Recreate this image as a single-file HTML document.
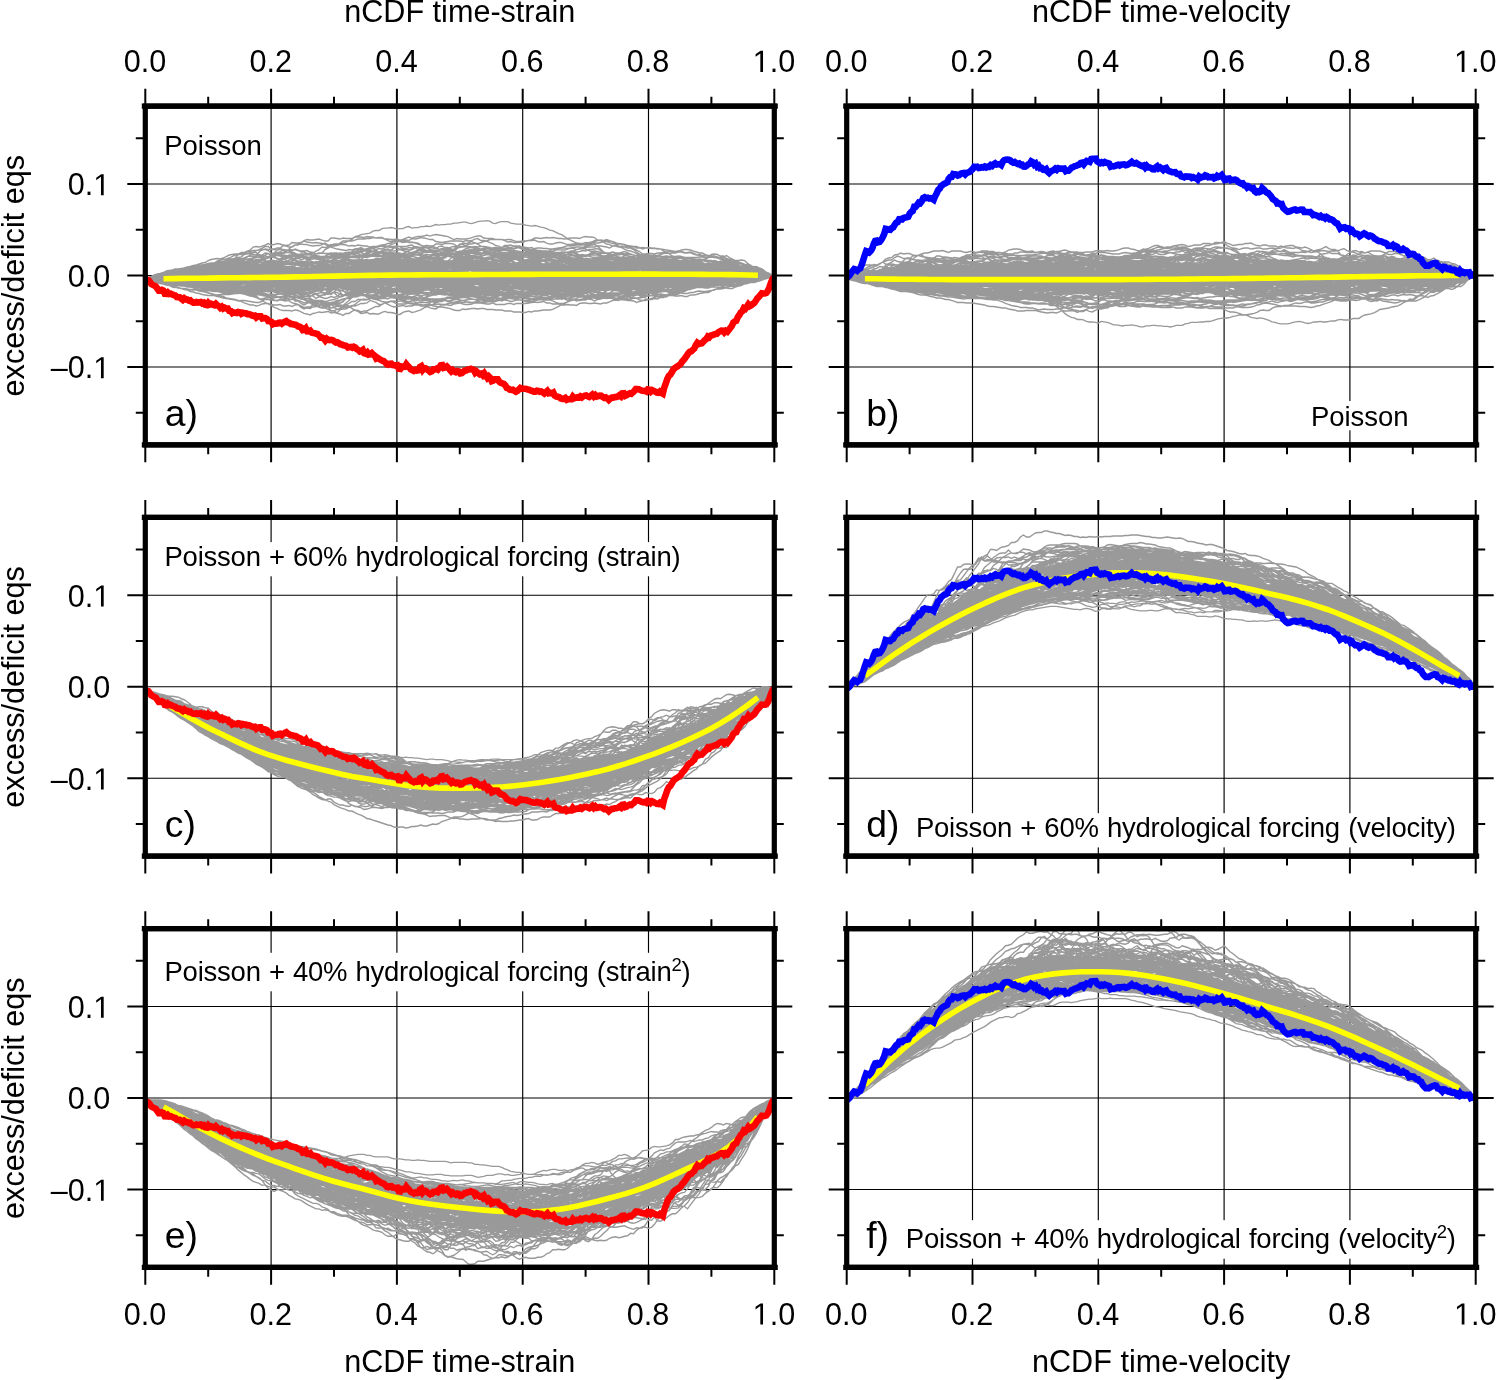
<!DOCTYPE html>
<html><head><meta charset="utf-8"><title>nCDF excess/deficit</title>
<style>html,body{margin:0;padding:0;background:#fff}body{width:1496px;height:1380px;overflow:hidden}svg{display:block;will-change:transform}text{font-family:"Liberation Sans",sans-serif;fill:#000}.a{font-size:30.6px}.t{font-size:27.5px}.l{font-size:37.3px}.g{fill:none;stroke:#999;stroke-miterlimit:3.3}.t2{font-size:27.5px;letter-spacing:-0.235px;word-spacing:0.8px}.t{letter-spacing:-0.05px}</style></head><body>
<svg width="1496" height="1380" viewBox="0 0 1496 1380">
<rect width="1496" height="1380" fill="#fff"/>
<g>
<clipPath id="c00"><rect x="145.3" y="106.15" width="629" height="338.7"/></clipPath>
<path d="M271.1 106.15V444.85M396.9 106.15V444.85M522.7 106.15V444.85M648.5 106.15V444.85M145.3 367H774.3M145.3 275.5H774.3M145.3 184H774.3" stroke="#000" stroke-width="1.15" fill="none"/>
<g clip-path="url(#c00)">
<g transform="translate(145.30 275.50) scale(0.49921)">
<path fill="#999" stroke="#999" stroke-width="1" d="M0 7L6 7L12 7L18 5L24 2L30 -1L36 -3L42 -4L48 -6L54 -9L60 -10L66 -11L72 -13L78 -13L84 -14L90 -15L96 -17L102 -18L108 -20L114 -21L120 -21L126 -21L132 -22L138 -24L144 -25L150 -25L156 -28L162 -28L168 -28L174 -33L180 -33L186 -33L192 -33L198 -33L204 -22L210 -22L216 -22L222 -22L228 -22L234 -23L240 -23L246 -29L252 -28L258 -28L264 -28L270 -18L276 -18L282 -18L288 -17L294 -15L300 -15L306 -15L312 -15L318 -15L324 -15L330 -15L336 -15L342 -15L348 -27L354 -28L360 -21L366 -21L372 -21L378 -21L384 -21L390 -17L396 -17L402 -17L408 -17L414 -17L420 -31L426 -31L432 -31L438 -31L444 -31L450 -31L456 -31L462 -31L468 -32L474 -34L480 -34L486 -40L492 -45L498 -45L504 -32L510 -32L516 -32L522 -32L528 -32L534 -33L540 -33L546 -33L552 -33L558 -29L564 -29L570 -29L576 -29L582 -29L588 -29L594 -29L600 -11L606 -11L612 -11L618 -11L624 -11L630 -45L636 -5L642 -5L648 -5L654 -5L660 -5L666 -30L672 -30L678 -28L684 -28L690 -28L696 -24L702 -24L708 -24L714 -24L720 -24L726 -24L732 -24L738 -24L744 -24L750 -25L756 -25L762 -31L768 -31L774 -31L780 -50L786 -23L792 -23L798 -23L804 -23L810 -23L816 -25L822 -25L828 -31L834 -20L840 -20L846 -20L852 -20L858 -20L864 -35L870 -34L876 -34L882 -33L888 -33L894 -33L900 -33L906 -33L912 -36L918 -37L924 -27L930 -27L936 -27L942 -27L948 -27L954 -36L960 -36L966 -36L972 -35L978 -7L984 -7L990 -7L996 -7L1002 -7L1008 -40L1014 -35L1020 -35L1026 -35L1032 -35L1038 -32L1044 -32L1050 -32L1056 -30L1062 -30L1068 -30L1074 -30L1080 -30L1086 -30L1092 -32L1098 -32L1104 -26L1110 -23L1116 -23L1122 -23L1128 -23L1134 -23L1140 -24L1146 -24L1152 -28L1158 -28L1164 -29L1170 -30L1176 -30L1182 -19L1188 -19L1194 -19L1200 -19L1206 -18L1212 -18L1218 -15L1224 -13L1230 -8L1236 -5L1242 -2L1248 2L1254 2L1260 2L1260 2L1254 2L1248 2L1242 4L1236 5L1230 7L1224 9L1218 11L1212 13L1206 14L1200 14L1194 13L1188 13L1182 13L1176 13L1170 13L1164 20L1158 19L1152 19L1146 19L1140 19L1134 19L1128 23L1122 23L1116 24L1110 24L1104 24L1098 24L1092 24L1086 26L1080 28L1074 28L1068 28L1062 24L1056 24L1050 24L1044 24L1038 24L1032 24L1026 32L1020 33L1014 36L1008 36L1002 36L996 36L990 28L984 28L978 28L972 28L966 28L960 37L954 30L948 30L942 29L936 29L930 29L924 29L918 29L912 30L906 30L900 30L894 34L888 34L882 34L876 34L870 36L864 42L858 42L852 33L846 33L840 33L834 33L828 33L822 37L816 37L810 37L804 37L798 37L792 38L786 38L780 38L774 29L768 29L762 28L756 27L750 27L744 17L738 17L732 17L726 17L720 17L714 28L708 28L702 28L696 40L690 40L684 40L678 18L672 18L666 18L660 18L654 18L648 18L642 42L636 44L630 44L624 44L618 39L612 39L606 24L600 24L594 24L588 24L582 24L576 24L570 24L564 29L558 29L552 29L546 36L540 36L534 37L528 37L522 33L516 32L510 21L504 21L498 21L492 19L486 19L480 19L474 19L468 19L462 24L456 24L450 34L444 34L438 34L432 34L426 30L420 28L414 28L408 28L402 25L396 25L390 25L384 25L378 25L372 22L366 22L360 22L354 22L348 22L342 31L336 30L330 30L324 30L318 30L312 30L306 32L300 37L294 37L288 38L282 37L276 37L270 23L264 23L258 23L252 23L246 23L240 32L234 32L228 32L222 39L216 39L210 17L204 17L198 17L192 17L186 17L180 36L174 36L168 36L162 33L156 32L150 32L144 31L138 30L132 30L126 30L120 30L114 29L108 25L102 23L96 23L90 21L84 21L78 20L72 20L66 20L60 20L54 19L48 17L42 16L36 15L30 13L24 12L18 9L12 7L6 7L0 7Z"/>
<path class="g" stroke-width="2.80" d="M0 7l6-1 6 1 6 1M264 -24l6 2 6-1 6-1 6 2 6-2 6-1 6 0 6 0 6 0 6 0 6 2 6-1 6-1 6 1 6 0 6 1 6-2 6 0 6 3 6 1 6 1 6 0 6-2 6 0 6 1 6-3M720 16l6 1 6-1M1224 -10l6 1 6 1 6 3 6 1 6 3 6 3M0 7l6-1 6 2 6 0M630 -3l6-2 6-3 6-1 6-2 6 0 6 1M1050 23l6 2 6 1 6-3M1236 4l6 1 6-2 6-1 6 0M0 7l6 2 6 1 6 1 6 1 6 1 6 2 6 1 6 1 6 0M72 19l6 1 6 0 6 2 6 0 6 1 6 1M180 28l6-1 6 0 6-3 6 0 6 0 6-3M630 -10l6-1 6-1 6 0 6 0 6 0 6-2M918 -28l6-3 6-2 6 0 6 0 6 0 6-2M972 -30l6 2 6 3 6 1 6 4 6 2 6 0M1080 -29l6-1 6 0 6-1 6-1 6 0 6 1 6 3 6 0 6 0 6-2 6 2 6 2M1236 -2l6-1 6 3 6 0 6 2M0 7l6 0 6-1 6 3 6 0M714 17l6 3 6 0 6-3 6-3M972 -9l6 0 6 0 6-2 6 0 6 2 6-3M1242 1l6 0 6 2 6-1M0 7l6-2 6-2 6-1 6-2 6-1 6 0 6-2 6-3 6-1M72 -11l6-2 6-2 6-1 6-2 6 0 6-2 6-1 6-1 6-2 6-1 6 0 6 0 6-1 6-1 6 0 6-2 6 0M186 -29l6-4 6-2 6-3 6-1 6 1 6 0 6 2 6-1 6-4 6-3 6 3 6 1 6 0 6 1 6 2 6-1 6-3 6 0 6-1 6 2 6 1 6 1 6 2 6 0 6 1 6-2 6-1 6 3 6-2 6 5 6-3 6-2 6 1 6 0 6 2 6 2 6 0 6 1 6 1M594 -27l6 0 6-2 6 2 6 2 6 2 6 1 6-3 6 2 6 1 6 3 6 1 6 2M984 27l6 1 6 0M1026 26l6 1 6-4M1242 1l6 0 6 0 6 1M0 7l6 0 6-2 6 1M1242 -1l6-1 6 2 6 2M0 7l6 1 6-1 6-3 6-1M120 -19l6-2 6-1 6-2 6-3 6-2 6 1 6-2 6-3 6 0 6-1 6-2 6 2 6 1 6 0 6 1 6 1 6 1 6-2 6-1 6-2 6-3 6-2 6-4 6 1 6 0 6 4 6 1 6-3 6 0 6 2 6 1 6 2 6-2 6 3 6-2 6-2 6 0 6 0 6 3 6-3 6-3 6-1 6 0 6 2 6-2 6-1 6 0 6 0 6-4 6-3 6-1 6-1 6 1 6-2 6 0 6-2 6-1 6-3 6-1 6 1 6 2 6 2 6 1 6-3 6 0 6 0 6 0 6-2 6-1 6 4 6 5 6 0 6 4 6 0 6-1 6 0 6-1 6-1 6 0 6 0 6-1 6-1 6 3 6 2 6 1 6-1 6 4 6 2 6 4 6 2 6 0 6 3 6-1 6 3 6 3 6 2 6 2 6 1M1224 6l6 1 6 0 6-1 6-2 6-1 6-1M0 7l6-1 6-1 6-2 6-1 6 0M210 -19l6-3 6-3 6-3 6-2 6-3 6-2 6-2 6 1 6 2 6 5 6 1 6 1 6 2 6 1 6 2 6 2 6 0 6 2 6-2 6-2 6 0 6 2 6 0M384 -19l6-2 6-1 6-2 6-4 6-3 6 0 6 0 6 0 6 0 6 0 6 1M630 -5l6 0 6 2M972 -16l6 0 6-2 6 1 6-2 6 0 6 2M1164 13l6 1 6-1 6 0 6 1 6-1 6 0M1218 10l6 0 6 0 6-1 6-3 6-1 6-1 6-2M0 7l6 2 6 1 6 1 6 1 6 1 6 3 6 1 6 0 6 0M72 19l6 1 6 0 6 1 6 1 6 1 6 1M120 28l6 2 6 1 6 1 6 0 6 0 6 0 6 1 6 1M180 35l6 0 6-1 6-1 6-1 6-2 6 0M240 29l6-1 6 2 6-1 6 0 6 4 6-1M300 34l6 1 6 1 6 2 6 0 6-2 6-6 6-1 6-1 6-1 6 0 6 2 6-1 6 0 6-1 6-4M714 19l6-2 6-1M1230 -4l6-2 6 2 6 3 6 0 6 3M0 7l6-2 6-2 6 0 6-2 6-1 6-2 6-2 6-1M618 -8l6-3 6-5 6-3 6-2 6-3 6-3 6-1 6-2 6-1 6 4M690 -26l6-2 6 1 6-4 6 0 6 2 6 3 6 2 6 1M1230 -5l6 0 6 1 6 1 6 2 6 3M0 7l6-1 6 0 6 1M180 21l6-4 6 1 6-1 6 0 6 2 6-3M594 -11l6-2 6 0 6-3 6-2 6-1 6-3 6-1 6 2 6 1 6-1 6 2 6-2M1164 13l6 0 6 0 6 0 6 0 6-1M1224 8l6-1 6-1 6 0 6-3 6-2 6 1M0 7l6 0 6-1 6 1M450 28l6 1 6-1 6 2 6 3 6-1 6 0 6 1 6-1 6-1 6 1 6 0 6-1M564 26l6 0 6 4 6 0 6 0 6-1 6 5 6 3 6 1 6 1 6 1M642 39l6-3 6 0 6-1 6-4 6-5 6-3 6-1M828 -22l6-3 6-3 6 0 6 1 6 1 6 0M996 -6l6-2 6-4M1242 0l6 1 6-1 6 2M0 7l6-1 6 0 6-2 6-1M594 -26l6-1 6-2 6 4 6 0 6-2 6-2 6 3 6-1 6-2 6 0 6-1 6-1 6-1 6-2 6-2 6-1 6-1 6-4 6 1 6-3 6 0 6 0 6-1 6 0 6 0 6 1 6 0 6-1 6-3 6 0 6 0 6-2 6 1 6 0 6 0 6 4 6 0 6-1 6 0 6 0 6 0 6 0 6-3 6 0 6-3 6-1 6-1 6 1 6 3 6 2 6-1 6 1 6 4 6-2 6 1 6 0 6-2 6 2 6 0 6 0 6 2 6 1 6 0 6 1 6 2 6 1 6 1 6-5 6 1 6 1 6 3 6 3 6 1 6 1 6 1M1230 -7l6 2 6 1 6 2 6 2 6 2M0 7l6-1 6-1 6-2 6-1 6 1M714 17l6 2 6 0 6-3 6 0 6 2 6-2M822 34l6-1 6-1M1236 -4l6 1 6 0 6 2 6 3M0 7l6 2 6 0 6 1 6 2 6 0M180 30l6 2 6 1 6 1 6 0 6 1 6 2 6-1 6-1 6 2 6 3 6 3 6-1 6 0 6 0 6 3 6 0 6-2 6-2 6 1 6 6 6 2 6 2 6 3 6-2 6 2 6 1 6-2 6 3 6-1 6 3 6 2 6 4 6-1 6 4 6-2 6-4 6-3 6-3 6-4 6 0 6-4 6 0 6 1 6-1 6-1 6-3 6-1 6 0 6-1 6 1 6-2 6 1 6 0 6 2 6 0 6 0 6 2 6 0 6-1 6 1 6 1 6-1 6 0 6-3 6-4 6-1 6 1 6-4 6-5 6-1 6-1 6-2M960 29l6 1 6 2 6 2 6 4 6 0 6-2 6-1 6 1 6 0 6-1 6-1 6-1 6-1 6 0 6-2 6-3 6-1 6-1M1080 25l6 3 6 0 6-3 6-1 6-2M1164 15l6 0 6-1 6-1 6 0 6 1 6-1 6 1 6-1 6-1 6-2 6-1 6-2 6-1 6-1 6-1 6-2M0 7l6 1 6-1 6-2 6-3 6-1M198 -28l6 0 6 3 6 5M288 -13l6-2 6 4M642 31l6 1 6-1 6 0 6-1 6 2 6-2 6-1M696 30l6 0 6 0 6-3 6 1 6-2 6 0 6-2 6-3 6-4M1230 -7l6 2 6 2 6 2 6 0 6 3M0 7l6 2 6 1 6 0 6 1M636 -3l6-2 6 1 6-2 6-2 6-1M972 -12l6 1 6-2 6-2 6 1 6 2 6 2M1230 -5l6-1 6 1 6 2 6 3 6 2M0 7l6 1 6 2 6 0 6 2 6 2 6 3 6-1 6 0M594 -25l6 1 6-2 6-1 6-1 6-1 6 2 6-2 6 0 6 3 6-1 6-1 6 0 6-1 6-3 6-3 6 0 6-3 6 1 6-1 6 0 6 2 6 0 6 2 6 2 6 0 6 3 6 2 6 0 6-3 6-2 6 0 6 1 6-1 6 1 6-2 6 1 6 1 6 2 6-2 6-2 6-2 6 2 6 1 6 0 6 0 6-2 6 1 6 2 6-2 6 0 6-1 6-2 6 0 6 1 6-1 6-3 6-2 6-2 6-1 6-2 6-2 6 2 6 3 6 2 6 2 6 2 6-4 6 0 6 2 6-1 6 0 6 0 6 1 6 2 6 3 6 2 6 1 6 1 6 1 6-1 6 1M1242 2l6-1 6 0 6 1M0 7l6 0 6 0 6-3 6-1M288 -13l6-3 6 2M318 -13l6-2 6 2M594 -20l6 1 6 0 6 1 6 1 6 0 6-1 6 0 6 1 6 0 6 2 6 2 6 0M1236 -4l6 0 6 2 6 1 6 3M0 7l6 2 6 1 6 0 6 1M384 -17l6-2 6-2 6 1 6-2 6-1 6 0M594 -18l6 0 6 1 6 0 6 0 6 2 6 0 6 0 6 1 6 2 6-1 6-2 6 2M972 -13l6 1 6-3 6-4 6-2 6-2 6-1M1236 -4l6-1 6 4 6 1 6 2M0 7l6-1 6-1 6-1 6-1M204 15l6 3 6 0M504 20l6 1 6 2M546 26l6 4 6 4 6 3 6 2 6 0 6 0 6-2 6 1 6 1 6-1 6 1 6-2M642 34l6-2 6-3 6-2 6-3 6-4 6 1 6-1M714 16l6 1 6-1 6 0 6 1 6-3M984 -5l6-2 6-1 6-2 6-2M1242 -1l6 2 6 2 6-1M0 7l6 0 6 0 6-1M552 -28l6-1 6-1 6 2 6-3 6-2 6-1 6-2 6-2 6-1 6 2 6 2 6-1 6 0 6 1 6 0 6 1 6-1 6 1 6-1 6-1 6 1 6 0 6 2 6 2 6 1 6 2 6 2 6 1 6 4M1242 3l6 0 6 0 6-1M0 7l6-1 6-1 6-1 6-2 6-1M264 -23l6-1 6 0 6-4 6-3 6-2 6-2 6-2 6-3 6-1 6 0 6-2 6-2 6-4 6-3 6-5 6 1 6-1 6-5 6 1 6 0 6-4 6-4 6 0 6 0 6 0 6-2 6-2 6 0 6 0 6-1 6 0 6-2 6 1 6 0 6 0 6 2 6 3 6 2 6-1 6-1 6 0 6-2 6-3 6-2 6 2 6-2 6-1 6 0 6-1 6-2 6 2 6-2 6-1 6 1 6 1 6 1 6 1 6 3 6 3 6-2 6 1 6 0 6 0 6-1 6-2 6-2 6-1 6 0 6 4 6 1 6 0 6 0 6 2 6 0 6 0 6 2 6 3 6-1 6 2 6 0 6-1 6 1 6-3 6-1 6-2 6-3 6 0 6 1 6-1 6-1 6 1 6-1 6 1 6 1 6 0 6 1 6-1 6-1 6 0 6 0 6 1 6-3 6-1 6 1 6 0 6 1 6 6 6 0 6 3 6 4 6 1 6 3 6-2 6 3 6 2 6 3 6 3 6 1 6 2 6 3 6 4 6 0 6 1 6 2 6 1 6 1 6 2M1242 1l6-1 6-1 6 3M0 7l6 0 6 0 6 0M294 -13l6-2 6 2M918 -36l6-1 6 2 6 4 6 4 6 1M972 -29l6 0 6-3 6 0 6 2 6 1 6 3M1230 6l6-1 6 0 6-1 6-1 6-1M0 7l6 1 6 2 6 1 6 0M132 28l6 2 6 2 6 1 6 2 6 1 6 1 6-2 6-2 6-1 6 1 6 1 6 2 6-1 6 3 6 0 6 1 6-2 6 1 6 1 6 3 6 1 6 1 6-2 6 1 6-3 6 1 6 2 6 2 6-2 6 2 6 4 6 2 6 1 6 2 6 3 6-5 6 0 6 2 6 2 6-1 6 4 6 1 6-1 6 1 6-5 6-5 6-6 6-2 6-4 6-1 6-4M450 28l6-3 6-2 6-2 6-5M498 18l6 3 6 0 6 3M564 27l6 3 6-1 6 4 6 1 6-2 6 1 6 0 6 0M642 35l6 0 6 1 6 1 6-1 6 0 6-2 6 0M696 32l6-1 6 0 6 2 6-4 6 2 6-2 6-2 6-1 6-4M960 26l6 3 6-3M984 27l6 1 6 1M1026 30l6-1 6-1 6 2 6-1 6-1 6-1 6 1 6-2M1128 18l6 1 6-2M1242 2l6 1 6-1 6 0M0 7l6-2 6-1 6 0 6 3M42 15l6 2 6 1M72 19l6 1 6 0 6 1 6 0M180 24l6 1 6 2 6 1 6 2 6 0 6 0M240 30l6-1 6 2 6 2 6 0 6-2 6-2M480 17l6 2 6 3 6-1 6-2M648 -3l6-4 6-4 6 0M1236 4l6 0 6-1 6 0 6-1M0 7l6-2 6-1 6 0 6-1M120 -20l6-1 6-1 6-1 6-1 6-2 6-1M198 -26l6 2 6 0 6-2 6-3 6-3 6-1 6 4 6 4M258 -27l6-4 6-3 6-2 6 0 6-2 6-2 6 0 6 1 6 2 6 2 6 4 6 1 6 3 6 1 6 1 6-3 6 0 6 0 6 2 6 2 6-1 6-2 6-3 6 0 6 0 6-1 6 3M438 -28l6-3 6 3 6-2 6-2 6 1M630 -8l6-4 6-4 6-2 6-3 6-1 6 0M1224 -7l6-1 6-1 6 2 6 3 6 3 6 3M0 7l6-2 6-2 6-1 6-1 6-2 6-1M198 -28l6 2 6 0 6-1 6 0 6 4 6 4M264 -22l6-3 6-1 6-1 6-3 6-3 6-1 6-3 6-5 6 0 6-1 6 0 6 3 6 0 6 2 6 1 6 2 6-1 6 0 6 2 6 0 6-1 6 0 6 2 6 0 6 4 6 3M594 -21l6-2 6 0 6 1 6-1 6-1 6-1 6-3 6 2 6 0 6-2 6 0 6 2M690 -24l6-3 6-2 6-1 6-3 6-3 6-2 6 0 6-1 6-1 6 1 6-1 6-1 6-1 6-1 6 1 6 2 6 1 6 0 6 0 6 2 6 0 6 0 6-1 6-1 6 2 6 1 6 1 6 0 6 1M918 -33l6-1 6-1 6 0 6 0 6-2 6 3M972 -34l6-3 6 2 6 2 6 2 6 2 6 0M1050 -31l6 0 6-1 6 2 6 0 6 0 6 0 6 1 6 2 6 0 6-1 6-2 6 1 6 2 6-1 6 2 6 2 6 3M1176 -21l6 2 6 1M1242 -1l6 0 6 1 6 2M0 7l6 1 6 1 6-1M78 19l6 2 6 0 6 2 6 2 6 2 6 1M180 30l6 0 6 0 6 0 6 0 6-1 6-1M594 -24l6-5 6 0 6 0 6-2 6-1 6 0 6-4 6-4 6 0 6 0 6-1 6-3 6 1 6-3 6 0 6 2 6-2 6 1 6 2 6-1 6 0 6 1 6-1 6 0 6-2 6 0 6 0 6-1 6-1 6-1 6-1 6 0 6 2 6 0 6 3 6 1 6 0 6 0 6 0 6-1 6 3 6 1 6 0 6 2 6 1 6 1 6 5M918 -28l6-1 6 3M972 -18l6 3 6-1 6 3 6 2 6-1 6 0M1236 -4l6-1 6 3 6 1 6 3M0 7l6 1 6 1 6 1 6-3M180 28l6 2 6 1 6 2 6 1 6 1 6-5M240 26l6 0 6-3 6-1 6 3 6 2 6-2M666 16l6 2 6-1M714 19l6 3 6 1 6-1 6 1 6 0 6 1M1230 -2l6-3 6 3 6 0 6 3 6 1M0 7l6 0 6 3 6-1 6-1M342 28l6 2 6 4 6 3 6-3 6 2 6-2 6 6 6 3 6-3 6 0 6-5 6-5 6 1 6 8 6 0 6 0 6 3 6-2 6-1 6-2 6 4 6 0 6-1 6 0 6 2 6 2 6 1 6 1 6 0 6 1 6 0 6 0 6 6 6 2 6-1 6 0 6 0 6 0 6-2 6-2 6-2 6 2 6-1 6 2 6-1 6-1 6-2 6 2 6 1 6-1 6-1 6-1 6 1 6 3 6 2 6 1 6-1 6-1 6-2 6-1 6 0 6-1 6-2 6-1 6 1 6 1 6 1 6 1 6 0 6 1 6 0 6-2 6 0 6 0 6 0 6 1 6 0 6 0 6 2 6 3 6 2 6 0 6 0 6-3 6-3 6-1 6 2 6-2 6-1 6-1 6 0 6 1 6 3 6-3 6-1 6-2 6-1 6-1 6-1 6-3 6-2 6-6 6-4M1110 21l6 3 6 1 6 0 6-2 6 0 6 0 6 1 6 0 6 1 6 1 6 0 6-3 6-2 6-1 6-3 6-1 6-2 6-2 6 0 6-2 6-3 6-1 6-1 6-2 6-1M0 7l6 0 6 1 6 2 6-2M588 22l6 2 6-3M642 28l6-2 6-1 6-2 6 2 6-2 6-4 6-2M708 25l6 3 6 1 6 0 6 2 6-1 6 5 6 1 6-1 6-1 6-3 6 0 6-1M822 36l6 1 6-1 6-3 6 1 6-1 6 0M894 31l6-1 6-3M1230 -2l6-3 6 1 6 1 6 1 6 4M0 7l6-1 6 2 6 0M336 -14l6-2 6-3 6-4 6-3 6-2 6-2 6-4 6 1 6-2 6-2 6 1 6-1 6 0 6 0 6 1 6-1 6-2 6-2 6-1 6 1 6 1 6 0 6 0 6-3 6 1 6 1 6 0 6-1 6 0 6-2 6-2 6-4 6-2 6-3 6-2 6 6 6-1 6 2 6 2 6-2 6 1 6 1 6 1 6 1 6-3 6 4 6 3 6 0 6 0 6 4 6 1 6 0 6 0 6 2 6 4 6-1 6 1 6 2 6 1 6-1 6-1 6 0 6 0 6 2 6-1 6-2 6-2 6-1 6 0 6 2 6 1 6-1 6 0 6 1 6-3 6 3 6 2 6 4 6 0 6 0 6-1 6-1 6 0 6 0 6 1 6 1 6 0 6-1M972 -22l6 0 6-2 6-1 6 0 6 0 6-1M1032 -30l6-2 6-1 6 1 6 0 6-1 6-1 6-1 6 1 6 0 6 0 6 1 6 1 6 2 6 0 6-1 6 1 6 0 6 2 6 1 6 0M1224 -12l6 2 6 2 6 2 6 5 6 1 6 2M0 7l6 0 6 0 6 1M594 -28l6 1 6 1 6 1 6 4 6 4 6 2 6-1 6 2 6 0 6 2 6 2 6 1M972 -28l6-4 6-2 6 0 6-1 6 2 6 2M1230 6l6-1 6-1 6 0 6 0 6-2M0 7l6 2 6 1 6-1 6-4M828 -20l6-1 6 0 6 1 6 3M1242 1l6 1 6 0 6 0M0 7l6 0 6 2 6-4 6 0M186 16l6 2 6-3M642 29l6 4 6 2 6-1 6-3 6 1 6 3 6 0M696 39l6 0 6-1 6 3 6 2 6 0 6 0 6 1 6 1 6 0 6 0 6 0 6 0 6 2 6-2 6 0 6 0 6 1 6 2 6 0 6-1 6 0 6-3 6 0 6-2 6-2 6-2 6-1M870 34l6 0 6 0 6 0 6 4 6 3 6-4 6-1 6 1 6 3 6 4 6 2 6 1 6-3 6 0 6-2 6 2 6-3 6-5 6-5 6-3 6-3M1236 0l6-2 6 0 6 5 6-1M0 7l6 0 6-2 6-1 6-2 6-1M198 -26l6-2 6-3 6 3 6-1 6-3 6 1 6-1 6-5 6-5 6-3 6-6 6-3 6-6 6 1 6 2 6 0 6-4 6-1 6-1 6 1 6 0 6 2 6 1 6-1 6 0 6-2 6-3 6 4 6 1 6-3 6 0 6 0 6-2 6-2 6-3 6-2 6-6 6-1 6-3 6-1 6-1 6-1 6-4 6-1 6 0 6-4 6-1 6 0 6-1 6 1 6 2 6-1 6 0 6-3 6-1 6 3 6-1 6 0 6-2 6 0 6-1 6 1 6-2 6-2 6 1 6-1 6 0 6-1 6 0 6-2 6 0 6-1 6-1 6 0 6 2 6 1 6-2 6-2 6-1 6 0 6-1 6 1 6 4 6 1 6-3 6-1 6 0 6 0 6 3 6 1 6 1 6 0 6 0 6 2 6 1 6 1 6-1 6 1 6 2 6 1 6 2 6 3 6 1 6 3 6 3 6 2 6 4 6 5 6 2 6 3 6 3 6 1 6 0 6-2 6 1 6-1 6 1 6 0 6-1 6-2 6 0 6 2 6 2 6 0 6 5 6 2 6 0 6-2 6 0 6 1 6 3 6 0 6-1 6 1 6-1 6 1 6 1 6 0 6 1 6 4 6 2 6 4 6 4 6 2 6-1 6 3 6 4 6 3M1104 -24l6 1 6 4M1242 0l6 3 6 0 6-1M0 7l6 1 6 1 6-2M1242 0l6 1 6 0 6 1M0 7l6 2 6 1 6 1 6 2 6 0 6 0M180 33l6 1 6 2 6 1 6 2 6 2 6 1 6 2 6 3 6 0 6-2 6-1 6-3 6 0 6-3 6-1 6-1 6 1 6-1 6-1 6 3 6-2 6-5 6-3M342 26l6-1 6-1 6-2 6-2M462 20l6 1 6-1 6-2M972 -15l6-1 6-2 6 0 6 2 6-3 6-2M1236 -3l6 1 6 1 6 0 6 3M0 7l6-1 6-1 6 2M258 22l6 2 6 2 6 3M300 32l6 3 6 1 6 5 6 1 6 0 6-3 6-2 6-2 6-1 6 1 6-2 6 5 6-5 6-5 6 1 6 1 6 5 6-1 6-5 6-2M564 27l6-1 6 1 6 1 6 1 6 0 6-1 6-2 6 1M642 29l6 2 6 1 6 1 6 0 6 0 6 0 6-1M714 23l6-1 6-3 6-4M936 -25l6-2 6 1M972 -30l6 1 6-1 6-3 6-1 6 0 6 0 6-1 6-2 6-3 6-2 6-2 6-1 6 1 6-1 6 0 6-2 6 0 6 2 6-1 6-1 6 2 6 3 6 2 6 2 6 1 6 1 6-1 6 1 6-1 6 2 6 4 6 5M1176 -23l6 1 6 1 6 5M1224 -9l6 0 6 1 6 5 6 3 6 0 6 2M0 7l6 2 6 0 6 0 6-1M240 25l6 3 6 2 6 0 6 1 6 0 6 0M300 33l6 1 6-3 6-3M462 22l6 2 6-1 6 0 6 2 6 3 6 1 6 2 6-1 6-1M546 31l6 1 6 2 6 2 6-1 6 3 6-1 6-2 6-1 6 0 6-2 6-1M642 23l6-2 6-3 6-3M972 -9l6-2 6-2 6 0 6 1 6 0 6-1M1242 3l6 0 6-1 6 0M0 7l6-1 6-2 6-1 6 0M528 -30l6-3 6 1 6-1 6 0 6 0 6-1 6-1 6 2 6 1 6 4 6 0 6 2 6 4 6 2 6-1 6 2 6 4 6 2 6 0 6-2 6 1 6-2 6 0M720 -23l6-2 6 2 6-1 6-1 6-2 6 0 6 3M780 -23l6-2 6 2 6 3M810 -22l6-3 6-3 6 1 6 0 6 1 6 2 6 1 6-2 6-1M888 -30l6-3 6-2 6 3 6-2 6-4 6-1 6 1 6 2 6-1 6 0 6 1 6-4 6 1 6 1 6 3 6 3 6 5 6 2 6 3 6-1M1230 -5l6 0 6 3 6 0 6 1 6 3M0 7l6-2 6-2 6-2 6-3 6-1 6-2 6-2 6-1 6-2 6 0 6-2 6-2 6-1 6-2 6-1 6-2 6-1 6-2 6-2 6-1 6-4 6-2 6-1 6-1 6 1 6-2 6-3 6-3 6-1 6-1 6 0 6-2 6 0 6-2 6-1 6-2 6 0 6-1 6-1 6 0 6 2 6 5 6 1 6-2 6-1 6-4 6 1 6-2 6 1 6-1 6 2 6 1 6 0 6-1 6 3 6 1 6 3 6-1 6-1 6 1 6 0 6 0 6-1 6 0 6 3 6 2 6 1 6-1 6 3 6 1 6 1 6 3 6 1 6-1 6 2M498 -40l6 0 6-1 6-2 6 1 6-2 6 0 6 2 6 1 6 2 6 0 6 0 6 4 6 2 6 0 6 0 6 3 6 1 6 1 6-1 6 2 6 1 6 0 6 3 6 0 6-2 6-2 6 2 6 0 6-4 6-3 6 0 6-1 6-2 6-2 6-2 6 0 6-1 6 1 6 3 6-1 6 4 6 2 6 1 6 0M780 -29l6 0 6 1 6-1 6 0 6 0 6-1 6 4 6 1 6 5 6 1M852 -19l6-2 6-2M972 -15l6 0 6-2 6-1 6 2 6 2 6 0M1224 -6l6-2 6 1 6 2 6 2 6 3 6 2M0 7l6-2 6 0 6-1 6 1M450 26l6-1 6 2 6 2 6-2 6-2 6-4 6-2 6-3M648 17l6 3 6 2 6 1 6 2 6 3 6 0M702 27l6 1 6-2 6-1 6 0 6 0 6 0 6 2 6 0 6 0 6-1M1242 3l6 1 6 0 6-2M0 7l6 2 6 1 6-1 6 0M228 -19l6-5 6-3 6 1 6-3 6 0 6 5 6 4 6 1 6 1 6 0 6-1 6 2 6 5M642 -4l6-1 6 0 6 3M972 -9l6-1 6-2 6 1 6 0 6-1 6 2M1242 -1l6 1 6-1 6 3M0 7l6-1 6-1 6-2 6 0M552 -30l6-3 6-1 6-4 6-2 6 0 6-1 6-1 6 1 6-2 6 0 6-2 6 1 6 2 6 1 6-2 6 0 6-2 6 0 6 0 6 1 6-2 6 0 6 3 6 2 6 2 6 2 6 0 6 0 6 0 6 0 6 1 6 0 6 1 6-2 6 0 6 1 6 1 6 1 6-4 6-3 6-2 6 2 6 1 6-1 6 0 6 1 6 3 6-2 6-3 6 1 6 0 6 2 6 2 6 3 6 2M972 -10l6 2 6 1 6 2 6-3 6-1 6 0M1122 -20l6-3 6 0 6 1M1236 -2l6 0 6 0 6 1 6 3M0 7l6 2 6 2 6 2 6 2 6 0 6 1 6 2 6 2 6 2 6 1 6 2 6 1 6 1 6 1 6 1 6-1 6 0 6 1 6 2 6 0 6 3 6 3 6 1 6 1 6-1 6 0 6 0 6 0 6-1 6-1 6 0 6-1 6 0 6-1 6-2 6 0M240 30l6 3 6-2 6 2 6 2 6 1 6 3 6 1 6-3 6 1 6 2 6 1 6 1 6 3 6 1 6 3 6 3 6 2 6 3 6 3 6 3 6-4 6-2 6-2 6-2 6-2 6-4 6-1 6 0 6-3 6-1 6-1 6-1 6 0 6 2 6 1 6 4 6 1 6 2 6 2 6 1 6 0 6-2 6 3 6 3 6 0 6 0 6 0 6-2 6 0 6 1 6 2 6 1 6 0 6-1 6-1 6 4 6 1 6 1 6-4 6 0 6-3 6-1 6 0 6-1 6 0 6 0 6-1 6 0 6 1 6-1 6-2 6-3 6 0 6-1 6-1 6-2 6-2 6-1 6-2 6 0 6-1 6 1 6-1 6-2 6 0 6 0 6-1 6 1 6 0 6 2 6 1 6-1 6-1 6 0 6 0 6 1 6 1 6 0 6 0 6-1 6 1 6 0 6 1 6 0 6-1 6-2 6-1 6 3 6 1 6 0 6 0 6-2 6-1 6-1 6-1 6-4 6-2 6-1M1236 -4l6 1 6 1 6 3 6 1M0 7l6 2 6 1 6 1 6 0M360 21l6 2 6-1 6 1M450 24l6 5 6 0 6-1 6-3 6 0 6 0 6-1 6-3 6-1 6 1 6-2M576 23l6 1 6 0 6-1M642 34l6 3 6 1 6 1 6 1 6 2 6 0 6-2 6 0 6 1 6-3 6-1 6 0 6 1 6 1 6-1 6-1 6 0 6 0 6-2 6-1 6-1 6 0 6-1M816 36l6 2 6-1 6 0 6 1 6-1 6 0 6-1M876 33l6 1 6 0 6 2 6 2 6 1 6-1 6 1 6 2 6 2 6 1 6 3 6-2 6 0 6 1 6 1 6 1 6-3 6 0 6 4 6 1 6 0 6-2 6 0 6-2 6 1 6-3 6-2 6 1 6-5 6-3 6-2 6-3 6 0 6-1 6-1 6-1 6-1 6-2 6-1M1140 18l6 1 6 0 6 0 6-2 6 1 6-1 6 0 6 0 6 0 6 0 6-2 6-1 6 0 6-1 6-3 6-3 6-2 6-1 6-1 6-1M0 7l6 1 6-2 6 0M180 20l6-2 6-3M576 -28l6-1 6 0 6-1 6 2 6 3 6-1 6 0 6-1 6 1 6 3 6-1 6 1 6 1 6 2 6-1M1230 -6l6 0 6 5 6 2 6 1 6 0M0 7l6-1 6-2 6-1 6-2 6-1M144 -22l6-3 6-3 6-2 6-2 6 0 6-1 6-3 6-1 6-5 6-2 6 1 6-3 6-4 6-2 6-3 6-3 6 0 6 5 6 0 6-2 6 0 6 4 6 4 6 1 6 2 6 0 6 2 6-1 6 0 6 0 6 1 6 1 6 1 6 2 6 0 6 0 6 0 6-1 6 0 6 1 6 0 6-1 6 2 6 1 6 0 6 0 6 0 6-1 6-1 6 0 6-1 6-5 6 0 6 0 6-4 6-1 6 0 6-1 6-5 6 0 6 2 6 1 6 0 6 1 6-2 6-3 6-1 6 1 6 0 6-4 6 1 6 0 6-4 6 0 6 1 6-2 6 0 6 0 6 1 6 4 6-2 6-4 6 1 6-2 6-2 6 3 6 2 6 4 6 2 6 1 6 1 6 4 6 2 6 0 6-1 6-1 6 1 6-1 6 1 6 1 6 1 6 1 6 2 6-1 6 0 6 1 6-1 6 0 6 1 6 1 6-2 6-1 6 1 6 1 6 6 6 0 6 2 6 1 6 2 6 1M1230 6l6-1 6-1 6 0 6-1 6-1M0 7l6 2 6 2 6 2 6 0 6 1 6-1M180 23l6 2 6-1 6 0 6 2 6-1 6-1M240 26l6 1 6 2 6 1 6 0 6 0 6 1M318 29l6 1 6 1 6 3 6 4 6 4 6 2 6 2 6-1 6-3 6 2 6-2 6-5 6 3 6-4 6 3 6 0 6 0 6 0 6-1 6 3 6-4 6-3 6-3 6-2 6 2 6 2 6-2 6 0 6 0 6-1 6-3 6-2 6-1M564 25l6 1 6-1 6-2M1164 13l6 1 6 0 6-3M1242 1l6-1 6 2 6 0M0 7l6 2 6 0 6 0 6 0M180 17l6 3 6 2 6 3 6 0 6 0 6 3 6 3 6 2 6 1 6-2 6 0 6-1 6 1 6-1 6-3 6 1M606 -9l6-2 6-2 6-1 6-2 6-3 6-1 6 0 6 4 6 0 6-2M918 -30l6 0 6-1 6 0 6 1 6 1 6 1M972 -33l6 0 6 1 6 1 6 2 6 2 6 3M1104 -25l6 2 6 1 6 0 6-1 6-1 6 0 6-2 6-3 6 1 6 0M1176 -26l6 2 6 1 6 0 6 1 6 1 6 2 6 1 6 2 6 3 6 3 6 4 6 2 6 2 6 4M0 7l6-2 6-1 6-1 6-1 6-2M342 20l6 5 6 2 6 0 6-2 6 1 6 0 6 2 6 2 6 1 6 2 6 3 6 0 6 2 6-1 6-1 6 2 6 0 6 1 6 0 6 1 6 4 6-1 6 2 6 2 6-3 6-1 6-3 6 2 6 1 6-2 6-3 6-1 6-1 6 0 6-5 6-1 6-2 6-3 6-3M642 21l6 2 6 0 6 0 6 1 6 1 6 4 6 0M702 25l6 3 6 0 6-1 6-4 6-1 6 0 6 1 6-1M1164 14l6 0 6-1 6 0 6-2M1218 10l6 1 6-2 6-2 6-1 6-2 6 0 6-2M0 7l6 1 6 1 6 0 6-2M180 23l6 0 6 2 6-2 6 0 6 0 6 0M240 30l6-3 6-1 6-3 6 1 6 4 6-3M342 28l6-1 6 2 6-1 6 5 6-5 6-4 6 3 6 4 6-3 6-2 6 0M450 32l6 2 6 0 6-2 6-2 6 0 6 0 6-3 6-1 6-2 6 0 6-1M972 -11l6-2 6 1 6-2 6-2 6-3 6-4M1224 -12l6 2 6 1 6 3 6 3 6 3 6 2M0 7l6-1 6-1 6 0 6-2M264 -23l6-1 6 2 6-2 6 0 6 2 6 0 6 0 6 2 6 1 6 0 6 0 6-1 6 3 6 0M384 -20l6 0 6-1 6-1 6-2 6 0 6-1M570 -28l6-2 6-1 6 0 6-3 6 6 6 4 6 1 6 1 6 1 6 2 6 1 6 0 6-2 6-2 6 0 6 3M972 -10l6-1 6-2 6-3 6 1 6-2 6 1M1104 -24l6 1 6-1 6 1 6 0 6 1M1242 3l6 0 6 0 6-1M0 7l6-1 6-1 6 2M642 27l6 1 6-1 6-1 6 2 6 2 6 2 6 1M696 34l6 0 6 0 6-2 6-2 6 0 6 0 6 1 6 3 6 2 6 0 6 0 6-1 6-1 6-1M930 28l6 1 6 0 6 2 6-1 6-1 6-1 6-3M1242 3l6 1 6-1 6-1M0 7l6-1 6-1 6-2 6-1 6-1M324 28l6 5 6 5 6-2 6 4 6 0 6-4 6 2 6-2 6-3 6 1 6 4 6 1 6 1 6 1 6-7 6 2 6-5 6 0M450 32l6-1 6 4 6 1 6 3 6 0 6-1 6 2 6 2 6 0 6-1 6-1 6-4 6-2M630 -6l6-1 6-4 6-1 6-1 6 1 6 0M972 -10l6-1 6 3 6 3M1242 -1l6 1 6 0 6 2M0 7l6 2 6 1 6 1 6 2 6 2 6 2 6 2 6 1 6 3 6 1 6 0 6 2 6 0 6 1 6 1 6 1 6 0 6 2 6 1 6 1 6 2 6 1 6 2 6 2 6 1 6 1 6 3 6 1 6 1 6 1 6 2 6 2 6 3 6 2 6 2 6 0 6 2 6-1 6-3 6-1 6 0 6 2 6 1 6 0 6-1 6 3 6 0 6-1 6 2 6-3 6-1 6 6 6 3 6-2 6 1 6-3 6-1 6-1 6-3 6 1 6-3 6-2 6-1 6-3 6-1 6-2 6-1 6-4 6-5 6-6 6-5M462 19l6 2 6-3 6-2 6 3 6 0 6 0M576 22l6 2 6 3 6 2 6-4 6-1 6 1M642 29l6-3 6 1 6 0 6-2 6-1 6-2 6 0M714 23l6 0 6 1 6 1 6-1 6 1 6 0M762 27l6 2 6 3 6 2M810 36l6 2 6 0 6-2 6-1 6 1 6-1 6-1 6 0M1026 26l6 0 6-1 6-1 6-2 6 1 6 2 6 0M1224 7l6 0 6-1 6 0 6-1 6-1 6-2M0 7l6 2 6 0 6-1M180 29l6 0 6-4 6 0 6 0 6 2 6 3M240 21l6 2 6-3M552 -29l6-3 6-2 6-5 6-2 6 0 6-1 6-5 6 0 6-2 6-1 6-3 6-3 6 0 6-2 6-2 6-3 6 0 6-2 6 1 6-2 6-2 6-1 6-3 6 0 6 0 6 0 6 0 6 1 6-1 6 0 6 2 6 2 6 0 6-1 6 0 6-1 6 0 6-1 6 3 6 1 6-1 6 3 6 2 6 0 6-2 6-1 6 0 6 2 6 2 6 0 6-1 6 0 6-1 6 2 6 1 6-1 6-2 6-4 6-2 6-1 6 1 6 0 6 1 6 1 6 2 6 3 6 0 6 1 6 2 6 1 6 1 6 0 6 2 6 3 6-2 6 0 6 1 6-1 6 2 6 0 6 1 6 1 6 1 6 1 6 1 6-1 6 1 6 2 6 1 6-1 6 3 6 2 6-1 6 2 6-1 6 1 6 1 6 0 6 2 6 2 6 1 6 3 6 5 6 3 6-1 6-1 6 1 6 2 6 0 6 1 6 5 6 4 6 3 6 4 6 2 6 0 6 2 6 3M0 7l6 0 6 0 6 2 6 1M312 29l6 3 6 5 6 11 6 3 6 1 6 1 6 1 6 3 6-3 6 3 6 6 6-1 6 0 6 2 6-1 6 1 6-2 6-4 6-5 6-4 6-2 6 2 6-4 6 0 6 0 6 2 6-1 6 0 6 0 6-2 6 1 6 1 6 2 6 5 6 1 6 2 6 1 6 0 6 1 6 3 6 0 6 1 6 3 6 1 6 1 6-4 6 0 6 1 6 1 6 2 6 2 6 1 6 0 6-3 6 1 6-1 6-1 6 0 6 1 6-1 6 0 6 2 6 0 6 0 6 1 6 0 6 0 6 2 6 0 6 0 6 2 6 0 6 0 6 1 6 0 6-2 6 1 6-2 6 0 6-1 6-1 6 0 6 0 6-1 6-3 6-3 6-4 6-3 6-2 6-2 6-2 6-3 6-3 6 0 6-1 6 0 6-2 6 0 6 1 6-1 6-1 6 0 6 3 6 1 6 4 6 2 6-1 6 1 6-1 6-2 6 0 6-1 6 0 6-1 6-1 6-3 6 0 6 1 6 1 6 2 6 0 6-3 6-1 6 0 6-2 6-1 6-3 6-2 6-5 6-4M1242 0l6 0 6 0 6 2M0 7l6 2 6 1 6 1 6 2 6 1 6 1 6 0M180 21l6 0 6 1 6 1 6 1 6-2 6-3M1230 5l6 0 6 0 6-1 6-1 6-1M0 7l6 0 6-1 6-2 6-1M198 -25l6 0 6-2 6-2 6 1 6-1 6 3 6-2 6 2M264 -27l6-1 6 0 6 2 6 1 6 0 6 0 6 0 6 3 6 2 6 1 6-2 6 2 6 0 6 1 6-5 6-3 6 0 6-3 6-3 6-1 6-4 6 2 6 0 6-2 6 0 6-3 6 0 6 1 6-1 6-2 6 0 6-1 6-2 6-2 6-3 6-2 6-1 6 2 6 2 6-1 6-2 6 2 6 2 6 1 6 2 6 3 6 0 6-1 6-3 6-1 6 0 6 2 6 3 6 1 6-2 6-2 6-1 6-2 6-1 6-4 6-5 6 1 6-1 6 1 6 1 6 0 6 2 6 1 6 0 6-2 6 0 6 0 6-1 6 1 6-1 6-4 6 0 6-1 6 2 6 0 6 0 6 4 6 4 6 1 6-2 6-2 6-1 6 0 6 1 6 0 6 1 6 0 6 0 6-1 6-1 6 0 6 1 6-1 6 1 6 2 6-2 6-2 6 0 6-1 6 0 6 0 6-2 6 0 6 1 6 1 6 2 6-4 6 0 6 2 6-2 6 2 6 2 6 0 6 3 6 5 6 4 6 4 6 3 6 1M1242 0l6 3 6 0 6-1M0 7l6-1 6-2 6-2 6-1 6-1M198 -23l6 0 6 3 6-1 6-2 6 1 6 0 6-3 6-2 6-1 6 2 6-2 6 2 6 0 6-4 6 3 6 3 6 2 6 1 6 1 6 1 6-1 6 1 6 1 6-3 6 1M384 -16l6-1 6 0 6 0 6 2M594 -11l6-2 6 2 6 1 6-1 6 2 6 1 6 1 6 0 6 3 6 0 6-1 6 0M1164 14l6 0 6-2M1236 3l6 1 6-1 6 0 6-1M0 7l6 0 6 1 6 0M714 18l6 2 6 2 6 0 6-2 6 1 6 1M948 28l6 2 6 1 6 2 6 0 6 0 6-3 6 0 6 1M1026 31l6 1 6-1 6 1 6 2 6 1 6-2 6-3 6-3M1086 24l6 0 6 0 6-1M1242 0l6-1 6 2 6 1M0 7l6-2 6-2 6-1 6-1 6-1M198 -26l6-1 6 4 6 4M594 -15l6-4 6 0 6 0 6-2 6-1 6-2 6 0 6-1 6-1 6 1 6-1 6-1M738 -21l6-4 6-2 6 1 6 0M780 -32l6-2 6 0 6-2 6 1 6-2 6-1 6 2 6 1 6 0 6-2 6 3 6 1 6 3 6 1M972 -16l6-3 6-2 6-3 6-1 6-2 6-3M1032 -31l6-1 6 0 6 1 6 1 6 0 6 1M1098 -30l6 1 6 1 6 2 6 3 6-2 6 1 6 0 6-2 6 0M1176 -28l6 2 6 2 6 1 6 2 6 2 6 0 6 2 6 5 6 4 6 2 6 2 6 2 6 1 6 3M0 7l6-2 6-1 6-1 6 0M306 -12l6-5 6-5 6-4 6 0 6 1 6-3 6 1 6 3 6 2 6 1 6 1M384 -18l6-1 6 0 6 2 6 0 6 1M540 -32l6-1 6 3 6 1 6 3M594 -21l6 1 6-3 6 0 6 2 6 0 6 3 6 1 6-2 6-2 6-1 6 0 6 0M1026 28l6 3 6 0 6-1 6 2 6 1 6-2 6-1 6-2 6 0 6 0 6-3 6-3M1236 -3l6-1 6 1 6 2 6 3M0 7l6 1 6-1 6 2 6 2M72 18l6 2 6 1 6 2 6 1 6 1 6 2 6 1 6 0 6 2 6 0 6-1M180 30l6-1 6-2 6 0 6-3 6-4 6-5M594 -19l6-2 6-3 6-2 6 0 6-2 6 2 6-2 6 0 6 0 6-1 6 3 6-1M690 -25l6-2 6-1 6-3 6-2 6-3 6-1 6-2 6-1 6 0 6-1 6-1 6 0 6-1 6 2 6 0 6 1 6-3 6 0 6 0 6 1 6 2 6-1 6 0 6 0 6 4 6 2 6 3 6 4 6 3M936 -26l6-2 6 0 6-2M972 -32l6-2 6 2 6-1 6 2 6 3 6 2M1050 -30l6 0 6-1 6 2M1230 5l6 0 6-1 6-1 6 0 6-1M0 7l6 1 6 0 6-2M978 -6l6-2 6-3 6-1 6-2 6-2M1242 -1l6 0 6 2 6 1M0 7l6 1 6 0 6-1M828 -19l6-2 6 1 6 1 6-2 6-3 6 1M1164 14l6 0 6 0 6-3M1230 6l6 0 6-1 6-1 6-1 6-1M0 7l6 2 6 1 6 1 6 1 6 0M612 -9l6-3 6-2 6-1 6 0 6-1 6 1 6 1 6 1 6-1M972 -13l6-1 6-1 6 0 6-1 6 2 6-1M1224 -11l6 3 6 4 6 1 6 1 6 1 6 3M0 7l6-1 6-2 6-1 6-1 6-2M186 -31l6-2 6-2 6-2 6-4 6-1 6 1 6 1 6 3 6 2 6 0 6-2 6 1 6-6 6-1 6-1 6-2 6-1 6-3 6-3 6 2 6 4 6 0 6 3 6 0 6 3 6-2 6-1 6-1 6 1 6 0 6 1 6 1 6-1 6 0 6-1 6-2 6 1 6-1 6-1 6-2 6 0 6-3 6-1 6-3 6 2 6 3 6 4 6 0 6 4 6 1 6-2 6-1 6 0 6 0 6 4 6 1 6 2 6 0 6 1 6 2 6-1 6 0 6-1 6-1 6 2 6 0 6-1 6 2 6 0 6-4 6-2 6-3 6 0 6 1 6-3 6-4 6 0 6 1 6 0 6 1 6-4 6 2 6 2 6-2 6 1 6 0 6 0 6 3 6 3 6 2 6-1 6 0 6 1 6 2 6 1 6 1 6 2 6 3 6-1 6 0 6-1 6-2 6 2 6 1 6 1 6 2 6 1 6 0 6 1 6 3 6 2 6 1 6-1M894 -32l6-1 6 2M918 -31l6 1 6 3 6 3M972 -17l6 3 6 1 6-2 6-3 6 0 6 0M1236 -4l6-1 6 0 6 3 6 4M0 7l6 0 6 1 6 2 6 1M180 25l6 3 6 1 6 2 6 2 6 2 6 0 6 2 6 1 6 2 6 1 6 1 6 3 6 0 6-3 6 3 6 0 6 1 6-1 6-3 6 1 6 2 6 2 6 1 6 2 6 5 6 4 6 3 6 0 6 2 6 1 6 3 6 3 6 0 6-3 6-1 6-4 6-3 6 1 6 5 6 4 6 2 6 4 6-1 6-1 6 3 6-1 6 1 6 0 6-3 6-2 6 2 6 0 6 1 6 3 6 0 6-4 6-2 6-1 6 3 6-1 6-2 6-2 6-4 6-2 6-3 6-2 6-3 6-2 6-2 6-5 6 0 6-2 6-2 6-3M642 40l6 2 6-1 6 0 6 2 6 1 6 1 6 2 6 1 6-2 6-1 6 1 6-1 6-2 6-1 6 2 6-1 6-1 6-2 6 3 6-1 6 0 6-1 6 1 6-3 6-2 6 0 6 2 6-2 6-3M1236 3l6 1 6-1 6-2 6 1M0 7l6 1 6 1 6 2 6-2M180 28l6 1 6 1 6-1 6 0 6-2 6-3M642 23l6 2 6 1 6-2 6-1 6 1 6 0 6 0M1032 23l6 1 6 0 6-1M1134 18l6 2 6-1 6 1 6 1 6-1 6 0 6 0 6-2 6-3 6-2 6-2M1236 3l6 1 6 0 6 0 6-2M0 7l6 0 6-1 6 0M240 21l6 5 6 2 6 3 6 0 6-1 6-1M300 34l6-1 6-4 6 1 6-2M450 22l6 2 6 1 6 4 6 2 6 1 6-1 6 1 6 1 6-1 6 1 6 0 6-1M546 31l6 2 6 1 6 0 6 1 6 0 6-3 6 1 6 3 6-1 6-3 6 1M642 37l6 1 6 0 6 1 6 0 6-1 6 0 6 0M696 38l6 0 6 1 6-1 6 0 6-1 6-1 6-1 6 0 6-2 6-3 6-2 6 2 6-1 6-1M1230 6l6-1 6-2 6-1 6 1 6-1M0 7l6-1 6-2 6 0 6 2M180 23l6 3 6 1 6 0 6-1 6-1 6 0M240 24l6 2 6 1 6 0 6 4 6 0 6 0M300 33l6 1 6 2 6 0 6 2 6 3 6 0 6 5 6-3 6-4 6 0 6-5 6-2 6-5 6-2 6-2M474 17l6 2 6 3 6 0 6-2M630 -13l6 0 6 1 6-1 6 1 6-1 6-1M690 -27l6 0 6-1 6 0 6-1 6-3 6-2 6 2 6-2 6-3 6-2 6-2 6-2 6 0 6 1 6-3 6 0 6 1 6-1 6 2 6 2 6 0 6 0 6 0 6 1 6 0 6-2 6 0 6 1 6-1 6 2 6 2 6 0 6-2 6-1 6 0 6 0 6 2 6 2 6 0 6 1 6 2 6 1 6 3 6 1M972 -24l6 0 6 0 6 1 6 0 6 2 6-1M1242 -1l6 1 6 1 6 1M0 7l6-2 6 0 6-2 6 1M84 20l6 1 6-1M180 26l6 2 6-1 6 2 6 2 6 0 6 0M240 28l6-2 6-4M498 -31l6-4 6 1 6-4 6-3 6 1 6-3 6-2 6-1 6 1 6-1 6 0 6-1 6 1 6 0 6 2 6-1 6 2 6 0 6 2 6-2 6-1 6-4 6-2 6-4 6-1 6-2 6-1 6 1 6-1 6 0 6 1 6 1 6 2 6 4 6 4 6 0 6 0 6 1 6-2 6 1 6 0 6-1 6 1 6-2 6 2 6 4 6-1 6 1 6 0 6 0 6-2 6 0 6 0 6 1 6 3 6 2 6 0 6 2 6 2 6-1 6 0 6-2 6 2 6 5M972 -16l6-4 6-1 6-2 6-3 6-1 6 3M1242 3l6 0 6 0 6-1M0 7l6 0 6 1 6-2M486 18l6 1 6 1 6 0 6 4 6 1M534 33l6 4 6 3 6 1 6-2 6 0 6 2 6-2 6-5 6-3 6-2 6 0 6-3 6-4M642 23l6 2 6 3 6 0 6 2 6 4 6 0 6 0M696 34l6-2 6-4 6-3 6-2 6 0 6 0 6 3 6-3 6-1M1242 0l6-2 6 1 6 3M0 7l6 2 6 3 6 1 6 0 6 1 6 1 6 0M66 19l6 1 6 1 6 2 6 0 6 2 6 1 6 1 6 1M126 29l6 2 6 0 6 1 6 1 6 0 6 0 6 1M180 34l6-1 6 1 6 1 6 0 6 2 6 1 6-1 6 1 6 1 6 2 6 3 6 1 6 4 6 2 6-2 6-1 6 1 6 2 6 4 6 1 6 2 6 3 6 3 6-1 6 0 6-4 6 0 6 5 6 1 6-1 6-1 6-4 6-2 6-2 6 0 6-2 6-7 6-4 6-2 6-5 6-2 6 3 6 3 6 2 6 2 6-1 6-4 6-2 6 0 6 2 6 1 6 2 6 2 6 0 6-2 6 1 6 1 6 4 6 0 6 1 6-3 6 2 6 1 6 1 6 2 6 2 6 1 6-4 6 0 6-1 6-5 6-1 6 1 6 0 6-2M642 40l6-1 6-1 6 3 6 1 6 1 6 0 6 1 6 1 6 0 6 1 6 2 6 3 6-2 6 1 6 2 6-1 6-2 6 0 6 1 6 2 6 0 6 0 6-2 6-1 6-1 6-1 6-1 6 2 6-2 6 1 6 0 6-1 6-1 6 1 6 1 6 0 6 2 6-1 6-1 6-2 6 0 6-1 6 0 6 1 6-2 6 0 6 2 6 0 6 1 6-1 6 2 6-1 6 2 6 2 6 0 6 1 6 3 6-2 6-1 6-4 6 1 6-2 6-2 6-2 6 0 6 0 6-3 6-3 6 0 6 0 6-1 6 0 6 1 6 0 6-2 6 0 6-2 6-1 6 1 6 0 6-1 6-1 6-1 6-3 6-2 6-2 6-2 6-3 6-2 6-2 6-1M1236 3l6 1 6 0 6-1 6-1M0 7l6-2 6-3 6-3 6-2 6-1 6-2 6-3 6-1 6-1 6-2 6 0 6-1 6 0 6-1 6 0 6 0M114 -19l6-2 6 0 6-3 6-1 6-4 6-3 6 0 6-1 6-2 6-3 6-3 6-1 6 0 6-1 6 0 6-2 6-1 6 0 6 4 6 2 6 1 6 2 6 0 6 0 6 2 6 3 6-3 6 0 6 0 6 0 6 5 6 1 6 1 6 0 6 0 6 2 6 0 6 2 6 2M384 -17l6-2 6 1 6 5M462 -30l6-3 6-2 6 0 6 2M498 -37l6 0 6-1 6-1 6-3 6-2 6-2 6-2 6-3 6 0 6-4 6-1 6-1 6 2 6 2 6-5 6-1 6 3 6 0 6 2 6 3 6 3 6 3 6 1 6 0 6 4 6 0 6 3 6 1 6 1 6 3 6 2 6 3 6 2 6 0 6 1 6-3 6-1 6 0 6 0 6 2 6 2 6 0M918 -34l6-2 6-1 6 0 6 1 6 1 6-1 6 0 6 1 6-1 6 0 6 1 6 2 6 1 6 0 6-1M1218 10l6-1 6 0 6-1 6-3 6 0 6-1 6-2M0 7l6 1 6 0 6 2 6-4M198 -22l6-3 6 0 6-3 6-4 6 0 6 1 6 2 6 0 6-2 6 1 6 3 6 0 6 3 6 1 6-2 6 1 6-2 6 0 6 3 6 1 6 4 6 4M642 16l6 2 6-1M1242 2l6 1 6 0 6-1M0 7l6 0 6-2 6 0 6 0M594 -14l6-1 6-4 6-3 6-3 6-3 6-1 6-2 6-2 6 1 6-1 6-1 6-2 6 2 6 0 6 0 6 0 6 0 6 3 6 2 6 1 6 0 6 4 6 2M1242 0l6 1 6-2 6 3M0 7l6 2 6-2 6-3 6-2 6 0M264 -18l6-1 6-2 6-1 6-2 6 1 6 1 6 1 6 0 6 1 6-1 6 0 6 0 6 3 6 1M372 -19l6-2 6-2 6-2 6 1 6 2 6 4 6 0 6-2M516 -31l6-7 6 0 6-1 6-4 6-7 6 1 6 2 6-3 6-2 6 1 6 2 6-3 6-2 6 1 6 0 6-4 6-1 6 1 6-6 6 1 6 2 6 2 6 1 6 3 6 1 6 1 6 3 6 4 6 1 6 1 6 4 6 1 6 3 6 1 6 0 6 1 6 1 6-2 6 0 6 1 6 3M780 -28l6 1 6 3 6 2 6-1 6-1 6-1 6 0 6-1 6-2 6 1 6 1 6 1 6-1 6 1M972 -22l6 2 6 2 6 2 6 0 6-1 6 1M1242 0l6 2 6 0 6 0M0 7l6 1 6 1 6-1M636 -4l6-3 6-3 6-2 6 1 6 0M990 -6l6-3 6 0 6 1M1242 2l6 0 6 1 6-1M0 7l6 0 6-2 6-1 6 0M198 15l6 4 6 5 6 3 6 4 6 2 6 0 6-1 6 0 6 0 6-1 6-2 6-1 6 2M594 -24l6-1 6-1 6 0 6-3 6-1 6 0 6 0 6 0 6 0 6 0 6 3 6 2M690 -23l6-2 6 1 6 0 6-1 6 1 6 2M972 -21l6-1 6-2 6 0 6 0 6 3 6 0M1242 1l6 0 6 2 6-1M0 7l6 2 6 0 6 1 6 1M324 -14l6-1 6-2 6-1 6 0M972 -15l6 2 6 0 6-2 6 4 6 4 6 1M1146 18l6 1 6 0 6 0 6 2 6 0 6-1 6-3 6-1 6-1 6-2 6-2 6 0 6-2 6 0 6-1 6-2 6-1 6-2 6-1M0 7l6 0 6-2 6-2 6-2 6 0M798 -22l6-3 6 2 6 2M828 -21l6-1 6-1 6-1 6 2 6 2 6 0M972 -13l6 0 6 1 6 0 6 2 6 0 6 1M1230 -4l6-1 6 2 6 0 6 2 6 3M0 7l6-1 6-1 6 1M36 14l6 2 6 2 6 2 6 2 6 2 6 2 6 2 6 1 6 3 6 1 6 2 6 1 6 2 6 1 6 1 6 0 6 0 6 2 6 1 6 2 6 1 6 1 6 1 6 1 6 2 6-1 6 0 6 1 6 1 6 1 6 1 6 0 6-2 6-5 6-5 6-1 6-1 6-3 6 0 6 0 6 0 6 4 6 4 6 6 6 0 6 5 6 3 6-3 6-3 6 3 6 3 6 1 6-7 6-1 6-1 6-2 6-1 6-2 6-3 6-1 6-6 6-8 6-4M462 21l6-1 6 0 6-2M642 35l6 1 6-2 6-2 6 1 6-1 6 0 6-3M696 32l6-1 6-2 6-2 6-2 6-1 6 1 6-1 6 2 6 1 6 1 6 1 6-2M1242 1l6-2 6 2 6 1M0 7l6 0 6 1 6 2 6-3M180 32l6 3 6 0 6 1 6 0 6 2 6 2 6 1 6 5 6 4 6 4 6 3 6 3 6 4 6 2 6 3 6 1 6 0 6 0 6 1 6-2 6 1 6 3 6 3 6 1 6 2 6-3 6-1 6-2 6 1 6-1 6-1 6 3 6-1 6 2 6 1 6 3 6-4 6 0 6-4 6-3 6 1 6 3 6-2 6 0 6-3 6-3 6-3 6 0 6-4 6-3 6-1 6-2 6-1 6 1 6-1 6 0 6 0 6 2 6-3 6-2 6-2 6 1 6-2 6-3 6-1 6-2 6-2 6-4 6 0 6-3 6 0 6-1M1242 -1l6 1 6 2 6 0M0 7l6-2 6 1 6 0M180 19l6-1 6-1 6 0 6-1M390 -15l6-2 6-5 6-3 6-3 6-2 6 0 6-2 6-5 6 1 6-2 6-1 6 1 6 0 6-1 6 0 6-1 6 4 6-2 6 1 6 1 6 0 6 4 6 2M594 -22l6 1 6 0 6-2 6 2 6 0 6-2 6 0 6 5 6 2 6 2 6-1 6-1M1164 15l6-2 6-1M1236 -2l6 0 6 1 6 2 6 1M0 7l6-2 6-1 6-1 6-1 6 0M264 -17l6-3 6-2 6-2 6-1 6 1 6 2 6 1 6-2 6 0 6 2 6-2 6-2 6-2 6-1 6-4 6-4 6 0 6-4 6-1 6-2 6-2 6 1 6-1 6-2 6 2 6 0 6 1 6 3 6-1 6-1 6-3 6-2 6 2 6 1 6 1 6 0 6 0 6 1 6 1 6 2 6 3 6 1 6-1 6 0 6 4 6 3M564 -27l6-2 6 2M594 -26l6 1 6 1 6-1 6 2 6 3 6 2 6 1 6-1 6 0 6-1 6 0 6-1M690 -27l6 0 6-1 6-2 6-4 6-4 6-1 6 1 6 0 6 0 6 1 6-3 6-3 6 0 6 4 6 1 6 1 6 1 6-1 6 2 6 4 6 5 6 2 6-1 6 3 6 3 6 0 6-1 6 0 6-2M918 -34l6-1 6 1 6-1 6 1 6 2 6-1M972 -29l6 2 6 4 6 3 6 1 6 0 6 1M1212 -17l6 0 6-1 6 3 6 2 6 5 6 3 6 4 6 3M0 7l6-1 6-1 6 2M162 -25l6-3 6-4 6-3 6-7 6-4 6 0 6-3 6-2 6-6 6-1 6 1 6-2 6-2 6-3 6 3 6-1 6-2 6 1 6 2 6 1 6-1 6-5 6 1 6 0 6-1 6-4 6-2 6 1 6 0 6-1 6-1 6 2 6 2 6 0 6-6 6 0 6 1 6 1 6-2 6 1 6 0 6 0 6-3 6 0 6 0 6 1 6-2 6 1 6 0 6 2 6-1 6 0 6 3 6 0 6 1 6 0 6-1 6 2 6 2 6 0 6 3 6-1 6 2 6 0 6 4 6 4 6 2 6 1 6 4 6 4 6 4 6-2 6 2 6 2 6 2 6 2 6 5 6 3 6 1 6 1 6 1 6 1 6 2 6 0M696 -23l6-1 6 2M732 -23l6-1 6 3M1242 2l6-3 6 0 6 3M0 7l6-2 6-2 6-2 6-1 6-1 6-2 6-1 6 0M162 -26l6-5 6-2 6 0 6 0 6 0 6 1 6 0 6-2 6 0 6-2 6-3 6-2 6-4 6 1 6 3 6 0 6-2 6-1 6-2 6-3 6-4 6-5 6-3 6 0 6-5 6-3 6 2 6 1 6 1 6-1 6 1 6 1 6 1 6 4 6 2 6 2 6 2 6 1 6 1 6 1 6-2 6 1 6-2 6-1 6-2 6 3 6 2 6 1 6 1 6 1 6 2 6 0 6 5 6 3M498 -36l6-2 6-2 6-3 6 0 6 2 6 1 6-1 6 0 6 0 6 0 6-1 6 1 6-1 6 0 6 1 6 1 6 0 6-1 6-1 6-1 6-4 6 0 6 0 6 0 6 0 6 0 6 0 6 0 6 3 6-2 6-3 6 1 6-2 6-3 6 0 6-1 6 2 6 1 6 2 6 3 6 2 6 0 6-1 6 2 6 1 6 3 6 1 6 5 6 1 6 1 6 0 6-3 6-2 6 1 6 0 6 3 6 0 6 0 6 1 6-1 6 2M918 -31l6 0 6 3 6 2 6-3 6-3 6 0M972 -28l6 1 6 2 6-2 6 0 6 3 6 0M1242 0l6 0 6 3 6-1M0 7l6 2 6 0 6-4 6 0M300 -12l6-3 6 2M642 26l6 0 6 2 6-1 6-1 6 0 6 0 6 0M732 16l6 3 6 4 6 1M960 30l6 3 6-3 6-3M1026 25l6-1 6-2M1224 7l6 0 6-1 6 0 6-2 6-1 6-1M0 7l6 0 6 0 6 2 6-1M396 24l6 1 6 2 6 0 6 1 6 2 6 5 6 3 6 6 6 0 6-1 6 1 6 2 6-2 6-1 6-2 6-1 6-1 6 0 6-1 6-1 6 0 6-1 6 0 6 1 6 0 6-1 6-1 6 0 6-1 6-3 6 2 6-3 6-2 6-3 6-3M1242 1l6 0 6 1 6 0M0 7l6 1 6-1 6-3 6 0M462 17l6 2 6-2M642 16l6 3 6 5 6 2 6 4 6 1 6 1 6 4M696 38l6-1 6-1 6 1 6-1 6 0 6 1 6 1 6-1 6 0 6 2 6-2 6 0 6 1 6-1M1230 -5l6 0 6 0 6 3 6 2 6 2M0 7l6 1 6-2 6 3 6 1M198 16l6 3 6-1 6 0M594 -16l6-3 6-3 6-4 6-6 6-1 6-7 6-3 6-3 6-2 6 2 6-2 6 0 6-2 6-2 6 3 6 0 6-2 6-2 6 2 6-2 6-1 6 0 6-1 6 2 6-2 6-1 6 2 6 0 6 1 6 2 6 0 6 1 6 2 6 1 6 1 6-1 6-2 6-2 6-1 6 1 6 0 6-2 6-2 6-1 6-1 6 0 6 1 6-3 6-1 6-1 6-1 6 3 6 6 6 6 6 2 6 7 6 1 6 5 6 1 6 2M972 -26l6 0 6 1 6-2 6 0 6-1 6 1M1236 4l6 0 6 0 6-1 6-1M0 7l6 1 6-1 6 2 6 0M72 18l6 2 6 1 6 1 6 0M186 15l6 2 6-1 6 1 6 0 6 1M330 -13l6-2 6-4 6 1M390 -15l6-4 6-2 6-2 6-2 6-3M444 -30l6-1 6-1 6 1 6 0M1212 -16l6 1 6 1 6 0 6 3 6 3 6 3 6 3 6 4M0 7l6 0 6 1 6-2M642 21l6 0 6-1 6-2 6 0 6-2 6 3 6-1M1242 -1l6-2 6 2 6 3M0 7l6 1 6 2 6 2 6 2 6 1 6 0 6 0 6 2 6 1M372 -19l6-2 6-5 6-2 6-3 6-5 6-4 6-4 6-1 6-1 6 0 6-3 6 0 6 0 6 0 6 0 6 2 6 1 6 0 6 1 6-2 6 2 6 2 6 5 6-1 6 1 6 4 6 3M630 -7l6-2 6-6 6-3 6-3 6-2 6-2 6-2 6-2 6 2 6 0 6-2 6-1 6-1 6-2 6 0 6-3 6-5 6 2 6 1 6-2 6-2 6-1 6-1 6-2 6 0 6 0 6 0 6 0 6 1 6 2 6 1 6-1 6-1 6 1 6-2 6-2 6 0 6 0 6 0 6-1 6-2 6 1 6-3 6 0 6-1 6-1 6 4 6 3 6 2 6 4 6 1 6 0 6 3 6 2M972 -28l6 2 6 3 6 2 6 2 6 2 6 1M1242 3l6 1 6 0 6-2M0 7l6 2 6 1 6 1 6-1M384 -20l6-1 6-2 6-1 6 0 6 1 6 1M558 -28l6-2 6-3 6-3 6-1 6-2 6-4 6-1 6 0 6 0 6 0 6-2 6-3 6 1 6-2 6-1 6 0 6 0 6 0 6-2 6-1 6 0 6 2 6 1 6-1 6-2 6-2 6-2 6 1 6 1 6-2 6 0 6 3 6 3 6 2 6 0 6-1 6 1 6 1 6 2 6-1 6 0 6-2 6-3 6-1 6-1 6-1 6-2 6-2 6 1 6-1 6-1 6 0 6 0 6-2 6-3 6-1 6-3 6-1 6 1 6 0 6-2 6 2 6 2 6 4 6 0 6 1 6 2 6 3 6 1 6 3 6 3 6 3 6 5 6 3 6-1 6 1 6 2 6-1 6 2 6 1 6-1 6 1 6 1 6 2 6-2 6 0 6 2 6 2 6 1 6 0 6 1 6 3 6 1 6 2 6 4M1230 -6l6 1 6 1 6 2 6 2 6 2M0 7l6-2 6-1 6 0 6 1M180 22l6 2 6-2 6-1 6-2 6-2 6 2M252 22l6 1 6 4 6-1 6 0M300 29l6 4 6 1 6 2 6 2 6 7 6 4 6 7 6 6 6 2 6-4 6 3 6 7 6 1 6 4 6-6 6-2 6 0 6-4 6-3 6 1 6-2 6-3 6 0 6-1 6-5 6 2 6 2 6 4 6 0 6-3 6 3 6 3 6 2 6-1 6-1 6-1 6 2 6-1 6 0 6-2 6 0 6-1 6 2 6 1 6-1 6-1 6-1 6-1 6 1 6 0 6 1 6 1 6-3 6-1 6-1 6 2 6 1 6 0 6-1 6-2 6-1 6 0 6-1 6 0 6-1 6 1 6-1 6-2 6 0 6-2 6-2 6-2 6-3 6 0 6 1 6-1 6 1 6 0 6 0 6 0 6 1 6 0 6 1 6 0 6 0 6-2 6 0 6 2 6 4 6-3 6-3 6-2 6-1 6-1 6 0 6 2 6 1 6-1 6 0 6 0 6 3 6 2 6 0 6 1 6-1 6-3 6-1 6 0 6 0 6-1 6-2 6 2 6 1 6-2 6-1 6-2 6-1M1014 35l6-1 6-3 6 2 6-1 6-2 6 0 6 0 6-3 6-4M1164 14l6 0 6 1 6-3M1242 3l6-2 6 0 6 1M0 7l6-1 6 1 6 0M972 -17l6-1 6-1 6 0 6-3 6 1 6 0M1236 3l6 1 6 0 6-2 6 0M0 7l6 2 6 1 6-4M84 20l6 1 6 0 6 2 6 1M180 31l6 1 6 1 6 0 6 0 6 0 6-1 6 0 6 2 6-1 6-2 6 0 6-1 6-3 6-2 6-2 6-1M450 26l6 1 6 0 6 1 6-2 6 3 6-1 6 0 6 1 6-1 6-2 6 1M714 21l6 2 6 3 6 1 6 3 6 1 6 1 6 1 6 0 6-1 6 1 6 2M792 36l6 3 6 1 6 2 6-1 6 0 6 1 6 0 6 3 6 1 6-2 6-1 6-1 6 0 6 1 6 1 6 0 6 1 6 0 6 2 6-2 6-1 6-2 6-1 6-2 6-1 6 0 6-1 6 0 6 0 6 0 6-2 6-1 6-2 6 0M1014 34l6-1 6-2 6-2 6-1 6 0 6 0 6 0 6-4 6 0M1164 15l6 0 6-1 6-1 6 0 6-1M1242 -1l6 0 6 1 6 2M0 7l6 2 6 1 6 0 6 0M288 -13l6-2 6 1 6-1 6-1 6 2M594 -17l6 1 6 0 6-2 6 1 6 0 6-2 6 0 6 1 6 3 6 1 6-1 6 1M1236 -1l6-2 6 3 6 0 6 2M0 7l6 2 6 1 6 0 6 1M372 21l6 6 6 1 6 5 6 7 6-2 6-2 6-2 6-2 6 2 6-1M450 29l6 0 6 0 6 0 6-1 6-2 6 2 6 2 6-1 6-1 6 3 6 3 6 0 6 0 6 1 6 2 6 3 6 5 6 1 6 2 6-1 6 2 6 2 6-1 6 0 6-4 6-3 6 1 6-1 6-2 6 0 6 3 6 0 6 2 6 1 6 1 6 0 6 1 6 2 6-1 6-1 6-2 6-2 6 1 6 2 6 0 6-2 6-1 6 0 6 1 6-1 6 0 6 1 6 1 6 1 6 0 6 0 6 0 6 0 6-2 6 0 6-2 6-1 6-2 6-1 6-2 6-2 6-2 6 0 6 1 6 1 6 0 6-1 6-1 6-4M1236 1l6 3 6-2 6-1 6 1M0 7l6-2 6-1 6-1 6 2M180 15l6 4 6 6 6 2 6-1 6 0 6 2M240 31l6 1 6-1 6 1 6 1 6 2 6 2 6 2 6 1 6-2 6-3 6 2 6 2 6 5 6 6 6 2 6-3 6 1 6 0 6 0 6 3 6 4 6 0 6-1 6 1 6-1 6-5 6-5 6-3 6-3 6 3 6-1 6-3 6-5 6-5 6 1 6 1 6 6 6-1 6-1 6-1 6 1 6 1 6-2 6-2 6 0 6 3 6 1 6 0 6 1 6-2 6-1 6 0 6 2 6 1 6 2 6-1 6-3 6-1 6 4 6 0 6-1 6-1M642 36l6 0 6 0 6 0 6-2 6-1 6 2 6 0M696 34l6 0 6 1 6 0 6-1 6-1 6-2 6 2 6 1 6 0 6 1 6 0 6-1 6 0 6 3 6 0 6 3 6 0 6-1 6-2 6 3 6 3 6 0 6 2 6 2 6 3 6-1 6 0 6 0 6 1 6-1 6 0 6-3 6-2 6-2 6-2 6-1 6-4 6-5 6-1 6-3M1164 13l6 0 6-1 6 0 6 1 6 0 6-2M1242 2l6 1 6 0 6-1M0 7l6-1 6 1 6 3 6-1M180 22l6 0 6-1 6 0 6 0 6 0 6-5M384 -17l6-2 6 2 6 0 6-1 6 0 6-1M630 -11l6-3 6 3 6-2 6-2 6-3 6-3M1242 0l6-1 6 1 6 2M0 7l6 1 6 2 6 0 6 1M384 22l6 3 6 1 6 3 6-1 6 1 6 3 6 0 6 1 6-1 6 2 6 1 6-2 6 0 6 0 6 1 6 2 6-1 6 2 6 5 6 2 6 1 6 4 6 3 6 0 6-1 6-2 6 1 6 1 6-1 6-3 6 1 6 1 6 1 6-1 6-3 6 0 6-1 6 1 6 1 6-1 6-1 6-1 6 0 6 0 6-3 6-1 6-1 6 0 6-1 6 0M696 35l6 1 6 3 6-1 6-1 6-2 6-1 6 1 6 0 6 0 6-2 6 2 6 0 6 1 6-1M1242 2l6 0 6 0 6 0M0 7l6-2 6 0 6 2M204 -20l6-3 6-4 6-2 6-3 6-2 6 0 6-3 6-1 6-3 6 0 6-1 6 1 6 1 6 1 6-1 6-2 6 0 6 1 6 0 6-1 6 1 6 0 6-2 6-2 6 0 6-7 6-3 6-4 6 0 6-1 6-2 6 0 6 1 6 2 6-1 6 1 6-2 6 1 6 1 6 0 6 2 6-1 6 0 6-1 6 1 6 0 6 1 6-1 6 0 6-1 6 1 6 4 6 0 6-2 6 1 6-3 6 1 6 2 6 5 6 0 6 0 6 2 6 5 6 2 6 1 6-1 6 0 6 2 6 1 6 1 6 3 6 0 6 3 6 1 6 2 6 1 6 0 6-1 6 0 6 2M1230 3l6 3 6 0 6-2 6-1 6-1M0 7l6-2 6-1 6 1 6-1M594 -17l6-1 6-2 6 1 6 0 6 3 6-1 6-1 6-2 6 1 6 2 6 2 6 0M780 -27l6-2 6-1 6-1 6-1 6 1 6-1 6 1 6 3 6 0 6-1 6 2 6 4 6-2 6-2M876 -30l6-4 6 0 6 2 6-2 6-1 6-3 6-1 6-1 6-1 6 3 6 3 6 0 6 2M972 -32l6 2 6 0 6 0 6-1 6-2 6 0M1230 -5l6-2 6 0 6 3 6 3 6 3M0 7l6 1 6 2 6 0 6 0M594 -25l6 0 6-4 6-5 6-5 6-2 6 4 6 0 6 1 6-3 6 0 6 1 6 0 6 0 6-3 6-2 6 0 6-2 6-2 6-1 6 3 6 5 6 0 6 0 6 0 6 1 6 0 6 0 6-1 6 0 6 0 6-1 6-1 6-3 6 2 6 0 6 3 6 2 6-1 6 4 6 3 6 3 6 1 6 3 6 1 6-1M1236 -1l6-2 6 4 6 2 6-1M0 7l6-2 6-2 6-1 6-1 6-1M264 -25l6 0 6-1 6 0 6-1 6 0 6 1 6-2 6 1 6 3 6 2 6 2 6 3 6-1 6 0M360 -20l6-2 6 1 6-4 6-3 6-3 6-2 6-1 6-3 6-2 6 0 6 0 6-1 6-1 6-1 6 2 6-3 6 0 6 1 6 4 6 0 6-2 6-1 6 0 6 0 6-1 6 1 6 3 6 4 6 2M546 -30l6-3 6 0 6-1 6 2 6-3 6-1 6 0 6 0 6-2 6-3 6-1 6-1 6-1 6-2 6-4 6 0 6-1 6-1 6 0 6 1 6-2 6-1 6 1 6-1 6 0 6 2 6 1 6 0 6 0 6 2 6 1 6 1 6 2 6 1 6 1 6 2 6 2 6 2 6 1 6 2 6-1 6-3 6 0 6 1 6 0 6 2 6 2 6-1 6-2 6-1 6 2 6 2 6 2M918 -26l6-2 6 0 6 1 6 1 6-1 6 1M972 -28l6 3 6 0 6-1 6 0 6 1 6 1M1230 -7l6 2 6 2 6 3 6 3 6-1M0 7l6 2 6-1 6-1M594 22l6 2 6 0 6 2M642 29l6-2 6-1 6 1 6-1 6-2 6-2 6 1M714 22l6 3 6 3 6 0 6-2 6-2 6 1M1242 2l6 0 6 0 6 0M0 7l6-1 6 0 6 0M264 -21l6-2 6-1 6 1 6-1 6-5 6-3 6-3 6-1 6-1 6 1 6-1 6 0 6 4 6-1 6-2 6-2 6-6 6-1 6 2 6 2 6-1 6-1 6-1 6 0 6 0 6-1 6-3 6-2 6-1 6-1 6-1 6-1 6-2 6-2 6-3 6-1 6-2 6-1 6-3 6-1 6 1 6 2 6-1 6 0 6 1 6 0 6 3 6 2 6 2 6-1 6 1 6 1 6 2 6 3 6 2 6 1 6 2 6 3 6 3 6 3 6-1 6 4 6 0 6 1 6 2 6-1 6-1 6 1 6 1 6 1 6-1 6-1 6 2 6 2 6 4 6-1 6 2 6 2M972 -20l6 4 6 2 6 1 6 1 6-2 6 0M1224 -11l6 2 6 3 6 3 6 0 6 2 6 3M0 7l6 2 6-1 6 2 6 1M156 31l6 3 6 0M180 34l6 1 6-1 6-1 6-2 6 0 6-3M342 21l6 3 6-2 6 0 6 2 6 0 6-3M564 21l6 5 6 2 6 1 6-1 6 4 6 2 6 5 6 1 6-1 6 0M636 42l6 1 6 0 6-1 6 1 6 2 6 1 6 0 6-3 6 1 6 0 6-4 6-3 6-2 6 1 6 1 6-2 6 2 6 0 6 1 6-1 6 0 6 1 6-2 6-1M894 30l6 0 6 2 6 2 6 2 6 0 6 1 6 1 6-2 6 2 6-2 6 1 6-2 6 1 6-1 6-1 6 1 6-3M1008 34l6 2 6 0 6 3 6-2 6 1 6 1 6 0 6 1 6 1 6 0 6-1 6 2 6 0 6-3 6 0 6-1 6-2 6-1 6-1 6 0 6-3 6-3 6-1 6 0 6-1 6-2 6-2 6-1 6 1 6-2 6-1 6-2 6-1 6-2 6 0 6-2 6-1 6-2 6-3 6-2 6-1 6-1M0 7l6 2 6 1 6 2 6 2 6 2 6 1 6 0 6 0 6 1M78 19l6 2 6 0 6 0M180 15l6 2 6-1 6 0 6 1 6-4M288 -15l6-2 6-3 6-3 6-2 6-1 6 1 6-2 6 0 6 1 6 1 6-1 6 0 6-2 6-1 6 0 6-1 6 2 6 2 6 2 6-1 6 2 6-2M450 -28l6-3 6-3 6 0 6 1M510 -30l6-2 6-3 6 1 6 0 6 3M552 -32l6-2 6 0 6 1 6 1 6-4 6-3 6-3 6-2 6 0 6-1 6 0 6 1 6-1 6 0 6 0 6 1 6-1 6 1 6-3 6 2 6 0 6 3 6 1 6 2 6 3 6 2 6 2 6 0 6 1 6 0 6 3 6 4 6 2M1164 14l6 2 6 0 6 2 6-1 6-1 6-2 6-1 6-2 6 0 6-1 6-1 6-2 6-1 6-1 6-2 6-1M0 7l6 2 6 0 6 1 6 1M180 29l6 0 6-1 6-2 6-2 6 0 6 1M240 29l6 1 6 2 6 0 6 0 6 0 6-3M594 -23l6 0 6 1 6 0 6 0 6 1 6 1 6 2 6 3 6 3 6 3 6 0 6 1M828 -22l6 0 6-1 6-1 6 3 6-3 6 1M918 -27l6 0 6 3M942 -26l6-1 6 1M972 -25l6-1 6 0 6 0 6 1 6-2 6 0M1110 -21l6-2 6 0 6 0 6-1 6-4 6 1 6 3M1242 3l6 1 6-1 6-1M0 7l6-2 6-1 6-1 6-1 6 1M732 14l6 5 6 1 6-1M894 32l6 2 6 0 6 2 6-2 6 1 6 5 6-1 6-4 6 0 6-1 6 0 6-2 6-2 6-2 6-1 6 1 6-3M1230 5l6 1 6 1 6-2 6-1 6-2M0 7l6 2 6 1 6 1 6 0M180 28l6 0 6-2 6-3 6 0 6 0 6-4M594 -14l6 0 6 0 6-1 6 1 6 2 6 0 6 0 6-3 6-1 6 1 6-1 6-1M780 -24l6 1 6-1 6 2M978 -6l6-1 6-4 6 0 6-3 6-1M1188 -16l6-3 6 0 6 1 6-2 6 3 6 2 6 4 6 0 6 3 6 3 6 3 6 4M0 7l6 2 6 1 6 1 6 0M1176 -21l6 2 6 0 6 0 6 3M1224 -10l6 2 6 3 6 3 6 0 6 1 6 3M0 7l6 2 6 3 6 0 6 1 6 1 6-2M306 -14l6-4 6-1 6 0 6 0 6 0 6-1 6 1M972 -29l6 0 6-1 6-3 6-1 6 0 6 3 6-1 6-3 6 0 6 2 6 0 6 1 6 1M1242 0l6 1 6-1 6 2M0 7l6 1 6 1 6 0 6 2M180 20l6 1 6 2 6-2 6-1 6-1 6-2M450 29l6 2 6 2 6 2 6 2 6 0 6 0 6 2 6 1 6 2 6 1 6-3 6 2 6 0 6 1 6-2 6-2 6 2 6 4 6 0 6 2 6 0 6 0 6 0 6 0 6 0 6-2 6 0 6-3 6-2M642 37l6 0 6-1 6-1 6-4 6-1 6-2 6-2M714 23l6-1 6 2 6 2 6 0 6 0 6 2 6-1 6 0M894 31l6 0 6 1 6-2 6-1 6-3M942 27l6 4 6 3 6 1 6 0 6 1 6 1 6 1 6 2 6-1 6 2 6 0 6-1 6-2 6-3 6-4 6-1 6 0 6 0 6-1 6-1 6-1M1086 25l6-1 6 1 6-1 6 0 6 0 6 0 6-2 6-1 6-3M1164 18l6 0 6 0 6-1 6 0 6-1 6-1 6-2M1218 10l6 0 6-1 6-2 6-1 6-1 6-2 6-1M0 7l6-2 6-1 6-1 6 0M594 -14l6-5 6-4 6-2 6 1 6-3 6-1 6-2 6 3 6 0 6 0 6-1 6 0M690 -24l6-1 6 1 6 3M1242 1l6 1 6 1 6-1M0 7l6 1 6 1 6 0 6-2M180 18l6 3 6 1 6 2 6-1 6 0 6 1M384 -20l6 0 6-4 6-2 6 0 6-1 6-2 6-1 6-2 6 3M642 20l6 1 6 4 6 0 6 1 6 0 6 1 6-1M714 18l6-1 6-1M990 -6l6-4 6-3 6-3M1242 1l6 2 6 1 6-2M0 7l6-1 6-1 6 0 6 0M180 23l6 1 6 0 6 2 6 2 6 0 6 0M240 29l6 0 6 0 6 0 6-3 6-1 6-1M642 19l6-1 6 1 6-2M972 -27l6-3 6-1 6-2 6 0 6-1 6 0M1032 -34l6-1 6-2 6-1 6 2 6 0 6 0 6 0 6 1 6 0 6 1 6 3 6-1 6-1 6 1 6-1 6-3 6-2 6 1 6 1 6 0 6-1 6-3 6 4 6 3 6 3 6 0 6-1 6 1 6 5 6 5 6 3 6 2 6 3 6 1 6 3 6 3 6 4 6 3M0 7l6-1 6-1 6 1M564 23l6 3 6 3 6 3 6-2 6 2 6-1 6 1 6 1M642 30l6-2 6-2 6 2 6 0 6-2 6 2 6 1M702 27l6 1 6-2 6 1 6-1 6 2 6-2 6-3 6 1 6 2 6 3 6 0 6-2M810 36l6 2 6-1 6 1 6 1 6-2 6-1 6 0 6 0 6-1 6 1 6 3 6 2 6 0 6 0 6 3 6-1 6-3 6 1 6 3 6-1 6 1 6-3 6 0 6 0 6 0 6 1 6 2 6 0 6 2 6-2 6-3 6-2 6 1 6 0 6-1 6 0 6-2 6 2 6 0 6 0 6-2 6-2 6-1 6-1 6-1 6-3 6-2 6-3 6-2M1128 20l6 0 6 0 6-2M1164 17l6 0 6-1 6 1 6-1 6-1 6-1 6 0 6-2 6-2 6 0 6-2 6-1 6-1 6-3 6-2 6 1M0 7l6-1 6 2 6 2 6 1 6 2 6 1M72 19l6 1 6 0 6 1 6 1 6 1 6 0M180 32l6 0 6 2 6 1 6 0 6 1 6-2 6 2 6 0 6 1 6-1 6 2 6-1 6 1 6 0 6-1 6-1M306 31l6 2 6-1 6 2 6-1 6 0 6-1 6-2 6-3 6-5 6-1 6 2 6-2M462 21l6-2 6 1 6 3 6 2 6 3 6 3 6 0 6 0 6-1M546 28l6 1 6-1M660 14l6 4 6 4 6 0 6 1M714 26l6-2 6-3 6 0 6-3 6-2M912 28l6 2 6 1 6-3 6 1 6 1 6 1 6-1 6 3 6 0 6 2 6-1 6-1 6 3 6-1M1014 31l6 2 6-2 6 1 6-2 6-2 6-4 6-2M1182 12l6 1 6-1M1242 1l6 0 6 1 6 0M0 7l6-1 6-2 6-1 6-1 6-1M198 -21l6-2 6-1 6-1 6-2 6 0 6 2 6 3M264 -19l6 0 6 1 6 2 6 1 6-1 6 0 6 1 6 2 6-2 6-2 6 3 6-1 6-1 6-1M360 -19l6-2 6 1 6 0 6-3 6 0 6 3 6-1 6-1 6 1 6 0M498 -34l6-1 6 1 6-2 6 2 6 2 6-1 6 0 6-1 6-3 6 1 6 0 6 1 6 2 6 0 6-1 6 3 6 3 6 1 6 1 6 3 6 1 6 3 6 3 6 2 6 2 6 2 6 3 6 2M780 -27l6 2 6 0 6 3M810 -22l6-4 6-5 6 2 6-2 6-1 6 1 6 2 6 2 6 2M918 -28l6 1 6 2M972 -31l6-1 6 0 6-1 6 2 6-3 6-1 6-2 6 0 6-2 6 2 6-1 6-1 6 1 6 0 6 0 6-1 6 1 6 2 6 0 6 0 6 0 6 0 6-1 6 0 6 1 6-2 6-4 6-1 6 1 6 3 6 0 6 5 6 2 6 1 6 2 6 2 6 2 6 2 6 6M1230 -7l6 0 6 2 6 3 6 4 6 0M0 7l6 1 6-1 6 3 6 0M198 -22l6-2 6-4 6 3 6 0 6-1 6 0 6-1 6 0M264 -27l6-2 6-3 6-1 6-3 6-2 6 0 6 3 6 4 6-3 6 0 6 2 6-2 6 1 6 1 6 1 6 0 6 1 6 4 6-1 6 3 6 0 6-3 6 0 6 2 6 0 6 0M456 -30l6-1 6-2 6-1 6-1 6 0M498 -37l6 4 6 1 6 2M594 -25l6 1 6 0 6 3 6-2 6 1 6 0 6 0 6-2 6 0 6-1 6 0 6-1M690 -24l6-1 6-1 6 2 6 0 6 2M828 -18l6-2 6-1 6 1 6-1 6-3 6-2M966 -32l6-5 6-1 6-2 6-2 6-1 6 0 6-1 6 0 6 1 6-2 6 0 6-1 6-1 6-1 6 0 6 0 6-1 6-2 6-1 6 0 6 1 6 2 6 2 6 2 6 0 6 3 6 3 6 1 6 2 6 1 6 2 6 2 6 0 6 1 6 4 6 0 6 2 6 1 6 4 6 1 6 2 6-2 6 2 6 2 6 2 6 4 6 5 6 3 6 2M0 7l6-2 6-1 6-1 6 0M498 17l6 4 6 3 6 1M546 28l6 1 6-1 6 1 6 0 6 0 6 2 6-1 6 1 6 1 6 1 6 0M642 35l6 0 6 2 6 0 6-1 6 1 6 2 6 0 6 1 6 1 6 2 6 2 6 1 6 0 6-1 6-2 6 0 6 0 6 0 6 0 6-2 6-2 6 2 6 1 6 1 6-1 6-2 6-3 6-2M1242 -1l6 2 6-2 6 3M0 7l6 0 6 0 6 1M450 29l6 1 6 3 6-1 6 3 6 2 6 1 6 3 6 0 6 1 6 3 6 2 6 1 6-4 6 0 6-1 6 2 6 2 6 2 6 1 6 1 6 2 6-1 6 0 6 0 6-2 6 2 6 1 6 1 6-2 6-1 6-1 6 2 6 2 6 0 6 1 6 0 6 0 6 1 6 1 6 0 6-2 6 3 6 0 6 0 6 0 6-2 6 0 6 2 6-2 6 0 6 0 6 0 6-1 6-1 6-1 6 1 6-1 6-1 6 3 6 0 6 2 6 0 6 0 6 2 6 0 6-1 6 1 6 0 6 1 6-4 6-1 6 0 6 1 6 0 6-1 6 1 6 1 6-2 6 0 6-2 6-3 6-1 6 1 6-4 6-2 6-3 6-1 6-1 6-2 6 0 6 0 6 0 6-3 6 0 6 2 6 1 6 3 6 1 6 1 6-5 6 1 6-2 6-4 6-5 6 0 6-1 6 0 6-2 6-1M1242 -1l6 1 6 1 6 1M0 7l6 2 6-2 6-2 6 2M972 -7l6-2 6-2 6 0 6-2 6 0 6 0M1230 3l6 2 6-1 6-1 6 0 6-1M0 7l6-1 6-1 6-1 6 1M972 -16l6 0 6-1 6 3 6 0 6 1 6 1M1224 -8l6 0 6 2 6 4 6-1 6 2 6 3M0 7l6 1 6-1 6 0M462 22l6 0 6 4 6 2 6 2 6-3 6-1 6 2 6 0 6 1M570 23l6 3 6-2 6-3 6 3 6 1 6-2M642 28l6 1 6 4 6 2 6-1 6 2 6 0 6-3M696 32l6 4 6 1 6 1 6 2 6 1 6 0 6 0 6 0 6-1 6-2 6 1 6-2 6 0 6 1 6-2M810 35l6 2 6 0 6 1 6 1 6 2 6-1 6 1 6 0 6 0 6-1 6 2 6 1 6 0 6-1 6-2 6 0 6 1 6 2 6-4 6-1 6-3 6 0 6 3 6-1 6-4 6-2 6-2 6-2M1236 -2l6-1 6 1 6 3 6 1M0 7l6 1 6 2 6 1 6 2 6 2 6 0 6 1 6 2 6 1 6 0 6 1 6 1 6 0 6 0 6 0 6 0M180 28l6 2 6 1 6 3 6 1 6 4 6 3 6 1 6 4 6 1 6 0 6 0 6 1 6 1 6 0 6-2 6 2 6 1 6-3 6 0 6-2 6-3 6-1 6-3 6-3 6 1 6-5 6-1 6 0 6 0 6-3 6-1 6-2 6-3M648 -3l6-2 6-3 6-1M942 -25l6-2 6-4M972 -26l6 2 6 2 6 2 6 3 6 2 6-3M1224 -9l6 0 6 2 6 0 6 3 6 3 6 3M0 7l6 2 6 0 6 0 6-3M264 20l6 3 6 4M594 -20l6-2 6 0 6 0 6-3 6-2 6-2 6-2 6-1 6 2 6 3 6 0 6-1M684 -25l6-3 6 1 6 1 6 3M780 -24l6 0 6 2 6-1 6 4M1044 23l6 1 6 0 6 0 6 0M1236 -2l6 0 6-1 6 3 6 2M0 7l6 1 6 2 6 2 6 0 6 0M198 -23l6-6 6-4 6-2 6-6 6-6 6-4 6-2 6 1 6 0 6 0 6 1 6-1 6 0 6 1 6 1 6 3 6 2 6 4 6 1 6 2 6 1 6 2 6 2 6-2 6 0 6 2 6-3 6-1 6 0 6-4 6 0 6 1 6-3 6 1 6-1 6 0 6 1 6-4 6 0 6 3 6-3 6-1 6-1 6-4 6-2 6 1 6-3 6-3 6-3 6-2 6-3 6-4 6-1 6 1 6 1 6-4 6 1 6-1 6-2 6 1 6 1 6 2 6 0 6 4 6 1 6 1 6-1 6-1 6-1 6 0 6 0 6 0 6 1 6-2 6 1 6-1 6-3 6-1 6 4 6 0 6 1 6 3 6 2 6 4 6 1 6 4 6 2 6-2 6 2 6-1 6-2 6 0 6-2 6 2 6 1 6-1 6 3 6 3 6 0 6 2 6 1 6 1 6 1 6 0 6 0 6-2 6 1 6-1 6 2 6 0 6 1 6 3 6-1 6 2 6 1 6 2 6 1 6-1 6 2 6-2 6 0 6-1 6-2 6-1 6-2 6 1 6-1 6-2 6 2 6 2 6 2 6 4 6 2 6 3 6 1M1176 -25l6-2 6 0 6 2 6 3 6 2 6 2 6 1 6 1 6 2 6 4 6 3 6 2 6 3 6 4M0 7l6-1 6-1 6-1 6 0M180 23l6 2 6 3 6 2 6 0 6 0 6 1 6 1 6 1 6-2 6-2 6-3 6-1 6-4M594 -22l6-2 6-2 6 2 6 0 6 2 6-2 6-3 6 3 6-3 6-5 6-2 6-3 6-1 6-2 6-2 6 1 6-1 6 0 6 0 6-1 6-1 6 1 6 2 6 1 6 0 6 1 6-2 6 1 6 0 6 0 6-1 6 0 6 2 6 1 6 0 6 0 6 1 6 2 6-1 6 0 6-1 6 0 6-3 6 1 6 1 6-2 6-1 6 0 6 0 6-2 6-2 6 1 6 2 6 4 6 0 6 1 6 0 6 3 6 2 6 2M972 -29l6 0 6 0 6 1 6-2 6 1 6-1M1104 -22l6-1 6 1M1224 -12l6 1 6 3 6 3 6 2 6 3 6 2M0 7l6 0 6 3 6 1 6 0M594 -13l6-2 6-3 6 0 6-1 6-2 6-1 6 2 6-1 6-2 6-3 6 0 6-1M690 -27l6 0 6-1 6-1 6-4 6-3 6-1 6-5 6-2 6 0 6-1 6-2 6 0 6-1 6-1 6 3 6 1 6 2 6 1 6 2 6 1 6-2 6-1 6-2 6-1 6-2 6 2 6 3 6 2 6 2 6-1 6 1 6-2 6-2 6-4 6-1 6-1 6 2 6 2 6-1 6 2 6 1 6-1 6 2 6-2 6 2 6 2 6 2 6 3 6 5 6 2 6-2 6 2 6 1M1236 4l6 0 6-2 6 0 6 0M0 7l6-1 6-1 6-1 6-1M264 -23l6-3 6 1 6-2 6-4 6-1 6-2 6 0 6-2 6-2 6 1 6 4 6-2 6 0 6 2 6 2 6-1 6 4 6 1 6 1 6 0 6 0 6-1 6 3 6 1 6-3 6 4M594 -27l6 0 6 2 6 0 6-3 6-2 6 0 6-4 6-2 6-2 6-1 6-2 6-1 6 1 6-4 6-2 6 1 6 2 6 1 6 1 6 1 6 0 6 0 6 0 6-2 6-1 6-2 6-1 6 3 6 2 6 1 6 2 6 2 6 5 6 3 6 3 6 2 6-1 6 0 6 1 6 3 6 0 6 4M972 -23l6-1 6 0 6 1 6 2 6 3 6-1M1242 2l6-1 6 2 6-1"/>
</g>
<polyline fill="none" stroke="#ff0" stroke-width="5.6" points="163.5,278.7 173,278.6 182.4,278.4 191.8,278.3 201.3,278.2 210.7,278.1 220.2,277.9 229.6,277.8 239,277.7 248.5,277.6 257.9,277.5 267.3,277.4 276.8,277.2 286.2,277.1 295.6,276.9 305.1,276.7 314.5,276.5 323.9,276.3 333.4,276.1 342.8,275.9 352.2,275.7 361.7,275.5 371.1,275.4 380.5,275.2 390,275.1 399.4,275 408.9,275 418.3,274.9 427.7,274.8 437.2,274.8 446.6,274.7 456,274.7 465.5,274.6 474.9,274.6 484.3,274.5 493.8,274.5 503.2,274.5 512.6,274.4 522.1,274.4 531.5,274.4 540.9,274.3 550.4,274.3 559.8,274.3 569.2,274.3 578.7,274.2 588.1,274.2 597.6,274.2 607,274.2 616.4,274.2 625.9,274.1 635.3,274.1 644.7,274.1 654.2,274.1 663.6,274.2 673,274.2 682.5,274.2 691.9,274.3 701.3,274.4 710.8,274.5 720.2,274.5 729.6,274.6 739.1,274.8 748.5,275 757.9,275.2"/>
<polyline fill="none" stroke="#f00" stroke-width="6.6" stroke-miterlimit="5" points="145.3,279.3 146.8,279.5 148.3,279.9 149.8,281.7 151.3,284.1 152.8,284.9 154.3,285.6 155.8,286.4 157.3,288.5 158.8,290.6 160.3,290.6 161.8,289.9 163.3,290.6 164.8,293.8 166.3,293.9 167.8,292.5 169.3,293.9 170.8,293.7 172.3,294.4 173.8,295.1 175.3,295.5 176.8,297.1 178.3,297.3 179.8,297.3 181.3,298.6 182.8,299.8 184.3,298.3 185.8,299.4 187.3,299.5 188.8,300.6 190.3,300.3 191.8,301.8 193.3,302.6 194.8,302.6 196.3,302 197.8,302.6 199.3,302.2 200.8,302 202.3,303.4 203.8,302.8 205.3,304.8 206.8,305.1 208.3,302.9 209.8,304.4 211.3,303.8 212.8,304.7 214.3,305.2 215.8,303.8 217.3,305.3 218.8,306.1 220.3,307.8 221.8,306.7 223.3,308.5 224.8,307.7 226.3,308.4 227.8,308.5 229.3,310.9 230.8,311.1 232.3,313.1 233.8,312.4 235.3,312.7 236.8,313 238.3,311.9 239.8,312.2 241.3,313.8 242.8,312.8 244.3,313.2 245.8,313.3 247.3,314.2 248.8,314 250.3,314.5 251.8,315.4 253.3,315.9 254.8,315.6 256.3,317.4 257.8,316.3 259.3,316.2 260.8,316.2 262.3,318.4 263.8,318 265.3,318.1 266.8,318.8 268.3,321.1 269.8,321.2 271.3,321.7 272.8,324.3 274.3,323.6 275.8,323.6 277.3,323.5 278.8,322.8 280.3,322.6 281.8,323.7 283.3,322.6 284.8,321.8 286.3,321.1 287.8,322.5 289.3,322.9 290.8,324 292.3,324.1 293.8,324.4 295.3,324.7 296.8,325.4 298.3,326.6 299.8,326.8 301.3,327.7 302.8,330.1 304.3,329.9 305.8,328.4 307.3,331.4 308.8,331.5 310.3,330.7 311.8,332.7 313.3,333.1 314.8,333.2 316.3,333.8 317.8,334.2 319.3,335.8 320.8,337.7 322.3,337.6 323.8,338.5 325.3,340.5 326.8,338.7 328.3,339.8 329.8,340.1 331.3,339.8 332.8,340.2 334.3,341.5 335.8,342.6 337.3,342.3 338.8,343.1 340.3,344.3 341.8,344.5 343.3,345.4 344.8,345.6 346.3,346 347.8,347.5 349.3,347.2 350.8,346.9 352.3,347.7 353.8,346.7 355.3,347.4 356.8,349.1 358.3,350 359.8,351.5 361.3,351 362.8,350 364.3,353.3 365.8,353.8 367.3,352.4 368.8,354.5 370.3,354.2 371.8,353.1 373.3,354.7 374.8,355.8 376.3,358.6 377.8,358 379.3,359 380.8,359.9 382.3,360.7 383.8,361.2 385.3,362.6 386.8,364.2 388.3,364.6 389.8,363.7 391.3,363.6 392.8,365.1 394.3,365.2 395.8,365.7 397.3,365.3 398.8,368.8 400.3,369 401.8,366.5 403.3,366.9 404.8,366.8 406.3,364.2 407.8,366 409.3,367.4 410.8,369.5 412.3,370.2 413.8,371 415.3,370 416.8,370.6 418.3,370.3 419.8,367.1 421.3,366.2 422.8,369.8 424.3,368.1 425.8,368.4 427.3,369.5 428.8,370.7 430.3,372 431.8,371.4 433.3,369.4 434.8,369.5 436.3,368.8 437.8,369.6 439.3,367.6 440.8,365.2 442.3,365 443.8,367.9 445.3,367.5 446.8,366.5 448.3,368.1 449.8,369.7 451.3,371.4 452.8,370.1 454.3,371.4 455.8,372.1 457.3,371.1 458.8,371.5 460.3,373.4 461.8,373.2 463.3,371.9 464.8,370.5 466.3,370.4 467.8,369.5 469.3,369.5 470.8,368.9 472.3,369.6 473.8,369.9 475.3,372.8 476.8,371.7 478.3,373.1 479.8,374.2 481.3,373.6 482.8,375.2 484.3,373.4 485.8,375.7 487.3,377.9 488.8,376.4 490.3,377.9 491.8,381.1 493.3,380.6 494.8,379.3 496.3,379.4 497.8,379.4 499.3,381.7 500.8,382.9 502.3,383.4 503.8,383.9 505.3,385.4 506.8,387.9 508.3,388.4 509.8,389.6 511.3,389.9 512.8,389.7 514.3,390.9 515.8,391.8 517.3,391.1 518.8,389.5 520.3,388 521.8,388.7 523.3,388.7 524.8,388.8 526.3,388.9 527.8,389.6 529.3,389.8 530.8,390.6 532.3,390.9 533.8,391.6 535.3,391.6 536.8,390.7 538.3,391 539.8,391.8 541.3,391.5 542.8,392.4 544.3,393.5 545.8,392.2 547.3,390.9 548.8,393.2 550.3,392.8 551.8,393.3 553.3,392.5 554.8,395.7 556.3,396.5 557.8,396.7 559.3,397.2 560.8,398.5 562.3,398.9 563.8,398.7 565.3,397.9 566.8,399.8 568.3,399.2 569.8,399.1 571.3,399.1 572.8,396.6 574.3,398.2 575.8,397.8 577.3,397.4 578.8,397.5 580.3,396.3 581.8,397.4 583.3,396.3 584.8,395.7 586.3,395.5 587.8,396.3 589.3,397 590.8,395.9 592.3,394.7 593.8,396.5 595.3,395.1 596.8,396.6 598.3,396.2 599.8,395.7 601.3,395.8 602.8,397 604.3,397.9 605.8,397.4 607.3,398.5 608.8,400 610.3,398.6 611.8,397.6 613.3,397.6 614.8,397.1 616.3,397 617.8,396.5 619.3,395.4 620.8,396.4 622.3,393.4 623.8,393.3 625.3,395.8 626.8,395.2 628.3,394.1 629.8,393.3 631.3,393.8 632.8,392.4 634.3,391.1 635.8,389.1 637.3,389.1 638.8,389.3 640.3,390 641.8,390.7 643.3,391 644.8,390.7 646.3,391.5 647.8,389.5 649.3,389.8 650.8,391.5 652.3,390.2 653.8,390.9 655.3,391.7 656.8,392.6 658.3,392.8 659.8,391.6 661.3,392.8 662.8,393.7 664.3,387.5 665.8,383.3 667.3,379 668.8,375.8 670.3,374.7 671.8,372.3 673.3,369.6 674.8,368.1 676.3,367.1 677.8,366.2 679.3,365 680.8,363.8 682.3,361.3 683.8,359.8 685.3,357.8 686.8,355.6 688.3,353.4 689.8,351.8 691.3,351.4 692.8,349.8 694.3,348.5 695.8,345 697.3,342.8 698.8,344 700.3,343.4 701.8,343.3 703.3,341.8 704.8,340.1 706.3,338.9 707.8,336.5 709.3,337.3 710.8,335.5 712.3,335.3 713.8,334.6 715.3,334 716.8,333.9 718.3,332.2 719.8,331.3 721.3,330.6 722.8,330.7 724.3,332.4 725.8,330.9 727.3,331.7 728.8,329.9 730.3,327.9 731.8,326.1 733.3,322.6 734.8,321.4 736.3,320.8 737.8,317.1 739.3,315.1 740.8,312.5 742.3,311.2 743.8,308.1 745.3,308.8 746.8,306.7 748.3,304.4 749.8,306.1 751.3,305.3 752.8,304 754.3,303 755.8,300.7 757.3,298.3 758.8,296.9 760.3,295.1 761.8,293.3 763.3,293.5 764.8,293.4 766.3,293 767.8,290.8 769.3,287.6 770.8,283.1 772.3,279.5 773.8,276.9"/>
</g>
<path d="M145.3 106.15v-17.5M145.3 444.85v17.5M208.2 106.15v-9.5M208.2 444.85v9.5M271.1 106.15v-17.5M271.1 444.85v17.5M334 106.15v-9.5M334 444.85v9.5M396.9 106.15v-17.5M396.9 444.85v17.5M459.8 106.15v-9.5M459.8 444.85v9.5M522.7 106.15v-17.5M522.7 444.85v17.5M585.6 106.15v-9.5M585.6 444.85v9.5M648.5 106.15v-17.5M648.5 444.85v17.5M711.4 106.15v-9.5M711.4 444.85v9.5M774.3 106.15v-17.5M774.3 444.85v17.5M145.3 412.75h-9.5M774.3 412.75h9.5M145.3 367h-18M774.3 367h18M145.3 321.25h-9.5M774.3 321.25h9.5M145.3 275.5h-18M774.3 275.5h18M145.3 229.75h-9.5M774.3 229.75h9.5M145.3 184h-18M774.3 184h18M145.3 138.25h-9.5M774.3 138.25h9.5" stroke="#000" stroke-width="2" fill="none"/>
<rect x="145.3" y="106.15" width="629" height="338.7" fill="none" stroke="#000" stroke-width="5.2"/>
<path d="M141.8 106.15H777.8M141.8 444.85H777.8" stroke="#000" stroke-width="5.2" fill="none"/>
<text class="a" x="123.63" y="71.9">0.0</text>
<text class="a" x="249.43" y="71.9">0.2</text>
<text class="a" x="375.23" y="71.9">0.4</text>
<text class="a" x="501.03" y="71.9">0.6</text>
<text class="a" x="626.83" y="71.9">0.8</text>
<path d="M760.33 71.9L760.33 53.42L755.57 56.81L755.57 54.27L760.55 50.85L763.03 50.85L763.03 71.9Z"/><text class="a" x="769.65" y="71.9">.0</text>
<text class="a" x="67.76" y="195.3">0.</text><path d="M100.98 195.3L100.98 176.82L96.23 180.21L96.23 177.67L101.2 174.25L103.68 174.25L103.68 195.3Z"/>
<text class="a" x="67.76" y="286.8">0.0</text>
<text class="a" x="50.74" y="378.3">–0.</text><path d="M100.98 378.3L100.98 359.82L96.23 363.21L96.23 360.67L101.2 357.25L103.68 357.25L103.68 378.3Z"/>
<text class="a" transform="translate(24.2 275.7) rotate(-90)" text-anchor="middle">excess/deficit eqs</text>
<text class="t" x="164.3" y="155" text-anchor="start">Poisson</text>
<text class="l" x="164.8" y="425.95">a)</text>
</g>
<g>
<clipPath id="c01"><rect x="846.7" y="106.15" width="629" height="338.7"/></clipPath>
<path d="M972.5 106.15V444.85M1098.3 106.15V444.85M1224.1 106.15V444.85M1349.9 106.15V444.85M846.7 367H1475.7M846.7 275.5H1475.7M846.7 184H1475.7" stroke="#000" stroke-width="1.15" fill="none"/>
<rect x="1308" y="401" width="104" height="29.3" fill="#fff"/>
<g clip-path="url(#c01)">
<g transform="translate(846.70 275.50) scale(0.49921)">
<path fill="#999" stroke="#999" stroke-width="1" d="M0 5L6 5L12 5L18 2L24 -1L30 -6L36 -6L42 -10L48 -9L54 -9L60 -9L66 -9L72 -9L78 -12L84 -15L90 -15L96 -15L102 -15L108 -17L114 -21L120 -25L126 -25L132 -25L138 -25L144 -23L150 -23L156 -23L162 -20L168 -20L174 -20L180 -20L186 -20L192 -21L198 -14L204 -14L210 -14L216 -14L222 -14L228 -21L234 -21L240 -21L246 -21L252 -27L258 -24L264 -24L270 -24L276 -24L282 -24L288 -27L294 -25L300 -25L306 -23L312 -23L318 -23L324 -23L330 -23L336 -24L342 -26L348 -26L354 -26L360 -26L366 -26L372 -26L378 -29L384 -29L390 -29L396 -29L402 -25L408 -25L414 -25L420 -25L426 -25L432 -29L438 -39L444 -39L450 -29L456 -29L462 -29L468 -15L474 -15L480 -15L486 -11L492 -11L498 -11L504 -11L510 -11L516 -28L522 -28L528 -37L534 -37L540 -37L546 -37L552 -37L558 -37L564 -30L570 -29L576 -29L582 -29L588 -29L594 -29L600 -30L606 -35L612 -35L618 -35L624 -13L630 -13L636 -13L642 -13L648 -13L654 -25L660 -24L666 -24L672 -24L678 -24L684 -24L690 -25L696 -23L702 -23L708 -23L714 -23L720 -23L726 -26L732 -26L738 -32L744 -35L750 -39L756 -38L762 -38L768 -29L774 -29L780 -29L786 -29L792 -29L798 -23L804 -23L810 -23L816 -23L822 -23L828 -30L834 -30L840 -30L846 -30L852 -31L858 -31L864 -30L870 -30L876 -30L882 -30L888 -30L894 -30L900 -30L906 -30L912 -28L918 -28L924 -27L930 -25L936 -25L942 -25L948 -25L954 -25L960 -33L966 -33L972 -33L978 -33L984 -27L990 -27L996 -27L1002 -27L1008 -27L1014 -27L1020 -27L1026 -27L1032 -27L1038 -29L1044 -29L1050 -29L1056 -39L1062 -39L1068 -29L1074 -29L1080 -29L1086 -29L1092 -29L1098 -33L1104 -31L1110 -31L1116 -31L1122 -31L1128 -31L1134 -29L1140 -29L1146 -23L1152 -23L1158 -23L1164 -23L1170 -23L1176 -29L1182 -21L1188 -21L1194 -21L1200 -21L1206 -19L1212 -16L1218 -15L1224 -12L1230 -9L1236 -5L1242 -3L1248 0L1254 0L1260 0L1260 0L1254 0L1248 0L1242 4L1236 7L1230 11L1224 14L1218 15L1212 15L1206 23L1200 23L1194 26L1188 26L1182 30L1176 31L1170 22L1164 22L1158 22L1152 22L1146 22L1140 25L1134 23L1128 23L1122 23L1116 23L1110 23L1104 34L1098 34L1092 22L1086 21L1080 21L1074 21L1068 21L1062 21L1056 31L1050 31L1044 31L1038 31L1032 19L1026 19L1020 19L1014 19L1008 19L1002 35L996 37L990 39L984 9L978 9L972 9L966 9L960 9L954 35L948 32L942 32L936 32L930 32L924 32L918 36L912 36L906 36L900 36L894 36L888 37L882 41L876 40L870 19L864 19L858 19L852 19L846 19L840 43L834 43L828 35L822 35L816 35L810 35L804 35L798 39L792 39L786 23L780 23L774 23L768 23L762 23L756 24L750 21L744 21L738 21L732 20L726 20L720 20L714 20L708 20L702 28L696 32L690 32L684 32L678 32L672 32L666 34L660 34L654 37L648 37L642 37L636 37L630 37L624 37L618 37L612 38L606 38L600 40L594 40L588 40L582 40L576 42L570 42L564 28L558 28L552 28L546 28L540 28L534 30L528 30L522 30L516 38L510 38L504 38L498 38L492 36L486 36L480 36L474 36L468 36L462 36L456 36L450 36L444 36L438 37L432 37L426 37L420 30L414 30L408 30L402 20L396 20L390 20L384 20L378 20L372 47L366 47L360 27L354 27L348 27L342 27L336 27L330 50L324 48L318 47L312 47L306 47L300 47L294 22L288 21L282 21L276 21L270 21L264 21L258 40L252 46L246 36L240 36L234 36L228 36L222 36L216 43L210 42L204 41L198 35L192 34L186 34L180 34L174 34L168 34L162 35L156 34L150 34L144 34L138 33L132 32L126 32L120 32L114 30L108 28L102 27L96 25L90 24L84 22L78 22L72 22L66 20L60 18L54 16L48 16L42 15L36 13L30 11L24 10L18 8L12 5L6 5L0 5Z"/>
<path class="g" stroke-width="2.80" d="M0 5l6-1 6-1 6 1M282 20l6 2 6 2 6 2M330 26l6 3 6 1 6 4 6 4 6 0 6 0 6 2 6 1 6 0 6 0 6 0 6-2 6-1 6-1 6 2 6-3M522 29l6 1 6 0 6 0 6-2 6-1 6-1 6 2 6-3M1062 19l6 2 6 0 6 1 6 2 6 1 6 4 6 1 6 0 6 0 6-1 6 3 6 2 6-3 6-3 6 0 6 0 6 2 6 1 6 2 6-4 6-1 6-3M1236 5l6-1 6 0 6-2 6-2M0 5l6 2 6 1 6-1M396 -25l6 0 6 0 6 0 6 3M462 -25l6 1 6 1 6 1 6-3 6-1 6-1 6-1 6 0 6-1 6-2 6 0M558 -36l6-3 6-2 6-3 6-2 6-4 6-3 6 1 6 1 6-2 6-2 6-2 6-1 6 2 6 2 6-1 6 0 6 0 6 0 6 1 6-1 6 3 6 1 6 1 6-3 6 1 6 1 6 3 6 3 6-3 6 1 6 1 6 2 6 2 6 2 6 2 6 1 6 1 6 1 6-2 6 2 6 3 6 3 6 1 6 2 6 1M1236 -4l6-1 6 2 6 3 6 0M0 5l6 2 6 2 6 2 6 1 6 1 6 0 6 1M234 35l6 3 6 1 6 1 6 2 6 1 6 2 6 1 6 0 6 1 6 0 6-1 6 1 6 1 6 0 6 0 6 1 6 1 6 1 6 2 6 0 6 0 6 1 6 2 6-1 6 1 6 1 6 0 6 0 6 1 6 0 6 4 6 4 6 5 6 6 6 4 6 3 6 1 6 3 6 0 6 1 6 3 6 1 6 0 6 1 6 1 6-3 6 1 6 1 6 2 6 3 6 0 6 1 6 1 6-1 6 0 6-1 6 1 6 1 6 2 6 0 6-2 6 0 6-1 6 0 6 1 6 0 6 1 6 0 6 1 6-1 6-2 6 0 6 0 6-3 6-1 6-2 6 0 6 0 6-1 6 0 6-1 6 0 6-1 6-2 6-2 6-1 6-1 6 0 6-1 6-2 6-1 6-2 6 0 6 0 6-1 6-1 6-1 6-2 6-4 6-1 6 1 6 0 6-4 6-3 6-1 6 0 6-2 6 0 6-1 6-2 6-2 6 1 6-1 6-2 6 0 6 2 6 0 6-1 6-1 6 0 6-2 6-2 6-1 6 1 6-1 6 0 6 0 6 0 6 0 6-1 6-1 6-1 6 1 6-2 6-3 6-3 6 0 6 0 6-3 6-1 6-3 6-2 6-1 6 0 6-1 6-2 6-2 6 0 6-2M1206 18l6 1 6-1 6-3 6-4 6 1 6-2 6-4 6-3 6-3M0 5l6 0 6 0 6-4 6 1M498 -10l6-2 6-1 6-3M636 -11l6-2 6 1M1152 20l6 2 6-2M1242 -1l6 3 6 0 6-2M0 5l6-2 6 3 6 2 6 1M618 -15l6-1 6-3 6-1 6-1 6-1 6 0M1002 -24l6-3 6 0 6 0 6 2M1086 -27l6-3 6 0 6 0 6-2 6-3 6 0 6-3 6 1 6 2 6 1 6 2 6 2 6 0 6 1 6-1 6 1 6 2 6 1 6 2 6 2 6 3 6 3 6 4 6 2 6 2 6 1 6 3 6 3 6 1M0 5l6 2 6 1 6 1 6-3M258 33l6-1 6-1 6-3 6 3 6-2 6-3 6-2M372 22l6 1 6 3 6 1 6 1 6 0 6-2M468 35l6 2 6-1 6-2M498 36l6 2 6-2 6 2 6 2 6-2 6 0 6 0 6-2 6-3 6-2 6 0 6 3M606 36l6 2 6 0 6 1 6-2 6 0 6 0 6 0 6-2 6-1 6-2M702 21l6-1 6-3M954 19l6 0 6-2 6 1 6 0 6-3 6-1M1056 23l6 2 6 3 6 0 6 0 6 1 6-1 6 1 6-2 6-2 6-1 6-1 6 0 6-1M1224 13l6 4 6-3 6-5 6-3 6-3 6-3M0 5l6 0 6-1 6-1M48 -8l6-3 6 3 6 0 6-1 6-2M258 24l6 2 6 1 6-1 6 1 6 0 6 1 6 0M840 22l6-3 6 0 6 0 6 0 6-2M1236 5l6 0 6-1 6-3 6-1M0 5l6 2 6 1 6 1 6 1 6-1M714 19l6 1 6 0 6 0 6-2M954 20l6 0 6 0 6-1 6-1 6 1 6-1M1242 0l6 0 6-1 6 1M0 5l6 2 6-2 6 1M768 21l6 2 6 5 6 0 6 0M840 34l6-3 6 1 6 1 6-1 6 0 6 1M894 35l6 1 6-2 6 2 6 0 6-1 6-5 6 0 6 2 6-1 6 0 6 2 6 2 6-1 6-2 6-1 6 0M1002 29l6-1 6 1 6-4 6 0 6-1 6-1M1152 -22l6-1 6 0 6 1M1230 -8l6 0 6 3 6 0 6 2 6 3M0 5l6 0 6 0 6 0M216 36l6 0 6-1 6 1 6 0 6 0 6 0 6 1 6 0 6-1 6-1 6 2 6 0 6 0 6 1M330 39l6 2 6 1 6 1 6 0 6-1 6-1 6 1 6 0 6-1 6 0 6 0 6-1 6-2 6-1 6 1 6-2 6 1 6 0 6-2M516 37l6 2 6-1 6 0 6-1 6 0 6-2 6-1 6-2 6 1M618 35l6 2 6-1M642 35l6 2 6 1 6-3 6-1 6-3M696 29l6 1 6 2 6 2 6 0 6-2 6-1 6-1 6 2 6 1 6 0 6 0 6 1 6 1 6 1 6 2 6 2 6 0 6-1 6 1 6 0 6-2 6-1 6-1 6 1 6-1 6-1 6 3 6-2 6 1 6 0 6-1 6 1 6-2M954 25l6-4 6 1 6-2 6-1 6-1 6 2M1002 21l6 0 6-1 6 5 6 4 6 4 6 1 6 4 6 2 6 2 6 2 6-4 6 0 6 2 6-1 6-2 6 0 6 2 6-2 6-1 6 1 6-1 6 1 6 2 6 0 6-1 6 2 6 2 6-3 6-1 6-3 6-3 6-4 6-4 6-4 6-1 6 2 6-2 6-6 6-6 6-3 6-1 6-3 6-2M0 5l6 2 6 0 6 2 6 0M192 -17l6-2 6-2 6-5 6-3 6-4 6-1 6-3 6 0 6-1 6 0 6-1 6-2 6 1 6 0 6 2 6 0 6 0 6 1 6 2 6-2 6-2 6-1 6-1 6-4 6 0 6-2 6 0 6 1 6 0 6 0 6 0 6-1 6-1 6 1 6 3 6 1 6 0 6-1 6 1 6 1 6-1 6 2 6 1 6 0 6-3 6 2 6 0 6 2 6 0 6-1 6-1 6 1 6-1 6 2 6 1 6 1 6 0 6 0 6 0 6 0 6 1 6-1 6 1 6-3 6-1 6 0 6 1 6 1 6 0 6 0 6-1 6 1 6 0 6 1 6 1 6 2 6 0 6 0 6-1 6 2 6-1 6 2 6 1 6 1 6-1 6 0 6-2 6 3 6 2 6 1 6 3M1032 -25l6-4 6 0 6 1M1128 -27l6-2 6-2 6 3 6 3 6 3M1176 -22l6 1 6 2M1206 -13l6-3 6 1 6 2 6 0 6 1 6 5 6 4 6 4 6-1M0 5l6-2 6-2 6-3 6-1 6 1M258 31l6 1 6 2 6 0 6 3 6 1 6 1 6 2M330 43l6 0 6 1 6 1 6 1 6 0 6 1 6 2 6 0 6 1 6-1 6 1 6 0 6 0 6 0 6 2 6 2 6 0 6 1 6 0 6 1 6 1 6-2 6-4 6-4 6-1 6 0 6-1 6 0 6 0 6 0 6 2 6-2 6 1 6-1 6 1 6-1 6 0 6 0 6-2 6-2M594 39l6 3 6-1 6 1 6 1 6 3 6 2 6 0 6 1 6-1 6 1 6 1 6-1 6 1 6 1 6 1 6-1 6 0 6 0 6-1 6 0 6 0 6-1 6 1 6 2 6 0 6 0 6 0 6-1 6-1 6-1 6 0 6 0 6-1 6-3 6-2 6-2 6 0 6 1 6-1 6 0 6-2 6-2 6-1 6 0 6 0 6 4 6 1 6 1 6 2 6 2 6-1 6 2 6 0 6 0 6 0 6 1 6-1 6-1 6-2 6-4 6-1 6-2 6 0 6 1 6-1 6 0 6 0 6-1 6 0 6-1 6-2 6-1 6-2 6 0 6 1 6-1 6 0 6-1 6-2 6 0 6 0 6 0 6-2 6-3M1242 2l6-1 6 2 6-3M0 5l6 1 6 2 6 1 6-1M840 23l6 2 6-1 6 2 6 4 6 0 6 0M918 32l6 2 6 0 6-2 6-2M954 30l6 1 6 1 6 2 6 0 6-2 6-1M1002 29l6 0 6 0 6-1 6-1 6 0 6 2M1236 6l6-2 6 0 6-1 6-3M0 5l6 0 6 1 6 0M642 -10l6-3 6-2M792 -22l6-1 6-2 6-3 6-1 6 3 6-3M840 -28l6-3 6 2M864 -29l6-1 6 2 6-2 6 3M1236 1l6 3 6-3 6 0 6-1M0 5l6 2 6 0 6-1M318 -20l6-4 6 0 6-1 6 0M1038 -27l6-5 6 2 6 3 6-3 6-6 6-5 6-3 6 2 6 0 6-2 6 0 6 2 6 3 6-3 6-1 6-1 6 1 6 2 6 3 6 3 6 3 6 1 6 7 6 2 6 1 6 0 6 1M1224 -9l6-1 6 3 6 2 6 1 6 2 6 2M0 5l6 0 6 1 6-1 6 4 6 2 6 1M924 -26l6-1 6 1 6 2 6-2 6-2 6 0M978 -29l6 1 6 4M1242 0l6 3 6-1 6-2M0 5l6 2 6 1 6 0 6-1M954 11l6 3 6-2 6 1 6 0 6 2 6 1M1140 -26l6 3 6-1 6 5M1242 1l6 0 6 1 6-2M0 5l6 2 6 1 6 1 6 0M342 25l6 2 6 0 6 0 6-1 6 2 6 1 6 1 6 1 6-1 6 0 6 0 6-1M660 33l6 4 6-4 6 0 6-1 6-3 6 2 6 2 6-2 6-3 6 0 6 0 6-2 6-2 6 1 6-1 6-3M774 21l6 2 6 2 6 3M1140 -16l6-7 6-3 6-2 6 2 6 4M1230 -6l6 0 6 1 6 2 6 2 6 1M0 5l6 1 6-1 6-1M48 -7l6-2 6 0 6 2 6-3 6 1M462 -19l6-2 6-1 6-3 6 0 6 0 6 1 6 1 6 1 6 0M948 -23l6-2 6-1M978 -32l6-1 6-1 6-2 6-6 6-4 6-3 6-1 6 3 6-1 6 3 6-2 6-2 6 0 6 0 6 0 6 2 6 2 6-3 6 0 6 0 6 4 6 1 6 4 6 3 6 3 6 1 6-2 6-1 6 2 6 6 6-2 6 2 6 0 6 1 6 4 6 3M1206 -18l6 2 6 4 6 2 6 1 6 1 6 1 6 3 6 2 6 2M0 5l6 2 6-1 6-2M528 28l6 2 6 2 6 1 6 3 6 0 6 2 6 1M588 38l6 2 6 4 6-2 6 1 6-1 6-1 6 0 6 1 6 0 6-1 6-3 6 0 6 1 6 2 6 2 6-3 6-4 6 0 6-1 6-1 6-2 6-2 6-1 6-2 6 2 6 2 6-4 6-2 6 0 6 3 6 2 6-1 6-3 6 0M840 20l6 2 6 3 6-1 6-3 6-2 6-2M954 22l6 1 6 1 6-1 6 0 6-4 6-6M1230 -6l6 1 6 2 6 2 6-1 6 2M0 5l6 0 6 2 6 2 6-1M1242 -2l6 2 6-1 6 1M0 5l6 2 6 0 6-1M48 14l6 3 6 0M396 18l6 2 6 2M1128 -29l6-1 6 0 6 1 6 2 6 5M1230 -6l6 0 6 3 6 0 6 2 6 1M0 5l6 0 6-2 6-5 6-3 6 1M618 -20l6-3 6-1 6-1 6 1 6 1 6 2M1236 -1l6-2 6-1 6 2 6 2M0 5l6 1 6 0 6 2 6 2 6 2 6 1 6 0 6 1 6 2 6 1M180 33l6 2 6 1 6 1 6 2M216 41l6 2 6 1 6-1 6 1 6 0 6 0 6 2 6 0 6 0 6 1 6 1 6 0 6 1 6 0 6 2 6 2 6 3 6 2 6 2 6 1 6 1 6 2 6 0 6 0 6 1 6 0 6 2 6 2 6-1 6-1 6 1 6 0 6 0 6-1 6 0 6-1 6-2 6-3 6-1 6-4 6-1 6 2 6 2 6 1 6 4 6 0 6-1 6 0 6-1 6 0 6 1 6-1 6-1 6-2 6 0 6-1 6-2 6-1 6 0 6-1 6-2 6-1 6 1 6 0 6 0 6-1 6 2 6 0 6 1 6 1 6-1 6 2 6-1 6 0 6 1 6 0 6 1 6 0 6 2 6-1 6 1 6 2 6 1 6 2 6 2 6 0 6 0 6 0 6 0 6 2 6 3 6 2 6 0 6 1 6 2 6 2 6 1 6 2 6 3 6 1 6 1 6-1 6 1 6 2 6 2 6 3 6 1 6 2 6 1 6 0 6 0 6-1 6-2 6-1 6-1 6 1 6 2 6 1 6-1 6-2 6 0 6-1 6 1 6 0 6-1 6-1 6 0 6-2 6-1 6 1 6 0 6 0 6-3 6 0 6 0 6-4 6-3 6-1 6-1 6-2 6-3 6-4 6-1 6-1 6-1 6-2 6-1 6-1 6-3 6-4 6-2 6-2 6-1 6-3 6-5 6-3 6-7 6-1 6-3 6-3M1242 3l6-4 6-1 6 2M0 5l6 1 6 0 6 3 6 1 6 0M1242 0l6-3 6 1 6 2M0 5l6-1 6 1 6 0M132 31l6 2 6 1 6 1 6 1 6 1 6 1 6 1 6 1 6 0 6-1 6 0 6 1M216 40l6-1 6-2 6-1 6-1M258 34l6 1 6 0 6 0 6-4 6-3 6-1 6-1M336 26l6 4 6 3 6 2 6 2 6 2 6-1 6-1 6-1 6 0 6 1 6 0 6 3 6 2 6 0 6-1 6-2 6-4M546 27l6 1 6 3 6 0 6 0M954 10l6-1 6 0 6-3M1242 2l6-1 6 0 6-1M0 5l6 2 6 2 6 1 6 2 6 2 6 1 6 1 6 0 6 2 6 1 6 1 6 0M258 32l6 0 6 0 6-2 6-1 6 1 6 4 6 2M330 41l6-1 6-1 6-1 6-1 6-1 6-2 6 0 6-1 6 0 6 2 6-3 6 0 6 3 6-1 6-4 6-3M1242 1l6 1 6-2 6 0M0 5l6-3 6-2 6-2 6-1 6-4 6-2 6-1 6 0 6 2M66 -8l6-5 6 0 6 0 6-6 6-2 6 0 6-3 6-6 6-5 6 0 6 3 6 1 6 0 6 1 6-1 6 0 6 2 6 4 6 3 6 5 6 2 6-1 6-1 6-2 6-2 6-2 6-2 6-1 6-2 6 1 6 2M618 -20l6 0 6-2 6 0 6 3 6 3 6-2M672 -21l6-3 6-2 6-1 6-2 6-4 6-2 6 0 6-2 6 0 6 2 6 2 6 3M1074 -26l6-3 6-2 6 5M1242 2l6 0 6 0 6-2M0 5l6-2 6-1 6 0 6 1M1242 1l6 3 6-3 6-1M0 5l6-1 6-2 6-2 6-1 6-1M60 -8l6-3 6 0 6-4 6-6 6-2 6 1 6 3 6 0 6-1M126 -21l6-4 6 4M636 -10l6-3 6-4 6-3M672 -23l6-1 6-1 6 4M1056 19l6 2 6 0 6 0 6-1M1236 1l6 3 6-1 6-1 6-2M0 5l6 0 6 3 6 1 6 0 6 2 6 0M258 27l6 2 6 3 6 3 6 0 6-3 6-1 6-2M330 31l6-1 6-2 6-1 6-2M954 25l6 1 6 1 6-1 6-1 6-5 6-2M1002 17l6 2 6 2 6 3 6 3 6 1 6 0M1056 27l6 3 6 1 6 0 6 1 6 0 6 0 6 2 6-1 6 0 6 2 6-1 6 0 6 0 6 0 6 0 6 2 6-3 6-4 6-4 6-4M1242 -1l6 0 6 0 6 1M0 5l6-2 6-4 6-5 6-7 6-7 6-1 6 0 6 0 6 1 6 1 6-4 6-4 6-2 6-2 6 0 6-5 6-3 6 2 6 3 6 0 6 1 6-6 6-1 6 0 6-2 6 6 6 2 6 2 6 1 6 1 6-2 6-3 6 0 6 0 6 1 6-2 6 1 6 2 6-1 6 0 6 1 6 0 6-1 6 0 6 1 6 0 6-1 6 2 6 4 6 3 6 1 6 0 6 1 6 2M954 25l6-3 6-2 6-2 6 2 6-1 6 0M1242 0l6-1 6-1 6 2M0 5l6 2 6 2 6 2 6 1 6 1 6 1 6 2 6 2 6 2 6 2 6 0 6 0 6 2 6 0 6 0 6 2 6 1 6 0M150 31l6 3 6 1 6 1 6 0 6 2 6 1 6 1 6-1 6 1M216 41l6-1 6 1 6 0 6 0 6-1 6-2 6 0 6 0 6 0 6-2 6 1 6 0 6 0 6 0M372 24l6-2 6 2 6 1 6 0 6 1 6-2M618 -25l6 4 6 3 6 1 6 3 6-3 6-2M1236 -4l6-1 6 0 6 2 6 3M0 5l6 0 6 0 6-2M198 -13l6-1 6-3 6 2 6-1 6-3M534 29l6-1 6 3 6 3 6 5 6 2 6 0 6 1 6 0 6-1 6-3M954 14l6 3 6-1 6-1 6 0 6 2 6 1M1242 1l6 0 6 1 6-2M0 5l6-2 6-2 6 1 6 1M96 -11l6-7 6-2 6-3 6-3 6 3M156 -22l6-3 6-2 6-1 6-1 6 0 6 0 6 1 6 0 6-1 6-2 6-2 6-3 6-2 6-3 6 0 6-2 6-2 6-1 6-3 6 0 6 0 6 3 6 1 6 2 6 1 6 0 6 4 6 3 6 0 6 2 6 2 6 0 6-1 6 1 6 0 6 1 6-2 6-1 6-1 6-3 6-3 6 0 6 0 6 3 6 0 6 0 6-2 6-1 6 0 6-3 6-2 6 2 6 3 6-1 6-1 6-2 6 0 6-2 6 0 6 0 6 1 6 1 6 1 6 0 6 0 6-2 6-1 6 1 6 1 6-1 6 0 6-2 6-2 6 0 6-1 6-1 6-4 6-2 6 2 6 1 6-1 6-2 6-2 6 0 6 3 6-1 6 0 6 3 6 2 6 3 6 0 6 0 6 2 6 1 6 0 6 2 6 2 6 2 6 4M762 -34l6 1 6-1 6-4 6 0 6-1 6 2 6 2 6 2 6 2 6 2 6-1 6 3M1242 1l6-1 6-1 6 1M0 5l6-1 6-2 6 0 6 0M60 -8l6-4 6 0 6 1M192 -19l6 0 6-1 6-3 6-3 6-3 6-1 6 0 6-3 6-2 6-1 6-2 6-2 6 0 6-3 6-5 6 0 6 0 6 3 6 3 6 0 6-2 6 1 6 0 6 2 6 1 6 0 6 0 6-1 6 0 6 0 6-1 6-1 6-1 6-1 6 1 6-2 6 0 6-2 6 0 6-2 6-1 6 2 6 2 6 2 6 2 6-1 6 2 6 3 6-1 6 1 6 3 6 1 6-2 6 0 6 0 6 1M558 -36l6-2 6-1 6 1 6 3 6 0 6 1 6 4 6 1M618 -29l6 1 6 0 6 0 6-2 6-4 6-3 6 0 6-1 6 1 6 2 6 2 6 0 6-3 6-2 6-2 6 0 6 1 6 1 6 3 6-4 6-5 6 0 6 1 6-2 6 2 6 1 6 0 6-1 6 0 6-1 6 5 6 4 6-1 6 0 6-4 6-5 6 0 6 1 6-1 6 1 6 2 6-2 6 0 6 1 6 1 6 1 6 1 6 0 6 0 6 1 6 0 6 0 6 1 6 3 6 4 6 2 6 2M1230 -7l6 1 6-1 6 2 6 3 6 2M0 5l6 2 6 2 6 2 6 1 6 0 6 2 6 1 6 1 6 1 6 1 6 1M228 35l6 1 6 1 6 0 6 0 6 0 6 0 6 1 6-1 6 1 6 0 6 2 6 1M330 48l6 2 6 2 6 2 6 0 6 0 6 1 6 0 6 0 6 1 6-1 6 0 6 2 6 3 6 0 6 0 6 2 6 2 6 1 6 0 6-1 6-2 6-1 6 1 6-1 6 1 6 1 6 3 6-2 6 1 6 1 6-1 6 0 6-3 6-4 6-1 6-1 6 1 6 2 6 0 6 1 6 0 6 0 6-3 6 2 6 0 6-1 6 0 6-1 6-3 6-1 6-1 6-1 6-2 6-1 6 0 6-1 6-1 6-2 6 0 6 1 6 1 6 0 6 2 6 1 6 0 6 1 6 0 6 1 6 0 6 0 6-1 6 0 6 2 6 2 6-1 6-1 6-1 6-1 6-1 6-1 6 0 6 1 6-1 6-2 6-1 6 0 6 0 6 0 6 0 6 3 6 2 6 0 6 0 6-3 6-2 6-4 6-1 6 1 6 1 6 0 6-1 6-3 6-3 6-1 6-1 6 0 6-3 6 0 6-1 6-1M1002 25l6 1 6 2 6-3 6-4 6-6M1242 0l6-3 6 0 6 3M0 5l6-2 6-2 6-5 6-2 6-3 6-1 6-3 6-2 6-2 6-4 6-3 6-3 6-6 6-2 6-1 6-5 6-1 6-3 6 2 6-1 6 0 6 3 6 1 6 0 6 2 6 1 6 1 6 1 6 0 6 1 6 1 6 0 6 2 6 0 6 0 6 0 6 0 6-4 6-2 6-1 6-1 6 2 6 1 6 1 6 2 6 1 6-2 6 4 6 3 6 2 6 0 6 2 6 2M696 28l6 2 6 1 6 0 6 1 6 2 6-1 6-1 6-1 6 2 6 1 6 3 6 0 6-3 6 0 6-1 6 0M840 29l6-2 6 1 6-1 6 1 6 0 6 0M918 34l6-1 6-2 6 1 6 0 6-2 6-2 6-3 6-3 6-2 6 0 6 1 6 1M1242 -2l6 1 6 1 6 0M0 5l6 0 6 3 6 0 6-3M1206 14l6 2 6-3 6-3 6 1 6 2 6-4 6-3 6-4 6-2M0 5l6 0 6-2 6 1M258 30l6 3 6 1 6 0 6 0 6 0 6 2 6-2M330 32l6 0 6 0 6 3 6-2 6 2 6 4 6 0 6 1 6 2 6 2 6 3 6 1 6 1 6 1 6-2 6 1 6 1 6 0 6-2 6 1 6 0 6 0 6 1 6 2 6 3 6 1 6 0 6 2 6-1 6 1 6-1 6-1 6-1 6-4 6-1 6 0 6-1 6-1 6-2 6-3 6-2M1242 -1l6-2 6 1 6 2M0 5l6-1 6 1 6 3 6 1M954 10l6-1 6-2M1230 9l6-1 6-3 6 0 6-3 6-2M0 5l6 2 6 1 6-1M258 38l6 0 6 0 6 2 6 0 6-1 6-1 6-2M330 36l6 1 6 1 6-2 6 3 6 3 6 3 6 1 6 0 6 1 6 2 6 2 6 1 6 3 6 0 6 2 6-1 6-2 6 1 6 3 6-2 6-2 6 1 6 0 6 2 6 1 6-1 6 1 6 0 6 1 6-1 6-2 6-2 6-1 6 0 6 0 6 0 6-2 6-1 6 0 6-1 6-3 6-1 6-1 6-4 6-3M738 20l6 3 6 2 6 0 6 2 6 4 6 3 6 0 6 0 6 1 6 2 6 1 6 1 6 0 6 1 6 1 6 1 6 0 6 0 6 1 6-1 6-2 6 1 6-1 6-1 6-2 6-2M918 31l6 2 6 1 6-4M954 22l6-5 6-2 6 3 6 1 6 1 6 1M1002 18l6 1 6 3 6 2 6-2 6-1 6-3M1242 -1l6 0 6 1 6 0M0 5l6 1 6 0 6 0M258 34l6 1 6-1 6 0 6-1 6 0 6 0 6 0M330 36l6 1 6-3 6 0 6 0 6-2 6-2 6-1 6 0 6 1 6-1 6 0 6-1 6 2 6-3M1116 -28l6-3 6 1M1218 -13l6 1 6 3 6 1 6 3 6 3 6 1 6 1M0 5l6 0 6 0 6-1M918 28l6 6 6 2 6 0 6 1 6 2 6 0 6-2 6-1 6 0 6 1 6 1 6 1 6 1 6 1 6 0 6 2 6 2 6-1 6 0 6 0 6 0 6-1 6-2 6 1 6-2 6-2 6-4 6-1 6-2 6 0 6 0 6 0 6 0 6-1 6 2 6-1 6-2 6 2 6-1 6-2 6 0 6 3 6-1 6-1 6 0 6 1 6-5 6-2 6 0 6-1 6 0 6-6 6-8 6-1 6-2 6-2 6-3M0 5l6-1 6-2 6 1M372 26l6 0 6 1 6 1 6 1 6 0 6 1 6-1M462 35l6 1 6-1M516 31l6 1 6-2 6-2M660 33l6 2 6 5 6-1 6-3 6-1 6-2 6-3 6-2 6-2 6-1 6 1 6-1 6 1 6 2 6 1 6 2 6 1 6 3 6 0 6-2 6-4 6-2M840 26l6-1 6 1 6-1 6 0 6-1 6 0M954 22l6-3 6 0 6-1 6-1 6-1 6-2M1176 -24l6-6 6 5 6 5M1206 -18l6 1 6 4 6 3 6 1 6 1 6 2 6 3 6 3 6 0M0 5l6-2 6-3 6-1 6 1M1230 -8l6 0 6 2 6 2 6 2 6 2M0 5l6-1 6 1 6 2M78 21l6 1 6 1M954 18l6-2 6 0 6 0 6 0 6 0 6 1M1026 18l6 1 6 0M1068 19l6 2 6-3M1104 21l6 2 6 1 6-2 6 1 6 1 6 1 6 2 6-1 6 1 6-2 6-1 6-1M1224 11l6 0 6 0 6-1 6-3 6-4 6-3M0 5l6 0 6 0 6-2M480 -13l6 1 6 1 6 3M1140 22l6 3 6 1 6 0 6 0 6-4 6-5M1242 2l6-3 6 1 6 0M0 5l6 0 6 0 6 2M258 24l6 1 6 3 6 3 6 2 6 3 6 0 6 0M330 40l6 1 6-1 6-1 6 1 6-2 6-4 6-2 6 1 6-3 6 0 6 1 6-4 6-2M696 26l6 3 6 4 6 0 6-2 6 1 6-1 6 2 6 2 6 0 6 1 6 2 6-2 6-1 6 0 6 1 6 1 6 1 6 1 6 0 6 0 6 0 6-3 6-3 6-1 6 1 6 3 6 0 6 2 6 1 6 0 6 0 6-1 6-3M918 34l6-2 6-1 6 1 6-1M954 23l6-3 6 0 6-1 6-1 6-1 6 1M1224 -10l6 1 6 1 6 3 6 3 6 0 6 2M0 5l6 2 6 2 6 2 6 2 6 2 6 1 6 0 6 1 6 0 6 1 6 0M954 26l6-1 6-1 6 1 6-1 6 1 6-1M1002 20l6-1 6-1M1236 6l6-1 6-4 6-1 6 0M0 5l6 2 6 1 6 2 6 0 6 0M462 -18l6-2 6 1 6-1 6 0 6-1 6-2 6 0 6-1 6-2 6-2 6-1M558 -33l6-1 6 0 6-1 6 1 6-1 6-2 6 1 6-1 6 1 6 3 6 4 6 2 6-1 6 1 6 3 6 1M678 -23l6-1 6 3M840 21l6-2 6-1M1236 -3l6-2 6 2 6 2 6 1M0 5l6 2 6 0 6-4M222 -13l6-8 6 2 6-2 6 0 6-4 6 0 6 0 6 3M480 -12l6-3 6-1 6-1 6 1 6 1 6-1M642 -11l6-3 6 0M708 -22l6-1 6 2M1104 20l6 3 6-2M1242 2l6-2 6 0 6 0M0 5l6 0 6-4 6-1 6 0M258 31l6 1 6 0 6-1 6 1 6 0 6 1 6 0M330 39l6 1 6 0 6 1 6 0 6 1 6 1 6-1 6 0 6-2 6-1 6-1 6-2 6-2 6 0 6-2 6-2M534 29l6-1 6-3M714 -22l6-2 6 2M1218 -14l6 0 6 2 6 2 6 3 6 3 6 3 6 1M0 5l6-2 6 2 6-1M132 -21l6-4 6 1 6-6 6-1 6 2 6-1 6-4 6-5 6 0 6 2 6 0 6 1 6 1 6 3 6 2 6 3 6 2 6 2 6 3M480 -12l6 1 6 2 6-2 6-3 6 0 6 2M996 -26l6-1 6-4 6-2 6 0 6 1 6 2 6 3M1242 -2l6 1 6 2 6-1M0 5l6 0 6 3 6 0 6-2M174 -17l6-3 6 2 6 3 6 1 6 1M462 -26l6-1 6-3 6-3 6 0 6 0 6 0 6 1 6-1 6-2 6 0 6 2M558 -30l6 0 6-1 6 1 6 1 6 3M840 27l6-6 6-4M1236 -4l6 0 6 1 6 3 6 0M0 5l6-2 6 1 6 3M258 20l6 1 6 3 6 2 6 0 6 0 6 2 6-4M792 -21l6-2 6-2 6-4 6-1 6 2 6-1M918 -25l6-2 6-1 6 2 6-3 6-2 6-2 6 4M984 -25l6-3 6-2 6-2 6 4 6 2 6-1 6 2M1224 -8l6-1 6 1 6 0 6 4 6 2 6 2M0 5l6 0 6 0 6-1M642 -12l6-3 6-2M954 14l6-4 6 0 6-3M1242 -1l6 1 6 1 6-1M0 5l6-3 6-3 6-2 6 0 6 1M42 -5l6-4 6-4 6-1 6-4 6 1 6 0 6 2 6 2M390 17l6 4 6 2 6 1M540 27l6 3 6 2 6 3 6 2 6 0 6 3 6 4 6 1 6 0 6 0 6 2 6 2 6 2 6-1 6-2 6 1 6 0 6 1 6 1 6 1 6 1 6 1 6 1 6 0 6 0 6-1 6-1 6 0 6 1 6 0 6 0 6 2 6-1 6 1 6 3 6 0 6 1 6 0 6 0 6 1 6 2 6 1 6 0 6 0 6-1 6-1 6-3 6-1 6-2 6-1 6 1 6 1 6 1 6 2 6 1 6 0 6 0 6 0 6 0 6 0 6 1 6 0 6 0 6 1 6 1 6-1 6-2 6-1 6-2 6-2 6-2 6-2 6-3 6 1 6 1 6 0 6 0 6-2 6 0 6 1 6-1 6-2 6 0 6-2 6-2 6-4 6-3 6-3 6-1 6 0 6 1 6 0 6-1 6 0 6 0 6-1 6-2 6-2 6-2 6 1 6-1 6-5M1236 4l6 1 6-2 6-1 6-2M0 5l6 2 6 2 6 0 6 1 6 0M372 20l6 3 6 5 6 1 6 2 6 4 6 0 6 2 6 1 6 0 6-1 6-1 6 1 6 1 6 2 6 0 6 4 6-1 6-2 6 1 6-3 6-2 6 0 6 2 6-1 6-3 6-6M684 31l6 1 6-1 6 1 6-1 6 2 6 0 6-2 6 0 6 3 6 3 6 0 6 1 6 1 6 3 6-1 6 0 6-2 6 2 6 0 6 0 6 1 6-1 6-1 6-1 6 1 6 0 6 1 6 0 6-2 6 1 6-3 6-1M954 28l6 0 6-1 6 0 6 0 6 1 6-1M1002 27l6 0 6-1 6-2 6-1 6-1 6-4M1236 -3l6 0 6 1 6-1 6 3M0 5l6 2 6 0 6 0M276 19l6 2 6-1M330 34l6 1 6-1 6-2 6 0 6 0 6-1 6-1 6-2 6 0 6-3 6-4 6-1 6-2M1242 1l6 1 6-1 6-1M0 5l6-1 6-1 6-1 6-1M66 -6l6-3 6 3M204 -13l6-1 6 0 6 1M354 -24l6-2 6 0 6 0 6 1M396 -28l6 2 6 2 6-1 6 1M702 25l6 1 6-1 6-1 6-1 6-2 6-3M762 22l6 2 6-1 6 3 6 0 6 3M816 34l6 3 6 2 6 1 6 3 6 0 6 2 6 3 6 1 6 0 6 0 6 0 6-1 6 0 6 0 6 0 6 1 6 0 6-3 6 0 6-1 6-3 6-1 6-2 6 0 6 0 6 0 6-2 6 1 6 0 6-1 6-1 6-5 6-1 6 0 6-3 6-1 6 0M1056 24l6-2 6 2 6 2 6 1 6 0 6-2 6-1M1242 0l6-1 6 1 6 0M0 5l6 1 6 0 6 2 6 2 6 1 6-1M336 -23l6-3 6-2 6 1 6 3 6-2 6-2 6 0 6 0 6-1 6 2 6 0 6 1 6 2M462 -17l6-1 6-2 6 0 6-1 6-1 6 1 6 3 6 1 6 4M624 -10l6-3 6 0 6 2M762 -29l6-1 6-3 6-3 6 2 6 0 6-5 6-2 6-1 6-1 6 0 6-4 6-1 6 1 6 1 6-2 6 1 6-1 6 0 6-4 6 3 6 3 6 0 6 0 6 0 6-1 6 1 6-2 6-3 6 2 6-2 6-1 6-3 6-3 6 4 6 2 6 0 6 3 6 8 6 1 6 5 6-1 6 3 6 1 6 0 6-1 6-2 6-1 6 0 6 1 6 1 6 1 6-1 6-1 6 3 6 0 6 2M1242 -1l6-3 6 1 6 3M0 5l6-2 6 1 6-2 6-2M486 -10l6-1 6 2M618 -11l6-3 6-2 6-1 6 0 6-2 6 0M678 -22l6-2 6 1 6 1 6-1 6 1 6 0 6-2 6 0M792 -25l6-1 6-1 6-3 6-1 6-1 6 1 6 1 6-1 6 0 6 2M876 -29l6-1 6 3M1242 0l6 3 6-1 6-2M0 5l6-2 6 0 6 0M192 -13l6-3 6-1 6-1 6-1 6 0 6 1M954 20l6-2 6-3 6-1 6 3 6 0 6 1M1056 25l6 0 6 1 6 1 6 0 6 1 6 2 6 1 6 0 6 1 6-1 6 0 6-3 6-3 6 2 6-2 6-4M1194 19l6 7 6 0 6 2 6-2 6-4 6 0 6-4 6-7 6-5 6-4 6-2M0 5l6 1 6-3 6-1 6-1M258 30l6 0 6 2 6 1 6 1 6-2 6 1 6-2M330 29l6-2 6-3M372 27l6 2 6-1 6 2 6 0 6 0 6-1 6 1 6 5 6-1M516 32l6 1 6 1 6 2 6 2 6 0 6 2 6 2 6-1 6-1M948 -24l6-1 6-3 6-5 6 1 6 2 6 0 6-6 6-1 6 2 6-1 6-2 6 2 6-1 6-3 6 0 6 0 6 1 6 2 6 0 6-2 6-1 6 1 6 3 6-2 6 1 6 7M1224 -9l6-1 6 0 6 2 6 3 6 2 6 3M0 5l6 0 6-3 6-3 6-1 6 1M1026 16l6 3 6 1M1074 20l6 1 6 0 6 1 6 1 6 3 6 1 6-1 6-3 6-1M1224 11l6 1 6-3 6-5 6 0 6-2 6-2M0 5l6 1 6-2 6-1M258 20l6 1 6-2M462 -21l6-1 6 2 6-1 6-2 6 1 6 1 6 0 6-2 6 0M618 -13l6 0 6 1M1020 -26l6-3 6-6 6 1 6 0 6 1 6-1 6-1 6 1 6 0 6 1 6-3 6 0 6 3 6 2 6-2 6-2 6 0 6-3 6-1 6-2 6 2 6 4 6 2 6 2 6 3 6 2 6 2 6 1 6 2 6 2M1218 -14l6 0 6 2 6 3 6 3 6 2 6 2 6 2M0 5l6-2 6-2 6-2 6-1 6-1M192 -18l6-6 6 1 6-3 6-4 6 0 6-1 6-1 6 2 6 3 6 1 6-2 6-1 6 0 6 2 6 2 6-1 6 0 6-1 6-2 6-1 6-1 6-2 6-2 6-1 6 1 6-1 6 1 6 0 6 2 6 1 6-2 6-2 6-1 6 1 6 0 6 1 6 0 6-3 6-2 6-2 6-1 6 1 6 1 6 1 6 2 6 1 6 1 6 1 6 3 6 3 6 1 6 2 6 0 6 1M618 -14l6 0 6-1 6 3M954 29l6-1 6 1 6 1 6 3 6 0 6-1M1002 33l6 2 6-2 6-3 6-3 6-4 6 1M1236 -4l6 1 6 2 6 0 6 1M0 5l6 3 6 1 6 1 6 0 6 2 6 0M258 27l6 0 6-1 6 3 6 4 6-1 6 3 6 1M330 30l6 1 6 0 6 1 6-2 6 0 6 0 6 0 6-1 6 1 6 2 6 0 6-2 6 0 6 1 6-1 6-1M480 35l6 3 6 0 6 0 6 1 6 1 6 2 6-1 6 1 6 0 6 0 6-1 6-3 6-1 6-3 6-4M666 29l6 3 6-1M696 29l6-1 6-2 6-4 6-2 6-2M840 26l6 1 6 0 6 1 6 0 6 0 6 2M954 26l6 0 6 1 6 0 6-2 6 1 6 2M1002 31l6 0 6 0 6 0 6 2 6 1 6-1 6 1 6-3 6-1 6-2 6 0 6 3 6-4 6 0 6 0 6 0 6-1 6 1 6 1 6 2 6 1 6-2 6 1 6-6 6-2 6-1 6 1 6-1M1206 18l6 4 6-3 6-5 6 1 6-4 6-4 6-1 6-2 6-4M0 5l6 1 6 2 6-1M258 24l6-2 6 0 6-1 6-1 6 1 6 5 6 3M330 36l6 2 6 1 6 0 6 1 6 1 6-1 6 1 6 1 6 1 6 3 6 0 6 0 6 0 6-1 6 0 6-1 6 0 6 0 6 1 6-1 6 0 6-2 6 0 6 4 6 2 6-1 6 1 6 3 6-1 6-3 6-1 6 0 6-1 6 0 6-1 6 2 6 2 6 0 6-1 6 0 6 0 6 0 6 0 6 1 6 1 6-1 6 0 6 0 6-1 6-1 6 1 6 0 6-2 6 0 6 1 6-1 6-2 6-3 6 1 6-2 6-3 6 0 6-2 6 1 6-3 6 0 6 2 6-2 6-1 6-1 6 1 6 3 6-1 6-1 6 0 6-1 6-1M1230 -8l6 1 6 2 6 2 6 3 6 0M0 5l6 2 6 1 6 1 6 0M96 -12l6-4 6 1M480 -12l6 1 6-1 6 2M978 8l6 1 6 0M1242 -1l6-1 6 0 6 2M0 5l6-1 6 2 6 0M636 -9l6-4 6-3 6-3M714 -21l6-5 6-3 6-3 6-3 6 1M762 -34l6 1 6-3 6 0 6 3 6-1 6-1 6 2 6 6 6 3 6 1 6 1M1230 -7l6 1 6 2 6 1 6 2 6 1M0 5l6-1 6-2 6-2 6-2 6-3M702 22l6 3 6 2 6 5 6 2 6 1 6 3 6 0 6 1 6 1 6-1 6-2 6 0 6 1 6-4 6-2M816 34l6 3 6 0 6 2 6 1 6-1 6-1 6 0 6-2 6-3 6-1M900 33l6 3 6 1 6-1 6 0 6 0 6 0 6 0 6-1 6 0 6-2 6-1 6 1 6 0 6 1 6 0 6 2 6 3 6 2 6 3 6 0 6 1 6 2 6-2 6 0 6 2 6 3 6 1 6-2 6 2 6 1 6 1 6 1 6 1 6-1 6-2 6-2 6 1 6 0 6 0 6 0 6-2 6-3 6-3 6-6 6-4 6 1 6-3 6 1 6-4 6-7 6 1 6-5 6-3M1242 3l6-2 6-2 6 1M0 5l6 2 6-1 6 0M210 -13l6-1 6 0 6-1M1224 7l6 4 6-4 6-1 6-2 6-1 6-3M0 5l6-2 6 0 6 1M186 32l6 2 6 2 6 1M216 37l6 1 6 2 6 1 6 0 6 1 6 1 6 0 6 0 6 1 6 1 6 0 6 1 6-1 6 0M330 43l6-1 6-1 6 2 6-1 6 1 6 1 6-1 6-2 6-1 6 0 6-2 6-2 6-1 6 1 6-2 6-3M480 35l6 2 6 0 6 1 6 1 6-2 6 0 6 1 6-2 6 2 6 0 6-2 6 0 6-1 6 0 6 2M600 38l6 1 6 1 6-3 6 0 6-1 6 1 6-1M654 36l6-2 6 0 6-2 6-3M696 31l6-3 6-3 6-2 6 1 6 2 6 2 6-3 6 2 6 0 6 0 6 0 6 1 6 2 6 1 6-1 6 0M954 15l6-3 6 3 6 2 6-2 6-2 6-2M1242 -2l6 4 6 0 6-2M0 5l6 2 6 1 6 1 6 0M48 14l6 2 6 1M258 30l6 1 6-1 6-2 6 0 6-1 6 0 6-1M372 19l6 2 6 4 6 1 6-3 6-1 6-1M1140 -23l6 0 6 0 6 1 6 1 6-2 6-2M1242 -1l6 1 6 0 6 0M0 5l6 0 6 1 6 3 6-1M1242 0l6 2 6-3 6 1M0 5l6 0 6 2 6 0M384 17l6 3 6 1 6 1 6-1M780 -27l6-3 6 0 6 1 6 0 6-1 6-2 6 2 6 2 6-1 6-2 6-2 6 1 6 1 6 3M918 -26l6-2 6 0 6 3 6 2M978 -31l6-2 6 2 6-1 6 0 6 1 6 2 6 2 6-2 6-1 6 2 6-1 6-4 6 3M1242 1l6 3 6-3 6-1M0 5l6 0 6-1 6 2M702 27l6 1 6-1 6-1 6-2 6-2 6-1 6-1M972 8l6 2 6 3 6 2M1242 -2l6 0 6 1 6 1M0 5l6 0 6 2 6 2 6 0M726 17l6 3 6 0 6 1 6-1M1242 -1l6-2 6 2 6 1M0 5l6 2 6 2 6 1 6 0 6 1 6 0M984 -26l6-2 6-2 6-2 6-5 6-4 6 1 6-3 6-3 6 1 6-2 6 4 6 3 6 1 6 0 6 0 6 1 6 3 6 1 6 4M1230 -7l6 0 6 1 6 2 6 2 6 2M0 5l6-2 6-2 6-5 6-1 6 0M216 -13l6-3 6-4M240 -19l6-2 6-2 6-3 6-2 6-1 6-2 6-4 6-1 6 0 6 0 6 1 6 2 6 1 6 0 6-2 6-2 6-2 6-1 6-1 6 1 6-1 6-1 6-1 6-1 6-2 6 0 6 2 6-1 6 3 6 4 6 3 6 1 6 1 6 1 6 0 6 0 6-2 6 0 6 1 6 2 6-1 6 1 6-2 6-1 6 1 6 0 6 1 6 2M558 -29l6-2 6-3 6-4 6-3 6-1 6 1 6 0 6 0 6-1 6-3 6-3 6 1 6-2 6 0 6-2 6-1 6 1 6-1 6 2 6 4 6-1 6 3 6 1 6 2 6-1 6-2 6 1 6 3 6 1 6 2 6-2 6 1 6 0 6 2 6 4 6 2 6 4M792 -27l6 1 6 5M1236 -4l6 0 6 2 6 0 6 2M0 5l6 0 6 0 6-1M60 -8l6-1 6-5 6-4 6 3 6 5M138 -19l6-5 6-4 6-3 6 0 6-1 6-1 6 2 6 3 6 1 6 2 6 3 6 1 6 3 6 2 6 0M702 25l6 0 6 2 6 1 6-1 6 0 6 1 6 2 6 1 6 1 6 1 6 0 6 0 6 1 6-1 6 1M840 29l6 2 6 1 6-2 6 5 6 0 6 3 6 2 6 1 6 0 6 1 6 2 6 0 6 0 6-1 6-1 6 2 6 0 6-2 6 2 6 1 6-1 6 2 6 1 6-2 6-1 6 1 6-1 6 2 6-3 6-1 6 0 6 2 6 2 6 4 6 2 6-1 6-3 6-2 6 1 6 1 6 1 6-1 6 1 6 0 6 1 6 1 6 0 6-4 6 1 6-5 6-3 6-2 6-3 6-3 6-4 6-3M1206 19l6 2 6-6 6-2 6-1 6-3 6-3 6-3 6-2 6-1M0 5l6 2 6 1 6 2 6 1 6 2 6 1 6 0 6 1 6 2 6 1 6 1M462 -18l6 1 6 1 6 4 6 2 6-1 6 0 6-3 6-4 6-3M552 -34l6-3 6-2 6-1 6 0 6-3 6-1 6-3 6-2 6 0 6 1 6-2 6-1 6-1 6-4 6-1 6 0 6-2 6-1 6-1 6-1 6 1 6 3 6-1 6-2 6 0 6 0 6-3 6 0 6 0 6 2 6-4 6 0 6 1 6 0 6 5 6 3 6 2 6 1 6 2 6-2 6-1 6 0 6 2 6-1 6-1 6 0 6 2 6 0 6-1 6-1 6 1 6 0 6-1 6-3 6-1 6-1 6 0 6 3 6 1 6 1 6-2 6 2 6 3 6 3 6 1 6 4 6 5 6 5 6 3M978 -31l6 1 6 5M1242 3l6 0 6-2 6-1M0 5l6-2 6 0 6-2 6 0M258 36l6 1 6 1 6 1 6 1 6 0 6 1 6-1M330 41l6-1 6 1 6 1 6 0 6 0 6-1 6 1 6 0 6 0 6 0 6 2 6 2 6 1 6 1 6 0 6 0 6-1 6-1 6-1 6-2 6-1 6 0 6-2 6 2 6 1 6 0 6-1 6-4 6-4M1236 4l6 1 6-1 6-2 6-2M0 5l6 0 6 0 6-5 6-1 6-2M372 25l6-1 6 0 6 0 6-1 6-1 6-1M720 18l6 3 6 0 6-2M846 17l6 2 6 0 6 1 6 2 6-1M954 10l6 2 6-2 6 2 6 2 6-1 6 0M1230 -8l6 0 6 2 6 2 6 2 6 2M0 5l6 2 6-1 6 1M228 35l6 1 6-1 6 1 6-1 6 1 6 1 6-1 6 1 6 0 6-1 6-2 6-2M780 22l6 2 6 1M840 24l6 2 6 0 6 2 6 1 6 0 6 0M918 31l6 2 6 0 6-1 6 0 6 0 6 1 6 0 6 3 6-3 6 0 6 0 6 0M1002 32l6 1 6-1 6 0 6-1 6-3 6-2 6 2 6 3 6 0 6 0 6-2 6 0 6-1 6-1 6 0 6-4M1242 3l6-2 6 1 6-2M0 5l6 2 6 0 6-1M258 34l6 1 6 2 6 2 6 1 6 2 6 2 6 1 6 2 6 1 6 2 6 0 6 1 6 1 6 1 6 1 6 2 6 1 6 0 6-1 6 0 6 1 6-1 6 1 6 0 6 0 6 2 6 1 6-2 6 3 6 4 6 2 6 0 6 2 6 1 6 2 6 0 6-3 6 3 6 1 6-3 6-3 6 0 6-1 6-3 6-2 6-4 6-4 6-1 6-3 6-4 6-4 6-2M618 36l6 1 6 0 6-4M690 30l6 2 6 1 6 2 6-2 6 1 6 0 6 0 6 1 6-1 6 0 6-2 6 1 6 0 6 2 6 1 6 0 6 0 6 0 6-1 6-1M840 29l6 2 6 2 6-1 6 1 6 2 6 1 6 2 6-1 6 0 6 0 6-1 6-1 6-2 6-1 6-1M954 28l6 0 6 0 6-1 6-2 6-1 6-1M1002 23l6 1 6-4 6-1 6 0 6-1M1242 3l6-2 6-2 6 1M0 5l6-2 6-1 6 0 6 1M366 -25l6-2 6-1 6 0 6-1 6 0 6-1 6 0 6-1 6 2 6 0 6 0 6-1M462 -25l6 2 6 1 6-1 6 1 6 1 6-1 6-1 6-1 6 0M564 -28l6-1 6 0 6 1 6-1 6-1 6 1M618 -31l6 2 6 0 6 3 6 2 6 3 6-1 6-2 6-2 6 3 6 1 6-2 6 2M1236 5l6 1 6-5 6-1 6 0M0 5l6 2 6 0 6-1M1020 -24l6-3 6 2M1230 -5l6-1 6 1 6 2 6 1 6 2M0 5l6-2 6-2 6-1 6 0M120 -24l6-6 6-3 6-4 6-4 6-2 6-2 6 0 6-2 6-2 6 0 6 0 6-1 6 2 6 2 6-3 6 0 6 0 6 0 6 2 6 1 6-2 6 0 6 2 6-1 6 1 6 0 6 1 6 2 6 1 6 0 6 4 6 0 6 0 6 2 6 0 6 1 6 2 6-1 6 1 6 1 6-1 6-1 6 1 6-2 6-2 6 2 6 1 6-1 6 0 6 1 6 3 6 1 6-1 6 0 6 1 6 2 6 1 6 4 6 1 6-1 6 0 6 1 6 0 6 4 6 0 6 3M762 -31l6 1 6 1 6 2M900 -29l6-1 6 3 6 0 6-1 6 1 6 0 6 2 6-3 6 0 6-2 6-3 6 0 6 0 6 1 6 0 6 2 6-1 6-2 6-1 6-1 6 3 6-1 6 0 6 1 6 0 6 0 6 2 6 0 6 2M1242 1l6-2 6-1 6 2M0 5l6 0 6-3 6-2 6 0M504 -10l6-2 6-1M942 -22l6-3 6 0 6 0M978 -29l6-1 6 1 6-5 6 1 6-1 6-4 6 1 6-1 6 1 6 1 6-1 6-1 6 1 6 2 6-1 6 0 6 8M1230 -7l6 2 6 1 6 1 6 1 6 2M0 5l6 2 6-1 6-2M378 18l6 3 6 3 6 1 6 0 6-1M1224 -10l6 0 6 1 6 2 6 2 6 3 6 2M0 5l6 1 6 1 6 2 6 1 6 0M330 30l6 4 6 2 6-2 6-1 6-2 6-3 6-1 6-2 6-3 6-2 6-1M954 14l6 0 6-4 6-1 6-1M1242 3l6 0 6 0 6-3M0 5l6 0 6-2 6-1 6-1M156 -14l6-6 6-5 6-1 6-1 6 0 6 1 6-1 6 0 6 0 6-1 6 0 6-1 6-3 6-3 6-2 6-1 6 1 6-1 6-2 6-1 6-1 6-2 6-2 6 0 6 0 6 1 6-2 6-4 6-1 6-1 6 0 6 1 6 2 6 2 6 0 6-1 6 3 6-1 6 0 6 1 6 0 6-2 6-1 6 2 6 1 6 2 6 0 6-3 6 0 6 0 6 1 6 0 6 0 6-1 6 0 6 0 6-2 6-1 6 1 6 0 6-1 6 1 6 0 6-1 6-2 6-2 6-1 6 0 6 2 6 1 6 2 6 1 6 0 6 3 6 0 6-1 6 0 6 4 6 1 6 0 6-2 6-2 6 2 6 1 6 2 6 2 6 0 6 3 6 0 6 2 6 5 6 0 6 1 6 3 6 3M1236 -4l6-1 6 1 6 4 6 0M0 5l6 2 6 1 6 2 6 1 6 1 6 1 6 2 6 1 6 1 6 1 6 1M258 24l6 0 6 0 6 2 6 3 6 5 6 2 6-1M330 42l6 1 6-1 6 0 6-2 6-2 6 2 6 2 6 2 6-1 6 0 6 0 6 1 6 1 6 0 6-1 6 2 6 2 6 0 6 0 6 1 6 4 6 0 6 0 6 0 6 1 6 3 6-1 6-1 6-1 6-5 6 0 6 2 6 0 6 1 6 0 6 0 6-2 6 0 6 1 6-1 6-1 6 0 6-1 6 0 6 1 6-2 6 0 6 0 6 0 6-1 6 0 6-1 6 0 6 0 6 1 6-2 6 1 6 0 6-1 6 0 6 1 6-1 6 2 6-1 6-1 6-1 6 0 6-1 6-1 6 1 6 0 6-1 6 0 6 1 6 1 6 2 6 0 6 0 6-1 6 1 6 1 6-3 6 0 6-2 6 1 6-1 6-2 6 0 6-1 6-4 6-5M954 10l6 1 6-1 6-2 6 2 6 2 6 0M1026 18l6 1 6 1M1062 19l6 2 6-1 6 1 6-1M1236 5l6 0 6-4 6 1 6-2M0 5l6 1 6 0 6-1M258 32l6-1 6 1 6-1 6-2 6 0 6-2 6-1M492 -10l6-1 6 0 6 2M618 -20l6 2 6-1 6-1 6-1 6-4 6-2 6-2 6-3 6-3 6-5 6 0 6-1 6-2 6 0 6-1 6 3 6-3 6 3 6 1 6 2 6 1 6 3M762 -32l6 1 6 4M792 -24l6 0 6 0 6 1 6 3M1110 -27l6-4 6-1 6 2 6-4 6-2 6 2 6-1 6-1 6 5 6-1 6-3 6 4 6 2 6 3 6 3 6 2 6 0 6 2 6 3 6 1 6 4 6 2 6 4 6 2 6 3M0 5l6 3 6 1 6 0 6 1 6 1 6 1M396 16l6 6 6 3M558 24l6 4 6-1M1242 -1l6 2 6-1 6 0M0 5l6 1 6 2 6 1 6 2 6 0 6 0M396 -25l6-2 6 1 6 2M618 -22l6 2 6 2 6 1 6-2 6-2 6 1M702 -20l6-3 6-1 6-1 6 0 6-1 6-3M1230 7l6 1 6 0 6-4 6-2 6-2M0 5l6 0 6 0 6 2M228 33l6 3 6 1 6 0 6 1 6 0 6 1 6 1 6 1 6 0 6 0 6 1 6 1M330 46l6 2 6 1 6 0 6-2 6 0 6 2 6-1 6-2 6-1 6 2 6 2 6 1 6 2 6 0 6 2 6 2 6 2 6 0 6 2 6 0 6 3 6 0 6 1 6-2 6 1 6 2 6-1 6-2 6 0 6 1 6 0 6-3 6-1 6-2 6-2 6 2 6-1 6-3 6 2 6 2 6 2 6 2 6 0 6-1 6 1 6 1 6 1 6 0 6 0 6 1 6 0 6 0 6 0 6-1 6 2 6 0 6 0 6-2 6 0 6 0 6 1 6 1 6 0 6 0 6-1 6-2 6 0 6 1 6 0 6 0 6 1 6 1 6 0 6 0 6-2 6-1 6-1 6-1 6-2 6-1 6-1 6-1 6-3 6-1 6-1 6-3 6-1 6-3 6-3 6-1 6 0M954 22l6-5 6-2 6 1 6-1 6-1 6-3M1242 -2l6-1 6 1 6 2M0 5l6 1 6-2 6-3 6-5 6 0M240 35l6 1 6 2 6 1 6 0 6 1 6 0 6-2 6 0 6 0 6 1M330 34l6-3 6-2 6-2 6 0 6 1 6 4 6 4 6 1 6 1 6 0 6 2 6 0 6-1 6-1 6-1 6-2M540 27l6 4 6 3 6 3 6-1 6 1 6 2 6 2 6 4 6 2 6 2 6 0 6 3 6 0 6 0 6 0 6 1 6 1 6 0 6 2 6 0 6 1 6 0 6 0 6 2 6 1 6 3 6 1 6 0 6 0 6-2 6 0 6-2 6-2 6-1 6 0 6-2 6-1 6-1 6-1 6-1 6-2 6-1 6 0 6-1 6-3 6-2 6 1 6-2 6-2 6 1 6-1 6 0 6 0 6-1 6 0 6-2 6 0 6 1 6-2M954 26l6-2 6-1 6-3 6-2 6-3 6-1M1230 -6l6 0 6 0 6 2 6 3 6 1M0 5l6-1 6 0 6-1M30 -2l6-4 6 0M60 -8l6-1 6-2 6-10 6-3 6-3 6-4 6 3 6 1 6 1 6 1 6 0 6 0 6 1 6-1 6 0 6-3 6 0 6 0 6 1 6 4 6 2 6-1 6-1 6-1 6-3 6 0 6-1 6 1 6-1 6 2 6 2 6-2 6 1 6 2 6-1 6-1 6-2 6 1 6-1 6 1 6 1 6-2 6-1 6 0 6 2 6-2 6 0 6 2 6 2M396 -26l6-1 6 0 6-3 6 3 6 1 6 0M462 -27l6 2 6 0 6 2 6 1 6 1 6 0 6-2 6-1 6 1M618 -17l6-1 6 0 6-3 6-1 6-1 6-2 6 0 6 0 6 1 6-3 6-3 6-2 6-3 6-5 6 1 6-3 6 1 6 1 6 1 6 0 6-1 6 1 6-1 6 3 6 1 6-3 6-2 6 0 6 1 6-1 6 1 6 1 6 3 6 3 6-2 6 0 6 0 6 3 6 3M864 -29l6-2 6 1 6 3M906 -26l6-3 6-1 6 4 6 0 6 1 6 4M1242 -1l6 0 6 2 6-1M0 5l6-3 6-2 6-4 6 1 6 0M258 35l6 0 6 1 6 1 6 0 6 0 6 2 6 1M330 40l6-2 6 0 6 0 6-1 6-2 6 2 6 0 6 0 6 3 6 1 6 0 6 1 6 1 6 1 6 1 6 0 6-2 6-2 6-3 6-2 6-1M516 34l6 1 6 3 6 2 6 2 6 0 6 0 6-4 6-3 6-2M768 22l6 1 6 1 6 0 6 1M840 30l6 4 6 2 6-2 6-1 6 0 6 1M1236 6l6-1 6-3 6-2 6 0M0 5l6 0 6-2 6 0M1242 3l6-3 6 0 6 0M0 5l6 3 6 1 6 1 6 2 6 1 6 0 6 0 6 2 6 2 6 0M84 21l6 3 6 2 6 2 6 1 6 0M126 30l6 2 6 0M150 33l6 2 6 1 6 1 6 1 6 2 6 1 6 0 6 1 6 1 6 0 6 1 6 1 6 1 6 1 6-1 6 0 6 0 6 0 6-2 6 1 6 0 6-1 6 1 6 0 6-1M330 45l6-1 6 1 6-1 6-1 6 1 6 0 6-2 6-2 6-3 6-2 6-2 6-7 6-2M840 23l6 4 6 1 6-1 6 2 6-1 6 0M954 25l6 0 6 3 6 2 6 0 6 1 6-1M1002 30l6-1 6-2 6-3 6 1 6 0 6-2M1140 20l6 2 6 0 6-1 6 1 6 3 6 2 6 0 6-1 6-3M1206 14l6 1 6 0 6-2M1242 2l6 0 6-1 6-1M0 5l6 2 6 1 6 1 6 1 6 1 6 1M48 15l6 1 6 1M288 20l6 2 6 0M372 26l6 0 6 3 6 4 6-2 6-1 6-2M702 22l6-1 6-1 6-2M954 14l6 3 6-2 6 1 6-2 6-3 6-2M1242 -1l6 2 6-1 6 0M0 5l6 2 6 1 6 1 6-1M840 18l6 4 6 1 6 1 6 1 6-1 6 2M954 15l6 1 6-4 6-3 6 1 6-4M1242 1l6-2 6-1 6 2M0 5l6 0 6 2 6 0M258 32l6-2 6 2 6 2 6 0 6 0 6-2 6-2M396 16l6 4 6 1M840 20l6 2 6 0 6-4 6 1 6 0 6 2M954 11l6-1 6-1 6 0 6-2M1110 -30l6-1 6 0 6-1 6 3 6 4 6 0 6-4 6-3 6 1 6 2 6 3 6 0 6-2 6 1 6 0 6 0 6 3 6 1 6 3 6 5 6 4 6 3 6 3 6 3 6 2M0 5l6-1 6 0 6 1M270 20l6 1 6 1 6 1 6-1 6 2M618 -12l6-3 6-1 6 4M936 -24l6-1 6-3 6-5 6 0 6-2 6 5M1242 2l6 1 6 0 6-3M0 5l6-1 6 0 6 0M84 -12l6-3 6-2 6-3 6-3 6-3 6-1 6-1 6 3 6-3 6-1 6 1 6-3 6 2 6 1 6-1 6 1 6-1 6-1 6 0 6 1 6-1 6 1 6-1 6 0 6 1 6 1 6 2 6 1 6 0 6 0 6 1 6 1 6-2 6-2 6-3 6 0 6-1 6 1 6-1 6-1 6 1 6-1 6 0 6-1 6 1 6 1 6 2 6 0 6-1 6 0 6 1 6-2 6 0 6 0 6 1 6 1 6 0 6 1M462 -23l6 2 6-2 6 0 6 0 6 0 6 1 6-1 6-1 6-1M618 -29l6 1 6-2 6 1 6 2 6 1 6 0 6 3M1080 -26l6-5 6-2 6 0 6 1 6 4M1242 0l6-1 6 1 6 0M0 5l6 0 6-1 6-2 6-1M90 -13l6-3 6-4 6 3 6 1M180 -19l6-1 6 0 6 2 6 0 6-1 6 0 6 0 6 0M462 -19l6 0 6 0 6-1 6 3 6 4 6-2 6 0 6-1 6-2M642 -9l6-4 6-1M1230 -3l6-2 6 0 6 3 6 1 6 1M0 5l6 2 6-1 6 2 6 2 6 1 6 1M486 -9l6-2 6 0 6 3M618 -21l6-2 6-2 6 2 6-1 6-1 6-3 6 4 6 2M684 -23l6-2 6 0 6 0 6-1 6-2 6-2 6-1 6 3 6-1M762 -32l6 0 6 1 6 2 6 2 6 2 6 0 6 2 6 2 6-2 6 0 6 0M972 7l6 4 6 6 6 5M1002 22l6-2 6-5M1236 3l6 1 6-2 6-2 6 0M0 5l6 2 6-1 6 2 6 2 6 2 6 1 6 0 6 2 6 1 6 1M72 20l6 3 6 2 6 2 6 1 6 2 6 2 6 0 6 0 6 1 6 1 6 2 6 2 6 1 6 0 6 1 6 2 6 1 6 2 6 0 6 1 6 2 6 0 6 2 6 2 6 2 6 0 6 0 6 1 6 0 6 0 6 1 6 1 6 1 6 1 6 2 6 1 6 0 6 1 6 1 6 1 6 0 6 2 6 1 6 1 6 2 6 0 6 0 6-1 6 0 6 0 6 0 6 2 6 1 6 1 6 1 6-1 6 0 6 1 6-2 6-3 6 1 6 0 6-1 6 1 6 3 6-3 6-1 6-2 6-3 6-3 6 2 6-3 6-2 6 1 6-2 6 2 6 0 6-1 6-2 6 0 6-1 6 0 6-1 6 2 6 0 6 0 6 0 6 1 6 2 6-1 6 1 6 1 6-1 6 0 6 0 6-1 6 0 6 0 6 0 6-1 6 0 6 2 6 0 6 0 6-1 6 0 6-1 6-1 6-2 6 0 6-3 6-1 6 0 6-1 6-1 6 0 6 0 6 1 6-2 6-1 6 0 6-2 6 0 6 2 6 1 6-1 6-2 6 1 6 1 6 1 6 0 6 0 6 1 6 1 6 0 6 2 6-1 6-2 6-2 6 0 6-3 6 0 6 1 6-2 6 0 6-1 6-1 6 0 6-1 6-2 6 0 6 0 6-2 6-2 6 2 6 0 6-1 6 0 6 1 6 2 6 2 6 1 6-1 6 0 6 1 6-4 6-4 6-4 6-2 6 0 6 2 6-3 6-2 6-1 6 0 6 0 6 1 6-1 6 0 6 2 6-5M1230 10l6-3 6-3 6-1 6-3 6 0M0 5l6-2 6-2 6 0 6 0M462 -27l6 1 6 1 6 0 6 0 6-1 6 4 6 4 6 0 6 4M1224 -11l6 2 6 2 6 0 6 2 6 2 6 3M0 5l6-2 6-2 6 0 6 0M618 -22l6 0 6 0 6-2 6-2 6 1 6-2 6-3 6 0 6 0 6-2 6 2 6 0 6-2 6 0 6 0 6 0 6-1 6 1 6 3 6-2M762 -32l6-4 6-3 6 1 6 0 6-4 6 0 6-1 6 5 6 0 6-2 6 2 6-1 6-4 6 2 6-1 6-1 6 1 6 1 6 1 6 0 6 1 6 2 6-2 6 0 6 0 6 1 6 1 6-1 6 0 6 1 6-1 6 2 6 0 6 3 6 3M990 -26l6-1 6 2 6-2 6 0 6 2M1236 -4l6 1 6 4 6 0 6-1M0 5l6 0 6-1 6-1 6-4 6-1M366 -25l6-3 6 1M390 -28l6-1 6 0 6-4 6-3 6 1 6-3 6-1 6-4 6-2 6-1 6-1 6 0 6 3 6 1 6 3 6 1 6-2 6 0 6 2 6-2 6 1 6 2 6 0 6 0 6 1 6 0 6-1 6-2 6 0 6-1 6-2 6-2 6-1 6-3 6-4 6-2 6-3 6-2 6 0 6 3 6 2 6 0 6 0 6 0 6 1 6-1 6 4 6 0 6 1 6 2 6 2 6 1 6 1 6 1 6-3 6-3 6 1 6-2 6 2 6 2 6 0 6 0 6 3 6 6 6 2 6 1 6 1 6 1 6 1 6-1 6 1 6 3 6 3M840 -29l6-1 6 0 6-1 6 3M924 -26l6 1 6 1M1242 2l6 0 6-2 6 0M0 5l6 2 6-2 6-1M738 17l6 4 6 2 6 0M840 30l6 1 6-1 6 0 6 1 6 1 6-1M954 22l6 2 6 0 6 2 6-1 6 1 6 1M1002 27l6 1 6 1 6 1 6-1 6 0 6 1M1056 28l6-1 6 0 6 0 6 1 6 0 6-1 6-3 6 1 6-1 6-3M1242 2l6-1 6 0 6-1M0 5l6 2 6 1 6 1 6 2 6 1 6 2 6 1 6 1 6 1 6 1 6 3 6 1 6 1 6 0 6 2 6 2 6 2 6 2 6 1 6 0 6 1 6 0 6 1 6-1M174 33l6 1 6 0 6-1M228 33l6 3 6 2 6-1 6 0 6 2 6 0 6 0 6 0 6 1 6 1 6 1 6 2 6 0 6 3 6 0 6-1 6 0 6 0 6 0 6-1 6 1 6 0 6-2 6 1 6 1 6 0 6-1 6 2 6-1 6-1 6 2 6 2 6 2 6 3 6 0 6 0 6-1 6 0 6-3 6 0 6-3 6-1 6-2 6 0 6 1 6-2 6 1 6 1 6 1 6-2 6-2 6-1 6-2 6 0 6 0 6-2 6-1M1242 0l6 0 6 0 6 0M0 5l6 2 6 1 6 1 6 1 6 0M186 -18l6-3 6 1 6-3 6-3 6-1 6-5 6-3 6-2 6 2 6 1 6-2 6 0 6-2 6-1 6-1 6-4 6 2 6 1 6-1 6 0 6 0 6 0 6 0 6 2 6-1 6 1 6 0 6 0 6 1 6 1 6-1 6 0 6 0 6 0 6 2 6 4 6 0 6-1 6 1 6 3 6 1 6-2 6-3 6 0 6 0 6 0 6-1 6 1 6 0 6-2 6 0 6-3 6 1 6 2 6 1 6 1 6 2M552 -36l6-1 6 1 6 0 6 0 6-1 6-1 6-3 6-3 6 0 6-3 6 0 6-1 6 1 6 1 6 0 6 0 6 1 6-2 6 0 6-2 6-2 6 2 6-2 6-3 6-1 6 0 6-2 6-3 6 0 6-3 6 0 6-1 6-2 6-2 6 3 6 2 6 3 6-1 6-1 6 0 6-2 6 0 6-1 6 3 6 2 6 1 6-2 6 0 6 2 6 0 6 0 6 2 6-2 6 2 6 2 6 0 6 1 6-2 6 2 6 4 6 1 6 1 6 2 6-1 6-1 6-1 6-1 6 1 6 1 6-1 6 0 6-1 6-2 6-2 6 4 6 2 6 1 6 2 6 3 6 1 6 2 6 6 6 3 6 0 6 1 6 0 6 3M1242 0l6-1 6 2 6-1M0 5l6 1 6-1 6 0M150 -22l6-1 6-1 6 1 6 3 6 1 6-1 6-2 6-4 6-4 6-1 6 0 6-2 6-2 6 0 6 0 6 0 6-4 6-3 6 3 6 1 6 4 6-1 6-1 6 2 6 3 6 1 6 1 6-2 6 1 6-1 6-1 6-1 6 0 6-2 6-1 6 1 6 0 6 0 6 1 6-1 6 0 6 2 6 0 6 0 6-1 6-2 6 1 6-2 6 1 6-1 6 1 6 2 6 3 6 2 6 2 6 2 6 1 6 2 6 1 6 2 6 3M636 -11l6-3 6-4 6-1M768 21l6 2 6 2 6-1 6-4M864 17l6 4 6 5M954 27l6 0 6-2 6-4 6-2 6-1 6 0M1236 -3l6 0 6 1 6 3 6-1M0 5l6-2 6 0 6 0M414 -24l6-1 6-2 6 0M462 -26l6-2 6-1 6 0 6-1 6 0 6 1 6 0 6 2 6-1 6 2M1242 3l6 1 6-2 6-2M0 5l6 2 6 1 6 1 6 2 6 1 6 1 6 1 6 1 6 1 6 1M498 -10l6-3 6 0 6-4M588 -27l6-2 6-3 6-1 6 0 6-2 6-1 6 1 6 2 6 1 6 0 6 1 6-1 6 6 6 4M1230 5l6 3 6-1 6-1 6-3 6-3M0 5l6 1 6 2 6 1 6 1 6 1 6 1M396 -25l6-2 6-3 6-2 6-1 6-3 6-1 6 1 6 0 6 0 6-1 6 2 6 0 6 2 6 2 6 2 6 0 6 1 6 2 6-1 6 0M618 -25l6-1 6-2 6-2 6-2 6-3 6 0 6 0 6-2 6 1 6-1 6-1 6 0 6-4 6-2 6 3 6 5 6 4 6 3 6 1 6 1M1242 2l6 1 6-1 6-2M0 5l6 1 6 2 6 1 6 2 6 3 6 1 6 1 6 0 6 1 6 0M258 36l6 0 6 1 6 0 6 0 6 1 6 2 6 2M330 46l6 1 6 1 6 0 6-1 6-1 6 0 6 1 6 0 6 0 6 0 6 0 6 1 6 0 6 1 6 0 6-1 6 1 6-1 6 1 6 1 6 2 6 1 6 1 6 4 6-1 6-1 6 2 6 0 6 1 6 0 6-2 6-2 6 3 6 1 6 1 6 2 6 0 6 0 6-2 6 1 6 1 6 1 6 0 6-2 6 1 6 0 6-1 6 0 6 1 6-1 6-1 6 1 6 0 6-2 6-2 6-1 6 0 6 0 6-1 6-1 6 0 6-2 6 0 6-1 6 2 6 0 6-1 6 0 6 2 6 0 6 2 6 2 6 1 6 0 6 1 6-1 6-2 6 1 6-1 6 0 6-2 6-1 6 0 6 1 6-1 6-1 6-2 6 2 6 1 6-2 6-1 6-2 6 0 6-1 6 0 6 0 6-2 6-2 6-1 6-2 6-3 6-2 6-2 6-1 6 0 6-4 6-4 6 1 6-4 6-2M1236 6l6-2 6-1 6-2 6-1M0 5l6 0 6 0 6-1M258 33l6 0 6 1 6 2 6 0 6 1 6-3 6-2M330 34l6 0 6 2 6 3 6 0 6 0 6 1 6 0 6 1 6 1 6 0 6 0 6-1 6 1 6 0 6 1 6 2 6 2 6 0 6 1 6 0 6-2 6-1 6 0 6 1 6-2 6 1 6-2 6-5 6 0 6 0 6-3 6 1 6-1 6 0 6 0 6 1 6 1 6 4 6-1 6-1M654 33l6 1 6 0 6 0 6 2 6 1 6-1 6 1 6 1 6-2 6 0 6-3 6-1 6 0 6 2 6 2 6 2 6 0 6 1 6 2 6 1 6 2 6 2 6 1 6 2 6 0 6 1 6-1 6 1 6-1 6-1 6-2 6 0 6 1 6 2 6-1 6-2 6-1 6 0 6 2 6-1 6-2 6 0 6 3 6 1 6-1 6-2 6-1 6-1 6-1 6 0 6 0 6-1 6-3 6 2 6-1 6 0 6 0 6-2 6-1 6-2 6-1 6-2 6-1 6-2M1062 20l6 1 6-4M1236 5l6-1 6-4 6 0 6 0M0 5l6 1 6-1 6-1M96 -12l6-3 6 1M954 18l6-2 6-3 6 1 6-1 6-3 6-3M1242 -1l6-1 6 0 6 2M0 5l6-2 6-1 6 0 6 3M372 19l6 5 6 1 6 2 6-1 6 0 6 2M954 26l6 5 6 1 6 3 6 1 6 0 6 1M1002 33l6 0 6-1 6-4 6 2 6-2 6-3M1242 3l6 1 6-2 6-2M0 5l6 3 6 2 6 1 6 1 6 2 6 1 6 0 6 2 6 0 6 0M288 18l6 5 6 3M330 30l6 1 6 2 6 2 6 2 6 0 6 0 6 0 6 1 6 0 6-1 6 0 6-1 6 0 6 1 6 0 6-2M450 34l6 2 6 0 6 0 6-1M516 34l6 1 6 0 6 2 6-2 6-2 6-1 6-1 6-1 6 1M954 22l6 0 6 0 6 0 6 0 6 2 6 0M1002 28l6 0 6 1 6 2 6 0 6 1 6 2 6 3 6 2 6 0 6-1 6 0 6-1 6-1 6 0 6-1 6 0 6 1 6-2 6-2 6-2 6 0 6 1 6-3 6-2 6-3 6-4M1242 2l6-3 6 0 6 1M0 5l6 1 6 2 6 1 6 1 6 1 6 1M192 -16l6-3 6 0 6 0 6 0 6-3 6 3M462 -20l6 1 6-2 6 1 6 2 6 0 6-3 6 1 6 1 6 2M708 -21l6-2 6-2 6-4 6 1 6-2M762 -29l6-1 6 1 6 1 6-1 6-2 6 2 6 0 6-5 6-6 6-1 6-1 6 3 6 1 6 0 6 2 6 3 6 2 6 3M882 -29l6-1 6-1 6 1 6 1 6-1 6 4 6 0 6 1 6 2M1236 1l6-4 6 0 6 1 6 2M0 5l6-1 6-3 6-3 6-3 6-6 6-2 6-4 6-2 6-3 6 1 6-2 6-4 6 4 6 2 6 0 6 0 6 0 6-3 6 1 6 1M138 -23l6 0 6 3 6-2 6 2 6-1 6 1 6 1M192 -15l6 0 6 2 6 0 6-2 6-1 6-1 6-4 6-3 6-1 6-1 6-2 6 4 6 2M402 -24l6-2 6-4 6-4 6-3 6 0 6 1 6-1 6 0 6 2 6 2 6 0 6 0 6 3 6 2 6 2 6-1 6 1 6 3 6 2M564 -26l6-3 6 2M594 -27l6-3 6-2M618 -33l6-1 6 2 6-3 6 0 6-2 6 0 6-4 6-1 6 1 6-2 6 0 6 1 6 2 6-3 6 0 6-2 6-5 6-3 6 2 6-2 6-2 6 0 6 0 6 0 6 2 6 3 6 3 6 3 6 3 6 3 6 4 6 3 6 5 6 1 6 3M1242 2l6 1 6-1 6-2M0 5l6 2 6 1 6-1 6 1 6 3 6 1M138 31l6 3 6 0 6-1M168 33l6 1 6 0 6 1 6-1 6 0M216 38l6 1 6 2 6 0 6 0 6 1 6 2 6 0 6 0 6 1 6 1 6 0 6 0 6-1 6 1M330 43l6 0 6 0 6 0 6-2 6-1 6-1 6-2 6-5 6 1 6 0 6 4 6 1 6-2 6-3 6-2 6-3M522 29l6 2 6-3M546 26l6 2 6 1 6 0 6-3M1236 -4l6-1 6 2 6 1 6 2M0 5l6 2 6 0 6 3 6 0 6-3M156 -16l6-4 6 1 6-1 6 0 6 4 6 0 6 1 6 1 6 3M360 -25l6-2 6 0 6 1M396 -27l6 0 6 1 6 1 6 0 6 0 6 0M444 -31l6 0 6-3 6 0 6 0 6-1 6 3 6 2 6 0 6 1 6 2 6 1 6 2M618 -25l6 3 6-2 6-3 6-2 6 0 6-2 6-1 6-1 6-4 6-2 6-4 6-5 6-2 6-1 6-2 6-1 6 0 6 1 6-2 6-2 6 0 6 1 6 1 6 1 6 1 6 1 6 1 6 6 6 4 6 0 6-2 6-2 6-1 6-3 6 1 6 0 6 1 6 1 6-4 6-2 6 3 6 1 6-1 6 4 6 0 6 1 6 3 6 1 6 1 6 2 6 0 6 1 6 2 6 0 6 0 6 1 6 3M1236 -3l6-1 6 3 6 1 6 0M0 5l6 1 6-1 6 0M324 -21l6-2 6 2M888 -29l6-2 6-1 6-1 6-2 6 1 6 1 6-2 6 1 6-3 6-5 6-1 6-1 6-2 6 2 6 0 6 0 6 3 6 2 6-1 6 1 6 3 6 2 6 5 6-4 6-4 6-4 6 2 6 3 6 3 6 3 6-2 6-1 6 0 6 3 6 0M1206 -16l6-1 6 4M1230 -8l6 0 6 3 6 3 6 0 6 2M0 5l6 2 6 1 6 1 6-1M1242 -2l6 1 6 1 6 0M0 5l6 1 6 1 6 2 6 0M552 25l6 4 6 3 6-3M696 31l6-2 6 0 6-3 6-1 6 4 6 1 6 1 6 1 6 4 6 0 6-2 6 0 6 1 6 1 6 1 6 1 6-1 6-1 6 0 6-4M840 32l6 1 6 0 6 2 6 0 6 0 6 0 6 1 6 2 6 0 6 4 6 3 6 3 6 1 6 2 6 2 6-1 6-1 6-2 6-1 6 0 6-1 6-2 6-1 6-3 6-4 6 0 6-1 6 1 6 2 6 1 6 1 6 4 6 1 6 1 6 1 6-1 6-2 6-3 6-2 6-2 6-2 6-1 6-4 6-2 6-2 6 0 6-4 6-1M1242 3l6-2 6-1 6 0M0 5l6-1 6-1 6-1 6 1M462 -21l6 0 6-2 6 0 6 0 6 0 6-2 6 0 6-2 6 0 6-2 6 1M576 -27l6-2 6-1 6-3 6-1 6 2M618 -32l6 1 6 0 6 0 6 0 6 1 6-1 6-3 6 0 6 2 6 1 6 1 6 0 6-1 6-1 6 1 6-1 6-1 6 2 6-1 6-5 6 0 6 0M762 -32l6 2 6 3M924 -26l6 0 6 4M1236 5l6 0 6-2 6-1 6-2M0 5l6 0 6 0 6-4 6 1M162 -18l6-2 6 0 6 0 6 1 6 1 6 0 6 0 6 0 6 0 6 0 6-4 6-3 6-2 6 0 6-1 6 1 6 3 6 1M462 -18l6 0 6 0 6 3 6 1 6 2 6 5M702 21l6 2 6 0 6 2 6 3 6 3 6 0 6 1 6 1 6 0 6 1 6 3 6 1 6 0 6-2 6 0 6-1 6 0 6 1 6-1 6-2M840 23l6 0 6 1 6 1 6-1 6-2 6-2M954 19l6-2 6 0 6 3 6 0 6-1 6-2M1002 21l6 0 6-3M1230 5l6 3 6-2 6 0 6-3 6-3M0 5l6-2 6-1 6 2M96 -13l6-2 6 1M744 19l6 2 6 0M978 -27l6-3 6-6 6-2 6 2 6-1 6 4 6 1 6 0 6 2 6 3 6-3 6-2 6-4 6 4 6 2 6-1 6 2 6 0 6-1 6-3 6-1 6 1 6 4M1134 -28l6-1 6 1 6 7M1242 2l6-3 6-2 6 3M0 5l6 0 6 0 6 1M300 -24l6 1 6-1 6 1 6 0 6 1 6-2 6 1M456 -26l6-3 6 0 6 1 6 0 6 3 6 0 6 1 6 2 6 0 6 2M618 -15l6 2 6 1M726 18l6 2 6-1 6 1 6 1 6-1M864 18l6 2 6 3M954 21l6 1 6 0 6 3 6 3 6-3 6 0M1002 24l6 3 6 0 6-1 6 2 6 1 6 2 6 0 6-1 6 0 6-2 6 0 6 1 6 1 6 1 6-1 6 1 6-2 6 0 6 0 6-2 6-3 6-1 6-2M1242 -2l6 0 6 1 6 1M0 5l6 1 6-1 6-2M396 -26l6-1 6 3M462 -17l6 0 6 0 6 2 6-2 6-2 6 0 6 1 6 1 6-3M1104 28l6-1 6 1 6 0 6-3 6-2 6-6M1242 0l6 0 6-1 6 1"/>
</g>
<polyline fill="none" stroke="#ff0" stroke-width="5.6" points="864.9,278.7 874.4,278.8 883.8,279 893.2,279.1 902.7,279.2 912.1,279.3 921.6,279.4 931,279.5 940.4,279.5 949.9,279.6 959.3,279.6 968.7,279.6 978.2,279.6 987.6,279.6 997,279.6 1006.5,279.6 1015.9,279.6 1025.3,279.6 1034.8,279.6 1044.2,279.6 1053.6,279.6 1063.1,279.6 1072.5,279.6 1081.9,279.6 1091.4,279.6 1100.8,279.6 1110.3,279.6 1119.7,279.6 1129.1,279.5 1138.6,279.5 1148,279.4 1157.4,279.3 1166.9,279.3 1176.3,279.2 1185.7,279.1 1195.2,279 1204.6,278.9 1214,278.8 1223.5,278.7 1232.9,278.6 1242.3,278.5 1251.8,278.4 1261.2,278.3 1270.6,278.1 1280.1,278 1289.5,277.8 1299,277.7 1308.4,277.5 1317.8,277.4 1327.3,277.2 1336.7,277.1 1346.1,276.9 1355.6,276.8 1365,276.6 1374.4,276.5 1383.9,276.3 1393.3,276.2 1402.7,276.1 1412.2,275.9 1421.6,275.8 1431,275.7 1440.5,275.6 1449.9,275.5 1459.3,275.5"/>
<polyline fill="none" stroke="#00f" stroke-width="6.6" stroke-miterlimit="5" points="846.7,276.5 848.2,276.6 849.7,275.1 851.2,272.7 852.7,270.9 854.2,269 855.7,269.5 857.2,270.7 858.7,269.2 860.2,268.4 861.7,264.8 863.2,260.2 864.7,255.3 866.2,251.1 867.7,251.6 869.2,252.4 870.7,250.9 872.2,248.5 873.7,243.9 875.2,240.8 876.7,240.5 878.2,242.2 879.7,241.8 881.2,240 882.7,237.2 884.2,234 885.7,228.8 887.2,229.1 888.7,229.7 890.2,229.8 891.7,228.2 893.2,227.4 894.7,224.9 896.2,222.7 897.7,222.1 899.2,219.1 900.7,219 902.2,219.4 903.7,217.9 905.2,217.5 906.7,217.2 908.2,216.7 909.7,213.5 911.2,211.9 912.7,211 914.2,206.7 915.7,206.7 917.2,204.9 918.7,202.7 920.2,203.3 921.7,201.4 923.2,198 924.7,197.3 926.2,198.1 927.7,197.7 929.2,198.5 930.7,198.2 932.2,198.8 933.7,199.8 935.2,196.1 936.7,193.4 938.2,189.9 939.7,188.6 941.2,186 942.7,184.8 944.2,183.7 945.7,183.3 947.2,182.3 948.7,178.8 950.2,177.1 951.7,176.9 953.2,174 954.7,174.4 956.2,174.5 957.7,175.5 959.2,175 960.7,173.8 962.2,173.3 963.7,173.1 965.2,174.5 966.7,173 968.2,172.5 969.7,171.9 971.2,170.4 972.7,169 974.2,166.8 975.7,167 977.2,166.7 978.7,168 980.2,167.8 981.7,167.1 983.2,167.4 984.7,166.5 986.2,167.4 987.7,166.7 989.2,166.8 990.7,165.1 992.2,165.9 993.7,164.3 995.2,163.3 996.7,164.5 998.2,164.2 999.7,164.1 1001.2,165.1 1002.7,161.8 1004.2,160.2 1005.7,159.7 1007.2,159.5 1008.7,159.8 1010.2,160.4 1011.7,161.9 1013.2,162.7 1014.7,162.1 1016.2,163.2 1017.7,163.9 1019.2,163.5 1020.7,164.9 1022.2,164.7 1023.7,166.6 1025.2,166.7 1026.7,165.7 1028.2,164.3 1029.7,163.8 1031.2,161.4 1032.7,162.3 1034.2,164.6 1035.7,163.6 1037.2,166.6 1038.7,165.7 1040.2,168.3 1041.7,168.1 1043.2,169.8 1044.7,170.1 1046.2,169.1 1047.7,171.7 1049.2,173.1 1050.7,171.7 1052.2,170.6 1053.7,170 1055.2,168.7 1056.7,169.8 1058.2,168.2 1059.7,168.7 1061.2,168.5 1062.7,168.8 1064.2,168.6 1065.7,171.1 1067.2,170.4 1068.7,170.5 1070.2,169.2 1071.7,167.6 1073.2,167 1074.7,166.1 1076.2,165.9 1077.7,165.1 1079.2,164.6 1080.7,163 1082.2,162.7 1083.7,164.4 1085.2,162.4 1086.7,160.9 1088.2,161.3 1089.7,161.9 1091.2,159 1092.7,158.8 1094.2,158.7 1095.7,158.6 1097.2,161.5 1098.7,162.4 1100.2,163.2 1101.7,162.3 1103.2,163 1104.7,162.1 1106.2,162.8 1107.7,162.9 1109.2,163.5 1110.7,166.6 1112.2,166.1 1113.7,166.3 1115.2,165.9 1116.7,165.2 1118.2,164.8 1119.7,165.5 1121.2,164.7 1122.7,164.5 1124.2,164.4 1125.7,165.2 1127.2,164.8 1128.7,164.2 1130.2,163 1131.7,161.8 1133.2,163.3 1134.7,163.6 1136.2,163 1137.7,164 1139.2,164.8 1140.7,165.5 1142.2,166.2 1143.7,165.5 1145.2,167.5 1146.7,165.8 1148.2,167.3 1149.7,167.5 1151.2,168.1 1152.7,169.3 1154.2,169.4 1155.7,167.3 1157.2,166.3 1158.7,168.4 1160.2,167.5 1161.7,168.6 1163.2,170 1164.7,168.5 1166.2,168 1167.7,170.3 1169.2,171.1 1170.7,171.5 1172.2,172.3 1173.7,172.3 1175.2,172.2 1176.7,173.8 1178.2,174.1 1179.7,174 1181.2,176.4 1182.7,176.7 1184.2,177.3 1185.7,176.4 1187.2,176.6 1188.7,176.5 1190.2,176.7 1191.7,177.9 1193.2,177.2 1194.7,177.9 1196.2,178 1197.7,179.4 1199.2,176.6 1200.7,177.7 1202.2,177 1203.7,176.8 1205.2,175.3 1206.7,175.9 1208.2,177.3 1209.7,177.1 1211.2,177.2 1212.7,177 1214.2,178.4 1215.7,177.8 1217.2,175.9 1218.7,176.9 1220.2,176.3 1221.7,175.1 1223.2,177.4 1224.7,180 1226.2,179.8 1227.7,178.6 1229.2,178.5 1230.7,180.3 1232.2,179.9 1233.7,179.7 1235.2,179.6 1236.7,180.2 1238.2,181.9 1239.7,182.8 1241.2,183.5 1242.7,183.3 1244.2,185.3 1245.7,185.5 1247.2,187.5 1248.7,186.5 1250.2,187.6 1251.7,188.5 1253.2,188.1 1254.7,191.2 1256.2,192.3 1257.7,191.4 1259.2,192.1 1260.7,191.4 1262.2,188.2 1263.7,189.5 1265.2,191.1 1266.7,192.6 1268.2,193 1269.7,194.8 1271.2,196.4 1272.7,199 1274.2,200 1275.7,200.9 1277.2,203.4 1278.7,203.2 1280.2,204.2 1281.7,204 1283.2,207.9 1284.7,209.4 1286.2,210.7 1287.7,211.8 1289.2,211.5 1290.7,211 1292.2,210.2 1293.7,209.7 1295.2,209.5 1296.7,210.5 1298.2,210.3 1299.7,209.9 1301.2,209.5 1302.7,209.6 1304.2,211.9 1305.7,211.8 1307.2,212 1308.7,212.2 1310.2,212 1311.7,213.4 1313.2,215.1 1314.7,214.8 1316.2,215.3 1317.7,215.9 1319.2,216.8 1320.7,215.9 1322.2,217.3 1323.7,217 1325.2,218.3 1326.7,217 1328.2,217.8 1329.7,219.4 1331.2,219.3 1332.7,219.9 1334.2,221.7 1335.7,222.9 1337.2,223.3 1338.7,225.6 1340.2,228.4 1341.7,227.4 1343.2,227.6 1344.7,227.3 1346.2,228.8 1347.7,228.3 1349.2,228.7 1350.7,231.4 1352.2,230.6 1353.7,232.6 1355.2,234 1356.7,233.7 1358.2,234.3 1359.7,236.2 1361.2,235.2 1362.7,234.3 1364.2,233.3 1365.7,234.1 1367.2,235.6 1368.7,236.4 1370.2,235.6 1371.7,236 1373.2,237.1 1374.7,238.8 1376.2,239.5 1377.7,240.5 1379.2,241.2 1380.7,241.2 1382.2,241.8 1383.7,242.6 1385.2,242.9 1386.7,243.8 1388.2,246 1389.7,246 1391.2,246 1392.7,245 1394.2,247 1395.7,246.1 1397.2,246.8 1398.7,249.3 1400.2,250.2 1401.7,250.1 1403.2,248.9 1404.7,250.1 1406.2,250.5 1407.7,252.1 1409.2,254.7 1410.7,254.3 1412.2,253.9 1413.7,254.1 1415.2,255.7 1416.7,256.8 1418.2,256.8 1419.7,258.9 1421.2,259.3 1422.7,262.4 1424.2,264.2 1425.7,265.6 1427.2,265.6 1428.7,265.8 1430.2,264.9 1431.7,264 1433.2,263.5 1434.7,262.9 1436.2,263.2 1437.7,265.9 1439.2,266.3 1440.7,267.4 1442.2,268.9 1443.7,266.9 1445.2,267.2 1446.7,268.3 1448.2,269 1449.7,268.6 1451.2,270 1452.7,270.4 1454.2,269.8 1455.7,270.4 1457.2,272.7 1458.7,273.3 1460.2,270.8 1461.7,272.6 1463.2,272.1 1464.7,273 1466.2,272.3 1467.7,272.5 1469.2,272.3 1470.7,275.4 1472.2,274.7 1473.7,275.5 1475.2,275.4"/>
</g>
<path d="M846.7 106.15v-17.5M846.7 444.85v17.5M909.6 106.15v-9.5M909.6 444.85v9.5M972.5 106.15v-17.5M972.5 444.85v17.5M1035.4 106.15v-9.5M1035.4 444.85v9.5M1098.3 106.15v-17.5M1098.3 444.85v17.5M1161.2 106.15v-9.5M1161.2 444.85v9.5M1224.1 106.15v-17.5M1224.1 444.85v17.5M1287 106.15v-9.5M1287 444.85v9.5M1349.9 106.15v-17.5M1349.9 444.85v17.5M1412.8 106.15v-9.5M1412.8 444.85v9.5M1475.7 106.15v-17.5M1475.7 444.85v17.5M846.7 412.75h-9.5M1475.7 412.75h9.5M846.7 367h-18M1475.7 367h18M846.7 321.25h-9.5M1475.7 321.25h9.5M846.7 275.5h-18M1475.7 275.5h18M846.7 229.75h-9.5M1475.7 229.75h9.5M846.7 184h-18M1475.7 184h18M846.7 138.25h-9.5M1475.7 138.25h9.5" stroke="#000" stroke-width="2" fill="none"/>
<rect x="846.7" y="106.15" width="629" height="338.7" fill="none" stroke="#000" stroke-width="5.2"/>
<path d="M843.2 106.15H1479.2M843.2 444.85H1479.2" stroke="#000" stroke-width="5.2" fill="none"/>
<text class="a" x="825.03" y="71.9">0.0</text>
<text class="a" x="950.83" y="71.9">0.2</text>
<text class="a" x="1076.63" y="71.9">0.4</text>
<text class="a" x="1202.43" y="71.9">0.6</text>
<text class="a" x="1328.23" y="71.9">0.8</text>
<path d="M1461.73 71.9L1461.73 53.42L1456.97 56.81L1456.97 54.27L1461.95 50.85L1464.43 50.85L1464.43 71.9Z"/><text class="a" x="1471.05" y="71.9">.0</text>
<text class="t" x="1408.5" y="425.8" text-anchor="end">Poisson</text>
<text class="l" x="866.2" y="425.95">b)</text>
</g>
<g>
<clipPath id="c10"><rect x="145.3" y="517.4" width="629" height="338.7"/></clipPath>
<path d="M271.1 517.4V856.1M396.9 517.4V856.1M522.7 517.4V856.1M648.5 517.4V856.1M145.3 778.25H774.3M145.3 686.75H774.3M145.3 595.25H774.3" stroke="#000" stroke-width="1.15" fill="none"/>
<rect x="161" y="542.1" width="523" height="34.2" fill="#fff"/>
<g clip-path="url(#c10)">
<g transform="translate(145.30 686.75) scale(0.49921)">
<path fill="#999" stroke="#999" stroke-width="1" d="M0 9L6 9L12 10L18 14L24 16L30 18L36 19L42 24L48 27L54 28L60 29L66 34L72 36L78 36L84 39L90 41L96 44L102 45L108 48L114 51L120 56L126 56L132 57L138 57L144 63L150 63L156 67L162 67L168 70L174 71L180 103L186 103L192 103L198 103L204 103L210 85L216 87L222 102L228 102L234 102L240 102L246 109L252 109L258 113L264 115L270 115L276 115L282 115L288 115L294 115L300 116L306 120L312 120L318 120L324 122L330 122L336 123L342 125L348 134L354 135L360 135L366 136L372 136L378 136L384 140L390 140L396 141L402 145L408 145L414 145L420 146L426 146L432 146L438 146L444 148L450 148L456 148L462 187L468 187L474 187L480 187L486 187L492 152L498 151L504 148L510 150L516 160L522 160L528 160L534 160L540 160L546 155L552 155L558 155L564 156L570 156L576 156L582 183L588 183L594 183L600 183L606 183L612 158L618 158L624 158L630 158L636 158L642 157L648 157L654 163L660 163L666 163L672 184L678 184L684 184L690 184L696 184L702 168L708 168L714 168L720 168L726 152L732 176L738 176L744 176L750 176L756 176L762 172L768 172L774 172L780 171L786 171L792 171L798 171L804 162L810 162L816 162L822 159L828 159L834 159L840 159L846 157L852 157L858 145L864 145L870 145L876 145L882 145L888 141L894 141L900 141L906 141L912 138L918 137L924 137L930 136L936 136L942 136L948 136L954 136L960 130L966 130L972 130L978 125L984 122L990 122L996 117L1002 117L1008 114L1014 110L1020 110L1026 101L1032 100L1038 100L1044 100L1050 100L1056 88L1062 88L1068 88L1074 88L1080 88L1086 84L1092 84L1098 84L1104 73L1110 73L1116 69L1122 66L1128 66L1134 66L1140 56L1146 41L1152 39L1158 39L1164 33L1170 33L1176 33L1182 26L1188 25L1194 23L1200 20L1206 20L1212 20L1218 11L1224 11L1230 10L1236 4L1242 3L1248 2L1254 2L1260 2L1260 2L1254 2L1248 2L1242 10L1236 18L1230 26L1224 31L1218 39L1212 39L1206 39L1200 63L1194 63L1188 63L1182 63L1176 63L1170 87L1164 87L1158 94L1152 98L1146 104L1140 113L1134 113L1128 113L1122 118L1116 119L1110 119L1104 119L1098 120L1092 126L1086 126L1080 126L1074 126L1068 126L1062 128L1056 131L1050 138L1044 138L1038 140L1032 162L1026 162L1020 162L1014 162L1008 162L1002 162L996 179L990 183L984 185L978 185L972 185L966 185L960 185L954 184L948 184L942 184L936 184L930 184L924 200L918 204L912 209L906 210L900 210L894 197L888 197L882 197L876 197L870 197L864 201L858 201L852 201L846 208L840 208L834 208L828 211L822 214L816 214L810 236L804 221L798 221L792 217L786 217L780 217L774 217L768 217L762 219L756 227L750 227L744 223L738 223L732 223L726 221L720 221L714 221L708 221L702 221L696 231L690 231L684 231L678 240L672 229L666 229L660 229L654 229L648 228L642 228L636 228L630 228L624 228L618 234L612 234L606 234L600 246L594 246L588 246L582 246L576 246L570 225L564 225L558 225L552 225L546 199L540 199L534 199L528 199L522 199L516 204L510 216L504 242L498 204L492 203L486 201L480 201L474 201L468 201L462 201L456 230L450 195L444 195L438 195L432 195L426 195L420 219L414 219L408 178L402 178L396 178L390 178L384 178L378 203L372 203L366 203L360 206L354 206L348 203L342 201L336 201L330 190L324 190L318 190L312 190L306 190L300 187L294 183L288 181L282 177L276 171L270 162L264 162L258 162L252 162L246 161L240 158L234 155L228 150L222 146L216 143L210 139L204 135L198 133L192 129L186 126L180 122L174 119L168 116L162 114L156 110L150 107L144 104L138 100L132 97L126 93L120 86L114 84L108 79L102 75L96 71L90 67L84 64L78 60L72 55L66 51L60 48L54 43L48 38L42 33L36 29L30 24L24 19L18 14L12 10L6 9L0 9Z"/>
<path class="g" stroke-width="2.80" d="M0 7l6 3 6 7 6 0 6 3 6 3 6 6 6 3M174 88l6 5 6 1 6 0 6 1 6 8 6 4M378 194l6 1 6 2 6 2 6 3 6 1 6 4 6 4 6 2 6 0 6 5 6 3 6 0 6 6 6 3 6 3 6-2 6 2 6 1 6 4 6 1 6 0 6 2 6-1 6-1 6-1 6-3 6 0 6 0 6-4 6-1 6 2 6 0 6-3M618 227l6 5 6 0 6 2 6 1 6 0 6-1 6 1 6 2 6 0 6 1 6 0 6 0 6 0 6-1 6 2 6 3 6 0 6 0 6-1 6-1 6 0 6-1 6-1 6-1 6-2 6-1 6-2 6 0 6 1 6-1 6-2 6-1 6 0 6-1 6-2 6-4 6-2 6-2 6-1 6-4 6-1 6 1 6 3 6 0 6-2 6 1 6 1 6-2 6-4 6-4 6-3 6-2 6-5 6-7 6-4 6-1 6-5M1068 125l6 1 6 0 6-1 6-2 6-3 6-4M1170 71l6-3 6-7M1236 14l6-3 6-3 6-5 6-1M0 7l6 4 6 4 6 3 6 4 6 2 6 4M342 133l6 1 6 2M396 145l6 0 6 1M456 151l6 2 6 0 6 1 6 2 6 1 6 3M1242 7l6-1 6-2 6-2M0 7l6 6 6 4 6 5 6 5 6 4 6 5 6 5 6 5 6 4 6 4 6 3 6 3 6 4 6 4 6 4 6 4 6 3 6 4 6 4 6 3 6 3 6 2M174 100l6 3 6 1M456 157l6 1 6 3 6 2 6 0 6 2 6 3M576 173l6 0 6-1 6 1 6 0 6 2 6 0M666 180l6-3 6 1 6 2 6 2 6 2 6 2M1170 81l6-7 6-1 6-4 6-3 6 0 6-4 6-7 6-3 6-4 6-8 6-4 6-10 6-9 6-7 6-8M0 7l6 4 6 6 6 3 6 3 6 1 6 3M162 112l6 4 6 4 6 4 6 4 6 3 6 4 6 4 6 3 6 5 6 2 6 3 6 2M252 159l6 3 6 1 6 3 6 3M312 188l6 2 6 1 6 2 6 3M360 205l6 1 6 1 6 5 6 0 6 2 6 2 6 1 6-2 6 2 6 2 6-1 6 1 6 0 6 1 6 2 6 0 6 0 6 0 6 0 6 1 6 1 6 0 6 2 6 3 6 1 6 3 6 0 6 4 6 2 6 2 6 1 6 2 6-1 6 2 6 2 6 0 6-1 6-1M600 242l6-2 6-1 6 1 6 1 6 0 6 1 6 1 6-4 6-1 6-2 6 2 6 2 6 0 6-1 6-3 6-1 6 0 6-4 6-3 6 0 6-4 6-3M1038 101l6-6 6-4 6-2 6-2 6-3 6-4 6-8 6-2 6-3 6-4 6-2 6-3 6 4 6-4 6-1 6 3 6-1M1242 6l6-1 6 0 6-3M0 7l6 2 6 3 6 2 6 2 6 3 6 2 6 1 6 3 6 4M390 174l6 4 6 2 6 3 6 4 6 8 6 3 6 4 6 2 6 6 6 5 6 0 6 0 6 3 6 5 6 0 6 0 6 2 6 4 6 0 6 1 6 1 6 0 6-2 6-3 6 0 6 1 6-2 6 0 6-1M642 227l6 1 6-3M696 226l6 0 6 3 6 4 6 1 6-1 6-1 6 0 6 1 6-2 6-2 6-2 6 0 6-1 6-2 6-4 6-2 6-1M810 217l6-3 6-4M924 194l6 0 6 1 6-1 6-1 6-2 6-3 6-2 6-1 6-1M996 172l6-6 6-3 6-3M1038 139l6 0 6-2 6-4 6-3 6-6M1200 43l6-1 6-1 6-3 6-6 6-5 6-3 6-8 6-8 6-3 6-3M0 7l6 5 6 1 6 4 6 3 6 1M42 25l6 2 6 2 6 3 6 2 6 3M174 79l6 3 6 5 6 2 6 5 6 5 6 3M456 179l6 0 6-2 6 1 6 2 6 2 6-1M894 144l6-3 6-1 6-3 6 0 6 3M1236 11l6-1 6-3 6-3 6-2M0 7l6 3 6 3 6 3 6 0 6 2 6 2 6 3 6 3 6 4M96 70l6 7 6 3 6 4 6 5 6 5 6 3 6 3 6 4 6 3 6 3 6 3 6 4 6 3 6 4 6 3 6 3 6 3 6 4 6 2 6 1M264 160l6 2 6 4M378 180l6-2 6-1M456 185l6 1 6 5M864 196l6 1 6 1 6-2M924 194l6-2 6-5 6-3 6-3M1242 8l6 0 6-2 6-4M0 7l6 4 6 4 6 2 6 1M174 86l6 3 6 3 6 3 6 4 6 3 6 1M240 107l6-1 6 1 6 2 6 3 6 1 6 4M342 133l6 1 6 1 6 1M456 159l6 1 6 2 6 2 6 2 6 1 6 2M576 172l6 0 6-1 6 2 6-1 6-1 6 0M666 165l6-3 6-2 6-2 6 1 6 0 6-2 6-1 6-2 6-1 6 0 6 0 6-1 6-2 6-1 6 0 6 1 6-2 6-3 6-3 6-2 6 0 6-2 6-1 6 0 6-3 6-2 6 0 6 1 6-1 6 1 6-1 6-1 6 1 6-1 6-2 6-2 6-2 6-3 6 0 6 0 6-3 6-1 6 0 6-1 6 0 6 2 6-4 6-4 6 0 6-1 6-5 6-2 6-3 6-5 6-5 6 1 6-4 6-3 6-2 6-4 6-5 6-2 6-2 6-8 6-5 6-4 6-6 6 3 6-1 6-3 6-5 6 1 6 3 6 3 6-2 6-1 6 0 6-2 6-3 6 2 6 2M1206 22l6-2 6-4M1242 4l6 0 6 0 6-2M0 7l6 3 6 2 6 4 6 1M174 74l6 2 6 2 6 6 6 2 6 3 6 3 6 3 6 4 6 1 6 2 6 2 6 2 6 1 6 3 6 2 6 2 6 2M342 134l6 0 6 0 6 2 6 0 6 2M456 165l6 0 6-2 6-1 6 0 6 4 6 2M576 173l6-1 6 1 6 0 6 0 6 2 6 3M666 171l6 0 6 1 6 1 6-2 6 1 6-1M726 170l6-2 6-2 6-1 6-1 6 1 6 0 6 0 6 1 6-1 6-2 6 2 6 1 6-2 6-1 6-2 6-2 6 1M894 143l6-5 6-2 6-3 6-2 6-9 6-2 6 0 6-4 6-5 6-4 6-2 6-2 6-3 6-4 6 3 6-2 6 2 6 5 6 0 6 3 6 5M1092 85l6-1 6-3M1122 72l6-6 6-3 6-1M1188 29l6-6 6-1 6-1 6-1 6-1M1242 7l6-2 6-1 6-2M0 7l6 3 6 3 6 2 6 1 6 1 6 2 6 2 6 2 6 2 6 2 6 3 6 4 6 3 6 2 6 4 6 0 6 4M174 79l6 5 6 5 6 3 6 3 6 2 6 1 6 3 6 1 6 1M342 133l6 1 6 1 6 0 6 1 6 3M456 167l6 1 6 2 6 2 6 3 6 4 6 4M534 198l6 2 6 0 6-2M1170 69l6-3 6-6M1200 48l6-6 6-1 6-4 6-3 6-2 6-7 6-8 6-6 6-5 6-4M0 7l6 3 6 4 6 3 6 4 6 6 6 6 6 5 6 4 6 5 6 5 6 5 6 4 6 5 6 4 6 5 6 4 6 5 6 6 6 3 6 4 6 3 6 4 6 3 6 3 6 4 6 2 6 3 6 3 6 4 6 3 6 4 6 2 6 2 6 1 6 3 6 2 6 2M258 160l6 3 6 3 6 2M378 197l6 1 6 2 6 1 6 1 6 0 6-2 6 1 6 0 6 2 6 2 6 2 6 2 6 1 6 5 6 2 6 1 6 2 6 3 6-1 6 0 6-1 6 2 6 1 6 1 6 3 6 2 6 0 6 3 6 2 6 1 6-1 6 1 6 2M780 174l6-3 6 1M1032 152l6-3 6-7 6-2 6-4 6-5 6-5 6-7M1200 44l6-5 6-8M1236 17l6-6 6-2 6-2 6-5M0 7l6 6 6 0 6 2 6 0 6 1 6 0 6 2 6 2 6 4 6 3 6 1 6 1 6 5 6 2 6 4 6 3 6 2 6 3 6 0 6 4 6 6M174 81l6 7 6 5 6 5 6 2 6 1 6 3M456 155l6 1 6 0 6 1 6 0 6 2 6-1M576 168l6-2 6-1 6 1 6-1 6 0 6-1M648 162l6 0 6 1 6 1 6 0 6-1 6 2 6-1 6 0 6 0 6 0 6-3 6-1 6-1 6-1 6-3 6-1 6-1 6 0 6-1 6-3 6-2 6-2 6-1 6-3 6-2 6 0 6 0 6-3 6-1 6-1 6-1 6 1 6-3 6-3 6-2 6-5 6-1 6-4 6-2 6 1 6-3 6-1 6-6 6 2 6 0 6-3 6-4 6-3 6 1 6-1 6-9 6-5 6-5 6 0 6 0 6 1 6 0 6 0 6 2 6 5 6 3 6-3 6-7 6-2 6-1 6-2 6-2 6-3 6-3 6-7 6-4 6-1 6 2 6 4 6-6 6 4 6 2 6-2 6 1 6-1 6-4 6-3 6-8 6-7 6 0 6 0M1206 23l6-3 6-1M1236 16l6-3 6-3 6-4 6-4M0 7l6 5 6 4 6 4 6 5 6 2 6 5 6 4 6 5 6 4 6 4 6 4 6 5 6 6 6 5 6 4 6 5 6 4 6 4 6 4 6 4 6 3 6 4 6 3 6 2 6 4 6 2 6 3 6 3 6 4 6 4 6 3 6 3 6 4 6 4 6 4 6 4 6 3 6 4 6 4 6 3 6 3 6 3 6 4 6 3 6 2 6 2 6 2 6 4 6 5 6 5 6 5 6 2 6 1 6 4 6 2 6 0 6-1 6 0 6 2 6 5 6 3 6 1 6 2 6 0 6 2 6 3 6 3 6 1 6-2 6 1 6-3 6 2 6 2 6 3 6 4 6 5 6 0 6 1 6 1 6-2 6 0 6-2 6 2 6 1 6 2 6 0 6 1 6-1 6 1 6 2 6 2 6 1 6 2 6 1 6-2 6-2 6-3 6-3M600 243l6 0 6 1 6 0 6 1 6-1 6 1 6 0 6-1 6 0 6-1 6-3 6-3 6-2 6-3 6-3 6-1 6 0 6 1 6 1 6-1 6-1 6-1 6 1 6 2 6 1 6 2 6 0 6-2 6-3 6-2 6 0 6 0 6-2 6-2 6-1 6-4 6-3 6-1 6-6M1092 85l6-1 6-3 6-5 6-8 6-6 6-5 6-1 6 0 6-2 6-11 6-6 6-4 6-7 6-4 6-4 6-1 6 2 6-4 6-3 6-1 6 0 6-2 6-3 6-1 6-1 6-2 6 0 6 0M0 7l6 2 6 3 6 3 6 4 6 0 6 7 6 8 6 0M174 98l6 0 6 3 6 3M378 195l6 3 6 2 6 2 6 1 6 1 6 0 6-1 6 1 6 2 6 0 6-1 6-2 6-3M468 200l6 1 6 1 6 2 6 3 6 3 6 1 6 1 6 2 6 1 6 1 6 0 6-1 6-3 6 0M618 226l6 5 6 1 6 2 6 3 6 0 6 1 6 2 6 1 6 2 6-2 6 1 6 2 6 2 6-1 6-1 6 2 6 1 6 1 6 2 6-2 6-2 6-1 6-2 6-2 6 1 6-3 6-2 6-4 6-3 6-1 6-3 6-4 6-2 6-2 6 2 6-3 6-2 6 2 6 1 6-1 6-1 6-1 6-1 6-3 6-2 6-1 6-1M918 202l6-2 6-3 6-5 6-4 6-2 6-3M996 170l6-1 6-4 6-3 6-4M1032 154l6-1 6-3 6-3 6-4 6 0 6-3 6-3 6-2 6-3 6-4 6-5 6-3 6-1 6-4M1146 103l6 0 6-5 6-14 6-6 6-6 6-3 6-8M1200 50l6-5 6-5 6-3M1230 24l6-6 6-5 6-3 6-5 6-3M0 7l6 5 6 0 6 3 6 2M114 54l6 1 6 3M174 92l6 1 6-2 6 0 6 3 6 3 6 5M456 167l6-4 6-2 6-1 6 1 6 0 6 3M576 170l6 1 6-1 6 2 6 1 6 0 6 1M666 177l6 1 6 0 6-2 6 2 6 1 6-2M1200 44l6-4 6-4M1224 29l6-2 6-6 6-4 6-7 6-6 6-2M0 7l6 6 6 5 6 4 6 4 6 4 6 3 6 4 6 3 6 3 6 2M174 82l6 3 6 3 6 2 6 2 6 4 6 3M456 171l6 0 6 1 6 3 6 3 6 3 6 0M576 175l6-1 6-2 6 2 6 0 6 0 6-2M666 166l6 1 6-2 6 0 6-3 6-1 6 0 6 0 6-1 6 0 6-2 6 0 6 0 6 1 6 0 6-2 6 0 6-1 6-1 6-3 6 0 6 0 6-1 6-2 6-2 6-4 6-4 6-4 6-1 6-4 6-3 6-3 6-6 6-6 6-2 6-3 6-2 6-1 6 0 6-4 6-2 6-3 6-5 6 1 6 0 6-4 6 0 6 3 6-1 6-1 6 4 6 2 6 2 6 4 6 5 6 1 6-3 6-3 6 3 6-1 6 1 6-3 6 0 6-5 6-2 6 3M1242 8l6-1 6-4 6-1M0 7l6 4 6 2 6 4 6 8 6 3 6 5 6 4 6 4 6 5 6 4 6 3 6 4 6 4 6 2 6 3 6 5 6 4 6 4 6 4 6 3 6 1M186 125l6 4 6 3 6 4 6 2M264 161l6 2 6-1M516 200l6 0 6-1 6 0 6 3 6 2 6 1M1056 129l6-1 6-3M1092 121l6-1 6-4M1152 97l6 1 6-9 6-4 6-3 6-1 6 0 6-10 6-10 6-4 6-12 6-8M1230 20l6-2 6-5 6-5 6-5 6-1M0 7l6 6 6 4 6 4 6 4 6 4 6 5 6 4 6 4 6 4 6 5 6 4 6 4 6 4 6 3 6 4 6 4 6 4 6 4 6 3 6 3 6 3M156 109l6 5 6 3 6 4 6 3 6 4 6 4 6 4 6 4 6 3 6 4 6 2 6 2 6 2M252 159l6 3 6 1 6 1 6 2M378 197l6 0 6 0 6 4 6 3 6 3 6 4 6 1 6 3 6 3 6 2 6 3 6 3 6 3 6 3 6 0 6 1 6 0 6-1 6-2 6 0 6 1 6 2 6-4 6-1 6-2 6-5 6 0 6-3 6 0M666 184l6-3 6-3 6-2 6-1 6-1 6 0M714 169l6-1 6 0 6-1 6 0 6-2 6 0 6 0 6-2 6-1 6 1 6 1 6 0 6-3 6-3 6 0 6 0 6-1 6-1 6-2 6-1 6-1 6-2 6 0 6 0M1038 138l6 0 6 0 6-1 6 1 6-3 6-3 6 0 6 1 6-4 6-2 6-3 6-5 6-5M1140 105l6 1 6-3 6-7 6-9 6-4 6-3 6-3 6-4 6-7 6-2 6-8 6-9 6-3 6-7 6-5 6-5 6-5 6-6 6-8 6-6M0 7l6 6 6 4 6 4 6 4 6 4 6 4 6 4 6 5 6 4 6 4 6 3 6 4 6 5 6 5 6 4 6 3 6 4 6 4 6 3 6 4 6 3M144 103l6 4 6 3 6 3 6 4 6 3 6 4 6 4 6 3 6 4 6 3 6 4 6 3 6 4 6 3 6 2 6 4 6 5 6 3 6 3 6 2 6 4 6 4 6 4 6 4 6 2 6 5 6 4 6 5 6 2 6 2 6 4 6 5 6 3 6 4 6 3 6 1 6-2 6 0 6 6 6 3 6 3 6 0 6 2 6 1 6-3 6 3 6 0 6-2 6 2 6 0 6-2 6 0 6-4 6 0 6 0 6 3 6 3 6 2 6 1 6 0 6 0 6 0 6-1 6 2 6 4 6 3 6 2 6 1 6 1 6 2 6 3 6-1 6 0 6-1 6 0 6 0 6 2 6 3 6 1 6-1 6 2 6 0 6 1 6 0 6-1 6 0 6 0 6-1 6 0 6 1 6 2 6 0 6 0 6-3 6-1 6-2 6-1 6-1 6-2 6 1 6-1 6-2 6 0 6-1 6-3 6 0 6 0 6-1 6 0 6 1 6-3 6 0 6-3 6-2 6-1 6-2 6 1 6 0 6-1 6-1 6-1 6-3 6-3 6-4 6-5 6-4 6-1 6-2 6-5 6-3 6-4 6-4 6-6 6-3 6-2 6-3 6-2 6 1 6-1M996 170l6-5 6-4M1200 53l6-4 6-8 6-6M1236 15l6-4 6-4 6-3 6-2M0 7l6 4 6 2 6 3 6 2M54 41l6 7 6 3 6 5 6 0M366 202l6 2 6 4 6 5 6 5 6 6 6 3 6-1 6 2 6 1 6 1 6-3 6-2 6 0 6 2 6-2 6 2 6 0 6 1 6-1 6 0 6-5 6 0 6 2 6-2 6 5 6-1 6 1 6 0 6 4 6 1 6 1 6 1 6 0 6 1 6 1M600 242l6 0 6 0 6-2 6 1 6 3 6 1 6 0 6 3 6 0 6 1 6-1 6 0 6 1 6 0 6 0 6-2 6-1 6-2 6-2 6-2 6 2 6 0 6-1 6-2 6-2 6-2 6-1 6 2 6-1 6-3 6-1 6-1 6-4 6-3 6-3 6-3 6-1 6-5 6-6M846 205l6 1 6 0 6 0 6-4 6-7M1230 21l6-3 6-5 6-4 6-3 6-4M0 7l6 6 6 4 6 0 6 2 6 3M54 42l6 6 6-1M516 203l6-3 6-2M828 207l6 3 6-2 6 0 6 0 6 1 6-3 6-3 6-1 6 1 6-3 6-1 6-1M924 189l6 1 6 1 6-3 6-2 6 0 6-4M996 169l6-1 6-3 6-6M1032 142l6 1 6-3 6-1 6-2 6-2 6-6 6-4M1170 73l6-5 6-5 6-7M1242 7l6-3 6-1 6-1M0 7l6 3 6 4 6 3 6 2 6 7 6 4 6 5 6 4 6 2M174 89l6 2 6 4 6 3 6 6M456 178l6 3 6 5 6 5M510 209l6 1 6 0 6 2 6-2 6 3 6 1 6 3M564 224l6 1 6 6M594 243l6 5 6-1 6-1 6 2 6 0 6 1 6-3 6 0 6 0 6 3 6 0 6-1 6-1 6 0 6-2 6-1 6 1 6-1 6-2 6 1 6-1 6-3 6-3 6-1 6-1 6-2 6-4 6-3 6-5 6-4M846 205l6-2 6 0 6-4 6 0 6-3 6 0 6 1 6-1M924 189l6-3 6-1 6-4M1032 147l6-2 6-4 6-1 6-2 6-4 6 0 6-6 6-4M1170 69l6-6 6-5M1224 30l6-4 6-1 6-2 6-7 6-9 6-5M0 7l6 4 6 3 6 6 6 2 6 3 6 4 6 2M174 95l6 3 6 7M378 185l6 4 6 1 6 6 6 1 6 2 6 0 6 1 6-1 6 0 6 2 6 5 6 3 6 3 6 5 6 1 6 5 6 3 6 2 6-3 6-1 6-2 6 2 6 1 6-1 6 1 6 0 6 1 6-1 6-1 6 0 6 3 6-1 6-3M1032 156l6-5 6-4 6-3 6 1 6-2 6-2 6-2 6-6 6-3 6 0 6-5 6-7M1236 12l6-2 6 0 6-6 6-2M0 7l6 3 6 3 6 4 6 6 6 4 6 3 6 1M162 70l6 0 6-2 6 2 6 1 6 2 6 4 6 3 6 3 6 2 6 4 6 2 6 2 6 2 6 3 6 2 6 1 6 1 6 3 6 1 6 3 6 2 6 2 6 4 6 1 6 4M456 176l6 2 6 5 6 5M1050 132l6 0 6-3 6-4M1242 8l6-4 6-1 6-1M0 7l6 3 6 2 6 2 6 6 6 6 6 6 6 6 6 4 6 4 6 5 6 4 6 3 6 3 6 3 6 4 6 4 6 3 6 3 6 5 6 3 6 3M456 152l6-1 6 0 6-1 6 3 6 1 6 0M576 167l6 0 6 0 6 0 6-2 6-1 6-1M666 166l6 0 6-2 6 0 6 0 6 1 6 0 6-1 6-1 6-1 6 0 6 0 6 1 6 0 6 1 6 2 6-1 6 0 6 1 6-2 6 1 6 1 6 0 6 3M1086 89l6-6 6-3 6-2 6-7 6-3 6-2 6-2 6-1 6 1M1224 15l6-5 6-2 6-1 6-3 6-1 6-1M0 7l6 3 6 3 6 7 6 5 6 5 6 5 6 5 6 4 6 5 6 5 6 4 6 4 6 4 6 3 6 4 6 4 6 2 6 4 6 4 6 3 6 4 6 3 6 3 6 4 6 4 6 3 6 3 6 3 6 4 6 3 6 3 6 4 6 3 6 4 6 4 6 2 6 3 6 3 6 4M246 160l6 4 6 3 6 1 6 3 6 3 6 4 6 4 6 4 6 5 6 4 6 1 6 3 6 5 6 4 6 3 6 4 6 5 6 3 6 3 6 3 6 2 6 5 6 3 6 3 6 2 6 2 6 3 6 0 6 3 6 3 6 2 6 3 6 4 6 1 6 2 6 2 6 2 6 2 6 2 6 2 6 1 6 3 6 1 6-1 6 0 6 2 6-1 6-2 6 0 6-1 6-2 6 2 6 0 6-2 6-2 6 1 6-2 6-4 6-2 6-2 6-2 6-3 6 0 6 0 6-2 6-3 6-3 6 0 6 0 6 1 6-3 6-1 6 0 6-1 6 2 6 0 6-2 6 1 6 0 6-2 6-1 6-2 6 2 6 0 6-2 6 1 6 0 6-1 6-2 6-3 6-1 6-4 6-1 6-1 6-2 6-1 6-4 6-1 6-4 6-3 6-4 6-4 6-5 6 2 6 1 6-2 6 0 6-1 6-1M924 198l6-1 6-2 6 0 6 4 6-1 6-2 6 1 6-1 6-3 6-5 6-2 6-3 6-1 6-4 6-3 6 0 6-3 6-5 6-4 6-2 6-6 6-3 6-3 6-6 6-2 6-4 6-2 6-6 6-3 6-8M1158 88l6-1 6 0 6-5 6-2 6-4 6-7 6-3 6-4 6-12 6-4 6-4 6-12 6-3 6-4 6-6 6-9 6-6M0 7l6 6 6 5 6 6 6 3 6 5 6 4 6 4 6 4 6 3 6 4 6 3 6 4 6 3 6 4 6 4 6 3 6 3 6 4 6 3 6 4 6 3M246 160l6 4 6 3 6 4 6 2 6 2 6 3 6 2 6 2 6 5 6 1 6 4 6 2 6 2 6 3 6 2 6 3 6 2 6 0 6 4 6 2 6 0 6 0 6-1 6 1 6 1 6 3 6-3 6-1 6-2 6 0 6 1 6 3 6 2 6 0 6 0 6-2 6 1 6 3 6 3 6 0 6 2 6 0 6 2 6-1 6 1 6 1 6 0 6 0 6-1 6 0 6-2M846 204l6 1 6 3 6 2 6-2 6-1 6 1 6 0 6-2 6-1M918 201l6-1 6-2 6 0 6-1 6-2 6-3 6-2 6 1 6 1 6-6 6-2 6-2 6 0 6-4 6-3 6-3 6-3 6-3 6-4 6 0 6 0 6-2 6-3 6-5 6-7 6-7 6-3 6-6 6-5 6-3 6-2 6-1 6-1 6 1 6-2 6-2 6-3 6-2 6 2 6-2 6-1 6 1 6-8 6-4 6-11 6-9 6-6 6-9 6-4 6-8 6-9 6-8 6-6 6-6 6-7 6-7 6-5M0 7l6 4 6 4 6 3 6 3 6 4 6 4 6 4 6 1M60 33l6 1 6 2 6 3M90 43l6 1 6 2 6 2 6 3 6 3 6 5M174 80l6 2 6 2 6 4 6 3 6 2 6 0 6 3 6 2 6 2 6 4M258 114l6 1 6 3M300 117l6-1 6 0 6 0 6 0 6 2 6-1 6 1 6 1 6 1 6 1 6 4 6 1 6 2 6 2 6 2 6 2 6 0 6 1 6 1 6 3 6 1 6 0 6 2 6 2 6-1 6-1 6 0 6-1 6 0 6-2 6 1 6-1 6 0 6 0 6 2 6 1 6-1 6 1 6 0 6 1 6 0 6 1 6 1 6 1 6-1 6 0 6 1 6 0 6 0 6 1 6 1 6 2 6 0 6 1 6 0 6 1 6-2 6 0 6 1 6 0 6-2 6-1 6-1 6-1 6 2 6 0 6 0 6-1 6 0 6 2 6 1 6 1 6 1 6 0 6 0 6-1 6 0 6 0 6-1 6-3 6-2 6 0 6-1 6 1 6-2 6-2 6 0 6-1 6 1 6 0 6-3 6-2 6 0 6-6 6-2 6 0 6-1 6-4 6-5 6-1 6-2 6-6 6-1 6-1 6-4 6-3 6-6 6-3 6-2 6-3 6-4 6-6 6-6 6 0 6 4 6 0 6-3 6-4 6-2 6 3 6-4 6-3 6-1 6-3 6 3 6 0 6-2 6 2 6-1 6-2 6 5 6 2 6 4 6 1 6 0 6-7 6-5 6-1 6-1 6-6 6-5 6-4 6-1 6-6 6-1 6 0 6-3 6-4 6-4 6-1 6-4 6-4 6-2 6-1 6-1 6-2 6-2 6 0 6-1 6-1M0 7l6 5 6 5 6 5 6 5 6 6 6 5 6 4 6 3 6 5 6 3 6 3 6 5 6 3 6 3 6 3 6 4 6 3 6 5 6 3 6 3 6 3M162 112l6 4 6 3 6 4 6 3 6 4 6 3 6 3 6 3 6 2M264 161l6 2 6 2M378 192l6 4 6 3 6 1 6 0 6 2 6 2 6 5 6 3 6 1 6 3 6 2 6-1 6 1 6-4 6 1 6 3 6-1 6 0 6 1 6-1 6-2 6-1 6-1 6 0 6 2 6-1 6 0 6 0 6 1M696 219l6 3 6 0 6-3M738 221l6 2 6 2 6-3 6-2 6-1 6 0 6-2 6-1M810 216l6 2 6 0 6 0 6-2 6 0 6-1 6-6 6-4 6 1 6 0 6 0 6 0 6 1 6-1 6 1M912 205l6-1 6-3 6-4 6-4 6-3 6-4 6-3M996 166l6-4 6-2M1032 145l6-3 6-1 6-5 6-3 6-2 6-2 6-2 6-2M1170 73l6-5 6-5 6-7M1200 44l6-5 6-5M1236 17l6-6 6-5 6-1 6-3M0 7l6 6 6 3 6 3 6 0 6 5 6 3M48 37l6 8 6 3 6 4 6 4 6 4 6 4 6 4 6 3 6 4 6 3 6 4 6 4 6 5M378 188l6 0 6 0 6 1 6 1 6-1 6 2M444 194l6 2 6 4 6 3 6-1 6 3 6 5 6 2 6 4 6 3 6-1 6 2 6 2 6 2 6 1 6 1 6 5 6 1 6 4 6 2 6 0 6 1 6-1M696 223l6 0 6-1 6-2M1170 70l6-1 6-6 6-7M1200 47l6-7 6-4M1236 14l6-1 6-1 6-5 6-5M0 7l6 6 6 5 6 6 6 4 6 3 6 3 6 4 6 4 6 3 6 4 6 4 6 4 6 3 6 4 6 5 6 4 6 4 6 4 6 4 6 2 6 3M264 159l6 4 6 2M378 196l6 0 6 2 6 4 6 3 6 3 6 4 6 2 6 2 6 0 6 5 6 4 6 4 6 1 6 0 6-2 6-1 6-2 6 1 6 0 6 0 6 0 6 1 6 1 6 1 6 1 6 4 6 1 6-2 6-2 6 2 6 2 6 2 6 1M600 235l6 2 6 2 6 1 6 2 6 1 6 1 6-1 6-1 6-1 6 0 6 0 6 2 6-1 6-2 6 0 6 0 6 0 6-1 6-1 6-3 6-4 6-4 6-2 6 0 6 2 6-1 6-1 6-1 6 0 6 0 6-4 6-4M1206 23l6-5 6-1M1242 7l6-1 6-1 6-3M0 7l6 3 6 3 6 2 6 3M378 182l6 3 6 0 6 1 6 2 6 1 6-2M456 182l6-4 6-2 6-2 6-1 6-2 6 3M576 180l6 1 6 1 6 2M840 161l6-4 6-2 6-1M870 147l6-4 6-4 6-2 6-5 6 1 6 1 6-1 6-1 6-5 6-5 6 1 6 0 6 0 6 0 6-2 6-2 6 2 6-5 6-7 6-8 6 1 6-3 6-1 6-8 6 2 6-10 6-5 6-6 6-1 6 2 6-3 6-2 6-4 6-1 6-1 6 4 6 4 6 5 6 6M1242 7l6-2 6-2 6-1M0 7l6 6 6 4 6 5 6 2 6 3 6 5 6 4 6 4 6 5 6 2 6 4 6 0M264 116l6-1 6 1M342 133l6 1 6 0 6 1 6 1 6 0 6 1 6 0 6 1 6 2 6 0 6 1 6-1 6 0 6 0 6 0 6 2 6 0 6 1 6-1 6 0 6 3 6-1 6 0 6 3 6 2 6 1 6 1 6 1 6 1 6 0 6 2 6 0 6 1 6 0M576 159l6 1 6 1 6-1 6-1 6 2 6 0M648 158l6-1 6 0 6 0 6 0 6-1 6-2 6 0 6 0 6 0 6-1 6-1 6 0 6-1 6 0 6 0 6-1 6-1 6-1 6 2 6 1 6 0 6-1 6 0 6 0 6-2 6-1 6-1 6-1 6-3 6-2 6-2 6-2 6-2 6-3 6-3 6-3 6-3 6-1 6 1 6-2 6-5 6 3 6 0 6 0 6-4 6-2 6-2 6 3 6-5 6-3 6 2 6-2 6-3 6 2 6 5 6 4 6 4 6 5M1092 122l6 2 6 1 6-6 6-3 6 0 6-3 6 1 6-4 6-4 6-2 6-1 6-6 6 5 6-2 6-8 6-2 6-4 6-12 6-8 6-5 6 0 6-13 6-12 6-6 6-6 6-8 6-9 6-5M0 7l6 7 6 4 6 4 6 4 6 4 6 4 6 4 6 4 6 5 6 5 6 4 6 4 6 4 6 4 6 4 6 4 6 3 6 3 6 3 6 3 6 4M150 105l6 6 6 5 6 4 6 4 6 4 6 3 6 2 6 2 6 3 6 5 6 3 6 2 6 3 6 3M246 160l6 3 6 4 6 3 6 4 6 2 6 3 6 4 6 3 6 2 6 3 6 1 6 3 6 0 6 0 6 4M372 202l6 1 6-1 6 2 6 2 6 1 6 0 6 2 6 2 6-1 6 0 6 2 6-2 6 0 6-3 6-1 6-2 6-3 6 2 6 5 6 3 6-1 6-1 6 0 6-2 6 2 6 2 6 3 6 2 6 5 6 3 6-1 6 2 6 1 6 4M600 235l6 0 6-3 6 2 6 2 6-1 6-1 6-1 6-2 6-1 6 3 6-1 6-1 6 3M1044 101l6-4 6 0M1068 91l6-5 6-2 6 1 6-1 6-3 6-1M1128 68l6-2 6-3M1206 25l6-6 6-4M1242 9l6-2 6-4 6-1M0 7l6 2 6 6 6 2 6 0 6 0 6 2 6 2 6 1 6 2 6 3 6 3 6 3 6 3 6 3 6 2 6 4M108 50l6 1 6 4 6 2M174 78l6 4 6 3 6 5 6 3 6 3 6 3M378 140l6 0 6 1 6 2 6 1 6 0 6 1 6 0 6 0 6 1 6 0 6 0 6 0 6 2 6 0 6 0 6-2 6 0 6 1 6 1 6 1 6 0 6 0 6 1 6 1 6 0 6-1 6 0 6 2 6 0 6 1 6 1 6 1 6 3 6 0 6 0 6 1 6 0 6 1 6-1 6-1 6 1 6-1 6-1 6 1 6-1 6 0 6-1 6 0 6 0 6 1 6 0 6 1 6 0 6 1 6 0 6-1 6 0 6-1 6-2 6-1 6 0 6 1 6-2 6 0 6-1 6-2 6-2 6 1 6-2 6 1 6-1 6-1 6 2 6 1 6 1 6 1 6 2 6 0 6-1 6 2M1170 65l6-2 6-7M1200 41l6-2 6-5M1236 17l6-2 6-5 6-3 6-5M0 7l6 5 6 1 6 3 6 4 6 3M456 180l6-2 6 0 6 0 6 2 6 2 6-4M576 174l6-1 6 0 6 1 6 1 6 5 6 3M1236 15l6-3 6-2 6-3 6-5M0 7l6 6 6 4 6 4 6 5 6 6 6 3 6 3 6 4 6 4 6 5 6 5 6 5 6 4 6 5 6 5 6 2 6 5 6 4 6 4 6 4 6 4 6 3 6 2 6 2 6 3 6 2 6 2 6 4 6 3 6 3 6 2M378 195l6 3 6 1 6 0 6 4 6 0 6 3 6 0 6-2 6 0 6-1 6-1 6-2 6-2M1170 74l6-7 6-3 6-5M1200 49l6-4 6-5 6-4 6-3 6-6 6-5 6-3 6-5 6-9 6-3M0 7l6 2 6 1 6 1 6 4 6 4 6 2 6 2 6 2 6 4 6 2 6 1 6 2 6 2 6 1 6 0 6 2 6 2 6 3 6 5 6 2 6 4 6 1 6 1 6 1 6 3 6 3 6 4M174 73l6-1 6-1 6-1 6 4 6 1 6 2 6 3 6 3 6 4 6 1 6 3 6 4 6 4 6 4 6 1 6 1 6 2 6 4 6 1 6 1 6 2 6 0 6 4 6 2 6 1 6 1M342 126l6 0 6 2 6 1 6 1 6 0 6 0 6 0 6 0 6 1 6 1 6 0 6 2 6 0 6 0 6 0 6 1 6 0 6-1 6 1 6 0 6 3 6 2 6 2 6 2 6 0 6 0 6 3 6 2 6 2 6 1 6 1 6 4 6 2 6 0M576 171l6 2 6 2 6 3 6 0 6 2 6 4M924 188l6-2 6 0 6-5M1032 146l6-4 6-4 6-5 6-2 6-2 6 0 6-5M1170 75l6-4 6-4 6-6M1200 52l6-5 6-6 6-7M1236 17l6-4 6-1 6-6 6-4M0 7l6 6 6 4 6 5 6 3 6 4 6 4 6 4 6 5 6 5 6 3 6 4 6 4 6 4 6 4 6 4 6 3 6 5 6 4 6 5 6 5 6 4 6 5 6 4 6 3 6 3 6 2 6 3 6 3 6 4 6 3 6 2 6 3 6 4 6 3 6 3 6 3 6 2 6 2M378 186l6 0 6 5 6 0 6-2 6-3 6-1M456 180l6 1 6-3 6-1 6-1 6-2 6 0M1200 46l6-6 6-5 6-5 6 1 6-4 6-6 6-4 6-7 6-3 6-5M0 7l6 5 6 3 6 2 6 3 6 6 6 7 6 4 6 5 6 4 6 4 6 4 6 3 6 4 6 4 6 3 6 4 6 3 6 5 6 4 6 4 6 3M150 106l6 4 6 4 6 3 6 2 6 3 6 4 6 3 6 2M378 184l6 4 6 0 6 4 6 5 6 3 6 4 6 2 6 0 6 2 6 2 6 0 6 1 6-2 6 0 6 0 6 2 6-1 6 1 6 2 6 1 6 0 6 0 6-2 6 0 6-2 6-3 6-1 6-1 6-3M666 175l6 0 6-1 6 1 6 0 6-1 6 0M726 171l6-1 6 1 6-1 6-1 6-1 6-1 6-1 6-1 6-1 6-1 6-2 6-1 6 2 6 1M1014 111l6-1 6 0M1080 90l6-10 6 4 6-1 6-2M1128 67l6-4 6-3M1200 24l6-5 6-4 6-2M1242 9l6-3 6-3 6-1M0 7l6 3 6 2 6 4 6 5 6 2 6 3 6 8 6 3M456 163l6-2 6-1 6 1 6 1 6 0 6 1M732 222l6 2 6 3 6 1 6-5 6 0 6-2 6-4 6-2M846 201l6 1 6-5M1032 152l6 0 6-2 6-3 6-2 6-3 6 0 6-4 6-5 6-7 6-6 6 0 6-6M1170 74l6-4 6-5 6-6M1200 51l6-6 6-7 6-4 6-2 6-5 6-4 6-5 6-6 6-4 6-6M0 7l6 4 6 1 6 1 6 0 6 2 6 2 6 3 6 2 6 2 6 3 6 4 6 5 6 3M174 85l6 2 6 3 6 4 6 5 6 6M396 174l6 4 6 3 6 4M438 193l6 2 6 1 6-1M510 208l6 3 6 3 6 0 6 2 6 1 6-2 6 1M618 232l6 2 6 0 6-1 6-1 6-2 6-2M756 223l6 0 6-3 6-1 6 5 6 1 6 0 6-3 6-3 6-1 6 1 6-3 6-2 6-4 6-5M996 164l6-1 6-2 6 0 6 1 6-3 6-1 6-2 6 2 6-3 6 0 6-3 6-1 6 2 6 0 6-8 6-2 6-1 6-1 6-1 6-5 6-7 6-2 6-4 6 0 6-5 6-3 6-4 6-5 6-4 6 0 6-4 6-7 6-12 6-8 6-6 6-7 6-8 6-10 6-8 6-8 6-6 6-4 6-5 6-6M0 7l6 3 6 5 6 4 6 6 6 4 6 1 6 0M360 205l6-1 6 2 6 1 6 1 6 1 6 0 6 5 6-1 6 3 6 0 6 1 6-1 6 0 6 0 6 2 6 1 6 2 6-2 6 4 6 1 6-2 6-1 6 2 6 0 6-4 6 2 6 0 6-2 6-1 6-2 6 1 6 0M1086 86l6-5 6-4 6-4 6-2 6-1M1128 67l6-4 6-1M1224 13l6-3 6 0 6-2 6-3 6-3 6 0M0 7l6 3 6 4 6 7 6 4 6 0 6 1M174 97l6 5 6 3M456 178l6 1 6-1 6 0 6 0 6 1 6 0M1014 114l6-4 6-1M1038 101l6-3 6-6 6-10 6-2 6-6 6-8 6-1 6-2 6-5 6 0 6-1 6-1 6-5 6-4 6 2 6-2 6-2 6 2M1206 21l6-3 6-3M1242 9l6-2 6-4 6-1M0 7l6 2 6 2 6 2 6 4M36 22l6 2 6 2 6 1 6 2 6 4 6 3 6 2M660 228l6 3 6-1 6-2M696 223l6-2 6 2 6-2 6-2M1200 51l6-3 6-5 6-5 6-2 6-5 6 0 6-7 6-6 6-9 6-7M0 7l6 6 6 5 6 4 6 4 6 4 6 5 6 3 6 4 6 4 6 4 6 4 6 4 6 4 6 6 6 4 6 4 6 4 6 3 6 3 6 5 6 3 6 4 6 4 6 3 6 3 6 4 6 3 6 3 6 3 6 4 6 3 6 4 6 4 6 3 6 4 6 3 6 3 6 1 6 3M264 161l6 4 6 1M396 176l6 2 6 3 6 3M438 193l6 5 6 2 6 3 6 6 6 3 6 1 6 1 6 1 6 2 6 1 6 1 6 1 6 1 6-1 6 2 6-1 6-2 6-5 6-5M1032 145l6-3 6-6 6-4 6-1 6 0 6 0 6-3 6-5M1170 69l6-5 6-1 6-4M1200 51l6-5 6-4 6-6M1230 23l6-4 6-6 6-5 6-3 6-3M0 7l6 4 6 5 6 5 6 4 6 3 6 4 6 2 6 1M174 90l6 7 6 5 6 1 6 3M456 159l6 1 6 0 6 1 6 0 6 1 6 3M1200 48l6-4 6-4 6-3 6-6 6-6 6-2 6-6 6-4 6-6 6-5M0 7l6 6 6 4 6 6 6 4 6 4 6 3 6 3 6 0M66 49l6 6 6 3M174 88l6 2 6 2 6 6 6 2 6 1 6 3M378 187l6 3 6 4 6 4 6 1 6 2 6 3 6 4 6 7 6 1 6 3 6 1 6 2 6 3 6 2 6 2 6 4 6 1 6 1 6 1 6 3 6 2 6 1 6 3 6 3 6 0 6 1 6 1 6-3 6 1 6-2 6 0 6-1 6-2M600 238l6-2 6 1 6 1 6 0 6-2 6-1 6-2 6 1 6 0 6 0 6-1 6-1 6-4M696 228l6-4 6-2 6-1 6-1 6 1 6-1M810 214l6 4 6 4 6 2 6 2 6 3 6-3 6-3 6-2 6-1 6-1 6 0 6-2 6 1 6-1 6-1 6 1 6-3 6-1 6 0 6-3 6-3 6-3 6 1 6 1 6-2 6-2 6-1 6-2 6-5 6-7 6-5 6-3 6-1 6-7 6-5 6-3 6-4 6-3 6-1 6-4 6-3 6-2 6-4 6-5 6-6 6-2 6-3 6-2 6-6M1158 90l6 1 6-1 6-7 6-15 6-5 6-7 6-3 6-5 6-7 6-5 6-5 6-7 6-4 6-5 6-6 6-5 6-2M0 7l6 2 6 2 6 0 6 2 6 4 6 2 6 4 6 4 6 2 6 1 6 3 6 3 6 3M174 97l6 4 6 4M378 185l6 2 6-2 6-1 6 0 6-2 6-2M456 172l6 1 6-1 6 0 6 3 6 4 6 1M618 227l6 3 6 3 6 1 6 1 6 0 6 2 6 1 6 1 6 1 6-2 6-2 6-4 6-4 6 1 6-1 6 0 6 0 6-3 6-2 6-2M756 222l6-2 6-4 6 2 6-1 6-2M810 215l6-1 6-2 6-3 6-1 6-3M1014 115l6-5 6-3 6-4 6-9 6-4 6-1 6-6 6-7 6 2 6-3 6-3 6 5 6-5 6-3 6-8 6-3 6-4 6 0 6-1 6-4 6 1 6-4 6-10 6-6 6-2 6-1 6-1 6-3 6-2 6-1 6-5 6 1 6-2 6-4 6-3 6-4 6-3 6 0 6 0 6 2 6 0M0 7l6 4 6 3 6 1 6 4 6 3M174 91l6 5 6 6 6 6M402 175l6 3 6-1M480 200l6 3 6 1 6 4 6 4 6 2 6 0 6 1 6-1 6 1 6-3 6-2 6-5M672 186l6-4 6-2 6-3 6 3 6 2M834 162l6-3 6-3 6-1 6 0M978 126l6-4 6-1 6-3 6-1 6-2 6-2 6-3 6-6 6-9 6-4 6-2 6-2 6-7 6-5 6-4 6-5 6-2 6-3 6 1 6-2 6 4 6 0 6-4 6 2 6 0 6-3 6 1M1242 7l6-2 6-2 6-1M0 7l6 3 6 1 6 2 6 4M36 22l6 2 6 2 6 4M174 100l6 2 6 7M456 172l6 0 6-1 6 2 6 0 6 0 6-1M576 179l6-3 6-2 6 0 6-1 6-2 6-1M666 169l6 0 6-1 6 0 6 0 6 1 6-1 6 0 6-2 6 1 6 1 6 0 6-1 6-3 6-1 6-2 6-1 6-1 6-2 6-1 6-1 6 0 6-2 6 0 6 1 6-1 6-1 6 1 6 1 6-3 6-4 6-4 6-3 6-2 6-3 6-3 6 2 6-5 6-6 6-2 6-3 6 0 6-1 6-7 6-6 6-4 6-2 6 2 6-6 6-2 6-5 6-2 6 0 6 3 6-2 6-1 6-3 6 0 6 1 6 5 6-1 6-2 6 1 6 0 6-4 6 6 6 5M1086 86l6-8 6-1 6-3 6-6 6-2 6-8 6 0 6-4 6 1 6 2M1224 12l6-2 6-2 6-3 6 1 6-2 6-2M0 7l6 2 6 3 6 2 6 6 6 3M60 44l6 8 6 5 6 4 6 5 6 4 6 4 6 4 6 4 6 3 6 4 6 4 6 3M378 182l6 2 6 2 6 1 6 0 6 4 6 5 6 3 6 3 6 3 6 3 6 4 6 4 6 3 6 2 6-1 6 4 6 4 6 2 6-1 6 0 6 1 6 0 6 3 6 3 6 3 6 1 6 3 6-1 6-1 6 2 6 3 6 1 6-2 6 1 6 2 6-2 6-1 6-1 6-1 6 2 6 0 6-1 6 0 6-1 6-1 6-1 6 0 6-1 6 0 6-2 6-1 6 0 6-1 6 1 6-1 6 1 6-2 6-3 6 1 6-1 6-2 6-4 6-1 6-3 6 0 6 1 6 0 6-1 6-1 6 0 6 4 6 0 6-2 6-1 6-1 6 2 6 1 6-2 6-1 6 1 6-1 6 0 6 0 6 1 6-2 6-1 6-2 6 0 6 0 6-1 6 2 6-1 6-2 6 0 6-3 6-1 6-1 6-1 6-1 6-6 6-6 6-4 6-6 6-3 6 0 6 0 6-2 6-3 6-7 6-2 6-2 6-5 6 0 6-1 6-4 6 0 6-3 6-3 6-1 6-5 6-4 6-7 6-9 6-4 6 0 6-6 6-5 6-1 6-9 6-6 6 0 6-8 6-4 6-5 6-10 6-6 6-8 6-8 6-5 6-8M1236 17l6-4 6-2 6-6 6-3M0 7l6 4 6 2 6 2 6 5 6 4 6 6 6 3 6 4M60 47l6 6 6 4 6 4 6 4 6 5 6 4 6 3 6 3 6 4 6 5 6 4 6 3M396 174l6 5 6 3 6 1M456 183l6 1 6 1 6-2 6 2 6-2 6 5M666 181l6-4 6 1 6-1 6-3 6-1 6-2M714 169l6-2 6-1 6-2 6-3 6-3 6 0 6 1 6 1 6 0 6-1 6 0 6 0 6-2 6-2 6-1 6-2 6-3 6-3 6-1 6-1 6 1 6-1 6-2 6 1 6-1 6 4M1170 68l6-1 6-3 6-2M1200 52l6-3 6-5 6-6 6-4 6-2 6-5 6-8 6-6 6-6 6-5M0 7l6 6 6 5 6 3 6 5 6 4 6 3 6 4 6 3 6 4 6 2 6 7 6 2 6 5 6 2 6 5 6 3 6 4 6 5 6 4 6 3 6 4M378 185l6 4 6 1 6 4 6 2 6 1 6-1 6 0 6 1 6 0 6-2 6-3 6 3 6-2M474 196l6 6 6 2 6 3 6 1 6 2 6 2 6 7 6 4 6 0 6 2 6 4 6 0 6 0 6 0 6-2 6-2 6 0M618 229l6 1 6-1 6-1 6 0 6 0 6-3 6 1 6 4 6-2 6 3 6 1 6 2 6 2 6-1 6 3 6 1 6 2 6 0 6-3 6-3 6 1 6-2 6 0 6-1 6-1 6 0 6 0 6-1 6-2 6 0 6 1 6 0 6-1 6-2 6-4 6-4 6-3 6 1 6-1 6 0 6-2 6-2 6-1 6-1 6-1 6-1 6 1 6 1 6-1 6-1 6 1 6 1 6-1 6-2 6-3 6-3 6-3 6-4 6-2 6-3 6-3 6-4 6-3 6-7 6-5 6-5 6-6M1032 146l6-3 6-4 6-5 6 0 6-2 6-5 6-4M1170 76l6-3 6-6 6-7M1200 44l6-5 6-7M1236 16l6-3 6-4 6-4 6-3M0 7l6 6 6 4 6 5 6 5 6 3 6 3 6 2 6-1M114 82l6 4 6 4M378 189l6 2 6 1 6 0 6-1 6-2 6 0M426 194l6 1 6-2M588 187l6-4 6 1M666 177l6-1 6 0 6 2 6 1 6-1 6 0M726 171l6 0 6-2 6 0 6-2 6 0 6-1 6 2 6 0 6-2 6 1 6-3 6-1 6 3M1236 14l6-3 6-3 6-3 6-3M0 7l6 3 6 3 6 4 6 7 6 5 6 4 6 3 6 1M66 50l6 5 6 4M384 175l6 5 6 3 6 3 6 4 6 2M426 194l6 1 6 0 6 5 6 2 6 1 6 7 6 1 6 3 6 1 6 3 6 2 6 4 6 1 6 5 6 2 6-1 6 1 6 1 6 1 6 1 6 1 6 4 6-1 6-1 6 0M600 243l6-2 6 2 6 0 6 1 6 2 6 3 6 1 6 3 6 2 6 2 6 4 6 2 6 2 6 2 6 0 6 1 6 2 6-1 6 1 6 0 6 0 6-1 6 0 6-1 6-1 6 0 6-2 6-1 6 3 6 0 6-1 6-4 6-1 6 0 6 0 6-4 6-3 6 0 6-1 6-1 6 0 6-2 6-1 6-1 6-2 6-3 6 0 6-1 6 0 6-1 6-3 6 3 6-4 6-2 6 1 6-4 6-2 6-4 6-3 6-3 6 0 6-3 6-1 6-4 6-1 6-3 6-5 6-5 6-3 6-3 6-3 6-5 6-7 6-8 6-8 6-3 6-2 6-3 6-2 6-3 6-4 6-4 6-2 6-3 6-2 6 0 6-4 6 0 6-4 6-5 6 2 6 1 6-5 6-5 6-7 6-9 6-5 6-4 6-1 6-6 6-8 6-8 6-15 6-8 6-10 6-8 6-5 6-7 6-4 6-6M0 7l6 3 6 4 6 4 6 4 6 5 6 4 6 4 6 3 6 5 6 6 6 5 6 4 6 5 6 4 6 4 6 3 6 4 6 2 6 3 6 3 6 4M402 177l6 1 6 0M510 203l6 1 6 3 6 1 6 5 6 4 6 0 6-2M1170 70l6-4 6-5M1236 16l6-5 6-5 6-1 6-3M0 7l6 2 6 2 6 1 6 2 6 1 6 1 6 2 6 1 6 0 6 1 6 1 6 3 6 2 6 4 6 5 6 5 6 2 6 2 6 1 6 3 6 3 6 1 6 2 6 3 6 4 6 7M174 82l6 5 6 5 6 4 6 3 6 2 6 1M240 108l6 1 6 1 6 2 6 1 6 2 6 0 6 1M300 119l6 0 6 1 6 0 6 0 6 2 6 0 6 0 6 1 6 2 6 2 6 2 6 1 6 1 6 0 6 0 6 1 6 2 6 3 6 0 6 1 6 1 6 1 6 1 6 1 6 0 6 1 6 1 6 1 6-1 6 1 6 1 6 1 6 1 6 5 6 4 6 0 6 1 6 2 6 0 6 0 6 0M576 165l6-2 6-1 6 1 6 1 6 2 6 1M666 168l6 0 6-1 6-1 6-1 6-2 6 0 6 0 6 0 6 1 6-1 6-1 6-1 6-1 6-3 6-1 6-2 6-1 6-1 6 0 6-1 6-1 6-1 6-1 6 0 6-2 6-4 6 0 6-4 6-3 6-4 6-6 6-3 6 0 6-4 6 0 6-1 6-1 6-2 6-1 6-1 6-2 6-3 6-3 6-1 6-8 6-3 6 0 6 0 6 1 6-2 6-13 6-1 6-2 6-1 6 0 6-3 6-7 6-4 6-7 6-3 6-3 6-1 6 1 6 2 6-3 6 0 6 2 6-1 6 1 6 0 6-2 6 2 6 0 6 0 6-7 6-3 6-5 6-4 6-4 6-2 6 1 6-4 6-4 6-1 6 1 6 2 6 0 6-2 6-1 6 0 6 0 6-3 6-4 6-3 6-1 6 0 6-1 6-1 6 0M0 7l6 5 6 2 6 5 6 6 6 3 6 4 6 5 6 4 6 5 6 4 6 4 6 4 6 3 6 4 6 4 6 4 6 4 6 5 6 4 6 4 6 3 6 4 6 3 6 4 6 3 6 3 6 3M186 124l6 5 6 3 6 3 6 3M258 161l6 3 6 2 6 2M378 201l6 1 6 6 6 3 6 2 6-1 6-1 6 1 6 1 6 2 6-1 6 3 6 2 6-2 6 5 6 1 6 2 6 0 6 1 6-2 6 1 6 3 6 1 6 0 6-2 6-3 6 2 6-1 6-3 6 2M1092 121l6-1 6-2M1140 106l6-2 6-3 6-1 6-3 6-7 6-4 6-2 6-2 6-6 6-6 6-8 6-9 6-8 6-7 6-3 6-9 6-5 6-8 6-8 6-3M0 7l6 2 6 3 6 3 6 3M174 83l6-1 6 0 6-1 6 1 6 3 6 2 6 5 6 4 6 2 6 5M576 172l6-2 6 0 6 0 6-1 6-1 6-2M654 164l6-1 6 2 6 0 6-1 6 0 6 1 6-3 6-1 6 1 6 0 6 0 6-1 6-1 6 1 6 0 6 0 6 2 6 2 6 1 6-1 6-1 6 3 6 0 6-1 6 1M906 143l6-5 6-3 6 0 6 1 6 0 6 3 6-3 6-2 6 1 6 0 6-5 6-7 6-6 6-7 6-4 6-4 6 2 6 2 6 0 6-4 6-4 6-2 6-1 6 1 6-7 6-8 6-10 6-10 6-4 6-2 6-3 6-5 6-2 6 6 6 6 6-3 6-2 6 1 6-3 6-3M1170 36l6-6 6-4 6-2 6-2 6-2 6 1M1224 14l6-5 6 0 6 1 6-3 6-2 6-3M0 7l6 6 6 6 6 4 6 4 6 5 6 4 6 4 6 3 6 3 6 4 6 4 6 4 6 5 6 5 6 3 6 4 6 4 6 4 6 3 6 3 6 1M186 125l6 4 6 4 6 3 6 4 6 4 6 3 6 2M252 158l6 4 6 3 6 0 6 2M378 181l6 1 6-3 6-2M456 181l6 1 6 3 6 3 6 0 6-3 6 1M948 139l6-5 6-3 6-3 6-2 6-2 6-1M1002 121l6-7 6-4 6 3M1236 13l6-3 6-2 6-3 6-3M0 7l6 4 6 4 6 4 6 5 6 4 6 5 6 5 6 4 6 4 6 3 6 4 6 3 6 5 6 5 6 3 6 2 6 2M456 157l6 2 6 0 6 1 6 1 6 1 6 0M576 170l6-1 6 0 6-2 6-1 6-1 6-1M666 171l6 0 6-1 6 0 6 0 6 3 6 1M726 172l6 3 6 2 6 1 6-3 6-2 6 0M1170 68l6-4 6-6M1242 7l6-3 6 1 6-3M0 7l6 2 6 3 6 4 6 2M102 47l6 0 6 3 6 2 6 1 6 4 6 2 6 2 6 1 6 3 6 1 6 3 6 4 6 4 6 3 6 3 6 3 6 3 6 2 6 3 6 6 6 4M456 160l6 0 6-1 6-1 6 1 6-2 6-1M510 154l6 0 6 0 6 0 6 2 6 1 6 0M576 161l6 2 6 1 6 2 6-2 6 1 6 2M666 171l6-1 6 1 6 1 6 0 6 3 6 2M1170 75l6-2 6 0 6-2 6-3 6-3 6 2 6-10 6-13 6-9 6-6 6-9 6-9 6-4 6-3 6-2M0 7l6 5 6 3 6 4 6 5 6 4 6 5 6 4 6 4 6 4 6 4 6 5 6 4 6 3 6 4 6 4 6 3 6 4 6 3 6 4 6 4 6 3M174 118l6 4 6 4 6 4 6 3 6 4 6 4 6 4 6 3 6 1M246 159l6 5 6 4 6 3 6 3 6 3 6 3 6 2 6 5 6 2 6 3 6 2 6 3 6 4 6 3 6 4 6 2 6 2 6-1 6 1 6 3 6 1 6-2 6 3 6 2 6-2 6 0 6 6 6 1 6 0 6 2 6 3 6 1 6-2 6-2 6-3 6 1 6 0 6 2 6-1 6-3 6 1 6 0 6 3 6 4 6 1 6 1 6 1 6 0 6 1 6-1 6-1 6 2 6-1 6-4 6 1M642 226l6 3 6 2 6-2 6 2 6 3 6 0 6 2 6 0 6 0 6 1 6-1 6 3 6 2 6-2 6 0 6-4 6-2 6-2 6-2 6-2 6-4 6-4 6-4M924 194l6-4 6-1 6 0 6-2 6-4M1050 136l6 0 6-2 6 1 6 0 6-2 6-2 6-4 6-3 6-2 6-9M1170 74l6-5 6-2 6-4 6-5 6-6 6-7 6-8M1236 15l6-3 6-2 6-8 6 0M0 7l6 3 6 5 6 4 6 0 6 2 6 1 6 2 6 4M378 202l6 3 6 0 6 1 6 4 6 1 6-1 6-1 6 0 6-1 6 2 6 4 6 2 6-1 6 0 6 2 6 0 6 2 6-1 6 0 6 0 6 2 6 0 6 3 6 2 6 3 6 0 6 1 6 2 6-2 6-4 6 0 6-2M1128 70l6-4 6-4M1200 24l6-4 6-3 6-1M1242 9l6-3 6-4 6 0M0 7l6 6 6 4 6 5 6 3 6 4 6 1 6 2M174 95l6 3 6 2 6 6M390 176l6 2 6 1 6 5 6 0M1236 15l6-5 6-2 6-4 6-2M0 7l6 2 6 5 6 3 6 5 6 4 6 2M54 42l6 7 6 4 6 3 6 4 6 4 6 3 6 4 6 4 6 3M456 184l6-2 6 0 6 5 6 6M516 198l6 2 6 1 6 2 6-2 6 2 6-3M948 141l6-6 6 1M1242 8l6 0 6-3 6-3M0 7l6 4 6 3 6 3 6 3 6 0M84 62l6 5 6 5 6 3 6 4 6 4 6 3 6 4M174 118l6 5 6 4 6 4 6 4 6 6 6 3 6 3 6 2 6 3 6 3 6 3 6 3 6 3 6 3 6 2 6 2 6 1 6-1M378 195l6 3 6 3 6-1 6 1 6 2 6 0 6-1 6 0 6 2 6-2 6-2 6-1 6 1 6 2 6-1 6-1 6 1 6 0 6 3 6 3 6-2M516 202l6 3 6 2 6 1 6 1 6 0 6 2M696 229l6 0 6-3 6-1 6-2 6-4M1032 161l6 0 6-5 6-4 6-3 6-4 6-6 6-5 6-4 6-4 6-7M1236 16l6-4 6-4 6-3 6-3M0 7l6 5 6 4 6 5 6 5 6 4 6 4 6 5 6 4 6 3 6 4 6 5 6 4 6 4 6 4 6 3 6 4 6 3 6 4 6 4 6 5 6 4 6 4 6 4 6 4 6 3 6 4 6 4 6 3 6 3 6 3 6 1 6 3 6 0M378 189l6 0 6 2 6-1 6 1 6 1 6 1 6 2 6 1 6 0 6-2 6 1 6-2M480 200l6 2 6 0 6 4 6-1 6-3 6 2 6 2 6 2 6 0 6 2 6 2 6 2M618 233l6 2 6 1 6 1 6 0 6 3 6 2 6 0 6 1 6 2 6 1 6 3 6 0 6 1 6 0 6 2 6 1 6-1 6-1 6-3 6-2 6-1 6-2 6 0 6 3 6 0 6-3 6-1 6-1 6 0 6-2 6 0 6-2 6-2 6-3 6 0 6-2 6-2 6-2 6-2 6-3 6-2 6-2 6-4 6-2 6-2 6-2 6-2M924 190l6-2 6-3 6-5M1032 145l6-1 6-3 6-7 6-5 6-1 6-2 6-4M1170 71l6-3 6-5 6-5M1200 47l6-4 6-6M1242 9l6-4 6-2 6-1M0 7l6 3 6 2 6 3 6 3M54 40l6 8 6 4 6 4 6 4 6 4 6 3 6 4 6 4 6 2M174 94l6 5 6 6M378 196l6-2 6 3 6 3 6 4 6 1 6 3 6 2 6 2 6 2 6-2 6 1 6 2 6 0 6 0 6 1 6 0 6-2 6-2 6-1 6-1 6-2 6-2 6 1 6 4 6 2 6-2 6-3 6 2 6 1M864 200l6 3 6-1 6 0 6 4 6-1 6-1M924 188l6-1 6-3 6-2M1038 139l6 0 6-2 6-1 6-5 6-3 6-1 6-5M1236 14l6-1 6-3 6-6 6-2M0 7l6 5 6 5 6 4 6 2 6 2 6 3 6 5 6 2M174 90l6 2 6 5 6 6 6 3M456 172l6 1 6 3 6 3 6 2 6 1 6 1M666 176l6 2 6 1 6 1 6 2 6-2 6-1M1242 7l6-3 6-1 6-1M0 7l6 3 6 3 6 6 6 4 6 6 6 5 6 4 6 4 6 4 6 3 6 4 6 5 6 3 6 3 6 3 6 4 6 1M174 100l6 0 6 3 6 4M456 157l6 1 6 0 6 0 6-1 6 0 6 2M510 161l6-1 6 1M576 172l6-2 6 2 6 1 6 0 6 1 6 1M666 185l6-2 6-2 6-1 6-2 6 0 6 4M726 176l6 0 6 2 6-2 6-3 6-1 6 0 6 1 6-3 6-2 6-2 6-1 6-1 6 0 6-3 6-2 6-2 6-3 6-5 6-2 6 2 6-1 6 0M876 146l6-6 6 1 6 1 6 1 6-3 6 0 6-1 6-2 6-3 6-5 6 0 6-7 6 0 6-3 6-1 6-2 6 1 6 1 6 1 6-1 6-4 6-4 6-7 6-4 6 1 6-2 6-2 6-4 6 0 6 1M1074 90l6-3 6 1 6-2 6-6 6-4M1230 25l6 0 6-6 6-7 6-4 6-6M0 7l6 6 6 3 6 3 6 3 6 6 6 5 6 4 6 4 6 3 6 4 6 3 6 5 6 4 6 4 6 4 6 4 6 4 6 1 6 5 6 5 6 3M258 158l6 4 6 2 6 3M324 189l6 4 6 4M354 204l6 2 6 0 6 5 6 4 6 0 6 0 6 0 6 3 6 1 6 4 6 5 6 2 6 1 6-2 6 3 6-2 6 0 6 1 6 0 6-1 6 3 6 0 6 0 6 1 6 1 6 1 6 1 6 1 6 1 6 2 6 0 6 0 6-1 6-1 6 2 6 3 6-1M600 245l6-3 6 2 6-1 6-4 6 0 6-1 6-1 6 0 6 1 6-1 6-2 6 2 6-1 6-2 6-4 6-1 6 2 6 5 6 1 6 1 6 0 6 1 6 1 6-2 6 0 6 3 6-1 6 1 6 1 6 3 6-1 6 1 6 1 6 1 6-1 6-2 6-3 6-3 6-2 6-1 6-3 6-3 6-3 6-1 6-2 6 0 6 0 6-3 6 0 6 0 6-2 6-1 6-3 6-2 6 3 6-1 6-1 6 1 6-1 6-2 6 0 6-1 6-3 6 0 6-2 6-7 6-1 6-5 6-6 6-1 6-2 6-2 6-2 6-4 6-9 6-5 6-7 6-4 6-4 6-5 6-1 6-1 6-5 6 1 6-4 6-5 6-3 6 1 6-2 6-5 6-6 6-4 6-4 6-5 6-9 6-12 6-7 6 0 6-8 6-8 6-7 6-5 6-5 6-7 6-4 6-8 6-8 6-5 6-1 6-2M0 7l6 4 6 5 6 3 6 6 6 4 6 4 6 4 6 4 6 4 6 4 6 4 6 3 6 1 6 7 6 3 6 4 6 4 6 2M180 121l6 5 6 4 6 4 6 4 6 5 6 4 6 3 6 2 6 3 6 3 6 3 6 3 6 3 6 3 6 5 6 4 6 2 6 3 6 4 6 5 6 4 6 2 6 1 6 3 6 2 6 2 6 1 6 1 6 2 6 1 6 0 6 0 6 2 6 0 6 0 6 1 6 0 6 1 6 4 6 2 6 1 6 0 6-1 6 1 6-1 6 1 6 1 6 1 6 3 6 2 6 0 6 3 6 1 6-1 6 1 6-1 6 0 6 0 6-2 6 2 6 0 6 1 6-3 6-1 6 1 6-2M1032 105l6-5 6 1 6-4 6-2 6-4 6-3 6-3 6-10 6-10 6-8 6-2 6 2 6-6 6-5 6-2 6 5 6 1 6-4 6 1M1206 24l6-4 6-2M1242 9l6-3 6-3 6-1M0 7l6 4 6 2 6 4 6 4 6 3 6 3M378 191l6-2 6 2 6 3 6-1 6 2 6 2M438 193l6 2 6 0 6 0M540 197l6 4 6 0M1230 22l6-3 6-4 6-4 6-3 6-6M0 7l6 2 6 2 6 3 6 3M174 76l6 4 6 6 6 1 6 3 6 3 6 3M468 189l6-2 6 1M1002 119l6-5 6-3 6-5 6-1M1038 103l6-4 6-3 6-2M1092 85l6-5 6-1M1206 24l6-5 6-4 6-4 6 1M1242 8l6-4 6-1 6-1M0 7l6 4 6 3 6 4 6 3 6 5 6 7 6 4 6 4 6 3 6 1 6 5 6 5 6 2M378 182l6 2 6 2 6-1 6 4 6 3 6 3 6 5 6 3 6-1 6 0 6 0 6 4 6 1 6-1 6 0 6 2 6 2 6 2 6 0 6 5 6 2 6 4 6-1 6 1 6 4 6-2 6 2 6 0 6 2 6 1 6 1 6-2 6-1M696 223l6-1 6 0 6-2M846 200l6 3 6 3 6 0 6 2 6 0 6 0 6 0 6-1 6 0M924 198l6-2 6-2 6-3 6-1 6-2 6-1 6 0 6-3M996 175l6 0 6 0 6-4 6-2 6-2 6-3 6-2 6-6 6-7 6-5 6-4 6 0 6-3 6-4 6-3 6-5 6-3 6-2 6-2M1146 103l6-4 6-7 6-2 6 0 6-5 6-6 6-7 6-6 6-9 6-7 6-9 6-9 6-4 6-1 6-3 6-6 6-6 6-5 6-5M0 7l6 6 6 4 6 3 6 6 6 4 6 4 6 4 6 4 6 3 6 4 6 4 6 3 6 0M456 159l6 0 6 1 6 1 6-1 6 2 6 1M576 179l6-1 6 0 6 1 6 2 6-3 6 2M666 185l6-1 6 1 6-1 6-2 6 1 6-1M732 178l6-3 6-4 6 0 6-2 6-1 6-3 6 0 6-3 6-2 6-3 6-4 6-2 6-2 6-2 6-2 6-5 6-2 6-1 6 0 6-2 6-4 6-4 6 1 6-4 6-1 6 0 6 2 6 1 6-1 6-1 6 0 6-4 6 3 6 1 6-1 6 3 6-9 6 2 6 1 6 2 6 0 6 2M1236 13l6-2 6-4 6-1 6-4M0 7l6 5 6 5 6 4 6 4 6 5 6 3 6 4 6 4 6 5 6 4 6 4 6 4 6 4 6 3 6 4 6 3 6 3 6 3 6 4 6 4 6 3M264 160l6 3 6 2M456 175l6 3 6 1 6 0 6 2 6 0 6 0M594 184l6-3 6 0 6-3M666 170l6-1 6-3 6-3 6 0 6-2 6-1 6-2 6 0 6-2 6 0 6-2 6-1 6-2 6-2 6-1 6 0 6 0 6 0 6 0 6-1 6-1 6 0 6-1 6-3 6 0 6 0 6 2 6-1 6 3 6 3 6 0 6-3M948 137l6-3 6 0M1002 118l6-5 6-2 6-1 6-5 6-8 6-3 6-4 6-6 6-2 6-5 6-3 6 1 6-3 6 3 6-1 6-1 6 5M1236 15l6-2 6-3 6-4 6-4M0 7l6 5 6 4 6 2 6 6 6 5 6 4 6 1 6 2M174 93l6 2 6 0 6 4 6 2 6 2 6 1M240 108l6 1 6 1 6 0 6 0 6 3 6 2 6 1M342 126l6 1 6 2 6 1 6 2 6 2 6 3 6 1 6 1 6 2 6 1 6 2 6 1 6 1 6 2M456 151l6 3 6 2 6 4 6 3 6 2 6 3M576 178l6 4 6 5M1032 148l6-1 6 0 6 0 6-1 6-3 6-2 6-4 6-2 6-3 6-2 6-2 6-1 6 0 6-2 6-5 6-6 6-8M1152 94l6 0 6-10 6-6 6-6 6-5 6-4 6-7 6-6 6-3 6-5 6-6 6-5 6-6 6-3 6-5 6-6 6-5 6-4M0 7l6 6 6 5 6 4 6 3 6 4 6 4 6 5 6 3 6 4 6 4 6 4 6 3 6 4 6 4 6 5 6 3 6 3 6 3M396 173l6 5 6 5 6 1M432 193l6 2 6 3 6 4 6 3 6 3 6 1 6-1 6 1 6 2 6 1 6 0 6 1 6 3 6 1 6-1 6 1 6-1 6 1 6 3 6-1M1170 70l6-4 6-5M1200 49l6-4 6-5 6-4M1236 17l6-4 6-6 6-4 6-1M0 7l6 3 6 2 6 2 6 1 6 1 6 4 6 3 6 1 6 3 6 1 6 2 6 1 6 3 6 2 6 1 6 5 6 3 6 3 6 2 6 5 6 6M174 75l6 2 6 4 6 2 6 2 6 2 6 1 6 3 6 2 6 2 6 1 6 1 6 2 6 3 6 2 6 3 6 2 6 0 6 3 6 2 6 1 6 3M456 163l6 3 6 2 6 1 6 0 6 5 6 5M534 198l6 1 6-3M846 207l6-1 6-3 6 1 6-1 6-4 6-2 6 1 6-3M1032 147l6-1 6-1 6 2 6 0 6 0 6-2 6-2 6-3 6-5 6 0 6-3 6-1 6-3 6-2 6-2 6-4 6-2 6-5 6 0 6-5 6-6 6-4 6-8 6-5 6-9 6-7 6-6 6-8 6-2 6-3 6-7 6-8 6-10 6-4 6-5 6-4 6-5 6-5M0 7l6 6 6 5 6 5 6 3 6 4 6 5 6 4 6 4 6 5 6 3 6 3 6 5 6 3 6 5 6 4 6 2 6 4 6 3 6 4 6 3 6 4 6 4 6 5 6 4 6 4 6 3 6 4 6 3 6 2 6 3 6 3 6 3 6 3M264 158l6 4 6 1M378 179l6 2 6 1 6 2 6-2 6-2 6 4M456 183l6 1 6 0 6 3 6 3M690 186l6-5 6-1M744 177l6-1 6-2 6-1M1242 6l6 0 6-2 6-2M0 7l6 6 6 4 6 5 6 4 6 4 6 4 6 5 6 5 6 4 6 3 6 5 6 4 6 3 6 3 6 4 6 5 6 3 6 3 6 5 6 3 6 3 6 5 6 4 6 3 6 3 6 4 6 3 6 4 6 4 6 5 6 3 6 4 6 2 6 3 6 2 6 3 6 3 6 4 6 2M246 159l6 3 6 4 6 4 6 3 6 4 6 2 6 3 6 2 6 1M312 188l6 2 6 1 6 2 6 0M378 202l6 1 6 0 6 3 6 1 6 1 6 2 6-1 6 0 6-3 6 1 6 1 6-1 6 2 6 0 6 1 6 1 6 1 6 2 6 2 6 2 6 3 6 0 6 2 6 1 6-1 6 0 6-1 6-1 6-2M1242 6l6-2 6-2 6 0M0 7l6 4 6 3 6 4 6 3 6 2M174 85l6 1 6 1 6 3 6 2 6 0 6 3 6 2 6 4 6 1 6 0 6 1 6 1 6 2 6 0 6 0 6 3 6 1 6 1 6 4 6 2 6 1 6 0 6 1 6 3M342 128l6 3 6 1 6 2 6 1 6 2 6 1 6 1 6 1 6 0 6-2 6-1 6-1 6-1 6 0 6-1 6 0 6-1 6 1 6 1 6-1 6 2 6 1 6-1 6 1 6 2 6 2 6 0 6 2 6 2 6 5 6 5 6 2 6 2 6 1M576 163l6-1 6 0 6-2 6-1 6 0 6 1M648 159l6 0 6 0 6-1 6-1 6 0 6 0 6 0 6-2 6 2 6 2 6 0 6 0 6-2 6 0 6-1 6-2 6-2 6-1 6-2 6 0 6-2 6-1 6-1 6-3 6-2 6-4 6-4 6-2 6-1 6-2 6-1 6-3 6-1 6-1 6-1 6-3 6-2 6-2 6-2 6-4 6 1 6 2 6-4 6 0 6-2 6 0 6 0 6-1 6-2 6 3 6-4 6-1 6-1 6-1 6 0 6 4 6 9 6 4 6-2 6 1 6-1M1206 27l6-7 6-3M1242 6l6-1 6-1 6-2M0 7l6 3 6 2 6 2 6 3 6 0 6 3 6 3 6 4 6 4M174 73l6 0 6 2 6 3 6 5 6 3 6 2 6 1 6 2 6 4 6 1 6 1 6 4 6 3 6 1 6 1 6-1 6 1 6 2 6 4 6 2 6 1 6 2 6 2 6 3M342 127l6 3 6 3 6 3M456 154l6 0 6 0 6-1 6-1 6-1 6-3 6 1 6 3 6 2 6-1 6 0 6 0 6 1 6 1 6 0 6 0 6 1 6 0 6 2 6 2 6-1 6 2 6 1 6-1 6 1 6 1M648 164l6-1 6 0 6 0 6 0 6 1 6-1 6 0 6 0 6 0 6-1 6-2 6 0 6-1 6 1 6 3 6-2 6 0 6-1 6-1 6 0 6 0 6-2 6-3 6 0 6-1 6-1 6-2 6-2 6-2 6-1 6-1 6-2 6 0 6-1 6-2 6-1 6 1 6 0 6 3 6 1M936 141l6-5 6-2 6-4 6 2 6-4 6-2 6-4 6-4 6-5 6-7 6-6 6-3 6-3 6-1 6-2 6-5 6-1 6-3 6 2 6-1 6 0 6 1 6-1 6 6M1236 17l6-5 6-3 6-6 6-1M0 7l6 2 6 1 6 1 6 3 6 3 6-1 6 3 6 3 6 3 6 4 6 5 6 1 6 5M174 84l6 3 6 4 6 4 6 6 6 1 6 2M378 185l6-3 6-1 6 2 6 0 6 1 6 1M474 199l6 3 6-1 6 0M510 204l6 1 6-1 6-1 6 1 6 3 6 4 6-1M1242 8l6-2 6-3 6-1M0 7l6 3 6 5 6 4 6 4 6 5 6 2 6 1M174 85l6 3 6 4 6 3 6 4 6 5M378 187l6 2 6 5 6 4 6 3 6 2 6-1 6 1 6 2 6 4 6 3 6 0 6 0 6 2 6 2 6 1 6 0 6 3 6-1 6 0 6 3 6 0 6-2 6 5 6 1 6-2 6 1 6 1 6-2 6-1M1170 68l6-4 6-4M1200 45l6-6 6-4M1236 15l6-3 6-4 6-2 6-4M0 7l6 6 6 4 6 5 6 4 6 5 6 5 6 4 6 5 6 5 6 4 6 4 6 4 6 4 6 3 6 4 6 4 6 2 6 3 6 3 6 4 6 3M174 118l6 4 6 4 6 5 6 4 6 3 6 2 6 4 6 3 6 2M258 161l6 3 6 3 6 1M312 189l6 1 6 2 6 1 6-1M378 198l6 4 6 3 6 2 6 4 6-2 6 2 6 2 6 4 6 1 6 2 6 0 6 2 6 0 6 1 6 4 6 2 6 2 6 0 6 3 6 3 6 0 6 1 6 0 6 0 6 1 6 2 6 1 6 3 6 2 6-2 6 1 6-3 6-1M600 243l6 3 6-2 6 0 6-1 6 2 6 3 6-1 6 1 6 1 6 0 6 1 6 0 6 0 6-1 6 2 6 0 6-3 6 1 6 1 6 0 6 2 6 0 6-1 6 0 6 0 6-1 6 0 6-4 6-1 6 0 6-3 6-1 6-2 6 0 6-1 6-1 6-1 6-1 6-2 6-2 6-3 6-1 6-4 6-1 6-5 6-1 6-2 6-2 6-2 6 0 6-1 6-1 6-3 6 1 6-3 6-4 6-4 6-4 6-3 6-5 6 2 6-2M996 174l6-3 6 0 6 1 6-1 6-1 6-3 6-2 6-1 6-7 6-3 6-2 6-2 6-4 6-3 6-2 6-2 6-5 6-3 6-6 6-2 6 1 6-2 6-1 6-1 6-6 6-3 6-8 6-6 6-10 6-1 6-1 6-1 6-7 6-9 6-8 6-7 6-5 6-6 6-7 6-6 6-10 6-8 6-3 6-6M0 7l6 4 6 2 6 5 6 4 6 3 6 0M60 43l6 8 6 5 6 5 6 3 6 4 6 3 6 4 6 4 6 2M456 154l6-1 6 1 6 0 6 2 6 2 6 1M576 169l6 1 6 0 6-1 6 1 6 1 6-2M666 173l6-2 6 0 6 0 6-1 6-3 6-1 6-2 6-2 6-1 6-2 6-2 6-1 6-1 6 0 6 1 6 1 6 1 6 1 6 1 6 0 6 0 6-1 6-2 6 0 6-1 6-4 6-2 6 0 6-2 6-2 6 1 6-3 6 0 6 2 6-3 6-2 6 1 6-1 6-1 6 1 6 0M924 138l6-3 6 0 6-4 6 1 6 2 6 1M1236 16l6-3 6-3 6-5 6-3M0 7l6 5 6 5 6 4 6 4 6 5 6 4 6 4 6 5 6 4 6 4 6 4 6 4 6 5 6 4 6 4 6 5 6 4 6 4 6 5 6 3 6 4 6 3 6 3 6 4 6 2 6 3 6 4 6 4 6 4 6 4 6 4 6 3 6 4 6 4 6 3 6 4 6 5 6 3 6 3 6 4 6 5 6 2 6 4 6 3 6 2 6 0 6 2 6 3 6 2 6 3 6 1 6 1 6 1 6 2 6 2 6 1 6 3 6 2 6 1 6 2 6 2 6 1 6 5 6 3 6 4 6 4 6 2 6 6 6 3 6 2 6 2 6 1 6 4 6-1 6-2 6-2 6 1 6 1 6-1 6 0 6-2 6 0 6 0 6 0 6 1 6 1 6 2 6 0 6 3 6 2 6 2 6 2 6-1 6 0 6 0 6 1 6 0 6 0 6 1 6-1 6-2 6 0 6 0 6-3 6 1 6 1 6 0 6-1 6 1 6 2 6 1 6-2 6-1 6 0 6 1 6-4 6 1 6-1 6-1 6-1 6-4 6-1 6 0 6 0 6-4 6 0 6-2 6-6 6-3 6-2 6-5 6-3M864 200l6 0 6 0 6 1 6 0 6 0 6 0M924 189l6-5 6-5M1032 148l6-3 6-3 6-3 6-1 6 0 6-3 6-3 6 0 6-1 6-2 6-4 6-5 6 0 6-2 6-5 6 0 6 0 6-6M1152 96l6 0 6-2 6-8 6 1 6-7 6-2 6-8 6-9 6-8 6-5 6-9 6-7 6-7 6-4 6-3 6-5 6-8 6-3M0 7l6 2 6 3 6 1 6 2 6 2 6 2 6 3 6 3 6 3 6 3 6 2 6 3 6 2M174 79l6 2 6 3 6 4 6 2 6 0 6-1 6 1 6 2 6 3 6 2 6 3 6 4 6 2 6 5 6 2 6 3M456 170l6 1 6 0 6 0 6 1 6 3 6 3M666 186l6-3 6-3 6-2 6-1 6 1 6-3M726 175l6-1 6 1 6-3 6-2 6 3 6 0M786 173l6-3 6-2 6 0M828 162l6-3 6 0 6-3 6 0 6 1M966 131l6-6 6-2 6-2 6-2 6-2 6-4 6-9 6-3 6 4 6-4 6 1 6 1 6-3 6-2 6-2M1200 53l6-4 6-2 6-9 6-6 6-3 6-4 6-8 6-5 6-4 6-6M0 7l6 3 6 4 6 4 6 1 6 1M174 86l6 1 6 1 6 4 6 6 6 5 6 2M378 178l6 4 6 5 6 3 6 3 6 3 6 2 6 0 6 2 6 1 6-1 6 3 6 3 6 2 6 3 6 2 6 3 6 6 6 2 6 0 6 1 6-1 6-1 6 4 6 3 6 3 6 0 6 1 6 0 6 1 6 1 6 0 6-2 6-4M864 198l6 0 6-2M924 186l6-1 6-2M1032 147l6-4 6-4 6-3 6-3 6-3 6-3 6-4M1242 6l6-2 6-1 6-1M0 7l6 6 6 5 6 5 6 5 6 4 6 4 6 5 6 4 6 4 6 5 6 4 6 3 6 4 6 3 6 3 6 4 6 3 6 3 6 4 6 3 6 3M174 100l6-1 6 5M198 104l6-1 6-1M258 114l6 1 6 2M456 168l6 0 6-2 6 3 6 3 6 3 6 0M576 165l6 2 6 3 6 2 6 2 6-1 6 0M1242 7l6-2 6-1 6-2M0 7l6 2 6 1 6 3 6 2 6 3 6 4M174 89l6 3 6 4 6 2 6 1 6 4 6-1 6-2 6 2 6 3M456 170l6-2 6 0 6 2 6 2 6 0 6 1M678 189l6-5 6-2 6 1 6-2M726 178l6-3 6 1 6 2M780 175l6-4 6-2 6-2 6-4 6-2 6 0 6 0 6-2 6-2 6-4 6-4 6-2 6 0 6-3 6 1 6 1M1230 24l6-5 6-3 6-5 6-6 6-3M0 7l6 4 6 4 6 0 6 2M174 91l6 2 6 2 6 2 6 0 6 6 6 3M456 155l6 3 6 1 6 1 6 2 6 2 6 4M726 176l6-1 6-4 6-2 6-2 6-4 6-2 6 0 6 0 6-2 6-3 6-2 6-4 6-2 6 1 6 0 6-1 6 2 6-3 6-2 6-6 6-2 6 1 6-5 6-2 6-2 6-5 6-3 6-2 6-1 6-3 6-2 6 1 6-1 6-1 6 4 6-1 6-1 6-2 6-1 6-2 6-8 6-10 6-3 6-1 6-4 6-2 6-4 6-2 6-3 6-3 6-1 6 0 6 2 6 2 6-3 6-1 6 3 6 2 6 9 6 2 6 4M1206 25l6-5 6-4 6-2 6-5 6-1 6 0 6-1 6-4 6-1M0 7l6 4 6 3 6 4 6 6 6 3 6 3 6 4 6 3M174 93l6 5 6 3 6 2 6 2M456 153l6 1 6 0 6 1 6-1 6-2 6-1 6-1 6 0 6 1 6 0 6 1 6-2 6 0 6 1 6 0 6 1 6 0 6 1 6 2 6 1 6 0 6 1 6 1 6 0 6-2 6-1 6 0 6-1 6-1 6-1 6-2 6-1 6 0 6 0 6 0 6 1 6-1 6-1 6 0 6 1 6 2 6 0 6 2 6 1 6-1 6 0 6 0 6-1 6-3 6-1 6 0 6-1 6-1 6 0 6 0 6-1 6-2 6-2 6 0 6-2 6 1 6-1 6-1 6 0 6-4 6 3 6-2 6-4 6-1 6-5 6 0 6-4 6-2 6 0 6-2 6-3 6-3 6-4 6-1 6-1 6-2 6 1 6 0 6-6 6 1 6 2 6 3 6 1 6 0 6 2 6-3 6-4 6-3 6-1 6-1 6 0 6 0 6-4 6 7 6-2M1170 67l6-4 6-6M1200 45l6-4 6-7M1236 17l6-3 6-5 6-2 6-5M0 7l6 2 6 3 6 2 6 3M456 160l6 1 6-1 6 1 6 2 6 2 6 1M576 168l6 1 6 1 6 0 6-1 6-2 6 1M648 163l6 0 6 1 6 0 6 1 6-3 6-2 6 1 6 1 6 1 6 1 6-1 6-1 6-1 6-1 6-1 6 1 6-2 6-2 6-1 6-1 6 1 6 0 6-2 6-2 6-1 6 0 6 2 6 2 6-1 6-1 6-2 6 1 6 1 6 2 6 2M1170 68l6-3 6-4M1200 49l6-2 6-6 6-6M1242 7l6-2 6 0 6-3M0 7l6 4 6 6 6 5 6 3 6 5 6 3 6 4 6 4 6 5 6 5 6 4 6 3 6 4 6 3 6 4 6 4 6 4 6 3 6 3 6 3 6 2M396 176l6 2 6 4 6 3M456 198l6 5 6 5 6-1 6 1 6 0 6 2 6 0 6 1 6-1 6 1 6 1 6 1 6 5 6 1 6 0 6 0M1236 15l6-2 6-3 6-4 6-4M0 7l6 4 6 4 6 6 6 5 6 4 6 4 6 5 6 4 6 4 6 3 6 5 6 3 6 2 6 5 6 4 6 4 6 3 6 4 6 4 6 3 6 2M378 195l6 5 6 1 6 4 6 0 6 3 6 3 6 3 6 0 6 1 6-1 6-2 6 1 6 2 6 2 6 1 6-1 6-2 6-4 6-4 6 2 6-3M516 202l6 1 6-4 6-1M750 178l6-3 6 0 6-5 6-2 6 0 6 3 6-2 6-1 6 2M1032 148l6-3 6-4 6-5 6-2 6-5 6-3 6-7M1242 8l6-2 6-1 6-3M0 7l6 6 6 5 6 6 6 4 6 5 6 5 6 5 6 5 6 3 6 4 6 4 6 3 6 4 6 4 6 3 6 3 6 3 6 4 6 3 6 3 6 3M216 142l6 4 6 3M246 159l6 4 6 3 6 3 6 2 6 3 6 2M324 187l6 4 6 2M354 202l6 5 6 2 6 3 6 5 6 0 6 3 6 1 6 3 6-1 6 2 6 1 6-1 6 2 6 2 6 2 6 1 6 3 6 1 6 2 6 2 6-3 6-1 6 2 6-2 6 1 6 0 6 1 6-1 6 1 6 0 6 0 6-1 6 0 6-1 6 0 6-1 6-2M750 224l6 6 6 2 6 0 6-2 6 0 6-4 6-1 6-3 6-1 6-3 6 0 6-1 6-7M966 132l6-2 6-1M1242 7l6-1 6-2 6-2M0 7l6 6 6 5 6 4 6 4 6 4 6 3 6 5 6 3 6 3 6 1M174 101l6 1 6 2M1056 130l6-1 6-2 6-1 6-1M1200 46l6-5 6-5M1236 15l6-2 6-5 6-2 6-4M0 7l6 3 6 5 6 6 6 3 6 3 6 0M252 159l6 3 6 2 6 3 6 4 6 4M324 189l6 4 6 3M354 204l6 4 6 1 6 3 6 2 6 1 6 2 6 2 6 0 6 1 6 4 6 1 6 7 6 3 6 0 6-2 6-2 6-2 6 2 6 0 6 2 6 3 6 1 6 0 6-2 6 3 6-3 6-3 6 0 6-1 6 1 6-1 6-3 6-3 6-2M1170 75l6-3 6-7 6-7M1200 45l6-3 6-4 6-3 6-2 6-6 6-7 6-6 6-4 6-2 6-6M0 7l6 3 6 2 6 4 6 0 6 2 6 3 6 3 6 3 6 4M174 87l6 2 6 1 6 1 6 2 6 2 6 3M246 110l6-1 6 1 6 3 6 2 6 0 6 2M300 121l6-1 6 1M342 133l6 1 6 0 6 1 6 2M378 139l6 1 6 1M426 147l6-1 6 1M456 150l6 0 6 2 6 1 6 1 6 0 6-1M510 156l6 2 6 2 6 0 6 1M576 172l6 1 6 0 6 0 6-1 6 0 6 1M666 180l6 4 6 3M1236 12l6-1 6-2 6-4 6-3M0 7l6 3 6 2 6 2 6 2 6 2 6 4M60 32l6 2 6 4M174 97l6 1 6 3 6 5M456 159l6 0 6 1 6-1 6-1 6-1 6 0M576 167l6-1 6 0 6 0 6-2 6-2 6-4 6 0 6 0 6-1 6 0 6 0 6 0 6 0 6-1 6-1 6 3 6 2 6-1 6 0 6 0 6 0 6 0 6 1 6 0 6 0 6-1 6-1 6-2 6-1 6-1 6 0 6 0 6 1 6 0 6 0 6 1 6 0 6-2 6-1 6-3 6-1 6 0 6 0 6-1 6 0 6-2 6 2M870 146l6-3 6-4 6-3 6-2 6-1 6-3 6-2 6-1 6-4 6-3 6 0 6-4 6-2 6-7 6-4 6 2 6-5 6-4 6-3 6 2 6-1 6-3 6-3 6-6 6-3 6-1 6-2 6-3 6 1 6-4 6-1 6-5 6-4 6-6 6 2 6-2 6 0 6-2 6-3 6-2 6 0 6 0 6 0 6-2 6 2 6 1M1170 38l6-5 6-4 6-7 6-5 6-5 6-3 6-3 6-4 6 2 6 0 6-1 6 0 6 1 6 2 6-4M0 7l6 2 6 3 6 3 6 2M42 25l6 0 6 1 6 2 6 3 6 4 6 4M114 55l6 0 6 1 6 2 6 2 6 1 6 0 6 2 6 3 6 3 6 6 6 4 6 1 6 2 6 0 6 4 6 5 6 4 6 4 6 2 6 1 6 2 6 3 6 2 6 3 6 3 6 4M342 132l6 2 6 0 6 1 6 1 6 1 6 2 6 1 6 2M456 159l6 2 6 1 6 1 6 2 6 1 6 2M576 180l6 0 6-2 6-1 6-3 6-2 6 0M666 165l6-1 6-2 6 0 6-1 6 1 6 0 6 0 6 1 6 0 6 2 6-2 6 1 6 1 6 0 6-1 6 0 6 0 6 1 6-1 6-1 6 0 6-2 6 1 6 0 6 1M996 175l6 0 6-4 6-1 6 0 6 0 6 0 6-3 6 1 6 0 6-1 6 0 6 1 6 0 6 1 6-3 6-1 6-3 6-1 6-2 6-4 6-2 6-6 6-6 6-5 6-4 6-4 6-7 6 1 6-7 6-11 6-10 6-5 6-8 6-7 6-6 6-10 6-5 6-7 6-7 6-12 6-8 6-8 6-7 6-2M0 7l6 6 6 5 6 5 6 4 6 3 6 4 6 4 6 4 6 4 6 5 6 4 6 4 6 4 6 4 6 2 6 3 6 3 6 2M456 186l6-4 6-1 6 0 6-4 6-2 6 1M576 179l6 0 6 2 6 3M1044 105l6-5 6-2M1068 89l6-6 6-3 6 0 6-3 6-3 6-5 6-2 6 0 6 3 6-3 6-6 6-7 6-3M1164 35l6-7 6-3 6-6 6-3 6-1 6-1 6 1 6 0 6-3 6-3 6-3 6 0 6-1 6-3 6 0 6 0M0 7l6 4 6 1 6 4 6 3 6 7 6 4 6 3 6 5 6 3M456 181l6 3 6-1 6-3 6 0 6-1 6 0M714 220l6 2 6 1 6-1M768 216l6 1 6-3M1200 47l6-8 6-6M1230 25l6-3 6-6 6-3 6-5 6-6M0 7l6 6 6 4 6 4 6 5 6 4 6 4 6 4 6 4 6 4 6 3 6 3 6 4 6 2M174 103l6-1 6 4M372 201l6 2 6 3 6 0 6 0 6 3 6-1 6 0 6-2 6 2 6-3 6-1 6 1 6-2 6 0 6-2 6-1 6 0 6 1 6 2 6 0 6-1M510 204l6 3 6 1 6 3 6 1 6 1 6 0 6 5M1236 14l6-3 6-5 6-3 6-1M0 7l6 6 6 5 6 5 6 6 6 4 6 3 6 6 6 4 6 4 6 5 6 5 6 4 6 3 6 4 6 4 6 3 6 3 6 4 6 4 6 4 6 3 6 4 6 2 6 4 6 3 6 3 6 4 6 3 6 3 6 4 6 4 6 4 6 5 6 4 6 3 6 3 6 3 6 5 6 4 6 4 6 3 6 3 6 3 6 2 6 1 6 3 6 3 6 2 6 3 6 1 6 1 6 3 6 1 6 4 6 3 6 2 6 4 6 2 6 2 6 2 6 2 6 0 6 2 6 1 6 1 6 0 6-1 6 1 6-3 6 0 6-1 6 4 6 1 6 2 6 3 6 0 6 2 6 1 6-1 6 2 6 0 6 0 6 0 6-1 6-3 6 2 6-1 6-1 6-3 6 2 6 0 6-2M696 221l6 0 6 6 6 2 6 0 6 2 6 2 6 0 6-1 6-2 6-1 6-2 6 2 6 0 6 0 6 0 6 0 6 1 6 1 6-1 6 1 6 1 6 1 6-1 6 0 6-1 6-1 6 2 6-1 6-1 6 0 6 2 6 0 6-2 6-2 6 0 6-1 6-1 6 2 6-3 6-4 6-3 6-3 6 1 6 1 6 1 6-3 6-1 6-1 6-5 6-4 6-6 6-5 6-5 6-7 6-3 6-3 6-6 6-2 6-3 6-7 6-4 6-4 6 1 6-4 6-4 6-3 6-5 6-3 6-5 6-7 6-4 6 1 6-5 6-1 6-4 6-9 6 2 6-3 6-6 6-8 6-6 6-1 6-5 6-8 6-5 6-5 6-7 6-1 6-12 6-11 6-7 6-7 6-1 6-4M0 7l6 4 6 2 6 4 6 2 6 6 6 4 6 3M96 70l6 5 6 4 6 3 6 4 6 4M198 132l6 3 6 2M258 160l6 3 6 1 6 3M318 189l6 1 6-1M360 202l6 2 6 1 6 2 6 5 6 4 6 0 6 1 6 2 6 1 6-3 6 1 6 1 6-1 6-1 6 0 6 3 6 3 6-3 6-4 6-3 6-1 6 1 6-2 6-2 6 0 6 1 6 1 6 2 6 0 6 2 6 4 6 1 6 3 6 3 6-1 6-3M762 173l6-3 6-3 6-1 6-3 6-3 6 0 6-2 6 0 6 2 6-1 6 0 6 0 6-2 6-1 6-1 6-2M948 137l6-2 6-2M1236 14l6-2 6-4 6-2 6-4M0 7l6 6 6 5 6 3 6 5 6 3 6 3 6 5 6 4 6 4 6 4 6 5 6 4 6 4 6 4 6 4 6 3 6 3 6 5 6 3 6 3 6 4M456 184l6-1 6-2 6-1 6 0 6 2 6-1M576 178l6 2 6-1 6-2 6 0 6-1 6-3M666 166l6 0 6 0 6-4 6 0 6 0 6 0 6-1 6 0 6 0 6 0 6-1 6 0 6-2 6-1 6 1 6 0 6-2 6-2 6-2 6-2 6-1 6-4 6-2 6 1 6-2 6-2 6-1 6-3 6 0 6 1 6-1 6-2 6-1 6-5 6 2 6 2 6-2 6 0 6-1 6 1 6 1 6 1 6-1 6-1 6-3 6 0 6 2 6 3 6-2 6-1 6-2 6-2 6-4 6-1 6-2 6-3 6-4 6-6 6-3 6-5 6-3 6-1 6-3 6-1 6-2 6 2M1074 89l6-5 6-4 6 1 6 0 6-5M1116 70l6-8 6-2 6-4 6-3 6-3M1194 24l6-4 6-4 6-3 6-2 6-3 6-3 6-1 6-1 6-1 6 0 6 0M0 7l6 5 6 4 6 0 6 2M174 117l6 5 6 4 6 3 6 4 6 3 6 3 6 4 6 4 6 4 6 2M252 161l6 1 6 2 6 4 6 3 6 4M378 198l6 1 6 3 6 3 6-1 6 1 6 2 6 0 6 1 6-1 6-1 6 2 6 3 6 2 6 0 6 3 6 3 6 3 6 0 6 3 6-2 6 2 6 3 6 1 6 0 6 0 6 0 6 2 6 1 6 1 6 3 6 1 6 1 6 1M600 239l6-1 6 2 6 2 6 3 6 2 6 1 6 1 6-1 6 2 6 2 6-1 6-1 6-2 6 0 6 1 6 1 6-1 6-1 6 1 6 1 6 0 6 1 6-1 6-1 6-2 6-2 6 0 6-6 6 0 6-3 6-1 6-2 6-1 6-2 6 0 6-1 6-3 6-3 6-1 6-1 6-3 6-1 6 1 6 3 6 0 6 1 6-2 6-4 6-4 6-1 6 0 6-1 6-2 6-4 6-1 6-3 6-6 6-5 6-7M996 171l6-5 6-5M1050 133l6-2 6-1 6 0 6-3 6-6M1170 67l6-3 6-4M1200 44l6-5 6-3M1230 22l6-4 6-4 6-3 6-4 6-5M0 7l6 3 6 2 6 4 6 5 6 4 6 2M192 105l6-2 6 0 6 3M378 187l6 0 6 5 6 2 6 4 6 4 6 2 6 0 6 1 6-4 6-1 6 3 6 3 6 2 6 2 6 3 6 0 6 2 6 0 6 5 6 1 6 1 6 1 6 0 6 0 6 0 6 2 6 1 6 2 6-1 6 4 6 0 6 2 6 0M600 236l6 0 6 3 6 1 6-1 6 0 6-1 6-1 6 1 6 1 6 2 6-1 6 1 6 2 6 1 6 0 6 2 6 1 6-1 6 0 6 2 6-3 6-1 6 0 6-1 6-1 6-2 6-1 6 0 6 0 6-1 6 0 6-1 6-1 6 2 6-3 6-1 6 0 6-1 6 1 6 0 6-2 6-1 6 0 6-1 6-3 6 0 6-2 6-2 6-1 6 1 6 1 6 3 6-2 6-2 6 2 6 0 6 1 6 0 6-1 6-2 6-1 6 1 6-6 6-3 6 2 6 0 6-4 6 1 6 1 6-3 6-7 6-2 6-5 6-7 6 3 6-2 6-3 6-4 6 1 6-3 6-5 6-4 6-5 6-3 6-7 6-3 6-10 6-3 6-9 6-3 6-9 6-11 6-9 6-3 6-12 6-8 6-3 6-2 6-4 6-7 6-6 6-3 6-9 6-8 6-6 6-4 6-6 6-6 6-8 6-4M0 7l6 6 6 5 6 4 6 4 6 3 6 2 6 3 6 1M174 95l6 4 6 7M378 190l6 2 6 2 6 5 6 2 6 4 6 2 6 2 6 5 6 1 6 2 6 0 6 2 6-1 6 0 6 1 6 1 6-1 6-3 6 1 6 3 6 3 6 0 6 2 6 2 6 2 6 3 6 1 6 3 6-1 6-1 6-2 6 1 6 1M618 233l6 2 6 1 6-1 6-4 6 2 6 1 6 3 6-1 6 1 6-1 6-1 6-2 6-2 6 1 6-1 6 0 6 0 6-1 6-1 6 1 6-1 6-2 6-1 6 0 6 1 6 1 6 0 6 0 6 1 6 1 6-1 6-2 6-2 6-1 6-1 6-2 6-2 6-2 6-1 6 0 6-1 6-1 6-2 6-1 6-3 6-2 6-3M918 203l6-2 6 0 6-1 6-1 6-4 6-4 6 1 6-3 6-5M996 171l6-3 6-2 6-5M1032 156l6 1 6-2 6-2 6 2 6-6 6-5 6-1 6-4 6-6 6-1 6-1 6-2 6-2 6-2 6-2 6-5 6-9M1158 91l6-2 6-6 6-6 6 1 6 0 6-10 6-4 6-6 6-5 6-7 6-6 6-6 6-4 6-9 6-8 6-6 6-5M0 7l6 2 6 3 6 3 6 2M174 97l6 3 6 4M456 171l6 2 6 6 6-1 6 0 6 0 6-4M828 207l6 2 6 0 6 3 6 0 6 0 6-3 6-4 6-1 6-2 6-3 6-1 6-1M924 190l6-5 6-5M996 167l6-2 6-2 6-5M1032 156l6 1 6 0 6 0 6-3 6-3 6-1 6 0 6-2 6-2 6-4 6 1 6-4 6-2 6-5 6-2 6-5 6-4 6-3 6-7 6-3 6-4 6-2 6-12 6-6 6-11 6-3 6-5 6-7 6-9 6-5 6-6 6-6 6-6 6-3 6-5 6-5 6-5 6-6M0 7l6 6 6 5 6 4 6 3 6 4 6 5 6 4 6 3 6 5 6 4 6 3 6 3 6 3 6 5 6 3 6 4 6 4 6 3 6 4 6 4 6 4M456 168l6 1 6 3 6 5 6 2 6 4 6 1M930 141l6-6 6-6 6-3 6-2 6-5 6 1 6-2 6-1 6-1 6-5 6-2 6 1 6-4 6 0 6 3 6 0M1044 102l6-3 6 2M1224 29l6-2 6-6 6-6 6-4 6-5 6-4M0 7l6 6 6 3 6 4 6 4 6 4 6 2 6 4 6 3M60 46l6 7 6 4 6 4 6 4 6 4 6 3 6 4 6 3 6 5 6 3 6 5M456 181l6 2 6 3 6 3M516 201l6-1 6-3M576 184l6-3 6-2 6 0 6 1 6 1 6 0M666 175l6 1 6 0 6 1 6 1 6 0 6 2M774 216l6 1 6 3 6 1 6-1M828 209l6 2 6 0 6-3 6-5 6-1 6-1 6-4 6 1 6-3M1170 73l6-9 6-6M1200 41l6-1 6-4M1242 7l6-2 6-3 6 0M0 7l6 6 6 4 6 3 6 4 6 5 6 4 6 4 6 2 6 4 6 5 6 5 6 4 6 4 6 5 6 4 6 5 6 4 6 5 6 4 6 3 6 4 6 4 6 4 6 4 6 5 6 3 6 2 6 3 6 4 6 3 6 4 6 3 6 4 6 2 6 3 6 2 6 2 6 2M258 160l6 2 6 2 6 3M324 189l6 2 6 5M354 205l6 5 6 0 6 3 6 0 6 1 6 0 6 1 6-1 6 0 6 2 6 1 6 2 6 0 6 0 6 0 6 3 6 1 6 2 6 0 6-1 6-2 6 4 6-1 6 2 6 3 6 3 6 0 6 1 6 1 6 1 6 1 6 3 6 3 6 0 6 0 6-2 6 2M600 238l6-3 6-3 6 2 6 1 6 1 6 3 6 2 6-2 6 0 6-1 6-1 6 0 6-4M696 228l6-1 6-4 6-3M1200 43l6-3 6-5M1236 15l6-4 6-3 6-4 6-2M0 7l6 3 6 3 6 5 6 2 6 1M114 80l6 6 6 4M456 183l6 4 6 1M1170 69l6-1 6-2 6-3 6-7 6-5 6-7 6-5 6-4 6-1 6-4 6-7 6-3 6-7 6-8 6-3M0 7l6 3 6 5 6 6 6 5 6 4 6 3 6 4 6 5 6 3 6 3 6 1 6 6 6 5 6 3M432 193l6 7 6 3 6 3 6 2 6 4 6 4 6 3 6-1 6 4 6 0 6 2 6 2 6 5 6 2 6 1 6 1 6-1 6 2 6-1 6 0 6 0 6 1 6 1 6 3M600 245l6 1 6 0 6-2 6 1 6-2 6 1 6 0 6-2 6-3 6 0 6 0 6-1 6-1 6 2 6 1 6 0 6 1 6 2 6 1 6 0 6 1 6 0 6-1 6-1 6-1 6-2 6 0 6-1 6-1 6-2 6 1 6 0 6 0 6-2 6-3 6 0 6-1 6-1 6-3 6-1 6-2 6-4 6-4 6-3 6-1 6-2 6-3 6-2 6-2 6-1M924 196l6-2 6-4 6-2 6-5M990 182l6 0 6-1 6-2 6-1 6-4 6-8 6-5 6-6 6-3 6-2 6-5 6-5 6-3 6-3 6-4 6-6 6-1 6-2 6-3M1170 76l6-5 6 1 6-3 6-9 6-5 6-9 6-3 6-6 6-4 6-3 6-7 6-8 6-7 6-2 6-4M0 7l6 6 6 5 6 4 6 4 6 3 6 1 6 0M174 96l6 2 6 1 6 5M456 182l6 4 6 5M522 198l6 3 6 3 6 1 6 2 6-1M1236 15l6-4 6-3 6-1 6-5M0 7l6 3 6 7 6 3 6 3 6 2 6 1M114 53l6 3 6 3M456 180l6 2 6 1 6-1 6 1 6 3 6 0M984 127l6-5 6-5 6-1 6-3 6-3 6-6 6-1 6-4 6-4 6-1 6-3 6-4 6-2 6-4 6 0 6-1 6-4 6-4 6 4 6 3M1242 5l6-2 6-1 6 0M0 7l6 3 6 4 6 5 6 5 6 5 6 4 6 4 6 4 6 4 6 5 6 5 6 4 6 4 6 4 6 4 6 4 6 4 6 3 6 3 6 4 6 3 6 4 6 4 6 4 6 3 6 3 6 3 6 3 6 2M198 131l6 5 6 3 6 3M258 158l6 4 6 2 6 2M378 188l6 4 6 1 6-1 6-4 6 0 6 2M492 199l6 6 6 3 6 1 6 0 6 2 6 0 6-3 6-1 6-1 6 0M666 185l6-1 6 2 6 0 6-3 6-4 6-1M1200 51l6-4 6-7 6-4 6-4 6-6 6-4 6-5 6-7 6-4 6-4M0 7l6 6 6 4 6 4 6 2 6 1 6 3 6 0 6 0 6 2M174 97l6 4 6 1 6 5M396 175l6 3 6-1M456 181l6-1 6-1 6 1 6 2 6 2 6 2M516 196l6 3 6 2 6 3 6-1 6 0 6 0M822 213l6-1 6 1 6 4 6-2 6 0 6 0 6 1 6 0 6-3 6-4 6-3 6-3 6 2M918 200l6 0 6-2 6-3 6 0 6 1 6-5 6-6 6-4M996 171l6-3 6-5 6-5M1032 149l6-4 6-5 6-5 6-1 6-1 6-5 6-6M1236 14l6-3 6-4 6-3 6-2M0 7l6 3 6 5 6 5 6 3 6 2 6 5 6 3 6 2M174 91l6-1 6 2 6 2 6 3 6 3 6 2M456 157l6 1 6 2 6 1 6 2 6 2 6-1M576 180l6 1 6 1 6 5M1200 42l6-3 6-3M1230 20l6-1 6-6 6-5 6-3 6-3M0 7l6 6 6 5 6 5 6 5 6 4 6 4 6 5 6 4 6 4 6 4 6 3 6 4 6 2 6 3 6 3 6 3 6 1M174 100l6 3 6 2M456 176l6 1 6 0 6 0 6 2 6 1 6 2M666 174l6 0 6 0 6 0 6 2 6 0 6 0M726 172l6-1 6-1 6 0 6 3 6 0 6 2M1206 21l6-2 6-5 6-4 6-2 6-2 6-1 6-1 6-1 6-1M0 7l6 3 6 2 6 2 6 2 6 3 6 2 6 1 6 3 6 2 6 3 6 3 6 0 6 2 6 5M138 62l6-1 6 1 6 4 6 2 6 1 6 0 6 2 6 1 6 1 6 4 6 0 6 1 6 3 6 4 6 4 6 2 6 0 6 0 6 0 6 3 6 2 6 2 6 4 6 2 6 0 6 1 6 2 6 2 6 3 6 3 6 3 6 2 6 2 6 2 6 2 6 2 6 2 6 1 6 3 6 2 6 0 6 0 6-1 6 0 6-1 6 1 6 2 6 0 6 1 6-1 6 0 6-1 6 3 6 2 6 0 6 0 6 0 6-1 6 1 6 2 6 1 6 2 6 2 6 4 6 0 6 2 6 2 6 0M558 156l6-1 6 1 6 1 6 0 6-1 6-1 6-1 6 0 6-2 6-3 6-2 6-1 6 1 6 0 6 1 6 0 6 0 6-1 6-1 6 0 6 1 6-1 6-1 6 0 6 0 6 1 6 0 6 0 6 0 6 0 6 0 6-1 6 0 6 0 6 0 6-1 6-3 6-4 6-5 6-2 6-2 6-1 6 1 6-5 6 0 6-4 6-4 6-3 6 0 6 3 6 2 6-3 6 1 6-3 6 4 6 2 6 1 6-1 6-1 6 1 6 3 6 1 6 1 6 3 6-2 6 0 6 0 6 1 6 1 6 2M1086 87l6-3 6-1 6 0M1122 68l6-3 6-4 6-5 6-2M1224 14l6-5 6-4 6-1 6 0 6-2 6 0M0 7l6 6 6 5 6 4 6 4 6 5 6 4 6 5 6 4 6 4 6 4 6 3 6 3 6 4 6 5 6 4 6 3 6 4 6 3 6 4 6 4 6 2M378 190l6 4 6 5 6 5 6 3 6-1 6 0 6 0 6 1 6 0 6 2 6 4 6 2 6 4 6 3 6 2 6 2 6 1 6 0 6 0 6 2 6 2 6 1 6-2 6-1 6 2 6 2 6 1 6-4 6 0 6 1 6 3 6 2 6-1M600 235l6-1 6-4 6-3 6 1 6-2M1056 129l6 0 6-4M1200 51l6-7 6-5 6-5M1236 16l6-4 6-3 6-3 6-4M0 7l6 5 6 5 6 3 6 4 6 2 6 7 6 5 6 4 6 3 6 4 6 4 6 2 6 3M102 74l6 5 6 3 6 4 6 4M456 170l6 1 6-1 6 1 6 1 6 0 6 4M786 174l6-4 6-3 6 1M1002 119l6-5 6-1M1038 102l6-7 6-5 6-4 6-10 6-7 6-5 6-5 6-8 6-2 6 1 6 2 6 2 6 3 6-1 6-5 6 1 6-3 6-6 6-6 6-2 6-1M1200 22l6-3 6-1 6-3M1236 14l6-2 6-1 6-4 6-5M0 7l6 2 6 3 6 2 6 3M174 93l6 1 6 3 6 6 6 3M378 201l6 4 6 3 6-1 6-2 6 2 6 1 6-2 6-1 6 0 6 1 6-1 6-1 6-1M510 206l6 3 6 1 6 6 6 3 6 0 6 2 6 2 6 2 6 2 6 2 6 1M600 238l6 0 6 0 6 1 6 1 6-2 6 0 6 1 6-1 6-1 6 0 6-2 6-1 6 4 6-1 6 1 6 0 6 1 6-1 6-2 6-4 6 0 6 1 6-2 6 1 6 1 6 0 6 1 6 1 6-1 6 1 6-3 6-1 6 0 6-3 6 0 6-1 6-1 6-3 6-2 6 0 6-1 6 1 6-3 6-3 6-1 6-2 6-1 6-1 6-2 6-2M924 198l6-2 6-3 6-4 6-2 6-1 6-4M1032 145l6 0 6-4 6-5 6-3 6-3 6-3 6-3M1236 17l6-7 6-2 6-1 6-5M0 7l6 6 6 4 6 5 6 4 6 3 6 4 6 4 6 4 6 4 6 3 6 3 6 0M174 90l6-1 6 1 6 2 6 0 6 3 6 2M456 166l6 1 6 3 6 0 6-2 6 1 6-2M576 168l6 0 6 0 6 0 6 1 6 0 6 0M666 172l6-2 6-1 6 0 6-1 6-1 6 1 6 1M726 169l6 2 6 2 6 4 6-2 6 1 6-1M792 172l6-2 6 1M834 162l6-5 6 2 6-2 6 1M1230 24l6-6 6-3 6-2 6-6 6-5M0 7l6 4 6 2 6 4 6 1M114 53l6 0 6 1 6 3 6 1 6 2 6-1 6-1 6 3 6 2 6 3 6 4 6 3 6-1 6 1 6 5 6 6 6 5 6 4 6 5 6 5 6 2 6 4 6 2M342 134l6 0 6 3M456 180l6-1 6 0 6 2 6 4 6 1 6 3M516 199l6 3 6 2 6-2 6 2 6 0 6-1M1050 133l6 1 6-1 6-4 6-1 6-3M1146 102l6 3 6-6 6-6 6 1 6-2 6-5 6-7 6-4 6-5 6-4 6-5 6-9 6-9 6-12 6-11 6-8 6-4 6-4 6-3M0 7l6 6 6 5 6 4 6 5 6 3 6 3 6 4 6 4 6 4 6 3 6 1M90 66l6 5 6 3M456 159l6 0 6 0 6 2 6 2 6 1 6-1M576 172l6-1 6 2 6 1 6 0 6 2 6 1M1200 43l6-3 6-7M1242 7l6 0 6-2 6-3M0 7l6 4 6 5 6 5 6 5 6 3 6 4 6 5 6 4 6 4 6 5 6 4 6 4 6 4 6 3 6 4 6 3 6 5 6 5 6 4 6 4 6 3 6 3 6 4 6 3 6 4 6 4 6 2 6 4 6 4 6 5 6 4 6 4 6 4 6 3 6 3 6 3 6 3 6 2 6 3 6 3 6 2 6 3 6 3 6 3 6 2 6 3 6 2 6 3 6 4 6 3 6 2 6 1 6-2M378 184l6 1 6 3 6 2 6 2 6 5 6 0 6 1 6 6 6 3 6 3 6 4 6 2 6 3 6-1 6 1 6 4 6 2 6 2 6 4 6 4 6-1 6 2 6 0 6 2 6 0 6 0 6 1 6 1 6 0 6 1 6-1 6 1 6-1M600 241l6 1 6 0 6 0 6 2 6 1 6 0 6-3 6-1 6 0 6-2 6-3 6-3 6-5M822 210l6 1 6-3 6-3 6-1 6 1 6-2 6 1 6-1 6 0 6-1 6-2 6-2 6-4M924 197l6-1 6-1 6-2 6-2 6-2 6-3 6-2M996 169l6-4 6-4M1236 12l6-1 6-3 6-3 6-3M0 7l6 6 6 4 6 2 6 1 6 0M84 40l6 0 6 0 6 1 6-1 6 0 6 2 6 1 6 5 6 4 6-1 6 5 6 2 6 4 6 5 6 4 6 2 6 3 6 0 6 0 6 3 6 2 6 2 6 4 6 3 6 0 6 1 6 3 6 2 6 0 6 3 6 3 6 3 6 3 6 1 6 0 6 1 6 3 6 5 6 3M342 131l6 3 6 2M456 154l6-1 6-1 6 1 6-1 6 1 6 1M510 158l6 2 6 0 6 1 6-2 6 2M576 158l6-1 6 1 6-2 6 0 6 3 6 0 6-1 6 1M648 162l6 1 6 0 6 1 6-1 6 0 6-1 6-1 6-1 6-1 6-3 6-2 6-1 6-1 6-4 6-2 6-1 6-1 6 0 6-2 6-1 6-2 6-3 6 0 6 1 6-1 6-3 6-2 6 0 6-1 6-1 6-2 6-3 6-1 6 0 6-1 6-1 6-1 6-3 6 1 6 1 6-1 6-1 6-5 6 1 6-2 6 0 6-2 6 2 6-2 6 1 6 1 6 1 6-3 6-2 6-4 6-6 6-7 6-7 6-5 6-3 6-3 6-7 6-3 6 0 6 5 6 1 6 3 6-1 6-8 6-9 6-1 6-7 6-4 6 3 6-1 6-2 6 5 6-3 6-1 6 0 6-1 6 0 6-2 6 0 6-3 6 1M1236 14l6-2 6-2 6-3 6-5M0 7l6 3 6 3 6 0 6 1 6 3 6 3 6 4 6 3 6 3M456 160l6 0 6 3 6-1 6 4 6 0 6 2M576 179l6 4 6 3M768 176l6-5 6 0 6 0 6-1 6 0 6-1M834 161l6-2 6 0M870 147l6-2 6-1 6 1 6-2 6-2 6-2 6-6 6-4 6-2 6-4 6 0 6-3 6 3 6-2 6-4 6 1 6 5 6-1 6-2 6 0 6-3 6-2 6-2 6 0M1224 28l6-2 6-5 6-5 6-3 6-5 6-6M0 7l6 3 6 5 6 5 6 2 6 3 6 3M456 179l6-2 6-3 6-3 6-1 6-2 6-1M576 165l6 1 6-1 6 0 6-1 6-1 6-1M660 164l6-1 6-1 6 2 6 0 6-3 6-1 6 0 6-1 6 0 6-1 6-3 6 1 6-2 6 0 6 0 6-2 6-1 6 0 6-1 6-1 6-3 6-2 6-3 6-1 6-2 6-4 6 0 6-4 6-7 6-5 6-4 6-2 6-4 6-2 6 2 6 2 6 3 6 1 6-3 6-3 6-4 6-8 6-8 6-5 6-2 6-1 6 1 6 2 6 0 6 3 6-2 6-2 6-3 6 1 6 7 6 3 6 5 6 0 6-4 6-1 6-1 6 0 6 1 6 1 6 4 6 2M1092 85l6-4 6-2M1128 69l6-8 6-2M1206 21l6-1 6-1M1242 7l6 1 6-4 6-2M0 7l6 5 6 3 6 3 6 5 6 2 6 6 6 6 6 5 6 3 6 5 6 3 6 5 6 4 6 5 6 4 6 4 6 4 6 3 6 2 6 4 6 3M258 161l6 3 6 4 6 1M378 197l6 4 6 3 6 3 6 2 6 1 6-1 6 1 6-3 6-3 6-1 6-2 6 2 6 2 6 1 6 2 6 3 6 0 6 1 6 0 6-2 6 0 6 1 6 2 6-1 6 4 6 3 6 0 6-1 6 2M606 233l6 2 6-3 6-1 6-5M1038 103l6-7 6-9 6-3 6-5 6-9 6-9 6-5 6-1 6-3 6-3 6-4 6-5 6-1 6-3 6-1 6 0 6-3 6 0 6 1 6 0 6 2M1236 15l6-3 6-5 6-2 6-3M0 7l6 4 6 6 6 4 6 4 6 4 6 4 6 6 6 3 6 3 6 3 6 4 6 3 6 4M90 65l6 6 6 4 6 0M378 183l6 2 6 3 6 2 6-3 6 0 6 2M456 180l6-4 6 1 6-1 6 4 6 0 6 4M600 184l6-3 6 1M1170 78l6 2 6-4 6-5 6-6 6-7 6-4 6-6 6-3 6-9 6-4 6-7 6-7 6-7 6-5 6-4"/>
</g>
<polyline fill="none" stroke="#ff0" stroke-width="5.6" points="163.5,702.1 173,707.8 182.4,713.4 191.8,718.8 201.3,724 210.7,728.9 220.2,733.6 229.6,738.1 239,742.6 248.5,746.9 257.9,750.9 267.3,754.3 276.8,757.4 286.2,760.2 295.6,762.8 305.1,765.3 314.5,767.7 323.9,770 333.4,772.3 342.8,774.5 352.2,776.4 361.7,778.1 371.1,779.6 380.5,781.3 390,782.8 399.4,784.3 408.9,785.7 418.3,786.7 427.7,787.4 437.2,787.9 446.6,788.1 456,788.2 465.5,788.2 474.9,788 484.3,787.8 493.8,787.3 503.2,786.8 512.6,786 522.1,785 531.5,783.8 540.9,782.5 550.4,781 559.8,779.5 569.2,777.7 578.7,775.8 588.1,773.8 597.6,771.6 607,769.2 616.4,766.5 625.9,763.6 635.3,760.5 644.7,757.2 654.2,753.8 663.6,750.2 673,746.3 682.5,742.3 691.9,738 701.3,733.5 710.8,728.7 720.2,723.4 729.6,717.6 739.1,711.3 748.5,704.6 757.9,697.6"/>
<polyline fill="none" stroke="#f00" stroke-width="6.6" stroke-miterlimit="5" points="145.3,690.5 146.8,690.7 148.3,691.2 149.8,692.9 151.3,695.3 152.8,696.2 154.3,696.9 155.8,697.6 157.3,699.8 158.8,701.9 160.3,701.9 161.8,701.2 163.3,701.9 164.8,705 166.3,705.2 167.8,703.7 169.3,705.1 170.8,704.9 172.3,705.7 173.8,706.4 175.3,706.7 176.8,708.3 178.3,708.6 179.8,708.6 181.3,709.9 182.8,711 184.3,709.5 185.8,710.7 187.3,710.8 188.8,711.9 190.3,711.6 191.8,713.1 193.3,713.8 194.8,713.9 196.3,713.3 197.8,713.8 199.3,713.5 200.8,713.2 202.3,714.7 203.8,714 205.3,716 206.8,716.4 208.3,714.1 209.8,715.7 211.3,715 212.8,716 214.3,716.4 215.8,715 217.3,716.6 218.8,717.4 220.3,719 221.8,718 223.3,719.7 224.8,718.9 226.3,719.7 227.8,719.7 229.3,722.1 230.8,722.3 232.3,724.4 233.8,723.7 235.3,723.9 236.8,724.2 238.3,723.2 239.8,723.5 241.3,725 242.8,724.1 244.3,724.5 245.8,724.6 247.3,725.4 248.8,725.2 250.3,725.7 251.8,726.6 253.3,727.1 254.8,726.8 256.3,728.7 257.8,727.6 259.3,727.4 260.8,727.4 262.3,729.6 263.8,729.2 265.3,729.4 266.8,730.1 268.3,732.4 269.8,732.4 271.3,733 272.8,735.6 274.3,734.8 275.8,734.8 277.3,734.8 278.8,734 280.3,733.8 281.8,735 283.3,733.9 284.8,733 286.3,732.3 287.8,733.7 289.3,734.2 290.8,735.2 292.3,735.3 293.8,735.7 295.3,736 296.8,736.6 298.3,737.8 299.8,738.1 301.3,739 302.8,741.3 304.3,741.2 305.8,739.7 307.3,742.6 308.8,742.7 310.3,742 311.8,743.9 313.3,744.3 314.8,744.4 316.3,745 317.8,745.4 319.3,747 320.8,749 322.3,748.8 323.8,749.7 325.3,751.7 326.8,749.9 328.3,751.1 329.8,751.3 331.3,751.1 332.8,751.4 334.3,752.7 335.8,753.8 337.3,753.6 338.8,754.4 340.3,755.5 341.8,755.8 343.3,756.7 344.8,756.9 346.3,757.2 347.8,758.8 349.3,758.5 350.8,758.2 352.3,758.9 353.8,757.9 355.3,758.7 356.8,760.4 358.3,761.2 359.8,762.8 361.3,762.3 362.8,761.3 364.3,764.5 365.8,765 367.3,763.6 368.8,765.7 370.3,765.5 371.8,764.3 373.3,766 374.8,767 376.3,769.9 377.8,769.3 379.3,770.2 380.8,771.2 382.3,772 383.8,772.4 385.3,773.9 386.8,775.4 388.3,775.8 389.8,775 391.3,774.9 392.8,776.3 394.3,776.4 395.8,776.9 397.3,776.5 398.8,780.1 400.3,780.2 401.8,777.7 403.3,778.1 404.8,778.1 406.3,775.5 407.8,777.3 409.3,778.7 410.8,780.7 412.3,781.4 413.8,782.2 415.3,781.2 416.8,781.9 418.3,781.6 419.8,778.3 421.3,777.5 422.8,781.1 424.3,779.3 425.8,779.6 427.3,780.7 428.8,781.9 430.3,783.2 431.8,782.7 433.3,780.7 434.8,780.8 436.3,780.1 437.8,780.8 439.3,778.8 440.8,776.5 442.3,776.2 443.8,779.2 445.3,778.8 446.8,777.8 448.3,779.4 449.8,780.9 451.3,782.6 452.8,781.3 454.3,782.6 455.8,783.3 457.3,782.4 458.8,782.7 460.3,784.6 461.8,784.4 463.3,783.1 464.8,781.8 466.3,781.6 467.8,780.8 469.3,780.7 470.8,780.1 472.3,780.9 473.8,781.2 475.3,784.1 476.8,782.9 478.3,784.4 479.8,785.4 481.3,784.9 482.8,786.4 484.3,784.6 485.8,787 487.3,789.2 488.8,787.7 490.3,789.2 491.8,792.4 493.3,791.8 494.8,790.6 496.3,790.6 497.8,790.7 499.3,792.9 500.8,794.1 502.3,794.6 503.8,795.2 505.3,796.7 506.8,799.1 508.3,799.7 509.8,800.8 511.3,801.2 512.8,801 514.3,802.1 515.8,803 517.3,802.3 518.8,800.8 520.3,799.2 521.8,799.9 523.3,799.9 524.8,800 526.3,800.1 527.8,800.8 529.3,801.1 530.8,801.9 532.3,802.1 533.8,802.8 535.3,802.8 536.8,802 538.3,802.2 539.8,803 541.3,802.8 542.8,803.7 544.3,804.7 545.8,803.5 547.3,802.1 548.8,804.4 550.3,804 551.8,804.5 553.3,803.7 554.8,807 556.3,807.8 557.8,807.9 559.3,808.5 560.8,809.7 562.3,810.1 563.8,810 565.3,809.2 566.8,811.1 568.3,810.5 569.8,810.4 571.3,810.4 572.8,807.9 574.3,809.5 575.8,809 577.3,808.7 578.8,808.7 580.3,807.6 581.8,808.7 583.3,807.6 584.8,807 586.3,806.8 587.8,807.5 589.3,808.2 590.8,807.1 592.3,805.9 593.8,807.8 595.3,806.4 596.8,807.9 598.3,807.5 599.8,807 601.3,807.1 602.8,808.3 604.3,809.2 605.8,808.7 607.3,809.7 608.8,811.2 610.3,809.8 611.8,808.8 613.3,808.9 614.8,808.3 616.3,808.3 617.8,807.8 619.3,806.7 620.8,807.6 622.3,804.7 623.8,804.5 625.3,807 626.8,806.5 628.3,805.4 629.8,804.6 631.3,805.1 632.8,803.7 634.3,802.4 635.8,800.4 637.3,800.4 638.8,800.5 640.3,801.2 641.8,801.9 643.3,802.3 644.8,801.9 646.3,802.7 647.8,800.8 649.3,801 650.8,802.8 652.3,801.4 653.8,802.2 655.3,803 656.8,803.9 658.3,804.1 659.8,802.8 661.3,804.1 662.8,805 664.3,798.7 665.8,794.6 667.3,790.2 668.8,787.1 670.3,786 671.8,783.5 673.3,780.9 674.8,779.3 676.3,778.4 677.8,777.4 679.3,776.3 680.8,775.1 682.3,772.6 683.8,771 685.3,769.1 686.8,766.8 688.3,764.6 689.8,763.1 691.3,762.6 692.8,761 694.3,759.7 695.8,756.2 697.3,754.1 698.8,755.3 700.3,754.7 701.8,754.6 703.3,753 704.8,751.4 706.3,750.1 707.8,747.8 709.3,748.5 710.8,746.7 712.3,746.5 713.8,745.8 715.3,745.2 716.8,745.2 718.3,743.5 719.8,742.6 721.3,741.9 722.8,741.9 724.3,743.6 725.8,742.2 727.3,743 728.8,741.2 730.3,739.2 731.8,737.3 733.3,733.8 734.8,732.7 736.3,732.1 737.8,728.4 739.3,726.4 740.8,723.8 742.3,722.5 743.8,719.4 745.3,720 746.8,718 748.3,715.7 749.8,717.4 751.3,716.5 752.8,715.2 754.3,714.2 755.8,711.9 757.3,709.6 758.8,708.1 760.3,706.3 761.8,704.6 763.3,704.7 764.8,704.7 766.3,704.3 767.8,702 769.3,698.9 770.8,694.4 772.3,690.8 773.8,688.1"/>
</g>
<path d="M145.3 517.4v-17.5M145.3 856.1v17.5M208.2 517.4v-9.5M208.2 856.1v9.5M271.1 517.4v-17.5M271.1 856.1v17.5M334 517.4v-9.5M334 856.1v9.5M396.9 517.4v-17.5M396.9 856.1v17.5M459.8 517.4v-9.5M459.8 856.1v9.5M522.7 517.4v-17.5M522.7 856.1v17.5M585.6 517.4v-9.5M585.6 856.1v9.5M648.5 517.4v-17.5M648.5 856.1v17.5M711.4 517.4v-9.5M711.4 856.1v9.5M774.3 517.4v-17.5M774.3 856.1v17.5M145.3 824h-9.5M774.3 824h9.5M145.3 778.25h-18M774.3 778.25h18M145.3 732.5h-9.5M774.3 732.5h9.5M145.3 686.75h-18M774.3 686.75h18M145.3 641h-9.5M774.3 641h9.5M145.3 595.25h-18M774.3 595.25h18M145.3 549.5h-9.5M774.3 549.5h9.5" stroke="#000" stroke-width="2" fill="none"/>
<rect x="145.3" y="517.4" width="629" height="338.7" fill="none" stroke="#000" stroke-width="5.2"/>
<path d="M141.8 517.4H777.8M141.8 856.1H777.8" stroke="#000" stroke-width="5.2" fill="none"/>
<text class="a" x="67.76" y="606.55">0.</text><path d="M100.98 606.55L100.98 588.07L96.23 591.46L96.23 588.92L101.2 585.5L103.68 585.5L103.68 606.55Z"/>
<text class="a" x="67.76" y="698.05">0.0</text>
<text class="a" x="50.74" y="789.55">–0.</text><path d="M100.98 789.55L100.98 771.07L96.23 774.46L96.23 771.92L101.2 768.5L103.68 768.5L103.68 789.55Z"/>
<text class="a" transform="translate(24.2 686.95) rotate(-90)" text-anchor="middle">excess/deficit eqs</text>
<text class="t2" x="164.5" y="566" text-anchor="start">Poisson + 60% hydrological forcing (strain)</text>
<text class="l" x="164.8" y="837.2">c)</text>
</g>
<g>
<clipPath id="c11"><rect x="846.7" y="517.4" width="629" height="338.7"/></clipPath>
<path d="M972.5 517.4V856.1M1098.3 517.4V856.1M1224.1 517.4V856.1M1349.9 517.4V856.1M846.7 778.25H1475.7M846.7 686.75H1475.7M846.7 595.25H1475.7" stroke="#000" stroke-width="1.15" fill="none"/>
<rect x="912" y="813.2" width="547" height="34.2" fill="#fff"/>
<g clip-path="url(#c11)">
<g transform="translate(846.70 686.75) scale(0.49921)">
<path fill="#999" stroke="#999" stroke-width="1" d="M0 1L6 0L12 -1L18 -6L24 -11L30 -20L36 -27L42 -33L48 -40L54 -46L60 -51L66 -58L72 -60L78 -67L84 -77L90 -80L96 -91L102 -95L108 -96L114 -106L120 -108L126 -108L132 -115L138 -118L144 -122L150 -133L156 -138L162 -139L168 -139L174 -139L180 -139L186 -145L192 -146L198 -163L204 -159L210 -159L216 -159L222 -159L228 -159L234 -173L240 -178L246 -187L252 -189L258 -194L264 -194L270 -189L276 -189L282 -189L288 -189L294 -189L300 -191L306 -214L312 -217L318 -219L324 -223L330 -223L336 -224L342 -224L348 -211L354 -211L360 -211L366 -211L372 -211L378 -221L384 -221L390 -221L396 -221L402 -221L408 -242L414 -242L420 -242L426 -244L432 -248L438 -248L444 -250L450 -250L456 -252L462 -252L468 -256L474 -263L480 -263L486 -263L492 -263L498 -257L504 -257L510 -257L516 -253L522 -253L528 -253L534 -253L540 -252L546 -252L552 -252L558 -252L564 -252L570 -275L576 -254L582 -254L588 -254L594 -254L600 -254L606 -266L612 -266L618 -266L624 -275L630 -274L636 -274L642 -274L648 -272L654 -270L660 -252L666 -252L672 -252L678 -252L684 -252L690 -251L696 -250L702 -249L708 -249L714 -249L720 -249L726 -249L732 -253L738 -250L744 -250L750 -250L756 -250L762 -250L768 -240L774 -237L780 -236L786 -236L792 -236L798 -236L804 -236L810 -237L816 -217L822 -217L828 -217L834 -204L840 -204L846 -204L852 -204L858 -204L864 -213L870 -213L876 -213L882 -213L888 -216L894 -205L900 -205L906 -202L912 -202L918 -195L924 -192L930 -192L936 -192L942 -192L948 -192L954 -187L960 -185L966 -185L972 -185L978 -178L984 -175L990 -175L996 -175L1002 -170L1008 -167L1014 -167L1020 -159L1026 -150L1032 -150L1038 -148L1044 -148L1050 -140L1056 -140L1062 -122L1068 -122L1074 -122L1080 -122L1086 -122L1092 -129L1098 -124L1104 -118L1110 -118L1116 -112L1122 -102L1128 -99L1134 -99L1140 -96L1146 -92L1152 -86L1158 -81L1164 -77L1170 -73L1176 -68L1182 -62L1188 -57L1194 -52L1200 -46L1206 -42L1212 -37L1218 -33L1224 -28L1230 -21L1236 -15L1242 -10L1248 -5L1254 -4L1260 -3L1260 -3L1254 -4L1248 -5L1242 -10L1236 -15L1230 -16L1224 -18L1218 -20L1212 -23L1206 -25L1200 -27L1194 -29L1188 -37L1182 -40L1176 -40L1170 -40L1164 -47L1158 -50L1152 -50L1146 -52L1140 -55L1134 -57L1128 -59L1122 -61L1116 -67L1110 -68L1104 -71L1098 -73L1092 -77L1086 -82L1080 -82L1074 -85L1068 -85L1062 -85L1056 -93L1050 -95L1044 -97L1038 -99L1032 -99L1026 -102L1020 -105L1014 -105L1008 -105L1002 -108L996 -109L990 -111L984 -112L978 -115L972 -117L966 -123L960 -123L954 -123L948 -127L942 -130L936 -131L930 -132L924 -132L918 -133L912 -137L906 -137L900 -143L894 -143L888 -143L882 -144L876 -145L870 -145L864 -145L858 -145L852 -146L846 -164L840 -164L834 -164L828 -164L822 -164L816 -168L810 -168L804 -168L798 -168L792 -168L786 -176L780 -176L774 -176L768 -180L762 -180L756 -184L750 -184L744 -184L738 -184L732 -184L726 -182L720 -182L714 -185L708 -186L702 -186L696 -186L690 -186L684 -186L678 -185L672 -186L666 -186L660 -186L654 -186L648 -186L642 -183L636 -207L630 -207L624 -207L618 -214L612 -214L606 -227L600 -227L594 -227L588 -227L582 -227L576 -201L570 -201L564 -201L558 -201L552 -205L546 -205L540 -205L534 -205L528 -205L522 -197L516 -197L510 -197L504 -197L498 -194L492 -194L486 -195L480 -195L474 -195L468 -195L462 -195L456 -195L450 -195L444 -195L438 -194L432 -203L426 -203L420 -203L414 -203L408 -203L402 -200L396 -196L390 -196L384 -196L378 -196L372 -196L366 -168L360 -166L354 -165L348 -155L342 -155L336 -153L330 -151L324 -149L318 -147L312 -145L306 -145L300 -140L294 -138L288 -135L282 -133L276 -130L270 -123L264 -122L258 -122L252 -122L246 -122L240 -121L234 -117L228 -114L222 -113L216 -112L210 -109L204 -99L198 -99L192 -99L186 -90L180 -89L174 -88L168 -86L162 -85L156 -82L150 -78L144 -76L138 -72L132 -69L126 -67L120 -64L114 -61L108 -58L102 -55L96 -52L90 -48L84 -44L78 -41L72 -38L66 -36L60 -32L54 -30L48 -27L42 -24L36 -19L30 -14L24 -11L18 -6L12 -1L6 0L0 1Z"/>
<path class="g" stroke-width="2.80" d="M0 4l6-4 6-3 6-3 6-3 6-3 6-3 6-4 6-3 6-3 6-3 6-3 6-4 6-2 6-2 6-2 6-3 6-4 6-4 6-4 6-3 6-5 6-4 6-3 6-2 6-4 6-4 6-3 6-2 6-3M186 -96l6-3 6-2 6-3 6-3 6-4 6-4M576 -223l6 0 6 0 6 1 6-1 6-1 6 2M798 -173l6 5 6 3 6 2 6 2 6 0 6 2 6 1 6 0 6 0M1152 -52l6 2 6 2M1176 -42l6 2 6 1M1230 -19l6 2 6 4 6 2 6 6 6 5M0 4l6-3 6-3 6-5 6-3 6-4 6-5 6-6M576 -208l6-1 6 0 6 0 6-2 6 4 6 1 6-3 6-4M1152 -52l6 3 6 4 6 3 6 3 6 4 6 3 6 3 6 2 6 2 6 3 6 2 6 3 6 2 6 2 6 3 6 2 6 4 6 4M0 4l6-3 6-4 6-4 6-3 6-3 6-3 6-4 6-4 6-4 6-5M204 -106l6-2 6-3 6-2 6-2 6-2 6-1 6-1 6-4M348 -162l6-3 6-1 6-2 6-1 6-1 6-2 6-1 6-1 6 0 6-1 6-2 6 0 6 0 6-2 6 1 6 0 6-1 6-1 6-2 6-2 6-2 6-1 6-1 6-2 6-2 6-2 6 0 6 3 6 0 6 1 6 0 6 2 6 1 6 2 6 1 6 0 6 0 6 2 6 1 6-1 6-1 6 1 6-3 6-1 6 0 6 1 6-1 6-1 6 0M654 -187l6 1 6 1 6-3 6-1 6 3 6 2 6 2 6-3 6 0 6-1 6 2 6 3 6 1 6-1 6-3 6-4M810 -169l6 4 6 0M936 -132l6 4 6 3 6 2 6 3 6 1 6 2 6 1M996 -111l6 3 6 1 6 0 6 4 6 2 6 1 6 3 6 3 6 1 6 2 6 1M1182 -60l6 3 6 5 6 5 6 4 6 4 6 4 6 6 6 3 6 4 6 4 6 6 6 5 6 7M0 4l6-3 6-6 6-6 6-6 6-3 6-3M366 -172l6-2 6-1 6-2 6-2 6 0 6 0 6-1 6-1 6 0 6 0 6 0 6-1 6-3 6-2 6-2 6-1 6-3 6-5M1212 -36l6 2 6 6 6 4 6 3 6 4 6 7 6 5 6 5M0 4l6-5 6-5 6-5 6-10 6-4 6-6 6-8 6-6 6-7 6-8 6-6 6-4 6-3 6-3M120 -107l6-6 6-4 6-4 6-7 6-6 6-7 6-3 6 1 6 0 6-1 6-3 6-2 6-3M372 -198l6 4 6 2 6 4 6 2 6 0 6 1 6 0 6 2 6-1 6 0 6 1 6 0 6 1 6 2 6 1 6 2 6 1 6 0 6-1 6 1 6 1 6-1 6 2 6 0 6-2 6-3 6 0 6 0 6-1 6-2 6-1 6-1 6-3 6 0 6-2 6 0 6-1 6-1 6 1 6 1 6 0 6-2 6 0 6-2 6 0M1158 -51l6 4 6 3 6 2 6 2 6 1M1224 -24l6 3 6 4 6 4 6 3 6 7 6 3M0 4l6-5 6-3 6-6 6-9 6-9 6-5 6-4 6-5 6-4 6-6 6-8 6-5 6-5 6-3M216 -157l6-4 6-3 6-4M576 -207l6 1 6 3 6-2 6 2 6 2 6 2 6 0 6-1 6 2 6 0 6 1M702 -190l6 4 6 0 6 4 6 4 6 1 6 3 6 4 6 0 6 1 6 1 6 2 6 1 6 3 6 2 6 1 6 2 6 0 6-1 6 0 6-1 6-1 6 2 6 0 6 1 6 1M1152 -51l6 3 6 3 6 3 6 3 6 3 6 2 6 2M1230 -17l6 3 6 4 6 3 6 4 6 3M0 4l6-7 6-4 6-5 6-6 6-3 6-4M810 -219l6-1 6 0 6 4 6 2 6 3 6 2 6 3 6 4M1050 -96l6 3 6 2M1152 -53l6 3 6 2M1176 -42l6 2 6 3 6 3M1230 -18l6 3 6 0 6 3 6 7 6 5M0 4l6-6 6-3 6-4 6-4 6-3M342 -213l6-6 6-3 6-3 6 0 6-5 6-5 6-5 6-3 6-1 6 2 6 1 6-2 6 1 6 0M504 -255l6-2 6 1 6-2 6-2 6-1 6-1 6 0 6-4 6 0 6-1 6-1 6 1 6 0 6 1 6 4 6 0 6 0M948 -189l6 2 6 3M1020 -152l6 2 6 0 6 3 6 4 6 2 6 2 6 2 6 5 6 3 6 2 6 2 6 2M1116 -107l6 5 6 6M1224 -26l6 3 6 3 6 5 6 4 6 6 6 5M0 4l6-4 6-4 6-5 6-8 6-7 6-5 6-9 6-5 6-5 6-4 6-4 6-4 6-1M360 -208l6-4 6-6 6-3 6-4 6-5 6-2 6 1 6-1M810 -224l6 2 6 3 6 3 6 2 6 1 6 4 6 1 6 2 6 3M1152 -51l6 3 6 3 6 2 6 3 6 3 6 4 6 2 6 4 6 3 6 3 6 3 6 2 6 1 6 3 6 2 6 1 6 5 6 4M0 4l6-5 6-7 6-4 6 0 6-3 6-2 6-3 6-4 6-3 6-3 6-4 6-3 6-4 6-2 6-4 6-3 6-4 6-4 6-4M204 -106l6-2 6-4 6-3M348 -162l6-2 6-2 6-2 6-2 6 0 6-2 6-1 6-1 6 0 6-1 6-2 6 0 6-1 6-1 6-2 6 0 6-1 6-1 6-1 6 0 6-1 6-3 6-3 6-3 6 0 6-3 6-3M654 -250l6-2 6 3M1056 -130l6 2 6 6 6 8M1218 -31l6 3 6 2 6 2 6 4 6 7 6 5 6 8M0 4l6-7 6-8 6-9 6-5 6-3 6-8 6-4 6-5 6-6 6-3 6-3 6-4 6-6 6-5M900 -203l6-1 6-1 6 3 6 1 6-1 6 3 6 1 6 2 6 1 6 3 6 5 6 4M1176 -66l6 2 6 4 6 5 6 3 6 4 6 5 6 5 6 4 6 6 6 7 6 4 6 5 6 7 6 5M0 4l6-3 6-4 6-4 6-3 6-3 6-4 6-4 6-4 6-5 6-5M366 -179l6-3 6-1 6-3 6-3 6-8 6-1 6-4 6-2M1056 -126l6 1 6 1 6-1 6 0 6 3 6 3M1116 -105l6 2 6 3 6 4 6 1 6 3 6 7M1176 -67l6 5 6 8M1206 -40l6 2 6 6 6 5 6 3 6 6 6 5 6 5 6 2 6 6M0 4l6-4 6-7 6-8 6-2 6-6 6-7 6-5 6-9 6-8 6-4 6-5 6-6 6-5 6-5 6-1M366 -178l6-1 6-1 6 0 6-1 6-1 6-1 6-2 6 0 6-2 6 0 6-3 6 0 6 1 6 1 6 1 6 0 6-2 6-1 6-3 6 0 6-6M744 -185l6 2 6 3 6 6 6 3 6 1 6-1 6 2 6 1 6-4M1116 -103l6 1 6 5M1158 -80l6 3 6 4 6 3 6 5 6 5 6 5 6 5 6 4 6 5 6 5 6 5 6 5 6 3 6 4 6 6 6 6 6 7M0 4l6-3 6-5 6-8 6-6 6-5 6-7 6-6 6-5 6-5 6-5 6-4 6-6 6-2M1224 -25l6 4 6 3 6 2 6 4 6 6 6 6M0 4l6-2 6-4 6-5 6-5 6-5M594 -229l6 2 6-2M1068 -120l6-2 6 2M1116 -107l6 1 6 3 6 4 6 4 6 5 6 2 6 1 6 5 6 4 6 3 6 5 6 6 6 5 6 5 6 5 6 6 6 4 6 5 6 4 6 5 6 6 6 5 6 7 6 7M0 4l6-5 6-4 6-4 6-2 6-9 6-8 6-6 6-3M540 -208l6 3 6 2 6 4 6 5 6-1 6 4 6 4 6 0 6-1 6-1 6 0 6 0 6 1 6-2 6-1 6-1 6-1M834 -167l6 7 6 0 6 1M1218 -32l6 1 6 5 6 3 6 6 6 5 6 7 6 5M0 4l6-6 6-5 6-7 6-3 6-3 6-5 6-9 6-6 6-8 6-6 6-3 6-4 6-9 6-7 6-7 6-7 6-4 6-6 6-2 6-1 6-6 6-6 6-1M294 -187l6-7 6-2M354 -208l6-3 6-2 6 1 6-2M396 -220l6-3 6-4M576 -220l6 1 6 1 6 0 6 2 6-3 6 1M1152 -53l6 4 6 3 6 3 6 3 6 2 6 3 6 2M1230 -19l6 4 6 4 6 4 6 4 6 3M0 4l6-6 6-7 6-6 6-7 6-7 6-6 6-3 6-4 6-3M72 -58l6-10 6-6M168 -137l6-4 6-4 6-6 6-5 6-2 6-4 6-5 6 1 6-7 6-3 6 2 6-4 6-5M264 -191l6-3 6-2 6-3 6-5 6-3 6-3 6-4 6-5 6-2 6 0M336 -222l6-3 6-1 6-1 6 1 6 1 6 2 6 0 6 1 6 3M576 -221l6 2 6 2 6 2 6 1 6-1 6-5M1152 -53l6 4 6 3 6 3 6 3 6 3 6 2 6 4 6 3 6 3 6 2 6 4 6 3 6 2 6 2 6 2 6 1 6 5 6 4M0 4l6-7 6-6 6-8 6-5 6-5 6-3 6-4 6-1M486 -259l6-4 6-2 6 1 6 0 6-2 6-1 6 0 6 3 6 1 6 1 6 2 6 0 6 3 6 2 6 0 6-1 6-2 6 1 6-1 6 3M810 -220l6 3 6 5 6 4 6 3 6 2M1224 -26l6 1 6 7 6 4 6 3 6 4 6 7M0 4l6-4 6-4 6-4 6-4 6-4 6-2 6-3 6-3 6-4 6-4 6-5M90 -49l6-3 6-3 6-4 6-2 6-3 6-3 6-3 6-4 6-2 6-1 6-2 6-3 6-3 6-3 6-3 6-3 6-3 6-3 6-1 6-1 6-1 6 0 6-1 6 0 6-1 6-1 6-4 6-3 6-3 6-4 6-2 6-1 6-2 6-3 6-2 6-2 6-3 6-3 6-2 6-2 6-1 6-3 6-3 6-2 6-2 6-1 6 0 6-2 6-1 6-1 6-1 6-1 6-1 6 0 6 0 6 1 6 1 6 1 6 1 6 1 6 1 6 0 6 1 6-2 6-1 6 1 6 2 6 3 6-1 6-4 6-1 6 2 6-2 6-3 6-3 6-2 6 0 6-1 6-2 6-2 6 1 6-1 6-1 6-1 6 1 6 1 6 0 6 0 6-1 6 2 6 1 6 0 6-2 6-2 6-1 6 0 6 0 6-3 6 3 6 2 6-1 6 2 6 0 6 0 6 2 6 1 6 2 6 2 6 3 6 0 6 1 6 2 6 1 6 1 6 1 6-1 6 0 6-2 6-1 6 0 6 0 6 3 6 0 6 1 6 2 6 2 6 2 6 2 6 1 6 1 6 1 6 0 6-1 6 2 6 3 6 1 6 1 6-2M1194 -48l6 1 6 2 6 4 6 5 6 2 6 5 6 5 6 6 6 5 6 5 6 8M0 4l6-5 6-7 6-4 6-3 6-1M234 -120l6-1 6-2M366 -173l6-2 6 0 6-2 6-2 6-2 6-1 6-1 6-1 6-1 6-2 6-4 6-3 6-1 6-1M576 -208l6 1 6 3 6 0 6 1 6 1 6 0 6 1 6 3 6 5 6 0 6 0M936 -133l6 3 6 3 6 2 6 1 6 4 6 4 6 2 6 3 6 2 6 2 6 3 6 4 6 3 6 2 6 3 6 3 6 1 6 0 6 1 6 1 6 1 6 2 6 0 6 1 6 1 6 1M1152 -52l6 3 6 3 6 3 6 3 6 3 6 3 6 3 6 3 6 3 6 4 6 2 6 2 6 2 6 3 6 2 6 4 6 2 6 4M0 4l6-3 6-3 6-4 6-2 6-3 6-3 6-4 6-3 6-3 6-3 6-3 6-2 6-4 6-2 6-4 6-4 6-4 6-4 6-4 6-3 6-3 6-2 6-3 6-3 6-3 6-3 6-4 6-2 6-4 6-3 6-2 6-3 6-4 6-3 6-3 6-2 6-5 6-3 6-2 6-3 6-2M348 -163l6-2 6-2 6-3 6-2 6-2 6-1 6 0 6-2 6-2 6-2 6 0 6-1 6-1 6 0 6 0 6-1 6 0 6 0 6 1 6-1 6 0 6 0 6-1 6-1 6 0 6 2 6 2 6-1 6 1 6 1 6-1 6-1 6 3 6 3 6 4 6-1 6-1 6 1 6 0 6-2 6 0 6 0 6-1 6-3 6-3 6-2 6-2 6-3 6 0M696 -189l6 3 6 5 6 4 6 1 6 3 6 2 6 1 6 0 6 0 6 2 6 1 6-1 6 0 6 1 6-2 6 0M1020 -157l6 4 6 3 6 2 6 0 6 4 6 4 6 4 6 4 6 1 6 1 6 3 6 3 6 1 6 3 6 3 6 3 6 3 6 4 6 5 6 4 6 6 6 6 6 6M1188 -55l6 3 6 5 6 5 6 3 6 7 6 7 6 4 6 7 6 3 6 4 6 4 6 3M0 4l6-7 6-7 6-8 6-8 6-6 6-4 6-3 6-5 6-4 6-5 6-7 6-7 6-6 6-4 6-7 6-4M120 -103l6-5 6-2M174 -137l6-2 6-2M216 -157l6-2 6-5 6-3M264 -189l6-3 6-9 6-10 6-9 6-7 6-3 6-6 6-10 6-3 6-1 6 1 6 0 6 2 6 0 6-2 6-3 6-4 6-3 6-2 6 1 6-3 6-2 6-3 6-1 6 2 6 2 6 1 6 0 6-1 6 0 6 2 6-2 6 0 6 2 6 1 6-1 6 0 6 0 6 1 6 1 6 1 6-2 6-3 6-2 6 1 6 0 6-1 6-1 6 0 6 3 6-2 6-3 6-2 6 1 6-2 6 0 6 0 6 1 6 0 6 1M654 -266l6 0 6 0 6 0 6 0 6-3 6 1 6 0 6-1 6 0 6 0 6 1 6-2 6 3 6 0 6 0 6 0 6 0 6 2 6 2 6 0 6 2 6 2 6 3 6 5 6 6 6 5 6 3 6 2 6 5 6 6 6 3 6 0 6 2 6 5 6 5M1020 -156l6 4 6 6M1056 -131l6 6 6 5M1230 -19l6 4 6 4 6 3 6 4 6 4M0 4l6-5 6-5 6-3 6-5 6-3M222 -157l6-3 6-4M264 -189l6-5 6-3 6 1 6-2 6-2 6-4 6-1M342 -215l6-1 6-1 6 0 6-5 6 1 6 4M390 -220l6-2 6-5 6 0M918 -194l6 0 6 3M948 -189l6 1 6 1 6 1 6 1 6 2 6 8 6 4M1020 -154l6 0 6 5M1056 -134l6 8 6 4 6 1M1176 -44l6 4 6 1M1230 -20l6 2 6 2 6 4 6 5 6 7M0 4l6-4 6-3 6-4 6-4 6-4 6-3 6-3 6-4 6-5 6-5M204 -106l6-2 6-3 6-3 6-1 6-2 6-3 6-3M366 -176l6-2 6-2 6 0 6-3 6-3 6-3 6-3 6-2 6-1 6-3 6 0 6 0M456 -200l6 6 6 1 6-2 6 0 6-1M522 -200l6 2 6 0 6 2 6 0 6 1 6 3 6-4 6-3 6 0 6-1 6 0 6-5 6 3 6-1 6 2 6 0 6 0 6-2 6 0 6 0M1056 -126l6 1 6 2 6 1 6 3M1200 -43l6-1 6 4 6 3 6 4 6 4 6 5 6 5 6 7 6 7 6 5M0 4l6-4 6-4 6-3 6-6 6-5 6-1 6-3 6-5 6-5M204 -153l6-6 6-4 6-5 6-3 6-3 6-2M270 -186l6-3 6 1 6-1 6 0 6-1M342 -216l6-4 6-2 6-2 6-4 6-4 6-4 6-3 6-2 6-1 6 0 6 1 6-2 6-2 6 2M570 -252l6-3 6-3 6-2 6-2 6-3 6-1 6-1 6-2 6-1M654 -269l6 2 6 1 6 1 6 1 6 3 6 0 6 1 6 2 6 3 6-1 6 1 6 0 6 3 6-2 6 1 6-2 6-1 6-1 6 1 6 4 6 2 6 0 6 2 6 2 6 1 6 1 6 3 6 3 6 4 6 3 6 4 6 2 6 7 6 3 6 3M1176 -41l6 2 6 1M1224 -19l6 3 6 3 6 4 6 3 6 2 6 4M0 4l6-6 6-4 6-4 6-4 6-3M366 -174l6-2 6-2 6-2 6-1 6-1 6-1 6 0 6-3 6-1 6-3 6-2 6 1 6 1 6 1 6 2 6 2 6-1 6-2 6-5 6-4M522 -204l6 0 6 0 6-2M576 -205l6-2 6-1 6 1 6 4 6 4 6-1 6 1 6 3 6 1 6 1 6-5M810 -222l6 0 6-1 6 0 6 5 6 2 6 4 6 1 6 3 6 4M1218 -21l6 3 6 2 6 3 6 2 6 3 6 4 6 4M0 4l6-3 6-3 6-4 6-4 6-4 6-3 6-3 6-3 6-3 6-3 6-3 6-5 6-4 6-4M216 -158l6-4 6-3 6-5M264 -191l6-6 6-3 6-6 6 0 6 3 6-2 6-2M342 -219l6-4 6-5 6-4 6 0 6-1 6-2 6-5 6-3 6-2 6-4 6-3 6 1 6 0 6-3 6 0 6-1 6 1 6-3 6 1 6 0 6-5 6 2M654 -250l6-4 6 1 6 1 6-1 6 3 6 0 6 0 6 1 6 3M960 -125l6 3 6 2M1152 -52l6 3 6 3 6 3 6 2 6 2 6 3 6 2M1224 -19l6 3 6 2 6 3 6 2 6 4 6 5M0 4l6-6 6-5 6-4 6-4 6-4 6-3 6-1 6-4 6-4M354 -210l6-1 6-1 6-4 6-4 6-6 6-4 6-4 6-2 6-3M456 -251l6-4 6-3 6-5 6-4 6-2 6-1 6-3 6-1 6 0 6-1 6-3 6-1 6-2 6 0 6-1 6-1 6-2 6-1 6-1 6 0 6 0 6-2 6 1 6 2 6 0 6 1 6 1 6 3 6 1 6 1 6 1 6 0 6 3 6 3 6 2 6 3 6 1 6 2 6 0 6 1 6 1 6 3 6 2 6 1 6 1 6 0 6 1 6 2 6 2 6 3M828 -208l6 0 6 5 6-1 6 0 6-5 6-2 6 0 6-2 6 2 6 1 6 1 6 4 6 2 6 3 6 5 6 3 6 3M1056 -124l6 1 6 3 6-2 6-1 6 3M1122 -101l6 1 6 0 6 4 6 3 6 3 6 4 6 5 6 5 6 3 6 6 6 4 6 7 6 5 6 4 6 4 6 5 6 4 6 4 6 6 6 6 6 5 6 6 6 7M0 4l6-4 6-3 6-4 6-4 6-7M366 -190l6 1 6-1 6 0 6-4 6-5M408 -204l6 1 6-2M498 -199l6 4 6 1 6 2 6 1 6 1 6 2 6 1 6 2 6 3 6 2 6 1 6 0 6 1 6 1 6-1 6-1 6 0 6-2 6-2 6 1 6-3 6-1 6 1 6 0 6-1 6 2 6 3 6 0 6 0 6 1 6 2 6-1 6 1 6 2 6 3 6 2 6 2 6 0 6-2 6 0 6 1 6-3 6-2 6-1 6-3 6 0M804 -172l6 4 6 2 6 4 6 2 6 3 6-1 6-1 6 1M1224 -25l6 4 6 4 6 3 6 4 6 6 6 4M0 4l6-2 6-3 6-3 6-2 6-2 6-2 6-4 6-5 6-5 6-4 6-4 6-4 6-4 6-4 6-4 6-2 6-4 6-3 6-3 6-2 6-3 6-4 6-4 6-2 6-3 6-3 6-3 6-3M186 -97l6-2 6-2 6-3 6-2 6-2 6-4 6-3M348 -162l6-1 6-1 6-2 6-2 6-3 6-1 6 1 6-1 6-1 6 1 6-1 6-1 6 0 6-1 6-1 6-1 6 0 6 1 6 1 6 0 6 0 6-2 6-2 6-1 6-1 6 0 6-2 6-2 6-2 6-1 6-1 6 0 6-1 6 1 6 1 6-2 6-1 6 1 6 0 6 3 6-1 6 0 6 0 6-1 6-6 6-1 6-2 6 1 6 0M672 -188l6 3 6 2 6 1 6 2 6 3 6 2 6 3 6 0 6 3 6 1 6 2 6-1 6 2 6 0 6 3 6 0 6 1 6 1 6 0 6 1 6-1 6-1 6 1 6 2 6-1 6 0 6 1 6 3 6 1 6 2M888 -144l6 1 6 1 6 1M924 -134l6 3 6 2 6 0 6 1M1074 -86l6 4 6 2 6 3 6 3 6 3 6 2 6 2 6 3M1152 -51l6 3 6 2 6 2 6 3 6 2 6 3 6 2M1230 -17l6-1 6 4 6 4 6 5 6 5M0 4l6-7 6-7 6-8 6-9 6-6 6-6 6-7 6-5 6-7 6-7 6-7 6-5 6-8 6-6 6-4 6-6 6-5 6-5 6-8 6-8 6-5 6-3 6-2 6-1 6-4 6-3 6-8 6-4 6-5 6-5 6-5 6-9 6-6 6-2 6-5 6-7 6-12 6-1 6-8 6-8 6-8 6-5 6-2 6-9 6-1 6 3 6-3 6 1 6-5 6-4 6-4 6-1 6 0 6-6 6 6 6 1 6 0 6-5 6-4 6 1 6 1 6 3 6 1 6-2 6-3 6-5 6-3 6-1 6 0 6 0 6 0 6-2 6-1 6 0 6 0 6 0 6 1 6 4 6 3 6 2 6 1 6-2 6 1 6 1 6 1 6-1 6 0 6-1 6 0 6-1 6-1 6 0 6 0 6 0 6-1 6-1 6 2 6-1 6 1 6 0 6 0 6 2 6 2 6-1 6 0 6 1 6 2 6 1 6 3 6 2 6 2 6 2 6 2 6 2 6 2 6 1 6 0 6-1 6 1 6 2 6 0 6 1 6 0 6 2 6 1 6 0 6 3 6 1 6 2 6-1 6 0 6 0 6 1 6 1 6 3 6 2 6 0 6 0 6 5 6 2 6 0 6 3 6 4 6 1 6 0 6 2 6 3 6 3 6 7 6 3 6 0 6 1 6 4 6 6 6 5M1188 -53l6 0 6 2 6 4 6 5 6 5 6 6 6 8 6 6 6 5 6 5 6 1 6 6M0 4l6-6 6-6 6-3 6-1 6-3M342 -215l6-3 6-4 6 0 6-4 6-6 6-1 6-4 6-1 6 1 6-2 6-3 6 0 6 1 6-3 6-5 6-5 6-5 6-4 6-4 6-1 6-3 6-2 6 0 6-1 6 2 6 1 6 0 6 0 6 1 6 0 6-1 6-1 6 1 6 0 6 0 6 2 6-2 6 0 6-1 6-2 6 3 6 1 6-1 6 1 6 0 6-1 6 1M654 -268l6 0 6 0 6-1 6-2 6 1 6 1 6 1 6 2 6 1 6 1 6 0 6-3 6-1 6-1 6 2 6 3 6 0 6 2 6 5 6 0 6 2 6 0 6-3 6 2 6 5 6 2 6 1 6 0 6 0 6 1 6 0 6-1 6 1 6 0 6 4 6 4 6 4 6 5 6 3 6 4 6 2 6 1 6 1 6 0 6-1 6 1 6 3 6 1 6 2 6 1 6 4 6 1 6 0 6 4 6 4 6 3 6 4 6 2 6 5 6 3 6 3 6 4 6 3 6 5 6 1 6 2 6 6 6 4 6 7 6 5 6 3 6 5 6 5 6 4 6 5 6 5 6 4 6 3 6 5 6 6M1218 -21l6 4 6 3 6 2 6 2 6 3 6 2 6 5M0 4l6-5 6-5 6-2 6-3 6-4M216 -155l6-4 6-5 6-6M282 -188l6-3 6-4 6-5 6-6M336 -223l6-4 6-4 6-5 6-4 6-4 6-8 6-2 6-2 6-2 6-5 6-6 6-4 6 0 6-1 6 0 6-1 6 0 6-3 6 1 6 1 6 4 6 1 6 1 6-1 6 0 6 3 6 0 6-1 6 1 6-1 6 0 6 0 6 2 6 4 6-1 6-1 6 0 6-1 6 1 6 3 6 1 6-1 6 1 6 1 6 1M1158 -79l6 2 6 3 6 5 6 3 6 3 6 3 6 3 6 5 6 6 6 5 6 6 6 5 6 6 6 6 6 5 6 5 6 8M0 4l6-3 6-4 6-2 6-3 6-4 6-3 6-3 6-5 6-3 6-4 6-3 6-5 6-4 6-2 6-4 6-4 6-4M366 -176l6-1 6-2 6-1 6-1 6-1 6-1 6-2 6-2 6-4 6-1 6-2 6-5M564 -202l6 3 6 2 6 0 6 0 6 3 6 3 6 3 6 0 6-1 6 3 6 1 6 3 6 4 6 6 6 4 6 0 6 1 6 2 6 1 6 2 6-2 6-2 6-1 6 0 6 0 6 2 6 1 6 3 6 1 6-1 6-1 6-2 6 1 6-1 6 2 6 2 6 2 6 2 6 1 6 0 6 3 6 0 6-2 6 1 6 1 6 1 6-1 6 2M870 -147l6 2 6 2 6-1 6 1 6 0 6 2M984 -114l6 4 6 1 6 2 6 0 6 3 6 2 6 2 6 2 6 1 6 0 6 1M1230 -18l6 4 6 1 6 3 6 6 6 4M0 4l6-3 6-4 6-4 6-4 6-3 6-5 6-7M828 -210l6 4 6 2 6 2M1206 -40l6 1 6 5 6 7 6 5 6 4 6 4 6 5 6 3 6 6M0 4l6-3 6-2 6-3 6-3 6-4 6-5 6-3 6-3 6-4 6-4 6-5 6-4M366 -207l6-4 6-4M546 -206l6 1 6-2M576 -209l6 0 6-4 6 0 6 2 6 2 6-1 6 0 6 2 6 0 6 2 6 1M978 -176l6 1 6 2 6-1 6 1 6 2 6 2 6 2 6 2 6 2 6 3 6 5 6 3 6 3 6 3 6 2 6 4 6 4 6 4 6 6M1116 -107l6 4 6 6M1218 -31l6 3 6 3 6 3 6 4 6 8 6 5 6 5M0 4l6-6 6-4 6-4 6-5 6-3M366 -172l6-2 6 0 6 1 6 0 6 0 6-1 6-1 6-1 6 0 6 0 6 0 6 1 6-1 6 0 6 0 6 1 6 0 6 1 6-1 6 1 6 2 6-1 6 2 6-2 6 0 6-1 6-2 6-1 6-1 6-1 6 1 6 0 6-1 6 3 6 1 6 0 6 2 6 0 6 3 6-1 6 2 6 3 6 2 6 3 6 2 6 1 6 0 6 2 6 0 6 2 6 0 6 2 6 2 6 0 6 2 6-1 6-1 6 2 6-2 6 0 6 0 6-3 6 0 6 1 6 0 6 0 6-1 6-2 6-1 6-1 6 0 6 2 6 1 6-1 6-2 6-1 6 0 6 0 6 2 6 0 6-1M1230 -18l6 5 6 2 6 3 6 4 6 4M0 4l6-7 6-6 6-3 6-1 6-6M102 -92l6-7 6-5 6-6 6-6 6-5 6-5 6-7 6-8 6-3 6-2 6-9 6-4 6-3 6-1 6 0 6-3 6-6 6-5 6-3 6-6 6-3 6-3 6-14 6-5 6-5 6-2 6-5 6-5 6-11 6-5 6-5 6-4 6-5 6-1 6 0 6 0 6-1 6 3 6-3 6 3 6-1 6-4 6-4 6-3 6 3 6 0 6-1 6 1 6 0 6-2 6-1 6 1 6-2 6 1 6 1 6 0 6 0 6 4 6 3 6-1 6 0 6-2 6-3 6-1 6 0 6 0 6-1 6 0 6-2 6-1 6 1 6 1 6-1 6 2 6 0 6-2 6 2 6 0 6 0 6 0 6 0 6-1 6 4 6 3M1080 -85l6 4 6 4 6 3 6 3 6 2 6 3 6 2M1134 -58l6 3 6 2 6 3 6 3 6 2 6 3 6 3 6 2 6 2 6 3M1224 -19l6 3 6 3 6 3 6 3 6 4 6 3M0 4l6-3 6-4 6-3 6-2 6-4 6-4 6-4 6-4 6-4 6-4 6-3 6-5M360 -208l6-5 6-2 6-1M534 -207l6 2 6 3 6 2 6 0 6-3M576 -208l6-1 6 0 6 1 6 0 6 0 6-1 6-4 6-2M726 -185l6 2 6 3 6 2 6 3 6 4 6 1 6 2 6 1 6 0 6 1 6 0 6 1 6 2 6-1 6-2 6-1M1050 -97l6 4 6 3 6 2 6 3 6 4 6 3 6 4 6 3 6 4 6 3 6 2 6 4 6 2 6 3 6 4 6 3 6 3 6 2 6 2 6 4 6 2 6 3 6 2 6 3 6 2 6 3 6 2 6 2 6 2 6 1 6 2 6 3 6 2 6 3 6 3M0 4l6-3 6-3 6-3 6-3 6-4 6-3 6-3 6-4 6-2 6-3 6-3 6-4 6-4 6-2 6-4 6-4 6-2 6-3 6-2 6-3 6-3 6-3 6-3 6-2 6-3 6-4 6-3 6-3 6-4 6-4 6-3 6-3 6-2 6-2 6-3 6-4 6-3 6-2 6-1 6-3 6-3 6-2 6-1 6-4M282 -134l6-1 6-3 6-3 6-2 6-3M348 -160l6-1 6-2 6-4 6-3 6-2 6-2 6-3 6-3 6-4 6-3 6-4 6-5 6-4 6-4M1194 -50l6 3 6 4 6 5 6 3 6 3 6 4 6 4 6 5 6 5 6 7 6 7M0 4l6-7 6-3 6-1 6-3 6-4 6-4 6-4 6-4 6-3 6-4 6-3 6-3M84 -45l6-3 6-4 6-4M150 -79l6-2 6-2 6-2 6-2 6-2 6-2 6-2 6-1 6-1 6-4 6-2 6-2 6-3 6-2 6-1 6-1 6-1 6-4 6-3 6-4 6-2 6-3 6-3 6-3 6-2 6-3 6-2 6-1 6-3 6-3 6-2 6-2 6-2 6-2 6-1 6-1 6-2 6-1 6-2 6-1 6-2 6-1 6-2 6 0 6 1 6 1 6 0 6 1 6-2 6 1 6-2 6-1 6 1 6 3 6 3 6 1 6 2 6-1 6-2 6-3 6 0 6 1 6 4 6-1 6 1 6 1 6 1 6-2 6 3 6 2 6 1 6 1 6 1 6 0 6 0 6-1 6 0 6 1 6 0 6-2 6-2 6 0 6 0 6 0 6 1 6 0 6-1 6-1 6 1 6-1 6-1 6 0 6 0 6 1 6-1 6-3 6 1 6 0 6 1 6 2 6-2 6-1 6 1 6 1 6 1 6 0 6-1 6 1 6-1 6-1 6 2 6-1 6-2 6 1 6 0 6 0 6-1M1158 -51l6 4 6 3 6 3 6 4 6 2 6 4 6 3 6 3 6 3 6 4 6 2 6 3 6 3 6 2 6 2 6 3 6 3M0 4l6-7 6-6 6-4 6-3 6-3M48 -36l6-10 6-8 6-6 6-4 6-5 6-5M174 -138l6-5 6-9 6-12 6-8 6-4 6-4 6-8 6-5 6-11 6-7 6-7 6 4 6-5 6-3 6 1 6-4 6-4 6-2 6-3 6-9 6-4 6-3 6 0 6 0 6 6 6 0 6-1 6 0 6-1 6-1 6-6 6-2 6 0 6-4 6-2 6-1 6 1 6 1 6 0 6-1 6-1 6 1 6 1 6-2 6-1 6 1 6 1 6-2 6 0 6 2 6-2 6 2 6 2 6 1 6-5 6-1 6 1 6-1 6-2 6 0 6-3 6-1 6-1 6 1 6-1 6 0 6 1 6 1 6 1 6 1 6 2 6 2M1056 -127l6 1 6 7M1230 -18l6 1 6 4 6 1 6 6 6 6M0 4l6-4 6-5 6-3 6-4 6-5M360 -206l6-8 6-1 6-4 6-6 6-7 6-1 6-4 6-1 6-3 6-2 6-2 6-2 6-3 6-2 6 0 6-2 6 0 6-2 6 1M576 -227l6 3 6 2 6 3 6 0 6-1 6 4 6 2 6 1M1206 -39l6 0 6 3 6 5 6 5 6 5 6 5 6 7 6 5 6 4M0 4l6-3 6-4 6-5 6-5 6-3 6-3 6-3 6-3 6-5 6-3M360 -209l6-4 6-1 6-2M396 -220l6-2 6-2M594 -230l6 3 6 3 6 1M798 -171l6 3 6 4 6 5 6 1 6 2 6 0 6 2 6 3 6 0M1080 -84l6 4 6 2M1110 -69l6 2 6 2M1134 -58l6 3 6 2 6 3 6 3 6 3 6 2 6 3 6 2 6 3 6 4M1224 -25l6 0 6 3 6 3 6 5 6 6 6 8M0 4l6-3 6-5 6-5 6-4 6-4M360 -210l6-2 6-6 6-8 6-4 6-3 6-5 6-1 6-6 6-4 6-7 6-6 6-4 6-3 6-1 6 0 6-1 6 0 6 1 6 0 6-1 6-2 6-1 6-1 6 0 6 1 6-1 6 0 6-1 6 1 6 2 6 1 6 0 6 0 6 0 6 0 6 0 6 2 6 0 6 2 6 0 6 2 6 1M654 -256l6-1 6 0 6 0 6-1 6 2 6 1 6-2 6-1 6 1 6 1 6 2 6 2 6 1 6 1 6 2M762 -243l6 2 6-1 6 2 6 3 6 4M828 -206l6 1 6 1 6 2M900 -202l6-1 6 1 6 1 6-2 6-1 6 0 6 2 6 2 6 0 6 1 6 1 6 4 6 3 6 3 6 2 6 3 6 1 6 5 6 4 6 2 6 3 6 4 6 3 6 6 6 3 6 3 6 3 6 2 6 2 6 4 6 5 6 4 6 2 6 4 6 5 6 4 6 5 6 6 6 5M1146 -91l6 4 6 5 6 6M1176 -67l6 3 6 4 6 6 6 4 6 4 6 4 6 5 6 5 6 2 6 4 6 6 6 6 6 7 6 7M0 4l6-6 6-3 6-7 6-8 6-4 6-4 6-3M348 -209l6-3 6 2 6-4 6-2 6 0M576 -222l6 0 6 2 6-2 6-1 6-1 6-2M1200 -45l6 2 6 3 6 4 6 3 6 5 6 5 6 4 6 6 6 6 6 7M0 4l6-6 6-6 6-5 6-5 6-7 6-4 6-4 6-4M510 -253l6-4 6-1 6-4 6-3 6-1 6-1 6 1 6 4 6 1 6 2 6 2 6-4 6-2 6-1 6 1 6 0M1200 -44l6 0 6 4 6 4 6 5 6 4 6 4 6 5 6 5 6 7 6 6M0 4l6-8 6-6 6-7 6-5 6-6 6-5 6-3 6-4 6-7 6-3M366 -183l6-2 6-1 6-3 6-3 6-5 6-3 6-4M576 -205l6 4 6-1 6 2 6-2 6-5 6-2 6-3 6 0M978 -174l6-2 6 2 6 1 6 1 6 4 6 4 6 4 6 2 6 4 6 5 6 1 6 4 6 4 6 1 6 4 6 4 6 4 6 6M1128 -98l6-1 6 5M1152 -85l6 3 6 5 6 4 6 6 6 3 6 4 6 4 6 5 6 4 6 4 6 5 6 4 6 3 6 5 6 6 6 6 6 8 6 6M0 4l6-3 6-4 6-5 6-4 6-4M390 -216l6-5 6-2 6-2M492 -259l6 0 6-2 6-2 6-2 6-1 6-1 6 1 6 0 6 3 6-1 6 0 6-2 6 0 6 0 6-2 6 1 6 3 6 4 6 3M654 -264l6-2 6 1 6-1 6 1 6 3 6 1 6 1 6 1 6 1 6 1 6 1 6 1 6 1 6 2 6 1 6 2 6 0 6-1 6 1 6 1 6-2 6 2 6-1 6-2 6 2 6 4 6 1 6 3 6 2 6 1 6 1 6 3 6 0 6 0 6 4 6-1 6 2 6 1 6 2 6 2 6-1 6 1 6 4 6 0 6 1 6 1 6 2 6 1 6 1 6 5 6 5 6 5 6 2 6 3 6 3 6 3 6 3 6 4 6 3 6 2 6 3 6 2 6 0 6 3 6 3 6 2 6 5 6 5 6 3 6 4 6 3 6 5 6 4 6 5 6 5 6 4 6 6 6 6 6 4 6 6M1218 -31l6 2 6 5 6 5 6 3 6 7 6 4 6 5M0 4l6-5 6-4 6-4 6-2 6-4 6-2 6-3 6-4 6-4 6-3 6-4 6-2 6-3 6-4 6-3 6-3 6-3 6-4 6-2 6-2 6-2 6-3 6-3 6-3 6-4 6-3 6-3 6-2 6-3 6-3 6 0 6-1 6-1 6-1 6-2 6-2 6-2 6-2 6-4 6-1 6-3 6-4 6-2 6-2 6-4 6-4 6-2 6-3 6-4 6-3 6-4 6-2 6-2 6-2 6-2 6-2 6-2 6-1 6-1 6-2 6-2 6-2 6-3 6-3 6-1 6-1 6-2 6 0 6-2 6-1 6-1 6-1 6-2 6-1 6 0 6 0 6 1 6 0 6-2 6-2 6 0 6-3 6-3 6-1 6-2 6-3 6 1 6 0 6 0 6 0 6 0 6 0 6-2 6 1 6 0 6 1 6 1 6-3 6 1 6-2 6-3 6-1 6 0 6-3 6-3 6 0 6-2M1218 -31l6 3 6 2 6 3 6 5 6 5 6 8 6 5M0 4l6-6 6-3 6-4 6-5 6-7 6-8 6-3 6-6 6-9 6-3M222 -155l6-4 6-5M264 -183l6-9 6-3 6-7 6-3 6-3 6-6 6-2 6-2 6-3 6-1 6-3 6 1 6-3 6 2 6-1 6-4 6-1 6-5 6-2 6-4 6-2 6-2 6-4 6-6 6-1 6-5 6-4 6-4 6-1 6 1 6 0 6 0 6 0 6 0 6 0 6-1 6 0 6-1 6 0 6 2 6 2 6 1 6 1 6 3 6 4 6 2 6 3 6 3M588 -229l6 2 6 1 6 1 6 0M1056 -123l6 0 6 4M1206 -39l6 0 6 3 6 5 6 5 6 4 6 5 6 5 6 5 6 7M0 4l6-6 6-7 6-7 6-5 6-6 6-5 6-5 6-6 6-7 6-4 6-5 6-7 6-7 6-4 6-8 6-8 6-6 6-4 6-5 6-6 6-2 6-6 6-5 6-5 6-5 6-7 6-6 6 2 6 5 6-3 6-2 6-2 6-4 6-5 6-1 6-3 6-6 6-5 6-7 6-5 6-5 6 2 6-4 6-10 6-3 6-3 6-1 6-1 6-3 6-3 6-2 6-4 6-6 6 1 6-4 6-3 6 2 6-6 6-8 6-2 6-4 6-6 6-5 6-5 6-4 6-5 6 0 6 0 6 1 6-5 6 2 6 0 6 0 6-3 6 2 6 2 6-3 6 0 6 0 6 0 6 1 6 2 6 1 6 1 6-2 6 0 6 0 6 0 6 1 6 1 6 1 6 1 6-1 6 1 6-1 6 1 6 0 6-2 6 1 6 2 6 2 6 0 6 2 6 1M654 -269l6 1 6 1 6 1 6 0 6 2 6 2 6-1 6 3 6 2 6 2 6 4 6 2 6 2M1188 -55l6 3 6 4 6 2 6 4 6 5 6 4 6 5 6 4 6 5 6 5 6 6 6 8M0 4l6-7 6-5 6-4 6-3 6 0 6-3 6-4 6-4 6-5M120 -104l6-6 6-4M156 -133l6-6 6-7 6-15 6-7 6-7 6-5 6-10 6-7 6-5 6-5 6-2 6 0 6 4 6 1 6-1 6 3 6 2 6-6 6-5 6 2 6-1 6 3 6-2 6 0 6-2M342 -213l6 2 6 1 6-1 6 1 6-3 6 3M522 -202l6 3 6 3 6 3 6 2 6 3 6 2 6 4 6 5 6 0 6 0 6-1 6-2 6-2 6 0 6 0 6-1 6 1 6 1 6 3 6 7 6 1 6 1 6 3 6 2 6 1 6 1 6 1 6 1 6 1 6 2 6 2 6 3 6 2 6 0 6 0 6 0 6 0 6-1 6-2 6-2 6-1 6-1 6 2 6 2 6-2 6-1 6-1 6-2 6-1 6 0 6 0 6-1 6 1 6 3 6 0M1002 -109l6 4 6 3 6 4 6 3 6 3 6 2 6 1 6 3 6 2 6 3 6 1 6 2 6 1 6 2 6 2 6 2 6 3 6 2 6 3 6 3 6 2 6 3 6 2 6 2 6 2 6 3 6 2 6 3 6 4 6 3 6 3 6 4 6 2 6 3 6 3 6 2 6 2 6 3 6 2 6 2 6 2 6 2 6 4M0 4l6-7 6-3 6-2 6-4 6-2 6-4 6-3 6-4 6-3 6-3 6-4 6-5M366 -181l6 0 6-3 6-4 6 3 6-1 6 0 6 0 6-2 6 1 6-1 6-1 6-3 6-1 6-4M522 -199l6-3 6-2 6 3 6-2 6-1 6-4M576 -216l6 2 6 3 6 3 6 3 6 0 6 1 6 1 6 5 6 2 6 2 6 5 6 2 6 3 6 3 6 2 6 2 6 3 6 1 6-1 6 3 6 2 6 1 6 2 6-1 6 1 6 1 6 4 6 0 6 2 6 2 6-1 6-1 6 0 6 0 6 3 6 3 6 1 6 1 6 1 6 0 6-1 6 1 6 1 6-1 6 1 6 1M1218 -32l6 3 6 6 6 2 6 5 6 5 6 4 6 7M0 4l6-7 6-7 6-7 6-9 6-7 6-7 6-5 6-5 6-8 6-8 6-7 6-9 6-6 6-10 6-8 6-6 6-6 6-6 6-5 6-3 6-3 6-8 6-8 6-9 6-8 6-9 6-7 6 0 6-2 6-8 6 1 6-1 6-5 6-5 6-4 6 0 6 12 6 0 6-1 6 4 6-2 6 4 6 3M270 -188l6-1 6 1M810 -233l6 0 6 2 6 4 6 5 6 4 6 3 6 4 6 0 6 3M1182 -42l6 6 6 3M1224 -25l6 3 6 5 6 7 6 3 6 3 6 4M0 4l6-5 6-5 6-2 6-4 6-5 6-3 6-3 6-4 6-4 6-2 6-3 6-4M204 -104l6-2 6-2 6-1 6-4 6-4 6-1 6-3 6-5M366 -193l6-3 6-4M516 -252l6-5 6-5 6-3 6-1 6-2 6-2 6-2 6 0 6-2 6 0 6 0 6 1 6 0 6 1 6 1 6 1 6 1 6 1M654 -260l6 1 6 3 6-1 6 1 6 1 6 1 6 2 6 4M828 -213l6 5 6 0 6-2 6 1 6-1 6-2M1194 -46l6-1 6 4 6 4 6 4 6 4 6 3 6 4 6 4 6 6 6 6 6 8M0 4l6-6 6-8 6-6 6-7 6-7 6-7 6-6 6-5 6-7 6-4 6-3 6-5 6-5 6-5 6-2M222 -156l6-5 6-4M552 -251l6-2 6-1 6 1 6-2 6 0 6 1 6 1M1152 -53l6 3 6 3 6 3 6 3 6 4 6 2 6 4M1230 -17l6 3 6 1 6 4 6 5 6 4M0 4l6-4 6-3 6-6 6-2 6-3 6-5 6-4 6-4 6-5M360 -209l6-3 6-4 6-1 6-2 6-2 6 2 6-3 6 0M594 -228l6 1 6 1 6 0M1230 -19l6 6 6 3 6 3 6 3 6 4M0 4l6-3 6-3 6-4 6-3 6-3 6-4 6-4 6-4 6-5 6-5M366 -177l6 0 6 0 6-2 6-1 6-2 6-2 6-1 6-1 6-1 6 1 6 0 6-1 6 0 6 1 6 1 6-2 6 2 6-1 6-3 6-4 6-3M546 -207l6 2 6-1M576 -204l6 1 6 1 6-2 6 1 6 1 6 1 6 2 6 0 6 0 6 5 6-1M726 -185l6 2 6 0 6-1 6 0 6 2 6 1M1176 -46l6 6 6 4 6 3M1206 -27l6 4 6 3 6 2 6 2 6 3 6 3 6 3 6 3 6 4M0 4l6-3 6-4 6-4 6-5 6-4M366 -185l6 0 6 0 6 1 6-2 6-1 6 0 6-1 6 1 6 0 6 0 6 1 6 0 6 1 6 0 6 0 6 1 6 1 6 0 6 2 6-3 6-2 6-2 6 2 6 0 6 2 6-1 6-1 6-1 6 0 6-1 6-3 6-4 6-1 6-2 6-2 6-1 6-3 6-1 6-3 6-2 6-2 6 2 6 1M1152 -51l6 3 6 4 6 2 6 2 6 4 6 3 6 3M1218 -21l6 3 6 3 6 3 6 2 6 4 6 3 6 3M0 4l6-2 6-4 6-5 6-4 6-3 6-5 6-3 6-3 6-4 6-3 6-3 6-3 6-5M366 -175l6-1 6-2 6-2 6-2 6-2 6 0 6-1 6-1 6 0 6 0 6-1 6 1 6-1 6 1 6 1 6 2 6 2 6 1 6 0 6 0 6 0 6 0 6 1 6-2 6 1 6 1 6 0 6 0 6 2 6-1 6 1 6-2 6 2 6 1 6-2 6 1 6 2 6 0 6 1 6-1 6-2 6-2 6 0 6 2 6 0 6 1 6-2 6-1 6 2 6 0 6-2 6 2 6-2 6 1 6 2 6 1 6-1 6 0 6 2 6 1 6 3 6 1 6-1 6-1 6 3 6-1 6 0 6 1 6 1 6 1 6 2 6 1 6 0 6 0 6 2 6-1 6 1 6 0 6-3 6-2M1176 -42l6 2 6 3 6 4M1224 -27l6 2 6 4 6 4 6 3 6 6 6 8M0 4l6-3 6-2 6-3 6-3 6-3 6-4 6-3 6-4 6-4 6-4 6-4 6-2 6-3 6-4 6-5 6-4 6-5M366 -188l6-3 6-1 6 0 6-1 6-1 6-2 6 0 6 0 6-3 6-2 6-5M810 -225l6 2 6-1 6 2 6 4 6 0 6 4 6 0 6 1 6-1 6 1 6 1M888 -207l6 1 6 3M912 -201l6 6 6 1 6-1 6 4M1200 -45l6 1 6 2 6 5 6 5 6 4 6 4 6 5 6 6 6 6 6 7M0 4l6-3 6-3 6-4 6-3 6-4 6-4 6-4 6-4 6-4 6-4M90 -49l6-3 6-3 6-3 6-3 6-3 6-3 6-4 6-3 6-2 6-3 6-2 6-4 6-3M204 -105l6-2 6-2 6-2 6-2 6-4 6-3 6-3M366 -174l6-3 6-3 6-2 6-2 6 0 6-1 6-1 6 1 6-1 6-1 6 0 6 1 6 1 6 3 6 2 6 2 6-1 6-1 6 1 6-2 6-3 6-2 6-1 6-2 6-3 6-1 6-2 6 0 6-2 6-1 6 5 6 3 6 2 6 0 6-2 6-1 6 0 6 2 6-1 6 1 6-1 6 1 6-1 6 1 6 1 6-1 6 2 6 1 6-1 6 3 6-1 6-2 6 2 6-1 6 3 6 4 6 0 6 1 6 1 6-2 6 0 6-2 6 2 6-2 6-3 6 1M1110 -69l6 2 6 2M1152 -52l6 3 6 3 6 3 6 4 6 3 6 2 6 3 6 4 6 3 6 2 6 2 6 2 6 2 6 3 6 4 6 3 6 3 6 3M0 4l6-6 6-7 6-8 6-5 6-6 6-7 6-5 6-5 6-7 6-6 6-4 6-3 6-3 6-3M222 -154l6-7 6-6M366 -193l6-2 6-5M414 -204l6 1 6-1M774 -235l6-2 6 2M810 -230l6 2 6 1 6 2 6 4 6 0 6-1 6-1 6 1 6 1 6 2 6 2 6 6 6 2 6 2 6 0 6 4 6 3 6 3 6 3 6 2 6 3M954 -185l6 0 6 5M1056 -129l6-1 6 3 6 0 6 1 6 3 6 4M1116 -110l6 4 6 3 6 5 6 3 6 2 6 5 6 2 6 6 6 6 6 3 6 3 6 4 6 6 6 4 6 4 6 4 6 5 6 4 6 4 6 5 6 7 6 5 6 8 6 8M0 4l6-5 6-4 6-5 6-1 6-3 6-3 6-3 6-3 6-4 6-4 6-3 6-3 6-4 6-4M204 -107l6-2 6-3 6-3M234 -118l6-1 6-3 6-2M366 -175l6-2 6-2 6-1 6-1 6-2 6-1 6-2 6-5 6-6 6-2 6-4 6-1M600 -229l6 4 6 0M1044 -142l6 0 6 4 6 4 6 6 6 1 6 2 6 1 6 2M1116 -105l6 2 6 3 6 4M1164 -76l6 3 6 6 6 5 6 6 6 5 6 3 6 4 6 5 6 3 6 3 6 6 6 4 6 5 6 5 6 6 6 7M0 4l6-6 6-5 6-2 6-2 6-4 6-2 6-5 6-5 6-10M204 -105l6-1 6-1 6-3 6-2 6-1 6-1 6-3 6-4 6-1 6-2 6-2 6-2 6-3 6-2 6-2 6-3 6-3 6-2 6-3 6-2 6-3 6-4M348 -160l6-2 6-1 6-2 6-1 6-2 6-2 6-1 6-1 6-1 6-2 6 0 6 0 6 0 6-1 6 0 6-1 6 0 6 0 6 1 6 1 6-1 6-2 6-1 6-2 6 0 6 1 6 1 6-1 6-2 6-1 6-1 6-1 6 0 6 1 6-1 6 0 6 0 6-3 6 0 6 1 6 1 6 2 6 2 6 1 6-1 6-1 6-3 6 1 6 2 6 0 6 1 6 2 6 4 6 2 6 0 6 0 6-1 6-1 6 0 6 0 6 1 6 0 6 1 6 0 6 2 6 1 6 0 6 0 6 4 6 0 6 1 6 1 6-1 6 2 6 2 6 2 6-1 6 3 6 3 6 2 6-1 6 0 6 0 6 0M882 -146l6 3 6 4 6 2 6 2 6 3 6 0 6 1 6 1 6 3 6 4 6 2 6 3 6 1 6 2 6 3 6 1 6 2 6 1 6 1 6 0 6 2 6 2 6 1 6 2 6 1 6 3 6 3 6 2 6 3 6 1 6 3 6 2 6 2 6 2 6 3 6 2 6 4 6 1 6 3 6 2M1134 -58l6 3 6 4 6 2 6 2 6 4 6 2 6 3 6 2 6 3 6 3 6 4 6 3 6 2 6 2 6 3 6 2 6 2 6 2 6 2 6 2 6 6M0 4l6-4 6-3 6-6 6-5 6-7 6-5 6-6 6-8 6-8 6-7 6-4 6-4 6-6 6-6 6-5 6-3M120 -103l6-5 6-1M162 -135l6-8 6-1 6-1 6 0 6-3 6-2M216 -158l6-6 6-5 6-3M264 -190l6-2 6 0 6 0 6 1 6-2 6 0 6-3M390 -219l6-3 6 1 6-2M576 -226l6 3 6-1 6 5 6 2 6-1 6 1M972 -181l6-1 6 1 6 3 6 3 6 2 6 2 6 5 6 2 6 2 6 4 6 1 6 1 6 2 6 5 6 5 6 4 6 1 6 4 6 3 6 6 6 3 6 4 6 3 6 5 6 6 6 3 6 6M1188 -52l6 0 6 3 6 4 6 3 6 5 6 4 6 5 6 4 6 7 6 4 6 6 6 7M0 4l6-6 6-7 6-5 6-4 6-6 6-8 6-5 6-5 6-6 6-4 6-3 6-6 6-5M366 -195l6 0 6-3M576 -217l6 3 6 1 6 0 6 1 6 2 6 3 6-2 6-1 6 4 6-1 6-5M744 -187l6 5 6 7 6 5 6 5 6 3 6 3 6 2 6 1 6 2 6 3 6 1 6 1 6 0 6 2 6 1 6 0 6 0 6 0 6-1M1152 -51l6 3 6 3 6 3 6 2 6 3 6 3 6 1M1230 -18l6-1 6 3 6 4 6 5 6 7M0 4l6-6 6-4 6-4 6-6 6-7 6-5 6-6 6-2M366 -191l6-1 6-4 6-4 6 3 6 2 6 1 6 1 6-1 6-1 6-1 6-1 6 0M756 -185l6 5 6 2 6 2 6 5 6 0 6 5 6 1 6 2 6 0 6-2 6-2 6 2 6 4 6 4 6 3 6 1M1230 -18l6 4 6 2 6 5 6 3 6 4M0 4l6-7 6-5 6-1 6-2 6-6M126 -107l6-8 6-3 6-4 6-5 6-6 6-6 6-7 6-5 6-2 6 0 6 0 6-9 6 0 6-3 6-3 6-4 6-2 6-7 6-8 6 0 6-1 6-3 6-8 6-4 6 0 6 4 6 2 6-3 6-4 6-1M570 -203l6 3 6-1 6 2 6 1 6-1 6 1 6 0 6 1 6 1 6-1 6 1 6-1M708 -187l6 5 6 2 6 1 6 3 6 1 6 0 6 1 6 4 6 3 6 1 6 2 6 4 6 2 6 2 6 0 6 0 6 1 6 0 6 4 6 1 6 1 6 2 6 2 6 1 6 3 6 3 6 1 6 0 6 1 6 1 6 1 6 1 6 0 6-1 6 0 6 0 6 2 6 0 6 2 6 3 6 2M1080 -83l6 3 6 3 6 1M1152 -52l6 3 6 3 6 4 6 2 6 3 6 4 6 2M1224 -19l6 3 6 2 6 1 6 3 6 3 6 7M0 4l6-7 6-3 6-3 6-2 6-3 6-7M174 -137l6-4 6-3 6-2 6-4 6-8 6-7 6-1 6-1 6-6 6-6 6-5 6-2 6-7 6-8 6-7 6 3 6-5 6-4 6-6 6-6 6 1 6-6 6-5 6 3 6-2 6-6 6 0 6-2 6-3 6-3 6-5 6-2 6-2 6 2 6-1 6 0 6 2 6 3 6 1 6-3 6 0 6 0 6 2 6 2 6 0 6 2M828 -213l6 0 6 0 6 3 6 4 6 2 6 0M1176 -42l6 4 6 4 6 3M1218 -21l6 3 6 3 6 3 6 2 6 3 6 3 6 4M0 4l6-3 6-3 6-3 6-3 6-2 6-3 6-4 6-3 6-4 6-4 6-4 6-3 6-4 6-4 6-4 6-3 6-4 6-4 6-3 6-3 6-3 6-2 6-3 6-2 6-2 6-4 6-3 6-4M186 -96l6-3 6-4 6-3 6-3 6-3 6-2M366 -179l6-6 6-2 6-4 6-4 6-3 6-1 6-3 6-3M522 -198l6 2 6 0 6 0 6 2 6 4 6 2 6 1 6 0 6 0 6 2 6 3 6 1 6 1 6 0 6-1 6-1 6 0 6-3 6-2 6-1M666 -189l6 3 6 1 6-2M1176 -65l6 3 6 5 6 3 6 5 6 4 6 3 6 4 6 5 6 5 6 5 6 4 6 5 6 7 6 7M0 4l6-6 6-5 6-7 6-8 6-4 6-5 6-9 6-5 6-6 6-6 6-6 6-6 6-6 6-2 6 0M366 -179l6-4 6-1 6-3 6-4 6-3 6-3 6-5 6-1 6-1M522 -200l6-2 6-2 6-3M576 -215l6 0 6-2 6-1 6 2 6 0 6-1M1176 -44l6 5 6 4 6 3M1230 -17l6 3 6 2 6 4 6 4 6 4M0 4l6-7 6-4 6-2 6-2 6-5 6-3 6-6M66 -53l6-7 6-4M120 -99l6-9 6-6 6-7 6-4 6-4M216 -158l6-7 6-6 6-3 6-6 6-6 6-3 6-1 6-1 6 0 6 1 6-4 6-3 6-5 6-2 6-3M330 -222l6-2 6-1 6 1 6 2 6-1 6 0 6 0 6 1 6 2M510 -250l6-3 6-2 6-2 6-1 6-2 6-5 6-1 6 4 6-1 6-3 6 0 6 3 6 2 6 3 6-3 6 4M654 -260l6 0 6 0 6 2 6 1 6 1 6 5 6 0 6 1 6 1 6 0 6 4M810 -220l6 3 6 2 6 3 6 4 6 5M1020 -155l6 5 6 3M1044 -143l6 2 6 2 6 0 6 4 6 2 6 3 6 1 6 3 6 3 6 5 6 4 6 5 6 4 6 2 6 2 6 2 6 3 6 6 6 4 6 3 6 6 6 4 6 7 6 5 6 4 6 5 6 4 6 4 6 7 6 4 6 4 6 5 6 5 6 6 6 5 6 8M0 4l6-3 6-5 6-4 6-6 6-9 6-9 6-3 6-4 6-7 6-2M222 -158l6-5 6-2M366 -193l6-3 6 1 6-3M516 -249l6-5 6 1 6-3 6 0 6 0 6-1 6 1 6-2 6-3 6-1 6 1 6 0 6 1 6-1 6-1M654 -264l6 2 6 3 6 3 6 4 6 1M1176 -42l6 3 6 3 6 3M1230 -19l6 3 6 1 6 4 6 6 6 5M0 4l6-4 6-3 6-4 6-4 6-4 6-4 6-3 6-4 6-4 6-5M366 -210l6-5 6-4M390 -220l6-3 6-2 6-2M492 -262l6 1 6-1 6-1 6-2 6-1 6-1 6 0 6 0 6-1 6 0 6-2 6 2 6 0 6 1 6 1 6 0 6 4 6 1 6 5M1230 -18l6 1 6 2 6 8 6 4 6 3M0 4l6-3 6-6 6-7 6-6 6-4 6-4M366 -187l6 0 6 0 6-2 6-2 6-3 6-2 6-2 6-4 6-2M474 -196l6 4 6-2 6-2M522 -200l6-1 6 0 6 1 6-1 6 2 6-1 6-1 6 1 6 1 6 2 6 3 6 3 6 3 6 3 6 0 6-1 6 0 6 0 6-1 6 0 6 1 6 0 6-1M1230 -19l6 5 6 3 6 4 6 3 6 4M0 4l6-3 6-8 6-7 6-5 6-3 6-7 6-4 6-5M66 -53l6-7 6-6M174 -136l6-3 6-5 6-4 6-2M210 -154l6-5 6-2 6-2 6-3M282 -188l6-2 6-2 6-3 6-5M336 -220l6-4 6-5 6-6 6-2 6-1 6 0 6 2 6-1 6 1 6-1 6 3 6 1M576 -220l6 1 6-1 6 2 6 0 6 2 6-1 6 6 6 3 6 2 6 2 6 1M1020 -158l6 3 6 5 6 4 6 1 6 2 6 1 6 4 6 1 6 4 6 6 6 2 6 3 6-1 6 0 6 4 6 7 6 3 6 4 6 4 6 6 6 3 6 3 6 4 6 5 6 5 6 5 6 5 6 7 6 4 6 5 6 3 6 6 6 5 6 7 6 1 6 5 6 6 6 4 6 6 6 6M0 4l6-7 6-4 6-5 6-1 6-3 6-3 6-6M366 -189l6 2 6 0 6-4 6 4 6 1 6-4 6-3 6-2 6-2 6 1 6 1 6-1M600 -229l6 3 6 1M732 -186l6 3 6 4 6 3 6 0 6 0 6 1 6-1 6 5 6 4 6 3 6 1 6 0 6 1 6 1 6 1 6 2 6-1 6 0 6 1 6 0M960 -126l6 3 6 3M1014 -106l6 1 6 2 6 2 6 2 6 3 6 2 6 2 6 3 6 2 6 2 6 2 6 2 6 2M1152 -52l6 3 6 3 6 2 6 4 6 3 6 2 6 2M1230 -17l6 1 6 2 6 4 6 3 6 7M0 4l6-4 6-5 6-5 6-1 6-4 6-4 6-5 6-3 6-4 6-2 6-3 6-4M186 -95l6-1 6-1 6-2 6-1 6-2 6-2 6 0 6-2 6-3 6-2 6-3 6-4 6-2 6-4 6-3 6-3 6-2 6-2 6-3 6-5 6-2 6-4 6-2 6-1 6-2 6-2 6-1 6-1 6-2 6-2 6 0 6-1 6-2 6 0 6-2 6-1 6-1 6-2 6-1 6-2 6 0 6-1 6 0 6 0 6-1 6-1 6 3 6 0 6 0 6-1 6-2 6 0 6-2 6-1 6 0 6 1 6 1 6-2 6-2 6-1 6-2 6-4 6 1 6-1 6 0 6 1 6 0 6 0 6 2 6 0 6-1 6 0 6 2 6 1 6 0 6-1 6 1 6 4 6 3 6 0 6-1 6 0 6 2 6 2 6 0 6 1 6 0 6 1 6 1 6 1 6 2 6 3 6 2 6 2 6-1 6 1 6 3 6-2 6 2 6 0 6 0 6-1 6 1 6 2 6 1 6 1 6 1 6 0 6 0 6 0 6 0M1152 -51l6 3 6 3 6 3 6 4 6 4 6 4 6 3 6 3 6 3 6 2 6 2 6 1 6 2 6 3 6 2 6 2 6 4 6 3M0 4l6-7 6-5 6-2 6-4 6-5M42 -26l6-1 6-3 6-4M204 -105l6-4 6-4M1224 -23l6 2 6 0 6 3 6 5 6 5 6 8M0 4l6-3 6-6 6-2 6-5 6-8 6-5M342 -210l6-4 6-7 6-5 6-2 6-4 6-3 6-5 6-3 6-3 6 0 6-2 6 0 6 0 6 0 6 2M1224 -24l6-1 6 3 6 5 6 5 6 5 6 7M0 4l6-5 6-2 6-3 6-3 6-3 6-4 6-3 6-4 6-3 6-4 6-4 6-4 6-5M288 -185l6-6 6-5 6-3M342 -211l6-2 6-2 6-1 6-2 6-1 6-1 6 1 6-2 6 0 6-1 6-2M576 -221l6-3 6 3 6 0 6 1 6-1 6-4M768 -238l6 1 6 0 6 3M810 -231l6 2 6 2 6 3 6 1 6 0 6 0 6 2 6 1 6 1 6-1 6 2 6 3 6 2 6 1 6 0 6-1 6 1 6 1 6 0 6 3 6 0 6 1 6 0 6 2 6 4 6 0 6 3 6 1 6 3 6 5 6 4 6 5 6 5 6 5 6 3 6 2 6 2 6 3 6 1 6 3 6-2 6 3 6 4 6 1 6 4 6 3 6 4 6 5 6 5 6 5 6 1 6 4 6 4 6 4 6 6 6 6 6 5 6 3 6 6 6 4 6 4 6 4 6 5 6 6 6 7 6 6 6 4 6 6 6 5 6 5 6 5 6 4 6 6 6 8 6 6M0 4l6-4 6-5 6-3 6-4 6-4M366 -183l6 1 6-1 6-3 6 0 6-2 6 2 6-1 6-3 6-4 6 1 6-1 6 1 6-2 6-3M522 -206l6 1 6 0 6-4M576 -215l6-1 6 0 6 0 6 0 6 1 6-1M726 -186l6 2 6 1 6-1 6-1 6 1 6 1 6 4 6 0M792 -172l6 4 6 0 6-2M822 -166l6 4 6-2 6 1 6-1 6 4M1200 -44l6-1 6 4 6 3 6 3 6 4 6 4 6 7 6 7 6 7 6 6M0 4l6-4 6-6 6-9 6-7 6-6 6-3 6-4 6-4M546 -249l6-3 6-3 6-2 6 0 6 2 6 0 6 3M810 -220l6 0 6 4 6 1 6 3 6 8 6 5M1176 -41l6 2 6 3 6 1M1230 -18l6 4 6 4 6 4 6 2 6 4M0 4l6-5 6-5 6-4 6-4 6-2 6-3 6-9M342 -208l6-5 6-2 6-3 6-4 6-1 6-1 6 1 6-5 6-4 6-2 6-1M444 -249l6-2 6 0 6-1 6 0M510 -256l6-2 6 1 6 4 6 1M810 -227l6 3 6-1 6 1 6 2 6 1 6 2 6 0 6-1 6 2 6-1 6 2 6 1 6 3 6 2 6 3 6 8M1230 -19l6 4 6 3 6 2 6 5 6 5M0 4l6-6 6-3 6-4 6-3 6-4 6-3 6-5 6-6M120 -105l6-3 6-2M174 -137l6-6 6-4 6-6 6-5 6-10 6-3 6-5 6-2 6-5 6 4 6 0 6-5M264 -191l6-3 6-3 6-4 6-6 6-5 6 0 6-1 6-5 6-2 6 0M342 -217l6-1 6-1 6 2 6-1 6 0 6 0M396 -219l6-2 6-2M576 -224l6 0 6 1 6 0 6 4 6 3 6 0 6 3 6-2M1230 -19l6 0 6 5 6 6 6 4 6 4M0 4l6-6 6-2 6-5 6-2 6-4 6-3 6-3 6-5 6-4 6-3M576 -203l6 3 6 1 6 0 6 2 6 2 6 4 6 1 6 0 6-1 6-4 6-5M1194 -51l6 5 6 3 6 3 6 4 6 3 6 5 6 5 6 6 6 6 6 5 6 6M0 4l6-3 6-4 6-3 6-3 6-4 6-5 6-5 6-4 6-4M204 -105l6-3 6-2 6-3 6-3M366 -177l6-1 6 0 6 0 6-1 6 0 6-1 6-1 6 0 6 1 6 0 6 1 6-3 6-2 6-2 6-1 6 1 6-1 6-4 6-2 6-4M582 -229l6 3 6 3 6 5 6 4 6 4 6 2 6-1 6-1 6 4 6-1M750 -185l6 1 6-3M1050 -97l6 4 6 2M1080 -83l6 3 6 2M1152 -53l6 4 6 4 6 2 6 2 6 4 6 2 6 3M1224 -19l6 3 6 3 6 3 6 3 6 2 6 5M0 4l6-7 6-4 6-4 6-5 6-6 6-6 6-5 6-4M138 -117l6-6 6-4M168 -138l6-7 6-9 6-4 6-2 6 1 6-3 6-4 6 0 6 1 6-2 6-5 6-6 6-5M264 -190l6-3 6-3 6 0 6-1 6-3 6 1 6-5M342 -217l6 1 6 0 6 1 6 0 6 3 6 0M1200 -44l6 1 6 3 6 3 6 4 6 5 6 5 6 6 6 5 6 6 6 6M0 4l6-7 6-5 6-3 6-5 6-6 6-1M402 -202l6 0 6 2 6 2 6 1 6-1 6 0 6 2 6 2 6-1 6-5M576 -211l6 3 6 1 6-1 6-1 6 2 6-2 6-1 6-1 6 3 6 3 6 0M1014 -106l6 2 6 3 6 1 6 2 6 2 6 2 6 2 6 1M1200 -44l6 2 6 4 6 5 6 5 6 2 6 3 6 6 6 5 6 5 6 7M0 4l6-3 6-3 6-4 6-4 6-5M210 -158l6-1 6-4 6-3 6-6 6-6 6-4M264 -189l6 0 6-2 6-4 6-5 6-2 6 0 6-1M336 -219l6-6 6-4 6-3 6-4 6-1 6-6 6 0 6-2 6-4 6-2 6-1 6-2 6-1 6-1 6-1 6-2 6-2 6-1 6-2 6 0 6 2 6 2 6 0M492 -262l6-2 6-1 6 1 6 1 6 0 6 1 6 2 6-1 6 1 6-1 6-1 6 1 6 0 6-2 6 1 6-3 6-1 6-1 6 1 6 0 6 0 6-1M654 -266l6 1 6 2 6 0 6 1 6 0 6 1 6 1 6 2 6 1 6 2 6 1 6 2 6 2M762 -245l6 0 6-1 6-1 6 1 6 1 6-1 6 1 6 2 6 2 6 1 6 2 6 1 6 3 6-1 6 0 6 3 6 1 6 4 6 5 6 2 6 2 6-2 6 1 6 1 6 3 6 2 6 0 6 2 6 3 6 3 6 4 6 7 6 5 6 4 6 3 6 3 6 5M1224 -20l6 4 6 2 6 4 6 3 6 3 6 4M0 4l6-6 6-7 6-5 6-5 6-6 6-7 6-6 6-5 6-4 6-5 6-1M366 -169l6-1 6-2 6-2 6-2 6-1 6-1 6-1 6-2 6-1 6 1 6 0 6-1 6 0 6 0 6 1 6-1 6-2 6-1 6 0 6-3 6-3 6-5M522 -204l6 0 6 1 6-2 6 1 6-1 6-1M576 -206l6 1 6 3 6 0 6-2 6 2 6 2 6 0 6-1 6 0 6 1 6 2M690 -187l6 1 6 0 6 0 6 3 6 0 6-1 6 0 6-2 6-2 6 4 6-2M1224 -25l6 3 6 2 6 5 6 4 6 6 6 5M0 4l6-6 6-6 6-6 6-3 6-2M366 -195l6 0 6-2M402 -202l6 0 6-3M768 -238l6-2 6 2 6 1 6 1 6 0 6-1 6 0 6 0 6 1 6 1 6 2 6 2 6 4 6 2 6 2 6 2 6 2 6 3 6 2 6 3 6 3 6 4 6 2 6 6M972 -179l6 1 6 5M1020 -155l6 4 6 3M1044 -144l6 0 6 2 6 3 6-1 6 1 6 1 6 1 6 3 6 4 6 3 6 6 6 3 6 3 6 3 6 4 6 3 6 4 6 5 6 4 6 6 6 5 6 7 6 6 6 5 6 5 6 4 6 5 6 3 6 4 6 5 6 6 6 6 6 5 6 6 6 7 6 7M0 4l6-7 6-4 6-5 6-5 6-4 6-9 6-6 6-3M294 -187l6-4 6-2M342 -217l6-1 6-1 6-1 6-2 6-7 6-2 6 1 6 0 6-4 6-3 6-3M1056 -125l6 3 6 2M1200 -43l6 1 6 3 6 4 6 5 6 8 6 6 6 1 6 6 6 4 6 5M0 4l6-3 6-3 6-3 6-4 6-3 6-3 6-3 6-3 6-5 6-5 6-4 6-3 6-4M762 -182l6 3 6 0 6 2 6 2 6 5 6 2 6-2 6 0 6 2 6 3 6 4 6 2 6 2 6 4 6 2M1224 -25l6 3 6 4 6 5 6 4 6 5 6 4M0 4l6-7 6-7 6-5 6-4 6-6 6-8 6-3 6-6 6-4 6-5 6 1M366 -176l6-1 6-2 6-1 6-2 6-2 6-2 6 0 6-4 6-7 6-3 6-1 6-3M576 -210l6 2 6 0 6-2 6 0 6 1 6 2 6 0 6 0 6-2M936 -133l6 3 6 2M960 -124l6 1 6 1M1182 -60l6 2 6 5 6 5 6 4 6 4 6 4 6 4 6 4 6 4 6 5 6 6 6 7 6 6M0 4l6-4 6-4 6-3 6-6 6-5M132 -113l6-8 6-9 6-4 6-6 6-11 6-5 6-5 6-8 6-2 6-7 6-9 6 0 6-5 6-5 6-8 6-1 6-2 6-5 6-10 6-7 6-8 6-8 6-11 6-5 6-3 6-10 6 0 6 2 6-4 6-3 6-1 6-2 6-6 6 0 6-3 6-8 6-4 6 4 6 0 6-4 6-4 6-1 6 0 6-3 6 0 6 2 6 1 6 2 6 0 6 2 6 2 6-1 6 1 6 2 6 0 6 2 6-1 6 1 6-2 6 1 6 0 6-1 6 1 6-1 6 0 6 0 6-1 6 0 6 0 6 0 6-1 6 0 6-1 6 0 6 0 6 1 6 1 6 1 6 0 6 2 6 0 6 1 6 0 6-1 6-1 6 1 6 1 6 1 6-1 6 1 6 3 6 3 6 0 6 1 6 2 6 1 6 1 6 2 6-1 6 0 6 2 6 2 6 2 6 3 6 3 6 1 6 1 6 2 6 2 6 1 6-1 6 3 6 1 6 0 6 1 6 2 6 3 6 2 6 2 6 4 6 2 6 1 6 0 6 1 6 2 6 1 6 1 6 1 6 3 6 3 6 3 6 5 6 3 6 3 6 4 6 4 6 7 6 3 6 2 6 4 6 5 6 6 6 7 6 3 6 1 6 3 6 3 6 4 6 3 6 2 6 3 6 5 6 3 6 2 6 2 6 3 6 3 6 1 6 4 6 4 6 5 6 3 6 4 6 4 6 5 6 6 6 1 6 5 6 6M1170 -71l6 3 6 3 6 6 6 4 6 4 6 5 6 6 6 6 6 3 6 5 6 8 6 4 6 6 6 4 6 4M0 4l6-8 6-8 6-6 6-6 6-8 6-5 6-5 6-5 6-5 6-6 6-5 6-6 6-6 6-5 6-8 6-5 6-7 6-6 6-7 6-2 6 0 6-2 6-7 6-9 6-5 6-9 6-4 6-4 6-5 6 2 6-3 6 3 6-3 6 0 6-1 6-4 6-5 6-4 6 0 6-3 6-4M264 -191l6-3 6-3 6 1 6-4 6-5 6 1 6-6 6-5 6-6 6-2 6-3 6-5 6 0 6-4 6-2 6-2 6 1 6-2 6-1 6-2 6-3 6-2 6-4 6 1 6-1 6-2 6-2 6-2 6-5 6 1 6-3 6-3 6 0 6 1 6 2 6-2 6 2 6 0 6 1 6 1 6 0 6 0 6 3 6 0 6 6 6 1 6 3M576 -251l6-3 6 3M1152 -53l6 3 6 3 6 2 6 3 6 4 6 2 6 4 6 5 6 2 6 2 6 2 6 2 6 3 6 3 6 2 6 1 6 4 6 6M0 4l6-3 6-4 6-3 6-3 6-3 6-3 6-4 6-4 6-4 6-3 6-2 6-4 6-4 6-5M282 -187l6-2 6-5 6-4 6-4M342 -218l6-3 6-1 6-1 6-2 6-2 6-4 6-3 6-6 6-4 6-3 6 1 6-3 6 2 6 2 6 0M456 -249l6-6 6-2 6-4 6-1 6-1 6-2 6 0 6-2 6 1 6 0 6 0 6 0 6 0 6 2 6 2 6 0 6 2 6 2 6 2 6 0 6-1 6-4 6-1 6 3 6 0M654 -253l6 1 6 3M1230 -17l6 3 6 0 6 2 6 5 6 7M0 4l6-3 6-9 6-8 6-5 6-6 6-7 6-7 6-9 6-6 6-4 6-7 6-7 6-6 6-7 6-6 6-7 6-3 6-5 6-7 6-5 6-5 6-3 6-4 6-4 6-2 6-5 6-7 6-2 6-4 6-3 6-4 6-2 6 1 6-1 6 5 6 1 6-1 6-2 6-2M366 -178l6-1 6-2 6-2 6 0 6-3 6-3 6 1 6 2 6-2 6-3 6 1 6-5M540 -208l6 5 6-1 6-3M576 -209l6-2 6 0 6-3 6 0 6-1 6-2 6 4 6-1M738 -189l6 5 6 2 6 0 6 1 6 5 6 0 6-1M1176 -41l6 3 6 4 6 4 6 3 6 3 6 3 6 2 6 2 6 3 6 2 6 3 6 2 6 3 6 4M0 4l6-4 6-6 6-9 6-3 6-4 6-3M54 -42l6-10 6-7 6-6 6-7 6-6 6-6 6-5 6-7 6 0 6-1 6-5 6-7 6-6 6-5 6-2 6-3M168 -137l6-2 6-2 6 1M576 -221l6-1 6 1 6 2 6 1 6 3 6 2 6 2 6-1M1176 -67l6 5 6 5 6 5 6 7M1230 -17l6 3 6 3 6 4 6 3 6 4M0 4l6-2 6-3 6-3 6-3 6-4 6-4 6-3 6-4 6-4 6-4 6-5 6-4M156 -84l6-1 6-2M186 -92l6-2 6 0 6 0 6-2 6-1 6 0 6-2 6-3 6-2 6-4 6-2 6-4 6-4 6-3 6-3 6-4 6-2 6-4 6-4 6-4 6-5M366 -171l6-3 6-2 6-3 6-3 6-3 6-1 6-2 6-2 6-1 6-4 6 1 6 0 6-3M576 -226l6-1 6-2M660 -250l6-3 6-3 6-2 6 0 6 1 6 1 6-3 6 1 6 1 6 1 6 1 6 3M762 -242l6 2 6 2 6-2 6-1 6 0 6 2 6 2 6 1 6 1 6 4 6 5 6 3 6 0 6 3 6 3 6 3 6 3M1176 -43l6 3 6 3 6 1M1230 -20l6 6 6 2 6 4 6 4 6 4M0 4l6-3 6-2 6-4 6-2 6-4 6-4 6-3 6-4 6-4 6-3 6-3 6-4 6-3 6-4 6-4 6-3 6-4 6-4 6-4M276 -187l6-2 6 0 6-4 6-6 6-2M342 -222l6 3 6-3 6-1 6-2 6-1 6-2 6 0 6 0 6 0 6-3 6-1M600 -229l6 2 6 0M726 -187l6 3 6 3 6 1 6-2 6 2 6 1 6 2 6 0 6 3 6 2 6 1M804 -170l6 3 6-1 6 0M1176 -43l6 3 6-2M1200 -42l6 0 6 3 6 4 6 4 6 3 6 4 6 5 6 6 6 6 6 7M0 4l6-4 6-3 6-3 6-3 6-5 6-4 6-4 6-5 6-4M216 -155l6-4 6-5 6-6M282 -185l6-5 6 0 6 0M342 -214l6-1 6-4 6-1 6-3 6 2 6 2M534 -252l6-1 6-2 6-3 6 0 6-2 6 2 6-2 6-3 6-1 6 2 6 3 6 1M1224 -24l6 3 6 2 6 3 6 4 6 5 6 7M0 4l6-7 6-7 6-4 6-2 6-4 6-4M186 -141l6-6 6-5M216 -156l6-6 6-5 6-5 6-8 6-14 6-3 6 2 6 2 6-2 6-4 6-3 6-4 6-1 6-3 6-3M342 -221l6-1 6-1 6-5 6-2 6-2 6 2 6 2 6 0 6-1 6 1 6-3M1128 -61l6 4 6 3 6 3 6 3 6 2 6 3 6 3 6 3 6 2 6 3 6 3 6 3 6 3 6 2 6 3 6 2 6 2 6 2 6 3 6 3 6 3 6 3M0 4l6-3 6-3 6-3 6-4 6-3 6-4 6-5 6-3 6-4 6-4 6-5M222 -152l6-7 6-4M282 -188l6-2 6 0 6 0M576 -216l6-2 6 0 6 0 6 3 6 0 6 0M1032 -102l6 3 6 2 6 2 6 0M1080 -84l6 2 6 3M1218 -32l6 3 6 2 6 5 6 5 6 8 6 5 6 4M0 4l6-3 6-5 6-6 6-4 6-2M288 -188l6-1 6-3 6-3M348 -207l6-5 6-3 6-1 6 1 6 3M396 -220l6-3 6-3M456 -250l6-2 6-2M510 -254l6 1 6 0 6 2M828 -204l6 0 6 2M1038 -101l6 4 6 3 6 4 6 3 6 3 6 2 6 2 6 2 6 2 6 2M1176 -42l6 2 6 3 6 3M1224 -21l6 0 6 5 6 5 6 3 6 4 6 4M0 4l6-3 6-3 6-4 6-3 6-2 6-4 6-3 6-4 6-4 6-3 6-3 6-4 6-4 6-4 6-3 6-3 6-4 6-4 6-4M210 -110l6-2 6-4M366 -174l6-2 6-2 6-2 6-2 6-2 6-2 6-7 6-2 6-1 6 1 6-2 6-3M576 -220l6 2 6 4 6 1 6-2 6 1 6 2 6 1 6 2M1176 -45l6 5 6 1M1224 -23l6 7 6 3 6 3 6 3 6 3 6 4M0 4l6-7 6-7 6-4 6-4 6-3 6-5M342 -212l6-6 6-2 6-1 6-7 6-1 6-1 6 2 6 1 6-1 6 2 6-2M576 -223l6-3 6-2M762 -237l6-3 6 5M810 -225l6 1 6 2 6 1 6-1 6 4 6 2 6 2 6 3 6 7M1020 -158l6 4 6 4 6 5M1056 -135l6 5 6 5 6 5M1218 -29l6 0 6 4 6 4 6 3 6 6 6 6 6 6M0 4l6-3 6-4 6-3 6-5 6-4 6-4 6-3 6-5 6-3 6-3 6-3 6-3M84 -45l6-3 6-3 6-3 6-4 6-4M204 -106l6-2 6-2 6-3 6-2 6-2 6-2 6-4M366 -177l6-2 6 1 6-1 6-1 6-1 6-1 6-2 6 0 6-1 6-1 6-1 6 0 6-3 6-4 6-4M516 -198l6 1 6 1 6 0 6 0 6 4 6-2 6 2 6 0 6-4 6-1 6 1 6 0 6 2 6 1 6 0 6-1 6 0 6 0 6-3 6-2 6 2M780 -178l6 3 6 0M834 -165l6 5 6 3 6 2M1176 -42l6 4 6 2 6 2M1224 -27l6 1 6 4 6 5 6 6 6 5 6 6M0 4l6-2 6-3 6-3 6-3 6-3 6-4 6-4 6-4 6-4 6-3 6-4 6-4 6-3 6-4 6-2 6-3 6-3 6-4 6-5 6-4M366 -169l6-1 6 0 6 0 6-1 6 1 6 0 6 1 6 0 6 0 6-2 6 2 6 2 6 0 6-1 6 0 6-2 6-1 6-1 6 1 6 2 6-1 6-2 6 1 6 2 6 2 6-1 6 1 6 0 6 1 6-3 6-1 6 0 6 3 6 3 6-1 6-1 6 0 6-1 6-1 6 2 6 1 6-2 6 2 6 0 6 3 6 2 6 4 6 4 6 4 6-1 6 1 6 1 6 0 6 2 6 1 6 3 6 0 6 0 6 0 6 1 6 0 6-2 6 1 6 2 6 2 6 1 6 0 6 1 6 0 6 1 6 0 6 2 6 1 6 0 6-1 6 1 6-1 6 0 6 1 6-1 6-1 6-1 6 1 6 1 6 2 6 1 6 2 6 1 6 1 6 2 6 1 6 0 6 3 6 2 6-1 6 2 6 2 6 2 6 2 6 2 6 1 6 1 6 3 6 2 6 3 6 2 6 3 6 2 6 3 6 1 6 2 6 1 6 1 6 1 6 2 6 2 6 2 6 2 6 2 6 3 6 3 6 1 6 2 6 2 6 2 6 2 6 2 6 3 6 5 6 2 6 2 6 4 6 3 6 4 6 1 6 2 6 2 6 2 6 2 6 2 6 3 6 1 6 2 6 2 6 1 6 2 6 3 6 4 6 3M0 4l6-3 6-4 6-4 6-5 6-6M54 -43l6-9 6-6 6-7 6-6 6-5 6-7 6-6 6-8 6-4 6-5 6-6 6-5 6-8 6-6 6-7 6-7 6-1 6-4 6-4 6 0 6-1 6-1 6 2 6-3 6 1 6-5 6-2 6-2 6-3 6-2M264 -185l6-4 6-4 6-4 6-1 6-3 6-1 6-1M396 -201l6 2 6 1 6-2 6 1 6-1 6 0 6-1M576 -222l6-4 6 0 6-2M732 -186l6 5 6 4 6-1 6 3 6 1 6 1 6 1 6 1 6-4 6-2M1230 -17l6 4 6 2 6 3 6 2 6 6M0 4l6-5 6-2 6-3 6-4 6-6M120 -99l6-9 6-5 6-6 6-2M168 -138l6-2 6-4 6-4 6-4 6-4 6-4 6-6 6-14 6-6 6-2 6 1 6-1 6-5 6-2 6-4 6-5 6-4 6-6 6 4 6-1 6 1 6-1 6-1M342 -219l6-4 6 0 6 3 6-1 6-6 6-2 6-3 6 1 6 0 6 0 6 1M828 -207l6 1 6 2 6 1M1056 -132l6 4 6 6 6 3M1182 -61l6 4 6 6 6 6 6 3 6 4 6 3 6 4 6 5 6 4 6 4 6 5 6 6 6 7M0 4l6-6 6-8 6-4 6-3 6-7 6 0 6-2 6-1 6-3 6-4M594 -253l6-3 6-2M654 -252l6-4 6-1 6-1 6 3 6 0 6 0 6 4 6 2 6 1M762 -248l6 1 6-1 6 0 6 3 6 2 6 1 6 1 6 0 6 2 6 0 6-1 6 1 6 1 6 2 6 3 6 1 6 0 6-1 6 4 6 4 6-3 6 0 6 4 6 4 6 4 6 5 6 2 6 0 6 3 6 2 6 2 6 2 6 2 6 6 6 3 6 4 6 7 6 3 6 4M1020 -157l6 4 6 5M1056 -128l6 6 6 5M1218 -31l6 2 6 4 6 4 6 5 6 4 6 6 6 6M0 4l6-6 6-9 6-6 6-4 6-2 6-4 6-6 6-4M66 -56l6-5 6-5M234 -119l6-1 6-1 6-2M366 -172l6-1 6-1 6-1 6 0 6 0 6 0 6-1 6-1 6 1 6 0 6-1 6-2 6-2 6-1 6-1 6-2 6-1 6-4 6-3 6-4M576 -207l6-2 6 0 6 1 6 1 6-1 6-3 6 1 6 1 6 3 6-1 6 5M930 -133l6 3 6 4 6 2 6 1 6 2 6 2 6 3 6 1 6 2 6 4 6 4 6 2 6 3 6 2 6 3 6 3 6 1 6 3 6 1 6 3 6 2 6 1 6 3 6 3 6 2 6 0 6 2 6 3 6 1 6 2 6 2 6 3 6 2 6 3 6 3 6 2 6 3 6 2 6 3 6 2 6 1 6 2 6 4 6 2 6 3 6 3 6 2 6 2 6 3 6 3 6 2 6 3 6 3 6 5 6 2M0 4l6-6 6-7 6-4 6-5 6-7 6-6 6-6 6-4 6-1M186 -142l6-8 6-6 6-5 6-14 6-8 6-9 6-10 6 1 6-2 6-2 6 0 6-5 6-1 6 4 6 6 6-8 6-8 6-5 6-6 6-5 6-7 6-6 6-5 6 0 6-3 6-1 6-1 6-3 6-1 6-3 6-1 6-3 6 1 6-4 6 0 6 0 6 2 6 1 6 2 6 2 6-1 6-1 6 3 6 1 6 1 6 1 6-1 6 2M492 -261l6 1 6 0 6-1 6 1 6-1 6-1 6-1 6 0 6-1 6 0 6 0 6 1 6 1 6 5 6 0 6-4 6 0 6 0 6 1M654 -259l6 0 6-1 6 1 6 0 6 2 6 2 6 3 6 1 6 1 6 1 6 0 6 3M810 -216l6-1 6 5 6 3 6-4 6-1 6 2 6 2 6 3 6 2M918 -194l6 2 6 2M972 -181l6 2 6 2 6 3M1014 -163l6 1 6 3 6 5 6 4 6 1 6 3 6 3 6 4 6 5 6 2 6 1 6 4 6 5M1116 -109l6 5 6 4 6 3M1224 -21l6 5 6 3 6 4 6 3 6 3 6 3M0 4l6-3 6-3 6-4 6-3 6-4 6-5 6-5 6-4 6-4M288 -188l6-4 6-4 6-8M336 -223l6-1 6-5 6-1 6 2 6 1 6-1 6 0 6-1 6 1 6 2 6 2 6-2M552 -251l6-2 6 1 6 3M810 -227l6 2 6 5 6 3 6 3 6 3 6 0 6 2 6 3 6 5M912 -196l6 1 6 2 6 4M1014 -164l6 2 6 4 6 3 6 5 6 3 6 3 6 3 6 6 6 2 6 3 6 2 6 5 6 2M1110 -114l6 2 6 3 6 3 6 4 6 4 6 2 6 4 6 4 6 4 6 3 6 6 6 5 6 6 6 7 6 4 6 4 6 4 6 6 6 6 6 5 6 4 6 5 6 6 6 6 6 7M0 4l6-5 6-6 6-1 6-5 6-4M48 -37l6-10 6-8 6-8 6-7 6-2 6-4 6-4 6-1M174 -138l6-6 6-5 6-2 6 0M216 -158l6-2 6 2M366 -189l6-2 6 2 6 0 6-1 6 0 6-1 6 2 6-4 6-3 6-4 6-1 6 1M576 -222l6-3 6 1 6 1 6 1 6 0 6-1M912 -198l6 1 6 0 6 3 6 2 6 0 6 1 6 3 6 3 6 4M1014 -161l6 2 6 3 6 2 6 4 6 3 6 3 6 2 6 2 6 2 6 1 6 3 6 5 6 7M1116 -109l6 6 6 4 6 5M1230 -17l6 3 6 3 6 1 6 5 6 5M0 4l6-7 6-5 6-3 6-5 6-5 6-5 6-6 6-9 6-4 6-6 6-6 6-5 6-5 6-5M342 -210l6-4 6 2 6-3 6-6 6-4 6 0 6-2 6 1 6 0 6-3 6-1M504 -256l6-7 6-5 6 0 6-2 6-1 6-2 6-2 6-1 6-1 6-2 6 1 6 2 6 1 6-1 6 0 6 1 6-1 6 0 6 0 6 1 6 1 6 0 6 2 6 0 6 1 6 4 6 2 6-1 6 0 6 0 6 1 6 0 6 1 6 0 6 0 6 0 6 0 6-1 6-1 6 1 6 1 6 0 6-1 6-1 6 1 6 1 6 2 6 3 6 2 6 4 6 2 6 3 6 4 6-1 6 3 6 3 6 5 6 0 6 4 6 4 6 4 6 2 6 2 6 2 6 3 6 2 6 2 6 1 6 1 6 1 6 2 6 3 6 6 6 3 6 4 6 3 6 4M1044 -139l6-2 6 3 6 4 6 4 6 4 6 1 6 2 6 4 6-1 6 2 6 2 6 1 6 1 6 4 6 2 6 2 6 5 6 5 6 5 6 6 6 4 6 6 6 5 6 7 6 4 6 7 6 5 6 4 6 6 6 6 6 4 6 4 6 5 6 6 6 6 6 6M0 4l6-3 6-3 6-3 6-2 6-3 6-5 6-4 6-4 6-3 6-4 6-4 6-5M366 -179l6 0 6-1 6-1 6-2 6-1 6 0 6 1 6 0 6-1 6-2 6-1 6 0 6 0 6 3 6 1 6 0 6 0 6 1 6-3 6-2 6-3 6-3 6-1 6-3 6 0 6-1 6 0 6 0 6-1 6-3 6 0 6-2M576 -214l6-3 6 1 6-1 6 0 6-2 6 1M1182 -41l6 5 6 3M1206 -26l6 4 6 2 6 3 6 2 6 2 6 3 6 3 6 4 6 3M0 4l6-7 6-5 6-6 6-3 6-9 6-8 6-5 6-5 6-7 6-5 6-8 6-6 6-6 6-4 6-2 6-3M210 -155l6-8 6-5 6 0 6-5 6-3M264 -185l6-4 6 0 6-3 6-3 6-1 6-4 6-3M336 -223l6-5 6-1 6-4 6-6 6-6 6-5 6 0 6 0 6 0 6 1 6 0 6 2 6 3 6 2 6 0M1056 -128l6 5 6 3M1116 -106l6 3 6 3 6 6M1176 -67l6 2 6 3 6 3 6 4 6 5 6 4 6 6 6 5 6 5 6 6 6 6 6 5 6 5 6 8M0 4l6-3 6-3 6-3 6-4 6-3 6-3 6-4 6-3 6-3 6-4 6-3 6-5 6-3 6-4 6-2 6-3 6-4 6-4 6-2 6-4 6-3 6-3 6-3 6-2 6-2 6-2 6 0 6-4 6-3 6-1 6-2 6-1 6-1 6-2 6-2 6-4 6-2 6-2 6-2 6-4 6-3 6-3 6-4 6-3 6-4 6-2 6-4 6-4 6-2 6-4 6-4 6-4M366 -174l6-1 6-1 6-2 6-1 6-1 6 1 6 0 6-1 6 0 6 2 6 1 6 1 6 2 6 2 6 1 6 2 6-2 6-3 6 2 6 2 6 1 6 3 6 4 6 4 6 0 6 1 6 2 6-2 6 1 6 0 6-3 6-3 6 0 6 0 6 2 6-2 6 0 6-4 6 0 6-1 6-3 6-1 6-1 6-1 6 2 6 0 6-2 6-1 6 1 6-1 6 1 6 1 6 1 6 1 6 2 6 0 6 2 6 2 6-3 6 0 6 0 6-1 6 2 6-2 6 2 6 2 6 1 6 0 6 1 6 0 6 1 6 1 6 0 6 1 6 2 6 1 6 1 6 2 6 2 6 2 6 4 6 1 6 3 6 2 6 1 6 1 6 1 6-1 6-1 6 1 6 1 6 1M960 -124l6 3 6 1M1080 -85l6 3 6 4M1140 -56l6 4 6 4 6 3 6 3 6 2 6 3 6 3 6 3 6 4 6 2 6 2 6 2 6 2 6 1 6 2 6 3 6 1 6 0 6 5 6 7M0 4l6-4 6-6 6-2 6-3 6-4 6-2 6-4 6-4 6-3 6-3 6-3 6-4 6-4M366 -188l6-8 6-4M576 -206l6 0 6 1 6-1 6-2 6 3 6 3 6 2 6 2 6 1 6 0 6-2M696 -187l6 1 6 0 6-1M726 -183l6 1 6 1 6 3 6 2 6 4 6 3 6 3 6 1 6-1 6 0 6 1 6 3 6-1 6 0 6 1 6 2 6 1 6-2 6-2 6 2 6 0M1224 -26l6 3 6 1 6 5 6 5 6 6 6 6M0 4l6-8 6-7 6-5 6-6 6-4 6-3 6-2M282 -186l6-5 6-3 6-2 6-2M342 -220l6-5 6-3 6-3 6-3 6 0 6 0 6 0 6 0 6 0 6-4 6 2M558 -248l6-4 6 2M1056 -134l6 2 6 1 6 2 6 5 6 1 6 2M1116 -107l6 3 6 4 6 2M1146 -89l6 2 6 3 6 6 6 6M1182 -60l6 3 6 3 6 2 6 3 6 5 6 5 6 5 6 5 6 5 6 4 6 7 6 6 6 7M0 4l6-6 6-3 6-7 6-7 6-7 6-5 6-5 6-3M66 -57l6-3 6-7 6-4M120 -101l6-8 6-7 6-6 6-7 6-7 6-6 6-6 6-6 6-6 6-5 6-9 6-9 6-12 6-4 6-2 6-6 6-1 6 0 6 1 6 4 6 1 6 0 6 4 6 4 6-1 6-3 6-1 6-4 6-1 6 0 6-4M342 -216l6-2 6-3 6-3 6-5 6-1 6-1 6-4 6-4 6-1 6-5 6-5 6-4 6-3 6-5 6-1 6-1 6-2 6-2 6-1 6-1 6-1 6 0 6-1 6 2 6 0 6 1 6 3 6 0 6-2 6 0 6-1 6 0 6 0 6 1 6-1 6 1 6 2 6 2 6 3 6-1 6-1 6 0 6 0 6 0M660 -251l6-2 6 3M828 -211l6 1 6 5 6 3M1218 -31l6 3 6 5 6 6 6 1 6 7 6 5 6 4M0 4l6-7 6-3 6-1 6-4 6-4 6-3 6-3 6-5 6-3 6-3 6-3 6-4M366 -188l6-4 6-3 6-4M402 -201l6 2 6-2 6-4 6 0 6 2 6 3M690 -250l6 0 6-1 6 2 6 1M828 -216l6 3 6 1 6 1 6 1 6 2 6 0M918 -194l6 1 6 3M1056 -130l6 5 6 6M1218 -32l6 4 6 2 6 3 6 6 6 5 6 5 6 7M0 4l6-2 6-4 6-5 6-4 6-4 6-3 6-4 6-5 6-4M1044 -142l6 1 6 4 6 5 6 5 6 6M1182 -41l6 4 6 1M1224 -26l6 4 6 3 6 2 6 5 6 6 6 6M0 4l6-5 6-4 6-6 6-5 6-5 6-5M366 -177l6-1 6-2 6-1 6-1 6-1 6 0 6-2 6 0 6 0 6-1 6 0 6-1 6-1 6-2 6-6 6 1 6 1 6-3M576 -218l6-3 6 0 6 1 6 0 6 3 6 4 6 1 6 3 6 4 6-1 6 4M996 -111l6 3 6 3 6 1 6 2 6 3 6 2 6 2 6 1 6 1 6 1 6 2M1224 -25l6 4 6 6 6 2 6 1 6 5 6 7M0 4l6-8 6-7 6-5 6-3 6-5 6-5 6-6 6-6 6-6 6-7 6-3 6-3 6-5M120 -107l6-6 6-6 6-6 6-7 6-1 6-6 6-8 6-2 6-9 6-10 6-2 6-9 6-7 6-3 6-11 6-9 6-3 6 5 6-5 6-2 6 1 6-2 6-4 6-8 6-1 6-4 6-2 6 1 6-4 6 2 6 4 6 1 6 2 6-2 6-1 6 1 6 1 6 1 6-6 6-2 6 4 6 1 6 0 6-3 6 0 6-1 6-1 6 1M588 -252l6-4 6-5 6-4M654 -261l6 2 6 7 6 5M1020 -157l6 4 6 2 6 2 6 2 6 1 6 3 6 3 6 5 6 2 6 4 6 6 6 5M1218 -32l6 2 6 5 6 5 6 6 6 3 6 6 6 5M0 4l6-4 6-3 6-4 6-4 6-4 6-4 6-3 6-5 6-4M282 -186l6-4 6-8 6-1 6-4M342 -211l6-1 6-2 6-3 6-2 6-2 6-2 6 0 6-2 6-1 6-2 6-1M450 -249l6-3 6 0 6-3M522 -251l6-2 6-2 6-2 6-1 6 1 6 2 6 1 6-1 6 0 6 4M810 -227l6-3 6 1 6 1 6 1 6 3 6 3 6 1 6-1 6 4 6 1 6-1 6 0 6 1 6 0 6 1 6 0 6 2 6 2 6 1 6 2 6-1 6-1 6 1 6 1 6 1 6 4 6 5 6 4 6 4 6 5 6 2 6 6 6 5 6 3 6 3 6 6 6 7 6 3 6 3 6 5 6 7 6 0 6 5 6 2 6 2 6 2 6 1M1116 -109l6 5 6 6M1146 -88l6 1 6 3 6 4 6 4 6 5 6 2 6 4 6 4 6 5 6 5 6 6 6 5 6 4 6 5 6 6 6 6 6 6 6 5 6 8M0 4l6-6 6-8 6-7 6-7 6-3 6-7 6-6 6-6 6-6 6-8 6-5 6-6 6-5 6-7 6-5 6-4 6-5 6-5 6-5 6-7 6-4 6-1 6-5 6-2 6-5M162 -137l6-2 6-2 6-1 6-4 6-1 6-5 6-5 6-5 6-7 6-4 6-5 6-7 6 4 6-1M264 -192l6-2 6 0 6-4 6-7 6-6 6-4 6-4 6-5 6-7 6-7 6 1 6 3 6-2 6-2 6 2 6 1 6-1 6 1 6 1 6 3 6 1 6-1 6-1 6-1M1194 -51l6 3 6 5 6 6 6 5 6 3 6 3 6 5 6 7 6 7 6 4 6 3M0 4l6-6 6-4 6-4 6-5 6-5 6-6 6-8 6-5M66 -56l6-8 6-4 6-8 6-5 6-5M828 -210l6-2 6-1 6 1 6 1 6 0 6-1M888 -209l6 2 6 2 6 1 6 4 6 1 6 0 6 0 6 3 6 5M972 -182l6 3 6 1 6 4M1014 -161l6 1 6 3 6 4 6 10M1056 -125l6 2 6 4M1152 -53l6 4 6 3 6 4 6 3 6 3 6 2 6 2M1230 -20l6 3 6 2 6 5 6 3 6 7M0 4l6-5 6-2 6-6 6-6 6-5 6-4M138 -116l6-6 6-8 6-6 6-7 6-11 6-14 6-14 6-11 6-4 6-5 6-9 6-4 6-12 6-13 6 0 6-5 6-1 6 0 6 2 6-2 6-7 6-7 6 8 6 0 6-1 6 3 6 0 6-3 6-6 6-3 6-4 6-2 6 1 6-2 6-1 6 1 6 3 6 0 6 0 6-3 6-3 6 3 6 0 6 0 6-1 6-2 6 0 6 1 6-3 6-1 6 0 6 0 6 0 6 0 6 0 6 1 6 1 6 2 6 1 6 0 6 1 6 0 6-1 6-2 6-3 6 0 6 1 6-1 6 0 6 0 6 1 6-1 6 0 6 0 6-1 6 0 6 1 6 0 6-2 6-1 6 2 6 1 6 0 6 1 6 0 6 1 6 1 6 2 6 2 6 1 6 0 6 1 6 0 6 0 6 0 6 1 6-1 6 0 6 2 6 1 6 3 6 1 6 3 6 3 6 4 6 3 6 0 6-1 6-2 6 0 6 1 6 1 6 1 6 1 6 4 6 2 6 0 6 2 6-1 6 0 6 0 6 1 6 5 6 7 6 0 6 2 6 2 6 6 6 4 6 3 6 2 6 4 6 3 6 1 6 3 6 4 6 4 6 4M1020 -157l6 3 6 3 6 3 6 3 6 4 6 3 6 2 6 1 6 4 6 3 6 4 6 4M1194 -50l6 3 6 3 6 5 6 6 6 3 6 3 6 5 6 4 6 5 6 6 6 7M0 4l6-6 6-4 6-4 6-1 6-3 6-3 6-5 6-5 6-5M102 -91l6-5 6-2 6-2 6-8 6-4 6-4 6-7 6 2M588 -253l6-2 6 2M654 -251l6-4 6-3 6 0 6 1 6 0 6-2 6 0 6-1 6-1 6 0 6-3 6-1 6-1 6 1 6 1 6 1 6 4 6 2 6 5 6 3 6 1 6 1 6-2 6 2 6 4 6 1 6-1 6 0 6 2 6 3 6 3 6 3 6 0 6 2 6 1 6 3 6 0 6 2 6 2 6 1 6 3 6 3 6 2 6 3 6 4 6 3 6 4 6 0 6 0 6 1 6 2 6 1 6 3 6 4 6 5 6 5 6 3 6 4 6 3 6 3 6 5 6 3 6 4 6 3 6 0 6 2 6 0 6 2 6 5 6 1 6 1 6 3 6 4 6 6 6 3 6 5 6 5 6 5 6 5 6 5M1188 -55l6 3 6 3 6 4 6 6 6 7 6 5 6 3 6 3 6 3 6 5 6 6 6 7M0 4l6-7 6-6 6-6 6-5 6-6 6-8 6-5 6-5 6-6 6-7 6-8 6-8 6-6 6-7 6-5 6-5 6-6 6-6 6-7 6-5 6-4 6-5 6-4 6-4 6-4 6-6 6-5 6-2 6-3 6-12 6-14 6-5 6-7 6-2 6-4 6 3 6-7 6-2 6 5 6-6 6-1 6-4 6-3 6 1 6 3 6-1 6-7 6-3 6-2 6 1 6 5 6-2 6-2 6-2 6 3 6 0 6-4 6-4 6 1 6 0 6 0 6 0 6 1 6-4 6 0 6 5 6-1 6-1M1152 -53l6 4 6 3 6 4 6 5 6 3 6 2 6 2 6 3 6 2 6 4 6 2 6 2 6 2 6 3 6 2 6 3 6 1 6 6M0 4l6-7 6-5 6-8 6-4 6-6 6-6 6-5 6-3 6-2M396 -218l6-3 6-1M828 -214l6 1 6 1 6 2 6 5 6 2M1230 -20l6 4 6 2 6 6 6 3 6 5M0 4l6-3 6-6 6-6 6-7 6-9 6-4 6-6 6-6 6-5 6-6 6-4 6-6 6-4 6-4M162 -135l6-8 6-7 6-9 6-11 6-10 6-11 6-6 6-8 6-3 6-11 6-9 6-7 6-1 6 1 6-2 6-11 6-10 6 1 6 0 6-5 6 5 6 4 6 0 6 4 6 1 6-1 6-3 6 0 6-1 6 0 6 0 6-3 6 2 6-2 6-6 6-4 6-3 6-1 6-3 6-2 6 1 6-4 6-1 6-1 6-3 6 1 6 0 6 3 6 1 6-1 6 2 6-2 6 0 6 0 6-2 6 2 6 1 6-1 6-1 6-4 6-1 6 1 6 1 6 1 6 0 6-1 6 0 6 1 6 0 6 1 6 1 6 1 6 0 6 1 6 2 6 1 6 1 6-1 6 3M654 -267l6 3 6 2 6 5 6 5 6-1 6 2 6 1 6 3M810 -219l6-2 6-3 6 0 6 0 6 0 6 3 6 3 6 3 6 3M1056 -127l6 3 6 5M1116 -104l6 1 6 3 6 3M1230 -20l6 4 6 5 6 3 6 4 6 4M0 4l6-3 6-3 6-2 6-4 6-3 6-3 6-4 6-4 6-5 6-3 6-3 6-5 6-3 6-4M366 -188l6-3 6-4 6-1 6-4M576 -219l6 0 6 3 6 2 6 2 6 5 6-1 6-4 6 1 6 1 6 3 6 1M1176 -41l6 4 6 3 6 3 6 3 6 3 6 3 6 1M1230 -17l6 3 6 1 6 2 6 5 6 6"/>
</g>
<polyline fill="none" stroke="#ff0" stroke-width="5.6" points="864.9,675.8 874.4,668.9 883.8,662 893.2,655.3 902.7,648.9 912.1,642.7 921.6,636.8 931,631.2 940.4,625.8 949.9,620.5 959.3,615.5 968.7,610.7 978.2,606.2 987.6,601.9 997,597.7 1006.5,593.8 1015.9,590.3 1025.3,587.2 1034.8,584.5 1044.2,582.2 1053.6,580.1 1063.1,578.3 1072.5,576.8 1081.9,575.6 1091.4,574.6 1100.8,573.7 1110.3,573.1 1119.7,572.8 1129.1,572.8 1138.6,572.9 1148,573.3 1157.4,574 1166.9,574.9 1176.3,576 1185.7,577.3 1195.2,578.7 1204.6,580.2 1214,581.8 1223.5,583.6 1232.9,585.5 1242.3,587.5 1251.8,589.6 1261.2,591.7 1270.6,593.9 1280.1,596.1 1289.5,598.3 1299,600.8 1308.4,603.4 1317.8,606.3 1327.3,609.5 1336.7,613 1346.1,616.9 1355.6,620.9 1365,625 1374.4,629.1 1383.9,633.5 1393.3,638.2 1402.7,643.2 1412.2,648.5 1421.6,653.9 1431,659.4 1440.5,665 1449.9,670.4 1459.3,675.6"/>
<polyline fill="none" stroke="#00f" stroke-width="6.6" stroke-miterlimit="5" points="846.7,687.8 848.2,687.8 849.7,686.3 851.2,684 852.7,682.1 854.2,680.2 855.7,680.8 857.2,681.9 858.7,680.4 860.2,679.7 861.7,676.1 863.2,671.5 864.7,666.5 866.2,662.4 867.7,662.9 869.2,663.7 870.7,662.1 872.2,659.7 873.7,655.2 875.2,652 876.7,651.7 878.2,653.4 879.7,653 881.2,651.2 882.7,648.5 884.2,645.2 885.7,640 887.2,640.4 888.7,640.9 890.2,641.1 891.7,639.5 893.2,638.7 894.7,636.1 896.2,633.9 897.7,633.4 899.2,630.4 900.7,630.2 902.2,630.7 903.7,629.1 905.2,628.7 906.7,628.5 908.2,628 909.7,624.7 911.2,623.2 912.7,622.2 914.2,617.9 915.7,617.9 917.2,616.2 918.7,613.9 920.2,614.6 921.7,612.6 923.2,609.2 924.7,608.5 926.2,609.3 927.7,609 929.2,609.7 930.7,609.4 932.2,610.1 933.7,611.1 935.2,607.3 936.7,604.6 938.2,601.2 939.7,599.9 941.2,597.3 942.7,596 944.2,594.9 945.7,594.5 947.2,593.6 948.7,590 950.2,588.4 951.7,588.1 953.2,585.3 954.7,585.6 956.2,585.8 957.7,586.8 959.2,586.2 960.7,585 962.2,584.5 963.7,584.3 965.2,585.7 966.7,584.3 968.2,583.8 969.7,583.1 971.2,581.6 972.7,580.2 974.2,578.1 975.7,578.3 977.2,578 978.7,579.2 980.2,579.1 981.7,578.3 983.2,578.7 984.7,577.8 986.2,578.7 987.7,577.9 989.2,578.1 990.7,576.4 992.2,577.2 993.7,575.5 995.2,574.6 996.7,575.8 998.2,575.5 999.7,575.3 1001.2,576.3 1002.7,573.1 1004.2,571.5 1005.7,571 1007.2,570.8 1008.7,571.1 1010.2,571.7 1011.7,573.2 1013.2,574 1014.7,573.4 1016.2,574.4 1017.7,575.2 1019.2,574.8 1020.7,576.2 1022.2,575.9 1023.7,577.9 1025.2,577.9 1026.7,577 1028.2,575.6 1029.7,575.1 1031.2,572.7 1032.7,573.6 1034.2,575.8 1035.7,574.9 1037.2,577.8 1038.7,577 1040.2,579.5 1041.7,579.3 1043.2,581.1 1044.7,581.4 1046.2,580.4 1047.7,583 1049.2,584.3 1050.7,582.9 1052.2,581.9 1053.7,581.2 1055.2,579.9 1056.7,581 1058.2,579.5 1059.7,580 1061.2,579.7 1062.7,580.1 1064.2,579.8 1065.7,582.3 1067.2,581.7 1068.7,581.8 1070.2,580.4 1071.7,578.9 1073.2,578.2 1074.7,577.3 1076.2,577.1 1077.7,576.4 1079.2,575.8 1080.7,574.3 1082.2,573.9 1083.7,575.7 1085.2,573.6 1086.7,572.2 1088.2,572.5 1089.7,573.1 1091.2,570.3 1092.7,570 1094.2,569.9 1095.7,569.8 1097.2,572.8 1098.7,573.7 1100.2,574.5 1101.7,573.6 1103.2,574.2 1104.7,573.4 1106.2,574.1 1107.7,574.2 1109.2,574.7 1110.7,577.8 1112.2,577.3 1113.7,577.5 1115.2,577.1 1116.7,576.5 1118.2,576 1119.7,576.8 1121.2,576 1122.7,575.7 1124.2,575.6 1125.7,576.4 1127.2,576.1 1128.7,575.5 1130.2,574.3 1131.7,573 1133.2,574.5 1134.7,574.8 1136.2,574.3 1137.7,575.2 1139.2,576.1 1140.7,576.8 1142.2,577.4 1143.7,576.8 1145.2,578.7 1146.7,577 1148.2,578.5 1149.7,578.8 1151.2,579.3 1152.7,580.5 1154.2,580.7 1155.7,578.5 1157.2,577.5 1158.7,579.6 1160.2,578.8 1161.7,579.8 1163.2,581.2 1164.7,579.8 1166.2,579.2 1167.7,581.5 1169.2,582.4 1170.7,582.7 1172.2,583.6 1173.7,583.5 1175.2,583.4 1176.7,585.1 1178.2,585.3 1179.7,585.3 1181.2,587.7 1182.7,588 1184.2,588.6 1185.7,587.7 1187.2,587.8 1188.7,587.7 1190.2,587.9 1191.7,589.1 1193.2,588.5 1194.7,589.1 1196.2,589.2 1197.7,590.6 1199.2,587.8 1200.7,588.9 1202.2,588.3 1203.7,588 1205.2,586.6 1206.7,587.2 1208.2,588.6 1209.7,588.3 1211.2,588.5 1212.7,588.3 1214.2,589.6 1215.7,589 1217.2,587.2 1218.7,588.2 1220.2,587.5 1221.7,586.4 1223.2,588.7 1224.7,591.3 1226.2,591.1 1227.7,589.9 1229.2,589.7 1230.7,591.5 1232.2,591.2 1233.7,591 1235.2,590.8 1236.7,591.4 1238.2,593.1 1239.7,594.1 1241.2,594.8 1242.7,594.5 1244.2,596.5 1245.7,596.7 1247.2,598.8 1248.7,597.7 1250.2,598.9 1251.7,599.8 1253.2,599.3 1254.7,602.4 1256.2,603.6 1257.7,602.6 1259.2,603.3 1260.7,602.7 1262.2,599.4 1263.7,600.7 1265.2,602.3 1266.7,603.9 1268.2,604.3 1269.7,606.1 1271.2,607.6 1272.7,610.3 1274.2,611.3 1275.7,612.2 1277.2,614.7 1278.7,614.5 1280.2,615.4 1281.7,615.3 1283.2,619.2 1284.7,620.7 1286.2,622 1287.7,623 1289.2,622.7 1290.7,622.2 1292.2,621.4 1293.7,620.9 1295.2,620.8 1296.7,621.8 1298.2,621.5 1299.7,621.2 1301.2,620.8 1302.7,620.9 1304.2,623.1 1305.7,623.1 1307.2,623.3 1308.7,623.4 1310.2,623.3 1311.7,624.7 1313.2,626.3 1314.7,626.1 1316.2,626.6 1317.7,627.2 1319.2,628 1320.7,627.2 1322.2,628.6 1323.7,628.3 1325.2,629.5 1326.7,628.3 1328.2,629 1329.7,630.6 1331.2,630.6 1332.7,631.2 1334.2,632.9 1335.7,634.2 1337.2,634.6 1338.7,636.9 1340.2,639.6 1341.7,638.7 1343.2,638.8 1344.7,638.5 1346.2,640.1 1347.7,639.6 1349.2,639.9 1350.7,642.6 1352.2,641.9 1353.7,643.9 1355.2,645.3 1356.7,645 1358.2,645.6 1359.7,647.5 1361.2,646.5 1362.7,645.5 1364.2,644.5 1365.7,645.4 1367.2,646.9 1368.7,647.6 1370.2,646.8 1371.7,647.3 1373.2,648.4 1374.7,650 1376.2,650.7 1377.7,651.8 1379.2,652.5 1380.7,652.5 1382.2,653.1 1383.7,653.8 1385.2,654.1 1386.7,655.1 1388.2,657.2 1389.7,657.2 1391.2,657.3 1392.7,656.2 1394.2,658.3 1395.7,657.3 1397.2,658.1 1398.7,660.6 1400.2,661.5 1401.7,661.3 1403.2,660.2 1404.7,661.3 1406.2,661.7 1407.7,663.3 1409.2,665.9 1410.7,665.5 1412.2,665.2 1413.7,665.3 1415.2,667 1416.7,668 1418.2,668.1 1419.7,670.1 1421.2,670.5 1422.7,673.6 1424.2,675.4 1425.7,676.9 1427.2,676.8 1428.7,677.1 1430.2,676.1 1431.7,675.3 1433.2,674.7 1434.7,674.1 1436.2,674.5 1437.7,677.1 1439.2,677.6 1440.7,678.6 1442.2,680.1 1443.7,678.1 1445.2,678.5 1446.7,679.6 1448.2,680.2 1449.7,679.9 1451.2,681.3 1452.7,681.6 1454.2,681 1455.7,681.6 1457.2,683.9 1458.7,684.6 1460.2,682 1461.7,683.8 1463.2,683.4 1464.7,684.3 1466.2,683.5 1467.7,683.8 1469.2,683.5 1470.7,686.7 1472.2,686 1473.7,686.7 1475.2,686.6"/>
</g>
<path d="M846.7 517.4v-17.5M846.7 856.1v17.5M909.6 517.4v-9.5M909.6 856.1v9.5M972.5 517.4v-17.5M972.5 856.1v17.5M1035.4 517.4v-9.5M1035.4 856.1v9.5M1098.3 517.4v-17.5M1098.3 856.1v17.5M1161.2 517.4v-9.5M1161.2 856.1v9.5M1224.1 517.4v-17.5M1224.1 856.1v17.5M1287 517.4v-9.5M1287 856.1v9.5M1349.9 517.4v-17.5M1349.9 856.1v17.5M1412.8 517.4v-9.5M1412.8 856.1v9.5M1475.7 517.4v-17.5M1475.7 856.1v17.5M846.7 824h-9.5M1475.7 824h9.5M846.7 778.25h-18M1475.7 778.25h18M846.7 732.5h-9.5M1475.7 732.5h9.5M846.7 686.75h-18M1475.7 686.75h18M846.7 641h-9.5M1475.7 641h9.5M846.7 595.25h-18M1475.7 595.25h18M846.7 549.5h-9.5M1475.7 549.5h9.5" stroke="#000" stroke-width="2" fill="none"/>
<rect x="846.7" y="517.4" width="629" height="338.7" fill="none" stroke="#000" stroke-width="5.2"/>
<path d="M843.2 517.4H1479.2M843.2 856.1H1479.2" stroke="#000" stroke-width="5.2" fill="none"/>
<text class="t2" x="1455.8" y="837" text-anchor="end">Poisson + 60% hydrological forcing (velocity)</text>
<text class="l" x="866.2" y="837.2">d)</text>
</g>
<g>
<clipPath id="c20"><rect x="145.3" y="928.65" width="629" height="338.7"/></clipPath>
<path d="M271.1 928.65V1267.35M396.9 928.65V1267.35M522.7 928.65V1267.35M648.5 928.65V1267.35M145.3 1189.5H774.3M145.3 1098H774.3M145.3 1006.5H774.3" stroke="#000" stroke-width="1.15" fill="none"/>
<rect x="161" y="952.8" width="535" height="38.5" fill="#fff"/>
<g clip-path="url(#c20)">
<g transform="translate(145.30 1098.00) scale(0.49921)">
<path fill="#999" stroke="#999" stroke-width="1" d="M0 7L6 7L12 7L18 4L24 5L30 6L36 8L42 10L48 12L54 15L60 16L66 18L72 20L78 22L84 29L90 32L96 32L102 32L108 33L114 36L120 40L126 43L132 44L138 46L144 56L150 56L156 56L162 62L168 62L174 65L180 84L186 84L192 84L198 84L204 84L210 83L216 85L222 85L228 85L234 86L240 88L246 90L252 92L258 95L264 98L270 100L276 101L282 103L288 104L294 107L300 109L306 110L312 111L318 113L324 113L330 114L336 114L342 115L348 116L354 118L360 120L366 167L372 167L378 167L384 167L390 167L396 137L402 137L408 142L414 144L420 146L426 171L432 171L438 171L444 171L450 171L456 170L462 153L468 155L474 155L480 159L486 159L492 159L498 160L504 162L510 163L516 164L522 166L528 172L534 173L540 174L546 174L552 174L558 202L564 202L570 202L576 202L582 202L588 186L594 171L600 201L606 201L612 201L618 201L624 207L630 207L636 207L642 207L648 207L654 207L660 207L666 207L672 207L678 207L684 195L690 195L696 195L702 195L708 177L714 177L720 179L726 212L732 229L738 229L744 229L750 232L756 232L762 232L768 232L774 232L780 231L786 231L792 229L798 229L804 229L810 199L816 199L822 199L828 199L834 199L840 216L846 223L852 223L858 223L864 223L870 223L876 201L882 201L888 201L894 187L900 187L906 175L912 174L918 171L924 174L930 174L936 174L942 174L948 174L954 172L960 172L966 172L972 171L978 170L984 170L990 170L996 155L1002 155L1008 155L1014 155L1020 155L1026 134L1032 134L1038 123L1044 130L1050 130L1056 130L1062 130L1068 130L1074 113L1080 113L1086 110L1092 107L1098 105L1104 105L1110 105L1116 105L1122 105L1128 91L1134 91L1140 91L1146 91L1152 91L1158 83L1164 83L1170 75L1176 73L1182 70L1188 63L1194 51L1200 50L1206 45L1212 38L1218 33L1224 26L1230 21L1236 18L1242 13L1248 7L1254 5L1260 4L1260 4L1254 5L1248 7L1242 13L1236 24L1230 33L1224 42L1218 58L1212 58L1206 67L1200 76L1194 86L1188 98L1182 101L1176 108L1170 109L1164 119L1158 119L1152 126L1146 133L1140 133L1134 137L1128 137L1122 145L1116 151L1110 151L1104 156L1098 156L1092 159L1086 164L1080 174L1074 175L1068 175L1062 175L1056 184L1050 184L1044 184L1038 193L1032 193L1026 198L1020 204L1014 204L1008 206L1002 192L996 192L990 192L984 192L978 192L972 194L966 222L960 222L954 222L948 231L942 231L936 220L930 220L924 220L918 220L912 220L906 245L900 251L894 236L888 236L882 236L876 236L870 236L864 253L858 238L852 238L846 238L840 238L834 230L828 230L822 230L816 230L810 230L804 244L798 245L792 270L786 270L780 270L774 276L768 278L762 278L756 258L750 258L744 258L738 258L732 258L726 263L720 263L714 263L708 263L702 267L696 253L690 253L684 253L678 253L672 253L666 261L660 261L654 261L648 262L642 262L636 234L630 233L624 231L618 231L612 231L606 231L600 231L594 245L588 245L582 229L576 229L570 229L564 229L558 229L552 238L546 238L540 238L534 226L528 198L522 198L516 198L510 198L504 198L498 206L492 233L486 233L480 233L474 233L468 234L462 234L456 218L450 218L444 218L438 218L432 218L426 175L420 175L414 175L408 175L402 175L396 187L390 187L384 187L378 187L372 187L366 175L360 175L354 175L348 175L342 175L336 194L330 194L324 187L318 184L312 184L306 184L300 173L294 173L288 173L282 173L276 171L270 161L264 159L258 159L252 153L246 152L240 152L234 151L228 143L222 142L216 141L210 138L204 136L198 135L192 132L186 130L180 128L174 124L168 115L162 110L156 110L150 108L144 99L138 99L132 95L126 91L120 86L114 82L108 76L102 72L96 63L90 63L84 57L78 52L72 47L66 43L60 38L54 33L48 29L42 24L36 21L30 17L24 14L18 11L12 7L6 7L0 7Z"/>
<path class="g" stroke-width="2.80" d="M0 7l6 0 6 0 6 1M36 9l6 1 6 4M174 80l6-2 6 3 6 4M360 142l6 5 6 3 6 2 6 8 6 7 6 4 6 4 6 5 6 0 6 4 6 5 6 7M492 227l6 3 6 5 6 4 6 3 6 1 6 5 6 3 6 5 6 3 6 1 6-1 6 3 6-4 6 0 6 3 6 7 6 5 6 1 6 7 6-3 6 2 6-1 6-5 6 3 6 2 6 4 6 3 6 2 6-1 6 2 6-1 6-1 6-1 6 4 6 7 6 8 6 1 6 3 6-2 6 4 6 1 6-1 6 2 6-3 6-2 6-5 6-3 6-7 6-7 6-4 6-3 6 1 6-4 6-2 6-3 6-7 6-2 6-4 6 1 6-1 6-3 6-1 6 1 6-1 6-1 6-1 6-1 6-2 6-5 6-6 6-4 6-3 6-3 6-1 6-4M966 213l6-1 6-2 6 3 6 0 6 1 6-2 6-2 6-5 6 1 6-2 6-3 6-3 6-5 6-1 6-9 6-1 6-3 6-6 6 2 6-3 6-4 6-8 6-8M1230 30l6-6 6-4 6-5 6-7 6-6M0 7l6-1 6 1 6 0M78 25l6 3 6 4 6 3M246 151l6 5 6 5 6 3 6 3 6 2 6 5 6 3 6 1 6 2 6 1M336 189l6 3 6 3 6 4 6 5 6 4 6 4 6 2 6 4 6 0 6 0 6 2 6 1 6-1 6 0 6 0 6 4 6 0 6 0 6 0 6 2 6 3 6 4 6 3 6 4 6 2 6 2 6 3 6 4 6 1 6 0 6 2 6 3 6 5 6-1 6-3 6 2 6 2 6 3 6 1 6 4 6-6 6-8 6 0 6-2 6 0 6 1 6 0 6 0 6 0 6-1 6 0M726 256l6 3 6 1 6 1 6 1 6-2 6-1M804 239l6-1 6-1 6 1 6 1 6 3 6 1 6 0 6 1 6 2 6 1 6-2 6-5 6 4 6-1 6 1 6 0 6 0 6 1 6 4 6-1 6-4 6-2 6 0 6-2 6-2 6-3 6-3 6-5 6-3 6-5 6-3 6-3 6 0 6 0 6 0 6 1 6 3 6-5 6-2 6-5 6-1 6-5 6-8 6-8 6-11M1188 93l6-5 6-8 6-9 6-9 6-8 6-9 6-7 6-9 6-5 6-9 6-6 6-7M0 7l6 3 6-1 6 5 6 1 6 0 6 5 6 4 6-2M294 167l6 6 6 4M336 186l6 3 6 2 6 0 6-2 6 4 6 5 6 2 6 3 6 1 6 0 6 5 6 3 6 2 6 2 6 2 6 3 6 3 6 2 6 3 6 2 6-2M492 229l6 1 6 2 6 2 6 2 6 7 6 3 6 2 6 7 6 5 6 5 6 6 6 6 6 8 6 2 6 5 6-1 6 1 6-6 6-1 6 2 6-2 6-3 6-3 6-1 6-3 6-1 6-2 6 4 6-1 6-2 6-2 6-3 6 0 6 5 6-2 6-4 6 0 6 3 6 6 6 1 6 4 6-1 6-3 6-1 6-2M792 264l6-5 6-4 6 2 6-2 6-2 6 1 6-1 6 0 6 0 6 0 6 3 6 0 6 2 6-6 6 0 6 1 6-3 6 0 6-1 6-4 6-5 6-4 6-3 6 1 6-3 6-1 6-4 6-2 6-4 6-3 6-10 6-7 6-3 6-1 6-2 6-5M1200 75l6-4 6-5 6-7 6-10 6-10 6-5 6-8 6-5 6-11 6-8M0 7l6 1 6 0 6 2M174 69l6 3 6 4 6 2 6 3 6 2 6 4M360 142l6-2 6 0 6 1 6 3 6 4 6 6M420 170l6 1 6 2M492 211l6-2 6 4 6 1 6 4 6 3 6 0 6 4M552 235l6 1 6 4 6 2 6 0 6 2 6 1 6 4 6 4 6 2 6 2 6-1 6 1 6-1 6 2 6-2M666 254l6-1 6-4M804 238l6 0 6-3 6 1 6-3 6-2 6-1M966 207l6-1 6-2 6-5 6-3 6-4 6-2M1206 64l6-5 6-6 6-8 6-11 6-7 6-7 6-3 6-6 6-9M0 7l6 0 6 1 6-1M174 84l6-1 6 4M360 142l6 2 6 4 6 3 6-3 6 2 6 4M420 164l6 3 6 3 6 1 6 2M726 217l6 1 6 2 6 5 6 0 6 4 6 3 6 0 6-1 6 1M804 238l6 6 6-1 6 3 6-2 6 0 6-3 6-5M912 218l6 3 6-2M966 202l6-3 6-5 6-5M1122 139l6-2 6-1 6 0 6-2 6-2 6-4 6-6 6-7 6-7 6-7 6-6M1200 75l6-6 6-11 6-11M1236 22l6-6 6-6 6-4 6-4M0 7l6 3 6 3 6 4 6 4 6 3 6 5 6 3 6 5 6 6 6 4 6 5 6 5 6 6 6 4 6 5 6 4 6 6 6 4 6 5 6 4 6 5 6 5 6 3 6 4 6 4 6 4 6 3 6 5 6 5 6 5 6 6 6 5 6 5 6 4 6 5 6 4 6 2 6 2 6 4 6-1 6 3 6 2 6-1 6 4 6 3 6 2 6 3 6 5 6 3 6 4 6 1 6 2 6 4 6 4 6 3 6 3 6 3 6 0 6 3 6-1 6 1 6 3 6 0 6 3 6 2 6 2 6 0 6 1 6 1 6 3 6 2 6 2 6 1 6 4 6 0 6 3 6 8 6 1 6-2 6 2 6 3 6 2 6 0 6 1 6 4 6 2 6 2 6 6 6 2 6 2 6 3 6 2 6 8 6 6 6-2 6-1 6-5 6-2 6 2 6 1 6-2 6-4 6-10 6-10 6-1 6-2 6 1 6 1 6 6 6 2 6-1 6-1 6 2 6 1 6 0 6 0 6-2 6-7 6-3 6 3 6-2 6 0 6-1 6-2 6 4 6-2 6-3M792 269l6-5 6-3 6 1 6-4 6 1 6 0 6 2 6-2 6 1 6-2 6-2 6-7 6-2 6 0 6-3 6-2 6-5 6-2 6-4 6 2 6-2 6-5 6-5 6 0 6-2M966 206l6-5 6-5 6-2 6-2 6-6M1230 22l6-5 6-2 6-4 6-6 6-3M0 7l6-1 6 0 6 1M360 137l6 4 6 5 6 6 6 4 6 4 6 2M420 165l6 4 6 2 6 4M522 170l6 0 6 1 6 1 6 1 6 1 6 1 6 1 6 1 6 2 6 0 6 1 6 1 6 1 6 0 6 0 6 1 6 1 6 0 6 0 6 0 6 0 6 0 6 1 6 0 6 0 6 1 6 2 6 0 6 2 6-1 6-1M720 188l6-1 6 1 6 2 6 0 6 2 6 4 6 1 6 4 6-1 6 1 6 4 6 1 6 0 6 3 6 5M834 219l6-4 6-3 6-1 6-2 6-1 6-5 6-1 6-1 6-2 6-4M966 211l6-1 6-2 6-3 6 1 6 3 6 1 6-4 6-4 6-1 6-3 6-2 6-2 6-3 6 1 6-10 6-2 6-4 6-4M1194 85l6-5 6-10 6-7 6-7 6-7 6-8 6-8 6-7 6-7 6-9 6-8M0 7l6 3 6 2 6 3 6 3 6 3 6 4 6 4 6 4 6 4 6 5 6 4 6 4 6 3 6 4 6 4 6 6 6 5 6 4 6 4M138 95l6 5 6 4 6 5 6 5 6 3 6 2M198 134l6 6 6-1 6 3 6 3 6 4 6 3 6 6 6 2 6 3 6 4 6 0 6 2 6 5 6 3 6 0 6 3 6-3 6 1M342 173l6 4 6-2 6 1 6 2 6 0M396 179l6 2 6 2 6 2 6 5 6 3 6 3M492 213l6 9 6 9 6 5 6 1 6 4 6 9 6 0 6 4 6 4 6 4 6-2 6 5 6 0 6-4 6-1 6 1 6-1 6 4 6 3 6-3 6 0 6 0 6-2 6-1 6 1 6-1 6 0 6 2 6-5 6-2 6 4 6 0 6 2 6 1 6-3M804 240l6 1 6 0 6 0 6-1 6-2 6 1 6-2 6-2 6 3 6 0M906 233l6-1 6-2 6 1 6 2 6-1 6-4 6 0 6 0 6-4 6-3 6-3 6-1 6-5 6-2 6-3 6 1 6-3M1038 190l6-2 6-1 6-3 6-6 6-4M1080 171l6-2 6 1 6-1 6-1 6-3 6-10 6-8 6-3 6-1 6-8 6-7 6-1 6-3 6-4 6-4 6-10M1188 91l6-4 6-5 6-8 6-6 6-8 6-8 6-10 6-10 6-7 6-10 6-6 6-7M0 7l6 1 6 2 6 0M360 160l6 2 6 2 6-2 6-1 6 4 6 5M414 174l6 1 6 1 6 1M726 219l6 1 6 2 6 0 6 5 6 0 6 1 6 3 6 2M804 232l6 0 6 0 6 4 6 0 6 1 6 1 6-1 6-1 6 5 6 3 6 0 6-1 6 2 6 3 6-1 6 2 6 1 6 2 6-2 6-3 6-1 6-1 6 0 6-4 6-3 6-1 6-4 6-3 6-4 6-6 6-6 6-1 6-3 6 0 6-7M1194 83l6-5 6-9 6-9 6-6 6-9 6-5 6-8 6-10 6-8 6-7 6-5M0 7l6 2 6 0 6 3 6 0M156 58l6 1 6 1 6 4 6 3 6 2 6 2 6 2 6 2 6 2 6 3 6 3 6 2 6 2M360 131l6 3 6 1 6 1 6 1 6 1 6 4M420 149l6 3 6 1 6 5 6 0 6 1 6 3 6 3M552 195l6 2 6 6M618 211l6-5 6 0 6-5 6-1 6-4 6-2 6 0 6-2 6 1 6-1 6-1 6-1 6-1 6 0 6 1M720 187l6 1 6 0 6 0 6 0 6 1 6 1 6-1 6-1 6 0 6-1 6 0 6-1 6 0 6 1 6-1 6 2 6 0 6-1 6-2 6-4 6-1 6-5 6-1 6 1 6-1 6-5 6 0 6-4 6-5 6-4 6 0 6-2 6-8 6-3 6-1 6-3 6-5 6 0 6-3 6 1 6 1 6 3 6 2 6-1 6-6 6-2 6-3 6-4 6-1 6 0 6-2 6 1 6 0 6-2 6-2 6-2 6-2 6 1 6-3 6-3 6-1 6-1 6 0 6 1M1116 106l6-1 6 1M1200 75l6-8 6-7 6-9M1230 32l6-7 6-7 6-8 6-4 6-4M0 7l6 3 6 2 6 2 6 1 6 1M174 85l6-1 6 0 6 2M360 130l6 2 6-1 6 0 6 1 6 3 6 2 6 2M420 148l6 1 6 1 6 3 6 0 6 1 6 1 6 2M522 170l6 2 6 2M552 177l6 0 6-1 6 1 6 0 6 1 6 1 6-1 6 1 6 1 6 3 6 0 6 1 6 3 6 0 6 1 6-1 6 0 6 0 6 0 6 1 6 0 6 1 6 0 6 1 6 0 6 0M720 191l6-1 6-1 6-1 6-1 6 1 6 0 6 0 6 2 6 2 6-1 6 1 6 3 6 2 6 2 6-2 6 2 6 1M834 202l6-1 6 2 6 1 6 0 6 0 6 3 6-1 6-1 6-4 6 1M972 190l6 2 6-1M1080 165l6-1 6-5 6-5M1236 23l6-9 6-4 6-3 6-5M0 7l6 1 6 1 6 0M78 26l6 2 6 2 6 3M138 49l6 1 6 2 6 4 6 4 6 3 6 5 6 3 6 4 6 3 6 3 6 4M360 151l6 0 6 4 6-2 6-1 6 2 6 2M420 164l6 5 6 6M504 197l6 1 6-1 6 1 6-1M738 255l6 9 6 2 6 4 6 5 6 2 6 1 6 0 6 4 6 1 6 2 6-4 6 0 6 6 6 2 6-1 6 4 6 2 6 2 6-5 6-8 6-3 6-7 6-9 6-1 6 0 6-8 6-8 6-5 6-4 6-2 6-1 6-1 6 0 6-3 6 0 6-2 6-5 6-5 6-3 6-3 6-1 6-3 6-2 6-4 6-1M1038 187l6-2 6-3 6-4 6-3 6-3M1224 39l6-3 6-5 6-5 6-13 6-5 6-6M0 7l6-1 6 0 6 0M336 178l6 2 6 3 6 2 6 1 6 3 6 4 6 2 6-1 6-1 6-2 6 2 6 0 6 2 6 1 6 0 6 0M552 188l6-1 6 3 6 4 6 0 6-1 6 0 6-5 6-1 6 0 6 1 6 3 6 0 6-3 6 0 6 0 6 2 6 0 6-1 6 1 6 5 6 6 6 2M726 216l6 2 6 2 6-3 6 1 6 0 6 2 6 3 6-1 6 2 6-1 6-1 6-2 6-4 6-4M834 215l6-1 6-2 6-1 6-3 6-3 6 1 6-1 6-2 6-2 6-3M936 178l6-4 6-2 6 2 6-2 6-1 6-5 6-4 6-7 6-4 6-3 6-3 6 1 6 0 6-7 6-5 6-5 6-3 6-4 6-6 6-3 6 2 6 1 6 1M1110 106l6-2 6-1 6-4M1236 21l6-6 6-4 6-6 6-3M0 7l6 3 6 2 6 3 6 3 6 3 6 3 6 2 6 3 6 5 6 2M72 46l6 6 6 4 6 5 6 4 6 4M138 96l6 3 6 4 6 4 6 3 6 2M294 170l6 9 6 3 6 2 6 2 6 1 6 4 6 3 6 6 6 3 6 2 6 2 6 3 6 3 6 0 6 2 6 2 6 3 6 3 6 5 6 3 6 4 6 1 6 4 6 3 6 3 6-1 6 1 6 3 6-1 6 4 6 3 6-2 6 1 6-2 6 3 6 1 6 0 6 4 6 1 6-2 6-2 6-3 6 0 6 0 6 1 6-4 6-1 6-1 6 0 6 4 6 8 6 1 6 4 6 4 6-1 6 4 6-2 6 3 6 1 6 5 6-2 6 1 6 0 6-4 6-1 6-1 6-6 6-5M792 258l6-2 6 2 6 2 6 0 6-3 6 1 6-1 6-1 6 1 6 2 6-3 6 2 6-3 6-1 6-4 6-5 6-3 6-1 6-3 6-2 6-6 6-1 6-2 6-3 6-3M966 209l6-5 6-1 6 1 6 0 6 0 6-3 6-3M1164 112l6-2 6-3 6-4 6-9 6-9 6-8 6-6 6-6 6-6 6-9 6-8 6-7 6-9 6-9 6-8 6-7M0 7l6 0 6 0 6 3 6 6 6 4 6 3 6 3 6 5 6 4 6 4 6 0M390 186l6 4 6 5 6 1 6 3 6 5 6 3 6 1M492 221l6 4 6 2 6 0 6 5 6 0 6 3 6 1 6-1 6 4 6-2 6-2 6 1 6 1 6-2 6-2 6-1 6-1 6 3 6 0 6 3 6 3 6 1 6 1 6 0 6 2M792 247l6 4 6-1 6 0 6 3 6-1 6-2 6-2 6 1 6-1 6 1 6-2 6-5 6-2 6-4 6-2M906 228l6 1 6 1 6-2 6-2 6-1 6-2M966 215l6-3 6-2 6-4 6-5 6-5 6-5M1146 95l6-5 6-3 6-5 6-4M1230 32l6-6 6-6 6-6 6-7 6-5M0 7l6-1 6 0 6 0M36 9l6 1 6 3M174 69l6 2 6 3 6 1 6 2 6 3 6 2 6 2 6 3M360 143l6 6 6 2 6 1 6 3 6 4 6 1M420 160l6 0 6 2 6 1 6 1 6 2 6-2 6 2M552 185l6 4 6-2 6-2 6 4 6 5 6 2 6 2 6 1 6 2 6 4M726 229l6-1 6 0 6 4M834 217l6-5 6 2 6-3 6-2 6-1 6-5 6 1M1116 106l6-2 6-3M1218 48l6-4 6-10 6-5 6-2 6-7 6-10 6-8M0 7l6 0 6 0 6 3M84 30l6 2 6 2M138 50l6 3 6 3 6 2 6 2 6 3 6 2 6 3 6 4 6 2 6 2 6 2 6 4 6 3 6 2M360 123l6 0 6 2 6 0 6 0 6 1 6-1 6 0 6 0 6 1 6 2 6 2 6 2 6 0 6 4 6 0 6 1 6 3 6 1 6 3 6 1 6 0 6 1 6 2 6 1 6 2 6 2 6 3 6 2 6 2 6 0 6-1 6-1 6 2 6 0 6 2 6 1 6 0 6 1 6 2 6 0 6 1 6-1 6-1 6 1 6-1 6-1 6 2 6 0 6 2 6 1 6 1 6 0 6 0 6 1 6 1 6-1 6 1 6-2 6-4 6 0 6-1 6 0 6-2 6-1 6-1 6 0 6 0 6-2 6 0 6-2 6 0 6 0 6-3 6 0 6 0 6-3 6 1 6 0 6-3 6-1 6 1 6 0 6-5 6-4 6-1 6-5 6-3 6 0 6-2 6 1 6 3 6-2 6-3 6 2 6 3 6 1 6 3 6 2 6-3 6 0 6-1 6 0 6 0 6-2 6-4 6-3 6-4 6-1 6-4 6-7 6-3 6-3 6 1 6-3 6-1 6-6 6-5 6-2 6 0 6 0 6-1 6-2 6 2 6-1 6-2 6 0 6-3 6-1 6-4 6-2 6-1 6-3 6-3 6-3 6-3 6-2 6-4 6-5 6-4 6-4 6-1 6-8 6-4 6-6 6-5 6-3 6-7 6-3 6-1 6-2M0 7l6 2 6 3 6 2 6-1 6 5 6 3 6 2M60 37l6 6 6 4 6 1M174 70l6 2 6 3 6 5 6 6M294 171l6 2 6 4M336 190l6 2 6 1 6 2 6 3 6 1 6 1 6 1 6 1 6 1 6 0 6 1 6-2 6 3 6 2 6 0 6 4 6 2 6 5 6 2 6 0 6 2M474 232l6 3 6 5 6 8 6 6 6 5 6-2 6 3 6 4 6 6 6 3 6-3 6 3 6 2 6 2 6 4 6 1 6 9 6-1 6 0 6-2 6-4 6-8 6-8 6-1 6-2 6 0 6 0 6 0 6 6 6 5 6-2 6 3 6 2 6 5 6 2 6 5 6 4 6 3 6 5 6 2 6 5 6 0 6 2 6 4 6 5 6 2 6-3 6-1 6 2 6 0 6 0 6-2 6 0 6-2 6-5 6-2 6-6 6 0 6-1 6 1 6 0 6-3 6-6 6-4 6-2 6-7 6-6 6-5 6-4 6-3 6-1 6-4 6-4 6-5 6-3 6-4 6-1 6-2 6-3 6-7 6-3 6-7 6 1 6 3 6-4 6 0 6-5 6-2 6 0 6 0 6 2 6-7 6-7 6-5 6-5 6-5 6-3 6-8 6-6M1092 158l6-2 6-2 6 1 6 5 6 1 6-7 6 1 6-4 6-5 6-8 6-7 6-5 6 2 6-4 6-8 6-11 6-6 6-6 6-10 6-7 6-9 6-9 6-11 6-11 6-12 6-9 6-6 6-7M0 7l6-1 6 1 6 1M360 162l6 5 6 3M396 183l6 4 6 4 6 4 6 5 6 5 6 3M444 215l6 3 6 2 6 4M480 228l6 5 6 2 6 4 6-2 6-2 6-1 6 0 6 0 6-3 6-1M552 231l6 0 6-4M600 228l6 3 6-2M792 262l6-4 6-2 6 4 6 5 6 0 6 0 6 4 6 5 6 2 6 2 6 0 6-8 6-5 6-4 6-9 6-2 6 0 6-1 6-1 6-3 6-5 6-2 6-4 6 0 6-2 6-6 6-1 6-3 6-5 6-5 6-3 6-2 6-4 6-1 6 2 6-3M1038 190l6-4 6-1 6-4 6-3 6-3 6-3 6-2 6 2 6 2 6 1 6-5 6-6 6-9 6-5 6-4 6-6 6-5 6-8M1236 23l6-6 6-5 6-3 6-7M0 7l6 3 6 2 6 0 6 0M336 181l6 3 6 4 6 3 6 2 6 1 6 0 6 4 6 4 6 2 6-1 6 2 6 1 6 1 6-3 6-5 6 1M492 208l6 2 6 4 6 6 6 1 6 1 6 5 6 4 6 4M552 235l6 3 6 2 6 3 6 3 6 1 6 2 6 2 6 2 6 0 6-1 6 1 6 2 6 2 6 2 6-1M666 253l6 1 6 1 6 3 6 0 6 3 6 3 6 1 6-2 6 4 6 5 6 0 6 4 6 2 6 1 6 1 6-3M774 275l6-3 6-2 6-1 6-5 6-2 6 0 6-2 6-3 6-4 6 1 6-2 6-4 6-1 6-2 6-1 6-2 6-1 6 3 6-4 6-3 6-3 6-3 6-2 6-2 6 5 6 4 6-1 6-3 6-5 6-3 6-4 6 0 6-1 6 1 6-5 6-4 6-2 6-4 6-5M1236 20l6-5 6-4 6-4 6-5M0 7l6 1 6 2 6 0M138 51l6 3 6 0 6 2 6 3 6 3 6 2 6 3 6 4 6 3 6 3 6 3 6 3 6 3M360 143l6-1 6-2 6 0 6 1 6 1 6 5M420 157l6 2 6-2 6 2 6 0 6 0 6 0 6 1M516 194l6 6 6 1 6 1M618 228l6 3 6 3 6 5 6 1M684 252l6 1 6 1 6 4 6 2 6 5 6 9 6-3 6 2 6 2 6-4 6 2 6 6 6 2 6 0 6 5 6 0 6-3 6-3 6 0 6 1 6-1 6 3 6 3 6 5 6 4 6-4 6-3 6 1 6-2 6-6 6 2 6-3 6-5 6-10 6-6 6-4 6-6 6-5 6-8 6-9 6-5 6-2 6-4M966 197l6-3 6-3M1224 32l6-13 6-6 6-3 6-2 6-3 6-3M0 7l6 0 6 0 6 0M360 132l6 2 6 1 6 3 6 3 6 5 6 6M504 196l6 6 6 4 6 0 6 1 6-2M576 203l6-1 6 0M618 207l6 0 6-2 6-4 6 0 6-2 6-3 6-1 6 1 6 1 6 0 6 0 6-2 6 7M726 214l6 0 6 2 6 2 6 1 6 1 6 0 6 3 6 1 6 0 6-2 6 2 6 3 6 1 6-1M828 229l6 2 6-1M864 225l6-2 6 0M906 231l6-1 6-2 6-2 6-1 6-1 6-4M966 209l6-1 6-2 6-2 6-1 6 1 6 2 6-4M1032 190l6 3 6 5 6 3 6-3 6-6 6 8 6 2 6-6 6-1 6-2 6-5 6-9 6 1 6 4 6 1 6 2 6-6 6-2 6 1 6-6 6-8 6-11 6-7 6-6 6-10 6-15 6-10 6-12 6-15 6-10 6-8 6-9 6-9 6-7 6-8 6-11 6-9 6-7M0 7l6 2 6 0 6 3 6 2 6 0M360 170l6 5 6 6M384 186l6 2 6 4 6-1 6 4 6 6 6 1 6 0 6-2M498 205l6 0 6 0 6 3 6 3 6 4 6-1M804 238l6-5 6-3 6-2M840 225l6-4 6-3 6-3 6-4 6-3 6-5 6-4 6 0 6-5M966 189l6 5 6 0 6-1 6-3M1038 187l6 0 6 0 6 1 6-2 6-1 6-3 6-3 6-10 6-7 6-4 6-7M1200 71l6-4 6-8 6-9 6-7 6-7 6-9 6-6 6-9 6-7 6-3M0 7l6 1 6-1 6 1M36 9l6 1 6 2 6 5M360 146l6 0 6-1 6 0 6-2 6 1 6 0M420 150l6 2 6 1 6 3 6 3 6 3 6 3 6-3M552 178l6 1 6 3 6 4 6 2 6 3 6 7M792 268l6 0 6 2 6 2 6-2 6 0 6-2 6 0 6-2 6 1 6 0 6-3 6-7 6-5 6-6 6-3 6 2 6 2 6 0 6-2 6-4 6-7 6-2 6-5 6-6 6-2M966 213l6-5 6-2 6-1 6-4 6-7 6-5M1218 50l6-8 6-7 6-8 6-5 6-6 6-9 6-5M0 7l6 3 6 2 6 2 6 3 6 3 6-1M336 175l6 2 6 4 6 4 6 5 6 2 6 4 6-4 6 2 6 5 6 1 6 2 6-1 6 1 6 2 6 2 6 4M492 220l6 4 6 3 6 8 6 6 6-1 6 7 6 2 6 4 6 7 6 0 6 4 6 4 6-4 6-2 6 4 6 3 6 1 6-3 6 3 6-4 6 0 6-6 6 0 6 2 6 5 6-5 6-4M666 260l6-1 6 1 6 3 6 3 6 5 6 0 6 2 6 5 6 6 6-4 6-4 6 0 6 4 6-3 6 0 6 3 6-2 6-1 6 2 6-3 6 1 6-2 6 0 6 7 6 5 6 1 6 0 6 0 6 0 6-3 6 3 6-2 6 3 6-1 6-6 6-4 6 2 6 3 6 2 6 1 6-1 6 1 6-1 6-4 6-2 6-1 6 2 6-1 6-2 6-1 6-5 6 1 6-7 6-4 6-1 6-6 6-10 6 1 6-6 6-5 6-4 6-8 6-3 6-2 6-11 6-8 6-5 6-3 6-1 6-7 6-10 6-8 6-6 6-6 6-7 6-4 6-3 6-4M1146 132l6-6 6-7 6-7M1206 65l6-5 6-6 6-10 6-7 6-8 6-6 6-9 6-7 6-5M0 7l6 0 6 3 6 0 6 4 6 3 6 3M54 32l6 7 6 2M360 170l6-3 6-2 6-2 6 1 6 3 6 3M414 174l6 2 6 1 6-1M576 205l6-3 6-3 6-1 6-5 6-3 6-3 6 1 6-1 6-1 6 1 6 0 6 0 6-1 6 2 6 1 6 1 6 0 6 0 6 1 6 0 6 0 6 2M720 194l6 4 6 5 6 3 6 4 6-2 6 0 6 3 6-2 6-3 6 0 6-2 6 0 6-2 6-1 6-5 6-4 6 0 6-1 6-2 6-3 6-3 6 1 6-1 6-3 6 4 6 3 6-7 6-4 6 1 6-1 6 1 6-5 6-1 6-3 6 0 6-5 6-2 6-2 6-2 6-3 6-2 6-3 6-3 6-2 6-1 6-2 6 0 6-2 6-7 6-3 6-3 6-2 6-2 6-4 6 0 6-2 6-2 6 1 6 1 6-2 6-5 6-3 6-2 6-2 6-6 6-1 6-2 6-1 6-2 6 2 6-1 6 1M1236 20l6-8 6-3 6-4 6-3M0 7l6-1 6 1 6 5 6 5 6 2 6 5 6 4 6 5 6 4 6 5 6 5 6 6 6 6 6 4 6 5 6 5 6 5 6 6 6 5 6 5 6 4 6 5 6 3 6 4 6 5 6 5 6 3 6 3 6 3 6 3 6 3 6 5 6 3 6 5 6 1 6 0 6 2 6 1 6 5 6 5 6 3 6 1 6 2 6 1 6 1 6 3 6-1 6 1 6 1 6 5 6 3 6 2 6 0 6 1M336 187l6 0 6-1 6 1 6 3 6 0 6 1 6 3 6 4 6 1 6 3 6 1 6 2 6 2 6 3 6 1 6-1M492 224l6 1 6 4 6-1 6 0 6 4 6 2 6 2 6-1M552 235l6 2 6 1 6 1 6 1 6 1 6-1 6-1 6-7 6-1 6-1M792 248l6 1 6 4 6 3 6-1 6 0 6-3 6-5 6-3 6 1 6-2 6-2 6-3M966 197l6-3 6-5M1230 32l6-2 6-6 6-7 6-9 6-6M0 7l6 3 6 3 6 3 6 2 6 3 6 3 6 3 6 4 6 2 6 6 6 5 6 5 6 5 6 5 6 6 6 6 6 5 6 5 6 6 6 3 6 4 6 4 6 4 6 5 6 3 6 3 6 4 6 2 6 3M186 129l6 3 6 1M360 144l6-6 6 0 6 1 6-1 6 1 6 1M420 149l6 5 6 4 6 4 6-1 6 4 6 4 6 2M528 173l6 0 6 1 6 0 6 1 6 1 6 1 6 1 6 0 6 0 6 0 6-1 6 0 6-1 6 1 6 1 6-1 6 1 6 0 6 1 6 1 6 1 6 2 6 0 6 0 6 1 6-2 6 0 6 2 6-1 6 1M720 184l6 0 6 0 6 0 6 0 6 0 6 0 6-2 6-3 6 2 6 1 6 0 6-1 6-1 6-2 6-1 6-3 6-1 6-1 6-2 6-2 6-3 6-1 6 0 6-6 6-4 6-5 6-3 6-2 6-3 6 0 6-2 6 0 6 1 6-1 6 1 6 1 6-1 6 1 6 2 6 4 6-1 6 2 6-1 6 3 6 5 6 0 6 2 6-1 6-2 6-4 6-1M1056 131l6-3 6-6 6-6 6-5 6-4 6-2 6-2 6-3 6-2 6-2 6-2 6-1 6-5 6-8 6-7 6-7 6-2 6-1 6-7 6-4 6-5 6-4 6-4 6-1 6-1 6-7 6 5M1230 26l6-2 6-5 6-2 6-6 6-9M0 7l6 1 6 2 6 5 6 2 6 1 6 1M378 181l6 6 6 3 6 7 6 7 6 4 6 5 6 0 6 0 6 0M486 227l6 6 6 1 6 2 6 2 6 1 6 6 6 1 6-6 6 2 6 0 6 1 6 1 6 2 6 3 6 4 6-2 6 4 6 4 6 4 6-1 6 6 6 1 6 3 6-2 6 1 6 0 6-1 6 0 6 1 6 1 6-5 6-3 6 4 6 0 6 4 6 5 6 2 6 0 6 0 6 1 6-1 6 2 6 0 6-3 6-2 6-1 6 2 6 1 6-1 6-7 6-5 6-1 6-1 6-2 6-3 6-5 6-7 6-3 6-5 6-4M966 209l6-6 6-2 6 0 6 2 6-1 6-4 6-1M1218 47l6-1 6-3 6-8 6-8 6-8 6-7 6-10M0 7l6 2 6 0 6 3 6 1M210 137l6 6 6 4 6 1 6 0 6 2 6 4 6 1 6 2 6 1 6 5 6 0M312 180l6 6 6 3 6 4 6 5 6 1 6 1 6 2 6 1 6 2 6 3 6 1 6 3 6 4 6 3 6 2 6 1 6 0 6-1 6-1 6-2 6-4M492 212l6 1 6 0 6-1 6 1 6-3 6-1 6 3M738 231l6-2 6 2 6-3 6-2 6-1 6-3 6-4 6 1 6 2 6 2 6-1 6-1M840 218l6 1 6 1 6-2 6-1 6-1 6-4M1218 54l6-4 6-7 6-9 6-8 6-8 6-7 6-9M0 7l6 1 6 4 6 3 6 3 6 1 6-1M174 71l6 3 6 2 6 3 6 3 6 3M306 111l6 0 6 1 6 2M348 118l6 0 6 0 6 1 6 1 6 1 6 1 6 0 6 3 6 2 6 4 6 2 6 3 6 3 6 2 6 1 6 4 6 1 6 2 6 4 6 4M552 179l6 1 6 1 6 2 6 3 6 1 6 1 6-2 6-1 6 3 6 2 6 2 6 3 6 0 6 0 6 6 6 0 6 2 6 4 6 1 6-2 6 0 6 2M720 204l6-5 6-1 6 3 6 2 6 3 6-2 6-7 6 1 6 0 6 0 6-2 6 2 6 3 6-1 6-2 6-3 6-4 6-2 6-3 6-4 6 0 6-2 6-1 6 2 6-2 6-2 6 0 6-1 6 0 6-1 6-4 6-6 6-2 6-1 6 0 6 2 6 0 6-2 6 0 6 4 6-2 6 2 6-1 6-1 6 0 6-3 6-5 6-5 6-7 6-4 6-2M1056 131l6-6 6-1 6-2M1104 109l6-4 6-3 6-3 6-3 6-7 6-3 6-2 6-1 6-1 6-2 6-3 6-6 6-6 6-5 6-7 6-4 6-9 6-5 6-5 6-6 6-5 6 0 6-3 6-4 6-7 6-3M0 7l6-1 6-1 6 0 6 0 6 1 6 1 6 1 6 1 6 3 6 3 6 2 6 3 6 3 6 4 6 3 6 2 6 2M120 41l6 2 6 4 6 3 6 3 6 3 6 3M174 69l6 2 6 2 6 3 6 3 6 2 6 4M360 142l6 0 6 5 6 3 6 5 6 6 6-1M420 171l6 5 6 3M498 204l6 1 6 1 6 3 6 4 6 2 6 5M576 228l6 3 6 5 6 0 6 0 6 3 6-2 6-4 6-1 6 1 6-1M678 252l6 1 6 4 6 2 6-3M726 260l6 1 6-6M792 250l6-2 6-2 6-1 6-1 6-2 6-4 6-4 6-2M858 225l6-4 6-2 6-2M978 171l6-4 6 0 6-2M1008 156l6-6 6 0 6-3M1230 27l6-3 6-2 6-3 6-8 6-9M0 7l6-1 6-1 6 0 6 0 6 0 6 2 6 1 6 1 6 2 6 2 6 2 6 2 6 2 6 3 6 2 6 1 6 2 6 3 6 3 6 2 6 3 6 3 6 3 6 0 6 2 6 3 6 2 6 3 6 1 6 2 6 2 6 3 6 2 6 3 6 2 6 3 6 1 6 2 6 2 6 2 6 2 6 2 6 1 6 1 6 2 6 0 6 1 6 2 6 2 6 3 6 2 6 1 6 2 6 0 6 2 6 1 6 1 6 1 6 2 6 1 6 2 6 4 6 1 6 1 6 2 6 3 6 1 6 0 6 1 6 0 6 2 6 2 6 2 6 2 6 2 6 4 6 3 6 4 6 4 6 3 6 3 6 1 6 1 6 2 6 2 6 2 6 2 6 2 6 1 6 1 6 1 6 0 6 0 6 1 6 0 6 0 6 0 6 0 6 1 6 0 6 0 6 1 6 1 6 1 6-1 6 0 6-1 6-1 6-1 6-1 6 1 6 0 6 0 6 1 6 0 6 0 6 2 6 0 6 0 6-1 6-1 6-1 6-1 6 4 6 0 6 0 6-1 6 1 6 1 6 1 6 2 6 2 6-1 6 2 6-1 6-1 6-1 6 0 6 0 6-2 6 2 6-3 6-4 6 4 6 3 6 6 6-1 6-2 6-2 6-1 6-2 6 2M1134 135l6-2 6-4 6-5 6-3 6-6 6-2 6-6M1200 75l6-3 6-7 6-7 6-6 6-9 6-5 6-9 6-9 6-9 6-9M0 7l6 2 6 1 6 4 6 5 6 3 6 3 6 4 6 4 6 4 6 5 6 4 6 4 6 4 6 5 6 5 6 5 6 4 6 4 6 4M336 180l6 2 6 0 6-1 6 1 6 4 6 1 6 2 6 2 6-3 6 2 6 0 6-2 6 2 6 0 6 3 6 5M552 191l6-1 6-3 6-1 6 1 6 5 6-1 6 1 6 3 6 6 6 2 6-2 6 1 6 0 6 5 6 2 6 0 6-3 6 1 6 2M726 221l6-1 6 2 6 2 6 0 6-1 6-1 6-1 6-2 6-1 6 1 6 1 6 1 6-3 6 1M1224 41l6-5 6-6 6-5 6-6 6-8 6-9M0 7l6 3 6 2 6 3 6 4 6 4 6 4 6 3 6 4 6 4 6 5 6 2 6 4 6 3 6 2M336 173l6 2 6 3 6 1 6 3 6 4 6 3 6 1 6-3 6 2 6 1 6 0 6-1 6-3 6 4 6 2 6 4M492 211l6-2 6 3 6 2 6 0 6-3 6 6 6 0M792 249l6 1 6-1 6 2 6 1 6-2 6 1 6 1 6-1 6-2 6-8 6-6 6-5 6-7 6-4M966 174l6-4 6-7 6-3 6-1 6 0M1008 156l6-4 6-4 6-2M1236 22l6-6 6-3 6-5 6-6M0 7l6 3 6 2 6 2 6 2 6 3 6 3 6 2 6 4M246 146l6 7 6 3 6 5 6 2 6-1M294 170l6 4 6 7 6 2 6 3 6 2 6 0 6 2 6 1 6 4 6 3 6 2 6 3 6 0 6 3 6 2 6 3 6-1 6-2 6-2 6 4 6 2 6 1 6 0M492 225l6 2 6-1 6-2 6 3 6 3 6 1 6-1 6-2M666 212l6-5 6-5 6 1M720 203l6 0 6 0 6-2 6-1 6-2 6-4 6-3 6 1 6-3 6-1 6-2 6-1 6 2 6 0 6-1 6 0 6-2 6 1 6-1 6-3 6 0 6-5 6-3 6-4 6-4 6-2 6-7 6-5 6-1 6-3 6-3 6-4 6 2 6-1 6-4 6 3 6 2 6 2 6 3 6 2 6 1 6 2 6 4 6 1 6 0 6-1 6-2 6 1 6-5 6-5 6-3M1038 133l6-3 6-6 6-2 6 2 6-6 6-6 6-3 6-3 6-2 6-3 6-3 6-1 6-1 6-6 6-4 6-3 6-6 6-3 6-2 6-4 6-1 6-1 6-3 6-5 6-6 6-2 6-7 6-7 6-6 6-6 6-4 6 0 6-5 6-5 6-2 6-3 6-3M0 7l6 1 6 5 6 3 6 4 6 4 6 5 6 4 6 4 6 5 6 4 6 4 6 4 6 4 6 5 6 4 6 4 6 4 6 5 6 4 6 5 6 4 6 4 6 4 6 2 6 5 6 2 6 4 6 5 6 3M186 127l6 5 6 3 6 3 6 4 6 0 6 2 6 1 6 1M360 173l6 3 6 1M396 185l6-1 6-1 6 4 6 2 6 2 6 0M492 219l6 5 6 7 6 1 6 1 6 3 6 0 6 2 6 5 6 0 6 0 6 8 6 9 6-1 6-2 6 8 6 6 6 3 6-4 6 6 6 4 6 1 6-4 6 0 6 0 6-2 6 1 6-1 6 2 6 4 6 4 6 3 6 7 6 5 6 3 6 3 6 0 6-3 6 1 6-3 6-4 6 3 6-4 6-1 6 3 6-7 6-1 6-3 6-2 6 2 6-1 6-2 6-5 6 0 6 2 6-1 6 2 6-2 6-4 6-6 6 0 6-2 6 3 6 3 6 6 6 6 6 2 6-5 6-9 6-4 6-6 6-5 6-2 6-3 6-4 6 1 6-1 6-1 6-1 6-2 6-4 6-3 6 1 6 1 6 1 6-4 6-2 6 0 6-3 6 2 6-1 6-5 6-1 6-4 6-7 6 0 6-1 6-5 6-7 6-7 6-7 6-10 6-3 6-8 6-4 6-4 6-3 6-13 6-10 6-7M1188 96l6-10 6-9 6-7 6-9 6-13 6-7 6-8 6-7 6-9 6-2 6-4 6-9M0 7l6-1 6 3 6 3 6 4 6 4 6 4 6 3 6 5 6 5 6 5 6 5 6 4 6 5 6 4 6 5 6 5 6 5 6 4 6 3 6 3M138 98l6 6 6 3 6 4 6 3 6 5 6 4 6 4 6 3 6 3 6 3 6 2 6 1 6-1M360 165l6-1 6 2 6 1 6-1 6 3M408 170l6 5 6 4 6 2 6 1M498 204l6 3 6-3 6 0 6 0 6-2 6-1M726 217l6-1 6-3 6-2 6 1 6-2 6 0 6 2 6 2 6 2 6-1 6 1 6 0 6 0 6-3M834 202l6-3 6-4 6 2 6 1 6 1 6-3 6-1 6 1 6 0 6 1M1236 23l6-6 6-5 6-4 6-6M0 7l6-1 6 0 6 0M138 53l6 2 6 3M174 68l6 2 6 2 6 2 6 0 6 2 6 4 6 3 6 2 6 3M360 133l6-1 6 2 6 0 6 0 6 1 6 2 6 1 6-2 6 1 6 0 6 0 6 3 6 2 6 0 6 2 6 2 6 2 6 2 6 3 6 2 6 2 6 2 6 0 6 1 6 1 6 2 6 2 6 1 6 0 6 1 6 2 6 0 6 1 6 1 6 0 6 1 6 1 6 1 6 2 6 1 6 0 6 0 6 1 6 2 6-1 6 2 6 2 6 2 6 0 6-2 6-2 6 0 6-1 6 0 6-1 6 0 6-1 6-1 6 0 6-2 6 0 6-1 6-1 6-2 6-3 6-1 6 1 6 1 6 0 6 1 6 2 6 1 6 0 6 1 6-2 6-1 6 3 6-1 6 2 6-1 6 0 6 0 6 0 6-1 6-1 6-1 6-1 6-4 6-1 6-4 6-2 6 0 6 3 6-2 6 1 6 0 6 2 6 1 6-2 6 0 6 0 6 0 6-3 6-1 6-6 6-4 6-2 6-1 6-2 6-1 6-3M1230 23l6-8 6-3 6-3 6-2 6-5M0 7l6 3 6 3 6 3 6 3 6 3 6 4 6 4 6 5 6 4 6 5 6 4 6 5 6 4 6 5 6 4 6 4 6 5 6 4 6 2M360 153l6-2 6-1 6-2 6-3 6-1 6 0M414 145l6 1 6 1 6 2 6 2 6 0 6 1 6 0 6 1 6 2 6 2 6 1 6 2 6-1 6 3M522 167l6 1 6 1 6 3 6 2 6 1 6 1 6 0 6 2 6 0 6 1 6 1 6 1 6-1 6-1 6-1 6 1 6 0 6 1 6 2 6 1 6-1 6 0 6 0 6 1 6-1 6 0 6 1 6 1 6 1 6 0 6 1M720 190l6 0 6 2 6 1 6 0 6 4 6 4 6 2 6 1 6-2 6 2 6 0 6-1 6-3 6 0 6-2 6-4 6-1 6 1 6 2 6 0 6 0 6 3 6 3 6 1 6 1 6 2M1014 162l6-8 6-4M1050 137l6-7 6 1 6-1 6-1M1224 36l6-1 6-7 6-8 6-6 6-4 6-8M0 7l6 1 6 4 6 3 6 2 6 4 6 3 6 0 6 1M84 31l6 1 6 2M138 50l6 2 6 3 6 2 6 3 6 3 6 2 6 2 6 3 6 4 6 4 6 3 6 2 6 1 6 3M360 154l6 3 6 2 6 3 6 4 6 2M414 173l6 3 6 7 6 3M492 220l6 3 6 3 6-1 6 4 6 2 6 4 6 2 6 4 6 5 6-4 6-1 6 0 6-2 6-2 6 0 6 0 6 0 6 0 6-3 6-4M726 218l6-2 6 1 6 0 6 0 6 0 6 0 6-3 6-1 6-1 6-1 6 1 6-1 6-2 6-3M840 221l6-2 6-3 6-1 6-4 6-7 6-3 6-7 6-1 6-2M984 171l6-3 6-2M1014 156l6-6 6-3M1062 132l6-2 6-1M1224 41l6-5 6-7 6-6 6-6 6-8 6-7M0 7l6 2 6-2 6 0 6 0 6-1 6 1 6 1 6 0 6 2 6 2 6 4 6 4 6 3 6 3 6 4 6 3M138 50l6 2 6 2 6 3 6 3 6 2 6 2 6 1 6 1 6 1 6 3 6 2 6 3 6 1 6 2 6 2 6 1 6 3 6 2 6 2 6 2 6 4 6 3 6 3 6 3 6 2 6 1 6 3 6 2M360 132l6 3 6 2 6 3 6 6 6 1 6 4M420 151l6 0 6 0 6 2 6 4 6 5 6 4 6 3M552 180l6 5 6 4 6 3 6-1 6 1 6 1 6 1 6 2 6 1 6 0 6 2 6 3 6 5 6 3M726 232l6-3 6 2 6-1 6-1 6 1 6 6M798 234l6-5 6-5M834 212l6-5 6-5 6 1 6 1 6 4 6 1 6 1M1230 25l6-7 6-4 6-4 6-4 6-4M0 7l6 3 6-1 6 0M360 174l6 3 6 2M396 182l6 3 6 6 6 2 6 2 6 4 6 4M492 216l6 4 6 1 6 0 6-1 6-1 6 2 6-1M798 244l6 1 6-1 6-5 6 1 6-2 6-3 6-1M942 176l6-7 6-4 6-5 6-2 6-2 6-3 6-1 6-3 6-4 6 0 6 0 6-1 6-2 6-1M1038 134l6-4 6-4 6 0 6 0 6 0 6-6M1224 38l6-4 6-5 6-8 6-10 6-4 6-5M0 7l6 3 6 2 6 2 6 3 6 4 6 4 6 3 6 4 6 4 6 4 6 4 6 3 6 4M90 60l6 4 6 1M360 157l6 6 6 0 6 0 6 0 6 1 6 0M420 161l6 0 6 2 6 1 6 0 6 0 6-3 6 0M528 173l6 0 6 1 6-1 6 1 6 1 6 2 6 2 6 1 6 0 6 1 6-1 6 1 6 1 6-1 6-1 6 1 6 0 6 1 6 0 6 1 6 1 6 0 6 0 6 0 6-1 6 0 6-1 6-1 6-1 6 2M720 183l6 0 6 1 6 0 6 1 6-1 6-1 6 1 6-1 6 0 6-1 6-1 6 0 6 0 6-2 6 0 6 3 6-1 6-1 6-1 6 1 6 0 6 1 6 3 6-1 6 2 6-1 6-3 6 0 6-1 6 0 6-2M918 177l6-3 6-2 6-3 6-1 6-3 6-2 6-2 6-4 6 0 6-4 6-3 6-1 6-1 6-1 6-4 6-2 6-4 6-3 6 0 6-1 6-2 6-1 6-5 6 0 6-2 6-2M1224 38l6-5 6-9 6-6 6-5 6-5 6-6M0 7l6 3 6 3 6 3 6 3 6 3 6 4 6 4 6 4 6 3 6 4 6 3 6 4 6 3M174 80l6 0 6 3 6 5M360 156l6 5 6 4 6 5M396 179l6 1 6 2 6 1 6 3 6 3 6 3M492 218l6 2 6 6 6 4 6 4 6 4 6 1 6 0 6 3 6 1 6 2 6 3 6-1 6 3 6 3 6 3 6 3 6 0 6-7 6-1 6 0 6 3 6 0 6-2 6 0 6 2M666 258l6 1 6-1 6 0 6-1 6-1 6 0M744 256l6 2 6-2M792 249l6-3 6-2 6-2 6-2 6 2 6-1 6-3 6-4M906 226l6 2 6 1 6-2 6-2 6-5 6-3M966 216l6-4 6-5 6-4 6-3 6-6 6 0 6 1M1194 85l6-5 6-8 6-7 6-10 6-7 6-5 6-9 6-7 6-10 6-7 6-8M0 7l6 3 6 3 6 3 6 4 6 2 6 2 6 4 6 4 6 5 6 3 6 4 6 4 6 4 6 4 6 5 6 4 6 4M126 89l6 6 6 4 6 3 6 4 6 4 6 6 6 4 6 5 6 3 6 3 6 4 6 2 6 4 6 0 6 1 6 0 6 0M288 168l6 6 6 5 6 2 6 6 6 4 6 2 6 1 6 2 6 4 6 3 6 1 6 3 6 3 6 4 6 3 6 3 6 2 6 0 6 5 6 1 6 2 6 1 6 0 6 0 6 1 6 1 6-2 6-2 6 4M474 229l6 5 6-3 6-2 6-3 6-2 6 0 6 0 6 2 6-2 6 0M552 229l6 2 6 0 6-2 6 1 6 1 6-1 6 1 6 0 6-1 6 1 6 1 6-3M720 212l6-2 6-1 6-3 6-2 6 2 6 0 6-3 6 5 6 1 6 4 6 3 6-1 6-1 6-1 6-1M834 209l6-2 6 3 6-1 6-3 6-1 6-1 6-2 6-2 6-1 6 0M972 174l6-4 6-4 6-1 6 1M1158 84l6-5 6-3 6-6 6-4 6-2 6-4 6-13 6-7 6-6 6-7 6-2 6-2 6-5 6-3 6-2 6-4 6-7M0 7l6 0 6-1 6 0M30 7l6 1 6 3M78 25l6 2 6 4 6 3M138 54l6 2 6 3M174 69l6 3 6 3 6 5 6 6M360 159l6 3 6 3 6-2 6 1 6 3 6 1M516 194l6 4 6 2 6 0M630 230l6 4 6 3M666 250l6 3 6 2 6 4 6 0 6-2 6 3 6 8 6 2 6 2 6-3 6-6 6-2 6 0 6 4 6 0 6 1M792 267l6 4 6 1 6 4 6-3 6 0 6 2 6-1 6-4 6-2 6-4 6-5 6 1 6 2 6-4 6-4 6-5 6-5 6-1 6-2 6 1 6 1 6 1 6-1 6-4 6-1 6 2 6 2 6 1 6 0 6-5 6-4 6-5 6-5 6-4 6-3 6-6 6-5 6 2 6 1 6 0 6-5 6 0 6 5 6-1 6-5 6 0 6 1 6 0 6-2 6-3 6-2 6-8 6-3 6-2 6-1 6-6 6-12 6-7 6-6 6-5 6-6 6-8 6-9 6-8 6-9 6-11 6-8 6-7 6-10 6-10 6-5 6-6 6-4 6-7 6-11 6-8 6-10 6-8M0 7l6 2 6 3 6 1 6-1 6 7 6 1M78 25l6 3 6 2 6 3M360 150l6 2 6 1 6 3 6 0 6 3 6 1M420 161l6 1 6 0 6 3 6 0 6 1 6 4 6 1M552 191l6 1 6 0 6-2 6 1 6 0 6 3 6-3 6-1 6-3 6-2 6 0 6-2 6-1 6-1 6 1 6 0 6 0 6 0 6 0 6 1 6 0 6 1 6-1 6 2 6 1 6 0M720 187l6 1 6 1 6 0 6 0 6 2 6 5 6 2 6-1 6 4 6 3 6-1 6-1 6 1 6 0 6 1M828 200l6-3 6-2 6-1 6 0 6 0 6 1 6 1 6-4 6-4 6-1 6-3 6 2 6-2M1014 156l6-4 6-7M1164 117l6-4 6-5 6-8M1194 84l6-7 6-9 6-6 6-12 6-5 6-8 6-6 6-4 6-9 6-7 6-9M0 7l6 3 6 0 6 0 6 3 6 5 6 2 6 4 6 4 6 3 6 8 6 5 6 6 6 5 6 4 6 4 6 3 6 3M336 186l6 4 6 2 6 2 6 2 6 3 6 3 6 4 6 5 6 1 6 2 6 2 6 4 6 3 6 4 6 4 6 3 6 4 6 5 6 4 6 1 6-2 6-1 6 4 6 0 6-4 6 0 6 0 6 4 6 7 6 3 6 5 6 8 6 4 6 7 6 8 6 9 6 0 6-3 6 3 6-5 6-4 6 3 6-9 6-2 6 2 6 0 6 2 6 1 6 0 6-3 6-3 6 1 6 4 6 1 6 2 6 7 6 2 6-3 6 1 6-2 6-1 6 1 6-5 6-1 6-7 6-7 6-2 6-7 6-1 6 2 6-1M792 258l6 0 6-1 6 0 6 1 6 3 6-3 6 1 6 3 6 1 6-3 6-1 6-3 6-3 6-1 6-2 6-5 6-3 6-5 6-1 6 5 6-2 6-1 6 3 6 2 6-4 6-5 6-5 6 0 6-3 6-3 6-3 6-9 6-2 6-3 6 0 6-1M1086 163l6-4 6-3 6-1 6 1 6-4 6-1 6-6 6-4 6-4 6 2 6-6 6-5 6-4 6-1 6-6 6-8 6-8 6-5 6-8 6-9 6-9 6-10 6-11 6-8 6-6 6-9 6-6 6-10 6-8M0 7l6 1 6 2 6 2 6 1M354 174l6 3 6 1 6 4 6 4 6 1 6 0 6 2 6-2 6 1 6 2 6 5 6 0 6 4M492 222l6 4 6 7 6 6 6 3 6 1 6 3 6-1 6 4 6 1 6-1 6 3 6 3 6-5 6 8 6 1 6 0 6-4 6-1 6 2 6 6 6 2 6 1 6-3 6-2 6 1M666 260l6-3 6-1 6-4 6 2 6 3 6-2M804 243l6 1 6-3 6 1 6 2 6-1 6-1 6 3 6 3 6 2 6-1 6-1 6-1 6-1 6-2 6-2 6 1 6-1 6-1 6-1 6-4 6-1 6 1 6 0 6-5 6-2 6-2 6-1 6-3 6-3 6-2 6-4 6 0 6-3 6-5 6-4M1056 179l6-2 6-6M1122 142l6-1 6-3 6-1 6-1 6-6 6-4 6-4 6-9 6-6M1194 81l6-5 6-4 6-6 6-9 6-9 6-9 6-10 6-7 6-6 6-7 6-7M0 7l6-1 6 3 6 5 6 2 6 3 6 4 6 5 6 5 6 5 6 4 6 4 6 5 6 4 6 5 6 5 6 3 6 4 6 3M384 171l6-4 6-4M420 165l6-1 6-2 6-4 6-2 6 2 6 3 6 0M552 191l6 5 6 3 6 4M750 256l6 2 6 0M792 265l6-4 6-1 6 1 6 1 6-1 6 0 6-1 6-5 6-3 6-1 6-4 6-5 6-3 6-4M966 198l6-2 6-1 6-3 6-2M1194 78l6-2 6-4 6-6 6-8 6-9 6-10 6-8 6-7 6-7 6-8 6-7M0 7l6-1 6 1 6 3M48 13l6 2 6 2M336 181l6 6 6 4 6 0 6 5 6 3 6 0 6 1 6 1 6 1 6-2 6-3 6-2 6 0 6-2 6 1 6 1M492 205l6 2 6 2 6 1 6 1 6 3 6 3 6 0M594 203l6-4 6 2 6 1 6 0 6 1 6 1 6-3 6 1 6 3 6 0 6 2 6 1M720 207l6-1 6 1 6-1 6 1 6 3 6 2 6-3 6 0 6-2 6 0 6-1 6-3 6 0 6-1 6-2 6-3 6-2 6-4 6-3 6-3 6 1 6-1 6-2 6-2 6 2 6 2 6 2 6 2 6-2 6-6 6-2 6-8 6-1 6-2 6 0 6 0 6 0 6 0 6-1 6-2 6-4 6-4 6-2 6-2 6 0 6-3 6-5 6-1 6 0 6 2 6-2M1056 132l6-3 6-1 6-3M1224 40l6-6 6-10 6-4 6-9 6-6 6-3M0 7l6 1 6 2 6 1 6 4 6 2 6 4 6 4 6 3 6 7 6 5 6 4 6 5 6 4 6 4 6 4 6 4 6 4M336 176l6 0 6 1 6 5 6 3 6 1 6 4 6 3 6 2 6 1 6 7 6-1 6 3 6 1 6 4 6 2 6 4 6 2 6 0 6-1 6 3 6 1M492 227l6 1 6-1 6 0 6 0 6 3 6 1 6 0 6 1M552 233l6 0 6-1 6-3 6-2 6 2 6 2 6-1 6 3 6 6 6 5 6 4 6 4 6 4 6-2 6 1M660 257l6 4 6 3 6 2 6-2 6-1 6 4 6 0 6-3 6-3 6-1 6 5 6 4 6 8 6 1 6-3 6-1 6-3M792 265l6-2 6 0 6-4 6-4 6-2 6 2 6 1 6-2 6 1 6-3 6-3 6-4 6-4 6-3 6-2 6-3M906 223l6-1 6-6M966 201l6 0 6-2 6 0 6 1 6-1 6-5 6-4M1224 38l6-4 6-3 6-5 6-10 6-8 6-6M0 7l6 1 6 1 6-1M174 73l6 1 6 2 6 3 6 2 6 2 6 3M360 165l6 1 6 4M396 180l6 4 6 1 6 5 6 0 6 2 6 3M492 222l6 3 6 2 6 5 6 1 6 2 6 0 6 0 6 1M552 234l6 2 6 0 6 1 6 6 6 4 6 5 6 2 6 0 6 3 6-1 6 2 6-3 6-1 6 1 6 2M804 243l6-1 6-2 6-3 6-1 6-5 6-4 6-7 6-3 6-3 6-4 6 0 6-1M1062 136l6-7 6 0M1110 107l6-3 6 1 6-1M1224 38l6-2 6-10 6-7 6-4 6-6 6-7M0 7l6-1 6 0 6 1M36 20l6 6 6 3 6-1M258 153l6 6 6 5 6 5 6 3 6 1 6 0 6 2 6 4M336 180l6 4 6 4 6 0 6 0 6-1 6-3M384 185l6 4 6 1 6 0 6 2 6-2 6 0 6 1 6-1M552 178l6 2 6 2 6 1 6-2 6 1 6 1 6 0 6 1 6 0 6-1 6 1 6 1 6 0 6 0 6 0 6 2 6 2 6 2 6 0 6 1 6-3 6 0 6 0 6 0 6 1 6 2M720 191l6 0 6 5 6 3 6 3 6 3 6 4 6 3 6 3 6 0 6 4 6-1 6 0 6-1 6-1 6-2M834 214l6-1 6 1 6 2 6 1 6-4 6-6 6-6 6-8 6-2 6 1M954 175l6-4 6-5 6 0 6-4 6-2 6-2 6-6 6-4 6-8 6-7 6-3 6-1 6-3 6-3 6-5 6-4 6-1 6-6 6-1 6-3 6-3 6-5 6-6 6-5 6-4 6-5 6-3 6-1 6-2 6-2 6 1 6 0 6 3 6 4 6 1 6-2 6-4 6-3 6-5 6-3 6-9 6-6 6-3M1230 25l6-7 6-5 6-2 6-4 6-5M0 7l6-1 6 1 6-1M78 25l6 2 6 3 6 3M138 49l6 3 6 3 6 4 6 3 6 2 6 2 6 2 6 2 6 1 6 3 6 2 6 1 6 3 6 3 6 3M360 129l6 0 6 2 6 2 6 2 6 1 6 2M420 149l6 3 6 1 6-1 6 2 6 0 6 3 6 2M552 191l6-4 6-3 6-1 6-1 6 4 6-1 6-1 6 1 6 1 6 1 6 3 6 2 6-1 6-3 6 1 6 0 6 1 6 0 6 2 6 3 6 0 6 1 6-5 6 2 6 2 6 4M720 203l6 0 6 1 6 3 6-1 6 0 6-3 6-4 6-3 6-6 6-1 6-1 6-1 6 0 6-3 6 1 6 1 6 1 6 0 6 1 6-2 6 1 6-1 6 1 6 0 6-5 6 0 6-3 6-7 6-2 6-2 6-3 6-1 6 0 6 0 6 1 6 1 6 0 6-2 6-1 6 1 6 0 6 1 6-1 6-2 6-3 6 1M1014 156l6-2 6-2M1218 50l6-5 6-8 6-9 6-5 6-6 6-9 6-6M0 7l6 3 6 3 6 3 6 3 6 4 6 3 6 3 6 3 6 3 6 5 6 2M258 155l6 6 6 3 6 2M288 171l6 5 6 0 6 2 6 5 6 1 6-1M336 183l6 2 6-2 6 1 6 2 6 3 6 3 6 3 6-4 6 2 6 1 6 1 6-5 6-2 6 4 6 3 6 6M492 211l6 3 6 5 6 3 6 6 6 2 6 3 6-1 6-1M570 226l6 7 6 2 6 0 6 5 6 1 6 0 6 1 6 0 6 1 6-1 6 2 6 0M792 248l6 2 6 3 6-1 6-2 6-2 6 2 6 1 6-5 6-1 6-2 6-4 6-6M1230 25l6-7 6-5 6-4 6-4 6-3M0 7l6 2 6 0 6 3 6 1M360 174l6 3 6 1M396 183l6 1 6 6 6 1 6 2 6 1 6 3M498 202l6 1 6 1 6 0 6-3 6 4 6 0M726 219l6-2 6 1 6 4 6 3 6 1 6-1 6 7 6 4M798 244l6 2 6-1 6-1 6 0 6-1 6 0 6 2 6 1 6-6 6 1 6 5 6-3 6 0 6-2 6 0 6-2 6 0 6 0 6-2 6 0 6 0 6-1 6 0 6 1 6-2 6-4 6-4 6-1 6-5 6-4 6-5 6-2 6-5 6-1 6 0M1038 188l6-4 6-7M1152 122l6-3 6-3 6-5 6-5M1188 93l6-4 6-8 6-8 6-9 6-10 6-8 6-8 6-7 6-6 6-5 6-8 6-10M0 7l6 1 6-1 6 3M36 9l6 1 6 2 6 4M174 68l6 2 6 3 6 2 6 2 6 3 6 3 6 4M360 137l6 4 6 4 6 2 6 2 6 2 6 6M420 166l6 3 6 5M522 195l6 3 6-2M552 198l6-4 6-1 6-5 6 1 6 3 6 2 6 1 6 2 6 5M726 229l6-1 6 3 6 0 6 0 6 1 6 2M804 235l6-2 6 2 6 5 6-1 6 0 6 0 6-3M1230 30l6-6 6-7 6-5 6-6 6-4M0 7l6 2 6 3 6 2 6 3 6 3 6 2 6 0M360 133l6 1 6 1 6 2 6 0 6 2 6 3M420 152l6 2 6-1 6 0 6 2 6 4 6 3 6 2M516 193l6 6 6 3 6 3M726 222l6 1 6-2 6-1 6-3 6 1 6 1 6 0 6 2 6 2 6 2 6 1 6-3 6 2 6 0M828 228l6 4 6 0 6 2 6 4 6 0 6 2 6-2 6-3M1236 19l6-7 6-3 6-4 6-3M0 7l6 3 6 1 6 3 6 1 6 1M138 94l6 5 6 3 6 4 6 4 6 5 6 5M186 128l6 8 6 6 6 5 6 2 6 3 6 5 6 4 6 4 6 9 6 7 6 3 6 3 6-3 6 0 6 0 6-5 6 1 6-2 6 1 6 0M336 176l6-1 6 5 6 1 6 4 6 1 6 1 6 5 6 2 6 3 6 2 6 1 6-1 6 4 6 0 6 1 6 0M492 208l6-2 6 0 6 3 6 1 6 4 6 3 6 5M552 229l6 4 6 3 6-1 6 3 6 7 6 4 6 3 6 1 6 3 6 6 6 6 6 4 6-2 6-4 6 2 6-1 6-2 6 2 6 0 6 3 6-1 6-6 6-2 6-2 6 0M780 236l6-5 6 0 6-4 6-2 6 1M834 208l6 0 6-2 6-4 6-5 6 0 6-2 6-4 6-4 6-4 6-2 6-1 6 3M1230 28l6-4 6-4 6-5 6-6 6-7M0 7l6 1 6 0 6 2M360 155l6-1 6 0 6 1 6 3 6 2 6 1M414 172l6 5 6 3 6 5M492 216l6 3 6 6 6 6 6 7 6 7 6 7 6 6 6 4 6 1 6 13 6 8 6 6 6 4 6 5 6 5 6 3 6 3 6 6 6 3 6-1 6 2 6 2 6 1 6 0 6 5 6 5 6 0 6-1 6-5 6 0 6 0 6-2 6-2 6-2 6-1 6 0 6-2 6 2 6-1 6-4 6-1 6-3 6-2 6 2 6 0 6-4 6-5 6 0 6-3 6-10 6-6 6 0 6-2 6 1 6 0 6 0 6 0 6 5 6-3 6 2 6 5 6 0 6-5 6-3 6-1 6 2 6-1 6-2 6 0 6-4 6-6 6-5 6-7 6-1 6-6 6-6 6-7 6-6 6-4 6-3 6-1 6-3 6-6 6-1 6 2 6-3 6 2 6 3 6 0 6-1 6-4 6-7 6-6 6-3 6 0 6 3 6 2 6 2 6-5 6 0 6-1 6 1 6-1 6-2 6-6 6-5 6-3 6-8 6-8 6 2 6-7 6-4 6-9 6-9 6-7 6-10 6-8 6-11 6-9 6-9 6-13 6-15 6-10 6-8 6-12 6-9 6-7 6-10M0 7l6 1 6 1 6 0M360 138l6 2 6 1 6-1 6 5 6 4 6-3M420 153l6 2 6 2 6 2 6 4 6-1 6-1 6 0M552 178l6 1 6 6 6 3 6 2 6 3 6 2 6 0 6 0 6-1 6 0 6-2 6-3 6-2 6 1 6 0 6 1 6 1 6 3 6 1 6 0 6 3 6 2M696 198l6-3 6 2M720 196l6 0 6-2 6 1 6 1 6 0 6-4 6-1 6-2 6 1 6 1 6 2 6 3 6 0 6 2 6 2M834 206l6-1 6 0 6-2 6-1 6-5 6-1 6 0 6 3 6 0 6-3M960 173l6-2 6-7 6-4 6 0 6-4 6 2M1236 20l6-2 6-7 6-3 6-6M0 7l6 0 6 0 6 1M360 158l6 4 6-3 6 0 6 1 6 1 6 0M408 170l6 5 6 3 6 2 6 6M492 204l6 3 6 3 6-1 6-2 6-2 6-4 6-2M792 253l6-2 6-1 6 1 6-1 6 0 6 1 6 1 6-2 6-2 6-1 6 2 6 3 6-5 6 0 6 1 6 5 6-1 6 0 6-1 6-2 6 1 6 0 6 1 6 0 6-2 6 2 6-3 6-1 6 0 6 3 6 1 6-2 6-3 6-3 6 0 6-5 6-3 6 3 6 8 6 1 6-4 6-3 6-5 6-3 6 0 6-5 6-7 6-4 6-6 6-9 6-3 6-7 6-7 6-10 6-9 6-1 6 4 6 1 6-3 6-6 6-3 6-4 6-4 6-5 6-8 6-3 6-10 6-9 6-11 6-14 6-10 6-13 6-10 6-10 6-14 6-11 6-9 6-10M0 7l6 3 6 3 6 4 6 3 6 3 6 4 6 4 6 4 6 5 6 4 6 4 6 3 6 4 6 6 6 4 6 5 6 4 6 4 6 4 6 4 6 2M138 95l6 4 6 4 6 5 6 3 6 3M240 147l6 5 6 3 6 1M336 174l6 3 6 2 6 3 6-2 6-2 6 2M396 180l6 1 6 0 6-1 6 1 6 2 6 1M516 197l6 3 6 3 6 2M606 227l6 4 6 2 6-1 6 2 6 3 6-1M726 261l6 1 6 3 6 1 6 0 6 0 6-3M792 257l6 1 6-1 6-2 6-2 6-1 6 1 6 0 6 1 6-5 6-1 6-1 6-4 6-1 6-1 6-5 6 2 6 3 6 2 6-2 6-3 6-1 6-2 6-4 6 1 6-3 6-4 6 0 6-4 6-2 6-2 6-4 6-1 6-2 6 0 6-2 6 0 6-2 6-4 6-2 6-4 6-5 6-6 6-3 6-5 6-1 6-4M1116 149l6-2 6 1 6 5 6 1 6-6 6-3 6-3 6-4 6-6 6-8 6-7 6-12 6-9 6-2 6-3 6-5 6-10 6-12 6-11 6-12 6-11 6-9 6-12 6-7M0 7l6 3 6 3 6 1 6 3 6 3 6 3 6 4 6 4 6 4 6 5 6 3 6 3M384 186l6 2 6 1 6 2 6 3 6 4 6 4 6 2 6 0M444 213l6 5 6 3 6 2M474 231l6 3 6 4 6 6 6 4 6 3 6 2 6 2 6 1 6 0 6-1 6-7 6-6 6 1 6-4 6 0 6 3 6 2 6 0 6 0 6 0 6-1 6-3 6-4 6 4 6 2 6 1 6 4 6 5M666 260l6 0 6-3 6-5M792 244l6 1 6 0 6-2 6-4 6-2 6 0 6 0 6-3M966 216l6 5 6 3 6 0 6-5 6-4 6-5 6-3 6-2 6-3 6 0 6-2 6-5 6-3 6-4 6-5 6 0 6 3 6-1 6-4 6-6 6-10 6-1 6-5 6-5 6-6 6-7 6-1 6-7M1224 41l6-7 6-5 6-7 6-10 6-5 6-5M0 7l6-2 6 0 6 0M138 52l6 1 6 2 6 1 6 1 6 4 6 3 6 3 6 2 6 3 6 2 6 3 6 3 6 3 6 2 6 2M258 97l6 1 6 3M360 145l6 2 6 4 6 3 6 4 6 3 6 5M414 172l6 5 6 0 6-1M552 195l6 1 6-1 6 1 6 0 6 1 6 3 6 2 6-1 6-1 6 3 6-3 6 0 6 3 6 4 6 2M726 214l6 2 6-1 6 1 6-1 6 2 6-2 6 0 6 3 6 5 6-2 6 1 6-1 6-2 6 1M840 223l6-1 6-2 6-4 6-3 6-4 6-6 6-1 6-2 6-5M1122 143l6-1 6-3 6-4 6-6M1164 111l6-2 6-2 6-2 6-1 6-3 6-3 6-2 6-9 6-6 6-10 6-12 6-13 6-13 6-12 6-11 6-8M0 7l6 0 6 1 6 2M36 9l6 0 6 1 6 4 6 3M78 26l6 0 6 2 6 2 6 2 6 1 6 2 6 2 6 4 6 2 6 2 6 3 6 2 6 2 6 3 6 5 6 3 6 2 6 3 6 3 6 5 6 4 6 2 6 3 6 2M360 145l6 6 6 5 6 4 6 8M396 178l6 1 6 0 6 3 6 2 6 1 6 0M552 180l6 0 6 4 6 2 6-3 6 0 6 4 6 4 6-2 6-2 6 1 6 1 6 4 6 3 6 3 6 4 6 4 6 4M726 222l6 1 6-2 6 1 6 3 6 0 6 0 6 0 6 1 6 0 6-3 6-3 6-2 6-2 6-5M834 205l6 0 6-1 6 0 6 0 6-3 6-1 6-4 6-3 6-6 6-3 6-1 6-2M918 173l6-1 6-1 6-1 6 2 6 2 6-2 6 1M1014 156l6-2 6-2M1044 132l6-6 6-9 6-8 6-4 6-2 6-3 6-1 6 0 6-1 6 0 6-1 6 2 6-4 6-2 6-5 6-4 6 0 6 1 6 1M1176 74l6-5 6-4M1224 31l6-12 6-4 6-3 6-4 6-3 6-3M0 7l6 2 6 3 6 4 6 3 6 3 6 4 6 4 6 3 6 4 6 3 6 3 6 4 6 6 6 3 6 4 6 5 6 4M156 106l6 4 6 2M216 140l6 5 6 1 6 4 6 3 6 3 6-1 6 3 6 5 6 3 6 2M288 171l6 4 6 2 6-2M336 181l6 0 6-1 6 4 6-1 6 2 6 3 6 4 6 8 6 5 6 0 6 5 6 2 6 1 6-2 6-1 6 3M444 216l6 4 6 0 6 4M492 226l6 3 6-1 6 3 6 1 6-1 6-3 6 3 6 1M552 232l6 1 6 1 6 3 6 4 6 1 6 1 6 2 6-2 6 1 6-2 6-1 6 0 6-3 6 1 6-2M690 250l6 6 6 4 6 6 6 4 6 2 6-2 6 2 6-4 6 0 6-2 6-2 6 2M792 264l6-3 6 0 6 0 6-4 6-7 6-5 6-4 6-3 6-5M1206 62l6-4 6-6 6-6 6-4 6-8 6-11 6-8 6-6 6-7M0 7l6-1 6 0 6 0M174 78l6 2 6 2 6 2 6 3M396 178l6 3 6 4 6 4 6 2 6 4 6 6M492 225l6 5 6 1 6 1 6 2 6 2 6-2 6 0 6-4M552 234l6-2 6 1 6 2 6 2 6 1 6 1 6 3 6 2 6 2 6 0 6 2 6 1 6 0 6 0 6-2M792 252l6 1 6 0 6 1 6 2 6-5 6-2 6 1 6 2 6 0 6 1 6 0 6-3 6-3 6 2 6-2 6-2 6 0 6 4 6-1 6-2 6-3 6-2 6 0 6 0 6 0 6 0 6 0 6 0 6 0 6-5 6-8 6 0 6-2 6-3 6-4 6-4 6-4 6 1 6 0 6-5 6-3 6-4 6-5 6-3 6-6 6-8 6-8M1086 162l6-3 6-2 6-3M1116 145l6 0 6 5 6 8 6-3 6-5 6 0 6-3 6-9 6-9 6-3 6-7 6-11 6-10 6-12 6-7 6-6 6-8 6-9 6-10 6-8 6-8 6-10 6-9 6-9M0 7l6-1 6 1 6 0M36 9l6 1 6 1 6 2 6 1 6 1 6 1 6 2 6 2 6 2 6 2 6 1 6 3 6 2 6 3 6 3 6 4 6 3 6 4 6 2 6 1 6 3 6 2 6 2 6 3 6 1 6 3 6 3 6 2 6 1 6 1 6 2 6 1 6 3 6 2 6 3 6 0 6 2 6 1 6 1 6 1 6 1 6 2 6 3 6 2 6 1 6 1 6 1 6 1 6 1 6 1 6 1 6 2 6 2 6 1 6 2 6 2 6 2 6 2 6 1 6 2 6 1 6 2 6 1 6 3 6 0 6 2 6 2 6 2 6 2 6 3 6 1 6 1 6 4 6 2 6 1 6 2 6 3 6 3 6 2 6 2 6 2 6 1 6 2 6 1 6 2 6 2 6 1 6 0 6 1 6 2 6 0 6 1 6 1 6 1 6 1 6 1 6 1 6 2 6 2 6 1 6 0 6 0 6 0 6 0 6-1 6 0 6 0 6 0 6-1 6 0 6 0 6 1M720 183l6 0 6 1 6-1 6 2 6 3 6 0 6 0 6-1 6-1 6-2 6-1 6 0 6-1 6 1 6-2 6 2 6 3 6 1 6 4 6 3 6 3 6 1 6 3 6 6 6 5 6 7M966 206l6-4 6-1 6-3 6-2 6 0 6-3 6-3M1230 30l6-4 6-3 6-4 6-7 6-10M0 7l6 2 6-2 6 4 6 4 6 1M174 76l6 6 6 4M360 151l6-1 6 0 6 3 6 1 6 1 6 3M420 165l6 5 6 1 6 3M552 188l6 1 6 1 6 1 6 8 6 4M744 235l6-3 6 1 6-1 6-1 6 2M804 242l6 1 6 1 6 0 6 2 6-1 6 1 6-3 6-1 6-2 6-3 6-3 6 2 6-2M906 235l6-1 6-4 6-2 6-1 6-1 6 0M966 209l6-2 6-1 6 0 6-4 6-3 6-4 6-3M1200 75l6-7 6-9 6-4 6-4 6-10 6-6 6-5 6-8 6-11 6-9M0 7l6 3 6 2 6 3 6 3 6 3 6 2 6 5 6 3 6 4 6 1M174 77l6 2 6 4 6 4M360 155l6 6 6 4 6 2 6 0 6-2 6 0M420 171l6-1 6 0 6 1 6-1 6-2 6 0 6 2M552 183l6-1 6 0 6 0 6-1 6 0 6 0 6 2 6 1 6-1 6 0 6-1 6 1 6 1 6 1 6 2 6 1 6 1 6 0 6 3 6 3 6 1 6 1M720 198l6 0 6-1 6 6 6 4 6-3 6 1 6 1 6 0 6 0 6 0 6 0 6-2 6-1 6 1 6 1M834 211l6-3 6 2 6 2 6 1 6-1 6 1 6-1M1164 114l6-1 6-4 6-7 6-8 6-4 6-5 6-7 6-3 6-10 6-8 6-6 6-11 6-11 6-8 6-10 6-9M0 7l6 1 6 3 6-1M360 162l6 1 6 2 6 4M396 174l6 3 6 1 6 3 6 5 6-1 6 5M492 207l6 5 6-3 6 1 6 3 6-3 6 1 6-3M744 235l6-3 6 1 6 1 6-2 6 3M792 249l6 1 6 1 6 0 6 3 6 5 6-1 6 0 6-1 6-5 6-3 6 0 6-3 6-5 6-7M906 222l6 2 6-2 6-2 6-3M966 198l6-4 6-3M1230 29l6-3 6-4 6-3 6-8 6-9M0 7l6 0 6-1 6 1 6-2 6 1 6 1 6 2 6 2 6 3 6 3 6 1 6 3 6 3 6 4 6 2 6 4M174 77l6 3 6 3 6 5M360 160l6-1 6 0 6 2 6-2 6 2 6 0M420 167l6-1 6-2 6-4 6-2 6-1 6 0 6 2M552 183l6-3 6 0 6 0 6 0 6 2 6 0 6 1 6 0 6 0 6 0 6 1 6 1 6 2 6 3 6 0 6 5 6 1 6 2 6-3 6 0 6 1 6 3M720 205l6-3 6-2 6 0 6-1 6 0 6 4 6 4 6 3 6-4 6-3 6 0 6-5 6-2 6-3 6-2 6 0 6-4 6-3 6 0 6-5 6-4 6-4 6-5 6-1 6-1 6 0 6-1 6 1 6 2 6-1 6 1 6 2 6 3 6 1 6-1 6 0 6-1 6-1 6-1 6 0 6 0 6-4 6-2 6-3 6-1 6-1 6-5 6-5 6-3 6-3 6 0M1038 131l6-1 6-8 6-2 6-4 6-1 6-3 6-3 6-5 6-1 6 0 6-3 6-3 6-4 6-3 6 2 6-5 6-4 6-2 6-5 6-5 6-6 6-3 6 2 6-3 6-3 6-2M1236 23l6-4 6-9 6-5 6-3M0 7l6 1 6 0 6-2M360 173l6 4 6 1M390 185l6 3 6 3 6 0 6-1 6 0 6-3 6 2M498 196l6 4 6 4 6-1 6 3 6 2 6 3M570 228l6 6 6 3 6 0 6 4 6 3 6 5 6 4 6 1 6 2 6-3 6 1 6 3 6 4 6 0 6-2 6 0 6-1 6-3 6-3M834 215l6-1 6 3 6-1 6-1 6 0 6-1 6-3M942 176l6-3 6-5 6-3 6-3 6-2 6-4 6-4 6 0 6-4 6-1 6-6 6-2 6-1 6-4 6 1M1056 131l6-1 6 1M1206 65l6-2 6-9 6-11 6-10 6-4 6-7 6-8 6-6 6-6M0 7l6 4 6 2 6 0 6-2M42 22l6 9 6 5 6 5 6 5 6 3 6 5 6 3 6 4 6 4 6 4M138 95l6 5 6 5M360 145l6 4 6 2 6-1 6-1 6 3 6 0M420 151l6 2 6 3 6 4 6 2 6 2 6 5 6 0M804 240l6-1 6 0 6 2 6-4 6 4 6-4 6-1 6 5 6 3 6 2 6-3 6-4 6-3 6 2 6 1 6-1 6-2 6-3 6 0 6 2 6-5 6-2 6-2 6-1 6-2 6-1 6-1 6-3 6-4 6-4 6-4 6-1 6 0 6-1 6 0 6 2 6 6 6 4 6 4 6 0 6 0 6 1 6 0 6-1 6-6 6-8 6-4 6-6 6-2 6-8 6-1 6-1 6-13 6-6 6-11 6-8 6-11 6-7 6-5 6-8M1218 48l6-3 6-6 6-8 6-6 6-5 6-8 6-10M0 7l6-1 6 2 6 4 6 4 6 2 6 2 6 4 6 4 6 5 6 5 6 5 6 5 6 5 6 5 6 4 6 4 6 5M126 89l6 6 6 4 6 5 6 5 6 3 6 2 6 3 6 5M198 133l6 4 6 0M360 155l6 5 6 1 6-3 6-1 6 3 6 7M414 173l6 2 6 3 6 0M552 190l6-2 6 2 6 3 6 1 6-1 6 1 6 1 6 3 6-2 6 2 6 2 6 3 6 2 6-5 6 1 6 4 6 3M672 209l6-4 6-2M720 196l6-3 6-3 6 0 6-1 6-1 6-1 6 0 6-3 6-2 6 0 6-3 6-1 6-1 6 1 6-1 6-1 6-1 6 0 6-2 6-1 6-1 6 0 6-5 6-5 6-3 6-4 6-1 6 0 6-1 6-2 6-2 6-1 6-1 6-2 6 2 6 9 6 5 6 2 6-2 6-1 6-3 6-1 6-3 6-1 6 0 6 0 6 2 6-4 6 0 6-2 6-4M1044 131l6-6 6 0 6-1 6 0 6-4M1116 107l6-3 6-5M1140 92l6-2 6-2 6-5 6-7 6-4 6-5 6-7 6-4 6-7 6-5 6-1 6-3 6-9 6-8 6-9 6-2 6-1 6-3 6-3 6-3M0 7l6-1 6-1 6 1M36 9l6 0 6 2 6 2 6 1 6 1 6 2 6 3 6 4 6 4 6 3 6 4M174 73l6 7 6 8M360 154l6-4 6-3 6-1 6-1 6 0 6-1M420 149l6 1 6 2 6 6 6 3 6 0 6 4 6 3M510 197l6 7 6 5 6 1 6-1M720 211l6-1 6 0 6 2 6-6 6 3 6-1 6 3 6 0 6-1 6 5 6 2 6 0 6 2 6 0 6 0M840 224l6-1 6-7 6-5 6-5 6 0 6 1 6-3 6-3 6-1M1230 30l6-3 6-5 6-7 6-6 6-7M0 7l6-1 6 2 6-1M174 71l6 2 6 1 6 1 6 1 6 3 6 2 6 3 6 2M360 150l6 1 6-2 6-2 6-2 6-1 6 0M420 148l6 0 6 1 6 3 6 2 6 1 6 2 6 1M552 194l6 3 6-1 6-1 6-1 6 1 6 4 6 1 6-2 6-1 6-3 6 0 6-2 6 2 6-1 6-3 6 1 6-2 6 2 6 0 6 1 6 1 6 3M696 199l6-5 6 1M720 193l6 1 6-1 6 4 6 0 6 0 6 2 6 5 6 5 6 1 6 4 6 2 6 6 6 6 6 6 6 2 6 0 6-2 6-1 6-2 6-2M864 226l6-3 6-1M1200 75l6-3 6-10 6-10 6-8 6-9 6-7 6-8 6-6 6-7 6-5M0 7l6 3 6 2 6 4 6 4 6 2 6 3 6 4 6 4 6 4 6 3 6 5 6 4 6 4 6 3 6 4 6 4 6 3M174 73l6 4 6 0 6 2 6 3 6 3M360 145l6 4 6-1 6 1 6 3 6 5 6 2M420 173l6 5 6 4M492 220l6-1 6 1 6 4 6 5 6 3 6 3 6 3 6 0 6 2 6-2 6 1 6 2 6-1 6 4 6 0 6 2 6-2 6-3 6 0 6 3 6 2 6 3 6 1 6 0 6 1M804 231l6 0 6-1 6 0 6-3 6 3 6 3M966 219l6-2 6-1 6 0 6 0 6 0 6 1 6-5 6 0 6 0 6 0 6-3 6 0 6-2 6-3 6-8 6-12 6-5 6-5M1218 50l6-6 6-7 6-5 6-6 6-7 6-8 6-9M0 7l6 1 6-1 6 1M174 68l6 2 6 2 6 3 6 2 6 4 6 2 6 4M360 131l6 1 6 1 6 2 6 2 6 2 6 1M420 147l6 2 6 1 6 1 6 2 6 1 6 3 6 3M552 179l6 0 6 1 6 1 6 0 6 0 6 0 6-1 6-1 6 0 6-1 6 0 6 2 6 1 6 1 6-2 6 1 6 0 6 2 6-1 6 0 6-1 6 2 6-1 6 0 6 0 6 1M720 183l6 2 6 2 6-1 6 1 6 0 6 0 6 1 6 0 6 1 6 1 6 2 6 3 6 4 6-1 6 0 6 1 6 0 6-2 6-1 6-1 6-3 6 1 6-2 6-3 6-2 6-1 6 0 6-3 6 4 6-2 6 0M978 171l6-4 6-4 6-2M1230 30l6-5 6-8 6-4 6-7 6-4M0 7l6 4 6 2 6 4 6 3 6 3 6 4 6 4 6 5 6 4 6 4 6 4 6 4 6 5 6 4 6 4 6 5 6 4 6 6 6 4 6 3 6 4 6 2M396 172l6 3 6 4 6 3 6 2 6 1 6 1M492 208l6-1 6 1 6 1 6 2 6-2 6 1 6 3M558 228l6 2 6 4 6 0 6-1 6 0 6 0 6 3 6 2 6 0 6 0 6 2 6 3 6 4 6 1M726 257l6 1 6 0 6-2M804 239l6-3 6-5 6-4M858 227l6-5 6-4 6-1M966 216l6-3 6-2 6-6 6-4 6-2 6-5 6-5M1074 173l6 1 6 2 6-5 6-8 6-5 6-7 6-4 6-3 6-3 6-7M1218 52l6-8 6-6 6-5 6-10 6-9 6-8 6-4M0 7l6 3 6 2 6 2 6 0 6 3 6 1M336 185l6 6 6 2 6 1 6 2 6 2 6 1 6 4 6-1 6 1 6 3 6 2 6 3 6 5 6 2 6 3 6 4 6 3 6 2 6 1 6 0 6 3 6 0 6-3M492 227l6-1 6 0 6 0 6-5 6-4 6 1 6 3M594 236l6 4 6 0 6 2 6 2 6 0 6 2 6-1 6-2M678 251l6 2 6 5 6 1 6 1M726 261l6-1 6 1 6 2 6 0 6 4 6 2M774 270l6 1 6-1 6-6 6-1 6 0 6-2 6-4 6-3 6-2 6-4 6 4 6-1 6-5 6-5 6-6M906 228l6 0 6-1 6-1 6-2 6-3 6-3M966 211l6 1 6-2 6-2 6-2 6-2 6-3 6-4M1224 40l6-7 6-9 6-8 6-4 6-3 6-7M0 7l6-1 6 0 6 1M174 75l6 1 6 1 6 2 6 2 6 2 6 1M360 138l6 5 6 1 6 2 6 2 6 1 6 6M420 161l6-1 6 1 6 4 6 0 6-2 6 2 6 1M516 197l6 8 6 4 6 3M750 234l6-4 6-2 6-3 6-4 6-6 6-3 6-2 6-5 6 0 6-3 6-8 6-3 6-2 6-1 6 1 6 0 6-2 6 1 6 0 6 1 6-4 6-6 6 1 6-2 6-1 6 3M1200 72l6-3 6-7 6-8 6-8 6-7 6-4 6-9 6-9 6-7 6-8M0 7l6-1 6 3 6 3 6 3 6 3 6 3 6 3 6 4 6 7 6 4 6 4 6 5 6 4 6 4 6 4 6 5 6 3M360 165l6 0 6 2 6 3M396 177l6 4 6 2 6 1 6 1 6 1 6 5M498 201l6-1 6 4 6 2 6 2 6 1 6-1M726 216l6 1 6 1 6 1 6 0 6-4 6 1 6 0 6-1 6-3 6-4 6-4 6 2 6 0 6 4M834 207l6-5 6-1 6 4 6 2 6-1 6 2 6 2M1206 65l6-5 6-5 6-7 6-8 6-8 6-7 6-9 6-8 6-6M0 7l6-3 6 0 6 0 6 0 6 0 6 1 6 1 6 3 6 2 6 2 6 3 6 2 6 3 6 2 6 2 6 4 6 3 6 3 6 2 6 3 6 2 6 2 6 3 6 2 6 1 6 1 6 2 6 2 6 1 6 3 6 2 6 3 6 3 6 3 6 2 6 3 6 1 6 4 6 2 6 3 6 2 6 1 6 2 6 2 6 3 6 3 6 2 6 1 6 2 6 1 6 3 6 2 6 1 6 2 6 2 6 2M360 122l6 1 6 2 6 2 6 2 6 2 6 1 6 1 6 1 6 1 6 1 6 2 6 2 6 2 6 2 6 1 6 3 6 2 6 2 6 2 6 4 6 4M552 178l6-1 6 0 6 0 6 0 6 0 6 1 6 0 6 0 6 0 6 1 6 2 6 2 6 1 6 1 6 0 6 0 6 2 6 0 6 0 6 1 6 0 6-2 6 1 6-1 6-1 6 0M720 183l6-2 6 0 6-2 6 0 6-1 6 0 6 1 6 0 6 0 6 1 6 1 6 2 6 1 6 2 6 3 6 2 6-1 6 1 6 2 6 1 6 6 6 2 6 2 6 2 6 0 6 0M966 201l6-4 6 1 6 2 6-1 6-4 6-2 6-1M1086 163l6-1 6-4 6-2 6-2 6-2 6 4 6 2 6-4 6 2 6-4 6-10 6-8 6-4 6-7 6-3 6-11 6-2 6-11 6-7 6-6 6-7 6-11 6-8 6-9 6-6 6-9 6-9 6-11 6-11M0 7l6-1 6 0 6 1M36 19l6 5 6 4 6 5 6 2M174 70l6 0 6 2 6 2 6 2 6 2 6 1 6 3 6 2 6 2M276 102l6 1 6 1 6 1 6 2 6 2 6 1 6 1 6 1 6 2 6 3M360 125l6 1 6 0 6 0 6 1 6 0 6 1 6 0 6 1 6 1 6 2 6 2 6 3 6 3 6 3 6 3 6 2 6 2 6 0 6 3 6 2 6 2 6 3M522 167l6 1 6 2 6 2 6 1 6 1 6 1 6 2 6 2 6 0 6 1 6-1 6 0 6 1 6-1 6-1 6 1 6 0 6 0 6 2 6 1 6-1 6 2 6 0 6 1 6 0 6 0 6 0 6 1 6 1 6 1 6-1M720 187l6 1 6 0 6 0 6-1 6 1 6 1 6-1 6-1 6 1 6 3 6 2 6 0 6 0 6 1 6 3 6 5M834 204l6 2 6 5 6 0 6 1 6-2 6-4 6-1M1146 94l6-5 6-6 6-3 6-6 6-4 6-6 6-5 6-6 6-5 6-4 6-2M1236 20l6-6 6-5 6-4 6-3M0 7l6 3 6 2 6 3 6 3 6 3 6 3 6 3 6 6 6 7 6 5 6 5 6 5 6 5 6 3 6 6 6 6 6 3 6 3 6 5 6 4 6 4 6 5 6 6 6 5 6 6 6 4 6 4 6 2 6 4 6 6 6 3 6 4 6 3 6 2 6 3 6 4 6 2 6 3 6 5 6 1 6 5 6 4 6 0 6 2 6 0 6 0 6 1 6 1 6 0 6-1 6 0 6 1 6 5 6 0M336 184l6 0 6-1 6 1 6 3 6 1 6-1 6 2 6 2 6 2 6 0 6 4 6 4 6 7 6 6 6 2 6 4 6 3 6 2 6 1 6 1 6 0 6 3 6 3 6 5 6 4 6-1 6 2 6 4 6 2 6 8 6 6 6 5 6 2 6 1 6 7 6 7 6 0 6-1 6-1 6 4 6 1 6 7 6 2 6 3 6-2 6 3 6 0 6 4 6-2 6 0 6-4 6-1 6-2 6-1 6-7 6-2 6-3 6-1 6-5 6 0 6 2 6 4 6-5 6 0 6-1 6-4 6-2 6 5 6 2 6 1 6-1 6-9M792 263l6-3 6-2 6-2 6-3 6 1 6-3 6-4 6-1 6-4 6-3 6-6M1176 74l6-4 6-2 6-8 6-10 6-4M1230 23l6-6 6-3 6-3 6-5 6-4M0 7l6 2 6 1 6 4 6 2 6 4 6 2 6 2 6 7 6 1M336 176l6 4 6 4 6 2 6 1 6 2 6 5 6 1 6 1 6 1 6 1 6 5 6 3 6-5 6 1 6-1 6 2M492 231l6 3 6 4 6 5 6 8 6 4 6 1 6-1 6 0 6-7 6-6 6-3 6 1 6 0 6 0 6-1 6 1 6 0 6 0 6 1 6 2 6 2 6 0 6 1 6 6 6 2M804 241l6-1 6-2 6-1 6 5 6 5 6 0 6-1 6-2 6-3 6-4 6-1 6-3M966 209l6-1 6 0 6 0 6-4 6-10 6-7M1230 31l6-5 6-8 6-4 6-4 6-8M0 7l6-2 6 0 6 0 6 0 6 3M360 160l6 5 6 1 6 2 6-1 6 0 6-1M420 163l6-1 6 2 6 1 6-1 6 1 6 2 6 1M552 186l6 0 6 0 6-1 6-3 6 0 6-1 6 1 6 0 6-1 6-1 6 0 6 0 6 0 6 0 6 0 6-1 6 1 6 0 6-1 6 0 6 0 6 0 6 0 6 1 6 0 6 0M720 180l6-1 6 2 6 0 6-2 6 1 6 1 6 2 6 1 6 2 6 0 6-1 6-1 6-1 6 0 6 1 6 0 6 0 6-1 6 0 6 0 6-1 6 1 6 1 6 1 6 2 6-1 6 2 6 0 6 3M966 196l6-2 6-1 6-1 6-1M1230 23l6-6 6-4 6-4 6 0 6-7M0 7l6-1 6 1 6 1M312 182l6 4 6 3 6 0 6 3 6 2 6 2 6 4 6 2 6 1 6 2 6 0 6 3 6 2 6 1 6 0 6 0 6 4 6 1 6 2 6 3 6 2 6 6 6 1 6 1 6 1 6 3 6 3 6 2 6 6 6 7 6 7 6 4 6 3 6 2 6 1 6 2 6-4 6 5 6-3 6 2 6 4 6 8 6 5 6 9 6 3 6-1 6 5 6 10 6 3 6-1 6-2 6-4 6-5 6-5 6 4 6-3 6 1 6 3 6 1 6 2 6-1 6-1 6 4 6 3 6-3 6-6 6-7 6-4 6-6 6-7 6-6 6-7 6 3 6-3 6-3M792 259l6 2 6 0 6 1 6 2 6 0 6 4 6-2 6-1 6 2 6-1 6-6 6-2 6 2 6-9 6-2 6-1 6-3 6 1 6-3 6-2 6-4 6-1 6-2 6-2 6-2 6-1 6-4 6-1 6-2 6-7 6-5 6-6 6-2 6-4 6-7M1200 74l6-5 6-7 6-5 6-7 6-9 6-8 6-9 6-5 6-9 6-8M0 7l6-2 6 1 6 1M36 18l6 6 6 5 6 5 6 2M90 56l6 8 6 5M396 179l6 2 6 3 6 1 6 0 6-1 6 0M492 209l6 4 6 3 6 0 6 4 6 5 6 2 6-1 6 2M678 246l6 7 6 7 6-2 6-1M726 259l6 4 6 4 6 0 6 0 6 2 6 1M774 271l6 0 6 1 6 2 6-1 6 2 6-2 6-5 6-3 6 0 6 0 6 2 6 0 6 4 6-2 6-2 6 1 6-2 6-1 6-6 6-3 6-1 6 4 6 0 6-3 6-1 6 1 6 3 6 0 6-1 6-1 6-1 6 3 6 2 6 2 6-3 6 1 6-3 6 1 6 2 6-2 6-6 6-9 6-7 6-4 6-5 6-3 6-10 6-7 6 0 6-5 6-4 6 0 6-7 6-8 6-10 6-6 6-11 6-8 6-6 6-7M1188 92l6-5 6-10 6-8 6-10 6-6 6-8 6-8 6-8 6-6 6-6 6-8 6-7M0 7l6 2 6 0 6 4 6 4 6 4 6 3 6 3 6 4 6 5 6 3 6 1M264 154l6 8 6 6 6 4 6 5 6 4 6 4 6-1 6 1 6 5 6 4 6 0 6 4 6 3 6 3 6 3 6 5 6 1 6 2 6 2 6 0 6 3 6 1 6 1 6 0 6-2 6-1 6 0 6 0 6 3 6 3 6-2 6-1 6 0M492 230l6 4 6 0 6 0 6 3 6 1 6 1 6 4 6 0 6 4 6 3 6 3 6-4 6-1 6-3 6-7 6-2 6 1 6-2 6-4 6-2M726 223l6 1 6-1 6-1 6 2 6-1 6-1 6 2 6 1 6 2 6 4 6 1 6-4 6-3 6-1M858 225l6-3 6-2 6-5M960 176l6-4 6-5 6-6 6 0 6-1 6-2 6-1 6-2 6 0 6-2 6-4M1062 132l6-3 6-1M1236 21l6-9 6-4 6-3 6-3M0 7l6 3 6 0 6 1 6 2M360 161l6 4 6 5M396 176l6 4 6 2 6 2 6 3 6 2 6 3M492 213l6-2 6 2 6-1 6 0 6 0 6 1 6 1M576 227l6 2 6 2 6-1 6 3 6 4 6 2 6 1 6-1 6 2 6 1 6 3M666 252l6 3 6 2 6 4 6 2 6 4 6 7 6 4 6-3 6 0 6 8 6 1 6 0 6 4 6 3 6 4 6-1 6-3 6-1 6-5 6-1 6 1 6-2 6-2 6 0 6 5 6 2 6 5 6 2 6-3 6 1 6-1 6-5 6-3 6-7 6-9 6-3 6-3 6-5 6-7 6-3 6-7 6-5 6-7 6-4 6-2 6-5M966 203l6-3 6-3 6 1 6 0 6-4 6-4M1056 173l6 3 6-1 6-8M1176 80l6-10 6-10 6-8 6-6 6-7 6-6 6-3 6-6 6-4 6-1 6-4 6-6 6-4 6-3M0 7l6 2 6 2 6 1 6 2 6 4 6 2 6 2 6 7 6 2M222 140l6 5 6 3 6 4 6 6 6 6 6 4 6 3 6 6 6 3 6 3 6 1 6 1 6 3 6 3 6 1 6 3 6 2 6 3 6-1 6 4 6 4 6 2 6 3 6 2 6 2 6 3 6 2 6 1 6 4 6 1 6 7 6 6 6 3 6 4 6 5 6 3 6 2 6 3 6 4 6 2 6 1 6 2 6 5 6 3 6 0 6 0 6-5 6 0 6 1 6 0 6-4 6 0 6 0 6 4 6-4 6-1 6-1 6-8 6-12 6-1 6-1 6-3 6 0 6-1 6-2 6-2 6-3 6 1 6 3 6 2M690 251l6 3 6 2M792 246l6 2 6 1 6 2 6 0 6 2 6-3 6 0 6-2 6-2 6-4 6-6M1158 89l6-6 6-7 6-5 6-5 6 0M1218 47l6-3 6-9 6-6 6-8 6-7 6-5 6-7M0 7l6 0 6 1 6-1M360 136l6 0 6 1 6 2 6 1 6 1 6 0M420 148l6 2 6 0 6 2 6 4 6 1 6 1 6 2M534 174l6 0 6 2 6 1 6 0 6 1 6-1 6 1 6 0 6 2 6 2 6 1 6 1 6 2 6 1 6 3 6 4 6 1 6-1 6 1 6 1 6 0 6 2 6-1 6-1 6 0 6-1 6 6M720 204l6 0 6 2 6 1 6 0 6 0 6 1 6 2 6 2 6 0 6 3 6 1 6 2 6-1 6 3 6 3M840 223l6-2 6 1 6 1 6-4 6-4 6-5M1152 120l6 2 6 0 6-3 6-7 6-6 6-5 6-6 6-6 6-3 6-11 6-9 6-10 6-9 6-11 6-9 6-6 6-9 6-10M0 7l6 1 6 2 6 2 6 5 6 1 6 1 6 4 6 6 6 6 6 4 6 2M240 145l6 7 6 2 6 6 6 1 6 3 6 5 6 2 6 2 6-1M354 172l6 3 6 2 6 0M396 186l6 0 6-1 6-1 6 2 6-1 6 3M522 197l6 1 6-2M570 204l6-3 6 0 6-3 6 0 6 1 6 0 6 4 6 0 6-2 6-4 6-2 6 1 6-1 6 4 6 2 6 0 6 2 6-2 6-1M720 197l6 1 6-2 6-4 6 0 6-1 6-1 6 1 6 0 6-2 6 0 6 0 6-1 6 0 6 1 6 1 6-1 6 2 6-1 6-1 6 3 6-2 6-3 6 1 6 2 6-2 6-2 6-1 6-2 6-4 6 0 6 3M1206 64l6-6 6-10 6-4 6-6 6-6 6-9 6-10 6-6 6-5M0 7l6 0 6 0 6 0M294 108l6 1 6 1 6 1 6 1 6 2M360 125l6 2 6 1 6 3 6 1 6 2 6 2 6 1 6 1 6 1 6 3 6 2 6 2 6 2 6 1 6 3 6 3 6 4M552 176l6 1 6 1 6 2 6 0 6 0 6 2 6 0 6-1 6 1 6 0 6-1 6-1 6 1 6-1 6 1 6-1 6 1 6 1 6 2 6 1 6 2 6 1 6 3 6 5M720 206l6 0 6-4 6 0 6 1 6-2 6-3 6-1 6-1 6-3 6-1 6 3 6 0 6 2 6-1 6 0 6-3 6 0 6-2 6 0 6 0 6 1 6 2 6-2 6-3 6-2 6 1 6 0 6 1 6-1 6-2 6-1M1194 81l6-3 6-6 6-7 6-6 6-7 6-10 6-8 6-10 6-9 6-9 6-4M0 7l6 1 6 3 6 2 6 4 6 4 6 2 6 6 6 4 6 4 6 4 6 3 6 3 6 4M90 58l6 5 6 4M336 181l6 1 6 3 6 0 6-1 6-3 6 2M384 186l6 3 6 1 6 2 6 0 6 2 6 1 6 3 6 5M492 230l6-1 6 0 6 3 6 2 6 4 6 4 6-2 6 4 6 10 6 8 6 4 6 1 6 6 6-1 6 2 6 4 6 3 6 3 6-4 6 4 6-2 6 6 6 0 6-2 6 3 6 3 6 0 6 2 6 8 6-2 6-1 6 2 6 0 6-3 6 3 6-3 6-3 6 1 6 1 6-8 6 0 6-6 6-4 6-1 6-1 6-1 6 2 6 1 6 2 6 6 6 0 6-2 6 2 6-1 6-1 6-3 6-2 6-2 6-5 6-4 6-1 6 1 6 1 6-4 6-2 6-3 6-3 6 1 6-4 6-7 6-3 6 0 6-4 6 0 6-2 6-4 6-4 6-2 6-2 6-1 6 0 6 1 6 1 6 1 6-4 6 0 6-6 6-2 6-3 6-9 6-9 6-8 6-8M1188 94l6-5 6-3 6-10 6-9 6-8 6-10 6-9 6-11 6-10 6-6 6-3 6-8M0 7l6 1 6 0 6 4 6 2 6 0M78 25l6 0 6 2 6 2 6 3 6 3 6 2 6 2 6 1 6 3 6 2 6 1 6 3 6 3 6 2 6 4 6 4 6 2 6 1 6 3 6 2 6 3 6 1 6 2 6 2 6 3 6 4 6 1 6 3 6 2 6 2 6 3 6 2 6 2 6 2 6 2 6 3 6 1 6 1 6 2 6 2 6 2M354 119l6 1 6 1 6 2 6 1 6-1 6-3 6-1 6-1 6-2 6-1 6-1 6-1 6 0 6 0 6 2 6 0 6 2 6 1 6 0 6 0 6 0 6 0 6 2 6 2 6 0 6 0 6 1 6 1 6 0 6 1 6 0 6-1 6 1 6 0 6 1 6 1 6 0 6 0 6 0 6 0 6 0 6 1 6 2 6-1 6 0 6 0 6 0 6 0 6 1 6 0 6 3 6 0 6 1 6 0 6 1 6 1 6 1 6 0 6 0 6 2 6 3 6 2 6 3 6 1 6 1 6 0 6 1 6 2 6 1 6 0 6 0 6 1 6-1 6 1 6 1 6-1 6-1 6 0 6 1 6-1 6-3 6-2 6 1 6-4 6-2 6-2 6-1 6 4 6 0 6 0 6-1 6-4 6-3 6-6 6-3 6-1 6-3 6-3 6-5 6 0 6-2 6 2 6 4 6 2 6-1 6 0 6 1 6 0 6 1 6 1 6 1 6-1 6-3 6-3 6-3 6-2 6-4 6-3 6-3 6-3 6 0 6-2 6-1 6-1 6-3 6-2 6 0 6-1 6 0 6-2 6-5 6-3 6-5 6-3 6-8 6-3 6-2 6-7 6-5 6-1 6-2 6-5 6-3 6-2 6-4M1236 19l6-5 6-4 6-4 6-4M0 7l6-2 6 0 6 1M30 7l6 1 6 2 6 2 6 1 6 4M78 23l6 3 6 2 6 3 6 2M114 38l6 2 6 3 6 3 6 3 6 4 6 3 6 3 6 2 6 2 6 3 6 3 6 2 6 3 6 2 6 3 6 0 6 2 6 2 6 4M360 130l6 1 6 1 6 1 6 1 6 1 6 2 6 1 6 2 6 3 6 3 6 3 6 2 6 2 6 2 6 1 6 3 6 3M552 185l6 1 6 0 6 3 6-1 6 2 6 1 6 2 6 3 6 2 6 3 6 6M726 213l6 1 6-1 6-2 6 2 6 3 6 4 6-2 6 1 6 0 6 1 6 4 6 4 6 2 6 0 6-1 6-1 6 2 6-2 6-4 6-3 6-2 6 0 6-1 6-4 6 1M966 209l6-1 6 3 6 2 6 2 6-4 6 0 6-4 6-7M1176 104l6-3 6-1 6-7 6-9 6-8 6-9 6-7 6-6 6-7 6-9 6-9 6-7 6-10 6-10M0 7l6 1 6 1 6 4 6 3 6 1 6 1M174 79l6 4 6 5M396 182l6 2 6-1 6 3 6 2 6-2 6 5M552 196l6 5 6 5M726 219l6 0 6 0 6-2 6-2 6-6 6-3 6-2 6-4 6-6 6-6 6-2 6 0 6-2 6 1 6-1 6 0 6 4 6 1 6-2 6-1 6 0 6-2 6-1 6 0 6 1 6 0 6-1 6 0 6 1 6-1M1146 93l6-8 6-6 6 1 6-4M1230 31l6-5 6-5 6-7 6-7 6-5M0 7l6 4 6 2 6 3 6 4 6 3 6 4 6 5 6 4 6 4 6 5 6 4 6 5 6 4 6 3 6 4 6 4 6 3 6 4 6 5M138 97l6 5 6 3 6 3 6 3 6 3M216 140l6 3 6 4 6 2 6 2 6 4 6 1 6 4 6 7 6 2 6 3 6-3M336 183l6 0 6 1 6 4 6 0 6 4 6 3 6 2 6 4 6-1 6 5 6 0 6-1 6-1 6 3 6 2 6 3M492 213l6 3 6 2 6 0 6 4 6-2 6 0 6 2M750 236l6-4 6-4 6-2 6-5 6-8 6-1 6 0 6-2 6-6 6-1M834 208l6-3 6-2 6-1 6-2 6-6 6 0 6-1 6 0 6-4 6-4 6-3 6-2M918 176l6-6 6-3 6-1 6-2 6-5 6 0 6-3 6-2 6-3 6-6 6 0 6-3 6-1 6-3 6-5 6-5 6-5 6-5 6-6 6-1 6-3 6 0 6-2 6-3 6-2 6-4 6-5 6 1 6 4 6 0 6-1 6-1 6 2 6-1 6-1M1140 93l6-4 6-2 6-1 6-4 6-2M1224 38l6-4 6-4 6-8 6-10 6-4 6-6M0 7l6 0 6 4 6 5 6 2 6 3 6 4 6 4 6 5 6 4 6 4 6 4 6 5 6 5 6 5 6 5 6 4 6 4 6 3 6 3M336 177l6 4 6 4 6 4 6 0 6 2 6 1 6 1 6 5 6 5 6 4 6 4 6 5 6 4 6 0 6-3 6 1 6 0 6-1M492 228l6-2 6 2 6 4 6-3 6 1 6 6 6 0 6-2 6 3 6 1 6-1 6 0 6 2 6 3 6 5 6-1 6-1 6 0 6-4 6-1 6 1 6-1 6-3 6 0 6-2M720 212l6-4 6-6 6-1 6-2 6-1 6-1 6 0 6-2 6-1 6 0 6 1 6 1 6-2 6-2 6-2 6 1 6-4 6-4 6 0 6-2 6-2 6-1 6 0 6-1 6-3 6-3 6 1 6 4 6 6 6 0 6-1M918 174l6-1 6-3 6-2 6-4 6-2 6 0 6-1 6-1 6 1 6 2 6 3 6 4 6-3M1230 31l6-4 6-7 6-5 6-6 6-7M0 7l6 3 6 3 6 2 6 0 6 1M336 182l6 2 6 3 6 2 6 3 6 4 6 2 6 4 6 3 6 3 6 5 6 1 6 4 6 1 6 3 6 3 6 1 6 3 6 1 6-2 6 2 6 2 6 3 6 2 6 1 6 3 6 1 6 7 6 6 6 8 6 3 6 4 6 11 6 6 6 3 6 7 6 2 6 5 6 4 6 1 6 3 6-4 6-8 6-8 6-3 6 4 6-1 6 3 6 0 6-4 6 1 6 10 6 1 6 1 6 0 6 3 6 2 6 5 6 1 6 4 6 3 6-3 6-5 6 0 6 1 6 2 6-2 6-7 6 0 6 6 6-6 6-6 6-3 6-1 6-1 6-2 6-3 6-2 6-3 6 0 6 2 6-3 6-5 6-4 6 2 6 1 6-5 6-3 6-7 6-3 6-4 6-2 6 3 6-2 6-1 6-6 6-5 6-8 6-2 6-2 6 2 6-3 6-4 6-6 6-3 6 1 6-3 6 0 6-3 6-1 6-3 6-4 6-4M1038 191l6-5 6-4M1218 50l6-7 6-8 6-7 6-8 6-8 6-6 6-4M0 7l6-1 6-1 6 0M42 12l6 0 6 2 6 2 6 2 6 4 6 3 6 3 6 3 6 3M174 74l6 6 6 5M360 152l6 1 6 4 6 0 6 0 6-1 6-2M420 158l6-1 6 0 6 3 6 2 6 3 6 4 6 3M594 235l6 4 6 5 6 2 6 1 6 1 6 2 6 3 6 2M666 260l6 1 6 2 6 10 6 2 6 6 6 6 6-1 6-3 6-1 6-4 6 0 6-4 6 1 6 0 6 0 6-2M774 273l6-1 6-3 6-6 6-4 6-4 6-2 6-1 6 0 6-2 6 1 6 0 6 0 6-1 6-1 6-2 6 0 6 1 6-2 6-5 6-2 6-1 6-1 6-2 6-3 6-3 6-2 6 2 6 0 6-1 6 0 6-1 6 0 6-4 6-5 6-3 6-8 6-4 6-2 6-4M1080 164l6 1 6 0 6-7 6-7M1200 73l6-5 6-7 6-8 6-11 6-8 6-8 6-5 6-7 6-7 6-5M0 7l6-2 6 1 6 0M174 77l6 0 6 1 6 2 6 2 6 2 6 3M360 130l6 1 6 1 6 0 6 1 6 1 6 2 6 2 6 2 6 4 6 2 6 3 6 2 6 4 6 7 6 4 6 6M516 196l6 5 6 0 6 1M552 198l6 3 6 0 6 2M726 217l6 1 6 2 6 2 6 2 6-1 6-2 6 0 6 3 6-1 6-2 6 3 6 1 6-1 6-1M840 220l6-1 6 0 6-2 6-4 6-5 6-4M984 174l6-4 6-2M1008 158l6-5 6-4 6-3M1056 132l6-2 6-1 6-2M1224 34l6-13 6-6 6-3 6-3 6-2 6-5M0 7l6 2 6-2 6 0M174 70l6 2 6 4 6 2 6 2 6 2 6 2M360 127l6 2 6 1 6 1 6 2 6 1 6 1 6 3 6 3 6 3 6 3 6 2 6 1 6 3 6 3 6 1 6 2 6 3M552 201l6 1 6 0 6 0 6 2M804 238l6-3 6 0 6 2 6 0 6 0 6 4 6 1 6 0 6 2 6-4 6-2 6-5M966 173l6-2 6 0 6 0 6-4 6 2M1236 22l6-7 6-2 6-5 6-6M0 7l6 3 6 0 6 3 6 0M90 60l6 4 6 5M132 94l6 5 6 6 6 4 6 6 6 5 6 3 6 4 6 3 6 2 6 3 6 3 6 2 6 0 6 2 6 2 6 1 6 3 6 5 6 3 6 1 6 3 6 7 6 3 6 4 6 2 6 4 6 2 6 0 6 2 6 2 6 2 6 4 6 1 6 1 6 1 6 0 6 1 6 3 6 2 6 0 6 1 6 2 6 1 6-4 6 0 6 0 6 3 6 2 6 0 6-1M552 188l6 2 6 2 6-1 6-2 6-3 6 1 6 3 6 2 6-5 6-1 6-1 6-1 6 1 6-1 6 0 6 0 6 0 6 1 6 1 6 0 6 1 6 0 6 1 6 1 6 2 6 0M720 194l6 5 6 2 6-1 6-3 6-1 6-1 6 0 6-2 6-3 6-1 6 1 6 1 6 5 6 2 6 4M834 202l6 1 6-4 6-3 6-1 6-3 6 1 6 0 6-2 6-2 6 1M930 175l6-1 6 1 6-1 6-7 6-5 6-2 6-3 6-4 6-1 6-1 6-3 6 0 6-6 6-6 6-2 6-3 6-1 6-3 6-2 6 2 6-3 6-3 6-3 6-5 6-6 6-5 6-5 6 0 6-3 6-2 6-4 6-1 6-2 6 2 6-2 6 1 6-1 6-4 6 3M1236 22l6-4 6-7 6-3 6-6M0 7l6 3 6-2 6 2M360 162l6 3 6 1 6 5M552 195l6-1 6 2 6 2 6-1 6 1 6 0M738 255l6 3 6-2M792 258l6 1 6 1 6-2 6-4 6-2 6-6 6-1 6-3 6 0 6-4 6-4M876 235l6 1 6-1M906 225l6-4 6-2M966 202l6-4 6 0 6-5 6-5M1170 78l6-5 6-6 6-10 6-7 6-5 6-3 6-6 6-5 6-7 6-9 6-4 6 0 6-2 6-3 6-4M0 7l6 3 6 4 6 3 6 3 6 4 6 4 6 5 6 5 6 4 6 4 6 4 6 2 6 4 6 4 6 3 6 3 6 4M174 83l6 1 6 0 6 2M336 183l6 5 6 3 6 1 6 1 6 0 6 1 6 1 6 1 6 0 6-2 6 1 6-1 6 1 6 2 6-1 6 0M492 214l6 3 6 0 6 1 6 2 6-1 6-2 6 4M732 230l6-4 6-1 6-3 6 5 6-1 6 0 6-1 6-1 6-2 6-3 6-3 6 1 6 1M834 212l6 0 6-3 6 0 6 2 6 2 6 3 6-3M906 223l6 0 6 2 6 1 6 0 6 0 6-2M966 207l6-1 6-2 6-3 6 1 6 1 6 0 6-2M1020 198l6 1 6 1 6-5 6 1 6-3 6-1 6-5 6-7 6 1 6-3 6-8 6-5 6-6 6-6M1218 50l6-7 6-7 6-4 6-4 6-9 6-8 6-9M0 7l6-1 6-1 6-1 6 1 6 2 6 1 6 1 6 2 6 2 6 2 6 4M78 24l6 3 6 3 6 4M174 69l6 3 6 3 6 3 6 3 6 2 6 2 6 0 6 2M360 133l6 2 6 2 6 4 6 1 6 5 6 1M420 153l6 2 6-1 6-2 6 0 6 1 6 2 6 1 6-1 6 0 6 1 6 3 6 2M510 164l6 0 6 2 6 1 6 0 6 1 6 0 6 0 6 0 6-1 6 0 6 0 6 2 6 1 6 1 6 0 6 1 6 1 6 3 6 3 6 2 6 1 6 0 6 2 6 1 6 0 6 2 6 3 6 8 6 3M720 201l6 1 6-1 6-1 6 1 6-4 6 2 6 2 6-3 6 5 6 2 6 1 6 2 6 2 6 1 6 0M834 204l6-4 6-1 6-1 6-5 6-4 6-3 6-4 6-6 6 1 6 0 6-3 6-1 6 2 6-1 6-3 6 0 6-4 6-1 6 0 6-5 6-7 6 0 6-7 6-4 6-1 6-1 6 1 6 0 6 1 6-2 6-1 6-1M1044 133l6-4 6-3 6-1 6-1 6 0M1116 107l6-3 6-4 6-6 6-3 6-1 6-4 6-5 6-4 6-6 6-8 6-3 6-5 6-6 6-6 6-5 6-5 6-3 6-3 6-2 6-7 6-3 6-5 6-3 6-5M0 7l6 1 6 0 6 0M342 173l6 3 6 4 6 0 6 3 6 4 6 7 6 5 6 2 6-1 6 1 6 6 6 3 6 0 6 5 6 1 6 3 6 7 6 4 6 2 6 3 6 2 6 7 6 4 6 3 6 4 6 4 6 5 6 1 6 1 6 3 6 1 6 7 6 2 6 2 6 3 6 1 6-6 6-3 6-4 6-3 6 3 6 1 6-1 6 4 6-4 6 3 6 0 6 0 6-2 6 1 6-8 6 4 6 2 6-4 6 2 6-1 6-4 6-4 6-2 6-3M804 239l6-4 6-2 6 2 6 1 6-1 6-1M906 229l6-3 6-4 6-3M966 203l6 2 6 0 6-1 6-3 6-2 6-3 6-2M1038 186l6-2 6-5M1236 23l6-6 6-3 6-7 6-5M0 7l6 0 6 2 6-1M84 30l6 2 6 2M174 71l6 2 6 2 6 2 6 3 6 2 6 2M360 142l6 2 6 7 6 5 6 1 6 5 6 4 6 3 6 6 6 4 6 4 6 3 6 2M498 203l6 4 6 3 6 1 6 2 6 0 6 3M564 226l6 3 6 2 6-3M774 233l6-4 6-4 6-3 6 3 6 5M816 229l6 1 6 1 6-3M978 191l6 2 6-4M1224 41l6-4 6-8 6-5 6-6 6-9 6-7M0 7l6 3 6 2 6 0 6 2 6 6 6 3 6 2 6 1M174 81l6 1 6 2 6 4M360 135l6 1 6 2 6 0 6 0 6 1 6 1 6 1 6 1 6 1 6 2 6 2 6 2 6 1 6 2 6 0 6 1 6 1 6 1 6 3 6 1 6 1M522 167l6 0 6 1 6 0 6 1 6 1 6 2 6 1 6 1 6 0 6 2 6 0 6 0 6 2 6 1 6 1 6 1 6 1 6 2 6 3 6 3 6 0 6 0 6 6 6 2 6 0 6 0 6-1M720 198l6-4 6 1 6 0 6 3 6 1 6-3 6-3 6-1 6-3 6 0 6 1 6 0 6-2 6 1 6-1 6-1 6 2 6-1 6-2 6-2 6 1 6 2 6-1 6 1 6-2 6-1 6-3 6-3 6 1 6 0 6 2M954 175l6-3 6-2 6-1 6-4 6-4 6-3 6-4 6-2 6-4 6 0 6-2 6-7M1044 133l6-3 6-6 6-2 6-2 6-4 6-5 6-4 6 0 6 0M1110 106l6-4 6 0 6-2M1206 66l6-1 6-6 6-7 6-7 6-7 6-11 6-7 6-9 6-9M0 7l6 0 6 1 6 2M360 161l6 6 6 4M396 182l6 2 6 1 6 3 6 3 6 4 6-1M510 197l6 1 6 1 6 0 6 2M570 204l6-2 6 1M726 221l6-1 6-5 6-2 6-1 6 1 6 0 6-1 6 0 6 2 6-4 6 0 6 5 6 2 6-1M834 214l6-1 6 2 6 2 6 1 6 2 6-1 6-3M966 195l6-1 6 0 6-2 6 0 6-3M1146 98l6-7 6-8 6-8 6-5 6-4 6-5 6-8 6-8 6-4 6-8 6-7 6-5 6-3 6-3 6-4 6-1 6-3 6 0 6-5M0 7l6 2 6 0 6 2 6 2M36 16l6 8 6 5 6 6 6 5 6 4 6 5 6 4 6 5 6 4 6 5 6 4M288 166l6 7 6 6 6 4 6 3 6 0 6 0M336 187l6 3 6 2 6 2 6 3 6 0 6 1 6 2 6 4 6 3 6 6 6 0 6 1 6 3 6 3 6 0 6 2 6 1 6 2 6 0 6-1 6 4M492 230l6-2 6 3 6 3 6 1 6 0 6 2 6 1 6 3 6-1 6 4 6 3 6 2 6 5 6 0 6 0 6 7 6 4 6 2 6 8 6 3 6-1 6-4 6 0 6 0 6 0 6 1 6-1 6 2 6 3 6 0 6-2 6 1 6-4 6-1 6-1 6-6 6-3 6 1 6-1 6-3 6 3 6 1 6-3 6-1 6-3M792 251l6 0 6 1 6-1 6 0 6-1 6 0 6-1 6 0 6-5 6-4 6 0 6 1 6 1 6 0 6 1 6-4 6-1 6 1 6-3 6-2 6-4 6 0 6-1 6-5 6-2M966 218l6-2 6-3 6-3 6-6 6-3 6-4 6-3M1086 161l6 1 6 1 6 5 6 1 6-5 6-2 6-9 6-11 6-13M1188 90l6-3 6-8 6-9 6-4 6-9 6-8 6-6 6-11 6-7 6-6 6-8 6-9M0 7l6 1 6-1 6 3 6 4 6 2 6 6 6 3 6 3M360 151l6 3 6 3 6-1 6 1 6 1 6 1M420 159l6 5 6 5 6 3 6 1 6-4 6-3 6 6M552 182l6-1 6 3 6 2 6 1 6 2 6-2 6 0 6-1 6 3 6 3 6 0 6 2 6 0 6-1 6 0 6 2 6 1 6 2 6 0 6 0 6 2 6 5M726 216l6 0 6 1 6 2 6 1 6-1 6 1 6-2 6 0 6 2 6 1 6 0 6 2 6 1 6-4M834 214l6-2 6-3 6-5 6-3 6-3 6-3 6-1 6-1 6-1 6-4 6-3 6-4M918 174l6-2 6-2 6-4 6-2 6-1 6-1 6 2 6-2 6-2 6 0 6-4 6-1 6-2 6 0 6-5 6-2 6 1 6-2M1062 131l6-1 6-4M1104 106l6-6 6-6 6-3 6-1 6-2 6-3 6 3 6-3 6-5 6-3 6-1 6-1 6-6 6-5M1212 42l6-9 6-9 6-1 6-5 6-4 6-1 6-6 6-5M0 7l6 3 6 3 6 2 6 4 6 3 6 3 6 4 6 4 6 5 6 3 6 3 6 3 6 4M360 174l6 3 6 3M384 185l6 8 6 3 6 3 6 2 6 2 6 3 6 0 6 7 6 5 6 5 6 3 6 0 6 3 6 3 6 2 6 0 6-1 6 3 6 1 6 4 6 0 6 2 6 5 6 1 6-4 6-5 6-2 6-1 6-2 6-1 6 0 6 2 6 4 6 0 6 0 6 2 6-3 6 1 6 0 6 0 6-1 6-4 6-3M732 230l6-2 6-5 6-2 6-1 6-1 6-4 6-4 6-1 6 0 6-1 6 0 6 1 6-3M834 205l6-1 6-1 6 1 6 1 6 0 6 0 6 0 6-2 6-4 6-6M1224 41l6-3 6-7 6-8 6-7 6-7 6-7M0 7l6-2 6-1 6 2M36 9l6 1 6 4M174 70l6 2 6 2 6 4 6 2 6 2 6 4M360 148l6 6 6 1 6 1 6 3 6 0 6 0M420 164l6 2 6 1 6-1 6-2 6-3 6 5 6 0M726 226l6-1 6-4 6-1 6-3 6-1 6-1 6 0 6-2 6-2 6-4 6 1 6 3 6 0 6 0M834 201l6-2 6-3 6-1 6-4 6-2 6-1 6-3 6-3 6-2 6-5 6-6 6-4 6-1 6-2 6-3 6 2 6 1 6 1 6-1 6-1 6-2 6-2 6-1 6 2 6 3 6-1 6-5 6-1 6-3 6-3 6-5 6-3M1044 132l6-3 6-3 6-2 6-1 6-3M1098 106l6-2 6-3 6-1 6 0 6-2M1230 29l6-5 6-9 6-3 6-5 6-5M0 7l6 2 6 3 6 2 6 3 6 3 6 3 6 2 6 0M360 139l6 3 6 0 6 5 6 1 6-1 6-1M414 145l6-1 6 0 6 2 6 2 6 2 6 2 6 3 6 3M552 182l6 4 6 1 6 0 6 0 6 1 6-2 6-1 6 0 6 1 6-1 6-1 6 1 6 0 6 0 6 0 6 1 6 3 6 3 6 5 6 1 6-2 6-1 6 2 6 1 6-3 6 0M720 196l6 0 6 1 6 1 6-2 6-2 6-3 6 0 6-1 6 1 6-5 6-2 6 0 6 0 6-2 6-3 6-3 6 0 6-1 6-1 6-2 6-6 6-5 6-2 6-2 6-5 6-3 6 2 6-3 6 1 6-3 6 0 6-1 6 0 6 2 6-3 6 0 6-2 6-3 6 0 6 0 6 0 6 1 6 1 6-2 6-2 6-3 6-3 6-2 6-1 6 1 6 2 6 0 6-4 6-6 6-2 6-1 6 0 6 2 6 1M1218 51l6-5 6-10 6-10 6-6 6-8 6-4 6-6M0 7l6-1 6 0 6 1M174 80l6 1 6 2 6 2M360 153l6 3 6 3 6 0 6-3 6 4 6 2M420 172l6-2 6 4M552 188l6-4 6 0 6-2 6 0 6 1 6 3 6 0 6-1 6 0 6 1 6 1 6 0 6 0 6 1 6 3 6 3 6 1 6 3 6 2 6 1 6 1 6 2M726 218l6 2 6-2 6 1 6 2 6 1 6 4 6 1 6-1 6 0 6 3 6 5M804 234l6 2 6 0 6 3 6-1 6-1 6 0M966 202l6 1 6 0 6 0 6-3 6 0 6-4 6-6M1236 23l6-6 6-3 6-7 6-5M0 7l6 3 6 0 6 2 6 3 6 5 6 3 6 1 6 4 6 5 6 2M72 46l6 6 6 4 6 4 6 5 6 4M294 170l6 3 6 2M336 181l6 1 6 4 6 1 6 1 6 5 6 1 6 3 6 4 6 4 6 4 6 4 6 5 6 2 6 3 6 3 6 3 6 2 6 1 6 2 6 0 6 1 6 2 6-2 6 1 6 2 6 1 6 2 6-1 6 2 6-1 6-4 6-3 6-2 6 2M552 237l6 5 6 0 6 2 6 1 6 1 6 1 6 2 6 0 6-2 6 1 6 0 6 0 6-1 6 0 6-1M792 251l6 4 6 0 6 0 6 1 6 4 6 2 6 5 6 1 6 4 6 5 6 1 6 0 6-4 6 0 6-7 6-5 6-3 6 0 6 1 6-3 6-4 6-3 6-2 6-3 6-4 6-4 6 1 6-2 6 2 6-2 6 1 6-1 6-3 6-5 6-3 6 1 6-4 6 0 6 0 6-3 6-5 6-8 6-7 6-5 6-4 6-8 6-7 6-4 6-4 6-2 6-6 6-5 6-3 6-4 6-3 6-2 6-4 6-4 6-2 6-4 6-5 6-6 6-6 6-3 6-8M1194 84l6-8 6-7 6-5 6-7 6-8 6-4 6-7 6-9 6-9 6-8 6-10M0 7l6 3 6 3 6 3 6 3 6 3 6 3 6 4 6 5 6 4 6 4 6 5 6 5 6 4 6 4 6 4 6 5 6 5 6 5 6 5 6 6 6 5 6 3 6 5 6 1 6 3 6 4 6 5 6 0 6 2M222 140l6 4 6 4 6 2 6 2 6-1 6 5 6 4 6 0M288 171l6 7 6 2 6 4 6 7 6 1 6-1 6 2 6 2 6 4 6 2 6 0 6 0 6 4 6 3 6 6 6 1 6 1 6 2 6 2 6 3 6-1 6 2 6-4 6-1 6 5 6 3 6 3 6 4 6 3 6 3 6 2 6 3 6 1 6 4 6 4 6 2 6 7 6 6 6 3 6 0 6-1 6-1 6 0 6-2 6 1 6 0 6 0 6 1 6-3 6-4 6-4 6 3 6-3 6 0 6 1 6-3 6-3 6-4 6-2M822 227l6 5 6-1 6 1M852 228l6-5 6-4 6-2 6-2M966 204l6 3 6-1 6-2 6 1 6 1 6-5 6-4M1200 71l6-2 6-2 6-5 6-9 6-11 6-8 6-9 6-7 6-7 6-9M0 7l6-1 6 0 6 0M174 77l6-2 6 1 6 3 6 3 6 2 6 3M360 142l6-3 6 1 6 2 6 3 6-1 6 4M420 149l6 0 6 1 6 1 6 2 6 2 6 1 6-1 6 0 6 2 6 1 6 1 6 1 6 0 6 2 6 0 6 0 6 1 6 1 6 2 6 1 6 1 6 1 6-1 6 0 6 0 6 2 6 2 6 0 6 1 6 0 6 2 6 0 6 0 6-1 6 0 6 0 6 2 6 0 6 1 6 0 6 0 6-1 6-1 6-1 6 1 6 1 6 1 6 1 6 0 6 0 6 0 6 1 6 0 6 2 6 1 6 2 6-2 6 3 6 4 6 2 6 3 6 3 6 0 6-3 6 3 6 2 6 2 6-1 6-1 6-1 6 3 6-3 6-3 6 1 6 1 6-2 6 2 6 5M966 200l6 2 6 1 6-3 6 2 6 2 6 1 6-6M1026 193l6 1 6 1 6 12 6-1 6 4 6 1 6 4 6 2 6 0 6 5 6-8 6-8 6-8 6-7 6-11 6-7 6-1 6-6 6-3 6-12 6-8 6-11 6-2 6-6 6-6 6-11 6-8 6-7 6-7 6-7 6-10 6-10 6-7 6-9 6-8 6-9 6-7 6-9 6-7M0 7l6-1 6 0 6 0M360 143l6 0 6 1 6 4 6 3 6 1 6 5M420 163l6 2 6 3 6 3 6 4M552 192l6-3 6-3 6 0 6 2 6-1 6-1 6 1 6 3 6 0 6 3 6 2 6 1 6 0 6-1 6 3 6 0 6 3 6 1 6 0 6-3 6 0 6-2M696 196l6-1 6-3M720 194l6 1 6 0 6 2 6 1 6-2 6 1 6 1 6 1 6 0 6 1 6 1 6 2 6 2 6-3 6-1M834 206l6 2 6 0 6 3 6 0 6 1 6-3 6 4M966 215l6-3 6-3 6 0 6-3 6-4 6-1 6-1 6 4 6-2 6-4 6-3 6-7M1122 140l6-1 6-2 6-6M1164 111l6-2 6-4 6-3 6-4 6-7 6-6 6-8 6-7 6-9 6-7 6-9 6-8 6-7 6-10 6-9 6-9M0 7l6-2 6 0 6-1 6 0 6 1 6 0 6 2 6 4 6 2 6 2 6 3 6 4 6 3 6 3 6 4 6 1M138 52l6 3 6 3M174 68l6 3 6 3 6 2 6 2 6 2 6 3 6 4M276 103l6 0 6 1 6 1 6 2 6 1 6 1 6 1 6 1 6 2 6 0 6 1 6 0 6 1 6 1 6 2 6 2 6 1 6 0 6 1 6 2 6 1 6-1 6 2 6 1 6 2 6 0 6 0 6 2 6 2 6 1 6 0 6 3 6 1 6 1 6 0 6 1 6 2 6 2 6 0 6 2 6 2 6 0 6 1 6 2 6 0 6 1 6 1 6 1 6 0 6 0 6-1 6 0 6 0 6 2 6 0 6 1 6 0 6 0 6 0 6 0 6-1 6 0 6 0 6 2 6 2 6-1 6-1 6-2 6 0 6 0 6-2 6-1 6 0 6 2 6-1 6 2 6 0 6-1 6-1 6-2 6 1 6 1 6 0 6-1 6-3 6-2 6-2 6 1 6-2 6-1 6 0 6 2 6 0 6-1 6 2 6-2 6-1 6 0 6-5 6-3 6 1 6 0 6 1 6 1 6 0 6-3 6 0 6 0 6-3 6-5 6-1 6-4 6 0 6-1 6-1 6 2 6 1 6-2 6-2 6 1 6 3 6 1 6 1 6 1 6 1 6-1 6-3 6 3 6-1 6-2 6-2 6-1 6-5 6-3 6-6 6-3 6 0 6-2 6 1 6 1 6-2 6 1M1176 76l6-7 6-7 6-8 6-6 6-3 6-8 6-4 6-6 6-6 6-3 6-4 6-5 6-4 6-3M0 7l6-1 6-2 6 0 6 1 6 2 6 1 6 2 6 2 6 4M78 24l6 1 6 2 6 4 6 4M174 72l6 3 6 7 6 7M360 129l6 1 6 1 6 2 6 1 6 1 6 1 6 2 6 3 6 1 6 2 6 3 6 1 6 1 6 3 6 2 6 3 6 3M522 169l6 0 6 2 6 2 6 1 6 2 6 1 6 0 6 1 6 2 6 1 6 2 6 1 6 2 6 0 6 2 6 1 6 2 6 3 6 3 6 2 6 5 6 2 6 4M792 246l6-1 6 0 6-1 6-2 6 0 6-2 6-4 6 3 6-3M966 205l6-3 6 0 6-3 6-1 6-6 6-4M1206 65l6-5 6-12M1230 31l6-7 6-9 6-4 6-4 6-5M0 7l6 4 6 1 6 1 6-2M360 128l6 2 6 1 6 0 6 1 6 4 6 1 6 2 6 3 6 1 6 0 6 2 6 1 6 1 6 2 6 3 6 2 6 3M552 189l6-1 6-1 6-1 6 4 6 4 6 3 6-2 6 0 6 3 6 0 6 3 6-1 6 0 6-1 6 1 6 1 6 3 6 3 6 0 6 2M726 219l6 4 6 4 6 3 6 0 6-1 6 6M780 232l6-1 6-2 6 0 6-1 6-2M858 226l6-5 6-3 6-1M1230 29l6-5 6-6 6-5 6-6 6-5M0 7l6-1 6 1 6 0M174 73l6 2 6 3 6 2 6 4 6 2M360 128l6 1 6 1 6 2 6 2 6 3 6 2M420 147l6 2 6 2 6 0 6 2 6 2 6 2 6 2M552 179l6 0 6 0 6 1 6 0 6 0 6 1 6 1 6 0 6 1 6 0 6 2 6 2 6 0 6 1 6 4 6 3 6 1 6-2 6 3 6 5 6 4 6 1M726 223l6 0 6-2 6-3 6-4 6-4 6-2 6-5 6-1 6 0 6 0 6 1 6-1 6 1 6 1M834 208l6 1 6 3 6 0 6 0 6 1 6-2 6-2M996 189l6 4 6 3M1038 191l6 0 6-1 6-6 6-8 6-7M1086 163l6-2 6-4 6-4 6-2 6-3 6-6 6-5 6-3M1176 105l6-4 6-6 6-4 6-9 6-9 6-6 6-5 6-9 6-10 6-8 6-6 6-7 6-10 6-10M0 7l6-1 6 2 6 1 6 3 6 6 6 4 6 0M72 45l6 7 6 5 6 4 6 5 6 4M360 146l6 0 6-1 6 4 6 2 6 0 6 3M420 163l6 2 6 4 6 4M504 197l6 8 6 1 6 3 6 3 6 3M618 230l6 1 6 2 6 0M726 219l6-1 6 5 6 0 6-1 6-1 6-2 6-3 6 0 6-1 6 1 6-3 6 1 6 1 6 3M834 209l6-3 6-1 6-3 6-1 6-3 6-3 6-5 6-4 6-4 6-7 6-6 6-5 6-5 6-3 6 1 6 1 6-4 6-6 6-3 6-9 6-7 6-4 6-2 6-3 6-3 6-5 6-6 6-1 6-1 6-5 6-2 6 1 6 0 6-1 6-1 6-2 6-4 6-7 6 0 6-3 6-2 6-1 6-1 6 0 6-2 6-1 6-4 6-4 6-2 6-4 6-5 6-3 6 1 6 2 6-3 6 1 6 2 6-1 6 1 6-3 6-4 6-1M1236 21l6-7 6-4 6-5 6-3M0 7l6 0 6 2 6 2 6 5 6 4 6 3 6 4 6 5 6 4 6 3 6 1M222 139l6 5 6 2 6 4 6 4 6 5 6 7 6 3 6 4 6 1 6 4 6 7 6 0 6 7 6 4 6 3 6 3 6 3 6 3 6 3 6 0 6 2 6 5 6 2 6 3 6 6 6 2 6 3 6 2 6 1 6 0 6 2 6 3 6 3 6 2 6 2 6 1 6 4 6 0 6-1 6 1 6 2 6 3 6 3 6-1 6 3 6 2 6 1 6-4 6-1 6-4 6-6 6 3 6 2 6 2 6-1 6-2 6-4 6-3 6 1 6-1 6 0 6 2 6-1 6 0 6 2 6 0 6 0 6-2 6 0 6 0M744 254l6 4 6 1 6 2M792 255l6-5 6 0 6 0 6-1 6 0 6-3 6 0 6-1 6-3 6 0 6-4 6 0 6-1 6-3M906 233l6 0 6-1 6-2 6-2 6 2 6-3 6-3 6-1 6-1 6-2 6-7 6-7 6-4 6 1 6 0 6 0 6 0M1020 198l6 0 6 0 6-3 6-8 6-3 6-3M1122 143l6-2 6-4 6-2 6-5 6-5 6 0 6-2 6-5 6-4 6-5 6-5 6-6 6-8 6-10 6-10 6-5 6-11 6-6 6-7 6-12 6-8 6-9 6-10M0 7l6 3 6 2 6 2 6 3 6 2 6 4 6 4 6 5 6 5 6 4 6 4 6 4 6 5 6 2 6 4 6 4 6 5M360 133l6 2 6 1 6 2 6 2 6 0 6 0M414 145l6-1 6 2 6 0 6 2 6 2 6 2 6 0 6 2 6 0 6 4M552 179l6 1 6 1 6 6 6 2 6 2 6 1 6-1 6 2 6 2 6 1 6 0 6 2 6 1 6 4 6 2 6 5M726 230l6-1 6-1 6 1 6 0 6-5 6-2 6 1 6 0 6-2 6-1 6 1 6 2 6 2 6 1 6 1 6 3 6-1 6 5 6-1M864 238l6 4 6 0 6 3 6 2 6 1 6 1 6 1 6-5 6-1 6-3 6-1 6-6 6 0 6-3 6-3 6-2 6 1 6-6 6-3 6-4 6 3 6-2 6-8 6-6M1200 73l6-5 6-7 6-6 6-8 6-5 6-12 6-6 6-11 6-7 6-4M0 7l6 1 6 1 6 3 6 4 6 5 6 4 6 3 6 5 6 4 6 3 6 3 6 4 6 5 6 3M396 175l6 1 6 0 6-1 6 3 6 1 6 1M552 186l6-1 6 2 6 5 6-3 6 2 6 1 6 1 6 2 6-2 6 0 6-3 6 0 6 1 6 0 6 0 6 2 6 5 6 2 6 8M792 246l6 0 6 0 6 3 6 1 6-6 6-1 6 0 6-4 6-3M966 207l6 0 6 0 6-4 6-3 6-2 6-1 6-1M1206 66l6-6 6-8 6-7 6-9 6-7 6-5 6-8 6-6 6-8M0 7l6-1 6 0 6 1M360 133l6 1 6 2 6 2 6 2 6 3 6 4M420 153l6 2 6 5 6 0 6-1 6-2 6 0 6 2M594 231l6 5 6 4 6 4 6 4 6 1 6 4 6 3 6 3 6 0 6 2 6 0 6-3 6 0 6 1 6 0 6-2 6-1 6 2M720 262l6 2 6-1 6 3 6 0 6 3 6 3 6 3 6 0 6 1 6-3 6 0 6-3 6-1 6-1 6 0 6-3 6 1 6-1 6-4 6-4 6-2 6-2 6-1 6 0 6-2 6-1 6 1 6-7 6-6 6-2 6-3 6-3 6-4 6-6M972 193l6-1 6-4M1224 28l6-7 6-4 6-3 6-2 6-7 6-3M0 7l6-1 6 1 6 0M360 141l6-2 6-1 6 0 6 2 6 3 6 1M420 149l6 2 6 2 6 2 6 1 6 1 6 2 6 1M552 189l6 0 6 3 6 0 6 4 6 0 6 0M744 231l6-1 6 3 6-1 6 2M804 241l6 3 6 0 6 0 6-4 6 2 6-1 6-3 6-1M864 238l6-2 6-4M984 174l6-4 6-1M1008 158l6-4 6-1 6-2M1206 66l6-6 6-10 6-9 6-5 6-6 6-10 6-6 6-8 6-4M0 7l6 4 6 2 6 1 6 3 6 3 6 2 6 0M336 183l6 2 6 3 6 4 6 3 6 5 6 3 6 4 6 4 6 4 6 3 6 1 6 1 6 0 6 2 6 3 6 3 6 4 6 6 6 3 6 4 6 3 6 5 6 8 6 5 6 3 6 5 6 5 6 4 6 1 6 2 6 1 6 0 6-5 6 1 6 3 6 1 6-2 6 2 6 5 6 9 6-1 6 0 6 0 6 4 6 0 6-9 6-3 6-3 6 3 6 2 6-6 6-2 6 0 6-4 6-2 6 0 6 3 6 0 6-3 6-2 6-1 6 0 6-1 6-7 6-2 6-1 6-2 6-1 6 1 6 1 6 2M774 272l6 2 6-3 6-4 6 1 6-2 6-1 6 3 6 2 6 2 6-2 6 2 6 0 6 4 6 2 6-7 6-3 6-4 6-6 6-4 6-1 6-9 6-5 6 2 6-3 6-6 6-3 6-3 6-5M966 201l6-6 6-3 6-2M1200 74l6-5 6-5 6-9 6-7 6-8 6-9 6-8 6-10 6-5 6-6M0 7l6 4 6 3 6 3 6 2 6 2 6 4 6 4 6 4 6 3 6 4 6 3 6 3M174 79l6 1 6 3 6 4M336 180l6 4 6 5 6 2 6 3 6 2 6 2 6 3 6 1 6 2 6 3 6 4 6 0 6-1 6 2 6 3 6-2M492 211l6 3 6 0 6 3 6 3 6 3 6 6 6 1 6-2M600 230l6 1 6 0 6-1M726 224l6-2 6-1 6-3 6 0 6-2 6-4 6-3 6-3 6 0 6 0 6-1 6-1 6-1 6-1M834 202l6 0 6 0 6-4 6-5 6 1 6-4 6-5 6-4 6 0 6 2 6-5 6 1M936 176l6-3 6 1 6 2 6-2 6-2 6-1 6 0 6-1 6-4 6-3M1008 158l6-7 6-6 6-5 6-6 6-3 6-4 6-5 6-4 6-7 6-5 6-5 6-3 6-4 6 2 6 0 6-3 6-2 6 1 6-2 6-1 6 1 6-2 6-4 6 2 6-1M1224 41l6-5 6-8 6-7 6-10 6-5 6-4M0 7l6 0 6 1 6 0M336 174l6 5 6-1 6 2 6 3 6-3 6 1M396 181l6 2 6 0 6 3 6 5 6 2 6 3M498 202l6 0 6 2 6 3 6 0 6 2 6 0M630 231l6 4 6 1M666 252l6 3 6 4 6-1 6 1 6 5 6 1M720 261l6 3 6-1 6 1 6 0 6 0 6-1 6-3M792 248l6-3 6-1 6-3 6-4 6-2 6-4 6 0 6-2M1062 133l6-6 6-5 6-5 6-7 6-5 6-1 6-5 6-4 6-2 6 0 6-2 6-4 6-3 6-4 6-1 6-2 6-4 6-1 6-4 6-6 6 1 6-4M1224 40l6-6 6-8 6-6 6-7 6-4 6-7"/>
</g>
<polyline fill="none" stroke="#ff0" stroke-width="5.6" points="163.5,1107.1 173,1112.1 182.4,1117.6 191.8,1123.2 201.3,1128.6 210.7,1133.6 220.2,1138.2 229.6,1142.6 239,1146.9 248.5,1151 257.9,1154.9 267.3,1158.6 276.8,1162.1 286.2,1165.4 295.6,1168.8 305.1,1172.1 314.5,1175.3 323.9,1178.4 333.4,1181.2 342.8,1183.8 352.2,1186.2 361.7,1188.5 371.1,1191 380.5,1193.6 390,1196.2 399.4,1198.5 408.9,1200.6 418.3,1202.3 427.7,1203.7 437.2,1205 446.6,1206.2 456,1207.2 465.5,1208.2 474.9,1209.2 484.3,1210.1 493.8,1210.9 503.2,1211.5 512.6,1211.9 522.1,1212 531.5,1211.7 540.9,1211.2 550.4,1210.4 559.8,1209.3 569.2,1207.7 578.7,1205.8 588.1,1203.5 597.6,1201.2 607,1198.7 616.4,1196.3 625.9,1193.6 635.3,1190.6 644.7,1187.3 654.2,1183.6 663.6,1179.5 673,1175.2 682.5,1170.9 691.9,1166.5 701.3,1162.2 710.8,1157.7 720.2,1152.6 729.6,1146.2 739.1,1137.9 748.5,1128 757.9,1116.8"/>
<polyline fill="none" stroke="#f00" stroke-width="6.6" stroke-miterlimit="5" points="145.3,1101.8 146.8,1102 148.3,1102.4 149.8,1104.2 151.3,1106.6 152.8,1107.4 154.3,1108.1 155.8,1108.9 157.3,1111 158.8,1113.1 160.3,1113.1 161.8,1112.4 163.3,1113.1 164.8,1116.3 166.3,1116.4 167.8,1115 169.3,1116.4 170.8,1116.2 172.3,1116.9 173.8,1117.6 175.3,1118 176.8,1119.6 178.3,1119.8 179.8,1119.8 181.3,1121.1 182.8,1122.3 184.3,1120.8 185.8,1121.9 187.3,1122 188.8,1123.1 190.3,1122.8 191.8,1124.3 193.3,1125.1 194.8,1125.1 196.3,1124.5 197.8,1125.1 199.3,1124.7 200.8,1124.5 202.3,1125.9 203.8,1125.3 205.3,1127.3 206.8,1127.6 208.3,1125.4 209.8,1126.9 211.3,1126.3 212.8,1127.2 214.3,1127.7 215.8,1126.3 217.3,1127.8 218.8,1128.6 220.3,1130.3 221.8,1129.2 223.3,1131 224.8,1130.2 226.3,1130.9 227.8,1131 229.3,1133.4 230.8,1133.6 232.3,1135.6 233.8,1134.9 235.3,1135.2 236.8,1135.5 238.3,1134.4 239.8,1134.7 241.3,1136.3 242.8,1135.3 244.3,1135.7 245.8,1135.8 247.3,1136.7 248.8,1136.5 250.3,1137 251.8,1137.9 253.3,1138.4 254.8,1138.1 256.3,1139.9 257.8,1138.8 259.3,1138.7 260.8,1138.7 262.3,1140.9 263.8,1140.5 265.3,1140.6 266.8,1141.3 268.3,1143.6 269.8,1143.7 271.3,1144.2 272.8,1146.8 274.3,1146.1 275.8,1146.1 277.3,1146 278.8,1145.3 280.3,1145.1 281.8,1146.2 283.3,1145.1 284.8,1144.3 286.3,1143.6 287.8,1145 289.3,1145.4 290.8,1146.5 292.3,1146.6 293.8,1146.9 295.3,1147.2 296.8,1147.9 298.3,1149.1 299.8,1149.3 301.3,1150.2 302.8,1152.6 304.3,1152.4 305.8,1150.9 307.3,1153.9 308.8,1154 310.3,1153.2 311.8,1155.2 313.3,1155.6 314.8,1155.7 316.3,1156.3 317.8,1156.7 319.3,1158.3 320.8,1160.2 322.3,1160.1 323.8,1161 325.3,1163 326.8,1161.2 328.3,1162.3 329.8,1162.6 331.3,1162.3 332.8,1162.7 334.3,1164 335.8,1165.1 337.3,1164.8 338.8,1165.6 340.3,1166.8 341.8,1167 343.3,1167.9 344.8,1168.1 346.3,1168.5 347.8,1170 349.3,1169.7 350.8,1169.4 352.3,1170.2 353.8,1169.2 355.3,1169.9 356.8,1171.6 358.3,1172.5 359.8,1174 361.3,1173.5 362.8,1172.5 364.3,1175.8 365.8,1176.3 367.3,1174.9 368.8,1177 370.3,1176.7 371.8,1175.6 373.3,1177.2 374.8,1178.3 376.3,1181.1 377.8,1180.5 379.3,1181.5 380.8,1182.4 382.3,1183.2 383.8,1183.7 385.3,1185.1 386.8,1186.7 388.3,1187.1 389.8,1186.2 391.3,1186.1 392.8,1187.6 394.3,1187.7 395.8,1188.2 397.3,1187.8 398.8,1191.3 400.3,1191.5 401.8,1189 403.3,1189.4 404.8,1189.3 406.3,1186.7 407.8,1188.5 409.3,1189.9 410.8,1192 412.3,1192.7 413.8,1193.5 415.3,1192.5 416.8,1193.1 418.3,1192.8 419.8,1189.6 421.3,1188.7 422.8,1192.3 424.3,1190.6 425.8,1190.9 427.3,1192 428.8,1193.2 430.3,1194.5 431.8,1193.9 433.3,1191.9 434.8,1192 436.3,1191.3 437.8,1192.1 439.3,1190.1 440.8,1187.7 442.3,1187.5 443.8,1190.4 445.3,1190 446.8,1189 448.3,1190.6 449.8,1192.2 451.3,1193.9 452.8,1192.6 454.3,1193.9 455.8,1194.6 457.3,1193.6 458.8,1194 460.3,1195.9 461.8,1195.7 463.3,1194.4 464.8,1193 466.3,1192.9 467.8,1192 469.3,1192 470.8,1191.4 472.3,1192.1 473.8,1192.4 475.3,1195.3 476.8,1194.2 478.3,1195.6 479.8,1196.7 481.3,1196.1 482.8,1197.7 484.3,1195.9 485.8,1198.2 487.3,1200.4 488.8,1198.9 490.3,1200.4 491.8,1203.6 493.3,1203.1 494.8,1201.8 496.3,1201.9 497.8,1201.9 499.3,1204.2 500.8,1205.4 502.3,1205.9 503.8,1206.4 505.3,1207.9 506.8,1210.4 508.3,1210.9 509.8,1212.1 511.3,1212.4 512.8,1212.2 514.3,1213.4 515.8,1214.3 517.3,1213.6 518.8,1212 520.3,1210.5 521.8,1211.2 523.3,1211.2 524.8,1211.3 526.3,1211.4 527.8,1212.1 529.3,1212.3 530.8,1213.1 532.3,1213.4 533.8,1214.1 535.3,1214.1 536.8,1213.2 538.3,1213.5 539.8,1214.3 541.3,1214 542.8,1214.9 544.3,1216 545.8,1214.7 547.3,1213.4 548.8,1215.7 550.3,1215.3 551.8,1215.8 553.3,1215 554.8,1218.2 556.3,1219 557.8,1219.2 559.3,1219.7 560.8,1221 562.3,1221.4 563.8,1221.2 565.3,1220.4 566.8,1222.3 568.3,1221.7 569.8,1221.6 571.3,1221.6 572.8,1219.1 574.3,1220.7 575.8,1220.3 577.3,1219.9 578.8,1220 580.3,1218.8 581.8,1219.9 583.3,1218.8 584.8,1218.2 586.3,1218 587.8,1218.8 589.3,1219.5 590.8,1218.4 592.3,1217.2 593.8,1219 595.3,1217.6 596.8,1219.1 598.3,1218.7 599.8,1218.2 601.3,1218.3 602.8,1219.5 604.3,1220.4 605.8,1219.9 607.3,1221 608.8,1222.5 610.3,1221.1 611.8,1220.1 613.3,1220.1 614.8,1219.6 616.3,1219.5 617.8,1219 619.3,1217.9 620.8,1218.9 622.3,1215.9 623.8,1215.8 625.3,1218.3 626.8,1217.7 628.3,1216.6 629.8,1215.8 631.3,1216.3 632.8,1214.9 634.3,1213.6 635.8,1211.6 637.3,1211.6 638.8,1211.8 640.3,1212.5 641.8,1213.2 643.3,1213.5 644.8,1213.2 646.3,1214 647.8,1212 649.3,1212.3 650.8,1214 652.3,1212.7 653.8,1213.4 655.3,1214.2 656.8,1215.1 658.3,1215.3 659.8,1214.1 661.3,1215.3 662.8,1216.2 664.3,1210 665.8,1205.8 667.3,1201.5 668.8,1198.3 670.3,1197.2 671.8,1194.8 673.3,1192.1 674.8,1190.6 676.3,1189.6 677.8,1188.7 679.3,1187.5 680.8,1186.3 682.3,1183.8 683.8,1182.3 685.3,1180.3 686.8,1178.1 688.3,1175.9 689.8,1174.3 691.3,1173.9 692.8,1172.3 694.3,1171 695.8,1167.5 697.3,1165.3 698.8,1166.5 700.3,1165.9 701.8,1165.8 703.3,1164.3 704.8,1162.6 706.3,1161.4 707.8,1159 709.3,1159.8 710.8,1158 712.3,1157.8 713.8,1157.1 715.3,1156.5 716.8,1156.4 718.3,1154.7 719.8,1153.8 721.3,1153.1 722.8,1153.2 724.3,1154.9 725.8,1153.4 727.3,1154.2 728.8,1152.4 730.3,1150.4 731.8,1148.6 733.3,1145.1 734.8,1143.9 736.3,1143.3 737.8,1139.6 739.3,1137.6 740.8,1135 742.3,1133.7 743.8,1130.6 745.3,1131.3 746.8,1129.2 748.3,1126.9 749.8,1128.6 751.3,1127.8 752.8,1126.5 754.3,1125.5 755.8,1123.2 757.3,1120.8 758.8,1119.4 760.3,1117.6 761.8,1115.8 763.3,1116 764.8,1115.9 766.3,1115.5 767.8,1113.3 769.3,1110.1 770.8,1105.6 772.3,1102 773.8,1099.4"/>
</g>
<path d="M145.3 928.65v-17.5M145.3 1267.35v17.5M208.2 928.65v-9.5M208.2 1267.35v9.5M271.1 928.65v-17.5M271.1 1267.35v17.5M334 928.65v-9.5M334 1267.35v9.5M396.9 928.65v-17.5M396.9 1267.35v17.5M459.8 928.65v-9.5M459.8 1267.35v9.5M522.7 928.65v-17.5M522.7 1267.35v17.5M585.6 928.65v-9.5M585.6 1267.35v9.5M648.5 928.65v-17.5M648.5 1267.35v17.5M711.4 928.65v-9.5M711.4 1267.35v9.5M774.3 928.65v-17.5M774.3 1267.35v17.5M145.3 1235.25h-9.5M774.3 1235.25h9.5M145.3 1189.5h-18M774.3 1189.5h18M145.3 1143.75h-9.5M774.3 1143.75h9.5M145.3 1098h-18M774.3 1098h18M145.3 1052.25h-9.5M774.3 1052.25h9.5M145.3 1006.5h-18M774.3 1006.5h18M145.3 960.75h-9.5M774.3 960.75h9.5" stroke="#000" stroke-width="2" fill="none"/>
<rect x="145.3" y="928.65" width="629" height="338.7" fill="none" stroke="#000" stroke-width="5.2"/>
<path d="M141.8 928.65H777.8M141.8 1267.35H777.8" stroke="#000" stroke-width="5.2" fill="none"/>
<text class="a" x="123.63" y="1324.5">0.0</text>
<text class="a" x="249.43" y="1324.5">0.2</text>
<text class="a" x="375.23" y="1324.5">0.4</text>
<text class="a" x="501.03" y="1324.5">0.6</text>
<text class="a" x="626.83" y="1324.5">0.8</text>
<path d="M760.33 1324.5L760.33 1306.02L755.57 1309.41L755.57 1306.87L760.55 1303.45L763.03 1303.45L763.03 1324.5Z"/><text class="a" x="769.65" y="1324.5">.0</text>
<text class="a" x="67.76" y="1017.8">0.</text><path d="M100.98 1017.8L100.98 999.32L96.23 1002.71L96.23 1000.17L101.2 996.75L103.68 996.75L103.68 1017.8Z"/>
<text class="a" x="67.76" y="1109.3">0.0</text>
<text class="a" x="50.74" y="1200.8">–0.</text><path d="M100.98 1200.8L100.98 1182.32L96.23 1185.71L96.23 1183.17L101.2 1179.75L103.68 1179.75L103.68 1200.8Z"/>
<text class="a" transform="translate(24.2 1098.2) rotate(-90)" text-anchor="middle">excess/deficit eqs</text>
<text class="t2" x="164.5" y="980.9" text-anchor="start">Poisson + 40% hydrological forcing (strain<tspan dy="-9.9" font-size="18.5">2</tspan><tspan dy="9.9">)</tspan></text>
<text class="l" x="164.8" y="1248.45">e)</text>
</g>
<g>
<clipPath id="c21"><rect x="846.7" y="928.65" width="629" height="338.7"/></clipPath>
<path d="M972.5 928.65V1267.35M1098.3 928.65V1267.35M1224.1 928.65V1267.35M1349.9 928.65V1267.35M846.7 1189.5H1475.7M846.7 1098H1475.7M846.7 1006.5H1475.7" stroke="#000" stroke-width="1.15" fill="none"/>
<rect x="900" y="1220.2" width="559" height="38.5" fill="#fff"/>
<g clip-path="url(#c21)">
<g transform="translate(846.70 1098.00) scale(0.49921)">
<path fill="#999" stroke="#999" stroke-width="1" d="M0 2L6 1L12 -1L18 -7L24 -12L30 -17L36 -25L42 -31L48 -38L54 -44L60 -51L66 -58L72 -67L78 -74L84 -80L90 -87L96 -94L102 -102L108 -107L114 -115L120 -118L126 -129L132 -133L138 -139L144 -145L150 -151L156 -156L162 -163L168 -171L174 -172L180 -179L186 -179L192 -184L198 -187L204 -195L210 -195L216 -197L222 -197L228 -197L234 -197L240 -197L246 -219L252 -219L258 -219L264 -219L270 -231L276 -233L282 -233L288 -247L294 -247L300 -257L306 -257L312 -257L318 -257L324 -263L330 -263L336 -263L342 -263L348 -263L354 -275L360 -275L366 -275L372 -275L378 -275L384 -251L390 -251L396 -251L402 -251L408 -251L414 -285L420 -285L426 -285L432 -284L438 -284L444 -283L450 -273L456 -273L462 -273L468 -273L474 -273L480 -284L486 -284L492 -284L498 -284L504 -282L510 -282L516 -282L522 -282L528 -282L534 -288L540 -276L546 -276L552 -276L558 -276L564 -251L570 -251L576 -251L582 -251L588 -251L594 -275L600 -275L606 -247L612 -247L618 -247L624 -247L630 -247L636 -278L642 -278L648 -263L654 -263L660 -263L666 -263L672 -263L678 -269L684 -269L690 -269L696 -253L702 -253L708 -251L714 -250L720 -250L726 -240L732 -239L738 -235L744 -214L750 -214L756 -214L762 -214L768 -214L774 -229L780 -229L786 -229L792 -227L798 -223L804 -223L810 -223L816 -223L822 -220L828 -220L834 -217L840 -217L846 -217L852 -217L858 -217L864 -205L870 -205L876 -205L882 -205L888 -205L894 -177L900 -177L906 -177L912 -177L918 -177L924 -192L930 -191L936 -191L942 -191L948 -182L954 -182L960 -159L966 -159L972 -159L978 -157L984 -157L990 -157L996 -149L1002 -145L1008 -145L1014 -145L1020 -145L1026 -136L1032 -136L1038 -136L1044 -134L1050 -134L1056 -134L1062 -134L1068 -134L1074 -132L1080 -127L1086 -123L1092 -97L1098 -97L1104 -97L1110 -97L1116 -97L1122 -97L1128 -93L1134 -91L1140 -85L1146 -82L1152 -79L1158 -75L1164 -72L1170 -67L1176 -65L1182 -61L1188 -57L1194 -47L1200 -42L1206 -41L1212 -37L1218 -32L1224 -26L1230 -20L1236 -14L1242 -8L1248 -3L1254 -2L1260 -1L1260 -1L1254 -2L1248 -3L1242 -8L1236 -9L1230 -11L1224 -13L1218 -14L1212 -15L1206 -17L1200 -17L1194 -19L1188 -21L1182 -23L1176 -26L1170 -27L1164 -29L1158 -30L1152 -35L1146 -35L1140 -41L1134 -44L1128 -47L1122 -48L1116 -50L1110 -56L1104 -56L1098 -56L1092 -59L1086 -63L1080 -69L1074 -69L1068 -69L1062 -77L1056 -78L1050 -83L1044 -86L1038 -86L1032 -88L1026 -104L1020 -104L1014 -104L1008 -104L1002 -104L996 -97L990 -97L984 -99L978 -101L972 -104L966 -113L960 -117L954 -120L948 -121L942 -121L936 -121L930 -121L924 -121L918 -139L912 -139L906 -139L900 -139L894 -139L888 -128L882 -128L876 -136L870 -139L864 -154L858 -157L852 -157L846 -157L840 -157L834 -157L828 -174L822 -174L816 -174L810 -174L804 -174L798 -161L792 -183L786 -183L780 -188L774 -188L768 -188L762 -202L756 -202L750 -202L744 -202L738 -202L732 -206L726 -208L720 -208L714 -208L708 -208L702 -208L696 -187L690 -193L684 -193L678 -193L672 -193L666 -194L660 -200L654 -201L648 -202L642 -203L636 -205L630 -206L624 -207L618 -208L612 -208L606 -235L600 -235L594 -235L588 -235L582 -235L576 -211L570 -212L564 -212L558 -213L552 -213L546 -213L540 -213L534 -213L528 -213L522 -213L516 -213L510 -213L504 -214L498 -252L492 -252L486 -252L480 -252L474 -252L468 -256L462 -256L456 -256L450 -256L444 -256L438 -236L432 -236L426 -236L420 -236L414 -212L408 -210L402 -210L396 -210L390 -210L384 -199L378 -199L372 -195L366 -195L360 -197L354 -214L348 -214L342 -214L336 -214L330 -214L324 -204L318 -204L312 -204L306 -204L300 -179L294 -179L288 -176L282 -175L276 -175L270 -175L264 -170L258 -169L252 -163L246 -162L240 -158L234 -152L228 -152L222 -144L216 -143L210 -143L204 -143L198 -143L192 -143L186 -125L180 -125L174 -125L168 -121L162 -111L156 -109L150 -105L144 -101L138 -97L132 -94L126 -90L120 -79L114 -79L108 -77L102 -73L96 -67L90 -63L84 -58L78 -55L72 -52L66 -47L60 -40L54 -35L48 -31L42 -31L36 -25L30 -17L24 -12L18 -7L12 -1L6 1L0 2Z"/>
<path class="g" stroke-width="2.80" d="M0 4l6-3 6-6 6-5 6-7 6-7 6-4 6-4 6-6 6-4 6-6 6-10 6-6M228 -195l6-3 6-2 6-1M402 -248l6-3 6-3M558 -265l6 1 6 1 6 5 6 1 6 2 6 2 6 2 6-2 6 4 6 6M1224 -24l6 3 6 5 6 5 6 6 6 2 6 3M0 4l6-4 6-5 6-7 6-4 6-6 6-5 6-5 6-7 6-6 6-8 6-7 6-6M186 -135l6-5 6-5M378 -259l6 0 6-1 6-2 6-4 6-3 6-2M444 -273l6-1 6-2 6 0 6-1 6 2 6 0M558 -272l6 2 6 0 6-1 6-3 6 0 6 1 6-2 6 2 6 3 6 1 6-1 6 1 6 3M720 -243l6 0 6-3 6-3 6-2 6 1 6 4 6 6 6 3 6 4 6 5 6-1 6 3M1224 -25l6 4 6 5 6 4 6 5 6 4 6 3M0 4l6-7 6-5 6-6 6-6 6-5 6-5 6-2 6-7 6-5 6-4M228 -196l6-2 6-5 6-5M426 -237l6 1 6 4 6-1 6-5 6-1 6 1 6-1 6-2 6-2 6 1 6-1 6-2 6-3M576 -237l6 3 6 0 6 4 6 2 6 3 6 5M720 -210l6 2 6 0M1236 -12l6 4 6 1 6 4 6 3M0 4l6-3 6-6 6-6 6-6 6-5 6-5 6-8 6-6 6-8 6-8 6-5 6-7 6-8 6-8 6-7 6-4 6-6 6-4M180 -177l6-6 6-4 6-6 6-4 6-3 6-4 6-4 6-4 6-3 6-6 6-5 6-4 6-5 6-5 6-6 6-4 6-3 6-4 6-5 6-3 6-2 6-4 6-4 6-2 6-1 6 3 6-1 6-2 6 2 6-1 6 2 6 2 6 1 6 2 6-1 6 1 6 0 6 1 6-1M558 -261l6-1 6 3 6-2 6 6 6 0 6 3 6 1 6-1 6-2 6 0 6 0 6-3 6-1M660 -260l6-5 6-1 6-1M690 -268l6-1 6-2 6 1 6 3 6-5 6 3 6 3 6 8 6 6 6 5 6 4 6 4 6 6 6-1 6 5 6 5 6 1 6-1 6 1 6 1M888 -200l6 1 6 3 6 2 6-2 6 2 6 2 6 1 6 0 6 2 6 4 6 1 6 2 6 5 6 3 6 5 6 2 6 5 6 6 6 4 6 3 6 7M1230 -17l6 2 6 4 6 3 6 3 6 5M0 4l6-4 6-3 6-3 6-3 6-5 6-5 6-5 6-6 6-4 6-6 6-9M324 -212l6-1 6-1 6 0 6 1 6 0 6-2M396 -211l6 1 6-1 6-2 6-4 6-1 6-1 6 0 6 0 6-2 6-3 6-2 6-1 6-1 6-1 6-1 6-1 6 1 6-3M576 -230l6 3 6-2 6 1 6 3 6 0 6 3M678 -197l6 4 6 2 6 3 6 2 6 2 6 2 6 2 6 2 6 3 6 2 6 1 6 2 6 1 6 2 6 4 6 3 6 1 6 3 6 2 6 2 6 4 6 3 6 3 6 3 6 2 6 2 6 2 6 5 6 4 6 2 6 1 6 4 6 3 6 3 6 4 6 3 6 1 6-1 6 1 6 1 6-1 6 4 6 3 6 2 6 2 6 1 6 2 6 2 6 2 6 3 6 1 6 3 6 2 6 2 6 3 6 2 6 0 6 2 6 2 6 2 6 0 6 1 6 0 6 3 6 2 6 0 6 3 6 0 6 3 6 2 6 4 6 1 6 3 6 2 6 2 6 1 6 1 6 2 6 2 6 2 6 3 6 3 6 2 6 2 6 2 6 0 6 1 6 1 6 2 6 2 6 2 6 1 6 2 6 1 6 1 6 1 6 3M0 4l6-3 6-3 6-4 6-5 6-4 6-6 6-6 6-3 6-6 6-6 6-4 6-3 6-4 6-4 6-5 6-5 6-4 6-5 6-5 6-4 6-2 6-6 6-5M324 -212l6-1 6 1 6-2 6-5M438 -241l6-1 6 1 6-1 6-3 6 2 6-2 6 0 6 2 6 0 6-1 6 0M606 -246l6-6 6-2 6 0 6-2 6-2M666 -262l6-4 6-1M690 -267l6-3 6 0 6 4 6-2 6 1 6 3 6 3 6 3 6 7 6-1 6-4 6 2 6 3 6 0 6-3 6 2 6 0 6-3 6 3 6 3 6 1 6 0 6 3 6 7 6 7 6 4 6 0 6 6 6 5 6 2 6 3 6 1 6 3 6 3 6 4 6 5 6 4 6 3 6 3M954 -166l6-3 6 2 6 2 6 1 6 3 6 6 6 6 6 4 6 2M1224 -24l6 4 6 2 6 4 6 6 6 5 6 3M0 4l6-3 6-3 6-4 6-4 6-4 6-5 6-5 6-5 6-6 6-4 6-5 6-5 6-6 6-4M96 -68l6-4 6-3 6-5 6-4 6-4 6-3 6-4 6-4 6-3 6-4 6-3 6-5 6-4 6-3 6-4 6-4 6-4 6-4 6-3 6-5 6-2 6-5 6-5 6-5 6 0 6-4M300 -194l6-3 6 0 6 2 6 1 6-1 6 0 6-1 6-3 6 0 6-3M384 -204l6 0 6-2 6 1 6-3 6 0 6 0 6 0 6-1 6-3 6-2 6 0 6 0 6 0 6 0 6-1 6-1 6-1 6 0 6 1 6 1M576 -214l6 1 6 2 6-1 6 1 6 1 6 1 6 1 6 2 6 1 6 1 6 1 6 1 6 0 6 2 6 2M678 -195l6 2 6 1 6 1 6 3 6 1 6 2 6 2 6 2 6 1 6 2 6 0 6 2 6 2 6 1 6 1 6 1 6 1 6 1 6 1 6-1 6-2 6 0 6 3 6 1 6 1 6 1M846 -160l6 3 6 2 6 6 6 1M1230 -19l6 5 6 2 6 4 6 5 6 3M0 4l6-6 6-7 6-6 6-6 6-6 6-7 6-7 6-8 6-7 6-6 6-8 6-7 6-6 6-8 6-7 6-5 6-7 6-6 6-5 6-5 6-5 6-6 6-6 6-5 6-4 6-5 6-4 6-7 6-4 6-4 6-3 6-6 6-4 6-4 6-3 6-3 6-4 6-1 6-2 6-8 6-1 6-4 6-5 6-4 6-3 6-2 6-3 6-3M306 -256l6-3 6-3 6-3 6-5 6 0 6-5 6-4 6 1 6-2 6-2 6-6 6-3 6-1 6-2 6-8 6-3 6 2 6-4 6 1 6-6 6-5 6 0 6 3 6 7 6-3 6 0 6 5 6-1 6 7 6 3 6-2 6 0 6-5 6-1 6 1 6 1 6-4 6-2 6 2 6 0 6 3 6 5 6 2 6 4 6 3 6 3 6 2 6 2 6 3 6 3 6 0 6-4 6 1 6 2 6 2 6 2 6 1 6-1 6-2 6-3 6 0 6 4 6 3 6 3 6-3 6 4 6 7 6-3 6 4 6 1 6 0 6 4 6-3 6 0 6 3 6-4 6 1 6 2 6 5 6 1 6 5 6-1 6 1 6 0 6-1 6 1 6 3 6 4 6 1 6 2 6 0 6 6 6 1 6 2 6 1 6 3 6 6 6 3 6 2 6-1 6-1 6 2 6 0 6 2 6 4 6 0 6 5 6 1 6 1 6 3 6 4 6 4 6 5 6 5 6 6 6 5 6 3 6 6 6 4 6 4 6 2 6 6 6 4 6 5M1086 -111l6 6 6 3 6 5 6 5M1236 -12l6 4 6 2 6 1 6 5M0 4l6-5 6-7 6-5 6-6 6-7 6-7 6-7 6-8 6-7 6-6 6-7 6-6 6-7 6-7 6-5 6-5 6-5 6-5 6-9 6-7 6-7 6-7 6-7 6-9 6-8 6-6 6-8 6-6 6-6 6-3 6-4 6-4 6-5 6-4 6-4 6-4 6-3 6-2 6-3 6-3 6-4 6-5 6-4 6-3 6-6 6-2 6-3 6-4 6-3 6-4 6-5 6-1 6 1 6 0 6-1 6 2 6 0 6 3 6 0M378 -261l6 3 6 0 6 1 6-5 6 1 6-1M444 -272l6-3 6-8 6-1 6-1 6-6 6-2 6-3 6-2 6 1 6-1 6-3 6 2 6 1 6 3 6 5 6 4 6 1 6 2 6 1 6-2 6 0 6-2 6 1 6 0 6-1 6 3 6 0 6-1 6-3 6 5 6 0 6-1 6 1 6-2 6 4 6 0 6-1 6 0 6-1 6 1 6-1 6 0 6 1 6 3 6 2 6 5 6-1 6 1 6 4 6 1 6 3 6 2 6-1 6-2 6 2 6 6 6 5 6 2 6 1 6 0 6 2 6 3 6 4 6 1 6 4 6 0 6 3 6 4 6 5 6 4 6 4 6 2 6 2 6 6 6 5 6 0 6 2 6 1 6 4 6 2M942 -183l6 0 6 2 6 0 6 3 6 4 6 2 6 5 6 5 6 6 6 6 6 5 6 6M1218 -31l6 2 6 3 6 4 6 5 6 6 6 6 6 5M0 4l6-7 6-4 6-2 6-4 6-3 6-4 6-4 6-5 6-5 6-6 6-6 6-8M300 -192l6 1 6 3 6 1 6-1 6-3 6-5 6-3 6-1 6-2 6-2M414 -222l6-4 6-1 6-1 6 0 6-1 6 1 6 3 6 1 6 0 6 1 6-1 6-1 6-1 6 1 6-4M576 -224l6-3 6 3 6 1 6 1 6 0 6 2M696 -205l6 0 6 3 6 1 6 1 6 2 6 3 6 3 6 5 6 5 6 3 6 2 6 3 6 2 6 2 6 1 6 0 6 1 6-2 6 0 6 2 6 0 6 0 6 0M1236 -11l6 3 6 3 6 3 6 2M0 4l6-4 6-4 6-4 6-5 6-6 6-1 6-8 6-8 6-7 6-8 6-7 6-8M84 -78l6-11 6-8 6-7 6-7 6-5 6-4 6-6M144 -143l6-8 6-6 6-6 6-5 6-7 6-5 6-5 6-5 6-3 6-5 6-4 6-4 6-5 6-3 6-4 6-6 6-3 6-5 6-6 6-8 6-4 6-4 6-3 6-6 6-9 6-6 6-4 6-5 6-7 6-2 6-3 6-1 6-3 6-3 6-2 6 0 6 1 6 0 6-4 6-2 6-8 6-3 6 7 6 2 6 2 6 1 6 4 6 0 6-1 6-2 6-2 6 1 6 4 6 7 6 3 6 5 6 2 6 2 6-1 6 0 6 2 6-4 6 0 6 2 6-2 6 4 6 1 6-1 6 1 6 2 6 1 6-1 6 0 6-1 6 0 6 2 6 3 6 8 6 1 6-1 6 2 6 3 6 2 6 0 6 3 6 1M732 -235l6-2 6 7 6 2 6 4 6 4 6 1 6 3M888 -177l6 0 6-2 6 2 6 1M954 -170l6 0 6-3 6-1 6-1 6 2 6 5 6 5 6 6 6 2 6 2 6 4 6 7 6 6 6 4M1086 -114l6 4 6 1 6 3 6 4 6 3 6 4M1134 -89l6 1 6 2 6 3 6 2 6 5 6 5 6 2 6 5 6 5 6 4 6 6 6 5 6 4 6 6 6 5 6 4 6 4 6 7 6 5 6 5 6 4M0 4l6-5 6-4 6-7 6-7 6-5 6-7 6-6 6-9 6-6 6-6 6-4 6-6 6-6 6-6 6-3M186 -137l6-6 6-7M378 -260l6-1 6-2 6 1 6 0 6 2 6 1M558 -257l6-1 6 1 6 1 6-1 6 2 6 0 6-2 6 1 6 2 6 0 6 2 6 0 6 0M738 -225l6 3 6 0 6 0 6-1 6 1 6 3M888 -190l6-1 6 1 6-1 6 2 6 0 6 2M954 -179l6 7 6 3 6 2 6 5 6 6M1086 -100l6 1 6 2 6 3M1152 -78l6 3 6 4 6 2 6 3 6 5 6 5 6 3 6 4 6 4 6 4 6 5 6 6 6 5 6 6 6 8 6 4 6 2 6 5M0 4l6-6 6-6 6-6 6-6 6-6 6-7 6-6 6-6 6-7 6-6 6-8 6-7 6-6 6-5 6-5 6-3M324 -206l6 1 6-1 6 0 6-6 6 0 6 0M414 -221l6-2 6 3 6-1 6 0 6-1 6-4 6-2 6-1 6 0 6-2 6-2 6-1 6-4 6-3 6 0M576 -233l6 1 6 0 6-3 6-2M714 -209l6 2 6 6 6 2 6-1 6 0 6 3 6 4 6 5 6-1 6-1 6 4 6 2M1194 -42l6 0 6 4 6 1 6 4 6 4 6 3 6 4 6 5 6 4 6 6 6 7M0 4l6-3 6-4 6-5 6-4 6-3 6-5 6-5 6-6 6-8M186 -135l6-4 6-7M324 -210l6 1 6 1 6 0 6 2 6 0 6 1M384 -205l6-5 6-2M414 -218l6-3 6-3 6-3 6-1 6-1 6-1 6-3 6-2 6 1 6-1 6 3 6 0 6 0 6 3 6 0M576 -221l6 0 6 1 6-1 6 0 6-1 6 6M696 -198l6 3 6 1 6-1 6 1 6 0 6 2 6 4 6 4 6 3 6 4 6 2 6 2 6 4 6 4 6 3 6 4 6 3 6 2 6 3 6 2 6 1 6 1 6 2 6 3 6 3 6 1 6 2 6 3 6 0 6 0 6 4 6 2 6 2 6 3 6 2 6 2 6 2 6 3 6 2 6 0 6 2 6 0 6 1 6 2 6 2 6 3 6 4 6 3 6 6 6 3 6 3 6 3 6 1 6 2 6 1 6 2 6 0 6 2 6 4 6 2 6 2 6 2 6 1 6 0 6 0 6 2 6 1 6 2 6 3 6 1 6 1M1236 -10l6 3 6 2 6 3 6 2M0 4l6-4 6-6 6-3 6-6 6-4 6-5 6-6 6-7M216 -194l6-4 6-4 6-1 6-3 6-2M378 -253l6 0 6-7 6 1 6-2 6 4 6 3M456 -260l6 4 6-1M558 -256l6 1 6 0 6 4 6 2M600 -240l6 6 6 1M738 -215l6-1 6 0 6 3 6-1 6 3M1020 -106l6 4 6 4M1236 -12l6 4 6 2 6 2 6 4M0 4l6-6 6-4 6-3 6-6 6-5 6-6 6-5 6-6M60 -45l6-1 6-8M414 -228l6-2 6 2 6-1 6-1 6-1 6 0 6 0 6-3 6 1 6 1 6 3 6 0 6 0 6-3 6 0M576 -221l6 1 6 1 6 1 6 1 6 1 6 0M696 -205l6 1 6 1 6-1 6-2 6 2 6 2 6-1 6 0 6 1 6 1 6 1 6 3M822 -176l6 2 6 3M1218 -30l6 4 6 5 6 4 6 3 6 3 6 6 6 5M0 4l6-3 6-4 6-6 6-7 6-7 6-7 6-5 6-6 6-6 6-3M438 -243l6 5 6 4 6 3 6 2 6 4 6 2 6 1 6 1 6 0 6 2 6 0M576 -219l6 2 6 1 6 1 6 1 6 1 6 0M738 -216l6 1 6 1 6 2M906 -176l6-3 6 1 6 3M954 -173l6-2 6 1 6 1 6 1 6 1 6 1 6 1 6 3 6 5 6 2 6 5 6 4 6 4 6 3 6 4 6 4 6 1 6 3M1086 -117l6 3 6 5 6 3 6 3 6 3 6 3 6 4 6 2 6 1 6 5 6 4 6 4 6 5 6 5 6 5M1230 -17l6 2 6 3 6 5 6 1 6 6M0 4l6-5 6-4 6-6 6-7 6-5 6-9 6-8 6-7 6-7 6-7 6-7 6-6 6-8 6-6 6-5 6-7 6-7 6-8 6-7 6-5 6-4 6-4 6-4 6-4M234 -195l6-3 6 0M378 -256l6 3 6 2 6 3M438 -246l6 1 6 0 6 2 6 1 6 2 6-1 6 0 6-1 6 3 6 1 6-2M576 -228l6 2 6 1 6 3 6 1 6 3 6 0M696 -200l6 3 6 2 6 4 6 3 6 1 6 2 6 2 6-1 6 2 6 3 6 0 6 1 6 3 6 3 6 0 6 4 6 1 6 3 6 3 6 2 6 3 6 3 6 3 6 3 6 2 6 2 6 1 6 1 6 1M906 -140l6 2 6 3 6 1M1020 -106l6 4 6 4M1200 -19l6 2 6 1 6 1 6 2 6 2 6 2 6 2 6 3 6 2 6 2M0 4l6-7 6-5 6-3 6-8 6-4 6-7 6-8 6-8 6-8 6-5 6-7 6-7 6-3 6-5 6-7 6-7 6-4M228 -194l6-6 6-5 6-3 6-7 6-5 6-3 6-1M342 -260l6-4 6-4M366 -274l6-6 6 2 6-9 6-6 6-3 6-8 6 2 6-4 6-6 6-4 6-1 6 1 6 5 6 5 6-5 6-6 6-4 6-3 6-1 6-3 6-1 6-3 6-2 6 3 6 2 6 2 6 1 6 7 6-1 6 0 6 1 6 3 6-3 6-4 6-2 6-2 6 0 6-1 6 1 6-1 6 1 6 1 6 0 6-1 6-1 6 0 6-3 6-3 6 2 6 6 6 1 6 5 6-2 6 0 6 1 6 4 6 9 6 6 6 5 6 4 6 4 6-1 6 2 6-2 6 6 6 5 6 5 6 7 6 4 6 7 6 5 6 2 6 1 6 2 6 3 6 3 6 5 6 7 6 5 6 2 6 1 6 0 6 5 6 3 6 0 6 2 6 3 6 0 6-1 6 2 6 1 6 4 6-2 6 2 6 3 6 4 6 5 6 0 6 2 6-1 6 0 6 1 6 1 6 2 6 4 6 6 6 2 6 5 6 3 6 3 6 5 6 6 6 2 6 3 6 5 6 5 6 4M1086 -121l6 5 6 2 6 3 6 1 6 4 6 3 6 3 6 5 6 4 6 5 6 4 6 4 6 5 6 4 6 4 6 5 6 4 6 3 6 4 6 4 6 7 6 4 6 4 6 4 6 3 6 4 6 6 6 7 6 6M0 4l6-5 6-7 6-6 6-7 6-7 6-7 6-8 6-7 6-7 6-7 6-7 6-9 6-7 6-7 6-8 6-5 6-8 6-7 6-7 6-4 6-4 6-4 6-6 6-6 6-5 6-5 6-4 6-5 6-6 6-6 6-7 6-6 6-6 6-6 6-5 6-7 6-4 6-5 6-3 6-5 6-5 6-4 6-2 6-5 6-8 6-2 6-2 6-2 6-1 6 0 6-2 6-4 6-4 6-1 6-2 6 5 6-1 6 2 6-1 6 1 6-3 6-2 6-1 6 1 6 1 6 1 6-6 6-3 6-3 6 1 6-1 6-2 6 2 6-3 6-3 6-12 6-3 6 4 6 6 6-2 6-5 6-3 6-1 6-2 6-3 6 3 6 8 6 6 6 2 6 0 6 4 6 0 6 1 6-4 6 0 6-4 6-3 6 6 6 3 6 0 6 4 6 0 6 1 6 2 6 2 6-2 6 1 6-2 6 2 6-2 6 3 6 0 6 2 6 3 6 2 6 0 6 8 6 6 6-1 6-1 6 2 6 6 6 3 6 3 6 3 6 0 6-1 6-1 6 3 6 1 6 3 6-1 6 0 6 6 6 5 6 4 6 4 6 2 6 6 6 1 6 3M858 -210l6 4 6 1 6 1M888 -198l6 6 6 3 6 2 6 1 6-2 6 1M954 -179l6 5 6 1 6 1 6-1 6 1 6 3 6 3 6 6 6 4 6 7 6 6 6 2 6 4 6 3 6 0 6 3M1086 -115l6 2 6 3 6 4 6 4 6 5 6 3M1188 -56l6 3 6 5 6 4 6 2 6 5 6 5 6 7 6 3 6 5 6 5 6 5 6 7M0 4l6-4 6-4 6-8 6-5 6-6 6-4 6-5 6-3M414 -232l6 1 6 1 6 3 6 1 6 2 6 1 6 2 6 0 6 1 6-2 6-2 6-2 6 0 6-1 6-3M576 -223l6-1 6 1 6 3 6 1 6 1 6 1M696 -193l6 1 6 2 6 1 6 2 6 1 6 2 6 2 6 3 6 2 6 2 6 1 6 1 6 0 6 2 6 1 6 3 6 2 6 2 6 2 6 1 6-2 6 2 6-1M1230 -14l6 0 6 4 6 3 6 2 6 5M0 4l6-7 6-5 6-6 6-6 6-6 6-6 6-6 6-6 6-6 6-4 6-6 6-8 6-5 6-7 6-6M102 -101l6-7 6-5M402 -247l6-6 6-2M738 -206l6 4 6 4 6 1 6 3 6 0M822 -177l6 3 6-1M1236 -10l6 2 6 3 6 3 6 2M0 4l6-4 6-6 6-8 6-5 6-6 6-6 6-4 6-9 6-7 6-5 6-4 6-5M378 -268l6 0 6-1 6 1 6-4 6 1 6 3M558 -267l6-4 6-1 6-3 6-5 6-4 6 0 6 0 6-3 6-3 6-2 6 0 6-1 6-2 6-1 6 1 6 3 6 2 6-1 6-4 6 0 6 1 6 9 6 3 6 6 6 0 6 0 6 4 6 2 6 4 6 2 6 1 6-2 6 5 6 2 6 1 6-1 6-1 6 0 6-1 6-2 6-5 6-2 6 3 6 2 6 1 6 6 6 5 6 5 6 6 6 4 6 3 6 4 6 0 6-2 6 1 6 6 6 7 6 1 6 3 6 6 6 3 6 4 6 3 6 1 6 0 6 3 6 3 6 1 6 1 6-2 6 3 6 1 6 0 6 1 6 3 6 5 6 5 6 4 6 4 6 4 6 3 6 3 6 4 6 3 6 4 6 3 6 4 6 5 6 5 6 5 6 6 6 3 6 5 6 3 6 4 6 3 6 5 6 4 6 4 6 5 6 5 6 3 6 5 6 5 6 4 6 3 6 4 6 5 6 6 6 4 6 6 6 4 6 5 6 7 6 7 6 2 6 5M0 4l6-7 6-5 6-4 6-6 6-5 6-8 6-4 6-7 6-6 6-8 6-5 6-7 6-5M150 -107l6-2 6-4 6-3 6-3 6-5 6-3 6-5 6-5 6-6 6-4M438 -242l6-1 6 0 6-3 6-1 6 1 6 1 6 1 6 2 6-3 6 0 6 1M576 -228l6 3 6 1 6 1 6-1 6-1 6 2M756 -203l6 5 6 1M816 -175l6 5 6 2 6-1M954 -163l6 3 6-1 6 3M990 -150l6 0 6 3 6 3M1086 -112l6 2 6 3 6 5 6 1 6 4 6 4M1230 -17l6 3 6 2 6 4 6 3 6 5M0 4l6-7 6-6 6-3 6-3 6-7 6-4 6-4 6-8 6-8 6-6 6-6 6-5M108 -105l6-11 6-6 6-5M210 -191l6-6 6-4 6-2 6-4 6-3 6-6 6-2 6-4 6-4 6-3M378 -260l6-1 6 0 6 1 6 1 6 0 6 0M558 -260l6 2 6 0 6-1 6 1 6 2 6 0 6 2 6 1 6-1 6 0 6 3 6-1 6 2M744 -205l6 3 6 1 6 5 6 4 6 5 6 4 6 1 6 1 6-1M1086 -108l6 5 6 1 6 5 6 2M1134 -88l6 3 6 3 6 2 6 3 6 4 6 6 6 6M1188 -52l6 5 6 6 6 0 6 6 6 2 6 5 6 7 6 3 6 5 6 3 6 6 6 4M0 4l6-2 6-4 6-4 6-4 6-5 6-5 6-5 6-5 6-5 6-5 6-7 6-6M438 -242l6 1 6 1 6 1 6 1 6 0 6-1 6 2 6 4 6 2 6-2 6 1M696 -204l6 2 6 2 6 3 6 4 6-1 6-3 6 1 6 2 6 1 6 0 6 1 6 1 6 1 6 5 6 3 6 3 6 5 6 1 6 2 6 4 6 2 6 3 6 0M1188 -48l6 1 6 1 6 3 6 1 6 3 6 5 6 5 6 5 6 7 6 5 6 5 6 7M0 4l6-7 6-6 6-7 6-6 6-6 6-7 6-7 6-8 6-7 6-7 6-5 6-6 6-8 6-6 6-6 6-5 6-8 6-6 6-6 6-5 6-6 6-6 6-8 6-7 6-6 6-6 6-6 6-4 6-5 6-3 6-5 6-4 6-3 6-2 6-3 6-3 6-5 6-5 6-6 6-1 6-4 6-1 6-6 6-1 6-1 6-1 6-2 6-4M378 -264l6-4 6-4 6-2 6-7 6-6 6-7 6-6 6-4 6-8 6-1 6-2 6 1 6 5 6-1 6 0 6 1 6-2 6 1 6 1 6 4 6-2 6 3 6 6 6 1 6-1 6 4 6 4 6 4 6 1 6-2 6 1 6 3 6 1 6 2 6-1 6 2 6 3 6 6 6 3 6 2 6-1 6 0 6 1M750 -203l6 6 6 3 6 1M810 -175l6 1 6 5 6 3 6 4M846 -159l6 3 6 2 6 3 6 6M1224 -15l6 4 6 3 6 3 6 2 6 2 6 1M0 4l6-5 6-7 6-6 6-2 6-5 6-6 6-3 6-5M66 -48l6-2 6-5 6-3 6-3 6-5 6-6 6-6M378 -255l6 2 6-4 6-2 6-1 6 0 6 1M576 -222l6 0 6 2 6 1 6 1 6 1 6 1M714 -210l6 3 6 3 6 0 6-1 6 1 6 2 6 2 6 4 6 4 6 3 6 5 6 4 6 3 6 2 6 5 6 2 6 0 6 4 6-2 6-1M852 -159l6 2 6 6 6 0M888 -141l6 4 6 5 6 2 6 0 6 5 6 2 6 2 6-1 6 2 6 2 6 4 6 1 6 2 6 4M996 -99l6 3 6 2 6 2 6 2 6-1 6 2 6 0 6 5 6 3 6 1M1224 -14l6 3 6 2 6 2 6 2 6 3 6 2M0 4l6-6 6-4 6-2 6-3 6-4 6-4 6-5 6-5 6-6 6-4 6-5 6-6 6-8M234 -190l6-7 6-9M258 -218l6-5 6-8 6-8 6-8 6-5 6-8 6-1 6-1 6 0 6-2 6-6 6-5 6-1 6-3 6 1 6 0 6 1 6-3 6 5 6-2 6-1 6-5 6 3 6 2 6 0 6-4M432 -283l6-3 6 3 6 0 6 1 6-1 6 2 6 3 6 3M498 -282l6-2 6-4 6-5 6-4 6-4 6 0 6 3 6-1 6 0 6 3 6 7 6-3 6-2 6-1 6 3 6 2 6 5 6-4 6 1 6 2 6 4 6 6 6 0 6 2 6 4 6 1 6 3 6 3 6 2M690 -260l6 2 6 3 6 2 6 2 6 2 6-1 6 5 6-1 6 2 6 2 6 3 6 3 6 2 6 1 6 3 6 1 6 2 6 1 6 2 6 1 6 2 6 1 6 1 6 1 6-1 6 4M858 -207l6 2 6 1 6-1 6 0 6 0 6 2 6 4 6 2 6 4 6 2 6 4M942 -184l6 1 6 2 6 3 6 4 6 3 6 2 6 1 6 0 6 1 6 0 6 1 6 0 6 2 6 4 6 5 6 4 6 4 6 3 6 3 6 5 6 6M1086 -118l6 2 6 3 6 3 6 3 6 4 6 6 6 3 6 4 6 4 6 3 6 3 6 3 6 2 6 5 6 5 6 3 6 4 6 5 6 4 6 5 6 6 6 4 6 5 6 6 6 4 6 5 6 3 6 5 6 6M0 4l6-7 6-6 6-6 6-5 6-4 6-6 6-5 6-9 6-6 6-8 6-6 6-7 6-3 6-6 6-6M300 -190l6-2 6 0 6-1 6-2 6-3 6-5 6-4 6-4 6-4M438 -245l6 0 6 2 6-1 6 0 6 2 6 3 6 0 6 0 6-3 6-2 6 0M576 -227l6 3 6 0 6 0 6 2 6 1 6 0M750 -205l6 3 6 2 6 3M816 -179l6 8 6 3 6 2M996 -102l6 2 6 3 6 4 6 4 6 4 6 3 6 2 6 1 6 2 6 2 6 3 6 2 6 3 6 2 6 3 6 2 6 1 6 4 6 3 6 3 6 2 6 0 6 1M1236 -10l6 2 6 3 6 3 6 2M0 4l6-5 6-5 6-6 6-5 6-6 6-4 6-4 6-7 6-5M114 -111l6-8 6-6M180 -174l6-5 6-3M204 -191l6-6 6-6 6-3 6-3 6-3 6-5 6-2 6-6 6-2 6-5 6-5 6-1 6-2 6-5 6-3 6 0M378 -267l6 0 6 0 6-1 6-3 6 2 6 2M600 -236l6 4 6 0M756 -204l6 2 6 0M888 -177l6 0 6 3M954 -173l6-1 6 1 6 3 6 2 6 0 6 1 6 3 6 3 6 2 6 2 6 3 6 3 6 5 6 6 6 2 6 1 6 4M1086 -122l6 3 6 4 6 3 6 4 6 2 6 3 6 4 6 4 6 2 6 4 6 4 6 6 6 5 6 3 6 3 6 6 6 4 6 5 6 5 6 4 6 6 6 4 6 4 6 6 6 3 6 6 6 2 6 7 6 6M0 4l6-3 6-3 6-5 6-6 6-9 6-8 6-6 6-6 6-5 6-9 6-7 6-6 6-4M438 -252l6-2 6-1 6-1 6 1 6 1 6 3 6 4 6 0 6 2 6 2 6-1M576 -230l6 3 6-1 6 1 6 1 6 7 6 3M654 -203l6 3 6 2M678 -195l6 3 6 2 6 2 6 3 6 2 6 3 6 2 6 2 6 3 6 3 6 1 6 2 6 2 6 2 6 1 6 1 6 3 6 1 6-1 6 2 6 0 6 0 6 0 6-1 6 4 6 2 6 0 6 1 6 2 6-1 6 3 6 4M894 -140l6 2 6-1 6 1 6 1 6 3M936 -124l6 3 6 3 6 3 6 1 6 1 6 5M1002 -106l6 4 6 3 6 6 6 3 6 2 6 2 6 1 6 0M1212 -17l6 3 6 2 6 2 6 1 6 3 6 1 6 1 6 4M0 4l6-7 6-6 6-6 6-6 6-7 6-7 6-7 6-7 6-7 6-7 6-7 6-7 6-7 6-8 6-8 6-6 6-7 6-4 6-8 6-7 6-3 6-7 6-5 6-4 6-4 6-4 6-4 6-5 6-5 6-4 6-4 6-6 6-4 6-5 6-4 6-5 6-7 6-5 6-2 6-4 6-3 6-8 6-2 6-3 6-4 6-3 6-1 6 0 6-3 6-9 6-7 6-2 6-2 6-5 6-2 6 1 6-2 6-3 6 1 6 0 6-3 6-2 6 3 6-3 6 1 6-4 6 1 6 4 6 4M426 -281l6-3 6 1 6 1 6 0 6 0 6-2 6 1 6 2 6-2 6-3 6 2 6 1M558 -258l6 2 6 4 6 2M888 -190l6 0 6 3 6 5 6 4 6 3M1236 -10l6 1 6 0 6 5 6 4M0 4l6-4 6-3 6-7 6-5 6-5 6-4 6-3 6-7M330 -215l6 3 6 2 6 3 6 0 6 0M402 -212l6 2 6 2 6-1 6 1 6 1 6 0 6-1 6-1 6 0 6-2 6-1 6-2 6-1 6 0 6 1 6 1 6 1 6 1 6 2 6 0 6 2 6 0 6 0 6 2 6 0 6 1 6 0 6 0 6 0 6 1 6 0 6 1 6 1 6 1 6 1 6 2 6 1 6 0 6 0 6 1 6 0 6 1 6 0 6 1 6 2 6 2 6 2 6 1 6 2 6 3 6 2 6 3 6 3 6 2 6 1 6 3 6 2 6 1 6 1 6 0 6 0 6 1 6 2 6 2 6 2 6 1 6 2 6 1 6 3 6 1 6 2 6 1 6 1 6 1 6 1 6 0 6 4 6 3 6 0 6 3 6 2 6 0 6-1 6 1 6 3 6 1 6 2 6 1 6 2 6 1 6 3 6 4 6 5 6 2 6 0M996 -105l6 1 6 1 6-1 6 3 6-2 6 2M1200 -20l6 3 6 2 6 2 6 2 6 1 6 3 6 1 6 1 6 2 6 3M0 4l6-7 6-6 6-6 6-7 6-6 6-6 6-7 6-7 6-7 6-7 6-6 6-8 6-6 6-7 6-6 6-7 6-6 6-4 6-5 6-5 6-5M438 -248l6-4 6-1 6 1 6-2 6-2 6 0M492 -253l6 2 6-4M558 -267l6-1 6-1 6 0 6 1 6 0 6-3 6 2 6 3 6 1 6-1 6 0 6 4 6 1M720 -247l6 2 6 3 6 4 6 4 6 2 6 3 6 4 6 3 6 1M888 -178l6-1 6 1 6 2M1236 -10l6 2 6 3 6 1 6 4M0 4l6-5 6-5 6-8 6-7 6-6 6-7 6-6 6-8 6-7 6-7 6-6 6-8 6-7 6-7 6-7 6-6 6-8 6-7 6-7 6-7 6-7 6-6 6-6 6-5 6-6 6-3 6-7 6-6 6-7 6-5 6-2 6-4 6-4 6-3 6-5 6-3 6-3 6-2 6-1 6-2 6-4 6-1 6-2 6 2 6 2M414 -229l6 1 6-1 6-3 6-1 6-1 6 0 6 2 6 1 6 2 6-4 6-4 6-1 6 0 6 0 6-1M600 -237l6 2 6 2M696 -205l6 2 6 1 6 1 6 0 6 0 6 0 6 3 6 1 6 0 6-1 6 1 6 0M888 -189l6 2 6 0 6 1 6 3 6 3 6 3M954 -171l6 0 6 0 6 2 6 2 6 1 6 1 6 3 6 4 6 3 6 5 6 6 6 7 6 4M1086 -105l6 5 6 7M1218 -15l6 2 6 0 6 1 6 4 6-1 6 5 6 4M0 4l6-7 6-5 6-6 6-7 6-7 6-6 6-8 6-7 6-9 6-9 6-6 6-6 6-6 6-7 6-7 6-6 6-6 6-6 6-6 6-7 6-6 6-4 6-9 6-7 6-7 6-8 6-5 6-5 6-4 6-6 6-5 6-7 6-6 6-5 6-6 6-5 6-4 6-4 6-3 6-5 6-4 6-5 6-3 6-1 6 0 6-2 6-2 6-3 6-2 6-1 6-5 6 0 6-5 6 0 6 2 6-3 6 0 6-1 6-3 6-2 6-4 6-2 6-4 6-1 6 1 6-3 6 0 6 0 6-1 6-3 6 10 6 6M444 -279l6 1 6 1 6 1 6 1 6 3M600 -249l6 1 6 3M708 -250l6-2 6-2 6-1 6 4 6 0 6-1 6-4 6-4 6-3 6 0 6-2 6-2 6 1 6 3 6 3 6 2 6 0 6-2 6 3 6-3 6 0 6 4 6 4 6 3 6 4 6 2 6 3 6 0 6 1 6 3 6 4 6 4 6 3 6 3 6 0 6 3 6-1 6 1 6 6 6 3 6 5 6 2 6 4 6 4 6 2 6 4 6 1 6 4 6 5 6 4 6 5 6 3 6 5 6 3 6 3 6 4 6 4 6 5 6 2 6 3 6 4 6 6 6 3 6 4 6 3 6 4 6 4 6 5 6 4 6 6 6 5 6 5 6 4M1224 -25l6 4 6 3 6 4 6 6 6 5 6 3M0 4l6-3 6-8 6-8 6-5 6-7 6-6 6-7 6-6 6-6 6-6 6-7 6-7 6-8 6-7 6-6 6-7 6-5 6-5 6-4 6-7 6-4M360 -272l6-8 6-6 6-9 6-3 6-4 6-2 6 0 6-5 6-5 6 1 6 4 6 8 6 2 6 0 6 3 6-2 6-2 6 5 6 4 6-2 6-3 6 4 6 6 6-1 6 0 6 1 6 1 6-2 6 2 6 0 6 3 6 2 6 3 6 1 6 0 6 2 6-1 6 0 6 3 6 2 6 4 6 3 6 3 6 1 6 1 6-2M666 -261l6-2 6 2M690 -258l6 0 6-1 6 1 6 1 6-5 6-2 6 0 6 3 6-3 6 0 6 3 6 1 6 5 6 4 6 5 6-2 6 1 6 0 6 4 6 9 6 5 6 4 6 3 6 2 6 4M888 -187l6 3 6 1 6 2 6 1 6 2 6 2M1020 -107l6 5 6 5M1056 -82l6 5 6 4 6 3 6 1 6 1M1218 -15l6 3 6 1 6 2 6 2 6 2 6 3 6 2M0 4l6-3 6-6 6-5 6-5 6-1 6-6 6-6 6-7M60 -44l6-2 6-3 6-4 6-4 6-4 6-5 6-4 6-5 6-5 6-4 6-5 6-3 6-4 6-4 6-5 6-5M186 -134l6-6 6-8M378 -254l6-2 6-1 6-1 6-1 6-4 6-5M444 -275l6-2 6-3 6 1 6-3 6-1 6-3 6 0 6 4 6 0 6-3 6-1 6 1 6 0 6-1 6 1 6 2 6-2 6-3 6 2 6 5 6 2 6 3 6 4 6 7 6 4 6 5 6 2 6-2 6 0 6 3 6 0 6 2M738 -231l6-3 6-1 6 1 6-2 6-3 6 0 6 3 6 2 6 3 6-2 6 1 6 5 6 4 6 2 6-1 6-3 6-2 6 3 6 7 6 5 6 4 6 2 6 1 6 2 6 3 6 6 6 4 6 3 6 3 6 4 6 2M1224 -14l6 3 6 1 6 3 6 2 6 3 6 2M0 4l6-4 6-6 6-8 6-6 6-4 6-4 6-4 6-5 6-9 6-4M378 -256l6-2 6 0 6 1 6-1 6-1 6 0M450 -269l6-6 6-4 6-4 6 2 6 1M558 -272l6 6 6 1 6 2 6 3 6 2 6 1 6 1 6-1 6 2 6 0 6 3 6 4 6 0M738 -227l6 5 6 5 6 3 6 3M1236 -12l6 2 6 1 6 4 6 5M0 4l6-7 6 0 6-4 6-6 6-5 6-5 6-6 6-8M414 -215l6 0 6 1 6 0 6 1 6-1 6 0 6-1 6-1 6 1 6 0 6 0 6 0 6 0 6-1 6 1M576 -216l6 1 6 1 6 1 6 0 6 1 6 2M696 -196l6 2 6 3 6 2 6 1 6 3 6 0 6 1 6 1 6-4 6-2 6 0 6 0 6 2 6-1 6-1M888 -194l6-3 6 2 6-1 6-2 6 1 6 2 6 3 6 3 6 1 6 1 6 0 6-1 6 4 6 2 6 0 6 2 6 0 6 5 6 5 6 1 6 4 6 6 6 5 6 6 6 4 6 4 6 4 6 5M1086 -105l6 7 6 8M1236 -11l6 3 6 2 6 2 6 4M0 4l6-8 6-5 6-6 6-7 6-6 6-6 6-7 6-6 6-5 6-6 6-6 6-7 6-7 6-7 6-7 6-7 6-6 6-7 6-7 6-8 6-7 6-7 6-6 6-7 6-6 6-6 6-4 6-4 6-4 6-5 6-4 6-5 6-3 6-2 6-1 6-2 6-3 6-3 6-4 6 0 6-2M258 -218l6-6 6-4M372 -272l6-3 6-7 6-2 6-2 6-8 6 4 6 7M444 -277l6 0 6 0 6 1 6 0 6 0 6-1M504 -281l6-1 6 2M558 -275l6 1 6-1 6-2 6 4 6 2 6 0 6 3 6 3 6 0 6 3 6 0 6 4 6 6M750 -204l6 4 6 2 6 1M1230 -19l6 5 6 3 6 3 6 4 6 4M0 4l6-7 6-1 6-6 6-4 6-4 6-6 6-7 6-7 6-4M300 -191l6-5 6-6 6-4 6-2 6-4 6-1 6-1 6-3M414 -217l6-1 6-3 6 0 6 1 6 0 6-1 6 1 6-2 6 1 6-1 6 0 6 1 6-1 6 0 6 0M576 -219l6 0 6 0 6 0 6 1 6 0 6 1M696 -205l6 1 6 5 6 2 6 5 6 2 6 2 6 5 6 0 6-1 6 4 6 2 6 1 6 2 6 3 6 3 6 1 6 1 6 3 6 3 6 4 6 3 6 1 6-1 6 1 6 3 6 1 6 2 6-2 6 3M888 -138l6 1 6 1 6 3 6-1 6-1 6 0M996 -107l6 7 6 2 6 2 6 2 6 3 6-1 6 3 6 3 6 1M1230 -16l6 1 6 4 6 3 6 4 6 4M0 4l6-4 6-7 6-5 6-6 6-6 6-6 6-8 6-8 6-7 6-7 6-6 6-5 6-6 6-7 6-4 6-4M210 -189l6-9 6-4 6-3 6-6 6-4 6-4 6-6 6-6 6-4 6-6 6-6 6-5 6-3 6-2 6-1 6 1 6-1 6 0 6 3M378 -257l6 0 6 0 6-3 6-5 6-3 6-2M600 -237l6 2 6 4M696 -197l6 2 6-2 6 1 6 4 6 2 6 1 6 2 6 3 6 2 6-1 6 1 6 2 6 3 6 6 6 2 6-2 6 5 6 5 6 1 6 0 6 2 6 2 6 3 6 4 6 3 6 2 6 2 6 1 6 2 6 2M888 -135l6 1 6 3 6 3 6-1 6-1 6 1M942 -123l6 2 6 3 6 3 6-1M1020 -107l6 6 6 6M1224 -23l6 3 6 4 6 2 6 5 6 6 6 3M0 4l6-5 6-6 6-7 6-5 6-5 6-6 6-4 6-6 6-5 6-5 6-8 6-4M378 -255l6-3 6 0 6 1 6 1 6 0 6 3M438 -248l6 4 6 1 6 0 6 0 6 0 6 0 6 2 6 2 6 2 6 0 6-1M582 -249l6-3 6-4 6-3 6 2 6 2 6-1 6 6 6 2 6 2M738 -216l6 2 6 3 6 6 6 3 6 0M954 -168l6 1 6 4 6 0 6 2 6 0 6 4 6-1 6 2 6 2 6 4 6 3 6 2 6 2 6 1 6 4 6 5M1086 -113l6 5 6 2 6 3 6 4 6 2 6 3M1236 -12l6 3 6 3 6 2 6 4M0 4l6-4 6-3 6-4 6-6 6-6 6-4 6-7 6-6M72 -64l6-10 6-8 6-7 6-7 6-8 6-9 6-6 6-5 6-7 6-4 6-5 6-6 6-7 6-6 6-6 6-5 6-4 6-3 6-6 6-4 6-4 6-6 6-4 6-5 6-4 6-5 6-5 6-4 6-6 6-4 6-3 6-1 6-2 6-3 6-4 6-3 6-4 6-2M312 -253l6-4 6-2 6-4 6 0 6 1M378 -270l6 1 6 3 6-3 6 1 6-2 6-3M444 -274l6-3 6-3 6 3 6 0 6-1 6 1M558 -273l6 0 6-2 6 1 6 0 6-1 6-2 6 0 6 1 6 1 6 5 6 3 6 1 6-2 6 2 6 2 6 4M738 -223l6 2 6 1 6 1 6-1 6-1 6 2M888 -188l6 0 6 0 6 5 6 3 6-1 6 2M954 -160l6 1 6 2M1086 -114l6 5 6 7 6 7M1224 -23l6 3 6 6 6 2 6 3 6 3 6 6M0 4l6-4 6-3 6-4 6-4 6-3 6-4 6-6 6-5 6-6 6-5 6-6 6-4 6-6M234 -194l6-3 6-7M258 -214l6-5 6-4M342 -261l6-5 6-4 6-3 6-2 6-6 6-1 6-1 6-6 6-4 6-2 6-4 6-2 6 0 6-2 6 5 6 2 6-2 6-1 6 4 6 1 6-6 6 1 6 2 6 1 6 0 6-3 6 2 6 4 6 2 6 4 6 2 6-2 6 3 6 2 6 2 6 4 6 5 6 3 6-1 6-1 6 2 6 5 6 2 6 2 6 4 6 2 6 3 6 2 6-1M738 -206l6 4 6 4 6 7 6 8 6 4 6-1 6 2 6 3 6 0 6-1 6 0 6 6 6 2 6 3 6-1 6 2M1020 -108l6 4 6 4M1230 -17l6-1 6 3 6 4 6 4 6 7M0 4l6-6 6-6 6-5 6-3 6-6 6-5 6-8 6-4 6-5 6-5M438 -250l6 2 6 0 6-2 6 1 6-1 6 1 6-3 6-1 6 0 6 3 6 3M696 -207l6 6 6 5 6 2 6 2 6-2 6 2 6 2 6-1 6 1 6 3 6-2 6-1M888 -182l6 3 6 1 6 3M1230 -19l6 3 6 5 6 5 6 2 6 4M0 4l6-3 6-4 6-5 6-6 6-5 6-6 6-3 6-3 6-4 6-4 6-5 6-5 6-6 6-5M396 -248l6-4 6-3 6-2M558 -252l6 1 6 2M888 -194l6 3 6 2 6 2 6 5 6 2 6 4M954 -165l6 4 6 3M1188 -52l6 5 6 6M1224 -24l6 3 6 5 6 2 6 6 6 4 6 4M0 4l6-3 6-7 6-2 6-6 6-3 6-6 6-8 6-6M324 -218l6 4 6-3M438 -243l6-3 6 4 6 0 6-4 6 3 6-2 6-4 6 1 6-4 6 0 6 0M558 -262l6-1 6 3 6 1 6 4 6 1 6-4 6 1 6 0 6-2 6 0 6 2 6-1 6-2M690 -254l6 1 6 3M720 -242l6 1 6 0 6 2 6 2 6 4 6 2 6 3 6 0 6 2M888 -196l6 2 6 3 6 2 6 4 6 0 6 3M954 -169l6 6 6 4 6 5M1224 -23l6 1 6 2 6 4 6 5 6 5 6 6M0 4l6-5 6-3 6-7 6-4 6-1 6-5 6-4 6-5 6-6M192 -182l6-6 6-6 6-3 6-4 6-2 6-2 6-2 6 0 6-4M258 -218l6-5 6 3M378 -254l6-1 6-1 6-4 6-6 6-1 6-1M444 -274l6-3 6 0 6-5 6 3 6 4 6 1M510 -281l6-1 6-3 6-2 6 0 6-2 6 1 6 0 6 3 6 1 6 1 6 1 6-1 6 0 6-3 6 2 6-4 6-9 6-6 6-3 6-1 6 0 6 1 6 3 6 6 6 2 6 1 6 3 6 3 6-2 6-2 6 6 6-4 6 0 6 6 6 7 6 4 6-3 6-2 6 2 6 2 6 3 6 3 6 6 6 4 6 5 6 4 6 8 6 3 6 4 6 3 6 3 6 2 6 5 6 4 6 2M858 -216l6 6 6 6M888 -195l6 3 6 4 6 1 6 2 6 1 6-1M942 -184l6 1 6 1 6 2 6 4 6 4 6 1 6 0 6 2 6 3 6 5 6 5 6 3 6 5 6 6 6 3 6 3 6 6M1236 -13l6 2 6 4 6 4 6 3M0 4l6-6 6-7 6-5 6-6 6-4 6-2 6-5 6-6M378 -274l6-3 6 0 6-4 6-1 6 2 6 2M702 -210l6 3 6 3 6 4 6 7 6 4 6 0 6 6 6 3 6 3 6 2 6 1 6 2 6 3 6 3 6 2 6-1 6 2 6-2 6-1 6 5 6 1 6 4 6 3 6 3 6 2 6 2 6 2 6 0M906 -140l6 1 6 1 6 3M1008 -106l6 6 6 3 6 1 6 4M1218 -27l6-1 6 4 6 5 6 6 6 4 6 4 6 5M0 4l6-7 6-1 6-2 6-4 6-4 6-5 6-5 6-4 6-4 6-5 6-5 6-4 6-5 6-5 6-3 6-4 6-4 6-5 6-3 6-4 6-4 6-3 6-4 6-4 6-3 6-5 6-5 6-5 6-5 6-6 6-3 6-4 6-5 6-3 6-5 6-7M534 -278l6 2 6 0 6 0 6 2 6 1 6 1 6-1 6-1 6 4 6 3 6-2 6 1 6 0 6 0 6-1 6-2 6-1 6 1 6 3 6 2 6 3 6-1 6 2M690 -258l6 2 6 3 6 2 6 5M726 -239l6 0 6 4 6 7 6 5 6 3 6 3 6 5M996 -99l6 1 6 2 6 2 6 2 6 1 6 2M1236 -13l6 3 6 1 6 6 6 3M0 4l6-4 6-3 6-4 6-4 6-4 6-5 6-9 6-4M186 -128l6-2 6-3 6-3 6-4 6-3 6-5 6-4 6 0 6-2 6-3 6-3 6-5 6-7 6-2 6-2M300 -190l6-1 6-2 6-3 6-1 6-1 6-2 6 1 6-1 6-1 6-2M384 -204l6 2 6-2 6-1 6-3 6-2 6-3 6 0 6-1 6 1 6 1 6-1 6 0 6-2 6-3 6-1 6-1 6-2 6-1 6-1 6 0M588 -236l6 1 6 3 6 1 6 2M738 -225l6 4 6 4 6-1 6 3 6 4M1188 -49l6 1 6 3 6 3 6 2 6 3 6 4 6 5 6 5 6 6 6 5 6 6 6 6M0 4l6-3 6-4 6-6 6-4 6-3 6-4 6-5 6-5 6-6 6-3 6-4 6-4 6-5 6-5 6-5 6-5 6-5 6-4 6-5 6-4 6-3 6-6 6-4M234 -191l6-7 6-2M438 -249l6 1 6 2 6 1 6 1 6 3 6-1 6-1 6 1 6 1 6 1 6 1M732 -238l6 0 6 1 6 3 6 1 6 1 6 4 6 2M888 -189l6 2 6-1 6 5 6 5 6 2M1212 -34l6 2 6 6 6 5 6 3 6 1 6 6 6 8 6 3M0 4l6-6 6-3 6-6 6-7 6-7 6-7 6-7 6-7 6-8 6-6 6-7 6-6 6-6 6-6 6-5 6-5 6-2M396 -250l6-2 6 1 6-3M534 -281l6 1 6 0 6 5 6 2 6 2 6-1 6 1 6 1 6 0 6 0 6-2 6 1 6 1 6 1 6-1 6 0 6 1 6 0 6 5 6 0 6 3M738 -233l6 0 6 3 6 2 6 4 6 5 6 4M888 -192l6 3 6-1 6 2 6 3 6 7 6 4M954 -165l6 0 6 2 6 5M1206 -39l6 2 6 4 6 4 6 5 6 7 6 4 6 5 6 5 6 3M0 4l6-7 6-5 6-4 6-8 6-5 6-3 6-7 6-5 6-5 6-3M288 -180l6 1 6-2 6-2 6-2 6 0 6-2 6-4 6 0 6-1 6-1 6 0 6-1 6-3M384 -205l6-2 6-2 6-1 6-1 6-4 6-6 6-2 6-2 6-4 6-3 6-3 6 0 6 1 6 1 6-1 6 1 6 0 6-1 6-2 6-3M888 -186l6 2 6 2 6 1 6 1 6 4M954 -166l6 0 6 1 6 0 6 3 6 3 6 2 6 5 6 4 6 4M1020 -139l6 1 6 5M1188 -55l6 4 6 6 6 4 6 5M1236 -10l6 3 6 3 6 3 6 1M0 4l6-4 6-8 6-3 6-5 6-6 6-7 6-8 6-8 6-7 6-7 6-7 6-6 6-5 6-4 6-4M378 -261l6 1 6 0 6 1 6 1 6-2 6 2M444 -259l6 3 6-2 6 1 6 3 6 1M582 -249l6-2 6 0 6 2 6 2 6-1 6 1 6-2 6 0 6-2M738 -219l6 3 6 3M816 -218l6-2 6 1 6 2 6 1 6 0 6-2 6-1 6-1 6 3 6 6 6 3 6 4 6 1 6 0 6 9 6 6 6 3 6 4M972 -157l6 0 6 2M1188 -52l6 4 6 4 6 4M1224 -25l6 4 6 7 6 3 6 2 6 4 6 5M0 4l6-6 6-5 6-5 6-2 6-8 6-8 6-6 6-6 6-5 6-4 6-4M168 -122l6-1 6 0 6-2 6-3 6-2 6-3 6-5 6-6 6-5 6-3 6-6M420 -239l6 5 6-3 6-2 6 4 6-3 6-2 6-4 6-3 6 0 6-1 6 3 6 2 6-3 6-1M696 -201l6 3 6-1 6 6 6 5 6 2 6 1 6 1 6 2 6 3 6 1 6-2 6 2 6 0 6-1 6 2 6 3 6 1 6 6 6 3 6 0 6 0 6 0 6 0M852 -160l6 3 6 0M912 -141l6 3 6 4M942 -125l6 5 6 4 6 4 6 5 6 3 6 2M996 -100l6 1 6 0 6-1 6 1 6 5 6 3M1104 -60l6 5 6 4 6 4 6 1 6 4 6 3 6 3 6 3 6 3 6 1 6 3 6 2 6 2 6 2 6 3 6 2 6 1 6 1 6 1 6 1 6 1 6 1 6 0 6 3 6 2 6 4M0 4l6-3 6-2 6-4 6-5 6-4 6-5 6-6 6-7M378 -270l6-3 6-1 6-1 6 1 6 1 6-2M444 -277l6 1 6 3 6 1M558 -254l6-2 6-2 6-2 6-4 6 1 6 1 6 3 6 3 6 2 6 3 6 2 6 2 6-1M738 -232l6 0 6-2 6-1 6 3 6 5 6 8M858 -207l6-1 6 3 6 1M888 -196l6 4 6 4 6 2 6 2 6 5 6 5M1212 -31l6-1 6 3 6 5 6 5 6 4 6 4 6 4 6 7M0 4l6-8 6-6 6-5 6-6 6-6 6-6 6-6 6-6 6-3 6-6 6-6 6-8 6-6 6-7 6-6 6-5M204 -190l6-6 6-5 6-4 6-5 6-5 6-5 6-8 6-4 6-3 6-2 6-2 6-3 6-3 6-1M438 -241l6-1 6-3 6 0 6 0 6-2 6-2 6 1 6 1 6-1 6-1 6-1M558 -250l6-4 6 0 6 4M696 -202l6 1 6 0 6 1 6-1 6 2 6 1 6-1 6 3 6 0 6 0 6 3 6 2M1224 -24l6 4 6 4 6 3 6 6 6 2 6 5M0 4l6-5 6-3 6-7 6-7 6-4 6-10 6-5 6-7 6-8 6-7 6-7 6-8 6-7 6-5 6-6 6-6 6-6 6-5 6-6 6-4 6-6M216 -190l6-7 6 0 6-2 6-2 6-1M414 -227l6 2 6-1 6-3 6 0 6-1 6 2 6 4 6 2 6-1 6 0 6 0 6 1 6 1 6 0 6 0M528 -215l6 2 6 0 6-1 6 0 6 1 6 1 6 0 6 0 6 1 6 1 6 0 6 1 6 1 6 1 6 1 6 1 6 2 6 1 6 1 6 1 6 2 6 2 6 2 6 3 6 2 6 0 6 2 6 2 6 3 6 3 6 1 6 2 6 2 6 3 6 1 6 2 6 2 6 3 6 3 6 3 6 4 6 4 6 1 6 1 6 3 6 2 6 2 6 3 6 0 6 2 6 1 6 1 6 0 6 3 6-1 6 2 6 1 6-1 6 0 6-1 6 0 6 2 6 2 6 1 6-1 6 3 6 2 6-1 6 1 6 4 6 2 6 3 6 2 6 2M990 -99l6 3 6 2 6 3 6 4 6 4 6 3 6 2 6 0 6 0 6 0 6 2 6 3 6 4 6 2 6 1 6 2M1104 -57l6 3 6 2 6 1 6 4 6 2 6 4 6 3M1206 -18l6 3 6 1 6 1 6 1 6 1 6 2 6 3 6 1 6 5M0 4l6-3 6-4 6-7 6-6 6-5 6-8 6-7 6-5 6-5 6-2M96 -70l6-3 6-4 6-5M162 -118l6-3 6-4 6-5 6-6 6-3 6-2 6-3M264 -171l6-3 6-4M300 -188l6-5 6-1 6 0 6-4 6-4 6-3 6 2 6-1 6-3 6-4M414 -215l6 0 6-1 6 0 6 0 6-1 6-2 6-1 6-1 6-1 6-1 6-2 6-2 6 0 6-1 6-3M600 -253l6 1 6 0 6-3 6 2 6 2 6-1M738 -221l6 3 6 4 6 4M804 -176l6 4 6 3 6 2 6 4 6 3 6 3 6 0 6 2 6 4 6 1 6 2M888 -141l6 4 6-1 6 4 6 3 6 1 6 4M948 -123l6 6 6 1 6 0M1086 -107l6 3 6 4 6 3 6 5M1236 -11l6 2 6 3 6 4 6 2M0 4l6-5 6-3 6-3 6-4 6-5 6-4 6-4 6-6 6-4 6-6 6-6 6-4 6-4 6-3 6-5 6-3 6-5 6-4 6-5 6-5 6-2 6-5 6-7M162 -114l6-4 6-7 6-5 6 1 6-5 6-4 6-6M234 -155l6-3 6-3 6-2 6-4 6-3 6-5 6-5M300 -190l6-3 6-2 6-2 6-1 6-2 6-3 6-3 6 0 6-1 6-2M414 -226l6 0 6 0 6-1 6-1 6-2 6 0 6-1 6-1 6 3 6 2 6 2 6 0 6 0 6 1 6-2M576 -217l6 1 6 1 6 0 6 2 6 2 6 1M648 -203l6 2 6 2 6 2 6 2 6 2 6 2 6 1 6 2 6 2 6 1 6 4 6 3 6 3 6 3 6 3 6 3 6 3 6 1 6 2 6 1 6 1 6 1 6 3 6 2 6 2 6 4 6 1 6 1 6 0 6 1 6 3 6 2 6 2 6 1 6 3 6 0 6 0 6-1 6 0 6 3 6 2 6 3 6 1 6 1 6 1 6-2M1020 -107l6 3 6 3M1086 -98l6-1 6 2 6 1M1122 -94l6 1 6 3 6 1 6 2 6 5 6 4 6 3 6 5 6 4 6 5 6 6 6 5 6 4 6 5 6 4 6 5 6 3 6 4 6 6 6 9 6 5 6 3 6 2M0 4l6-3 6-4 6-3 6-5 6-4 6-5 6-4 6-5 6-4 6-6 6-5 6-5 6-5 6-3 6-5 6-4 6-5 6-5 6-4 6-5 6-2 6-5 6-3 6-5 6-4 6-5 6-4 6-5 6-7 6-10M330 -262l6-6 6-1 6-2 6-5 6-3 6-3 6-4 6-9 6-2 6-1 6-5 6-3 6-8 6-4 6 2 6-1 6-3 6-5 6-4 6-1 6-9 6 1 6 13 6 2 6-2 6-1 6 3 6 1 6-1 6 3 6 0 6 3 6-2 6-2 6 6 6 2 6-2 6-1 6 3 6-4 6-2 6 4 6 6 6 4 6-1 6 3 6-1 6-3 6-1 6-1 6-1 6 0 6 3 6 3 6 3 6 0 6-4 6 2 6 2 6 3 6 0 6 8 6 6 6 6 6 7 6 5 6 4 6 3 6 3 6 1 6 7 6 5 6 3 6-1 6-4 6 4 6 0 6 1 6-1 6 0 6 0 6 0 6 2 6 7 6 5 6 2 6 6 6 3 6 1 6 5 6 0 6 3 6 4 6 3 6 2 6 5 6 3 6 3 6 4M1224 -24l6 3 6 3 6 6 6 3 6 4 6 5M0 4l6-3 6-4 6-6 6-5 6-6 6-7 6-8 6-6 6-4 6-6 6-4M438 -239l6 2 6 5 6 1 6-1 6-3 6 3 6 2 6 1 6 1 6-2 6 0M576 -218l6 1 6 1 6 0 6 0 6 2 6 1M696 -194l6 2 6 2 6 2 6 2 6 2 6 1 6 1 6 2 6 1 6 2 6 1 6 1 6-1 6-1 6 0 6 0 6-1M954 -180l6 1 6 0 6 5 6 1 6 5 6 3 6 3 6 3 6 3 6 5 6 1 6 5 6 3 6 2 6 2 6 3 6 2M1086 -114l6 7 6 5 6 5 6 4M1194 -46l6 4 6 5M1224 -25l6 1 6 2 6 5 6 5 6 6 6 6M0 4l6-7 6-5 6-5 6-6 6-4 6-5 6-5 6-3M384 -248l6-4 6-4 6-4 6-3 6 0M444 -273l6-3 6-3 6 0 6 2 6 0 6-1M504 -281l6-1 6 0 6 0 6-1 6-1 6 0 6-3 6 1 6 0 6 1 6 2 6 6 6 7 6-1 6-2 6-2 6-1 6 0 6 4 6-1 6 3 6 1 6 0 6 4 6 4M732 -235l6 0 6 0 6 4 6-1 6 3 6 4 6 1M888 -195l6 5 6 2 6 1 6-3 6 1 6 4M954 -168l6 7 6 3M1224 -24l6 3 6 2 6 1 6 6 6 6 6 6M0 4l6-7 6-6 6-5 6-7 6-6 6-7 6-6 6-9 6-7 6-7 6-6 6-8 6-8 6-7 6-6 6-5 6-4 6-6 6-5 6-6 6-6 6-5 6-5 6-6 6-5 6-3M180 -177l6-4 6-5 6-2 6-1M234 -195l6-2 6 0M438 -246l6 2 6 0 6-2 6 0 6 1 6 1 6-2 6-1 6 1 6-1 6 0M582 -236l6 1 6 0 6 0 6-3M696 -199l6 0 6 2 6 3 6 0 6 2 6 0 6 1 6 1 6 4 6 1 6 3 6 5 6 4 6 2 6 3 6 3 6 3 6 4 6 2 6 3 6 3 6 3 6 3 6 1 6 0 6 2 6 2 6 3 6 2 6 1 6 2 6 3 6 4 6 1 6 3 6-1 6 4 6 2 6 1 6 5 6 1 6 1 6 2 6-1 6 0 6 1M996 -99l6 2 6 2 6 2 6 2 6 2 6 3 6 1 6 3 6 1 6 4 6 1 6 1M1236 -13l6 1 6 4 6 4 6 4M0 4l6-3 6-4 6-3 6-4 6-4 6-5 6-4 6-5 6-5 6-6 6-5 6-6 6-5 6-5M438 -241l6-1 6-1 6 0 6-1 6 0 6 2 6 1 6 1 6-3 6-3 6-1M576 -225l6 0 6 3 6 1 6 2 6 0 6 2M696 -197l6 0 6-2 6 3 6 0 6 0 6-1 6 1 6 0 6 2 6 5 6 5 6 6 6 5 6 3 6 3 6 2 6 2 6 2 6 3 6 0 6 1 6 4 6 1 6 1 6 2 6 0 6 1 6 4 6 1M888 -135l6 1 6 1 6 1 6 1 6 0 6 0M942 -125l6 5 6 5 6 3 6 3 6 4 6 3 6 4 6 4 6 2 6 4 6 3 6 5 6 1 6 1 6 0 6 3 6 2 6 0 6 1 6 1 6 0M1236 -11l6 2 6 3 6 2 6 4M0 4l6-8 6-6 6-7 6-7 6-7 6-7 6-6 6-7 6-6 6-7 6-10 6-6 6-6 6-6 6-7 6-6 6-7 6-5 6-8 6-6 6-6 6-5 6-5 6-4 6-6 6-3 6-4 6-4M180 -176l6-5 6-6 6-5 6-5 6-5 6-6 6-5 6-6 6-4 6-6 6-5 6-7 6-5 6-7 6-3 6-5 6-7 6-9 6-6 6-6 6-5 6-4 6-7 6-1 6-2 6-6 6-6 6-4 6-3 6-6 6 3 6 0 6-2 6-1 6-1 6 2 6-1 6 5 6 3 6 7 6 5 6 8 6 7 6 4 6-2 6 0 6 7 6 5 6-3 6 3 6 2M558 -267l6 2 6 0 6-1 6 2 6-2 6-4 6-1 6-1 6-1 6 0 6 0 6 0 6-1 6 0 6-5 6-4 6-3 6-1 6 1 6-5 6 0 6-4 6-1 6-2 6 1 6-2 6-3 6 0 6 2 6 4 6-2 6-3 6-4 6 6 6 6 6 4 6 5 6 5 6 2 6 3 6 5 6 4 6 0 6 0 6 6 6-1 6 7 6 6 6 5 6 1 6 2 6 2 6 1 6 6 6 5 6 3 6 6 6 5 6 4 6 7 6 9M954 -168l6 6 6 3 6 2M990 -153l6 4 6 5M1224 -20l6 0 6 2 6 7 6 2 6 3 6 6M0 4l6-7 6-2 6-2 6-4 6-4 6-5 6-5 6-5 6-5 6-5 6-6 6-6 6-9M378 -264l6-2 6-1 6 1 6-3 6 1 6 3M474 -253l6 2 6 3 6-1 6-1 6 3M576 -229l6 0 6-1 6 2 6 1 6 1 6 3M738 -228l6 1 6 5 6 1 6 1 6 3 6 3M888 -185l6 3 6-2 6 0 6 0 6 0 6-1M942 -183l6-2 6 0 6 3 6 0 6 0 6 1 6 1 6 1 6 4 6 5 6 2 6 6 6 6 6 6 6 4 6 5 6 6 6 5M1206 -18l6 3 6 1 6 2 6 1 6 3 6 1 6 2 6 3 6 2M0 4l6-5 6-2 6-3 6-4 6-4 6-4 6-5 6-4 6-4 6-4 6-4 6-5 6-4 6-4 6-3 6-3 6-5 6-4 6-2 6-3 6-3 6-4 6-3 6-2 6-4 6-4 6-4 6-6 6-5 6-6 6-6 6-4 6-6 6-4 6-4 6-1 6-5 6-5 6-4 6-6 6-6M300 -195l6 1 6-1 6-2 6-1 6-4 6-1 6-2 6 2 6 1 6 2M414 -224l6 1 6 0 6 1 6 0 6 0 6-2 6 2 6 0 6 0 6-1 6-2 6-3 6-3 6-1 6-1M576 -221l6 2 6 2 6 1 6 1 6 1 6 2M654 -202l6 3 6 3M678 -194l6 1 6 2 6 2 6 2 6 2 6 1 6 4 6 4 6 3 6 3 6 3 6 2 6 3 6 2 6 2 6 2 6 2 6 2 6 0 6 3 6 4 6 2 6 2 6 2 6 1 6-1 6 2 6 2 6 1 6 1 6 1 6 3 6 2 6 2 6 2 6 1 6 5 6 2 6 2 6 3 6 3 6 6 6 3 6 3 6 0 6 3 6 2 6 3 6-1 6 3 6 2 6 2 6 2 6 3 6 3 6 2 6 2 6 2 6 1 6 4 6 2 6 2 6 2 6 2 6 2 6 1 6 3 6 2 6 0 6 2 6 1 6 1 6 3 6 3 6 2 6 1 6 2 6 1 6 1 6 2 6 0 6 0 6 2 6 1M1200 -18l6 1 6 2 6 2 6 1 6 2 6 2 6 1 6 2 6 3 6 2M0 4l6-3 6-8 6-5 6-5 6-6 6-7 6-5 6-1M90 -85l6-10 6-5M234 -193l6-4 6-4M378 -258l6-3 6-3 6-2 6-4 6-4 6 1M444 -279l6-1 6 0 6 1 6 0 6-2 6-2M558 -262l6 0 6 0 6 3 6 5 6 3 6 1 6 2 6 0 6 2 6-1 6-1 6-2 6-1M702 -251l6-1 6 3 6 0 6-1 6 1 6 4 6-1 6 2 6 1 6 5 6 5 6 5M888 -182l6 3 6 0 6 4M1206 -37l6 0 6 4 6 4 6 5 6 4 6 4 6 6 6 6 6 4M0 4l6-7 6-3 6-5 6-6 6-4 6-6 6-7 6-3 6-6 6-8 6-6M114 -107l6-13 6-8 6-5 6-5M216 -196l6-5 6-6 6-2 6-3 6-1M258 -218l6-2 6-5M420 -238l6 3 6-1 6 1 6-1 6-2 6 3 6-2 6 0 6 3 6-1 6 1 6 3 6-2 6 1M576 -222l6 1 6 2 6 2 6 1 6 1 6 2M654 -202l6 2 6 1M696 -193l6 2 6 2 6 1 6 3 6 3 6 2 6 2 6 2 6 1 6 1 6 0 6 1 6 2 6 2 6 1 6 1 6 2 6 2 6 0 6-4 6-3 6 0 6 1M1194 -44l6 2 6 6M1230 -17l6 3 6 3 6 4 6 3 6 4M0 4l6-3 6-6 6-6 6-6 6-8 6-7 6-6 6-5 6-6 6-4 6-5 6-4M186 -140l6-3 6-4M234 -156l6-1 6-2 6-2 6-2 6-5 6-6 6-4M300 -191l6-4 6-4 6-5 6-3 6-2 6-2 6-3 6 0 6-1M384 -208l6 3 6-1 6 1 6 3 6 0 6-1 6-3 6-2 6-4 6-1 6-1 6-1 6-3 6 0 6 0 6 0 6 0 6-1 6-2 6-1M576 -216l6 2 6 1 6 2 6 1 6 1 6 1 6 0 6 2 6 1 6 1 6 0M696 -196l6-2 6 2 6 0 6 2 6 0 6-1 6 1 6 1 6 2 6 2 6-3 6-2M888 -195l6 0 6 1 6 0 6 3 6 1 6 4M954 -179l6 3 6 1 6 3 6 2 6 4 6 4 6 3 6 0 6 2 6 6 6 4 6 4 6 3 6 5M1086 -104l6 5 6 4M1236 -11l6 1 6 5 6 2 6 3M0 4l6-4 6-5 6-4 6-10 6-7 6-6 6-7 6-6 6-6 6-8 6-6 6-8 6-6 6-4 6-6 6-1M210 -194l6-5 6-7 6-6 6-5 6-5 6-3 6-1 6 0 6-1 6-6 6-5 6-3 6-4 6-9 6 0 6 0 6-5 6-4 6-2 6-3 6-3 6-2 6 1 6-2 6-2 6-4 6-6 6-9 6-4 6-8 6 1 6 0 6-7 6 0 6 0 6 1 6 4 6 2 6-2 6-1 6 3 6-1 6-3 6 2 6 5 6 5 6 4 6 0 6 2 6 4 6 2 6 3 6-1 6-1 6-2 6 0 6 3 6 1 6-4 6-2 6 0 6 4 6 1 6 1 6 4 6-2 6 2 6 0 6-1 6-6 6 1 6 1 6-3 6 0 6-3 6 0 6 3 6 1 6 2 6 1 6 0 6 3 6 2 6 0 6 3 6 0 6 2 6 1 6 1 6 2 6 3 6 1 6 0 6 4 6 5 6 1 6 1 6 0 6 5 6 1 6 2 6 6 6 5 6 2 6 1 6 4 6 3 6 2 6-1 6-1 6 2 6 5 6 2 6 6 6 5 6-1 6 0 6-1 6 2 6 2 6 4 6 3 6 3 6 2 6 1 6 3 6 2 6 4 6 3 6 3 6 0 6 2 6 3 6 2 6 3 6 5 6 3 6 3 6 1 6 4 6 3 6 5 6 6 6 5M1086 -122l6 2 6 4 6 5 6 6 6 4 6 4 6 4 6 5 6 3 6 2 6 3 6 4 6 4 6 3 6 2 6 4 6 5 6 6 6 5 6 6 6 3 6 6 6 6 6 5 6 4 6 3 6 7 6 3 6 4M0 4l6-6 6-6 6-6 6-5 6-6 6-7 6-7 6-7 6-4 6-3 6-6 6-7 6-10 6-7 6-5 6-6 6-7M210 -193l6-4 6-4 6-6 6-5 6-2 6-6 6-4 6-2 6-2 6-4 6-2 6-2 6 1M378 -272l6 0 6 0 6-1 6 1 6-1 6-2M558 -255l6 4 6 5M582 -237l6 4 6 3 6 7 6 2 6 0M696 -196l6 2 6 1 6 2 6 3 6 1 6 0 6 1 6-1 6-3 6-2 6 1 6 1 6 1 6 1 6 1M1218 -31l6 4 6 6 6 5 6 6 6 4 6 3 6 3M0 4l6-7 6-5 6-6 6-6 6-6 6-6 6-6 6-7 6-6 6-7 6-2 6-3M456 -258l6 5 6 1 6 1 6 0 6-1 6-2M558 -261l6 1 6-3 6-1 6 0 6 3 6 2 6 4 6 5 6 3 6 3M738 -230l6-1 6 0 6-4 6 1 6 1 6 0 6 1 6-1 6 0 6 2 6-2 6 0 6 2 6 3 6-1 6-5 6 0 6 1 6 1 6 3 6-1 6-2 6 4 6 3 6 3 6 3 6 4 6 3 6 4 6 3 6 2 6 1 6 3 6 2 6 3 6-2 6 0 6 4 6 2 6 2 6 2 6 4 6 3 6 1 6 1 6 3 6 5 6 5 6 4 6 3 6 4 6 5 6 3 6 3 6 3 6 4 6 1 6 4 6 4 6 5 6 4 6 6 6 3 6 3 6 6 6 5 6 4 6 5 6 4 6 3 6 4 6 4 6 4 6 3 6 4 6 5 6 5 6 6 6 6 6 5 6 8 6 1 6 4 6 8 6 5 6 1 6 5M0 4l6-6 6-5 6-5 6-5 6-7 6-4 6-10 6-7 6-6 6-7 6-5 6-8 6-6 6-7 6-6 6-7 6-8 6-7 6-6 6-7 6-6 6-5 6-6 6-5 6-5 6-6 6-4 6-4 6-8 6-5 6-4 6-5 6-2 6-3 6-3 6-5 6-5 6-1 6-2 6-2 6-3 6-4 6-3 6 1 6 0M414 -232l6-1 6-3 6-1 6-1 6 2 6 2 6 3 6 0 6 1 6 0 6 0 6 1 6-1 6 0 6 0M576 -221l6 1 6 1 6 0 6 0 6 0 6 2M696 -203l6 2 6 2 6 1 6 2 6 2 6 0 6 0 6-3 6 0 6 4 6 3 6 2 6 2 6-2 6-1M822 -178l6 5 6 4M1236 -11l6 3 6 2 6 3 6 3M0 4l6-3 6-3 6-4 6-4 6-6 6-5 6-6 6-6M222 -195l6-7 6-6 6-5 6-2 6-3 6-4 6-2 6-4M342 -259l6-4 6 1M378 -268l6 2 6-1 6 2 6 1 6 0 6-1M558 -271l6 1 6 2 6 2 6 2 6-2 6 3 6 4 6 1 6 1 6 1 6 3 6 2 6 2M738 -228l6 2 6 3 6-1 6-1 6 4 6 6M1230 -19l6 3 6 4 6 1 6 4 6 7M0 4l6-7 6-4 6-7 6-5 6-7 6-7 6-8 6-7 6-7 6-5 6-6 6-6 6-5 6-5 6-7 6-7 6-7 6-6 6-5 6-4 6-4M378 -262l6-2 6-2 6 0 6-1 6 1 6-2M468 -272l6-2 6-2M504 -281l6-5 6-4 6 1 6 3 6 0 6 5 6 0 6 0 6-1 6 1 6-2 6-1 6-5 6-3 6 0 6 1 6 5 6 0 6-3 6-6 6 2 6 4 6 1 6 2 6-1 6 3 6 0 6 1 6-3 6-7 6-2 6 1 6 0 6 1 6 2 6 2 6 2 6 5 6 4 6 3 6 3 6 1 6 5 6 1 6 0 6 1 6 1 6 3 6 2 6 0 6-3 6 3 6 4 6 6 6 4 6 2 6 2 6 1 6 2 6 1 6 1 6-1 6 2 6 2 6 2 6 2 6 5 6 0 6 4 6 3 6 1 6 4 6 4 6 3 6 5 6 5 6 6 6 4 6 2 6 2 6 5 6 5 6 6 6 5 6 3 6 6 6 2 6 4 6 4 6 4 6 4M1086 -106l6 3 6 2 6 4 6 1M1134 -87l6 1 6 2 6 3 6 0 6 2 6 4 6 3 6 6 6 6 6 4 6 4 6 5 6 6 6 2 6 5 6 5 6 4 6 5 6 6 6 7 6 7M0 4l6-7 6-5 6-3 6-6 6-6 6-5 6-4 6-6 6-9 6-7 6-6 6-3M84 -79l6-9 6-5 6-8 6-8 6-8 6-7 6-7 6-7 6-7 6-5 6-5 6-4 6-4 6-4M180 -175l6-4 6-5 6-4 6-5 6-4 6-2 6-4 6-4 6-4 6-2 6-2 6-4 6-5 6-2 6-4 6-4 6-2 6-4M342 -261l6-4 6-2M372 -274l6-1 6 1 6-3 6-5 6 4 6 1 6 3M444 -274l6-4 6 0 6 1 6-2 6 0 6 2M558 -269l6-3 6-3 6 2 6 0 6 2 6 3 6 2 6 0 6 4 6 2 6 0 6 1 6-2M738 -234l6 1 6 2 6 6 6 6 6 1 6 2M888 -189l6 0 6 2 6 2 6 0 6 1 6 1M954 -168l6 3 6 2 6 6M1218 -28l6 1 6 2 6 4 6 7 6 3 6 6 6 5M0 4l6-4 6-3 6-4 6-4 6-4 6-3 6-4 6-4 6-4 6-3 6-5 6-4 6-5 6-5 6-5 6-3 6-5 6-5 6-5 6-4 6-4 6-6 6-5 6-5 6-4 6-5 6-4 6-4 6-6 6-4 6-5 6-6 6-4 6-4M252 -169l6 0 6-1 6-4 6-8M300 -201l6-2 6-2M324 -211l6 0 6-2 6-2M414 -225l6-6 6-3 6-3 6-1 6-2 6-1 6-4 6-4 6-3 6-5M558 -271l6 5 6 3 6-1 6-1 6 4 6 1 6 1 6 4 6 3 6 1 6 0 6 1 6 5M756 -206l6 4 6 2M990 -152l6 3 6 4 6 5M1230 -17l6 3 6 2 6 3 6 3 6 6M0 4l6-5 6-4 6-7 6-7 6-7 6-3 6-5 6-4 6-6 6-7 6-8 6-8 6-5M414 -233l6 0 6 3 6 1 6 0 6 4 6 3 6 0 6 0 6-1 6-3 6-3 6 1 6-1 6 1 6 3M576 -218l6 2 6 1 6 0 6 2 6 1 6 1M654 -202l6 2 6 2M678 -194l6 2 6 2 6 2 6 2 6 3 6 3 6 3 6 2 6 2 6 2 6 2 6 1 6 1 6 1 6 1 6 1 6 2 6 1 6 2 6-1 6 0 6 1 6 0 6-2 6 2 6 5 6 2 6 3 6 3 6 3 6 4 6 2 6 1 6 2 6 3 6 2 6 2 6 3 6 2 6 2 6 1 6 3 6 0 6 4 6 4 6 1 6 3 6 2 6 2 6 1 6 2 6 2 6 2 6-1 6 0 6 1 6 0 6 0 6-1M1212 -35l6 3 6 4 6 5 6 4 6 4 6 5 6 6 6 4M0 4l6-4 6-5 6-3 6-3 6-6 6-5 6-4 6-3 6-4 6-5 6-5 6-5 6-5 6-6M96 -69l6-4 6-4 6-5 6-3 6-5 6-3 6-3 6-4 6-4 6-5 6-4 6-5 6-7 6-5 6-4 6-7 6-9M378 -255l6-3 6-4 6 0 6 0 6-1 6-2M558 -264l6 3 6 0 6 2 6 1 6 0 6 1 6-1 6-3 6-2 6-2 6 3 6-1 6 0 6-2 6-2 6 0 6 0 6 3 6 5M690 -259l6 4 6 1 6 4 6-2 6 1 6 2 6-1 6 2 6 4 6 0 6 1 6-3 6-5 6 2 6 5 6 4 6 2 6 1 6 2 6 6 6 3 6 4 6 4M846 -216l6-1 6 1 6 1 6 3 6 3 6 3 6 3 6 3 6 4 6 8 6 7 6 7M954 -164l6 5 6 4M1212 -36l6 3 6 4 6 5 6 9 6 6 6 2 6 4 6 3M0 4l6-8 6-6 6-6 6-5 6-5 6-6 6-7 6-6 6-6 6-6 6-5 6-8 6-4 6-5 6-11 6-7 6-7 6-7 6-8 6-5 6-6 6-5 6-5 6-4M222 -193l6-4 6-7 6-5 6-2M258 -217l6-3 6-3M336 -259l6-4 6-2 6-2M378 -268l6 2 6 3 6 2 6 3 6 1 6-1M558 -267l6 0 6 1 6 2 6 0 6 2 6 4 6 0 6-2 6 1 6 2 6 0 6 2 6 6M732 -210l6 8 6 4 6 7 6 4 6 2 6 6 6 3 6 2 6 4 6 3 6 2 6 2 6 2 6 1 6 2 6 2 6-1 6-1M1236 -13l6 2 6 2 6 3 6 6M0 4l6-4 6-4 6-2 6-3 6-4 6-3 6-5 6-5 6-5 6-6 6-4 6-5 6-6 6-5 6-5 6-5 6-6 6-10M210 -192l6-6 6-3 6-5 6-2 6-3 6-2 6-4 6-5 6-2 6-7 6-6 6-5 6-7 6-4 6-8 6-3 6-3 6-5 6-6 6 1 6-8 6-5 6-2 6 0 6-8 6-4 6-7 6-6 6-5 6 0 6 1 6 3 6 5 6-3 6 0 6 3 6 0 6-7 6 5 6 4 6 2 6 1 6 0 6 0 6 0 6 2 6-3 6 2 6-4 6-4 6-5 6 1 6-1 6-6 6-3 6 1 6-1 6 1 6-4 6 0 6 5 6 4 6-3 6 1 6-1 6 4 6 9 6 10 6 7 6 2 6 7 6 2 6 0 6 9 6 3 6 2 6 4 6 5M738 -222l6 6 6 4M1236 -10l6 2 6 1 6 4 6 3M0 4l6-3 6-7 6-6 6-8 6-6 6-7 6-6 6-6 6-6 6-5 6-5 6-5M102 -98l6-10 6-7 6-4 6-7 6-7 6-6 6-6 6-6 6-6 6-4 6-6 6-5 6-3 6-6 6-4 6-6 6-5 6-6 6-5 6-2 6-2 6-2 6-2 6-2 6 0 6-2 6-8 6-5 6-4 6-5 6-7 6-5 6-3 6-5 6 0 6-2 6-2 6-3 6-4 6-2 6-1 6-1 6-3 6-3 6-8 6 0 6 0 6-3 6 2 6 1 6-3 6-2 6 6 6 5 6-2 6 1 6 5 6-1 6-1 6-5 6-2 6 3 6-4 6 2 6 6M558 -273l6-1 6-3 6 0 6 1 6 1 6 3 6 1 6 2 6 1 6 1 6 0 6 0 6 4M738 -228l6 0 6 1 6 4 6 1 6 1 6 4M888 -192l6 2 6 1 6 7 6 5 6 4M996 -146l6-1 6 3M1020 -138l6 1 6 5M1086 -116l6 4 6 4 6 4 6 3 6 5M1206 -38l6 1 6 5 6 5 6 8 6 2 6 1 6 4 6 6 6 6M0 4l6-3 6-3 6-4 6-4 6-4 6-5 6-5 6-6 6-5 6-7M378 -259l6-1 6-4 6 1 6-3 6-2 6-2M432 -279l6-6 6-8 6-3 6-4 6 6 6 1 6 5 6 2 6-1 6-2 6-2 6-2 6-3 6 0 6 2 6-3 6 5 6 4 6 2 6-2 6-1 6-4 6 1 6 7 6 6 6-1 6 3 6 1 6 1 6 3 6-1 6-2 6 0 6 1 6-1 6 0 6 2 6 1 6 6 6 5M996 -103l6 3 6 4 6 3 6 2 6 2 6 3 6 2 6 2 6 3 6 5 6 1 6 1M1230 -12l6 3 6 2 6 2 6 3 6 2M0 4l6-5 6-5 6-5 6-5 6-5 6-6 6-9 6-6 6-6 6-4 6-6 6-7M216 -195l6-4 6-6 6-2 6-4 6-3M258 -217l6-2 6-7 6-6 6-6 6-5M342 -259l6-4 6-5M378 -268l6-5 6-1 6 0 6-1 6-2 6-2 6-2 6-4 6-1 6-1 6-5 6 1 6-5 6-3 6 0 6 2 6-2 6-3 6-4 6-3 6-1 6 2 6-2 6 4 6 2 6 7 6 4 6 1 6 3 6 1 6 1 6 4 6 3 6 5 6 1 6 3 6 1 6 1 6 0 6-3 6 3 6 2 6 0M648 -260l6-3 6 1 6-1 6 1M690 -259l6-1 6 1 6-1 6 1 6-1 6 3 6 0 6 3 6 7 6 1 6 1 6 6 6 4 6 1 6 5 6 3M888 -192l6 4 6 4 6 1 6 1 6 3 6 2M954 -169l6 1 6 0 6 3 6 5 6 0 6 3 6 3 6 2 6 3 6 5 6 3 6 4 6 0 6 2M1086 -102l6 5 6 4M1218 -31l6 1 6 6 6 4 6 5 6 6 6 4 6 5M0 4l6-4 6-4 6-3 6-3 6-5 6-4 6-5 6-5 6-5 6-5 6-3 6-5 6-4 6-5 6-4 6-4 6-4 6-3 6-4 6-4 6-3 6-4 6-4 6-4 6-6 6-5 6-5 6-6 6-4 6-4 6-4 6-2 6-4 6-2 6-2 6-3 6-3 6-2 6-5 6-5 6-8M300 -194l6-2 6-5 6-5M438 -237l6-4 6-1 6-1 6-1 6 2 6 4 6-2 6-1 6 1 6-2 6 0M576 -233l6 1 6 0 6 3 6 3 6 1 6 1M696 -206l6 3 6-2 6 8 6 3 6 3 6 3 6 1 6 2 6 1 6 2 6 2 6 3 6-1 6 0 6 2 6 2 6 1 6 3 6 6 6 3 6 0 6 0 6 0M1224 -22l6 2 6 4 6 4 6 6 6 3 6 3M0 4l6-7 6-7 6-5 6-5 6-7 6-6 6-6 6-7 6-7 6-6 6-5 6-7 6-7 6-7 6-5 6-3M216 -194l6-4 6-4 6-3 6 0 6-3M378 -266l6-4 6-4 6-1 6-2 6-2 6-2M426 -284l6 0 6 2 6 0 6 1 6 2 6-1 6 0 6 2 6-3 6-4 6-3 6-3 6-4 6-5 6-3 6-1 6 0 6-1 6-3 6-3 6 2 6 1 6-2 6-6 6 1 6 0 6-3 6 0 6-1 6 1 6 1 6-3 6 3 6 3 6 0 6-1 6-5 6-1 6 0 6-6 6-1 6 0 6 2 6 1 6 2 6 7 6 3 6 5 6 5 6 5 6 5 6 3 6-1 6 4 6 0 6 4 6 4 6 2 6 5 6-1 6 0 6 2 6 1 6 2 6 6 6 4 6 3 6 1 6 3 6 1 6 2 6 3 6 5 6 3 6 4 6 5 6 4 6 5 6 5 6 6 6 5 6 4 6 5 6 4M942 -187l6 3 6 4 6 1 6 2 6 3 6 2 6 4 6 3 6 5 6 5 6 1 6 1 6 2 6 4 6 6 6 6M1086 -108l6 2 6 1 6 3 6 2 6 4M1224 -24l6 3 6 3 6 5 6 3 6 5 6 5M0 4l6-5 6-7 6-2 6-10 6-6 6-6 6-6 6-7 6-7 6-6 6-7 6-6 6-6 6-6 6-7 6-6 6-3M228 -195l6-3 6-5 6-6 6-5 6-6 6-6 6-6 6-6 6-7 6-3 6-1 6-2M312 -255l6-4 6-6 6-6 6-2 6-2 6 1 6-4 6-2 6 0 6-1 6-3 6 0 6-4 6 3 6 5 6 0 6-4 6-1 6 1 6 1 6-5 6-5 6-1 6-1 6-2 6 0 6-1 6 2 6 2 6-3 6-4 6-1 6-5 6-2 6-7 6-6 6-6 6-5 6-7 6-3 6 0 6 0 6 0 6 0 6-3 6-1 6-1 6 3 6-1 6 6 6 4 6 1 6-1 6-3 6 2 6 5 6 4 6 8 6 4 6-5 6 1 6 0 6-1 6 2 6 5 6 7 6 8 6 6 6 5 6 8 6 3 6 3 6 5 6 7 6 9 6 3 6 3 6-1 6 4 6 4 6 8 6 5 6 4 6 2M888 -182l6 3 6 0 6-5 6-4 6 0 6 3M954 -177l6-1 6-1 6 4 6 2 6 2 6 2 6 3 6 1 6 2 6 1 6 2 6 5 6 6 6 3 6 8 6 6M1086 -114l6 4 6 3 6 6 6 5M1188 -55l6 5 6 4 6 4 6 5 6 7 6 5 6 4 6 4 6 1 6 5 6 7 6 4M0 4l6-7 6-5 6-6 6-6 6-8 6-6 6-7 6-6 6-8 6-7 6-6 6-7 6-8 6-6 6-5 6-5 6-8 6-6 6-5 6-5 6-7 6-3 6-5M228 -196l6-3 6-10 6-2 6-6 6-6 6-5 6-2 6-4 6-4 6-3M312 -255l6-2 6 0M372 -273l6-2 6-3 6-5 6-9 6-5 6-7 6-7 6-8 6-2 6-8 6-7 6-4 6-5 6 5 6-3 6 3 6-2 6 0 6 1 6-1 6-3 6 1 6 0 6 1 6 0 6 1 6 0 6 3 6 2 6 6 6 6 6 8 6 3 6 3 6 1 6 3 6 2 6 5 6 0 6 1 6 2 6 2 6 4 6 2 6 1 6 6 6-1 6 5 6-1 6-4 6-2 6 7 6 0 6-2 6 2 6 4 6 1 6 1 6 1 6 6 6 0 6 3 6 3 6-1 6 3 6 2 6 2 6 4 6 1 6 5 6 3 6 3 6 4 6 5 6 6 6 3 6 1 6 2M1224 -23l6 3 6 3 6 2 6 5 6 5 6 5M0 4l6-7 6-2 6-6 6-7 6-7 6-6 6-4 6-7 6-6 6-10 6-7 6-6 6-7 6-6 6-7 6-9 6-7 6-8 6-6 6-6 6-8 6-6 6-6 6-4 6-6 6-5 6-4 6-6 6-5 6-6 6-4 6-3 6-4 6-3 6-4 6-6 6-3 6-3 6-4 6-1 6-5 6-2 6 0 6-3 6-1M378 -251l6-1 6 2 6-1 6-1 6 1 6-2M444 -257l6 2 6-1 6-1 6 1 6 1M558 -269l6 3 6-1 6 1 6 3 6 2 6 2 6 1 6 2 6-2 6 1 6 2 6 1 6 0M738 -231l6-1 6 4 6 4 6 3 6 4 6 5M1188 -52l6 3 6 6 6 5 6 5 6 1 6 5 6 2 6 3 6 5 6 5 6 6 6 6M0 4l6-5 6-6 6-2 6-5 6-5 6-7 6-5 6-6M60 -44l6-1 6-4 6-6 6-8M168 -124l6 0 6-2 6-2 6-3 6-3 6-5 6-6M258 -171l6 1 6 1 6-1 6-1 6-4 6-2 6 1 6-3 6-2 6 1 6-2 6-1 6 0 6 0 6-1 6 0 6-1 6-2 6 1 6 0 6 1 6 2 6-1 6-3 6-4 6-6 6-4 6-5 6-3 6-2 6-1 6-3 6-3 6-2 6-1 6-1 6-1 6-2 6-2 6-6 6-5M600 -238l6 4 6 5M696 -196l6 2 6 0 6 1 6 0 6 0 6-3 6 0 6 1 6 0 6 2 6 1 6 4 6 3 6-1 6 0M816 -176l6 3 6 3 6 3M846 -159l6 5 6 8 6 3 6 2M888 -132l6 2 6 2 6 2 6 3 6 3 6 2 6 2 6 0 6 2 6 1 6 4 6 1 6-1 6 2M996 -100l6 2 6 2 6 1 6 4 6 1 6 0 6 4 6 2 6 2 6 3M1236 -10l6 3 6 2 6 2 6 3M0 4l6-3 6-4 6-3 6-5 6-4 6-4 6-5 6-4 6-5 6-5 6-4 6-5 6-4 6-6 6-5 6-5 6-4 6-4 6-4 6-5 6-4 6-7M186 -134l6-5 6-5M300 -186l6-1 6-4 6-1 6 0 6-5 6-4 6-4 6-5 6-6M414 -217l6-1 6-2 6 1 6-3 6-1 6-1 6-3 6-2 6-4 6 1 6 1 6 2 6-1 6 0 6 1M576 -222l6-2 6-1 6-4 6 1 6 3 6 1M696 -194l6 3 6 2 6 0 6 0 6 3 6 2 6 0 6-3 6 3 6 4 6 2 6-2 6 2 6 2 6 2 6 3 6-1 6 0 6 3 6-1 6 0 6 2 6 3M1224 -23l6 3 6 5 6 6 6 2 6 3 6 4M0 4l6-7 6-5 6-7 6-6 6-5 6-6 6-8 6-8 6-6 6-6 6-6 6-6 6-5 6-5 6-5 6-8 6-5 6-7 6-7 6-6 6-5M438 -246l6 0 6 1 6-2 6-1 6 0 6-3 6-2M720 -210l6 3 6 2 6 0M888 -183l6 3 6-1 6 5M954 -164l6 2 6 2 6 1 6 5M1188 -54l6 5 6 4 6 4 6 6 6 4 6 2 6 7 6 8 6 4 6 5 6 3 6 2M0 4l6-3 6-4 6-3 6-4 6-4 6-4 6-5 6-5 6-5 6-4 6-6 6-4 6-5 6-5 6-3 6-4 6-3 6-6 6-5 6-5 6-4 6-3 6-2 6-4 6-4 6-6 6-4 6-3 6-4 6-5 6-3 6-3 6-1 6-3 6-3 6-4 6-3 6-3 6-4 6-4 6-4 6-1 6-4 6-4 6-5 6-2 6-2 6-1 6-4 6-3 6-3 6-1 6 0 6-4 6-4 6-4 6 1 6-2 6-1 6 0M372 -199l6 1 6-1 6-4 6-3 6 1 6-3 6-2 6 0 6-3 6 1 6 0 6-1 6 0 6 0 6 0 6-1 6-2 6-1 6-2 6-1 6-2 6-1M600 -254l6 0 6 1 6-2 6 0 6 2 6 3M732 -207l6 7 6 6 6-1 6-1 6 1 6 3 6 1 6 3 6 4M954 -125l6 8 6 3M996 -99l6 3 6 2 6 3 6 3 6 3 6 3 6 3 6 1 6 1 6 0 6 1 6 1M1218 -15l6 2 6 1 6 3 6 2 6 3 6 2 6 2M0 4l6-5 6-5 6-8 6-6 6-6 6-6 6-6 6-5 6-7 6-5 6-7 6-8 6-5 6-4M324 -211l6 3 6 4 6-1 6 0 6 2 6-2M414 -219l6-2 6-1 6-1 6-3 6-2 6-2 6-1 6-3 6-1 6 0 6-3 6-5 6-2 6 0 6-1M558 -251l6-1 6 0 6-6 6-3 6 4 6-2 6 0 6 3 6 1 6 0 6 4 6 1 6 1M720 -242l6 2 6 0 6 0 6 1 6 4 6 1 6 3 6-1 6 2 6 5M954 -173l6 3 6 0 6 1 6 1 6 2 6 1 6 2 6-1 6 2 6 0 6 4 6 5 6 2 6 5 6 5 6 3 6 4 6 1M1086 -118l6 5 6 3 6 3 6 3 6 3 6 4 6 3 6 3 6 2 6 1 6 4 6 2 6 4 6 5 6 3 6 5 6 4 6 2 6 4 6 4 6 5 6 5 6 4 6 6 6 6 6 6 6 6 6 6 6 7M0 4l6-5 6-6 6-7 6-7 6-7 6-7 6-6 6-6 6-6 6-6 6-6 6-7 6-8 6-6 6-5 6-6 6-7 6-8 6-7 6-8 6-8 6-5 6-6 6-6 6-6 6-5 6-3 6-3 6-4 6-3 6-4 6-3M324 -209l6 2 6 2 6 3 6-2 6-1 6-1M414 -217l6-3 6-1 6-1 6-3 6 1 6 1 6-2 6 1 6-2 6-3 6-3 6 0 6 1 6 0 6-2M576 -228l6 1 6 3 6 0 6-1 6-3 6 3M738 -216l6 0 6 3M810 -177l6 3 6 0 6 4 6 3M1008 -107l6 3 6 0 6 1 6 0M1236 -13l6 1 6 2 6 4 6 6M0 4l6-5 6-8 6-5 6-6 6-3 6-4 6-6 6-6 6-6 6-6 6-8 6-7 6-8 6-8 6-7 6-7 6-5 6-6 6-7 6-7 6-6M180 -177l6-6 6-6 6-5 6-6 6-3 6-7 6-7 6-4 6-3 6-4 6-4 6-5 6-2 6-7 6-5 6-3 6-3 6-1 6 1 6-5 6 0 6-1 6 0 6 1 6-2 6-4 6-4 6 0 6 0 6-4 6 2 6 2 6-3 6-1 6 1 6 3 6 0 6 1 6 0M450 -272l6-1 6-4 6 3 6-1 6 1M534 -279l6 3 6 1M558 -273l6 2 6 4 6 1 6-1 6 1 6 1 6-1 6 3 6 5 6 3 6 2 6 5 6 5M702 -211l6 3 6 0 6-1M744 -211l6-4 6 3M954 -164l6 3 6 5M990 -152l6 3 6 2 6 1 6 2 6 1 6 4 6 1 6 6M1218 -27l6 0 6 3 6 4 6 4 6 6 6 4 6 6M0 4l6-4 6-5 6-5 6-2 6-5 6-3 6-4 6-6 6-6 6-4 6-4 6-5 6-8M186 -137l6 0 6-5 6-1 6-2M378 -256l6-3 6-5 6-2 6-2 6-3 6-1M438 -281l6-3 6-2 6 3 6 2 6-1 6 3 6 1M558 -255l6 1 6 4M594 -237l6 4 6 3 6 4M756 -203l6 1 6 5M1218 -29l6 2 6 7 6 3 6 3 6 4 6 4 6 6M0 4l6-6 6-5 6-8 6-6 6-6 6-6 6-7 6-6 6-6 6-6 6-4 6-7 6-6 6-3M378 -264l6 1 6 5 6 2 6 3 6-2 6 3M438 -248l6 0 6-2 6-1 6 1 6 0 6 1 6-4 6 1 6-2M558 -266l6 1 6 2 6-2 6-2 6 1 6-2 6 2 6 1 6 2 6 2 6 3 6 2 6 1M738 -227l6 2 6 2 6-2 6 2 6 4 6 5M1014 -107l6 4 6 5 6 1M1236 -11l6 3 6 2 6 2 6 4M0 4l6-5 6-3 6-7 6-4 6-3 6-5 6-6 6-6M378 -250l6-1 6-1 6-3 6-1 6-2 6 1M468 -272l6-1 6 0M534 -281l6 0 6-1 6 2 6-1 6 1 6-1 6 0 6-1 6 2 6 0 6-1 6-7 6 3 6-1 6-4 6 2 6 0 6 5 6 5 6-1 6 2 6 3 6 7 6 2M690 -257l6 4 6 4M738 -234l6-2 6 2 6 4 6 1 6 2 6 1M792 -221l6-2 6 5M888 -180l6 2 6 1 6 5M954 -164l6 3 6 3M1236 -10l6 2 6 3 6 2 6 3M0 4l6-7 6-4 6-5 6-5 6-3 6-6 6-5 6-8 6-7 6-9 6-5 6-6M300 -201l6-2 6-3M414 -217l6-2 6-3 6 1 6-4 6-3 6-2 6-1 6-2 6 2 6-1 6 3 6 4 6 0 6-2 6 0M576 -225l6 1 6-1 6-2 6 0 6-3 6-2M696 -211l6 3 6 1 6 5 6 2 6 0 6 4 6 5 6 3 6 4 6 0 6 0 6 3 6-1 6 3 6 4 6 0 6-1 6 3 6 2 6 3 6 2 6 2 6 4M846 -159l6 3 6 1 6 2 6 4M906 -140l6 2 6-2M1230 -17l6 3 6 2 6 3 6 4 6 5M0 4l6-3 6-4 6-3 6-4 6-4 6-5 6-4 6-5 6-5 6-4 6-4 6-5 6-4 6-5 6-3 6-5 6-6 6-6 6-3 6-6 6-6 6-4 6-4 6-3 6-6M162 -113l6-1 6-2 6-1 6-4 6-3 6-3 6-3 6-3 6-2 6-4 6-4 6-5 6-4 6-3 6-3 6-4 6-3 6-5 6-4 6-3M300 -186l6-1 6-3 6-4 6-3 6-3 6-4 6-1 6-3 6-3 6-3M438 -239l6 0 6 2 6-1 6 3 6 1 6 2 6 2 6-2 6 0 6 2 6 1M600 -236l6 5 6 4M888 -191l6-1 6 0 6 2 6 1 6 1 6 4M954 -175l6 2 6 5 6 3 6 3 6 3 6 5 6 5 6 3 6 3M1152 -78l6 3 6 3 6 2 6 6 6 4 6 3 6 6 6 4 6 3 6 5 6 5 6 4 6 5 6 6 6 6 6 2 6 4 6 7M0 4l6-4 6-4 6-6 6-1 6-4 6-3 6-4 6-5 6-5 6-2 6-4 6-5 6-5 6-4 6-5 6-4 6-5 6-4 6-3 6-4 6-2 6-3 6-3 6-4 6-3 6-5 6-4 6-4 6-6 6-5 6-3 6-3 6-5 6-6 6-5 6-5 6-5M300 -190l6-3 6-7 6-7M438 -242l6 0 6 1 6-3 6 0 6 2 6 3 6 0 6 2 6 0 6 0 6-1M576 -230l6 1 6 4 6 3 6 3 6 1 6 2M696 -196l6 2 6 2 6 3 6 2 6 1 6 2 6 2 6 2 6 3 6 2 6-1 6-1 6-1 6 3 6 0 6 1 6-3M1086 -97l6-1 6 3M1224 -22l6 1 6 7 6 5 6 2 6 3 6 4M0 4l6-4 6-3 6-6 6-7 6-9 6-7 6-6 6-6 6-6 6-8 6-6 6-7 6-7 6-5 6-4 6-4M186 -139l6-3 6-3M300 -195l6-2 6-4 6-4 6-4 6-3 6-5M396 -248l6-3 6-3 6-2M738 -228l6 1 6-3 6-1 6 4 6 1 6 0M888 -189l6 3 6 3 6-1 6 1 6 4 6 3M954 -170l6 4 6 5 6 7M1086 -104l6 7 6 5M1236 -10l6 3 6 2 6 1 6 4M0 4l6-3 6-4 6-4 6-4 6-7 6-4 6-2 6-6 6-5 6-4 6-6 6-6 6-3 6-6M330 -259l6-4 6-4 6-4 6-1 6-6 6-10 6-5 6-8 6-2 6-3 6-5 6-8 6-5 6-9 6-1 6 5 6 0 6 1 6 0 6 1 6-1 6 0 6 3 6 1 6 5 6 12 6 4 6 1 6 2 6 1 6 3 6 5 6-2 6-1 6 5 6-3 6-5 6 2 6 4 6-3 6 0 6 0 6 1 6 4 6 4 6 3 6 1 6 1 6 0 6 2 6 0 6 3 6 1 6 1 6 0 6 1 6 3 6 0 6 1 6 4 6-2 6 2 6-1 6 3 6 4 6-2 6 2 6-2 6 1 6 3 6-2 6-1 6 5 6 4 6 6 6 5 6-3 6 1 6 5 6 9 6 4 6 3 6 4M888 -186l6 6 6 4M1212 -17l6 3 6 2 6 2 6 3 6 2 6 1 6 2 6 2M0 4l6-6 6-6 6-4 6-2 6-5 6-7 6-5 6-3M186 -140l6-3 6-2M264 -172l6-3 6-3M300 -188l6-4 6-2 6-3 6 0 6-1 6-2 6-3 6-5 6-1 6 2M414 -216l6-1 6 1 6 0 6-1 6 2 6-1 6-1 6 0 6-1 6 1 6 1 6 1 6-1 6 0 6 0 6 2 6 1 6 0 6 0 6 0 6 0 6 0 6 1 6 0 6 1 6 0 6 0 6 1 6 1 6 2 6 1 6 2 6 2 6 1 6 1 6 1 6 2 6 1 6 1 6 1 6 1 6 1 6 1 6 1 6 2 6 1 6 2 6 1 6 1 6 0 6 2 6 1 6 1 6 0 6 1 6 0 6-2 6 4 6 2 6 1 6 2 6-1 6 3 6 3 6 3 6 3 6 3 6 1 6 1 6-2 6 0 6-1 6 1 6-2M906 -143l6 4 6 5 6 4M936 -123l6 2 6 0 6 0M1074 -71l6 2 6 2M1104 -59l6 3 6 2 6 3 6 5 6 2 6 0M1236 -11l6 1 6 4 6 2 6 4M0 4l6-7 6-4 6-4 6-6 6-6 6-7 6-5 6-6 6-7 6-8 6-4 6-5M186 -133l6-2 6-4 6-4 6-3M240 -159l6-2 6-4M264 -171l6-1 6-2 6-6M300 -190l6-1 6-1 6-2 6 0 6 1 6-4 6 0 6 0 6 1 6-1 6 0 6-2 6 0 6-2 6 1 6 0 6 0 6-4 6-3 6-2 6-3 6-2 6-3 6-1 6-2 6-2 6-1 6-1 6 0 6 0 6 0 6-1 6-1 6 0M576 -218l6 1 6 1 6 1 6 1 6-1 6 2M696 -193l6 2 6 3 6 3 6 1 6 2 6 2 6 2 6 2 6 1 6 1 6 1 6 1 6 1 6-1 6 2 6 2 6 3 6 2 6 1 6 2 6 3 6 3 6 2 6 1 6 1 6 1 6 2 6 1 6 1M888 -137l6 1 6-2 6-2 6-1 6 4 6 2M1212 -35l6 3 6 3 6 4 6 4 6 5 6 5 6 5 6 6M0 4l6-7 6-6 6-6 6-5 6-6 6-7 6-6 6-7 6-6 6-7 6-6 6-4 6-1M162 -121l6 0 6-4 6-2 6-3 6-2 6 0 6-2 6-2 6-2 6-3 6-2 6-4 6-5 6-2 6-5 6-4 6-2 6-5 6-2 6-5M300 -190l6-3 6-2 6 0 6-1 6 1 6-1 6-3 6-3 6-1 6 4M372 -197l6-1 6 1 6-3 6-4 6-2 6-2 6 2 6 0 6-2 6-2 6-2 6-2 6-1 6-1 6 1 6-1 6-1 6-1 6-2 6-1 6 0 6-1M576 -220l6 2 6 1 6 1 6 1 6 0 6 1M696 -195l6 3 6 2 6 2 6 2 6 1 6 0 6 2 6 2 6 3 6 1 6 1 6 1 6 3 6 3 6 2 6 2 6 4 6 1 6 0 6 3 6 1 6 1 6 2 6 1 6 1 6 1 6 1 6 0 6-1M1188 -53l6 4 6 3 6 4 6 7 6 2 6 8 6 2 6 3 6 4 6 6 6 4 6 6M0 4l6-7 6-5 6-6 6-6 6-6 6-6 6-4 6-8 6-5 6-4 6-8 6-8 6-5 6-3M300 -188l6-2 6-4 6-5 6-3 6-7 6-4 6-2M414 -235l6 0 6 3 6 3 6 3 6-5 6-1 6-2 6-3 6 1 6-3 6-2 6-1 6-3 6-1 6 0M696 -208l6 1 6 1 6 5 6 2 6 6 6 5 6 2 6 3 6 3 6 3 6 3 6 0 6 1 6 2 6 1 6 1 6 3 6 0 6 3 6 2 6 2 6 4 6 1 6 2 6 3 6 0 6-1 6 2 6 4M900 -140l6 1 6-1M1230 -19l6 5 6 3 6 2 6 3 6 6M0 4l6-7 6-6 6-5 6-6 6-7 6-8 6-6 6-6 6-7 6-5 6-7 6-6 6-7 6-7 6-7 6-5 6-4 6-3M216 -192l6-5 6-7 6-4 6-6 6-5 6 1 6-3 6-3 6-2M312 -255l6-5 6-1M336 -262l6-2 6-2 6 2M378 -265l6-3 6 0 6-3 6-2 6-1 6-3M426 -280l6-4 6 1 6-5 6 4 6 3 6 1 6-1 6 2 6 3M534 -279l6 1 6 1 6 2 6 0 6 0 6 0 6 3 6 2 6 0 6-1 6 0 6 1 6 2 6-5 6-2 6-4 6 2 6-1 6-7 6-8 6-2 6 3 6 0 6 7 6 6 6 8 6 8 6 8 6 2 6 2 6 0 6 3 6-1 6-1 6 2 6-1 6 4 6 0 6-3 6 4 6 7 6 3 6 3 6 7 6 3M870 -204l6-1 6 1 6 0 6 2 6 2 6 1 6 1 6 5 6 2 6 0 6 2 6 3 6 1 6 5 6 4 6 2 6 2 6 2 6 5 6 0 6 1 6 2 6 5 6 4 6 2 6 3 6 3 6 6 6 5 6 3M1086 -114l6 4 6 3 6 2 6 3 6 3 6 3 6 3 6 3 6 2 6 4 6 3 6 3 6 3 6 5 6 4 6 4 6 5 6 4 6 6 6 5 6 7M1230 -19l6 2 6 5 6 6 6 3 6 3M0 4l6-4 6-3 6-3 6-4 6-5 6-5 6-4 6-5 6-6 6-5 6-7 6-9M228 -192l6-5 6-5 6-3M378 -271l6 4 6 2 6 0 6 0 6-1 6 1M582 -236l6 3 6 2 6-2 6-1 6 0M738 -229l6 3 6 2 6 6 6 2 6 1 6 5M1224 -24l6 1 6 1 6 4 6 5 6 6 6 7M0 4l6-5 6-5 6-6 6-1 6-3 6-4 6-6 6-5 6-5M378 -253l6 0 6 1 6 2M438 -249l6-1 6 2 6 0 6-2 6 0 6 1 6-1 6 2 6 6 6 5 6 3M600 -237l6 2 6-1M696 -194l6 3 6 2 6 3 6 2 6 2 6 0 6 3 6 2 6 2 6 2 6 2 6 1 6 1 6 2 6 1 6 2 6 1 6 3 6 3 6 3 6 1 6 1 6 3 6 2 6 2 6 3 6 1 6 2 6 1 6 1M888 -131l6 0 6 0 6 0 6 0 6-3 6 0M1224 -25l6 1 6 3 6 7 6 4 6 4 6 6M0 4l6-5 6-4 6-5 6-5 6-4 6-4 6-5 6-6M300 -196l6-1 6-4 6-5 6-2 6-3 6-1 6-4M414 -213l6 0 6-1 6 0 6 1 6 2 6-1 6-1 6 0 6-2 6 0 6-2 6 0 6-1 6 0 6 0M576 -219l6 0 6 1 6 0 6 1 6 1 6 1M696 -195l6 3 6 3 6 3 6 2 6 3 6 2 6 3 6 3 6 3 6 2 6 3 6 1 6 1 6 1 6-1 6 0 6 1 6 2 6 0 6 1 6 0 6 0 6-3M1194 -43l6 0 6 4M1218 -31l6 4 6 4 6 2 6 6 6 5 6 4 6 6M0 4l6-5 6-7 6-5 6-6 6-2 6-4 6-4 6-7M60 -42l6-3 6-7 6-3 6-5M162 -117l6-4 6-1 6-1 6-2 6-2 6-4 6-4 6-3 6-3 6-3 6-3 6-2 6-4 6-4 6-4 6-2 6 0 6-2 6-5 6-1 6 0 6-4 6-4 6 0 6-2 6-3 6-3 6 3 6-3 6 0 6 1 6-3 6 0 6 2 6 3 6 0 6 0 6-1 6-2 6 0 6 2 6 0 6-3 6-3 6-1 6 0 6 0 6 1 6-1 6-1 6-2 6-1 6-1 6-1 6 0 6-1 6-1 6 1 6 0 6 0 6-1 6 1 6 0 6 0 6 0 6 0 6 1 6 2 6 1 6 2 6 1 6 1 6 2 6 2 6 2 6 2 6 1 6 1 6 2 6 1 6 1 6 1 6 1 6 2 6 1 6 1 6 1 6 1 6 2 6 3 6 2 6 1 6 2 6 1 6 2 6 1 6 3 6 2 6 1 6 1 6 2 6 2 6 3 6 2 6 3 6 1 6 2 6 1 6 2 6 3 6 0 6 2 6 3 6 2 6 1 6 1 6 0 6 0 6 0 6 2 6 0 6 4 6 4 6 3 6 0 6 2 6 1 6 1 6-1 6 2 6 2 6 2 6 3 6 2 6 0 6 0 6 1 6 1 6 4 6 0 6 1 6 3 6 1 6 1 6 2 6 2 6 2 6 2 6 2 6 1 6 3 6 2 6 3 6 4 6 2 6 2 6 2 6 2 6 1 6 3 6 3 6 2 6 3 6 3 6 2 6 1 6 2 6 1 6 2 6 3 6 2 6 2 6 2 6 2 6 1 6 1 6 3 6 0 6 2 6 2 6 1 6 1 6 3M0 4l6-3 6-3 6-4 6-8 6-6 6-2 6-7 6-7M228 -192l6-5 6-7 6-4M372 -271l6-4 6-4 6-8 6-10 6-2 6 0 6-3 6 4 6 1 6 5 6 2 6 1 6 1 6-4 6-5 6 0 6 7 6 5 6 2M534 -279l6-3 6-1 6 0 6-1 6-1 6-2 6 3 6 4 6 0 6 1 6 0 6 1 6 2 6-1 6-1 6 1 6-1 6 3 6 3 6 1 6 1 6 4 6 1 6 4M690 -256l6 2 6 5M738 -227l6 7 6 7M1230 -19l6 3 6 0 6 5 6 8 6 3M0 4l6-4 6-5 6-4 6-4 6-5 6-9 6-8 6-7 6-6 6-4 6-7 6-7M438 -248l6-2 6-2 6 0 6 1 6-3 6 2 6-1M552 -275l6-2 6 1 6-1 6 3 6-2 6 4 6 0 6 1 6 1 6 2 6 2 6-2 6 0 6 0 6 2 6 1 6-3 6 1 6 0 6 0 6 2M690 -263l6 5 6 1 6-7 6-2 6-1 6-2 6-4 6-1 6-2 6-1 6-1 6 0 6-1 6 2 6 5 6 3 6 5 6 3 6 3 6 2 6 2 6 4 6 4 6 4 6 3 6 2 6 5 6 4 6 3 6 5 6 1 6 0 6 4 6 5 6 1 6 1 6 3 6 3 6 1 6 1 6 2 6 3 6 1 6 2 6 0 6 1 6 2 6 0 6 2 6 3 6 3 6 2 6 1 6 2 6 6 6 3 6 2 6 4 6 3 6 3 6 2 6 2 6 4 6 5 6 2 6 3 6 2 6 3 6 6 6 4 6 4 6 3 6 5 6 3 6 5 6 3 6 3 6 5 6 4 6 5 6 5 6 6 6 6 6 4 6 4 6 6 6 5 6 5 6 5 6 4 6 6 6 7 6 7 6 6 6 6M0 4l6-5 6-4 6-5 6-4 6-7 6-4 6-7 6-5M438 -237l6-1 6-1 6 1 6-2 6-2 6-3 6-1 6-1 6 0 6 3 6 2M576 -221l6 2 6 1 6 1 6 2 6 2 6 2 6 3 6 1 6 1 6 1 6 0 6 2 6 2 6 1 6 2M684 -194l6 2 6 2 6 2 6 1 6 2 6 2 6 3 6 1 6 0 6 2 6 1 6 2 6 1 6 1 6 2 6 1 6 3 6 1 6 0 6-1 6-2 6 4 6 5 6 2 6 2 6 1 6 1 6 4 6 0 6 1 6 0M1236 -11l6 3 6 3 6 3 6 2M0 4l6-7 6-6 6-7 6-7 6-6 6-6 6-7 6-7 6-6 6-7 6-7 6-7 6-7 6-7 6-7 6-5 6-7 6-7 6-7 6-7 6-6 6-4 6-5 6-7 6-7 6-5 6-5 6-4 6-6 6-4 6-4 6-6 6-6 6-6 6-6 6-5 6-6 6-3 6-5 6-7 6-3 6 0 6-2 6-4 6-3 6-6 6-4 6-5 6-4 6-1 6-2 6-6 6-1 6-3 6-5 6-6 6-4 6-7 6-5 6-1 6-1 6 6 6 4 6-4 6 3 6 2 6-2 6-3 6 1 6 7 6 2 6-5 6 5 6 3 6 4 6-2 6 0 6-2 6 1 6-2 6 1 6-1 6 0 6 5 6 0 6 0 6 2 6-3 6 0 6-7 6-1 6 4 6-1 6 1 6-3 6-2 6-3 6 2 6 1 6-2 6-6 6 2 6 0 6 2 6 2 6 0 6 4 6 5 6 1 6-2 6-2 6-1 6 5 6 4 6 4 6 4 6 4 6 1 6 7 6 2 6 2 6-2 6 2 6 1 6 3 6 3 6 1 6 2 6 1 6 4 6 5 6 8 6 5 6 7M1020 -105l6 2 6 0M1200 -19l6 2 6 1 6 1 6 2 6 3 6 2 6 2 6 1 6 3 6 2M0 4l6-1 6-2 6-3 6-3 6-4 6-4 6-4 6-4 6-5 6-5 6-4 6-5 6-3 6-4 6-4 6-3 6-4 6-5 6-4 6-4 6-3 6-4 6-3 6-2 6-3 6-4 6-3 6-4 6-2 6-1 6 0 6-2 6-3 6-3 6-3 6-5 6-1 6-1 6-3 6-2 6-4 6-4 6-3 6-3 6-3 6-3 6-4 6-5 6-3 6-3 6-3 6 0 6-2 6 0 6 2 6-2 6-6 6-1 6-3 6-3 6-4 6-2 6-1 6-4 6-2 6-1 6 0 6-3 6-4 6-4 6-3 6-3 6-1 6-3 6-2 6-3 6-3 6 0 6 0 6-1 6 0 6-1 6 0 6-1M576 -222l6 1 6 0 6 1 6 0 6-1 6-1M738 -232l6-1 6 0 6 4 6 1 6-1 6-1 6 1 6 1 6 1 6 1 6 1 6 5M822 -219l6-4 6-3 6 6 6 3 6 1 6 5 6 1 6-1 6 0 6 3 6-2 6 3 6 4 6 1 6 1 6 0 6 0 6 4 6 3 6 3 6 4 6 4 6 2 6 2 6 4 6 3 6 5 6 3 6 4 6 4 6 2 6 5 6 5 6 6 6 7M1200 -19l6 2 6 1 6 2 6 2 6 2 6 1 6 2 6 2 6 3 6 2M0 4l6-6 6-3 6-5 6-4 6-8 6-4 6-5 6-3M186 -178l6-6 6-7 6-6 6-6 6-5 6-9 6-4 6-4 6-1 6-3 6-5 6-4 6-4 6-5 6-5 6-2 6-1 6-3 6 1 6 2 6-2 6 1M336 -261l6-4 6-3 6-5 6-4 6-2 6-3 6-1 6 0 6 3 6 3 6 3 6 2 6 0M456 -270l6-3 6 1M714 -212l6 4 6 2 6 1 6 0M1188 -50l6 2 6 4 6 3 6 4 6 3 6 1 6 4 6 4 6 7 6 6 6 5 6 7M0 4l6-2 6-2 6-5 6-4 6-3 6-4 6-5 6-5 6-6 6-5 6-4 6-6 6-6 6-5 6-6M102 -74l6-3 6-3 6-3 6-2 6-5 6-3 6-2 6-2 6-4 6-4 6-4 6-4 6-1 6-4 6-2 6-4 6-5 6-4 6-4 6-1 6-4 6-2 6-3 6-5 6-2 6-3 6-1 6-4 6-2 6-1 6-1 6-2 6-4 6-3 6-3 6-6 6-2 6-5 6-1 6 2 6 0 6-2 6 0 6-1 6-2 6-1 6-1 6-2 6-3 6-4 6-2 6-5 6-3 6-3 6-1 6-2 6-1 6-2 6-3 6-2 6-3 6-2 6-3 6-2 6-2 6-2 6 1M576 -220l6 1 6 1 6 0 6 1 6 0 6 2M696 -193l6 2 6 2 6 2 6 3 6 4 6 3 6 3 6 1 6 2 6 3 6 3 6 3 6 2 6 2 6 2 6 2 6 2 6 2 6 1 6 1 6 3 6 4 6 1 6 1 6 3 6 2 6 2 6 1 6-1 6 1 6-1 6 2 6 0 6 2 6 2 6 3 6 4 6 4 6 3 6 1 6 2 6 2 6 1 6-1 6 1 6 3 6 0M990 -99l6 2 6 1 6 1 6 2 6 0 6 2 6 2 6 1 6 3 6 4 6 4 6 4 6 3 6 3 6 1 6 2M1236 -11l6 3 6 2 6 1 6 5M0 4l6-7 6-4 6-5 6-4 6-6 6-1 6-2 6-5 6-5 6-5 6-7 6-6M96 -70l6-3 6-5M186 -135l6-4 6-3 6-7M402 -250l6-1 6 0M438 -252l6-2 6-3M738 -229l6-1 6 4 6 2 6 1 6 1 6 1M1086 -109l6 4 6 3 6 5 6 5M1236 -12l6 3 6 3 6 3 6 3M0 4l6-7 6-6 6-5 6-6 6-4 6-6 6-5 6-7 6-5 6-8 6-6 6-4M378 -254l6-4 6 0 6-3 6-3 6-3 6-4M558 -263l6 4 6 5 6 3 6 5M738 -205l6 5 6 6 6 6 6 6 6 5 6 4 6 1 6 1 6 1 6 0 6 4 6-1 6 2 6 3 6 2 6 3 6 3 6 3 6 2 6 2 6 3 6 2M888 -137l6 1 6 2 6 1 6-3 6 2 6 2M1014 -108l6 5 6 5 6 4M1074 -71l6 2 6 1M1206 -36l6-2 6 3 6 3 6 3 6 5 6 6 6 5 6 6 6 7M0 4l6-8 6-6 6-5 6-7 6-7 6-6 6-6 6-6 6-6 6-6 6-7 6-8 6-7 6-7 6-6 6-5 6-6 6-6 6-6 6-4 6-3M558 -265l6-1 6 1 6 1 6 0 6 0 6-1 6 2 6 0 6 1 6 4 6-1 6 1 6 0M690 -261l6-2 6-1 6-4 6 4 6 2 6-3 6 1 6 5 6-4 6-1 6-3 6-2 6 1 6 3 6 3 6 3 6 1 6 5 6 4 6-1 6 0 6 9 6 7 6 7 6 7 6 6M858 -213l6 0 6 4 6 5M888 -192l6 5 6 7 6 6M1158 -71l6-1 6 3 6 3 6 5 6 4 6 5 6 7 6 7M1224 -24l6 4 6 4 6 3 6 4 6 4 6 5M0 4l6-4 6-5 6-9 6-6 6-4 6-3 6-5 6-6 6-3M66 -50l6-2 6-7M96 -68l6-5 6-6M120 -86l6-4 6-4 6-4 6-3 6-2 6-2 6-3 6-5 6-4 6-5 6-4 6-3 6-4 6-3 6-2 6-4 6-4 6-4 6-6 6-3 6-1 6-3 6-2 6-3 6-6 6-4M288 -177l6-2 6-2 6-1 6-2 6-4 6 1 6-1 6-3 6 1 6 3 6 2 6-1 6 0 6-1 6-5 6-2 6-1 6-4 6-2 6 0 6-2 6-2 6-2 6-1 6 1 6 0 6-2 6 0 6-2 6-2 6-2 6-1 6 0 6 1 6 0 6 1 6 0M534 -214l6 1 6 0 6 0 6 0 6 0 6 1 6 0 6 0 6 1 6 1 6 0 6 1 6 0 6 1 6 1 6 2 6 1 6 2 6 1 6 2 6 1 6 2 6 1 6 2 6 1 6 1 6 2 6 2 6 2 6 2 6 2 6 3 6 3 6 2 6 2 6 0 6 1 6 1 6 2 6 2 6 0 6 2 6 1 6 1 6 0 6 0 6-1 6-1 6 2 6 1M1230 -17l6 3 6-1 6 3 6 7 6 5M0 4l6-3 6-5 6-5 6-7 6-5 6-7 6-8 6-5 6-7 6-7 6-1M438 -237l6-1 6 5 6 2 6-1 6 2 6 2 6 1 6 0 6-2 6-1 6-4M600 -246l6-1 6 2M702 -209l6 4 6 6 6 2 6 6 6 1 6-1 6 2 6-3 6-1 6 0 6 1M1212 -32l6-1 6 5 6 7 6 3 6 5 6 3 6 5 6 5M0 4l6-7 6-6 6-5 6-5 6-4 6-2 6-3 6-2 6-5 6-4 6-5 6-3 6-4 6-4 6-5 6-5 6-6 6-6 6-5 6-3 6-4 6-3 6-4 6-5 6-5M162 -114l6-6 6-7M186 -137l6-6 6 0 6-2M300 -189l6 1 6-4 6-4 6-1 6-3 6 2 6 1 6-1 6-4 6-7M414 -218l6 2 6-2 6 0 6 0 6 0 6-1 6-2 6-2 6-1 6-1 6 0 6 0 6-1 6-2 6-3M738 -218l6 0 6 2 6 2 6 3M1008 -107l6 3 6 3 6 1 6 2M1146 -81l6 1 6 2 6 1 6 4 6 2 6 4 6 3 6 4 6 3 6 4 6 6 6 6 6 5 6 7 6 4 6 6 6 6 6 7 6 6M0 4l6-4 6-5 6-6 6-7 6-7 6-8 6-6 6-6 6-7 6-6 6-6 6-6 6-8 6-5 6-4 6-7 6-6 6-7 6-6 6-6 6-7M258 -213l6-7 6-2M378 -262l6-1 6-1 6 2 6 0 6 1 6-3M558 -267l6-3 6 1 6 0 6-2 6-2 6-1 6-3 6-5 6-1 6 1 6 2 6 1 6 0 6-8 6-3 6-1 6 6 6 3 6 4 6 3 6 2 6 2 6 2 6 7 6 4 6 4 6 4 6 3 6 1 6 2 6 2 6 2 6 2 6 1 6 1 6 1 6-4 6-8 6-4 6 2 6 4 6-4 6 0 6 2 6 6 6 0 6 2 6 1 6-1 6 3 6 2 6 1 6 4 6 4 6 5 6 6 6 3 6 2 6 4 6 1 6 3 6 0 6 0 6 4 6 2 6 3 6 4 6 0 6 4 6 3 6 2 6 2 6 3 6 4 6 4 6 5 6 5 6 2 6 3 6 4 6 2 6 2 6 3 6 3 6 3 6 0 6 3 6 4 6 2 6 2 6 3 6 4 6 4 6 3 6 4 6 4 6 3 6 7 6 6 6 5 6 4 6 4 6 5 6 4 6 7 6 5 6 5 6 3 6 3 6 3 6 5 6 4 6 4 6 5 6 6 6 6 6 7M0 4l6-6 6-7 6-5 6-6 6-3 6-3 6-4 6-5M300 -199l6-1 6-3 6-3 6-5 6-2 6-1 6-1 6 1 6 1 6 0M408 -211l6-1 6-2 6 0 6-1 6 0 6 0 6 0 6-1 6-1 6 0 6-1 6 0 6-1 6 1 6 0 6 0M576 -221l6 1 6 0 6 1 6 1 6 1 6 1M696 -196l6 1 6 0 6 4 6 0 6 2 6-1 6 2 6 1 6-1 6-1 6 2 6-1 6 2 6 0 6 2 6 1 6-2M990 -153l6 2 6 4 6 4M1020 -141l6 5 6 6M1224 -25l6 5 6 3 6 3 6 6 6 5 6 3M0 4l6-4 6-5 6-4 6-5 6-2 6-4 6-4 6-6 6-6 6-4 6-7 6-6M438 -252l6-3 6-2M492 -254l6 2 6 3M576 -225l6 3 6 0 6 2 6 1 6 0 6 1M738 -233l6-2 6 0 6 4 6 5 6 6 6 3M858 -210l6-3 6-3 6 0 6 3 6-1 6 1 6-2 6 3 6 3 6 2 6 5 6 3 6 5 6 4 6 2 6 3 6 5 6 4 6 4 6 3 6 2 6 5 6 8 6 5 6 3 6 1 6 2 6 2 6 5 6 1M1086 -116l6 4 6 2 6 3 6 3 6 3 6 4 6 3 6 3 6 2 6 4 6 3 6 3 6 5 6 4 6 3 6 4 6 5 6 5 6 5 6 5 6 6 6 4 6 4 6 7 6 5 6 3 6 4 6 3 6 7M0 4l6-6 6-6 6-6 6-7 6-5 6-6 6-6 6-4 6-4 6-7 6-3M378 -253l6-2 6-2 6 0 6-2 6 2 6 0M438 -253l6 2 6 1 6 2 6 4 6 3 6 3 6 2 6 0 6 0 6 2 6 6M576 -219l6 1 6 1 6 1 6 1 6 0 6 0M1236 -10l6 1 6 2 6 4 6 3M0 4l6-7 6-5 6-7 6-6 6-6 6-5 6-6 6-7 6-7 6-6 6-7 6-6 6-7 6-7 6-8 6-6 6-6 6-5 6-6 6-6 6-3M234 -196l6-1 6-4M378 -256l6 1 6 0 6-3 6-2 6-1 6 1M462 -258l6 2 6 0M558 -251l6 0 6 3M600 -239l6 5 6 1M708 -209l6 1 6 1 6-1 6-1M750 -206l6 4 6-1M996 -105l6 2 6 0 6 5 6 3 6 2 6 2M1224 -24l6 0 6 3 6 4 6 6 6 7 6 4M0 4l6-4 6-7 6-7 6-3 6-3 6-5 6-4 6-1 6-5 6-5 6-4 6-4 6-5 6-4 6-5 6-5 6-4 6-5 6-5M228 -194l6-7 6-4 6-3M258 -215l6-5 6 0M414 -228l6 4 6-1 6 0 6-1 6 0 6 1 6-3 6 5 6-1 6 1 6-1 6 0 6-3 6 0 6 1M576 -230l6 0 6-1 6 5 6 2 6 0 6 3M696 -203l6 3 6 3 6 2 6 4 6 3 6 2 6-1 6 2 6 2 6 0 6 1 6 1 6 3 6 4 6 2 6 3 6 1 6 3 6 3 6 2 6 3 6 2 6 3 6 4 6 2 6 2 6 1 6 2 6 3 6 1M888 -132l6 0 6 0 6 3 6 1 6 3 6 3 6 3 6 4 6 4 6 1 6 3 6 3 6 3 6 2 6 1 6 0 6 1 6 3 6 3 6 2 6-2 6 2 6 1 6 2 6 3 6 3 6 2 6 1 6 4 6 4 6 3 6 3 6 2 6 3 6 1 6 3 6 3 6 3 6 2 6 3 6 3 6 1 6 2 6 3 6 2 6 2 6 3 6 1 6 2M1218 -15l6 2 6 1 6 0 6 1 6 5 6 4 6 2M0 4l6-7 6-6 6-5 6-7 6-6 6-6 6-6 6-8 6-9 6-7 6-7 6-6 6-6 6-7 6-5 6-6 6-6 6-5 6-5 6-4 6-7 6-6 6-4M234 -193l6-5 6-2M378 -268l6-3 6-5 6-2 6-5 6-1 6-1 6 2M444 -280l6 0 6 0 6 4 6 0 6 2 6 3M558 -259l6 2 6 2 6 6M600 -247l6-2 6 0 6 3M888 -191l6-3 6 3 6 4 6 1 6 1 6-4M954 -170l6 3 6 7 6 5M1020 -139l6 0 6 3 6 4M1188 -49l6 2 6 1 6 4 6 3 6 4 6 6 6 4 6 5 6 5 6 4 6 4 6 7M0 4l6-5 6-3 6-4 6-6 6-2 6-4 6-5 6-4 6-4 6-4 6-4 6-6 6-4 6-6 6-6 6-5M252 -168l6-1 6-4 6-1 6-2M300 -191l6-3 6-2 6-3 6-4 6-2 6-2 6-3 6-1 6 0 6-3M414 -236l6 0 6-2M438 -238l6-1 6-1 6-1 6-2 6 1 6-2 6 3 6 1 6 2 6 3 6-1M576 -224l6-5 6 1 6 2 6 2 6 3 6-2M684 -195l6 2 6 1 6 2 6 1 6 1 6 1 6 2 6 2 6 0 6 1 6 0 6 1 6 1 6 1 6 1 6-1 6 3 6 5 6 0 6 1 6 1 6 1 6 3 6 1 6 5M1020 -143l6 0 6 2 6 1 6 3 6 0 6 3 6 1M1086 -119l6 2 6 2 6 6 6 3 6 3 6 1 6 3 6 3 6 3 6 7 6 4 6 5 6 3 6 8M1188 -53l6 3 6 5 6 6M1218 -31l6 2 6 5 6 3 6 5 6 7 6 4 6 5"/>
</g>
<polyline fill="none" stroke="#ff0" stroke-width="5.6" points="864.9,1084.6 874.4,1075.6 883.8,1066.5 893.2,1057.8 902.7,1049.4 912.1,1041.7 921.6,1034.4 931,1027.5 940.4,1020.9 949.9,1014.6 959.3,1008.9 968.7,1003.5 978.2,998.5 987.6,993.8 997,989.5 1006.5,985.6 1015.9,982.2 1025.3,979.3 1034.8,977 1044.2,975.2 1053.6,973.9 1063.1,972.9 1072.5,972.2 1081.9,971.8 1091.4,971.7 1100.8,971.7 1110.3,972 1119.7,972.5 1129.1,973.4 1138.6,974.6 1148,976.1 1157.4,977.7 1166.9,979.5 1176.3,981.5 1185.7,983.6 1195.2,985.9 1204.6,988.4 1214,990.9 1223.5,993.4 1232.9,996.1 1242.3,998.9 1251.8,1001.9 1261.2,1004.8 1270.6,1007.7 1280.1,1010.5 1289.5,1013.3 1299,1016.3 1308.4,1019.3 1317.8,1022.6 1327.3,1026.1 1336.7,1029.9 1346.1,1033.8 1355.6,1037.9 1365,1042.2 1374.4,1046.5 1383.9,1050.9 1393.3,1055.3 1402.7,1059.9 1412.2,1064.5 1421.6,1069.2 1431,1073.9 1440.5,1078.7 1449.9,1083.5 1459.3,1088.3"/>
<polyline fill="none" stroke="#00f" stroke-width="6.6" stroke-miterlimit="5" points="846.7,1099 848.2,1099.1 849.7,1097.6 851.2,1095.2 852.7,1093.4 854.2,1091.5 855.7,1092 857.2,1093.2 858.7,1091.7 860.2,1090.9 861.7,1087.3 863.2,1082.7 864.7,1077.8 866.2,1073.6 867.7,1074.1 869.2,1074.9 870.7,1073.4 872.2,1071 873.7,1066.4 875.2,1063.3 876.7,1063 878.2,1064.7 879.7,1064.3 881.2,1062.5 882.7,1059.7 884.2,1056.5 885.7,1051.3 887.2,1051.6 888.7,1052.2 890.2,1052.3 891.7,1050.7 893.2,1049.9 894.7,1047.4 896.2,1045.2 897.7,1044.6 899.2,1041.6 900.7,1041.5 902.2,1041.9 903.7,1040.4 905.2,1040 906.7,1039.7 908.2,1039.2 909.7,1036 911.2,1034.4 912.7,1033.5 914.2,1029.2 915.7,1029.2 917.2,1027.4 918.7,1025.2 920.2,1025.8 921.7,1023.9 923.2,1020.5 924.7,1019.8 926.2,1020.6 927.7,1020.2 929.2,1021 930.7,1020.7 932.2,1021.3 933.7,1022.3 935.2,1018.6 936.7,1015.9 938.2,1012.4 939.7,1011.1 941.2,1008.5 942.7,1007.3 944.2,1006.2 945.7,1005.8 947.2,1004.8 948.7,1001.3 950.2,999.6 951.7,999.4 953.2,996.5 954.7,996.9 956.2,997 957.7,998 959.2,997.5 960.7,996.3 962.2,995.8 963.7,995.6 965.2,997 966.7,995.5 968.2,995 969.7,994.4 971.2,992.9 972.7,991.5 974.2,989.3 975.7,989.5 977.2,989.2 978.7,990.5 980.2,990.3 981.7,989.6 983.2,989.9 984.7,989 986.2,989.9 987.7,989.2 989.2,989.3 990.7,987.6 992.2,988.4 993.7,986.8 995.2,985.8 996.7,987 998.2,986.7 999.7,986.6 1001.2,987.6 1002.7,984.3 1004.2,982.7 1005.7,982.2 1007.2,982 1008.7,982.3 1010.2,982.9 1011.7,984.4 1013.2,985.2 1014.7,984.6 1016.2,985.7 1017.7,986.4 1019.2,986 1020.7,987.4 1022.2,987.2 1023.7,989.1 1025.2,989.2 1026.7,988.2 1028.2,986.8 1029.7,986.3 1031.2,983.9 1032.7,984.8 1034.2,987.1 1035.7,986.1 1037.2,989.1 1038.7,988.2 1040.2,990.8 1041.7,990.6 1043.2,992.3 1044.7,992.6 1046.2,991.6 1047.7,994.2 1049.2,995.6 1050.7,994.2 1052.2,993.1 1053.7,992.5 1055.2,991.2 1056.7,992.3 1058.2,990.7 1059.7,991.2 1061.2,991 1062.7,991.3 1064.2,991.1 1065.7,993.6 1067.2,992.9 1068.7,993 1070.2,991.7 1071.7,990.1 1073.2,989.5 1074.7,988.6 1076.2,988.4 1077.7,987.6 1079.2,987.1 1080.7,985.5 1082.2,985.2 1083.7,986.9 1085.2,984.9 1086.7,983.4 1088.2,983.8 1089.7,984.4 1091.2,981.5 1092.7,981.3 1094.2,981.2 1095.7,981.1 1097.2,984 1098.7,984.9 1100.2,985.7 1101.7,984.8 1103.2,985.5 1104.7,984.6 1106.2,985.3 1107.7,985.4 1109.2,986 1110.7,989.1 1112.2,988.6 1113.7,988.8 1115.2,988.4 1116.7,987.7 1118.2,987.3 1119.7,988 1121.2,987.2 1122.7,987 1124.2,986.9 1125.7,987.7 1127.2,987.3 1128.7,986.7 1130.2,985.5 1131.7,984.3 1133.2,985.8 1134.7,986.1 1136.2,985.5 1137.7,986.5 1139.2,987.3 1140.7,988 1142.2,988.7 1143.7,988 1145.2,990 1146.7,988.3 1148.2,989.8 1149.7,990 1151.2,990.6 1152.7,991.8 1154.2,991.9 1155.7,989.8 1157.2,988.8 1158.7,990.9 1160.2,990 1161.7,991.1 1163.2,992.5 1164.7,991 1166.2,990.5 1167.7,992.8 1169.2,993.6 1170.7,994 1172.2,994.8 1173.7,994.8 1175.2,994.7 1176.7,996.3 1178.2,996.6 1179.7,996.5 1181.2,998.9 1182.7,999.2 1184.2,999.8 1185.7,998.9 1187.2,999.1 1188.7,999 1190.2,999.2 1191.7,1000.4 1193.2,999.7 1194.7,1000.4 1196.2,1000.5 1197.7,1001.9 1199.2,999.1 1200.7,1000.2 1202.2,999.5 1203.7,999.3 1205.2,997.8 1206.7,998.4 1208.2,999.8 1209.7,999.6 1211.2,999.7 1212.7,999.5 1214.2,1000.9 1215.7,1000.3 1217.2,998.4 1218.7,999.4 1220.2,998.8 1221.7,997.6 1223.2,999.9 1224.7,1002.5 1226.2,1002.3 1227.7,1001.1 1229.2,1001 1230.7,1002.8 1232.2,1002.4 1233.7,1002.2 1235.2,1002.1 1236.7,1002.7 1238.2,1004.4 1239.7,1005.3 1241.2,1006 1242.7,1005.8 1244.2,1007.8 1245.7,1008 1247.2,1010 1248.7,1009 1250.2,1010.1 1251.7,1011 1253.2,1010.6 1254.7,1013.7 1256.2,1014.8 1257.7,1013.9 1259.2,1014.6 1260.7,1013.9 1262.2,1010.7 1263.7,1012 1265.2,1013.6 1266.7,1015.1 1268.2,1015.5 1269.7,1017.3 1271.2,1018.9 1272.7,1021.5 1274.2,1022.5 1275.7,1023.4 1277.2,1025.9 1278.7,1025.7 1280.2,1026.7 1281.7,1026.5 1283.2,1030.4 1284.7,1031.9 1286.2,1033.2 1287.7,1034.3 1289.2,1034 1290.7,1033.5 1292.2,1032.7 1293.7,1032.2 1295.2,1032 1296.7,1033 1298.2,1032.8 1299.7,1032.4 1301.2,1032 1302.7,1032.1 1304.2,1034.4 1305.7,1034.3 1307.2,1034.5 1308.7,1034.7 1310.2,1034.5 1311.7,1035.9 1313.2,1037.6 1314.7,1037.3 1316.2,1037.8 1317.7,1038.4 1319.2,1039.3 1320.7,1038.4 1322.2,1039.8 1323.7,1039.5 1325.2,1040.8 1326.7,1039.5 1328.2,1040.3 1329.7,1041.9 1331.2,1041.8 1332.7,1042.4 1334.2,1044.2 1335.7,1045.4 1337.2,1045.8 1338.7,1048.1 1340.2,1050.9 1341.7,1049.9 1343.2,1050.1 1344.7,1049.8 1346.2,1051.3 1347.7,1050.8 1349.2,1051.2 1350.7,1053.9 1352.2,1053.1 1353.7,1055.1 1355.2,1056.5 1356.7,1056.2 1358.2,1056.8 1359.7,1058.7 1361.2,1057.7 1362.7,1056.8 1364.2,1055.8 1365.7,1056.6 1367.2,1058.1 1368.7,1058.9 1370.2,1058.1 1371.7,1058.5 1373.2,1059.6 1374.7,1061.3 1376.2,1062 1377.7,1063 1379.2,1063.7 1380.7,1063.7 1382.2,1064.3 1383.7,1065.1 1385.2,1065.4 1386.7,1066.3 1388.2,1068.5 1389.7,1068.5 1391.2,1068.5 1392.7,1067.5 1394.2,1069.5 1395.7,1068.6 1397.2,1069.3 1398.7,1071.8 1400.2,1072.7 1401.7,1072.6 1403.2,1071.4 1404.7,1072.6 1406.2,1073 1407.7,1074.6 1409.2,1077.2 1410.7,1076.8 1412.2,1076.4 1413.7,1076.6 1415.2,1078.2 1416.7,1079.3 1418.2,1079.3 1419.7,1081.4 1421.2,1081.8 1422.7,1084.9 1424.2,1086.7 1425.7,1088.1 1427.2,1088.1 1428.7,1088.3 1430.2,1087.4 1431.7,1086.5 1433.2,1086 1434.7,1085.4 1436.2,1085.7 1437.7,1088.4 1439.2,1088.8 1440.7,1089.9 1442.2,1091.4 1443.7,1089.4 1445.2,1089.7 1446.7,1090.8 1448.2,1091.5 1449.7,1091.1 1451.2,1092.5 1452.7,1092.9 1454.2,1092.3 1455.7,1092.9 1457.2,1095.2 1458.7,1095.8 1460.2,1093.3 1461.7,1095.1 1463.2,1094.6 1464.7,1095.5 1466.2,1094.8 1467.7,1095 1469.2,1094.8 1470.7,1097.9 1472.2,1097.2 1473.7,1098 1475.2,1097.9"/>
</g>
<path d="M846.7 928.65v-17.5M846.7 1267.35v17.5M909.6 928.65v-9.5M909.6 1267.35v9.5M972.5 928.65v-17.5M972.5 1267.35v17.5M1035.4 928.65v-9.5M1035.4 1267.35v9.5M1098.3 928.65v-17.5M1098.3 1267.35v17.5M1161.2 928.65v-9.5M1161.2 1267.35v9.5M1224.1 928.65v-17.5M1224.1 1267.35v17.5M1287 928.65v-9.5M1287 1267.35v9.5M1349.9 928.65v-17.5M1349.9 1267.35v17.5M1412.8 928.65v-9.5M1412.8 1267.35v9.5M1475.7 928.65v-17.5M1475.7 1267.35v17.5M846.7 1235.25h-9.5M1475.7 1235.25h9.5M846.7 1189.5h-18M1475.7 1189.5h18M846.7 1143.75h-9.5M1475.7 1143.75h9.5M846.7 1098h-18M1475.7 1098h18M846.7 1052.25h-9.5M1475.7 1052.25h9.5M846.7 1006.5h-18M1475.7 1006.5h18M846.7 960.75h-9.5M1475.7 960.75h9.5" stroke="#000" stroke-width="2" fill="none"/>
<rect x="846.7" y="928.65" width="629" height="338.7" fill="none" stroke="#000" stroke-width="5.2"/>
<path d="M843.2 928.65H1479.2M843.2 1267.35H1479.2" stroke="#000" stroke-width="5.2" fill="none"/>
<text class="a" x="825.03" y="1324.5">0.0</text>
<text class="a" x="950.83" y="1324.5">0.2</text>
<text class="a" x="1076.63" y="1324.5">0.4</text>
<text class="a" x="1202.43" y="1324.5">0.6</text>
<text class="a" x="1328.23" y="1324.5">0.8</text>
<path d="M1461.73 1324.5L1461.73 1306.02L1456.97 1309.41L1456.97 1306.87L1461.95 1303.45L1464.43 1303.45L1464.43 1324.5Z"/><text class="a" x="1471.05" y="1324.5">.0</text>
<text class="t2" x="1455.8" y="1248" text-anchor="end">Poisson + 40% hydrological forcing (velocity<tspan dy="-9.9" font-size="18.5">2</tspan><tspan dy="9.9">)</tspan></text>
<text class="l" x="866.2" y="1248.45">f)</text>
</g>
<text class="a" x="459.8" y="22.2" text-anchor="middle">nCDF time-strain</text>
<text class="a" x="459.8" y="1372.2" text-anchor="middle">nCDF time-strain</text>
<text class="a" x="1161.2" y="22.2" text-anchor="middle">nCDF time-velocity</text>
<text class="a" x="1161.2" y="1372.2" text-anchor="middle">nCDF time-velocity</text>
</svg></body></html>
